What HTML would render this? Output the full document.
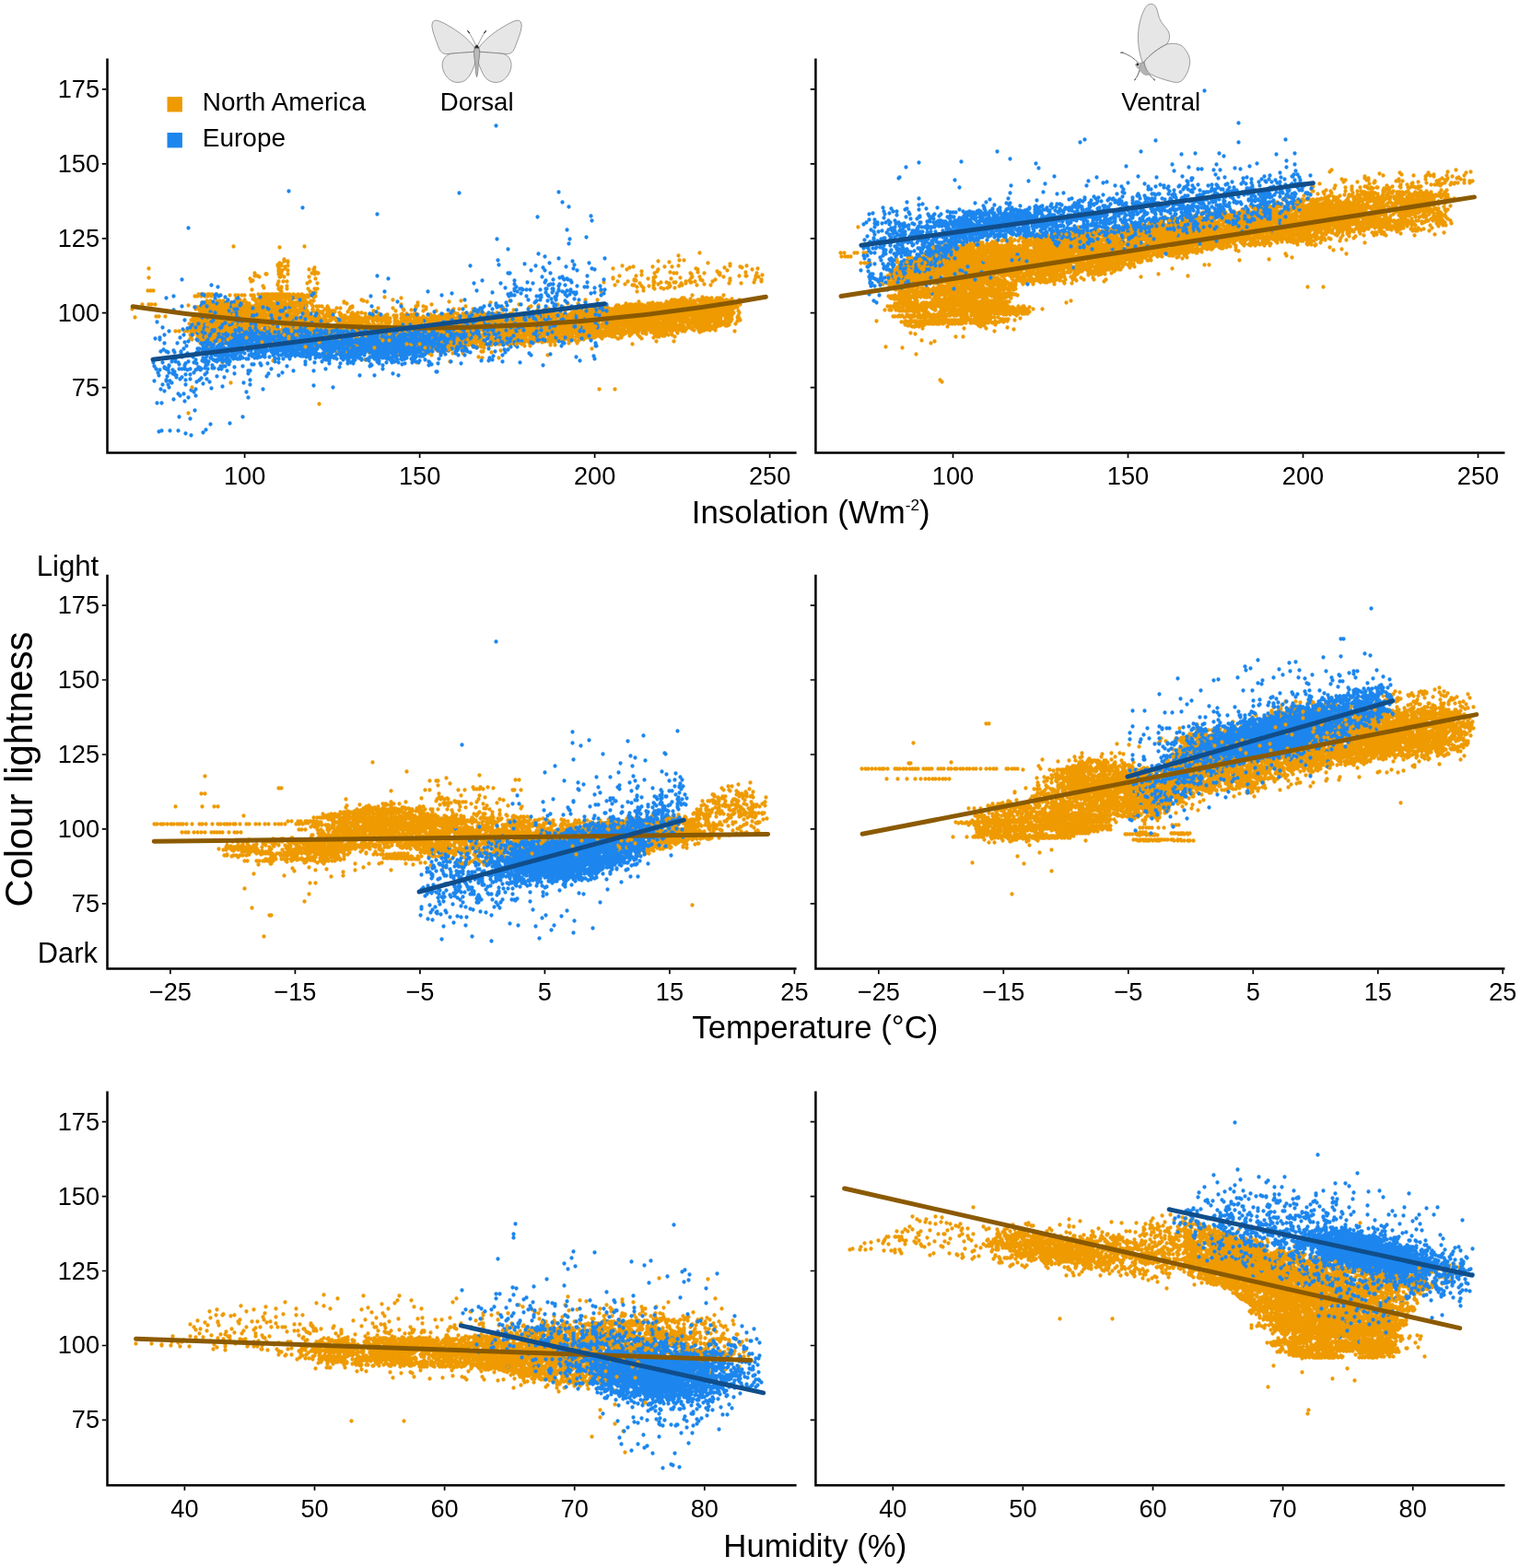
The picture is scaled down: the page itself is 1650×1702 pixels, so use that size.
<!DOCTYPE html>
<html lang="en"><head><meta charset="utf-8"><title>Colour lightness figure</title>
<style>html,body{margin:0;padding:0;background:#fff}svg{display:block}text{font-family:"Liberation Sans",Arial,Helvetica,sans-serif;fill:#000}</style></head>
<body>
<svg width="1650" height="1702" viewBox="0 0 1650 1702">
<rect width="1650" height="1702" fill="#fff"/>
<g fill="none" stroke-width="4.3" stroke-linecap="round" transform="translate(0.5 0.5)"><path d="M143 335h0m3 9h0m8-14h0m6-15h0m1-24h0m0 10h0m0 29h0m2-15h0m1 15h0m2-15h0m2 15h0m1 13h0m3 0h0m7 0h0m11 16h0m4 0h0m6 0h0m3 0h0m1-28h0m0 117h0m1-97h0m1 5h0m0 7h0m0 4h0m1-20h0m0 11h0m0 3h0m0 5h0m0 1h0m1-14h0m0 2h0m0 2h0m0 11h0m1-26h0m0 3h0m0 15h0m0 3h0m1-14h0m0 11h0m0 1h0m1-40h0m0 12h0m0 8h0m0 4h0m0 4h0m0 6h0m0 2h0m0 1h0m0 2h0m1-25h0m0 11h0m0 5h0m0 2h0m0 1h0m0 1h0m1-22h0m0 17h0m0 3h0m0 2h0m0 1h0m1-35h0m0 12h0m0 8h0m0 5h0m0 6h0m0 3h0m0 1h0m0 3h0m0 3h0m0 2h0m1-45h0m0 15h0m0 9h0m0 7h0m0 2h0m1-19h0m0 3h0m0 16h0m0 6h0m0 9h0m0 2h0m1-36h0m0 3h0m0 2h0m0 8h0m0 1h0m0 1h0m0 6h0m0 2h0m0 1h0m0 6h0m0 9h0m1-53h0m0 2h0m0 12h0m0 4h0m0 12h0m0 4h0m0 2h0m0 4h0m0 24h0m1-55h0m0 7h0m0 6h0m0 3h0m0 7h0m0 2h0m0 1h0m0 3h0m0 4h0m0 2h0m0 4h0m0 1h0m0 5h0m1-44h0m0 7h0m0 4h0m0 7h0m0 6h0m0 5h0m0 10h0m1-49h0m0 15h0m0 10h0m0 2h0m0 2h0m0 5h0m0 1h0m0 5h0m0 4h0m0 2h0m1-44h0m0 7h0m0 5h0m0 1h0m0 1h0m0 1h0m0 2h0m0 4h0m0 1h0m0 5h0m0 7h0m0 4h0m0 5h0m0 2h0m0 5h0m1-41h0m0 2h0m0 1h0m0 3h0m0 7h0m0 9h0m0 1h0m0 3h0m0 4h0m0 7h0m0 10h0m1-51h0m0 6h0m0 5h0m0 4h0m0 7h0m0 5h0m0 2h0m0 1h0m0 2h0m0 6h0m0 5h0m1-50h0m0 2h0m0 7h0m0 8h0m0 2h0m0 6h0m0 1h0m0 5h0m0 2h0m0 7h0m0 1h0m0 3h0m0 1h0m0 2h0m0 2h0m1-38h0m0 1h0m0 1h0m0 1h0m0 1h0m0 1h0m0 3h0m0 1h0m0 2h0m0 1h0m0 1h0m0 7h0m0 4h0m0 3h0m0 1h0m0 4h0m0 6h0m0 9h0m1-58h0m0 11h0m0 3h0m0 1h0m0 1h0m0 2h0m0 2h0m0 2h0m0 10h0m0 1h0m0 11h0m0 1h0m0 5h0m1-43h0m0 2h0m0 6h0m0 7h0m0 1h0m0 1h0m0 3h0m0 2h0m0 2h0m0 7h0m0 5h0m0 8h0m1-49h0m0 8h0m0 1h0m0 1h0m0 3h0m0 1h0m0 4h0m0 3h0m0 3h0m0 2h0m0 9h0m0 2h0m0 1h0m0 2h0m0 3h0m0 1h0m0 1h0m0 1h0m1-48h0m0 11h0m0 2h0m0 1h0m0 3h0m0 1h0m0 1h0m0 1h0m0 1h0m0 3h0m0 1h0m0 1h0m0 1h0m0 2h0m0 11h0m0 1h0m0 1h0m1-32h0m0 1h0m0 8h0m0 1h0m0 1h0m0 6h0m0 6h0m0 2h0m0 3h0m0 1h0m0 1h0m0 1h0m0 3h0m0 1h0m0 1h0m0 4h0m1-38h0m0 1h0m0 1h0m0 3h0m0 2h0m0 7h0m0 3h0m0 2h0m0 3h0m0 1h0m0 2h0m0 2h0m0 5h0m0 2h0m0 3h0m0 2h0m0 3h0m1-43h0m0 4h0m0 3h0m0 1h0m0 1h0m0 9h0m0 1h0m0 2h0m0 4h0m0 3h0m0 4h0m0 1h0m1-33h0m0 9h0m0 7h0m0 3h0m0 1h0m0 5h0m0 5h0m0 1h0m0 5h0m0 1h0m0 3h0m1-51h0m0 7h0m0 4h0m0 1h0m0 2h0m0 2h0m0 2h0m0 4h0m0 1h0m0 2h0m0 1h0m0 2h0m0 1h0m0 4h0m0 4h0m0 1h0m0 2h0m0 2h0m0 1h0m0 2h0m0 1h0m0 2h0m0 1h0m1-38h0m0 1h0m0 1h0m0 4h0m0 1h0m0 7h0m0 5h0m0 2h0m0 3h0m0 1h0m0 1h0m0 1h0m0 2h0m0 1h0m0 2h0m0 4h0m0 1h0m0 1h0m1-38h0m0 2h0m0 7h0m0 1h0m0 2h0m0 3h0m0 6h0m0 2h0m0 9h0m0 3h0m0 2h0m1-41h0m0 2h0m0 2h0m0 2h0m0 3h0m0 10h0m0 5h0m0 1h0m0 2h0m0 6h0m0 5h0m0 6h0m1-40h0m0 3h0m0 3h0m0 8h0m0 3h0m0 3h0m0 1h0m0 6h0m0 6h0m0 7h0m0 2h0m1-42h0m0 6h0m0 3h0m0 1h0m0 4h0m0 5h0m0 5h0m0 2h0m0 1h0m0 2h0m0 2h0m0 4h0m0 1h0m0 5h0m1-42h0m0 1h0m0 1h0m0 1h0m0 1h0m0 1h0m0 4h0m0 2h0m0 2h0m0 3h0m0 8h0m0 2h0m0 7h0m0 2h0m0 1h0m0 1h0m0 4h0m0 23h0m1-67h0m0 4h0m0 2h0m0 1h0m0 3h0m0 2h0m0 2h0m0 4h0m0 4h0m0 3h0m0 3h0m0 2h0m0 4h0m0 5h0m0 3h0m0 4h0m0 1h0m1-45h0m0 2h0m0 3h0m0 1h0m0 1h0m0 1h0m0 9h0m0 1h0m0 1h0m0 1h0m0 1h0m0 7h0m0 3h0m0 1h0m0 3h0m0 1h0m0 2h0m1-37h0m0 1h0m0 2h0m0 2h0m0 1h0m0 2h0m0 3h0m0 9h0m0 1h0m0 1h0m0 6h0m0 7h0m0 2h0m0 4h0m0 1h0m1-41h0m0 1h0m0 1h0m0 2h0m0 5h0m0 5h0m0 2h0m0 1h0m0 3h0m0 17h0m0 1h0m0 3h0m1-42h0m0 1h0m0 1h0m0 2h0m0 1h0m0 2h0m0 3h0m0 3h0m0 2h0m0 4h0m0 5h0m0 1h0m0 2h0m0 1h0m0 1h0m0 4h0m0 2h0m0 6h0m1-41h0m0 1h0m0 1h0m0 1h0m0 1h0m0 1h0m0 3h0m0 2h0m0 3h0m0 2h0m0 3h0m0 1h0m0 1h0m0 4h0m0 1h0m0 1h0m0 8h0m0 4h0m0 1h0m0 3h0m1-41h0m0 2h0m0 1h0m0 1h0m0 1h0m0 4h0m0 3h0m0 12h0m0 4h0m0 2h0m0 8h0m0 1h0m1-49h0m0 9h0m0 1h0m0 1h0m0 1h0m0 1h0m0 2h0m0 1h0m0 5h0m0 4h0m0 3h0m0 7h0m0 8h0m1-35h0m0 3h0m0 3h0m0 1h0m0 2h0m0 1h0m0 2h0m0 4h0m0 2h0m0 1h0m0 1h0m0 1h0m0 2h0m0 7h0m0 9h0m0 2h0m0 1h0m0 45h0m1-87h0m0 1h0m0 2h0m0 1h0m0 2h0m0 6h0m0 17h0m0 2h0m0 4h0m0 1h0m0 2h0m0 3h0m0 4h0m0 2h0m1-45h0m0 1h0m0 1h0m0 1h0m0 2h0m0 7h0m0 5h0m0 2h0m0 10h0m0 2h0m0 1h0m0 3h0m0 9h0m1-107h0m0 64h0m0 2h0m0 1h0m0 14h0m0 1h0m0 4h0m0 1h0m0 5h0m0 5h0m0 1h0m0 2h0m0 2h0m0 9h0m1-49h0m0 1h0m0 1h0m0 3h0m0 1h0m0 1h0m0 2h0m0 1h0m0 4h0m0 7h0m0 6h0m0 1h0m0 3h0m0 1h0m0 2h0m0 2h0m0 7h0m1-52h0m0 12h0m0 1h0m0 3h0m0 9h0m0 3h0m0 8h0m0 2h0m0 5h0m0 1h0m0 5h0m0 1h0m0 2h0m0 1h0m1-50h0m0 5h0m0 3h0m0 3h0m0 1h0m0 1h0m0 2h0m0 2h0m0 3h0m0 1h0m0 5h0m0 1h0m0 6h0m0 4h0m0 3h0m0 4h0m0 1h0m0 1h0m0 3h0m0 5h0m1-50h0m0 1h0m0 1h0m0 4h0m0 2h0m0 4h0m0 1h0m0 3h0m0 2h0m0 10h0m0 11h0m0 3h0m1-49h0m0 9h0m0 4h0m0 2h0m0 7h0m0 4h0m0 4h0m0 1h0m0 2h0m0 1h0m0 1h0m0 3h0m0 7h0m0 1h0m0 9h0m1-44h0m0 3h0m0 2h0m0 1h0m0 4h0m0 4h0m0 2h0m0 1h0m0 1h0m0 2h0m0 3h0m0 3h0m0 9h0m0 1h0m1-42h0m0 3h0m0 2h0m0 3h0m0 2h0m0 10h0m0 2h0m0 1h0m0 2h0m0 1h0m0 3h0m0 1h0m0 1h0m0 2h0m0 1h0m0 3h0m0 1h0m0 1h0m0 9h0m1-43h0m0 4h0m0 1h0m0 1h0m0 5h0m0 1h0m0 1h0m0 2h0m0 1h0m0 4h0m0 1h0m0 2h0m0 5h0m0 4h0m0 3h0m1-45h0m0 10h0m0 4h0m0 1h0m0 1h0m0 2h0m0 6h0m0 3h0m0 4h0m0 6h0m0 10h0m0 2h0m0 3h0m0 1h0m1-45h0m0 3h0m0 2h0m0 1h0m0 1h0m0 3h0m0 1h0m0 1h0m0 3h0m0 2h0m0 1h0m0 10h0m0 1h0m0 1h0m0 5h0m0 1h0m1-37h0m0 8h0m0 1h0m0 16h0m0 2h0m0 3h0m0 1h0m0 6h0m0 1h0m1-45h0m0 5h0m0 8h0m0 1h0m0 1h0m0 1h0m0 6h0m0 3h0m0 5h0m0 2h0m0 1h0m0 3h0m0 2h0m0 2h0m0 1h0m0 6h0m1-35h0m0 1h0m0 8h0m0 4h0m0 1h0m0 7h0m0 1h0m0 2h0m0 1h0m0 1h0m0 1h0m0 1h0m0 1h0m0 9h0m0 1h0m0 2h0m1-45h0m0 2h0m0 4h0m0 4h0m0 11h0m0 2h0m0 1h0m0 1h0m0 2h0m0 3h0m0 2h0m0 11h0m0 2h0m1-43h0m0 2h0m0 5h0m0 4h0m0 1h0m0 5h0m0 6h0m0 6h0m0 3h0m0 1h0m0 2h0m0 6h0m1-38h0m0 2h0m0 1h0m0 2h0m0 2h0m0 3h0m0 3h0m0 3h0m0 1h0m0 4h0m0 1h0m0 1h0m0 5h0m0 2h0m0 2h0m0 5h0m0 1h0m0 8h0m1-50h0m0 2h0m0 2h0m0 2h0m0 4h0m0 1h0m0 12h0m0 1h0m0 1h0m0 2h0m0 2h0m0 1h0m0 12h0m0 3h0m1-72h0m0 30h0m0 3h0m0 2h0m0 3h0m0 1h0m0 6h0m0 1h0m0 1h0m0 1h0m0 2h0m0 1h0m0 6h0m0 11h0m1-65h0m0 15h0m0 12h0m0 1h0m0 1h0m0 3h0m0 3h0m0 1h0m0 3h0m0 3h0m0 2h0m0 6h0m0 2h0m0 3h0m0 3h0m0 1h0m0 5h0m0 1h0m0 6h0m1-62h0m0 19h0m0 5h0m0 2h0m0 11h0m0 1h0m0 2h0m0 2h0m0 2h0m0 1h0m0 1h0m0 1h0m1-57h0m0 20h0m0 10h0m0 1h0m0 11h0m0 2h0m0 2h0m0 2h0m0 2h0m0 3h0m0 1h0m0 1h0m0 1h0m0 4h0m1-43h0m0 1h0m0 10h0m0 1h0m0 2h0m0 1h0m0 1h0m0 2h0m0 6h0m0 7h0m0 7h0m0 3h0m0 6h0m1-72h0m0 3h0m0 25h0m0 11h0m0 1h0m0 2h0m0 3h0m0 1h0m0 9h0m0 2h0m0 1h0m0 2h0m0 1h0m0 9h0m0 1h0m1-41h0m0 5h0m0 2h0m0 6h0m0 7h0m0 4h0m0 5h0m0 2h0m0 3h0m0 2h0m1-33h0m0 4h0m0 2h0m0 7h0m0 1h0m0 4h0m0 6h0m0 5h0m0 4h0m0 2h0m0 5h0m0 4h0m0 1h0m1-75h0m0 26h0m0 12h0m0 1h0m0 3h0m0 3h0m0 3h0m0 1h0m0 4h0m0 2h0m0 1h0m0 1h0m0 1h0m0 2h0m0 1h0m0 5h0m0 6h0m0 1h0m0 2h0m0 8h0m1-63h0m0 5h0m0 6h0m0 1h0m0 4h0m0 1h0m0 2h0m0 2h0m0 1h0m0 1h0m0 4h0m0 4h0m0 3h0m0 4h0m0 1h0m0 5h0m0 5h0m0 4h0m0 3h0m1-75h0m0 29h0m0 2h0m0 2h0m0 4h0m0 1h0m0 12h0m0 7h0m0 10h0m0 1h0m0 4h0m0 3h0m1-50h0m0 4h0m0 2h0m0 7h0m0 5h0m0 1h0m0 2h0m0 2h0m0 1h0m0 5h0m0 5h0m0 2h0m0 9h0m0 2h0m1-46h0m0 5h0m0 8h0m0 6h0m0 1h0m0 2h0m0 3h0m0 2h0m0 7h0m0 1h0m0 1h0m0 3h0m0 9h0m1-55h0m0 5h0m0 3h0m0 8h0m0 1h0m0 4h0m0 8h0m0 3h0m0 8h0m0 1h0m0 3h0m0 8h0m0 1h0m0 1h0m1-63h0m0 13h0m0 3h0m0 1h0m0 6h0m0 4h0m0 4h0m0 1h0m0 4h0m0 2h0m0 1h0m0 3h0m0 6h0m0 8h0m0 6h0m0 3h0m1-63h0m0 8h0m0 1h0m0 3h0m0 2h0m0 4h0m0 1h0m0 3h0m0 1h0m0 1h0m0 1h0m0 1h0m0 13h0m0 1h0m0 1h0m0 8h0m0 13h0m1-55h0m0 12h0m0 1h0m0 2h0m0 4h0m0 1h0m0 2h0m0 2h0m0 3h0m0 1h0m0 2h0m0 1h0m0 2h0m0 4h0m0 4h0m0 7h0m1-70h0m0 22h0m0 4h0m0 1h0m0 2h0m0 4h0m0 4h0m0 8h0m0 3h0m0 1h0m0 4h0m0 1h0m0 2h0m0 13h0m0 3h0m0 2h0m0 1h0m0 1h0m0 1h0m1-52h0m0 4h0m0 3h0m0 7h0m0 5h0m0 1h0m0 5h0m0 6h0m0 5h0m0 3h0m0 6h0m0 1h0m0 5h0m0 2h0m1-56h0m0 2h0m0 8h0m0 2h0m0 1h0m0 1h0m0 1h0m0 18h0m0 1h0m0 16h0m0 3h0m0 1h0m0 1h0m1-55h0m0 5h0m0 2h0m0 4h0m0 2h0m0 9h0m0 1h0m0 5h0m0 4h0m0 1h0m0 4h0m0 3h0m0 3h0m0 8h0m0 4h0m0 1h0m1-52h0m0 3h0m0 4h0m0 4h0m0 1h0m0 3h0m0 23h0m0 4h0m1-38h0m0 4h0m0 2h0m0 2h0m0 2h0m0 4h0m0 2h0m0 1h0m0 1h0m0 16h0m0 2h0m0 8h0m1-52h0m0 5h0m0 2h0m0 2h0m0 2h0m0 2h0m0 2h0m0 11h0m0 5h0m0 6h0m0 3h0m0 1h0m0 4h0m0 8h0m0 1h0m1-54h0m0 3h0m0 1h0m0 1h0m0 9h0m0 2h0m0 7h0m0 3h0m0 1h0m0 1h0m0 1h0m0 3h0m0 1h0m0 2h0m0 11h0m0 6h0m0 1h0m0 1h0m0 2h0m1-44h0m0 8h0m0 2h0m0 4h0m0 1h0m0 2h0m0 1h0m0 3h0m0 3h0m0 1h0m0 7h0m0 1h0m0 2h0m0 7h0m0 18h0m1-72h0m0 10h0m0 2h0m0 12h0m0 8h0m0 5h0m0 5h0m0 2h0m0 1h0m0 12h0m1-57h0m0 5h0m0 10h0m0 1h0m0 3h0m0 6h0m0 1h0m0 8h0m0 1h0m0 1h0m0 5h0m0 2h0m0 11h0m0 1h0m1-52h0m0 1h0m0 1h0m0 7h0m0 2h0m0 7h0m0 3h0m0 4h0m0 6h0m0 1h0m0 2h0m1-37h0m0 7h0m0 10h0m0 3h0m0 2h0m0 3h0m0 1h0m0 2h0m0 2h0m0 13h0m0 4h0m0 3h0m0 4h0m1-86h0m0 1h0m0 20h0m0 1h0m0 14h0m0 1h0m0 1h0m0 8h0m0 1h0m0 2h0m0 2h0m0 10h0m0 2h0m0 8h0m0 2h0m0 1h0m0 10h0m0 1h0m0 1h0m0 1h0m1-83h0m0 2h0m0 1h0m0 3h0m0 16h0m0 6h0m0 10h0m0 1h0m0 1h0m0 1h0m0 1h0m0 6h0m0 3h0m0 2h0m0 1h0m0 6h0m0 6h0m0 1h0m0 21h0m1-111h0m0 17h0m0 3h0m0 5h0m0 7h0m0 14h0m0 5h0m0 3h0m0 4h0m0 1h0m0 2h0m0 1h0m0 5h0m0 6h0m0 2h0m0 1h0m0 4h0m0 10h0m0 1h0m0 6h0m0 1h0m0 7h0m0 1h0m1-51h0m0 6h0m0 4h0m0 1h0m0 28h0m0 2h0m0 11h0m1-89h0m0 2h0m0 5h0m0 3h0m0 2h0m0 13h0m0 1h0m0 4h0m0 3h0m0 7h0m0 1h0m0 4h0m0 4h0m0 5h0m0 5h0m0 1h0m0 1h0m0 14h0m0 7h0m0 8h0m1-83h0m0 29h0m0 5h0m0 2h0m0 1h0m0 4h0m0 1h0m0 4h0m0 3h0m0 6h0m0 2h0m0 1h0m0 2h0m0 4h0m0 1h0m0 15h0m1-68h0m0 23h0m0 8h0m0 4h0m0 9h0m0 2h0m0 8h0m0 2h0m0 1h0m0 1h0m0 8h0m0 7h0m1-97h0m0 1h0m0 1h0m0 17h0m0 19h0m0 3h0m0 7h0m0 4h0m0 1h0m0 2h0m0 3h0m0 3h0m0 2h0m0 1h0m0 1h0m0 2h0m0 4h0m0 1h0m0 15h0m0 3h0m0 7h0m0 2h0m1-91h0m0 2h0m0 32h0m0 1h0m0 3h0m0 3h0m0 3h0m0 8h0m0 2h0m0 5h0m0 3h0m0 1h0m0 1h0m0 10h0m0 3h0m0 7h0m0 1h0m1-52h0m0 10h0m0 8h0m0 2h0m0 1h0m0 9h0m0 1h0m0 1h0m0 7h0m0 1h0m0 6h0m0 1h0m0 1h0m0 8h0m1-73h0m0 5h0m0 3h0m0 6h0m0 11h0m0 2h0m0 2h0m0 10h0m0 1h0m0 1h0m0 1h0m0 4h0m0 1h0m0 1h0m0 2h0m0 2h0m0 1h0m0 1h0m0 2h0m0 16h0m1-94h0m0 1h0m0 4h0m0 5h0m0 4h0m0 26h0m0 10h0m0 1h0m0 1h0m0 4h0m0 7h0m0 2h0m0 4h0m0 1h0m0 3h0m0 2h0m0 2h0m0 5h0m0 5h0m0 2h0m0 6h0m1-58h0m0 1h0m0 1h0m0 3h0m0 5h0m0 1h0m0 1h0m0 2h0m0 1h0m0 4h0m0 2h0m0 1h0m0 6h0m0 7h0m0 1h0m0 1h0m0 14h0m0 3h0m0 1h0m0 1h0m1-57h0m0 7h0m0 2h0m0 1h0m0 2h0m0 2h0m0 6h0m0 2h0m0 1h0m0 2h0m0 1h0m0 2h0m0 1h0m0 2h0m0 2h0m0 2h0m0 1h0m0 2h0m0 4h0m0 1h0m1-42h0m0 2h0m0 6h0m0 2h0m0 1h0m0 2h0m0 3h0m0 2h0m0 6h0m0 2h0m0 1h0m0 5h0m0 5h0m0 11h0m0 7h0m1-48h0m0 2h0m0 3h0m0 2h0m0 1h0m0 9h0m0 4h0m0 2h0m0 2h0m0 2h0m0 1h0m0 1h0m0 1h0m0 3h0m0 7h0m0 7h0m1-54h0m0 2h0m0 7h0m0 6h0m0 1h0m0 1h0m0 5h0m0 9h0m0 2h0m0 2h0m0 1h0m0 2h0m0 2h0m0 2h0m0 1h0m0 2h0m0 2h0m0 1h0m1-49h0m0 3h0m0 1h0m0 6h0m0 1h0m0 2h0m0 1h0m0 1h0m0 1h0m0 8h0m0 2h0m0 1h0m0 1h0m0 5h0m0 2h0m0 1h0m0 2h0m0 4h0m0 3h0m0 4h0m0 1h0m0 4h0m1-45h0m0 1h0m0 4h0m0 1h0m0 3h0m0 1h0m0 2h0m0 2h0m0 3h0m0 5h0m0 1h0m0 3h0m0 1h0m0 7h0m0 10h0m0 1h0m0 2h0m1-55h0m0 9h0m0 3h0m0 1h0m0 1h0m0 1h0m0 4h0m0 6h0m0 4h0m0 3h0m0 2h0m0 5h0m0 1h0m0 6h0m0 11h0m1-54h0m0 6h0m0 11h0m0 1h0m0 5h0m0 4h0m0 8h0m0 12h0m0 8h0m0 6h0m1-64h0m0 2h0m0 6h0m0 1h0m0 7h0m0 1h0m0 2h0m0 5h0m0 1h0m0 1h0m0 3h0m0 2h0m0 4h0m0 5h0m0 2h0m0 2h0m0 8h0m0 2h0m1-55h0m0 1h0m0 9h0m0 2h0m0 9h0m0 6h0m0 2h0m1-26h0m0 6h0m0 8h0m0 2h0m0 12h0m0 4h0m0 8h0m0 10h0m0 5h0m0 1h0m1-56h0m0 4h0m0 2h0m0 1h0m0 2h0m0 1h0m0 5h0m0 8h0m0 2h0m0 3h0m0 1h0m0 2h0m0 4h0m0 4h0m0 1h0m0 1h0m0 5h0m0 1h0m0 6h0m0 3h0m1-58h0m0 8h0m0 2h0m0 2h0m0 5h0m0 9h0m0 5h0m0 4h0m0 5h0m0 2h0m0 1h0m0 3h0m0 2h0m0 4h0m0 5h0m1-58h0m0 3h0m0 8h0m0 4h0m0 2h0m0 2h0m0 10h0m0 6h0m0 2h0m0 1h0m0 3h0m0 8h0m1-46h0m0 4h0m0 5h0m0 5h0m0 8h0m0 2h0m0 2h0m0 6h0m0 6h0m0 1h0m0 5h0m0 5h0m0 1h0m1-52h0m0 2h0m0 6h0m0 4h0m0 12h0m0 2h0m0 5h0m0 7h0m0 2h0m0 9h0m0 2h0m0 4h0m0 9h0m1-117h0m0 61h0m0 1h0m0 1h0m0 4h0m0 4h0m0 1h0m0 3h0m0 4h0m0 1h0m0 4h0m0 1h0m0 4h0m0 1h0m0 1h0m0 4h0m0 5h0m0 1h0m0 2h0m0 1h0m0 3h0m0 6h0m1-58h0m0 4h0m0 2h0m0 11h0m0 6h0m0 6h0m0 2h0m0 2h0m0 5h0m0 3h0m0 3h0m0 9h0m0 1h0m1-46h0m0 12h0m0 2h0m0 7h0m0 1h0m0 2h0m0 6h0m0 5h0m0 1h0m0 4h0m0 7h0m0 1h0m1-71h0m0 13h0m0 8h0m0 9h0m0 6h0m0 6h0m0 6h0m0 6h0m0 2h0m0 1h0m0 4h0m0 3h0m0 1h0m0 14h0m1-73h0m0 9h0m0 20h0m0 8h0m0 6h0m0 1h0m0 3h0m0 1h0m0 2h0m0 1h0m0 2h0m0 1h0m0 4h0m0 1h0m0 2h0m0 1h0m1-83h0m0 8h0m0 44h0m0 1h0m0 5h0m0 1h0m0 3h0m0 2h0m0 3h0m0 5h0m0 7h0m0 2h0m1-68h0m0 11h0m0 4h0m0 8h0m0 23h0m0 1h0m0 1h0m0 2h0m0 1h0m0 5h0m0 4h0m0 6h0m0 2h0m0 6h0m1-59h0m0 6h0m0 18h0m0 4h0m0 1h0m0 7h0m0 1h0m0 7h0m0 5h0m0 3h0m1-76h0m0 21h0m0 13h0m0 13h0m0 1h0m0 10h0m0 3h0m0 8h0m0 1h0m0 1h0m0 9h0m1-44h0m0 4h0m0 1h0m0 9h0m0 2h0m0 3h0m0 2h0m0 1h0m0 4h0m0 4h0m0 1h0m0 3h0m0 1h0m0 6h0m0 1h0m0 3h0m1-85h0m0 30h0m0 4h0m0 19h0m0 3h0m0 1h0m0 1h0m0 9h0m0 2h0m0 4h0m1-75h0m0 4h0m0 3h0m0 16h0m0 30h0m0 5h0m0 1h0m0 7h0m0 6h0m0 8h0m0 1h0m0 3h0m0 3h0m1-82h0m0 7h0m0 15h0m0 4h0m0 18h0m0 6h0m0 1h0m0 3h0m0 1h0m0 1h0m0 6h0m0 1h0m0 4h0m0 3h0m0 8h0m0 6h0m1-47h0m0 12h0m0 5h0m0 1h0m0 3h0m0 6h0m0 1h0m0 1h0m0 3h0m0 4h0m0 9h0m0 2h0m1-83h0m0 11h0m0 6h0m0 23h0m0 2h0m0 2h0m0 6h0m0 7h0m0 8h0m0 1h0m0 3h0m0 3h0m0 2h0m0 6h0m1-80h0m0 41h0m0 4h0m0 8h0m0 4h0m0 4h0m0 1h0m0 1h0m0 2h0m0 2h0m0 10h0m0 3h0m1-44h0m0 7h0m0 4h0m0 6h0m0 6h0m0 8h0m0 1h0m0 2h0m0 2h0m0 6h0m0 64h0m1-93h0m0 4h0m0 1h0m0 3h0m0 1h0m0 6h0m0 4h0m0 2h0m0 1h0m0 1h0m0 2h0m0 2h0m0 1h0m1-35h0m0 8h0m0 3h0m0 7h0m0 6h0m0 1h0m0 3h0m1-34h0m0 7h0m0 7h0m0 4h0m0 3h0m0 8h0m0 3h0m0 1h0m0 5h0m0 6h0m1-38h0m0 15h0m0 2h0m0 7h0m0 1h0m0 2h0m0 5h0m0 1h0m1-29h0m0 6h0m0 1h0m0 2h0m0 4h0m0 5h0m0 4h0m0 9h0m0 1h0m0 2h0m1-41h0m0 8h0m0 3h0m0 4h0m0 1h0m0 3h0m0 3h0m0 7h0m0 2h0m1-21h0m0 5h0m0 11h0m0 3h0m0 8h0m0 2h0m1-33h0m0 7h0m0 1h0m0 2h0m0 1h0m0 2h0m0 1h0m0 7h0m0 1h0m0 1h0m0 1h0m0 6h0m0 1h0m0 2h0m0 8h0m1-50h0m0 3h0m0 3h0m0 4h0m0 6h0m0 1h0m0 1h0m0 1h0m0 4h0m0 1h0m0 15h0m0 4h0m1-41h0m0 23h0m0 6h0m0 2h0m0 1h0m0 6h0m0 4h0m1-36h0m0 3h0m0 5h0m0 10h0m0 3h0m0 1h0m0 14h0m0 4h0m1-43h0m0 5h0m0 4h0m0 12h0m0 3h0m0 1h0m0 3h0m0 2h0m0 1h0m0 4h0m0 1h0m0 3h0m1-34h0m0 3h0m0 1h0m0 1h0m0 6h0m0 1h0m0 2h0m0 3h0m0 9h0m1-31h0m0 2h0m0 19h0m0 4h0m0 7h0m0 3h0m0 6h0m1-34h0m0 1h0m0 9h0m0 6h0m0 2h0m0 1h0m0 1h0m0 14h0m1-41h0m0 1h0m0 6h0m0 10h0m0 2h0m0 1h0m0 1h0m0 3h0m0 2h0m0 1h0m1-26h0m0 19h0m0 2h0m0 5h0m0 1h0m0 1h0m0 7h0m0 1h0m0 2h0m1-31h0m0 16h0m0 1h0m0 2h0m0 5h0m0 5h0m1-40h0m0 14h0m0 6h0m0 3h0m0 1h0m0 2h0m0 16h0m1-24h0m0 4h0m0 2h0m0 3h0m0 5h0m0 2h0m0 7h0m0 7h0m1-31h0m0 7h0m0 7h0m0 5h0m0 2h0m0 4h0m1-37h0m0 14h0m0 20h0m1-39h0m0 6h0m0 1h0m0 6h0m0 5h0m0 2h0m0 23h0m1-36h0m0 3h0m0 2h0m0 9h0m0 2h0m0 2h0m0 2h0m0 1h0m0 3h0m0 2h0m0 2h0m0 4h0m1-25h0m0 2h0m0 4h0m0 10h0m1-19h0m0 7h0m0 10h0m0 4h0m0 4h0m0 2h0m0 4h0m1-49h0m0 1h0m0 21h0m0 13h0m0 1h0m0 3h0m0 6h0m0 1h0m1-31h0m0 6h0m0 3h0m0 8h0m1-15h0m0 1h0m0 7h0m0 7h0m0 2h0m0 4h0m0 1h0m0 3h0m0 2h0m0 1h0m0 4h0m0 2h0m0 4h0m1-53h0m0 15h0m0 6h0m0 1h0m0 6h0m0 2h0m0 1h0m0 12h0m0 5h0m1-39h0m0 13h0m0 1h0m0 1h0m0 16h0m0 3h0m0 1h0m1-28h0m0 1h0m0 4h0m0 2h0m0 19h0m1-36h0m0 9h0m0 1h0m0 2h0m0 1h0m0 1h0m0 2h0m0 1h0m0 8h0m0 12h0m0 1h0m0 3h0m1-43h0m0 13h0m0 7h0m0 3h0m0 1h0m0 3h0m0 11h0m0 2h0m0 2h0m0 1h0m0 1h0m1-37h0m0 1h0m0 3h0m0 5h0m0 1h0m0 7h0m0 4h0m0 3h0m0 7h0m0 1h0m0 6h0m0 1h0m0 4h0m1-51h0m0 1h0m0 6h0m0 5h0m0 2h0m0 8h0m0 8h0m0 4h0m0 1h0m0 6h0m0 4h0m1-36h0m0 7h0m0 1h0m0 8h0m0 13h0m0 1h0m0 1h0m0 2h0m0 2h0m1-30h0m0 6h0m0 3h0m0 6h0m0 11h0m1-31h0m0 2h0m0 1h0m0 3h0m0 3h0m0 4h0m0 1h0m0 2h0m1-13h0m0 2h0m0 6h0m0 10h0m0 1h0m0 5h0m0 2h0m0 3h0m0 5h0m1-38h0m0 4h0m0 2h0m0 5h0m0 7h0m0 2h0m0 6h0m0 6h0m0 2h0m0 5h0m1-40h0m0 5h0m0 1h0m0 1h0m0 21h0m0 9h0m0 4h0m1-37h0m0 5h0m0 3h0m0 2h0m0 1h0m0 6h0m1-15h0m0 5h0m0 3h0m0 2h0m0 1h0m0 2h0m0 1h0m0 10h0m1-19h0m0 11h0m0 10h0m1-46h0m0 14h0m0 6h0m0 2h0m0 4h0m0 3h0m0 10h0m0 5h0m0 21h0m1-43h0m0 11h0m0 7h0m0 11h0m1-50h0m0 23h0m0 7h0m0 2h0m0 3h0m0 1h0m0 3h0m0 1h0m0 3h0m0 2h0m0 3h0m1-29h0m0 1h0m0 1h0m0 10h0m0 7h0m0 3h0m0 4h0m0 2h0m0 1h0m0 1h0m0 3h0m1-38h0m0 4h0m0 1h0m0 1h0m0 1h0m0 6h0m0 13h0m0 4h0m0 3h0m0 5h0m0 12h0m1-44h0m0 3h0m0 6h0m0 1h0m0 3h0m0 10h0m0 3h0m0 5h0m1-50h0m0 17h0m0 4h0m0 1h0m0 1h0m0 10h0m0 1h0m0 8h0m0 11h0m1-34h0m0 2h0m0 8h0m0 9h0m0 2h0m1-22h0m0 6h0m0 4h0m0 1h0m0 2h0m0 9h0m0 9h0m0 6h0m1-41h0m0 3h0m0 8h0m0 1h0m0 1h0m0 1h0m0 5h0m0 10h0m0 1h0m1-16h0m0 1h0m0 1h0m0 5h0m0 3h0m0 7h0m0 2h0m0 5h0m1-34h0m0 9h0m0 13h0m0 8h0m1-35h0m0 1h0m0 7h0m0 9h0m0 2h0m0 1h0m0 3h0m0 5h0m1-31h0m0 5h0m0 5h0m0 6h0m0 1h0m0 1h0m0 2h0m0 4h0m0 6h0m1-24h0m0 11h0m0 2h0m0 4h0m0 1h0m0 1h0m0 5h0m0 1h0m0 1h0m0 3h0m0 4h0m0 3h0m1-26h0m0 1h0m0 4h0m0 1h0m0 1h0m0 1h0m0 8h0m0 4h0m0 4h0m1-30h0m0 8h0m0 2h0m0 11h0m0 1h0m0 5h0m0 2h0m0 2h0m1-35h0m0 1h0m0 4h0m0 5h0m0 5h0m0 4h0m0 1h0m0 1h0m0 2h0m0 5h0m0 3h0m0 1h0m0 5h0m1-46h0m0 12h0m0 8h0m0 4h0m0 1h0m0 4h0m0 9h0m1-32h0m0 1h0m0 5h0m0 1h0m0 5h0m0 3h0m0 3h0m0 11h0m0 1h0m0 6h0m0 4h0m0 9h0m1-45h0m0 2h0m0 7h0m0 2h0m0 1h0m0 4h0m0 8h0m0 2h0m0 2h0m1-18h0m0 1h0m0 1h0m0 3h0m0 4h0m0 2h0m0 1h0m0 1h0m0 2h0m0 2h0m0 5h0m1-31h0m0 2h0m0 6h0m0 8h0m0 7h0m0 1h0m0 11h0m1-34h0m0 17h0m0 3h0m0 4h0m0 1h0m0 6h0m1-33h0m0 9h0m0 6h0m0 3h0m0 4h0m0 1h0m0 1h0m0 3h0m0 4h0m0 1h0m0 3h0m1-57h0m0 21h0m0 3h0m0 1h0m0 7h0m0 11h0m0 5h0m0 1h0m0 1h0m0 4h0m1-29h0m0 2h0m0 5h0m0 1h0m0 1h0m0 6h0m0 7h0m0 4h0m0 7h0m1-33h0m0 1h0m0 2h0m0 5h0m0 3h0m0 3h0m0 12h0m1-32h0m0 3h0m0 2h0m0 2h0m0 2h0m0 3h0m0 4h0m0 2h0m0 8h0m0 3h0m1-20h0m0 4h0m0 5h0m0 1h0m0 4h0m0 1h0m0 1h0m0 2h0m0 1h0m0 1h0m0 3h0m1-27h0m0 4h0m0 5h0m0 7h0m0 3h0m0 2h0m0 1h0m0 3h0m1-26h0m0 4h0m0 5h0m0 2h0m0 1h0m0 3h0m0 5h0m0 4h0m0 1h0m0 4h0m0 3h0m1-22h0m0 1h0m0 5h0m0 2h0m0 1h0m0 2h0m0 3h0m0 1h0m0 2h0m0 8h0m1-25h0m0 2h0m0 2h0m0 1h0m0 2h0m0 2h0m0 3h0m0 1h0m0 2h0m0 5h0m1-50h0m0 9h0m0 25h0m0 4h0m0 6h0m0 4h0m0 2h0m0 5h0m0 5h0m1-43h0m0 12h0m0 2h0m0 2h0m0 1h0m0 4h0m0 5h0m0 3h0m0 2h0m0 1h0m0 1h0m0 17h0m1-47h0m0 3h0m0 3h0m0 4h0m0 6h0m0 1h0m0 1h0m0 7h0m0 5h0m0 1h0m1-39h0m0 13h0m0 1h0m0 3h0m0 1h0m0 8h0m0 2h0m0 3h0m0 6h0m0 6h0m0 2h0m1-40h0m0 2h0m0 4h0m0 4h0m0 3h0m0 8h0m0 1h0m0 11h0m0 1h0m1-28h0m0 4h0m0 5h0m0 3h0m0 10h0m0 4h0m0 2h0m0 9h0m1-35h0m0 11h0m0 2h0m0 7h0m0 1h0m0 3h0m0 1h0m1-10h0m0 2h0m0 2h0m0 7h0m0 3h0m0 1h0m0 1h0m1-31h0m0 5h0m0 4h0m0 2h0m0 2h0m0 3h0m0 11h0m0 3h0m1-57h0m0 7h0m0 11h0m0 4h0m0 4h0m0 4h0m0 8h0m0 2h0m0 6h0m0 11h0m0 1h0m1-41h0m0 17h0m0 2h0m0 2h0m0 1h0m1-27h0m0 12h0m0 2h0m0 1h0m0 9h0m0 1h0m0 4h0m0 2h0m0 8h0m0 1h0m0 1h0m0 1h0m0 1h0m0 1h0m0 2h0m0 7h0m1-52h0m0 7h0m0 3h0m0 8h0m0 14h0m0 4h0m0 3h0m0 1h0m0 3h0m0 2h0m1-39h0m0 1h0m0 1h0m0 4h0m0 5h0m0 3h0m0 3h0m0 5h0m0 1h0m0 1h0m0 1h0m0 3h0m0 2h0m0 3h0m0 2h0m0 3h0m0 3h0m1-36h0m0 6h0m0 5h0m0 3h0m0 15h0m0 2h0m0 1h0m1-39h0m0 7h0m0 7h0m0 4h0m0 3h0m0 2h0m0 2h0m0 1h0m0 1h0m0 3h0m0 6h0m0 1h0m0 2h0m0 4h0m1-37h0m0 4h0m0 4h0m0 6h0m0 2h0m0 6h0m0 4h0m0 3h0m0 3h0m1-36h0m0 1h0m0 2h0m0 1h0m0 7h0m0 12h0m0 4h0m0 5h0m0 5h0m0 2h0m1-39h0m0 2h0m0 1h0m0 5h0m0 1h0m0 8h0m0 2h0m0 5h0m0 2h0m0 6h0m0 2h0m0 4h0m1-36h0m0 6h0m0 7h0m0 2h0m0 4h0m0 2h0m0 1h0m0 6h0m0 4h0m0 1h0m0 3h0m1-44h0m0 5h0m0 8h0m0 2h0m0 4h0m0 21h0m0 1h0m0 1h0m1-29h0m0 6h0m0 6h0m0 1h0m0 4h0m0 6h0m0 1h0m0 3h0m0 3h0m1-37h0m0 9h0m0 1h0m0 1h0m0 2h0m0 2h0m0 2h0m0 6h0m0 16h0m0 4h0m1-43h0m0 2h0m0 3h0m0 10h0m0 5h0m0 13h0m0 3h0m0 1h0m0 1h0m0 3h0m1-44h0m0 2h0m0 1h0m0 3h0m0 2h0m0 3h0m0 7h0m0 2h0m0 12h0m0 2h0m0 3h0m1-44h0m0 2h0m0 15h0m0 9h0m0 13h0m0 8h0m0 1h0m1-37h0m0 1h0m0 3h0m0 2h0m0 9h0m0 7h0m0 4h0m0 11h0m0 13h0m1-65h0m0 3h0m0 10h0m0 3h0m0 1h0m0 3h0m0 1h0m0 13h0m0 17h0m0 2h0m1-30h0m0 6h0m0 4h0m0 4h0m0 11h0m0 2h0m0 1h0m1-33h0m0 3h0m0 4h0m0 9h0m0 11h0m0 5h0m1-33h0m0 6h0m0 5h0m0 3h0m0 2h0m0 4h0m0 7h0m0 2h0m0 3h0m0 1h0m0 1h0m1-32h0m0 2h0m0 3h0m0 3h0m0 3h0m0 10h0m0 2h0m0 5h0m1-29h0m0 16h0m0 1h0m0 5h0m0 2h0m0 4h0m0 1h0m0 2h0m0 1h0m1-46h0m0 5h0m0 6h0m0 2h0m0 1h0m0 10h0m0 4h0m0 6h0m0 4h0m0 4h0m0 5h0m1-26h0m0 6h0m0 12h0m0 9h0m1-34h0m0 6h0m0 3h0m0 2h0m0 11h0m0 2h0m0 1h0m0 1h0m0 3h0m0 1h0m0 3h0m0 3h0m1-49h0m0 2h0m0 10h0m0 9h0m0 4h0m0 7h0m0 2h0m0 1h0m0 1h0m0 1h0m0 1h0m0 1h0m0 8h0m1-32h0m0 9h0m0 4h0m0 4h0m0 1h0m0 10h0m0 1h0m1-24h0m0 3h0m0 4h0m0 11h0m0 1h0m0 5h0m1-36h0m0 5h0m0 5h0m0 3h0m0 5h0m0 2h0m0 5h0m0 5h0m0 5h0m0 2h0m0 1h0m0 4h0m1-31h0m0 6h0m0 5h0m0 2h0m0 1h0m0 2h0m0 1h0m0 1h0m0 5h0m0 3h0m0 2h0m1-39h0m0 1h0m0 2h0m0 4h0m0 7h0m0 1h0m0 2h0m0 1h0m0 1h0m0 5h0m0 1h0m0 3h0m0 6h0m0 5h0m1-50h0m0 15h0m0 3h0m0 1h0m0 7h0m0 4h0m0 3h0m0 1h0m0 1h0m0 1h0m0 1h0m0 10h0m0 8h0m1-42h0m0 1h0m0 6h0m0 3h0m0 6h0m0 4h0m0 4h0m0 1h0m0 3h0m0 6h0m1-30h0m0 12h0m0 1h0m0 1h0m0 4h0m0 1h0m0 9h0m1-33h0m0 4h0m0 1h0m0 2h0m0 10h0m0 1h0m0 3h0m0 1h0m0 1h0m0 4h0m0 4h0m1-30h0m0 6h0m0 4h0m0 2h0m0 3h0m0 5h0m0 5h0m0 6h0m0 3h0m0 1h0m1-41h0m0 13h0m0 7h0m0 1h0m0 7h0m0 3h0m0 2h0m0 1h0m0 4h0m1-31h0m0 4h0m0 2h0m0 14h0m0 1h0m0 6h0m0 9h0m1-34h0m0 7h0m0 9h0m0 4h0m0 4h0m0 1h0m0 3h0m0 1h0m1-32h0m0 2h0m0 2h0m0 4h0m0 7h0m0 9h0m0 4h0m0 2h0m0 4h0m1-35h0m0 7h0m0 1h0m0 2h0m0 3h0m0 12h0m0 3h0m0 1h0m0 5h0m0 5h0m1-38h0m0 4h0m0 2h0m0 6h0m0 6h0m0 2h0m0 7h0m0 2h0m0 5h0m1-33h0m0 3h0m0 11h0m0 5h0m0 2h0m0 2h0m0 3h0m0 1h0m0 1h0m0 2h0m0 3h0m1-33h0m0 5h0m0 8h0m0 1h0m0 1h0m0 1h0m0 1h0m0 5h0m0 3h0m0 1h0m0 1h0m0 1h0m0 6h0m0 4h0m1-41h0m0 8h0m0 9h0m0 7h0m0 2h0m0 2h0m0 1h0m0 1h0m0 1h0m0 1h0m0 3h0m1-32h0m0 13h0m0 2h0m0 6h0m0 4h0m0 2h0m0 2h0m0 4h0m1-33h0m0 1h0m0 5h0m0 1h0m0 1h0m0 5h0m0 1h0m0 1h0m0 21h0m1-35h0m0 1h0m0 4h0m0 3h0m0 2h0m0 6h0m0 2h0m0 1h0m0 3h0m0 1h0m0 4h0m0 4h0m1-35h0m0 1h0m0 5h0m0 9h0m0 1h0m0 1h0m0 1h0m0 1h0m0 1h0m0 3h0m0 1h0m0 7h0m0 1h0m1-30h0m0 1h0m0 3h0m0 6h0m0 1h0m0 3h0m0 1h0m0 5h0m0 5h0m0 1h0m0 1h0m0 2h0m0 1h0m1-46h0m0 14h0m0 1h0m0 2h0m0 1h0m0 1h0m0 1h0m0 1h0m0 2h0m0 3h0m0 4h0m0 2h0m0 8h0m0 3h0m0 3h0m0 3h0m0 4h0m1-37h0m0 1h0m0 2h0m0 2h0m0 1h0m0 1h0m0 2h0m0 8h0m0 2h0m0 5h0m0 1h0m0 1h0m0 3h0m0 20h0m1-51h0m0 9h0m0 6h0m0 2h0m0 3h0m0 9h0m0 2h0m0 1h0m0 3h0m1-39h0m0 7h0m0 5h0m0 1h0m0 16h0m0 1h0m0 1h0m0 5h0m0 3h0m0 2h0m1-35h0m0 2h0m0 2h0m0 6h0m0 4h0m0 1h0m0 1h0m0 9h0m0 3h0m0 7h0m0 5h0m1-48h0m0 5h0m0 4h0m0 2h0m0 5h0m0 1h0m0 4h0m0 1h0m0 5h0m0 6h0m0 1h0m0 1h0m0 1h0m0 2h0m0 2h0m1-36h0m0 15h0m0 1h0m0 5h0m0 6h0m0 1h0m0 7h0m1-28h0m0 1h0m0 2h0m0 1h0m0 4h0m0 4h0m0 2h0m0 7h0m0 7h0m1-29h0m0 1h0m0 3h0m0 5h0m0 4h0m0 1h0m0 4h0m0 1h0m0 4h0m0 2h0m0 1h0m0 2h0m0 3h0m0 2h0m1-38h0m0 7h0m0 4h0m0 3h0m0 4h0m0 6h0m0 1h0m0 3h0m0 1h0m0 1h0m0 1h0m0 2h0m0 1h0m0 2h0m0 2h0m1-37h0m0 1h0m0 6h0m0 1h0m0 1h0m0 5h0m0 3h0m0 4h0m0 2h0m0 3h0m0 1h0m0 2h0m0 1h0m1-36h0m0 11h0m0 1h0m0 1h0m0 7h0m0 3h0m0 3h0m0 6h0m0 1h0m0 1h0m0 1h0m0 2h0m1-29h0m0 1h0m0 5h0m0 4h0m0 1h0m0 2h0m0 2h0m0 3h0m0 1h0m0 6h0m0 1h0m0 4h0m0 2h0m0 1h0m1-50h0m0 23h0m0 6h0m0 2h0m0 1h0m0 1h0m0 3h0m0 5h0m0 1h0m0 2h0m0 1h0m1-25h0m0 1h0m0 1h0m0 2h0m0 1h0m0 3h0m0 3h0m0 1h0m0 1h0m0 1h0m0 3h0m0 1h0m0 2h0m0 2h0m0 1h0m0 1h0m0 3h0m1-33h0m0 1h0m0 6h0m0 6h0m0 1h0m0 3h0m0 6h0m0 5h0m0 2h0m0 1h0m0 1h0m0 3h0m0 2h0m0 1h0m0 5h0m1-41h0m0 5h0m0 3h0m0 2h0m0 4h0m0 5h0m0 1h0m0 1h0m0 14h0m0 1h0m1-38h0m0 1h0m0 8h0m0 1h0m0 2h0m0 1h0m0 8h0m0 1h0m0 2h0m0 1h0m0 1h0m1-34h0m0 10h0m0 4h0m0 4h0m0 1h0m0 3h0m0 9h0m0 6h0m0 4h0m0 4h0m0 2h0m1-35h0m0 3h0m0 1h0m0 6h0m0 1h0m0 3h0m0 3h0m0 3h0m0 1h0m0 1h0m0 1h0m0 2h0m0 2h0m0 1h0m1-28h0m0 2h0m0 1h0m0 2h0m0 1h0m0 2h0m0 4h0m0 6h0m0 2h0m0 1h0m0 1h0m0 4h0m0 2h0m1-28h0m0 3h0m0 2h0m0 5h0m0 9h0m0 1h0m0 3h0m0 2h0m0 2h0m0 1h0m0 2h0m1-33h0m0 2h0m0 1h0m0 13h0m0 3h0m0 4h0m0 4h0m0 2h0m0 2h0m1-31h0m0 2h0m0 4h0m0 4h0m0 2h0m0 3h0m0 1h0m0 4h0m0 1h0m0 1h0m0 3h0m0 1h0m0 3h0m0 2h0m0 1h0m1-34h0m0 7h0m0 7h0m0 2h0m0 3h0m0 1h0m0 3h0m0 1h0m0 3h0m0 1h0m0 1h0m0 1h0m0 1h0m0 2h0m0 1h0m1-27h0m0 1h0m0 4h0m0 4h0m0 1h0m0 2h0m0 8h0m0 1h0m0 7h0m1-39h0m0 10h0m0 1h0m0 1h0m0 7h0m0 1h0m0 1h0m0 1h0m0 1h0m0 3h0m0 6h0m0 1h0m0 8h0m1-33h0m0 1h0m0 7h0m0 4h0m0 3h0m0 1h0m0 4h0m1-27h0m0 7h0m0 4h0m0 6h0m0 3h0m0 1h0m0 2h0m0 2h0m0 8h0m0 2h0m1-30h0m0 4h0m0 2h0m0 1h0m0 7h0m0 1h0m0 1h0m0 2h0m0 3h0m0 2h0m0 2h0m0 6h0m0 3h0m1-36h0m0 1h0m0 5h0m0 1h0m0 8h0m0 1h0m0 1h0m0 3h0m0 1h0m0 6h0m0 3h0m0 6h0m0 2h0m1-37h0m0 3h0m0 1h0m0 8h0m0 1h0m0 3h0m0 5h0m0 6h0m0 2h0m0 7h0m1-38h0m0 3h0m0 6h0m0 1h0m0 1h0m0 7h0m0 1h0m0 4h0m0 9h0m0 17h0m1-45h0m0 1h0m0 1h0m0 1h0m0 2h0m0 5h0m0 10h0m0 9h0m1-31h0m0 2h0m0 2h0m0 1h0m0 2h0m0 1h0m0 6h0m0 1h0m0 1h0m0 8h0m0 7h0m0 1h0m0 3h0m1-37h0m0 4h0m0 1h0m0 14h0m0 8h0m0 2h0m0 3h0m0 3h0m0 1h0m0 2h0m0 5h0m1-41h0m0 6h0m0 5h0m0 5h0m0 8h0m0 5h0m0 2h0m0 17h0m1-48h0m0 2h0m0 1h0m0 2h0m0 9h0m0 5h0m0 22h0m1-41h0m0 7h0m0 3h0m0 1h0m0 1h0m0 5h0m0 4h0m0 3h0m0 10h0m0 3h0m1-36h0m0 6h0m0 5h0m0 4h0m0 6h0m0 1h0m0 7h0m1-24h0m0 3h0m0 5h0m0 2h0m0 1h0m0 4h0m1-20h0m0 2h0m0 5h0m0 1h0m0 7h0m0 1h0m0 9h0m1-24h0m0 5h0m0 6h0m0 1h0m0 12h0m0 1h0m1-25h0m0 6h0m0 4h0m0 6h0m0 2h0m0 2h0m0 11h0m0 2h0m1-35h0m0 5h0m0 2h0m0 3h0m0 2h0m0 7h0m0 1h0m1-32h0m0 12h0m0 9h0m0 1h0m0 12h0m0 4h0m0 5h0m0 2h0m1-25h0m0 2h0m0 4h0m0 5h0m0 4h0m0 2h0m0 1h0m0 3h0m0 5h0m0 8h0m1-39h0m0 4h0m0 9h0m0 5h0m0 3h0m0 5h0m0 2h0m1-31h0m0 6h0m0 2h0m0 2h0m0 9h0m0 2h0m0 6h0m0 1h0m0 2h0m1-26h0m0 8h0m0 1h0m0 2h0m0 3h0m1-15h0m0 3h0m0 4h0m0 1h0m0 1h0m0 5h0m0 12h0m0 4h0m1-30h0m0 2h0m0 7h0m0 2h0m0 3h0m0 16h0m1-34h0m0 2h0m0 1h0m0 2h0m0 4h0m0 1h0m0 2h0m0 8h0m0 1h0m1-16h0m0 2h0m0 1h0m0 1h0m0 5h0m0 2h0m0 12h0m0 5h0m1-31h0m0 5h0m0 8h0m0 2h0m0 1h0m0 1h0m0 6h0m0 1h0m0 4h0m0 4h0m0 15h0m1-48h0m0 8h0m0 2h0m0 3h0m0 1h0m0 1h0m0 4h0m0 6h0m0 1h0m0 1h0m0 3h0m0 1h0m0 2h0m1-33h0m0 6h0m0 1h0m0 1h0m0 1h0m0 3h0m0 2h0m0 1h0m0 3h0m0 1h0m0 2h0m0 3h0m0 1h0m0 6h0m0 9h0m1-45h0m0 11h0m0 1h0m0 7h0m0 1h0m0 1h0m0 2h0m0 7h0m0 1h0m1-24h0m0 4h0m0 2h0m0 8h0m0 1h0m0 2h0m0 4h0m0 3h0m0 1h0m0 6h0m1-39h0m0 7h0m0 9h0m0 1h0m0 2h0m0 2h0m0 1h0m0 3h0m0 4h0m0 2h0m0 3h0m0 2h0m0 1h0m1-29h0m0 6h0m0 1h0m0 2h0m0 3h0m0 2h0m0 6h0m0 9h0m1-22h0m0 6h0m0 4h0m0 2h0m0 2h0m0 2h0m0 1h0m0 1h0m0 3h0m0 2h0m1-30h0m0 2h0m0 4h0m0 6h0m0 2h0m0 7h0m0 1h0m0 3h0m0 4h0m1-25h0m0 5h0m0 1h0m0 1h0m0 1h0m0 1h0m0 3h0m0 2h0m0 2h0m0 2h0m0 8h0m1-26h0m0 1h0m0 3h0m0 1h0m0 1h0m0 2h0m0 1h0m0 1h0m0 1h0m0 2h0m0 1h0m1-17h0m0 3h0m0 1h0m0 4h0m0 2h0m0 1h0m0 1h0m0 1h0m0 3h0m0 4h0m0 1h0m0 6h0m0 2h0m0 2h0m1-48h0m0 14h0m0 2h0m0 6h0m0 6h0m0 1h0m0 1h0m0 10h0m0 1h0m0 1h0m0 4h0m1-32h0m0 5h0m0 2h0m0 6h0m0 1h0m0 2h0m0 1h0m0 1h0m0 3h0m0 8h0m0 4h0m1-33h0m0 1h0m0 9h0m0 1h0m0 1h0m0 1h0m0 2h0m0 6h0m0 3h0m0 2h0m0 3h0m0 1h0m1-28h0m0 11h0m0 1h0m0 7h0m0 9h0m0 1h0m0 1h0m1-36h0m0 9h0m0 2h0m0 5h0m0 1h0m0 5h0m0 4h0m0 1h0m0 3h0m0 1h0m0 3h0m0 2h0m1-27h0m0 4h0m0 5h0m0 1h0m0 3h0m0 2h0m0 1h0m0 3h0m0 1h0m0 1h0m0 5h0m1-24h0m0 1h0m0 2h0m0 3h0m0 1h0m0 6h0m0 1h0m0 1h0m0 3h0m0 5h0m0 4h0m1-31h0m0 3h0m0 3h0m0 1h0m0 4h0m0 2h0m0 2h0m0 1h0m0 2h0m0 3h0m0 3h0m0 4h0m1-28h0m0 4h0m0 1h0m0 1h0m0 3h0m0 7h0m0 4h0m0 1h0m0 1h0m1-14h0m0 2h0m0 1h0m0 2h0m0 9h0m0 4h0m0 2h0m1-41h0m0 14h0m0 1h0m0 1h0m0 4h0m0 5h0m0 2h0m0 1h0m0 1h0m0 4h0m0 1h0m0 1h0m1-19h0m0 3h0m0 1h0m0 3h0m0 1h0m0 3h0m0 1h0m0 8h0m0 3h0m0 3h0m1-21h0m0 5h0m0 1h0m0 7h0m0 1h0m0 1h0m0 1h0m1-24h0m0 6h0m0 3h0m0 1h0m0 2h0m0 2h0m0 8h0m0 2h0m1-23h0m0 4h0m0 9h0m0 1h0m0 1h0m0 1h0m0 4h0m0 1h0m0 1h0m0 3h0m1-26h0m0 8h0m0 1h0m0 2h0m0 4h0m0 1h0m0 4h0m0 1h0m0 5h0m0 1h0m1-30h0m0 7h0m0 8h0m0 1h0m0 4h0m0 3h0m0 1h0m0 2h0m0 1h0m0 4h0m0 4h0m1-31h0m0 2h0m0 4h0m0 2h0m0 4h0m0 3h0m0 1h0m0 3h0m0 2h0m0 5h0m1-24h0m0 4h0m0 7h0m0 2h0m0 4h0m0 5h0m1-23h0m0 7h0m0 5h0m0 2h0m0 3h0m0 1h0m1-20h0m0 3h0m0 2h0m0 1h0m0 1h0m0 3h0m0 1h0m0 3h0m0 13h0m1-37h0m0 10h0m0 1h0m0 1h0m0 2h0m0 8h0m0 6h0m0 8h0m0 2h0m0 1h0m1-30h0m0 10h0m0 1h0m0 1h0m0 3h0m0 3h0m0 1h0m0 2h0m0 2h0m0 1h0m0 9h0m1-43h0m0 9h0m0 1h0m0 2h0m0 2h0m0 1h0m0 1h0m0 2h0m0 4h0m0 1h0m0 4h0m0 4h0m0 2h0m0 1h0m0 2h0m0 1h0m0 2h0m1-29h0m0 5h0m0 1h0m0 2h0m0 2h0m0 6h0m0 3h0m0 2h0m0 4h0m0 2h0m0 1h0m0 1h0m1-30h0m0 2h0m0 4h0m0 4h0m0 2h0m0 1h0m0 1h0m0 1h0m0 1h0m0 1h0m0 2h0m0 1h0m0 9h0m1-28h0m0 7h0m0 1h0m0 1h0m0 2h0m0 3h0m0 1h0m0 2h0m0 6h0m0 2h0m0 1h0m0 2h0m1-17h0m0 1h0m0 1h0m0 4h0m0 4h0m0 2h0m0 1h0m0 3h0m1-29h0m0 1h0m0 1h0m0 1h0m0 8h0m0 1h0m0 1h0m0 1h0m0 1h0m0 1h0m0 2h0m0 1h0m0 2h0m0 3h0m0 5h0m0 1h0m1-28h0m0 5h0m0 2h0m0 6h0m0 1h0m0 2h0m0 2h0m0 9h0m1-33h0m0 9h0m0 2h0m0 7h0m0 1h0m0 3h0m0 1h0m0 2h0m0 1h0m0 2h0m0 2h0m0 2h0m1-37h0m0 8h0m0 3h0m0 1h0m0 2h0m0 1h0m0 8h0m0 1h0m0 6h0m0 5h0m0 4h0m1-27h0m0 4h0m0 3h0m0 3h0m0 1h0m0 1h0m0 1h0m0 1h0m0 1h0m0 1h0m0 5h0m0 2h0m0 3h0m1-29h0m0 5h0m0 11h0m0 11h0m1-25h0m0 1h0m0 1h0m0 1h0m0 4h0m0 4h0m0 1h0m0 2h0m0 1h0m0 1h0m0 1h0m0 2h0m0 3h0m0 1h0m0 1h0m0 1h0m0 1h0m1-27h0m0 1h0m0 2h0m0 3h0m0 2h0m0 2h0m0 5h0m0 1h0m0 1h0m0 4h0m0 4h0m0 5h0m1-32h0m0 4h0m0 2h0m0 1h0m0 3h0m0 1h0m0 4h0m0 1h0m0 1h0m0 9h0m1-29h0m0 2h0m0 9h0m0 1h0m0 1h0m0 6h0m0 2h0m0 3h0m0 6h0m0 3h0m0 1h0m1-29h0m0 1h0m0 2h0m0 3h0m0 3h0m0 1h0m0 2h0m0 2h0m0 1h0m0 2h0m0 2h0m0 3h0m0 4h0m0 3h0m1-28h0m0 3h0m0 2h0m0 1h0m0 2h0m0 1h0m0 3h0m0 1h0m0 1h0m0 2h0m0 4h0m0 6h0m1-35h0m0 12h0m0 6h0m0 1h0m0 4h0m0 1h0m0 1h0m1-23h0m0 5h0m0 5h0m0 6h0m0 1h0m0 5h0m0 1h0m0 5h0m0 7h0m0 15h0m1-50h0m0 8h0m0 7h0m0 1h0m0 1h0m0 5h0m0 5h0m0 2h0m0 4h0m1-28h0m0 2h0m0 3h0m0 1h0m0 1h0m0 7h0m0 3h0m0 11h0m0 2h0m1-30h0m0 1h0m0 1h0m0 8h0m0 1h0m0 1h0m0 1h0m0 8h0m0 13h0m1-34h0m0 2h0m0 7h0m0 1h0m0 2h0m0 11h0m0 3h0m0 1h0m0 1h0m0 1h0m0 1h0m1-27h0m0 5h0m0 4h0m0 3h0m0 2h0m0 2h0m0 9h0m0 2h0m1-30h0m0 1h0m0 1h0m0 3h0m0 2h0m0 5h0m0 4h0m0 1h0m0 1h0m0 4h0m0 5h0m0 3h0m1-30h0m0 2h0m0 1h0m0 7h0m0 2h0m0 1h0m0 4h0m0 5h0m0 4h0m0 2h0m1-27h0m0 3h0m0 9h0m0 4h0m0 2h0m0 10h0m0 1h0m0 4h0m1-50h0m0 17h0m0 2h0m0 1h0m0 2h0m0 2h0m0 4h0m0 1h0m0 1h0m0 2h0m0 1h0m0 5h0m0 2h0m0 3h0m0 1h0m1-27h0m0 1h0m0 6h0m0 4h0m0 9h0m0 3h0m1-34h0m0 11h0m0 12h0m0 1h0m0 4h0m0 1h0m0 4h0m0 1h0m0 3h0m1-27h0m0 2h0m0 8h0m0 5h0m0 2h0m0 1h0m0 2h0m0 2h0m1-22h0m0 2h0m0 2h0m0 4h0m0 1h0m0 4h0m0 1h0m0 2h0m0 2h0m0 1h0m0 10h0m1-29h0m0 3h0m0 1h0m0 2h0m0 2h0m0 3h0m0 1h0m0 2h0m0 2h0m0 2h0m0 1h0m0 5h0m0 2h0m1-25h0m0 7h0m0 6h0m0 3h0m0 1h0m1-17h0m0 2h0m0 3h0m0 4h0m0 1h0m0 1h0m0 2h0m0 6h0m0 3h0m0 1h0m1-31h0m0 8h0m0 1h0m0 1h0m0 2h0m0 4h0m0 7h0m0 1h0m0 1h0m0 5h0m0 6h0m1-28h0m0 2h0m0 8h0m0 6h0m0 11h0m1-31h0m0 3h0m0 1h0m0 9h0m0 4h0m0 1h0m0 1h0m0 1h0m0 6h0m0 1h0m1-23h0m0 1h0m0 2h0m0 1h0m0 5h0m0 6h0m0 1h0m0 1h0m0 1h0m0 1h0m0 1h0m0 1h0m0 2h0m0 1h0m1-22h0m0 2h0m0 11h0m0 1h0m0 2h0m0 7h0m1-37h0m0 15h0m0 3h0m0 2h0m0 4h0m0 4h0m0 2h0m0 5h0m0 4h0m1-27h0m0 3h0m0 1h0m0 3h0m0 12h0m0 1h0m0 5h0m0 1h0m0 5h0m1-25h0m0 3h0m0 4h0m0 5h0m0 8h0m1-25h0m0 4h0m0 2h0m0 6h0m0 1h0m0 2h0m0 2h0m0 1h0m0 1h0m0 8h0m1-30h0m0 2h0m0 1h0m0 1h0m0 3h0m0 7h0m0 6h0m0 1h0m0 4h0m1-24h0m0 3h0m0 2h0m0 3h0m0 4h0m0 4h0m0 1h0m0 1h0m0 1h0m0 3h0m0 3h0m0 2h0m1-28h0m0 1h0m0 1h0m0 2h0m0 1h0m0 1h0m0 1h0m0 1h0m0 10h0m0 1h0m0 1h0m1-22h0m0 1h0m0 5h0m0 1h0m0 3h0m0 1h0m0 9h0m0 1h0m0 1h0m1-18h0m0 2h0m0 1h0m0 3h0m0 3h0m0 6h0m0 1h0m0 4h0m0 8h0m1-30h0m0 2h0m0 2h0m0 2h0m0 6h0m0 7h0m0 2h0m0 1h0m0 4h0m1-26h0m0 1h0m0 1h0m0 2h0m0 2h0m0 11h0m0 1h0m0 2h0m0 1h0m0 2h0m0 1h0m0 9h0m1-43h0m0 7h0m0 5h0m0 1h0m0 4h0m0 1h0m0 2h0m0 3h0m0 1h0m0 4h0m0 1h0m0 1h0m0 1h0m0 5h0m1-27h0m0 1h0m0 2h0m0 1h0m0 2h0m0 6h0m0 1h0m0 5h0m0 2h0m0 1h0m0 1h0m0 9h0m1-30h0m0 3h0m0 1h0m0 1h0m0 13h0m0 1h0m0 2h0m0 2h0m1-29h0m0 5h0m0 2h0m0 1h0m0 4h0m0 1h0m0 1h0m0 4h0m0 1h0m0 5h0m0 5h0m0 4h0m1-34h0m0 2h0m0 4h0m0 3h0m0 3h0m0 4h0m0 10h0m0 1h0m0 1h0m0 3h0m0 1h0m1-25h0m0 3h0m0 1h0m0 1h0m0 10h0m0 4h0m0 2h0m1-22h0m0 5h0m0 1h0m0 1h0m0 1h0m0 5h0m0 1h0m0 1h0m0 1h0m0 2h0m0 5h0m0 7h0m1-30h0m0 1h0m0 4h0m0 3h0m0 6h0m0 5h0m0 2h0m0 2h0m0 1h0m0 4h0m1-41h0m0 2h0m0 10h0m0 1h0m0 2h0m0 2h0m0 3h0m0 5h0m0 3h0m0 3h0m0 2h0m0 2h0m0 1h0m1-26h0m0 1h0m0 2h0m0 1h0m0 4h0m0 1h0m0 1h0m0 2h0m0 4h0m0 2h0m0 4h0m0 1h0m0 2h0m0 1h0m0 1h0m0 4h0m1-29h0m0 5h0m0 1h0m0 2h0m0 1h0m0 1h0m0 1h0m0 2h0m0 1h0m0 1h0m0 6h0m0 1h0m0 4h0m0 1h0m1-28h0m0 2h0m0 1h0m0 7h0m0 5h0m0 2h0m0 2h0m0 1h0m0 1h0m0 1h0m0 2h0m0 2h0m0 2h0m1-28h0m0 2h0m0 6h0m0 4h0m0 9h0m0 2h0m0 2h0m0 5h0m1-29h0m0 4h0m0 2h0m0 3h0m0 1h0m0 1h0m0 2h0m0 4h0m0 1h0m0 4h0m0 1h0m0 2h0m1-26h0m0 1h0m0 4h0m0 5h0m0 2h0m0 3h0m0 4h0m0 1h0m0 1h0m0 1h0m0 2h0m0 2h0m0 3h0m0 2h0m1-29h0m0 2h0m0 5h0m0 3h0m0 7h0m0 2h0m0 21h0m1-43h0m0 4h0m0 1h0m0 3h0m0 5h0m0 2h0m0 2h0m0 1h0m0 1h0m0 2h0m0 1h0m0 3h0m0 4h0m0 2h0m1-26h0m0 3h0m0 1h0m0 2h0m0 1h0m0 1h0m0 2h0m0 4h0m0 8h0m0 2h0m1-29h0m0 7h0m0 2h0m0 3h0m0 4h0m0 6h0m0 5h0m0 2h0m0 2h0m1-31h0m0 2h0m0 4h0m0 5h0m0 4h0m0 1h0m0 4h0m0 2h0m0 3h0m0 3h0m0 2h0m1-30h0m0 1h0m0 6h0m0 2h0m0 1h0m0 1h0m0 2h0m0 4h0m0 1h0m0 3h0m0 2h0m0 3h0m0 2h0m1-38h0m0 9h0m0 5h0m0 3h0m0 4h0m0 5h0m0 1h0m0 6h0m0 3h0m0 2h0m0 1h0m1-32h0m0 5h0m0 6h0m0 1h0m0 1h0m0 3h0m0 1h0m0 7h0m0 1h0m0 2h0m1-18h0m0 1h0m0 2h0m0 2h0m0 6h0m0 4h0m0 5h0m0 1h0m0 1h0m0 59h0m1-89h0m0 9h0m0 14h0m0 1h0m0 1h0m0 6h0m0 1h0m1-49h0m0 21h0m0 5h0m0 1h0m0 12h0m0 8h0m1-29h0m0 1h0m0 9h0m0 1h0m0 7h0m0 8h0m0 6h0m1-29h0m0 1h0m0 3h0m0 5h0m0 2h0m0 2h0m0 1h0m0 1h0m0 2h0m0 6h0m0 1h0m0 3h0m1-58h0m0 30h0m0 3h0m0 7h0m0 2h0m0 11h0m0 5h0m1-31h0m0 2h0m0 2h0m0 2h0m0 1h0m0 4h0m0 1h0m0 2h0m0 4h0m0 1h0m0 3h0m0 6h0m1-27h0m0 2h0m0 2h0m0 1h0m0 2h0m0 3h0m0 1h0m0 3h0m0 1h0m0 3h0m0 1h0m0 2h0m0 2h0m0 2h0m0 1h0m0 4h0m1-30h0m0 7h0m0 5h0m0 4h0m0 1h0m0 1h0m0 1h0m1-20h0m0 6h0m0 14h0m0 2h0m0 1h0m1-22h0m0 3h0m0 2h0m0 1h0m0 1h0m0 2h0m0 3h0m0 1h0m0 3h0m0 2h0m0 7h0m0 1h0m0 3h0m1-28h0m0 4h0m0 1h0m0 1h0m0 5h0m0 2h0m0 7h0m0 1h0m0 2h0m0 5h0m0 1h0m1-29h0m0 1h0m0 1h0m0 2h0m0 1h0m0 7h0m0 3h0m0 2h0m0 6h0m0 1h0m0 1h0m0 3h0m1-28h0m0 3h0m0 1h0m0 9h0m0 4h0m0 2h0m0 2h0m1-19h0m0 2h0m0 1h0m0 7h0m0 1h0m0 1h0m0 5h0m0 5h0m0 1h0m0 5h0m1-74h0m0 10h0m0 1h0m0 33h0m0 2h0m0 4h0m0 1h0m0 5h0m0 1h0m0 1h0m0 3h0m0 6h0m1-22h0m0 2h0m0 1h0m0 2h0m0 1h0m0 3h0m0 6h0m0 1h0m0 3h0m0 8h0m1-54h0m0 29h0m0 5h0m0 5h0m0 1h0m0 2h0m0 4h0m0 2h0m0 1h0m0 2h0m0 2h0m0 3h0m0 57h0m1-90h0m0 1h0m0 2h0m0 1h0m0 4h0m0 6h0m0 1h0m0 3h0m0 1h0m0 9h0m1-29h0m0 1h0m0 2h0m0 2h0m0 3h0m0 2h0m0 2h0m0 2h0m0 2h0m0 2h0m0 3h0m0 1h0m0 2h0m0 2h0m0 1h0m1-53h0m0 33h0m0 1h0m0 1h0m0 6h0m0 2h0m0 1h0m0 1h0m0 2h0m0 1h0m0 4h0m0 4h0m0 6h0m1-36h0m0 4h0m0 1h0m0 4h0m0 3h0m0 4h0m0 3h0m0 2h0m0 4h0m0 2h0m0 9h0m1-68h0m0 37h0m0 1h0m0 1h0m0 1h0m0 1h0m0 1h0m0 1h0m0 1h0m0 2h0m0 1h0m0 1h0m0 1h0m0 2h0m0 1h0m0 6h0m0 4h0m1-27h0m0 1h0m0 2h0m0 2h0m0 12h0m0 1h0m0 10h0m0 1h0m1-30h0m0 1h0m0 1h0m0 1h0m0 1h0m0 1h0m0 1h0m0 4h0m0 1h0m0 2h0m0 7h0m0 4h0m0 1h0m0 1h0m0 1h0m0 6h0m1-78h0m0 45h0m0 5h0m0 1h0m0 1h0m0 1h0m0 3h0m0 4h0m0 1h0m0 1h0m0 1h0m0 1h0m0 2h0m0 2h0m0 1h0m0 1h0m0 2h0m0 2h0m1-30h0m0 1h0m0 2h0m0 2h0m0 2h0m0 3h0m0 1h0m0 4h0m0 1h0m0 1h0m0 1h0m0 1h0m0 3h0m0 1h0m0 8h0m1-30h0m0 1h0m0 1h0m0 1h0m0 2h0m0 1h0m0 2h0m0 8h0m0 1h0m0 1h0m0 6h0m0 4h0m1-53h0m0 24h0m0 5h0m0 1h0m0 2h0m0 4h0m0 1h0m0 3h0m0 1h0m0 1h0m0 9h0m1-30h0m0 4h0m0 3h0m0 1h0m0 1h0m0 1h0m0 1h0m0 1h0m0 2h0m0 3h0m0 1h0m0 3h0m0 3h0m0 1h0m0 7h0m1-69h0m0 41h0m0 1h0m0 1h0m0 1h0m0 8h0m0 1h0m0 2h0m0 5h0m0 8h0m1-55h0m0 28h0m0 4h0m0 1h0m0 1h0m0 1h0m0 1h0m0 1h0m0 4h0m0 1h0m0 3h0m0 3h0m0 1h0m0 1h0m0 4h0m1-28h0m0 3h0m0 1h0m0 2h0m0 1h0m0 1h0m0 7h0m0 3h0m0 1h0m0 2h0m0 1h0m0 3h0m0 4h0m1-70h0m0 40h0m0 3h0m0 1h0m0 4h0m0 1h0m0 2h0m0 1h0m0 3h0m0 2h0m0 1h0m0 2h0m0 1h0m0 5h0m0 3h0m0 2h0m0 3h0m1-30h0m0 1h0m0 1h0m0 13h0m0 1h0m0 3h0m0 1h0m0 1h0m0 6h0m1-31h0m0 3h0m0 3h0m0 1h0m0 6h0m0 6h0m0 1h0m0 1h0m0 5h0m0 6h0m1-53h0m0 22h0m0 1h0m0 5h0m0 1h0m0 2h0m0 2h0m0 5h0m0 1h0m0 1h0m0 1h0m0 1h0m0 7h0m0 2h0m0 13h0m1-84h0m0 42h0m0 2h0m0 4h0m0 1h0m0 2h0m0 4h0m0 3h0m0 3h0m0 4h0m1-51h0m0 1h0m0 5h0m0 24h0m0 1h0m0 1h0m0 4h0m0 5h0m0 3h0m0 1h0m0 2h0m0 10h0m1-30h0m0 9h0m0 1h0m0 1h0m0 3h0m0 2h0m0 1h0m0 5h0m0 3h0m0 1h0m0 1h0m1-58h0m0 5h0m0 26h0m0 3h0m0 4h0m0 2h0m0 2h0m0 4h0m0 1h0m0 1h0m0 2h0m0 2h0m0 1h0m0 3h0m0 2h0m1-46h0m0 5h0m0 15h0m0 1h0m0 1h0m0 1h0m0 1h0m0 6h0m0 1h0m0 6h0m0 5h0m0 3h0m0 5h0m1-29h0m0 6h0m0 3h0m0 3h0m0 5h0m0 3h0m0 9h0m0 2h0m1-36h0m0 3h0m0 1h0m0 5h0m0 1h0m0 2h0m0 1h0m0 3h0m0 3h0m0 7h0m0 1h0m0 1h0m0 4h0m1-52h0m0 27h0m0 1h0m0 3h0m0 2h0m0 1h0m0 7h0m0 4h0m0 1h0m0 3h0m0 9h0m1-33h0m0 5h0m0 2h0m0 1h0m0 2h0m0 1h0m0 3h0m0 3h0m1-55h0m0 4h0m0 12h0m0 20h0m0 2h0m0 2h0m0 4h0m0 1h0m0 1h0m0 2h0m0 8h0m0 2h0m0 1h0m0 4h0m0 10h0m1-30h0m0 3h0m0 2h0m0 3h0m0 1h0m0 6h0m0 5h0m0 4h0m1-49h0m0 3h0m0 17h0m0 2h0m0 3h0m0 5h0m0 1h0m0 5h0m0 2h0m0 3h0m0 6h0m0 1h0m1-29h0m0 2h0m0 1h0m0 5h0m0 2h0m0 2h0m0 2h0m0 2h0m0 1h0m0 5h0m0 7h0m0 1h0m1-28h0m0 4h0m0 1h0m0 3h0m0 7h0m0 4h0m0 1h0m0 2h0m0 2h0m1-23h0m0 2h0m0 3h0m0 1h0m0 1h0m0 1h0m0 5h0m0 3h0m0 1h0m0 2h0m0 1h0m0 7h0m0 1h0m1-30h0m0 1h0m0 4h0m0 1h0m0 1h0m0 2h0m0 4h0m0 6h0m0 2h0m0 2h0m0 1h0m0 1h0m1-55h0m0 27h0m0 2h0m0 5h0m0 5h0m0 2h0m0 1h0m0 1h0m0 3h0m0 6h0m0 1h0m0 2h0m1-47h0m0 24h0m0 1h0m0 4h0m0 2h0m0 2h0m0 3h0m0 6h0m0 3h0m0 1h0m1-27h0m0 6h0m0 5h0m0 4h0m0 2h0m0 3h0m0 5h0m0 2h0m0 2h0m1-27h0m0 2h0m0 5h0m0 5h0m0 1h0m0 1h0m0 1h0m0 2h0m0 3h0m0 1h0m0 1h0m0 5h0m0 2h0m1-20h0m0 1h0m0 2h0m0 1h0m0 2h0m0 2h0m0 1h0m0 5h0m0 2h0m0 1h0m0 2h0m1-70h0m0 39h0m0 7h0m0 5h0m0 5h0m0 5h0m0 2h0m0 1h0m0 1h0m0 3h0m1-56h0m0 3h0m0 2h0m0 3h0m0 3h0m0 18h0m0 3h0m0 3h0m0 2h0m0 4h0m0 1h0m0 2h0m0 1h0m0 4h0m0 2h0m0 1h0m0 1h0m0 1h0m0 1h0m0 1h0m0 4h0m0 5h0m1-70h0m0 10h0m0 7h0m0 17h0m0 4h0m0 5h0m0 3h0m0 1h0m0 1h0m0 1h0m0 7h0m0 2h0m0 3h0m0 2h0m0 1h0m0 1h0m0 1h0m1-62h0m0 33h0m0 6h0m0 3h0m0 1h0m0 2h0m0 1h0m0 1h0m0 3h0m0 2h0m0 1h0m0 1h0m0 9h0m1-29h0m0 2h0m0 1h0m0 2h0m0 6h0m0 1h0m0 5h0m0 1h0m0 1h0m0 1h0m0 3h0m0 1h0m0 1h0m0 3h0m0 8h0m1-76h0m0 35h0m0 1h0m0 1h0m0 1h0m0 1h0m0 4h0m0 6h0m0 5h0m0 3h0m0 2h0m0 1h0m0 5h0m0 2h0m0 4h0m1-82h0m0 9h0m0 16h0m0 21h0m0 2h0m0 4h0m0 1h0m0 8h0m0 1h0m0 3h0m0 2h0m0 3h0m0 1h0m0 3h0m0 2h0m1-16h0m0 3h0m0 4h0m0 1h0m0 2h0m0 1h0m0 2h0m0 6h0m0 3h0m1-32h0m0 2h0m0 2h0m0 2h0m0 2h0m0 1h0m0 1h0m0 1h0m0 6h0m0 3h0m0 1h0m0 3h0m1-51h0m0 6h0m0 17h0m0 2h0m0 2h0m0 2h0m0 2h0m0 2h0m0 2h0m0 1h0m0 2h0m0 7h0m0 2h0m0 6h0m0 2h0m1-29h0m0 7h0m0 6h0m0 6h0m0 1h0m0 1h0m0 1h0m1-23h0m0 5h0m0 2h0m0 1h0m0 1h0m0 1h0m0 4h0m0 3h0m0 6h0m0 1h0m0 7h0m0 2h0m1-51h0m0 18h0m0 7h0m0 6h0m0 9h0m0 4h0m1-68h0m0 41h0m0 3h0m0 2h0m0 1h0m0 1h0m0 1h0m0 4h0m0 5h0m0 1h0m0 2h0m0 1h0m0 5h0m0 1h0m0 2h0m0 2h0m0 3h0m1-34h0m0 2h0m0 5h0m0 1h0m0 1h0m0 2h0m0 1h0m0 4h0m0 1h0m0 2h0m0 2h0m0 1h0m0 3h0m0 1h0m0 6h0m1-56h0m0 21h0m0 6h0m0 3h0m0 5h0m0 1h0m0 3h0m0 2h0m0 4h0m0 3h0m0 4h0m0 3h0m1-49h0m0 21h0m0 3h0m0 2h0m0 1h0m0 6h0m0 2h0m0 3h0m0 1h0m0 3h0m0 4h0m1-25h0m0 3h0m0 2h0m0 2h0m0 2h0m0 1h0m0 1h0m0 2h0m0 3h0m0 2h0m0 2h0m0 2h0m0 1h0m0 1h0m0 6h0m1-79h0m0 23h0m0 1h0m0 3h0m0 17h0m0 1h0m0 1h0m0 4h0m0 2h0m0 1h0m0 3h0m0 10h0m0 8h0m1-63h0m0 15h0m0 23h0m0 1h0m0 1h0m0 3h0m0 3h0m0 3h0m0 5h0m0 3h0m0 1h0m1-51h0m0 24h0m0 4h0m0 2h0m0 1h0m0 3h0m0 1h0m0 4h0m0 1h0m0 3h0m0 5h0m0 3h0m0 7h0m1-71h0m0 36h0m0 5h0m0 1h0m0 3h0m0 2h0m0 1h0m0 1h0m0 3h0m0 1h0m0 4h0m0 1h0m0 8h0m0 2h0m0 2h0m0 4h0m1-36h0m0 4h0m0 4h0m0 1h0m0 2h0m0 1h0m0 1h0m0 1h0m0 2h0m0 1h0m0 1h0m0 2h0m0 2h0m0 3h0m0 1h0m0 2h0m0 3h0m1-62h0m0 10h0m0 21h0m0 1h0m0 3h0m0 2h0m0 2h0m0 5h0m0 7h0m0 3h0m0 1h0m0 5h0m0 14h0m1-58h0m0 13h0m0 7h0m0 4h0m0 1h0m0 1h0m0 1h0m0 1h0m0 3h0m0 3h0m0 1h0m0 4h0m0 2h0m0 12h0m1-59h0m0 26h0m0 2h0m0 2h0m0 1h0m0 3h0m0 2h0m0 4h0m0 2h0m0 2h0m0 1h0m0 1h0m0 2h0m1-58h0m0 32h0m0 1h0m0 3h0m0 3h0m0 2h0m0 8h0m0 1h0m0 1h0m0 11h0m0 1h0m1-33h0m0 7h0m0 4h0m0 1h0m0 1h0m0 1h0m0 2h0m0 1h0m0 3h0m0 7h0m0 1h0m0 7h0m1-84h0m0 11h0m0 38h0m0 3h0m0 1h0m0 2h0m0 2h0m0 2h0m0 1h0m0 4h0m0 2h0m0 3h0m0 1h0m0 6h0m0 5h0m1-76h0m0 28h0m0 17h0m0 2h0m0 1h0m0 2h0m0 3h0m0 1h0m0 4h0m0 4h0m0 10h0m1-53h0m0 25h0m0 3h0m0 3h0m0 1h0m0 6h0m0 2h0m0 7h0m0 1h0m0 2h0m0 2h0m0 3h0m1-49h0m0 17h0m0 4h0m0 2h0m0 2h0m0 4h0m0 1h0m0 2h0m0 8h0m0 5h0m0 2h0m0 1h0m0 1h0m1-47h0m0 14h0m0 4h0m0 3h0m0 1h0m0 1h0m0 5h0m0 2h0m0 1h0m0 1h0m0 2h0m0 1h0m0 4h0m0 11h0m1-33h0m0 2h0m0 2h0m0 1h0m0 1h0m0 3h0m0 5h0m0 1h0m0 2h0m0 1h0m0 3h0m0 6h0m0 2h0m1-73h0m0 41h0m0 5h0m0 1h0m0 1h0m0 1h0m0 6h0m0 1h0m0 2h0m0 1h0m0 6h0m0 2h0m0 5h0m0 1h0m0 2h0m1-31h0m0 1h0m0 1h0m0 9h0m0 1h0m0 1h0m0 2h0m0 8h0m0 10h0m1-54h0m0 2h0m0 18h0m0 1h0m0 1h0m0 1h0m0 1h0m0 6h0m0 1h0m0 7h0m0 3h0m0 1h0m0 10h0m1-31h0m0 3h0m0 1h0m0 1h0m0 6h0m0 2h0m0 5h0m0 3h0m0 9h0m1-29h0m0 1h0m0 1h0m0 9h0m0 1h0m0 3h0m0 4h0m0 1h0m0 1h0m0 1h0m0 2h0m0 1h0m1-21h0m0 5h0m0 3h0m0 3h0m0 6h0m0 2h0m0 1h0m0 1h0m1-48h0m0 24h0m0 1h0m0 2h0m0 1h0m0 4h0m0 2h0m0 1h0m0 8h0m0 1h0m0 6h0m0 1h0m1-59h0m0 10h0m0 18h0m0 2h0m0 1h0m0 1h0m0 2h0m0 2h0m0 1h0m0 4h0m0 1h0m0 1h0m0 1h0m0 2h0m0 7h0m0 4h0m0 2h0m1-58h0m0 4h0m0 5h0m0 27h0m0 1h0m0 4h0m0 9h0m0 1h0m1-48h0m0 20h0m0 8h0m0 2h0m0 1h0m0 4h0m0 3h0m0 2h0m0 6h0m0 3h0m0 1h0m0 5h0m0 1h0m0 1h0m1-29h0m0 3h0m0 1h0m0 4h0m0 4h0m0 3h0m0 5h0m1-22h0m0 4h0m0 1h0m0 4h0m0 1h0m0 1h0m0 1h0m0 1h0m0 3h0m0 4h0m0 1h0m0 2h0m0 2h0m0 7h0m1-53h0m0 23h0m0 6h0m0 5h0m0 2h0m0 2h0m0 8h0m0 1h0m1-61h0m0 39h0m0 1h0m0 5h0m0 1h0m0 1h0m0 2h0m0 1h0m0 4h0m0 5h0m0 4h0m1-45h0m0 28h0m0 4h0m0 3h0m0 1h0m0 1h0m0 1h0m0 2h0m0 6h0m1-63h0m0 3h0m0 30h0m0 6h0m0 1h0m0 1h0m0 3h0m0 8h0m0 6h0m0 5h0m1-29h0m0 7h0m0 2h0m0 3h0m0 2h0m0 1h0m0 2h0m0 1h0m0 3h0m0 1h0m0 3h0m0 1h0m0 3h0m0 3h0m1-84h0m0 26h0m0 25h0m0 7h0m0 3h0m0 1h0m0 1h0m0 1h0m0 1h0m0 1h0m0 5h0m0 1h0m0 1h0m0 4h0m0 2h0m0 2h0m0 5h0m1-57h0m0 25h0m0 4h0m0 5h0m0 2h0m0 3h0m0 1h0m0 2h0m0 1h0m0 9h0m1-30h0m0 2h0m0 5h0m0 6h0m0 3h0m0 2h0m0 1h0m0 3h0m0 1h0m0 3h0m0 8h0m1-55h0m0 18h0m0 3h0m0 2h0m0 7h0m0 1h0m0 3h0m0 1h0m0 4h0m0 1h0m0 8h0m0 4h0m1-30h0m0 3h0m0 1h0m0 1h0m0 2h0m0 3h0m0 1h0m0 1h0m0 5h0m0 3h0m0 8h0m0 2h0m1-60h0m0 12h0m0 17h0m0 8h0m0 1h0m0 6h0m0 1h0m0 1h0m0 1h0m0 2h0m0 1h0m0 5h0m0 1h0m0 1h0m0 5h0m1-34h0m0 6h0m0 2h0m0 5h0m0 1h0m0 1h0m0 3h0m0 6h0m0 1h0m0 6h0m0 2h0m1-34h0m0 3h0m0 2h0m0 1h0m0 1h0m0 5h0m0 3h0m0 2h0m0 1h0m0 1h0m0 2h0m0 1h0m0 1h0m0 5h0m0 1h0m0 2h0m0 1h0m0 2h0m1-34h0m0 1h0m0 4h0m0 1h0m0 1h0m0 5h0m0 1h0m0 3h0m0 11h0m0 7h0m1-72h0m0 39h0m0 8h0m0 1h0m0 3h0m0 2h0m0 1h0m0 1h0m0 1h0m0 3h0m0 12h0m1-32h0m0 4h0m0 6h0m0 5h0m0 1h0m0 1h0m0 1h0m0 5h0m0 2h0m0 2h0m0 3h0m0 2h0m1-31h0m0 9h0m0 6h0m0 5h0m0 1h0m0 3h0m0 2h0m0 1h0m0 3h0m0 3h0m1-49h0m0 15h0m0 8h0m0 4h0m0 2h0m0 2h0m0 3h0m0 6h0m0 5h0m1-31h0m0 6h0m0 2h0m0 2h0m0 5h0m0 4h0m0 4h0m0 8h0m1-49h0m0 21h0m0 8h0m0 5h0m0 4h0m0 1h0m0 2h0m0 8h0m0 2h0m1-26h0m0 1h0m0 2h0m0 6h0m0 2h0m0 2h0m0 3h0m0 2h0m1-19h0m0 3h0m0 1h0m0 1h0m0 1h0m0 2h0m0 2h0m0 1h0m0 1h0m0 7h0m0 1h0m0 2h0m0 2h0m1-50h0m0 23h0m0 3h0m0 4h0m0 5h0m0 1h0m0 5h0m0 2h0m0 8h0m0 1h0m0 3h0m1-34h0m0 4h0m0 6h0m0 2h0m0 5h0m0 1h0m0 1h0m0 7h0m1-56h0m0 29h0m0 7h0m0 1h0m0 1h0m0 9h0m0 8h0m0 1h0m0 4h0m1-59h0m0 30h0m0 3h0m0 2h0m0 1h0m0 2h0m0 1h0m0 5h0m0 1h0m0 5h0m1-48h0m0 33h0m0 2h0m0 1h0m0 1h0m0 1h0m0 1h0m0 1h0m0 11h0m0 2h0m0 1h0m0 1h0m1-56h0m0 2h0m0 25h0m0 7h0m0 1h0m0 1h0m0 3h0m0 5h0m0 1h0m0 1h0m0 1h0m0 1h0m0 2h0m0 4h0m0 3h0m1-28h0m0 1h0m0 4h0m0 1h0m0 2h0m0 2h0m0 1h0m0 2h0m0 3h0m0 3h0m0 3h0m0 1h0m1-24h0m0 1h0m0 4h0m0 2h0m0 1h0m0 3h0m0 1h0m0 1h0m0 1h0m0 3h0m0 11h0m1-20h0m0 1h0m0 3h0m0 4h0m0 9h0m1-49h0m0 20h0m0 10h0m0 1h0m0 1h0m0 1h0m0 1h0m0 1h0m0 2h0m0 3h0m0 1h0m1-51h0m0 36h0m0 1h0m0 2h0m0 2h0m0 1h0m0 1h0m0 5h0m0 1h0m0 2h0m0 1h0m1-16h0m0 3h0m0 1h0m0 6h0m0 1h0m0 8h0m0 3h0m0 3h0m0 2h0m1-28h0m0 1h0m0 2h0m0 4h0m0 5h0m0 1h0m0 2h0m0 4h0m0 2h0m0 5h0m0 1h0m1-59h0m0 36h0m0 2h0m0 1h0m0 5h0m0 3h0m0 2h0m0 9h0m0 2h0m1-27h0m0 8h0m0 4h0m0 1h0m0 3h0m0 8h0m1-23h0m0 2h0m0 2h0m0 2h0m0 1h0m0 2h0m0 10h0m0 4h0m0 2h0m1-66h0m0 2h0m0 14h0m0 2h0m0 22h0m0 3h0m0 19h0m1-19h0m0 7h0m0 1h0m0 1h0m0 1h0m0 1h0m0 4h0m0 1h0m0 3h0m1-24h0m0 1h0m0 6h0m0 1h0m0 1h0m0 9h0m0 4h0m1-12h0m0 1h0m0 5h0m1-13h0m0 3h0m0 1h0m0 8h0m1 20h0m1-29h0m0 3h0m0 18h0m1-21h0m0 2h0m1-3h0m0 4h0m0 11h0m0 4h0m1-21h0m0 10h0m0 5h0m0 4h0m1-47h0m0 26h0m0 14h0m0 6h0m1-56h0m0 39h0m0 2h0m0 17h0m1-40h0m1-17h0m4 5h0m0 4h0m1-11h0m0 11h0m6-7h0m2 14h0m1-3h0m1-4h0m0 1h0m1-4h0m1-5h0m1 9h0m3 5h0m1-7h0" stroke="#ee9a00"/>
<path d="M166 393h0m1 4h0m0 16h0m1-46h0m1 33h0m1-51h0m0 88h0m1-33h0m1 3h0m0 61h0m1-102h0m0 2h0m0 33h0m1-20h0m0 41h0m1 15h0m0 30h0m1-112h0m0 38h0m0 24h0m1-38h0m1-16h0m0 9h0m0 26h0m0 1h0m0 25h0m1-25h0m1-76h0m0 58h0m0 19h0m0 12h0m0 1h0m1-5h0m1-26h0m0 18h0m0 1h0m0 16h0m1-58h0m0 37h0m0 1h0m0 7h0m0 16h0m1-7h0m0 54h0m2-75h0m0 23h0m1-26h0m0 12h0m0 4h0m1-84h0m0 15h0m0 44h0m0 53h0m1-51h0m0 21h0m0 3h0m1-17h0m0 3h0m1 15h0m0 2h0m1-37h0m1 21h0m0 34h0m0 40h0m1-72h0m0 5h0m0 52h0m1-86h0m0 45h0m0 18h0m1-48h0m0 1h0m1-79h0m0 29h0m0 55h0m0 13h0m0 9h0m1-52h0m1 6h0m0 15h0m0 49h0m1-80h0m0 24h0m0 25h0m0 3h0m0 1h0m0 35h0m1-50h0m0 9h0m0 12h0m0 6h0m0 5h0m0 53h0m1-95h0m1-19h0m0 27h0m0 18h0m1-154h0m0 123h0m0 22h0m0 39h0m1-46h0m1-30h0m0 45h0m0 6h0m0 5h0m0 43h0m1-31h0m0 49h0m1-120h0m0 11h0m1 23h0m0 1h0m1 6h0m0 11h0m0 21h0m1-92h0m0 112h0m1-90h0m0 35h0m0 11h0m0 21h0m0 7h0m1-61h0m0 14h0m0 12h0m0 20h0m1-53h0m0 8h0m0 9h0m0 22h0m1-49h0m0 27h0m0 4h0m0 16h0m1-20h0m0 34h0m1-13h0m0 2h0m1-70h0m0 41h0m0 28h0m0 10h0m1-91h0m0 9h0m0 16h0m0 16h0m0 19h0m0 4h0m0 8h0m1-16h0m0 3h0m0 10h0m0 28h0m0 53h0m1-149h0m0 8h0m0 28h0m0 9h0m0 7h0m0 5h0m0 3h0m0 3h0m0 7h0m0 2h0m1-40h0m0 9h0m0 1h0m0 37h0m0 7h0m1-35h0m0 6h0m0 11h0m0 2h0m0 6h0m0 70h0m1-134h0m0 23h0m0 20h0m0 6h0m0 4h0m0 1h0m0 7h0m0 11h0m0 7h0m1-68h0m0 1h0m0 24h0m0 3h0m0 8h0m0 16h0m0 5h0m1-21h0m0 2h0m0 11h0m1-28h0m0 9h0m0 7h0m0 34h0m1-76h0m0 24h0m0 10h0m0 16h0m0 72h0m1-151h0m0 40h0m0 26h0m0 3h0m0 7h0m0 3h0m0 33h0m1-63h0m0 38h0m0 3h0m1-72h0m0 20h0m0 12h0m0 15h0m0 4h0m0 12h0m1-32h0m0 21h0m0 20h0m1-79h0m0 3h0m0 16h0m0 19h0m0 12h0m0 8h0m0 1h0m0 5h0m0 1h0m0 6h0m1-72h0m1 10h0m0 40h0m0 7h0m0 9h0m0 5h0m0 2h0m0 16h0m1-97h0m0 56h0m0 11h0m0 3h0m0 9h0m1-69h0m0 41h0m0 3h0m0 1h0m0 8h0m0 12h0m0 14h0m1-44h0m0 21h0m0 1h0m0 2h0m0 2h0m0 8h0m1-70h0m0 35h0m0 21h0m0 21h0m1-42h0m0 11h0m0 4h0m0 2h0m0 2h0m0 5h0m0 5h0m0 5h0m0 11h0m1-48h0m0 21h0m0 14h0m0 2h0m0 3h0m0 27h0m1-57h0m0 5h0m0 14h0m0 4h0m0 12h0m1-20h0m0 32h0m1-87h0m0 28h0m0 11h0m0 17h0m0 3h0m0 4h0m0 6h0m0 6h0m1-69h0m0 34h0m0 1h0m0 5h0m0 2h0m0 2h0m0 8h0m0 2h0m0 7h0m1-24h0m0 2h0m0 11h0m0 2h0m0 6h0m0 1h0m0 6h0m0 9h0m1-77h0m0 38h0m0 20h0m0 6h0m0 2h0m1-54h0m0 32h0m0 4h0m0 1h0m0 18h0m0 3h0m1-43h0m0 24h0m0 9h0m0 6h0m0 1h0m0 67h0m1-127h0m0 46h0m1-50h0m0 23h0m0 20h0m0 4h0m0 6h0m0 6h0m1-47h0m0 23h0m0 7h0m0 4h0m0 5h0m0 3h0m0 2h0m0 2h0m1-17h0m0 1h0m0 10h0m0 6h0m0 2h0m0 1h0m1-62h0m0 8h0m0 29h0m0 4h0m0 3h0m0 4h0m0 2h0m0 3h0m0 1h0m0 2h0m0 15h0m0 7h0m1-55h0m0 8h0m0 4h0m0 2h0m0 3h0m0 1h0m0 1h0m0 17h0m0 2h0m1-49h0m0 3h0m0 9h0m0 14h0m0 1h0m0 11h0m0 1h0m0 6h0m1-60h0m0 11h0m0 30h0m0 1h0m0 6h0m0 2h0m0 6h0m0 9h0m1-66h0m0 25h0m0 24h0m0 3h0m0 7h0m0 7h0m1-44h0m0 11h0m0 3h0m0 5h0m0 1h0m0 4h0m0 7h0m0 2h0m0 2h0m1-49h0m0 26h0m0 17h0m0 12h0m0 3h0m1-60h0m0 1h0m0 33h0m0 3h0m0 1h0m0 4h0m0 11h0m0 4h0m1-38h0m0 9h0m0 20h0m0 1h0m0 2h0m1-23h0m0 8h0m0 1h0m0 2h0m0 4h0m0 3h0m0 1h0m0 5h0m0 7h0m0 9h0m0 55h0m1-88h0m0 8h0m0 43h0m1-54h0m0 1h0m0 21h0m1-21h0m0 7h0m1-9h0m0 6h0m0 6h0m0 1h0m0 16h0m0 36h0m1-64h0m0 3h0m0 4h0m0 4h0m0 1h0m0 3h0m1-9h0m0 6h0m0 7h0m0 9h0m0 13h0m0 3h0m0 26h0m1-68h0m0 22h0m1-29h0m0 1h0m0 4h0m0 3h0m0 4h0m0 4h0m0 1h0m0 2h0m0 1h0m0 26h0m0 10h0m0 5h0m1-66h0m0 17h0m0 8h0m0 4h0m0 4h0m1-42h0m0 17h0m0 2h0m0 1h0m0 4h0m0 2h0m0 4h0m0 3h0m0 1h0m0 1h0m0 1h0m0 8h0m0 9h0m1-61h0m0 34h0m0 1h0m0 4h0m0 11h0m1-42h0m0 32h0m0 1h0m0 20h0m1-45h0m0 13h0m0 3h0m0 1h0m0 7h0m0 14h0m1-36h0m0 4h0m0 5h0m0 7h0m0 9h0m0 3h0m0 3h0m0 1h0m1-43h0m0 30h0m0 6h0m0 8h0m1-26h0m0 6h0m0 5h0m0 7h0m0 2h0m0 9h0m1-17h0m0 1h0m0 1h0m0 5h0m0 6h0m1-17h0m0 5h0m0 5h0m1-55h0m0 39h0m0 5h0m0 4h0m0 6h0m0 1h0m0 1h0m0 3h0m0 6h0m0 7h0m1-23h0m0 3h0m0 4h0m0 18h0m1-35h0m0 4h0m0 1h0m0 3h0m0 2h0m0 2h0m0 5h0m0 1h0m0 3h0m1-49h0m0 30h0m0 3h0m0 1h0m0 1h0m0 4h0m0 14h0m0 36h0m1-55h0m0 3h0m0 4h0m0 5h0m0 1h0m0 1h0m0 2h0m1-27h0m0 6h0m0 3h0m0 2h0m0 6h0m0 2h0m0 2h0m0 4h0m0 2h0m0 1h0m0 3h0m1-38h0m0 17h0m0 4h0m0 2h0m0 5h0m0 4h0m1-12h0m0 6h0m0 33h0m1-74h0m0 25h0m0 6h0m0 2h0m0 3h0m0 1h0m0 1h0m0 8h0m0 14h0m1-59h0m0 21h0m0 2h0m0 8h0m0 2h0m0 4h0m0 33h0m1-43h0m0 3h0m0 2h0m0 7h0m0 1h0m0 12h0m1-24h0m0 1h0m0 1h0m0 3h0m0 1h0m0 3h0m0 7h0m1-37h0m0 36h0m0 1h0m0 2h0m0 19h0m1-54h0m0 20h0m0 9h0m0 6h0m0 1h0m1-31h0m0 15h0m0 8h0m0 4h0m0 6h0m0 1h0m1-20h0m0 2h0m0 1h0m0 1h0m0 8h0m0 1h0m0 1h0m0 5h0m1-24h0m0 9h0m0 4h0m0 3h0m0 5h0m0 7h0m0 1h0m0 3h0m1-20h0m0 3h0m1-5h0m0 1h0m0 2h0m0 2h0m0 2h0m0 3h0m0 3h0m1-54h0m0 25h0m0 10h0m0 1h0m0 10h0m0 6h0m0 3h0m1-24h0m0 8h0m0 2h0m0 3h0m0 4h0m0 2h0m0 1h0m0 5h0m0 4h0m0 4h0m0 14h0m1-62h0m0 21h0m0 3h0m0 5h0m0 1h0m1-38h0m0 27h0m0 1h0m0 12h0m0 1h0m0 2h0m1-30h0m0 16h0m0 1h0m0 7h0m0 11h0m1-48h0m0 30h0m0 5h0m0 1h0m0 5h0m0 26h0m1-42h0m0 3h0m0 1h0m0 11h0m0 4h0m0 3h0m0 5h0m1-31h0m0 13h0m0 3h0m0 2h0m1-42h0m0 24h0m0 11h0m0 2h0m0 3h0m0 1h0m0 1h0m0 1h0m0 2h0m1-22h0m0 12h0m0 3h0m0 7h0m0 2h0m0 2h0m0 3h0m1-44h0m0 16h0m0 3h0m0 3h0m0 2h0m0 1h0m0 1h0m0 11h0m0 2h0m0 16h0m1-32h0m0 4h0m0 3h0m0 2h0m0 1h0m0 3h0m0 8h0m1-179h0m0 157h0m0 3h0m0 7h0m0 2h0m0 4h0m0 5h0m1-52h0m0 23h0m0 2h0m0 1h0m0 3h0m0 4h0m0 13h0m0 10h0m1-21h0m0 4h0m0 1h0m0 3h0m0 3h0m0 3h0m0 4h0m1-20h0m0 9h0m0 5h0m0 3h0m0 2h0m1-62h0m0 25h0m0 6h0m0 13h0m0 1h0m0 3h0m0 1h0m0 4h0m0 1h0m0 1h0m1-15h0m0 2h0m0 8h0m0 2h0m0 1h0m0 2h0m0 24h0m1-43h0m0 2h0m0 9h0m0 2h0m0 9h0m0 3h0m1-21h0m0 3h0m0 7h0m0 1h0m0 12h0m1-41h0m0 20h0m0 5h0m0 9h0m1-19h0m0 2h0m0 9h0m0 11h0m0 2h0m1-25h0m0 10h0m0 5h0m0 1h0m0 1h0m0 3h0m1-2h0m0 6h0m0 2h0m1-60h0m0 33h0m0 9h0m0 10h0m0 1h0m1-34h0m0 11h0m0 2h0m0 7h0m0 9h0m0 11h0m0 2h0m1-26h0m0 11h0m0 2h0m0 7h0m0 4h0m0 1h0m1-160h0m0 115h0m0 24h0m0 4h0m0 7h0m0 1h0m0 2h0m0 4h0m0 1h0m0 3h0m1-21h0m0 2h0m0 6h0m0 9h0m0 4h0m1-35h0m0 6h0m0 8h0m0 10h0m0 2h0m1-43h0m0 12h0m0 8h0m0 5h0m0 1h0m0 14h0m0 2h0m0 1h0m0 3h0m0 2h0m0 10h0m0 3h0m1-63h0m0 32h0m0 5h0m0 1h0m0 2h0m0 2h0m0 1h0m0 12h0m1-35h0m0 7h0m0 4h0m0 3h0m0 4h0m0 2h0m0 1h0m0 5h0m0 2h0m0 1h0m0 3h0m0 1h0m0 1h0m1-13h0m0 4h0m0 9h0m1-25h0m0 15h0m0 4h0m0 1h0m0 3h0m1-23h0m0 4h0m0 2h0m0 4h0m0 12h0m0 2h0m0 2h0m0 2h0m1-49h0m0 29h0m0 1h0m0 5h0m0 6h0m1-61h0m0 30h0m0 18h0m0 4h0m0 3h0m0 4h0m0 3h0m0 1h0m0 1h0m1-18h0m0 1h0m0 1h0m0 1h0m0 1h0m0 1h0m1-53h0m0 46h0m0 7h0m0 8h0m0 2h0m0 21h0m0 16h0m1-59h0m0 4h0m0 1h0m0 5h0m0 1h0m0 2h0m0 6h0m0 1h0m0 2h0m0 3h0m0 9h0m1-51h0m0 24h0m0 2h0m0 5h0m0 7h0m0 4h0m0 2h0m0 2h0m1-48h0m0 25h0m0 4h0m0 2h0m0 6h0m0 6h0m1-28h0m0 3h0m0 10h0m0 4h0m0 3h0m0 3h0m0 7h0m0 1h0m1-23h0m0 1h0m0 6h0m1-6h0m0 3h0m0 4h0m0 3h0m0 10h0m0 3h0m1-26h0m0 2h0m0 24h0m1-39h0m0 10h0m0 15h0m0 1h0m0 2h0m0 10h0m1-26h0m0 5h0m0 2h0m0 9h0m0 16h0m1-25h0m0 4h0m0 1h0m0 1h0m0 5h0m0 5h0m1-22h0m0 7h0m0 7h0m0 8h0m0 1h0m0 1h0m0 4h0m1-22h0m0 1h0m0 3h0m0 2h0m0 2h0m0 1h0m0 5h0m0 8h0m1-31h0m0 2h0m0 2h0m0 6h0m0 3h0m0 1h0m0 7h0m0 9h0m0 2h0m0 10h0m1-41h0m0 2h0m0 12h0m0 1h0m0 6h0m0 6h0m1-34h0m0 21h0m0 3h0m0 3h0m0 11h0m1-25h0m0 5h0m0 7h0m0 7h0m0 3h0m1-22h0m0 4h0m0 1h0m0 3h0m0 2h0m0 5h0m0 11h0m0 3h0m1-30h0m0 16h0m0 4h0m0 4h0m1-25h0m0 4h0m0 6h0m0 4h0m0 3h0m0 3h0m1-24h0m0 6h0m0 6h0m0 1h0m0 1h0m0 2h0m0 1h0m0 1h0m0 2h0m0 7h0m1-45h0m0 18h0m0 16h0m0 6h0m0 39h0m1-61h0m0 13h0m0 1h0m0 5h0m0 10h0m1-35h0m0 11h0m0 4h0m0 3h0m0 4h0m0 4h0m0 1h0m0 6h0m1-16h0m0 1h0m1-14h0m0 6h0m0 13h0m0 1h0m0 7h0m0 5h0m1-43h0m0 13h0m0 3h0m0 3h0m0 5h0m0 2h0m0 2h0m1-3h0m0 1h0m0 1h0m0 1h0m0 1h0m0 3h0m1-31h0m0 16h0m0 14h0m0 1h0m0 1h0m0 1h0m0 18h0m1-39h0m0 1h0m0 4h0m0 7h0m0 5h0m0 6h0m0 1h0m0 2h0m0 9h0m1-28h0m0 5h0m0 6h0m0 8h0m0 3h0m1-18h0m0 1h0m0 2h0m0 2h0m0 10h0m1-25h0m0 8h0m0 7h0m0 2h0m0 1h0m0 3h0m0 1h0m0 4h0m0 4h0m1-31h0m0 14h0m0 6h0m0 2h0m1-12h0m0 1h0m0 3h0m0 5h0m0 10h0m1-21h0m0 18h0m1-26h0m0 11h0m0 15h0m0 3h0m1-28h0m0 16h0m0 1h0m0 2h0m0 9h0m0 3h0m0 3h0m1-27h0m0 1h0m0 2h0m0 3h0m0 7h0m0 3h0m0 2h0m0 5h0m1-20h0m0 4h0m0 13h0m1-22h0m0 7h0m0 9h0m0 12h0m1-32h0m0 3h0m0 3h0m0 6h0m0 7h0m0 2h0m0 2h0m0 2h0m0 1h0m1-29h0m0 12h0m0 1h0m0 1h0m0 3h0m0 2h0m0 1h0m0 1h0m0 7h0m1-16h0m0 1h0m0 7h0m0 2h0m0 7h0m0 4h0m0 3h0m1-34h0m0 1h0m0 15h0m0 1h0m0 2h0m0 1h0m0 5h0m0 6h0m1-27h0m0 7h0m0 6h0m0 6h0m0 4h0m0 3h0m1-22h0m0 15h0m0 4h0m1-17h0m0 11h0m0 2h0m1-20h0m0 7h0m0 2h0m0 6h0m0 1h0m0 2h0m1-25h0m0 14h0m0 15h0m0 3h0m1-27h0m0 7h0m0 9h0m0 10h0m0 1h0m0 19h0m1-47h0m0 2h0m0 7h0m0 1h0m0 4h0m0 1h0m0 4h0m0 2h0m0 1h0m0 2h0m1-17h0m0 9h0m0 1h0m0 2h0m0 10h0m0 1h0m1-27h0m0 3h0m0 3h0m0 1h0m0 2h0m0 8h0m0 3h0m1-21h0m0 5h0m0 5h0m0 5h0m0 2h0m0 1h0m1-21h0m0 14h0m0 3h0m0 1h0m0 1h0m0 3h0m0 4h0m1-15h0m0 4h0m0 8h0m1-26h0m0 12h0m0 6h0m0 4h0m0 2h0m0 10h0m1-30h0m0 1h0m0 15h0m0 1h0m0 1h0m0 1h0m1-10h0m0 1h0m0 4h0m0 3h0m0 2h0m0 10h0m1-25h0m0 1h0m0 4h0m0 1h0m0 4h0m0 4h0m0 2h0m0 11h0m1-51h0m0 30h0m0 3h0m0 1h0m0 2h0m0 2h0m0 3h0m0 1h0m0 5h0m0 10h0m1-76h0m0 36h0m0 9h0m0 4h0m0 7h0m0 5h0m0 5h0m0 8h0m1-63h0m0 28h0m0 4h0m0 2h0m0 9h0m0 3h0m0 1h0m0 2h0m0 15h0m1-55h0m0 24h0m0 1h0m0 2h0m0 4h0m0 1h0m0 4h0m0 1h0m0 2h0m0 2h0m0 4h0m0 1h0m1-16h0m0 2h0m0 1h0m0 2h0m0 1h0m0 3h0m0 3h0m0 1h0m1-26h0m0 7h0m0 2h0m0 10h0m0 1h0m0 1h0m0 4h0m0 1h0m0 1h0m0 4h0m0 18h0m1-45h0m0 7h0m0 1h0m0 2h0m0 6h0m0 2h0m0 3h0m0 4h0m0 2h0m1-51h0m0 23h0m0 5h0m0 1h0m0 5h0m0 2h0m0 3h0m0 1h0m1-146h0m0 67h0m0 64h0m0 2h0m0 2h0m0 1h0m0 1h0m0 2h0m0 1h0m0 2h0m0 3h0m0 1h0m0 1h0m0 2h0m0 3h0m0 1h0m0 5h0m0 1h0m0 1h0m1-34h0m0 2h0m0 2h0m0 7h0m0 1h0m0 1h0m0 1h0m0 1h0m0 4h0m0 1h0m0 3h0m0 1h0m0 1h0m0 5h0m0 3h0m0 2h0m1-21h0m0 3h0m0 3h0m0 1h0m0 4h0m0 8h0m0 3h0m1-23h0m0 2h0m0 5h0m0 4h0m1-41h0m0 17h0m0 12h0m0 2h0m0 1h0m0 1h0m0 3h0m0 2h0m0 1h0m0 5h0m0 2h0m1-22h0m0 5h0m0 1h0m0 9h0m0 2h0m1-20h0m0 3h0m0 4h0m0 2h0m0 3h0m0 4h0m0 5h0m0 3h0m0 2h0m0 8h0m0 4h0m1-38h0m0 7h0m0 3h0m0 4h0m0 8h0m1-68h0m0 43h0m0 7h0m0 6h0m0 1h0m0 2h0m0 3h0m0 2h0m0 4h0m1-18h0m0 3h0m0 1h0m0 8h0m0 1h0m0 2h0m0 1h0m0 6h0m1-27h0m0 6h0m0 1h0m0 7h0m0 1h0m0 12h0m0 5h0m1-26h0m0 1h0m0 1h0m0 1h0m0 4h0m0 1h0m0 1h0m0 1h0m0 1h0m0 4h0m0 3h0m0 4h0m1-87h0m0 59h0m0 2h0m0 8h0m0 6h0m0 2h0m0 5h0m0 1h0m1-28h0m0 3h0m0 4h0m0 2h0m0 8h0m0 1h0m0 1h0m0 13h0m1-25h0m0 3h0m0 3h0m0 3h0m0 2h0m0 1h0m0 5h0m0 7h0m1-20h0m0 1h0m0 1h0m0 3h0m0 1h0m0 17h0m1-14h0m0 6h0m0 5h0m0 3h0m0 1h0m0 1h0m1-35h0m0 15h0m0 3h0m0 3h0m0 6h0m0 20h0m1-43h0m0 3h0m0 4h0m0 2h0m0 1h0m0 1h0m0 5h0m0 5h0m0 3h0m0 5h0m1-24h0m0 3h0m0 1h0m0 1h0m0 6h0m0 3h0m0 2h0m0 3h0m0 6h0m1-24h0m0 7h0m0 3h0m0 1h0m0 6h0m0 2h0m1-29h0m0 1h0m0 1h0m0 9h0m0 2h0m0 9h0m0 2h0m0 4h0m0 2h0m1-61h0m0 42h0m0 3h0m0 4h0m0 2h0m0 2h0m0 10h0m1-25h0m0 9h0m0 1h0m0 1h0m0 1h0m0 3h0m0 13h0m0 14h0m1-38h0m0 2h0m0 3h0m0 2h0m0 1h0m0 1h0m0 2h0m0 1h0m1-18h0m0 8h0m0 2h0m0 3h0m0 3h0m0 6h0m1-53h0m0 34h0m0 8h0m0 1h0m0 3h0m0 3h0m0 2h0m0 1h0m0 1h0m0 2h0m0 2h0m1-31h0m0 5h0m0 3h0m0 3h0m0 3h0m0 8h0m0 10h0m0 5h0m1-43h0m0 4h0m0 14h0m0 9h0m0 4h0m1-27h0m0 6h0m0 3h0m0 7h0m0 2h0m0 3h0m0 2h0m0 5h0m0 3h0m0 2h0m1-33h0m0 11h0m0 1h0m0 1h0m0 1h0m0 3h0m0 4h0m0 3h0m0 1h0m0 4h0m0 2h0m0 2h0m0 5h0m1-31h0m0 7h0m0 3h0m0 4h0m0 5h0m1-15h0m0 5h0m0 4h0m0 3h0m0 5h0m0 4h0m1-46h0m0 16h0m0 12h0m0 5h0m0 4h0m1-16h0m0 5h0m0 1h0m0 1h0m0 8h0m0 4h0m0 2h0m1-26h0m0 12h0m0 7h0m0 7h0m1-32h0m0 9h0m0 1h0m0 1h0m0 1h0m0 17h0m1-18h0m0 1h0m0 4h0m0 1h0m0 20h0m1-27h0m0 6h0m0 1h0m0 1h0m0 8h0m0 2h0m0 2h0m0 8h0m0 3h0m1-37h0m0 10h0m0 2h0m0 3h0m0 6h0m0 3h0m0 6h0m0 3h0m1-25h0m0 1h0m0 3h0m0 1h0m0 13h0m0 3h0m0 6h0m1-55h0m0 23h0m0 3h0m0 8h0m0 3h0m0 1h0m0 9h0m0 5h0m1-17h0m0 7h0m0 7h0m0 2h0m0 5h0m1-51h0m0 22h0m0 4h0m0 5h0m0 6h0m0 2h0m1-20h0m0 10h0m0 1h0m0 1h0m0 10h0m1-20h0m0 10h0m0 4h0m0 2h0m0 15h0m1-35h0m0 9h0m0 1h0m0 12h0m0 6h0m0 5h0m1-27h0m0 12h0m0 4h0m0 2h0m1-29h0m0 10h0m0 6h0m0 1h0m0 6h0m0 3h0m0 5h0m0 2h0m1-23h0m0 5h0m0 2h0m0 3h0m0 3h0m0 8h0m1-26h0m0 5h0m0 1h0m0 9h0m0 13h0m1-38h0m0 12h0m0 12h0m0 1h0m0 6h0m0 5h0m1-28h0m0 9h0m0 4h0m0 4h0m0 3h0m0 8h0m0 6h0m1-31h0m0 9h0m0 6h0m0 6h0m1-16h0m0 1h0m0 5h0m0 12h0m1-66h0m0 25h0m0 19h0m0 6h0m0 11h0m1-22h0m0 2h0m0 7h0m0 4h0m0 13h0m0 11h0m0 4h0m1-39h0m0 5h0m0 2h0m0 1h0m0 2h0m0 3h0m0 2h0m0 1h0m0 20h0m1-21h0m1-18h0m0 3h0m0 4h0m0 10h0m0 9h0m0 15h0m1-40h0m0 8h0m0 12h0m0 1h0m0 5h0m1-28h0m0 5h0m0 2h0m0 2h0m0 7h0m0 3h0m1-34h0m0 29h0m0 1h0m0 6h0m1-20h0m0 10h0m0 2h0m0 6h0m1-10h0m0 1h0m0 2h0m0 3h0m0 10h0m0 25h0m1-47h0m0 2h0m0 2h0m0 2h0m0 11h0m0 30h0m1-29h0m0 6h0m0 14h0m1-43h0m0 1h0m0 15h0m0 2h0m0 4h0m0 3h0m0 13h0m1-36h0m0 15h0m1-13h0m0 9h0m0 12h0m0 7h0m0 2h0m1-65h0m0 20h0m0 21h0m0 6h0m0 7h0m0 6h0m1-19h0m0 16h0m1-28h0m0 10h0m0 5h0m0 17h0m1-28h0m0 8h0m0 4h0m0 5h0m0 5h0m1-16h0m0 7h0m0 1h0m0 12h0m0 5h0m1-34h0m0 5h0m0 7h0m0 10h0m1-15h0m0 2h0m0 3h0m0 6h0m1-32h0m0 26h0m0 18h0m1-29h0m0 17h0m0 3h0m1-16h0m0 2h0m0 3h0m0 3h0m0 6h0m1-30h0m0 17h0m0 9h0m0 27h0m1-74h0m0 29h0m0 4h0m0 13h0m0 14h0m1-41h0m0 11h0m0 14h0m1-13h0m0 8h0m0 7h0m0 4h0m0 3h0m0 1h0m1-5h0m1 0h0m0 14h0m0 2h0m1-33h0m0 12h0m0 16h0m1-2h0m0 4h0m1-17h0m0 14h0m0 1h0m0 7h0m1-176h0m1 134h0m0 4h0m0 17h0m0 8h0m1-9h0m0 3h0m0 9h0m0 19h0m1-37h0m0 9h0m0 1h0m0 13h0m1-45h0m0 19h0m0 9h0m0 1h0m1-8h0m0 2h0m0 22h0m1-55h0m0 24h0m0 13h0m0 14h0m0 9h0m1-31h0m0 12h0m0 5h0m0 9h0m1-41h0m0 40h0m1-27h0m0 11h0m0 5h0m0 13h0m2-38h0m1-55h0m0 56h0m0 1h0m0 22h0m0 15h0m1-25h0m0 4h0m0 5h0m1-25h0m0 16h0m1-7h0m0 11h0m0 1h0m0 13h0m1-68h0m0 30h0m0 22h0m0 17h0m1-41h0m0 22h0m1-9h0m0 8h0m0 3h0m1-44h0m0 46h0m0 16h0m1-39h0m0 19h0m0 9h0m1-30h0m0 23h0m0 3h0m0 4h0m1-1h0m1-31h0m0 10h0m1 47h0m1-87h0m0 30h0m0 4h0m2-6h0m0 15h0m0 10h0m0 12h0m1-18h0m0 11h0m0 7h0m2 4h0m1-32h0m0 17h0m0 9h0m1-28h0m0 5h0m0 8h0m0 11h0m0 15h0m0 13h0m1-60h0m0 25h0m0 17h0m0 15h0m1-17h0m1-19h0m1-35h0m0 18h0m0 5h0m0 10h0m0 8h0m0 32h0m1-32h0m0 28h0m1-31h0m0 7h0m1-20h0m0 10h0m0 21h0m0 8h0m1-245h0m0 193h0m0 2h0m0 32h0m0 4h0m1-108h0m0 74h0m0 10h0m0 24h0m0 5h0m1-90h0m0 50h0m1-45h0m0 45h0m0 8h0m0 21h0m1-19h0m0 24h0m1-59h0m0 49h0m0 14h0m1-38h0m0 20h0m0 1h0m1 18h0m0 14h0m0 7h0m1-56h0m0 38h0m1 5h0m1-67h0m0 70h0m1-54h0m0 8h0m0 5h0m0 6h0m0 11h0m1-27h0m0 13h0m0 3h0m0 5h0m0 15h0m0 5h0m1-102h0m0 26h0m0 23h0m0 60h0m1-58h0m1-25h0m0 57h0m0 17h0m1-52h0m0 8h0m0 29h0m0 12h0m0 9h0m1-56h0m1 26h0m1 6h0m0 12h0m1-60h0m0 4h0m0 5h0m0 2h0m0 5h0m0 51h0m1-20h0m0 5h0m0 18h0m1-63h0m0 25h0m0 23h0m1-43h0m0 38h0m0 22h0m1-7h0m1-14h0m1-42h0m0 39h0m0 41h0m1-75h0m0 12h0m1-17h0m0 39h0m0 18h0m1-56h0m0 39h0m0 1h0m1-2h0m0 6h0m1-72h0m0 57h0m0 2h0m0 1h0m1 1h0m1-33h0m0 7h0m1-15h0m1 19h0m0 10h0m1 8h0m0 40h0m1-69h0m1-21h0m0 46h0m0 32h0m0 14h0m2-78h0m0 31h0m0 2h0m0 2h0m0 30h0m1-27h0m0 17h0m1-34h0m1-40h0m0 39h0m0 19h0m0 15h0m0 4h0m1-44h0m0 5h0m0 27h0m0 6h0m1-124h0m0 134h0m1-94h0m0 58h0m0 15h0m1-27h0m0 21h0m0 3h0m0 19h0m0 4h0m1-54h0m0 11h0m0 18h0m1-23h0m0 2h0m0 28h0m0 3h0m0 5h0m1-58h0m1-10h0m0 78h0m0 28h0m2-118h0m0 15h0m0 13h0m0 30h0m0 3h0m0 7h0m0 23h0m1-65h0m0 9h0m0 4h0m0 15h0m0 11h0m1-30h0m0 34h0m1-27h0m0 6h0m0 36h0m1-53h0m0 12h0m0 23h0m1-59h0m0 57h0m0 13h0m1-59h0m0 12h0m0 28h0m0 9h0m0 39h0m1-60h0m0 26h0m1-37h0m0 4h0m0 11h0m0 32h0m1-57h0m0 5h0m0 5h0m0 2h0m0 38h0m1-21h0m1-10h0m0 8h0m0 23h0m1-31h0m0 3h0m0 6h0m0 35h0m1-48h0m0 2h0m1 22h0m0 7h0m1-141h0m0 72h0m0 30h0m0 4h0m0 1h0m0 55h0m1-69h0m0 7h0m1 29h0m1-5h0m0 15h0m0 28h0m1-156h0m0 81h0m0 16h0m0 55h0m1-69h0m0 44h0m1-43h0m0 69h0m1-63h0m0 8h0m0 2h0m0 7h0m0 14h0m0 2h0m0 24h0m1-77h0m1-40h0m0 53h0m0 13h0m0 6h0m0 7h0m0 21h0m1-46h0m1-79h0m0 40h0m1-5h0m0 60h0m0 15h0m1-30h0m0 10h0m0 2h0m0 18h0m1-28h0m0 26h0m0 37h0m1-86h0m1 8h0m0 26h0m1-30h0m0 37h0m0 25h0m0 5h0m1-35h0m0 35h0m1-37h0m0 1h0m0 16h0m0 6h0m0 4h0m0 4h0m0 39h0m1-94h0m0 17h0m2 15h0m0 6h0m1 28h0m0 32h0m1-36h0m1-21h0m0 33h0m2-8h0m1-48h0m0 35h0m1-18h0m1-71h0m0 80h0m1-38h0m0 7h0m0 5h0m2-26h0m0 79h0m2-130h0m0 84h0m0 51h0m1-130h0m0 52h0m2 95h0m1-94h0m0 20h0m0 5h0m0 15h0m0 57h0m1-48h0m0 9h0m0 22h0m0 3h0m1-39h0m0 11h0m0 28h0m1-46h0m0 24h0m0 2h0m2-16h0m0 3h0m1-32h0m0 24h0m1-20h0m0 6h0m1 12h0m1 4h0m1-33h0m0 15h0m1-38h0m0 34h0m2 16h0m0 7h0m0 13h0" stroke="#1c86ee"/>
<path d="M208 420h0m7-61h0m5-26h0m3 32h0m1-13h0m0 5h0m3-13h0m1-3h0m0 11h0m8 6h0m2-27h0m0 38h0m4-24h0m0 14h0m1-27h0m2-2h0m0 9h0m2-8h0m0 37h0m2-19h0m4-18h0m0 10h0m2 10h0m2-24h0m8 29h0m2 10h0m3-25h0m5-21h0m1 5h0m0 13h0m8 33h0m1-27h0m1-6h0m2 12h0m1-53h0m1 59h0m2-25h0m5 43h0m4-41h0m1-28h0m2-5h0m1 32h0m3 31h0m4-10h0m1 12h0m0 2h0m2-44h0m0 7h0m0 7h0m0 9h0m0 9h0m1-24h0m0 28h0m2-9h0m0 1h0m3 12h0m1-35h0m1 12h0m8 36h0m1-44h0m0 4h0m2 3h0m5-4h0m6 19h0m1 17h0m3-32h0m5 27h0m4-27h0m0 14h0m6-6h0m5-5h0m13 1h0m4 21h0m14-3h0m5-10h0m1 26h0m8-28h0m1 10h0m0 10h0m1-9h0m2-18h0m0 16h0m4 4h0m0 7h0m7-15h0m8-11h0m4 30h0m1-29h0m3 3h0m5 5h0m5 21h0m1-24h0m1-1h0m4 29h0m4-18h0m9-1h0m1-6h0m2-4h0m1 11h0m2-3h0m1 4h0m4 3h0m2 16h0m2-29h0m0 21h0m7-3h0m5-19h0m6 19h0m2-20h0m0 15h0m4-5h0m4 8h0m4-10h0m7-8h0m1-1h0m5 3h0m6 19h0m3-12h0m7-15h0m2 8h0m6 4h0m1 0h0m1 19h0m4-10h0m2 10h0m13-7h0m5-22h0m1 3h0m1 18h0m6-24h0m0 2h0m1 12h0m2 13h0m1-28h0m2 3h0m6 18h0m1 2h0m8-20h0m0 16h0m4-15h0m5-5h0m4 0h0m2 15h0m1-18h0m4 11h0m4-4h0m5 6h0m4 5h0m4-16h0m2 21h0m1 8h0m5-22h0m7 15h0m1-6h0m4-15h0m0 13h0m1-11h0m0 3h0m0 1h0m2 4h0m1-10h0m2 12h0m2 10h0m3-10h0m3-7h0m1 1h0m2 2h0m2 2h0m12-7h0m1 11h0m2-8h0m6 10h0m13-6h0m0 4h0m3-6h0m4-9h0m3-1h0m3-11h0m0 2h0m4 30h0m9-16h0m2-1h0m0 5h0m3 7h0m2-14h0m3 20h0m1-5h0m7-25h0m1 22h0m1-13h0m1-11h0m2 29h0m8-30h0m6 14h0m3-12h0m1 4h0m1-25h0m0 38h0m4-12h0m6 14h0m25-44h0" stroke="#ee9a00"/>
<path d="M912 274h0m1 4h0m3-4h0m1 4h0m3 0h0m3 0h0m4-4h0m3 0h0m1-28h0m3 39h0m3-11h0m1-9h0m0 20h0m2-11h0m1 11h0m3 0h0m7 63h0m3-42h0m4 2h0m2 28h0m1 40h0m2-77h0m0 8h0m0 25h0m1-29h0m0 5h0m0 13h0m1-19h0m0 4h0m0 1h0m0 2h0m0 27h0m1-42h0m0 2h0m0 4h0m0 6h0m0 1h0m0 16h0m0 9h0m1-34h0m0 1h0m0 1h0m0 8h0m0 13h0m0 1h0m0 14h0m1-43h0m0 4h0m0 3h0m0 21h0m0 2h0m1-24h0m0 1h0m0 3h0m0 2h0m0 27h0m0 11h0m1-45h0m0 1h0m0 2h0m0 1h0m0 5h0m0 2h0m0 4h0m0 11h0m0 9h0m1-40h0m0 4h0m0 23h0m0 1h0m0 3h0m0 5h0m0 14h0m1-44h0m0 4h0m0 4h0m0 1h0m0 4h0m0 2h0m0 7h0m0 1h0m0 11h0m0 3h0m1-55h0m0 3h0m0 6h0m0 6h0m0 7h0m0 1h0m0 18h0m0 2h0m0 5h0m1-45h0m0 6h0m0 4h0m0 2h0m0 1h0m0 25h0m0 2h0m0 5h0m0 14h0m1-54h0m0 2h0m0 3h0m0 1h0m0 4h0m0 2h0m0 2h0m0 9h0m0 9h0m0 2h0m0 1h0m0 8h0m0 4h0m1-48h0m0 6h0m0 1h0m0 2h0m0 1h0m0 2h0m0 2h0m0 2h0m0 3h0m0 8h0m0 3h0m0 4h0m0 1h0m0 1h0m0 4h0m0 5h0m0 4h0m0 5h0m1-53h0m0 4h0m0 1h0m0 2h0m0 1h0m0 4h0m0 2h0m0 1h0m0 2h0m0 8h0m0 2h0m0 7h0m0 1h0m0 3h0m0 16h0m1-51h0m0 2h0m0 3h0m0 1h0m0 2h0m0 7h0m0 3h0m0 2h0m0 9h0m0 1h0m0 1h0m0 1h0m0 1h0m0 3h0m0 1h0m0 20h0m1-65h0m0 2h0m0 5h0m0 1h0m0 1h0m0 2h0m0 1h0m0 1h0m0 1h0m0 3h0m0 4h0m0 1h0m0 8h0m0 7h0m0 1h0m0 2h0m0 9h0m0 3h0m0 1h0m0 5h0m0 35h0m1-86h0m0 1h0m0 3h0m0 2h0m0 2h0m0 1h0m0 2h0m0 2h0m0 1h0m0 1h0m0 12h0m0 8h0m0 2h0m0 4h0m1-46h0m0 2h0m0 2h0m0 1h0m0 4h0m0 1h0m0 7h0m0 1h0m0 8h0m0 4h0m0 1h0m0 7h0m0 4h0m0 1h0m0 7h0m0 8h0m0 5h0m1-60h0m0 3h0m0 1h0m0 2h0m0 3h0m0 5h0m0 1h0m0 1h0m0 1h0m0 4h0m0 7h0m0 2h0m0 18h0m0 15h0m1-69h0m0 5h0m0 1h0m0 3h0m0 6h0m0 3h0m0 1h0m0 4h0m0 16h0m0 1h0m0 1h0m0 1h0m0 3h0m0 20h0m0 1h0m1-66h0m0 1h0m0 1h0m0 3h0m0 1h0m0 1h0m0 4h0m0 4h0m0 1h0m0 1h0m0 2h0m0 1h0m0 1h0m0 3h0m0 5h0m0 4h0m0 6h0m0 1h0m0 4h0m0 2h0m0 3h0m0 1h0m0 8h0m0 2h0m1-64h0m0 6h0m0 1h0m0 2h0m0 1h0m0 1h0m0 2h0m0 8h0m0 6h0m0 6h0m0 4h0m0 5h0m0 1h0m0 3h0m0 5h0m0 6h0m0 1h0m0 12h0m1-66h0m0 1h0m0 3h0m0 1h0m0 2h0m0 4h0m0 4h0m0 2h0m0 5h0m0 1h0m0 13h0m0 5h0m0 9h0m0 9h0m0 7h0m1-66h0m0 5h0m0 6h0m0 1h0m0 5h0m0 3h0m0 1h0m0 4h0m0 1h0m0 3h0m0 11h0m0 2h0m0 2h0m0 2h0m0 1h0m0 7h0m0 6h0m0 1h0m1-64h0m0 2h0m0 6h0m0 1h0m0 3h0m0 3h0m0 2h0m0 2h0m0 1h0m0 3h0m0 1h0m0 3h0m0 3h0m0 6h0m0 6h0m0 1h0m0 6h0m0 19h0m0 1h0m0 4h0m0 8h0m1-82h0m0 1h0m0 1h0m0 2h0m0 1h0m0 1h0m0 3h0m0 2h0m0 1h0m0 2h0m0 1h0m0 5h0m0 3h0m0 1h0m0 2h0m0 2h0m0 9h0m0 5h0m0 7h0m0 2h0m0 3h0m0 9h0m0 2h0m0 5h0m1-63h0m0 1h0m0 5h0m0 2h0m0 2h0m0 2h0m0 5h0m0 3h0m0 2h0m0 4h0m0 2h0m0 15h0m0 3h0m0 11h0m1-61h0m0 3h0m0 1h0m0 1h0m0 1h0m0 1h0m0 1h0m0 1h0m0 1h0m0 8h0m0 1h0m0 4h0m0 2h0m0 9h0m0 4h0m0 1h0m0 10h0m0 1h0m0 16h0m1-67h0m0 1h0m0 1h0m0 1h0m0 1h0m0 1h0m0 1h0m0 2h0m0 1h0m0 4h0m0 3h0m0 1h0m0 1h0m0 2h0m0 1h0m0 3h0m0 1h0m0 4h0m0 6h0m0 1h0m0 4h0m0 2h0m0 5h0m0 2h0m0 6h0m0 2h0m0 1h0m0 3h0m0 1h0m0 5h0m0 1h0m0 5h0m1-71h0m0 3h0m0 2h0m0 2h0m0 2h0m0 1h0m0 2h0m0 1h0m0 1h0m0 2h0m0 2h0m0 4h0m0 17h0m0 3h0m0 6h0m0 1h0m0 1h0m0 4h0m0 17h0m0 8h0m1-82h0m0 3h0m0 3h0m0 1h0m0 4h0m0 13h0m0 1h0m0 1h0m0 1h0m0 7h0m0 6h0m0 1h0m0 1h0m0 7h0m0 5h0m0 1h0m0 1h0m0 12h0m0 1h0m0 2h0m0 2h0m0 31h0m1-102h0m0 3h0m0 2h0m0 1h0m0 3h0m0 2h0m0 2h0m0 1h0m0 2h0m0 5h0m0 2h0m0 1h0m0 1h0m0 1h0m0 2h0m0 6h0m0 1h0m0 5h0m0 4h0m0 2h0m0 5h0m0 16h0m0 3h0m1-73h0m0 5h0m0 2h0m0 1h0m0 1h0m0 1h0m0 3h0m0 1h0m0 1h0m0 5h0m0 2h0m0 2h0m0 1h0m0 3h0m0 5h0m0 22h0m0 3h0m0 2h0m0 3h0m0 2h0m0 7h0m0 2h0m1-75h0m0 3h0m0 1h0m0 1h0m0 6h0m0 3h0m0 1h0m0 2h0m0 9h0m0 1h0m0 1h0m0 1h0m0 13h0m0 1h0m0 10h0m0 1h0m0 1h0m0 2h0m0 2h0m0 2h0m0 3h0m0 1h0m0 8h0m0 3h0m1-76h0m0 1h0m0 2h0m0 5h0m0 3h0m0 1h0m0 1h0m0 1h0m0 1h0m0 1h0m0 1h0m0 1h0m0 1h0m0 2h0m0 4h0m0 3h0m0 10h0m0 15h0m0 3h0m0 14h0m0 4h0m1-72h0m0 1h0m0 3h0m0 2h0m0 4h0m0 6h0m0 1h0m0 1h0m0 2h0m0 6h0m0 10h0m0 1h0m0 5h0m0 11h0m0 11h0m0 4h0m0 3h0m1-70h0m0 3h0m0 2h0m0 1h0m0 2h0m0 1h0m0 1h0m0 2h0m0 1h0m0 2h0m0 1h0m0 2h0m0 1h0m0 3h0m0 1h0m0 2h0m0 1h0m0 5h0m0 17h0m0 2h0m0 1h0m0 4h0m0 16h0m0 17h0m1-89h0m0 4h0m0 1h0m0 1h0m0 1h0m0 1h0m0 1h0m0 1h0m0 2h0m0 1h0m0 4h0m0 1h0m0 1h0m0 1h0m0 2h0m0 2h0m0 12h0m0 1h0m0 3h0m0 22h0m0 8h0m0 1h0m0 3h0m0 2h0m1-78h0m0 5h0m0 1h0m0 1h0m0 1h0m0 1h0m0 3h0m0 1h0m0 3h0m0 1h0m0 1h0m0 3h0m0 2h0m0 2h0m0 1h0m0 3h0m0 1h0m0 5h0m0 3h0m0 1h0m0 11h0m0 5h0m0 4h0m0 4h0m0 3h0m0 4h0m0 1h0m0 2h0m0 2h0m1-78h0m0 5h0m0 4h0m0 3h0m0 1h0m0 1h0m0 1h0m0 2h0m0 3h0m0 1h0m0 3h0m0 1h0m0 1h0m0 4h0m0 8h0m0 3h0m0 2h0m0 4h0m0 7h0m0 2h0m0 2h0m0 1h0m0 7h0m0 2h0m1-67h0m0 1h0m0 3h0m0 5h0m0 1h0m0 4h0m0 1h0m0 2h0m0 1h0m0 2h0m0 3h0m0 1h0m0 1h0m0 1h0m0 4h0m0 1h0m0 9h0m0 2h0m0 13h0m0 1h0m0 2h0m0 7h0m0 1h0m0 5h0m0 2h0m1-72h0m0 8h0m0 1h0m0 1h0m0 1h0m0 2h0m0 4h0m0 1h0m0 2h0m0 2h0m0 4h0m0 2h0m0 10h0m0 7h0m0 6h0m0 4h0m0 3h0m0 4h0m0 4h0m0 1h0m0 4h0m0 1h0m0 2h0m1-77h0m0 2h0m0 5h0m0 1h0m0 1h0m0 2h0m0 6h0m0 3h0m0 4h0m0 1h0m0 1h0m0 2h0m0 1h0m0 1h0m0 1h0m0 1h0m0 6h0m0 4h0m0 3h0m0 3h0m0 7h0m0 2h0m0 1h0m0 9h0m0 1h0m0 1h0m0 6h0m1-75h0m0 3h0m0 5h0m0 3h0m0 1h0m0 3h0m0 1h0m0 1h0m0 1h0m0 2h0m0 1h0m0 3h0m0 1h0m0 1h0m0 1h0m0 12h0m0 3h0m0 1h0m0 1h0m0 14h0m0 7h0m0 3h0m0 6h0m0 1h0m1-75h0m0 1h0m0 2h0m0 2h0m0 3h0m0 4h0m0 2h0m0 1h0m0 2h0m0 1h0m0 5h0m0 2h0m0 3h0m0 2h0m0 1h0m0 10h0m0 1h0m0 4h0m0 9h0m0 14h0m0 5h0m0 1h0m0 1h0m0 1h0m1-76h0m0 1h0m0 1h0m0 2h0m0 1h0m0 3h0m0 1h0m0 2h0m0 1h0m0 9h0m0 1h0m0 4h0m0 1h0m0 5h0m0 10h0m0 5h0m0 9h0m0 10h0m0 1h0m0 2h0m0 3h0m0 1h0m1-74h0m0 2h0m0 1h0m0 1h0m0 5h0m0 6h0m0 5h0m0 2h0m0 1h0m0 1h0m0 1h0m0 5h0m0 1h0m0 1h0m0 10h0m0 2h0m0 10h0m0 3h0m0 1h0m0 1h0m0 13h0m0 3h0m0 23h0m1-102h0m0 3h0m0 3h0m0 4h0m0 1h0m0 4h0m0 1h0m0 2h0m0 3h0m0 1h0m0 3h0m0 3h0m0 1h0m0 2h0m0 13h0m0 3h0m0 17h0m0 9h0m0 1h0m0 3h0m0 3h0m0 1h0m1-79h0m0 1h0m0 5h0m0 1h0m0 1h0m0 4h0m0 1h0m0 3h0m0 6h0m0 1h0m0 2h0m0 5h0m0 2h0m0 2h0m0 13h0m0 6h0m0 3h0m0 14h0m0 2h0m0 2h0m0 3h0m1-82h0m0 4h0m0 1h0m0 4h0m0 1h0m0 4h0m0 1h0m0 1h0m0 1h0m0 1h0m0 1h0m0 3h0m0 14h0m0 4h0m0 5h0m0 1h0m0 2h0m0 1h0m0 9h0m0 2h0m0 5h0m0 2h0m0 1h0m0 6h0m0 1h0m0 2h0m0 3h0m0 4h0m1-83h0m0 7h0m0 1h0m0 3h0m0 7h0m0 1h0m0 1h0m0 3h0m0 2h0m0 4h0m0 5h0m0 4h0m0 8h0m0 2h0m0 2h0m0 2h0m0 2h0m0 9h0m0 2h0m0 3h0m0 6h0m0 3h0m0 4h0m0 21h0m1-102h0m0 5h0m0 3h0m0 5h0m0 3h0m0 2h0m0 1h0m0 1h0m0 5h0m0 1h0m0 2h0m0 2h0m0 2h0m0 1h0m0 2h0m0 2h0m0 2h0m0 14h0m0 4h0m0 6h0m0 5h0m0 6h0m0 1h0m0 4h0m0 2h0m0 1h0m1-82h0m0 2h0m0 3h0m0 2h0m0 2h0m0 1h0m0 1h0m0 9h0m0 1h0m0 1h0m0 3h0m0 1h0m0 5h0m0 6h0m0 11h0m0 1h0m0 7h0m0 3h0m0 1h0m0 2h0m0 2h0m0 12h0m0 5h0m0 1h0m0 1h0m1-78h0m0 3h0m0 2h0m0 1h0m0 6h0m0 1h0m0 2h0m0 1h0m0 2h0m0 2h0m0 1h0m0 1h0m0 1h0m0 2h0m0 1h0m0 8h0m0 5h0m0 1h0m0 3h0m0 2h0m0 1h0m0 4h0m0 2h0m0 1h0m0 1h0m0 14h0m1-74h0m0 2h0m0 3h0m0 1h0m0 1h0m0 1h0m0 2h0m0 2h0m0 1h0m0 1h0m0 1h0m0 6h0m0 8h0m0 10h0m0 1h0m0 8h0m0 3h0m0 3h0m0 4h0m0 1h0m0 5h0m0 17h0m0 1h0m0 1h0m0 1h0m1-80h0m0 5h0m0 1h0m0 2h0m0 1h0m0 2h0m0 2h0m0 1h0m0 2h0m0 3h0m0 3h0m0 5h0m0 4h0m0 9h0m0 6h0m0 3h0m0 4h0m0 3h0m0 1h0m0 1h0m0 2h0m0 1h0m0 7h0m0 2h0m0 3h0m0 3h0m0 1h0m0 2h0m0 1h0m1-82h0m0 8h0m0 3h0m0 1h0m0 6h0m0 2h0m0 1h0m0 2h0m0 2h0m0 4h0m0 1h0m0 1h0m0 4h0m0 2h0m0 3h0m0 3h0m0 4h0m0 9h0m0 7h0m0 17h0m0 63h0m1-145h0m0 6h0m0 2h0m0 1h0m0 5h0m0 2h0m0 3h0m0 1h0m0 5h0m0 1h0m0 1h0m0 2h0m0 7h0m0 2h0m0 7h0m0 4h0m0 2h0m0 1h0m0 11h0m0 1h0m0 5h0m0 3h0m0 3h0m0 8h0m1-81h0m0 1h0m0 2h0m0 5h0m0 8h0m0 7h0m0 2h0m0 2h0m0 6h0m0 2h0m0 1h0m0 1h0m0 5h0m0 5h0m0 2h0m0 1h0m0 6h0m0 3h0m0 1h0m0 2h0m0 2h0m0 1h0m0 4h0m0 9h0m0 2h0m0 1h0m0 64h0m1-143h0m0 7h0m0 1h0m0 3h0m0 2h0m0 2h0m0 5h0m0 2h0m0 1h0m0 23h0m0 1h0m0 7h0m0 7h0m0 3h0m0 1h0m0 8h0m0 7h0m1-81h0m0 8h0m0 2h0m0 1h0m0 2h0m0 1h0m0 2h0m0 1h0m0 1h0m0 4h0m0 2h0m0 1h0m0 7h0m0 1h0m0 7h0m0 3h0m0 12h0m0 2h0m0 1h0m0 1h0m0 2h0m0 9h0m0 1h0m0 5h0m0 3h0m1-84h0m0 6h0m0 2h0m0 4h0m0 2h0m0 2h0m0 1h0m0 3h0m0 2h0m0 4h0m0 3h0m0 1h0m0 3h0m0 1h0m0 1h0m0 1h0m0 4h0m0 7h0m0 4h0m0 3h0m0 3h0m0 1h0m0 5h0m0 1h0m0 1h0m0 8h0m0 3h0m0 1h0m0 2h0m0 4h0m0 2h0m1-85h0m0 8h0m0 1h0m0 2h0m0 1h0m0 1h0m0 4h0m0 2h0m0 1h0m0 6h0m0 3h0m0 2h0m0 2h0m0 1h0m0 12h0m0 1h0m0 1h0m0 3h0m0 3h0m0 5h0m0 1h0m0 2h0m0 2h0m0 2h0m0 4h0m0 9h0m0 2h0m0 1h0m0 2h0m1-81h0m0 1h0m0 3h0m0 1h0m0 1h0m0 8h0m0 4h0m0 2h0m0 4h0m0 1h0m0 5h0m0 2h0m0 6h0m0 5h0m0 14h0m0 4h0m0 3h0m0 2h0m0 2h0m0 6h0m1-74h0m0 5h0m0 2h0m0 2h0m0 2h0m0 5h0m0 4h0m0 1h0m0 3h0m0 2h0m0 3h0m0 4h0m0 3h0m0 6h0m0 3h0m0 3h0m0 2h0m0 5h0m0 2h0m0 5h0m0 1h0m0 4h0m0 6h0m0 1h0m0 12h0m1-85h0m0 5h0m0 6h0m0 6h0m0 2h0m0 1h0m0 3h0m0 1h0m0 2h0m0 2h0m0 1h0m0 1h0m0 3h0m0 5h0m0 5h0m0 5h0m0 2h0m0 5h0m0 3h0m0 1h0m0 1h0m0 1h0m0 1h0m0 5h0m0 11h0m0 2h0m0 1h0m1-82h0m0 7h0m0 7h0m0 4h0m0 2h0m0 3h0m0 6h0m0 6h0m0 1h0m0 7h0m0 2h0m0 2h0m0 1h0m0 2h0m0 3h0m0 5h0m0 1h0m0 7h0m0 4h0m0 4h0m0 9h0m1-86h0m0 5h0m0 9h0m0 4h0m0 1h0m0 6h0m0 1h0m0 3h0m0 1h0m0 3h0m0 4h0m0 7h0m0 4h0m0 2h0m0 8h0m0 2h0m0 2h0m0 1h0m0 2h0m0 2h0m0 4h0m0 5h0m0 1h0m1-77h0m0 8h0m0 1h0m0 2h0m0 1h0m0 4h0m0 2h0m0 2h0m0 5h0m0 1h0m0 1h0m0 1h0m0 1h0m0 1h0m0 1h0m0 5h0m0 5h0m0 3h0m0 4h0m0 7h0m0 5h0m0 3h0m0 1h0m0 1h0m0 1h0m0 3h0m0 7h0m0 6h0m0 2h0m0 1h0m1-84h0m0 1h0m0 7h0m0 2h0m0 7h0m0 1h0m0 2h0m0 1h0m0 1h0m0 8h0m0 5h0m0 10h0m0 1h0m0 1h0m0 6h0m0 8h0m0 4h0m0 1h0m0 4h0m0 14h0m0 1h0m1-76h0m0 2h0m0 4h0m0 7h0m0 2h0m0 1h0m0 5h0m0 13h0m0 3h0m0 1h0m0 1h0m0 3h0m0 4h0m0 1h0m0 1h0m0 1h0m0 1h0m0 4h0m0 2h0m0 9h0m0 7h0m1-79h0m0 1h0m0 1h0m0 1h0m0 3h0m0 3h0m0 4h0m0 5h0m0 1h0m0 2h0m0 2h0m0 1h0m0 1h0m0 1h0m0 3h0m0 9h0m0 2h0m0 1h0m0 1h0m0 6h0m0 9h0m0 2h0m0 1h0m0 2h0m0 4h0m0 4h0m0 4h0m0 6h0m0 1h0m0 1h0m1-83h0m0 2h0m0 1h0m0 2h0m0 2h0m0 4h0m0 1h0m0 1h0m0 3h0m0 1h0m0 4h0m0 6h0m0 1h0m0 8h0m0 1h0m0 2h0m0 5h0m0 1h0m0 1h0m0 1h0m0 2h0m0 3h0m0 9h0m0 2h0m0 1h0m0 3h0m0 1h0m0 6h0m0 1h0m0 5h0m0 3h0m0 1h0m1-86h0m0 6h0m0 5h0m0 3h0m0 4h0m0 3h0m0 3h0m0 7h0m0 1h0m0 2h0m0 2h0m0 1h0m0 5h0m0 4h0m0 6h0m0 2h0m0 3h0m0 1h0m0 1h0m0 5h0m0 1h0m0 6h0m0 11h0m0 18h0m1-98h0m0 3h0m0 2h0m0 3h0m0 3h0m0 1h0m0 5h0m0 5h0m0 5h0m0 2h0m0 9h0m0 3h0m0 5h0m0 3h0m0 1h0m0 1h0m0 8h0m0 5h0m0 7h0m0 4h0m0 8h0m1-80h0m0 2h0m0 4h0m0 1h0m0 5h0m0 7h0m0 3h0m0 1h0m0 8h0m0 6h0m0 9h0m0 3h0m0 6h0m0 2h0m0 3h0m0 1h0m0 5h0m0 3h0m0 2h0m1-74h0m0 4h0m0 3h0m0 1h0m0 1h0m0 1h0m0 1h0m0 1h0m0 3h0m0 3h0m0 2h0m0 1h0m0 2h0m0 1h0m0 1h0m0 1h0m0 1h0m0 5h0m0 3h0m0 1h0m0 2h0m0 1h0m0 6h0m0 1h0m0 2h0m0 1h0m0 7h0m0 13h0m0 5h0m0 6h0m0 3h0m0 1h0m1-82h0m0 19h0m0 1h0m0 4h0m0 7h0m0 5h0m0 1h0m0 5h0m0 1h0m0 1h0m0 1h0m0 4h0m0 6h0m0 1h0m0 1h0m0 3h0m0 1h0m0 1h0m0 4h0m0 1h0m1-75h0m0 10h0m0 3h0m0 3h0m0 2h0m0 1h0m0 1h0m0 4h0m0 3h0m0 1h0m0 3h0m0 6h0m0 5h0m0 10h0m0 3h0m0 2h0m0 9h0m0 1h0m0 6h0m0 7h0m0 8h0m0 1h0m1-83h0m0 4h0m0 7h0m0 1h0m0 5h0m0 2h0m0 3h0m0 7h0m0 2h0m0 11h0m0 3h0m0 4h0m0 1h0m0 1h0m0 1h0m0 1h0m0 3h0m0 13h0m0 3h0m0 5h0m0 3h0m0 4h0m1-86h0m0 1h0m0 1h0m0 3h0m0 5h0m0 3h0m0 1h0m0 1h0m0 3h0m0 9h0m0 1h0m0 14h0m0 3h0m0 6h0m0 1h0m0 2h0m0 1h0m0 4h0m0 2h0m0 5h0m0 8h0m0 4h0m0 4h0m1-83h0m0 2h0m0 1h0m0 1h0m0 2h0m0 4h0m0 4h0m0 2h0m0 3h0m0 3h0m0 8h0m0 1h0m0 2h0m0 7h0m0 1h0m0 6h0m0 2h0m0 1h0m0 1h0m0 2h0m0 8h0m0 5h0m0 3h0m0 1h0m0 2h0m0 2h0m0 12h0m0 15h0m1-95h0m0 4h0m0 3h0m0 3h0m0 8h0m0 2h0m0 1h0m0 4h0m0 4h0m0 1h0m0 5h0m0 7h0m0 5h0m0 2h0m0 4h0m0 4h0m0 2h0m0 5h0m0 7h0m0 3h0m0 12h0m1-96h0m0 7h0m0 2h0m0 6h0m0 2h0m0 2h0m0 5h0m0 2h0m0 5h0m0 10h0m0 1h0m0 7h0m0 3h0m0 1h0m0 3h0m0 1h0m0 2h0m0 5h0m0 6h0m0 9h0m0 1h0m0 1h0m0 1h0m0 5h0m1-79h0m0 3h0m0 4h0m0 11h0m0 4h0m0 1h0m0 2h0m0 5h0m0 1h0m0 7h0m0 6h0m0 4h0m0 2h0m0 8h0m0 1h0m0 3h0m0 1h0m0 3h0m0 2h0m0 2h0m0 1h0m0 11h0m1-85h0m0 12h0m0 1h0m0 2h0m0 2h0m0 2h0m0 2h0m0 2h0m0 7h0m0 7h0m0 3h0m0 1h0m0 5h0m0 2h0m0 8h0m0 2h0m0 1h0m0 6h0m0 4h0m0 4h0m0 1h0m0 2h0m0 5h0m0 1h0m1-76h0m0 4h0m0 1h0m0 9h0m0 1h0m0 2h0m0 1h0m0 2h0m0 3h0m0 4h0m0 9h0m0 3h0m0 2h0m0 7h0m0 4h0m0 6h0m0 6h0m0 9h0m1-77h0m0 1h0m0 1h0m0 6h0m0 3h0m0 8h0m0 4h0m0 1h0m0 1h0m0 1h0m0 3h0m0 1h0m0 4h0m0 4h0m0 1h0m0 1h0m0 4h0m0 1h0m0 8h0m0 1h0m0 5h0m0 4h0m0 2h0m0 2h0m1-68h0m0 3h0m0 1h0m0 2h0m0 4h0m0 1h0m0 2h0m0 1h0m0 1h0m0 1h0m0 4h0m0 3h0m0 9h0m0 1h0m0 2h0m0 5h0m0 4h0m0 2h0m0 1h0m0 6h0m0 2h0m0 2h0m0 8h0m0 3h0m0 2h0m0 10h0m0 1h0m1-86h0m0 3h0m0 2h0m0 3h0m0 2h0m0 8h0m0 4h0m0 6h0m0 5h0m0 4h0m0 1h0m0 1h0m0 1h0m0 2h0m0 4h0m0 5h0m0 1h0m0 1h0m0 1h0m0 1h0m0 1h0m0 6h0m0 6h0m0 1h0m0 1h0m0 3h0m0 1h0m0 2h0m0 9h0m0 2h0m0 2h0m1-85h0m0 1h0m0 1h0m0 5h0m0 5h0m0 1h0m0 3h0m0 8h0m0 1h0m0 1h0m0 3h0m0 5h0m0 1h0m0 1h0m0 2h0m0 1h0m0 1h0m0 4h0m0 2h0m0 1h0m0 4h0m0 1h0m0 2h0m0 2h0m0 5h0m0 2h0m0 11h0m0 2h0m0 1h0m0 6h0m0 2h0m1-83h0m0 2h0m0 3h0m0 1h0m0 1h0m0 1h0m0 4h0m0 8h0m0 5h0m0 2h0m0 4h0m0 2h0m0 1h0m0 1h0m0 4h0m0 1h0m0 4h0m0 2h0m0 6h0m0 1h0m0 3h0m0 11h0m0 2h0m0 1h0m1-78h0m0 8h0m0 2h0m0 6h0m0 2h0m0 3h0m0 1h0m0 1h0m0 2h0m0 7h0m0 3h0m0 2h0m0 5h0m0 1h0m0 8h0m0 3h0m0 1h0m0 3h0m0 1h0m0 2h0m0 1h0m0 2h0m0 7h0m0 1h0m0 3h0m0 2h0m0 5h0m0 6h0m0 2h0m1-85h0m0 2h0m0 6h0m0 2h0m0 3h0m0 2h0m0 2h0m0 1h0m0 2h0m0 6h0m0 2h0m0 3h0m0 4h0m0 1h0m0 1h0m0 8h0m0 3h0m0 9h0m0 1h0m0 4h0m0 2h0m0 7h0m0 3h0m0 3h0m0 5h0m0 2h0m0 2h0m1-77h0m0 2h0m0 2h0m0 4h0m0 3h0m0 1h0m0 2h0m0 6h0m0 1h0m0 1h0m0 4h0m0 2h0m0 4h0m0 1h0m0 1h0m0 13h0m0 1h0m0 4h0m0 2h0m0 4h0m0 1h0m0 12h0m0 1h0m0 2h0m1-75h0m0 1h0m0 1h0m0 1h0m0 1h0m0 1h0m0 4h0m0 11h0m0 1h0m0 1h0m0 3h0m0 2h0m0 1h0m0 1h0m0 2h0m0 6h0m0 3h0m0 1h0m0 3h0m0 1h0m0 1h0m0 4h0m0 1h0m0 5h0m0 1h0m0 1h0m0 4h0m0 2h0m0 2h0m0 1h0m1-67h0m0 3h0m0 1h0m0 3h0m0 1h0m0 2h0m0 2h0m0 1h0m0 6h0m0 2h0m0 3h0m0 1h0m0 2h0m0 5h0m0 2h0m0 5h0m0 2h0m0 7h0m0 1h0m0 7h0m0 3h0m0 4h0m0 1h0m0 1h0m0 3h0m0 4h0m0 7h0m1-89h0m0 5h0m0 2h0m0 1h0m0 1h0m0 3h0m0 1h0m0 6h0m0 2h0m0 4h0m0 4h0m0 2h0m0 2h0m0 1h0m0 9h0m0 4h0m0 2h0m0 11h0m0 5h0m0 1h0m0 6h0m0 9h0m0 3h0m0 1h0m1-85h0m0 6h0m0 4h0m0 3h0m0 1h0m0 1h0m0 2h0m0 1h0m0 1h0m0 1h0m0 3h0m0 2h0m0 1h0m0 2h0m0 1h0m0 2h0m0 2h0m0 1h0m0 4h0m0 1h0m0 1h0m0 2h0m0 3h0m0 1h0m0 5h0m0 3h0m0 4h0m0 1h0m0 1h0m0 6h0m0 1h0m0 2h0m0 5h0m0 1h0m0 3h0m0 2h0m0 5h0m0 6h0m1-88h0m0 3h0m0 1h0m0 5h0m0 3h0m0 3h0m0 6h0m0 5h0m0 7h0m0 2h0m0 1h0m0 1h0m0 1h0m0 12h0m0 2h0m0 1h0m0 2h0m0 11h0m0 3h0m0 5h0m0 7h0m0 4h0m0 1h0m1-77h0m0 1h0m0 2h0m0 3h0m0 2h0m0 2h0m0 4h0m0 1h0m0 1h0m0 5h0m0 12h0m0 3h0m0 6h0m0 1h0m0 1h0m0 1h0m0 2h0m0 6h0m0 4h0m0 1h0m0 2h0m0 3h0m0 1h0m0 3h0m0 3h0m0 10h0m1-91h0m0 2h0m0 2h0m0 1h0m0 3h0m0 3h0m0 1h0m0 3h0m0 1h0m0 1h0m0 7h0m0 7h0m0 3h0m0 1h0m0 4h0m0 5h0m0 2h0m0 10h0m0 2h0m0 6h0m0 4h0m0 2h0m0 3h0m0 4h0m0 3h0m0 2h0m0 2h0m0 4h0m0 1h0m1-89h0m0 7h0m0 1h0m0 1h0m0 8h0m0 8h0m0 5h0m0 2h0m0 6h0m0 1h0m0 4h0m0 2h0m0 6h0m0 3h0m0 4h0m0 1h0m0 3h0m0 2h0m0 2h0m0 2h0m0 6h0m0 2h0m0 3h0m1-76h0m0 3h0m0 2h0m0 3h0m0 8h0m0 3h0m0 6h0m0 1h0m0 5h0m0 1h0m0 3h0m0 1h0m0 3h0m0 2h0m0 4h0m0 3h0m0 1h0m0 1h0m0 3h0m0 1h0m0 14h0m0 9h0m0 1h0m0 2h0m0 1h0m0 2h0m1-82h0m0 4h0m0 3h0m0 2h0m0 4h0m0 5h0m0 2h0m0 3h0m0 1h0m0 4h0m0 2h0m0 2h0m0 3h0m0 12h0m0 1h0m0 2h0m0 4h0m0 2h0m0 4h0m0 1h0m0 3h0m0 4h0m0 2h0m0 2h0m0 1h0m0 2h0m0 9h0m0 2h0m1-81h0m0 2h0m0 1h0m0 4h0m0 5h0m0 4h0m0 7h0m0 3h0m0 7h0m0 8h0m0 7h0m0 7h0m0 3h0m0 1h0m0 5h0m0 1h0m0 2h0m0 2h0m0 8h0m0 1h0m1-79h0m0 1h0m0 2h0m0 5h0m0 3h0m0 2h0m0 1h0m0 2h0m0 1h0m0 1h0m0 1h0m0 11h0m0 3h0m0 11h0m0 1h0m0 3h0m0 1h0m0 1h0m0 1h0m0 5h0m0 4h0m0 1h0m0 5h0m0 7h0m0 12h0m1-92h0m0 6h0m0 4h0m0 4h0m0 10h0m0 13h0m0 1h0m0 1h0m0 1h0m0 2h0m0 1h0m0 1h0m0 5h0m0 1h0m0 1h0m0 4h0m0 1h0m0 4h0m0 3h0m0 2h0m0 5h0m0 1h0m0 1h0m0 10h0m1-89h0m0 10h0m0 1h0m0 1h0m0 13h0m0 7h0m0 3h0m0 1h0m0 1h0m0 5h0m0 6h0m0 9h0m0 13h0m0 4h0m0 7h0m0 2h0m0 2h0m0 8h0m1-80h0m0 1h0m0 2h0m0 7h0m0 5h0m0 2h0m0 1h0m0 2h0m0 1h0m0 6h0m0 2h0m0 2h0m0 1h0m0 5h0m0 6h0m0 2h0m0 1h0m0 12h0m0 3h0m0 1h0m0 4h0m0 1h0m0 2h0m0 5h0m1-78h0m0 1h0m0 1h0m0 1h0m0 2h0m0 1h0m0 6h0m0 2h0m0 6h0m0 2h0m0 4h0m0 1h0m0 1h0m0 1h0m0 4h0m0 1h0m0 2h0m0 1h0m0 1h0m0 2h0m0 2h0m0 2h0m0 4h0m0 6h0m0 11h0m0 1h0m0 2h0m0 2h0m0 11h0m1-83h0m0 7h0m0 2h0m0 1h0m0 2h0m0 4h0m0 3h0m0 2h0m0 5h0m0 1h0m0 13h0m0 2h0m0 12h0m0 1h0m0 7h0m0 1h0m0 13h0m0 2h0m0 7h0m1-86h0m0 2h0m0 4h0m0 2h0m0 1h0m0 4h0m0 4h0m0 3h0m0 3h0m0 2h0m0 2h0m0 1h0m0 1h0m0 4h0m0 6h0m0 2h0m0 1h0m0 1h0m0 7h0m0 1h0m0 1h0m0 6h0m0 6h0m0 1h0m0 2h0m0 1h0m0 4h0m0 1h0m0 1h0m0 7h0m1-82h0m0 7h0m0 1h0m0 1h0m0 1h0m0 4h0m0 1h0m0 3h0m0 1h0m0 2h0m0 6h0m0 2h0m0 1h0m0 2h0m0 3h0m0 4h0m0 2h0m0 2h0m0 2h0m0 1h0m0 2h0m0 4h0m0 1h0m0 4h0m0 1h0m0 14h0m0 3h0m0 13h0m1-87h0m0 6h0m0 3h0m0 3h0m0 5h0m0 2h0m0 1h0m0 4h0m0 5h0m0 1h0m0 4h0m0 6h0m0 1h0m0 1h0m0 1h0m0 3h0m0 7h0m0 10h0m0 4h0m0 1h0m0 3h0m0 2h0m0 2h0m1-74h0m0 2h0m0 3h0m0 2h0m0 1h0m0 11h0m0 2h0m0 2h0m0 3h0m0 7h0m0 11h0m0 5h0m0 5h0m0 3h0m0 1h0m0 2h0m0 1h0m0 2h0m0 2h0m0 3h0m0 5h0m0 2h0m0 1h0m0 4h0m0 5h0m0 10h0m1-91h0m0 3h0m0 1h0m0 3h0m0 1h0m0 2h0m0 1h0m0 8h0m0 1h0m0 4h0m0 4h0m0 5h0m0 2h0m0 5h0m0 6h0m0 4h0m0 2h0m0 6h0m0 4h0m0 3h0m0 4h0m0 11h0m0 4h0m1-91h0m0 3h0m0 3h0m0 2h0m0 1h0m0 1h0m0 6h0m0 3h0m0 6h0m0 1h0m0 1h0m0 4h0m0 2h0m0 9h0m0 3h0m0 9h0m0 2h0m0 2h0m0 1h0m0 3h0m0 6h0m0 2h0m0 3h0m0 1h0m0 1h0m0 3h0m0 11h0m1-89h0m0 4h0m0 5h0m0 1h0m0 4h0m0 1h0m0 1h0m0 1h0m0 3h0m0 1h0m0 2h0m0 3h0m0 1h0m0 2h0m0 5h0m0 1h0m0 5h0m0 2h0m0 4h0m0 1h0m0 1h0m0 4h0m0 8h0m0 2h0m0 4h0m0 1h0m0 2h0m0 2h0m0 2h0m0 3h0m0 3h0m1-74h0m0 4h0m0 1h0m0 1h0m0 2h0m0 1h0m0 1h0m0 3h0m0 1h0m0 13h0m0 3h0m0 6h0m0 2h0m0 4h0m0 1h0m0 2h0m0 1h0m0 2h0m0 4h0m0 1h0m0 1h0m0 9h0m0 3h0m0 3h0m0 3h0m0 6h0m1-75h0m0 1h0m0 2h0m0 3h0m0 5h0m0 6h0m0 4h0m0 3h0m0 4h0m0 7h0m0 7h0m0 2h0m0 8h0m0 2h0m0 7h0m0 1h0m0 5h0m0 1h0m0 1h0m0 11h0m1-82h0m0 2h0m0 2h0m0 1h0m0 1h0m0 2h0m0 1h0m0 2h0m0 3h0m0 1h0m0 3h0m0 2h0m0 10h0m0 6h0m0 5h0m0 7h0m0 3h0m0 2h0m0 1h0m0 4h0m0 4h0m0 1h0m0 1h0m0 3h0m0 2h0m0 1h0m0 3h0m1-71h0m0 2h0m0 1h0m0 1h0m0 2h0m0 2h0m0 3h0m0 1h0m0 4h0m0 1h0m0 6h0m0 2h0m0 1h0m0 3h0m0 6h0m0 2h0m0 7h0m0 9h0m0 2h0m0 3h0m0 1h0m0 2h0m0 6h0m0 2h0m0 1h0m0 7h0m1-85h0m0 5h0m0 5h0m0 1h0m0 2h0m0 1h0m0 1h0m0 4h0m0 2h0m0 3h0m0 2h0m0 3h0m0 5h0m0 4h0m0 10h0m0 4h0m0 1h0m0 6h0m0 3h0m0 5h0m0 5h0m0 3h0m0 1h0m0 11h0m1-78h0m0 2h0m0 6h0m0 1h0m0 1h0m0 1h0m0 12h0m0 3h0m0 11h0m0 1h0m0 1h0m0 11h0m0 12h0m0 4h0m0 2h0m0 8h0m1-91h0m0 1h0m0 4h0m0 10h0m0 6h0m0 3h0m0 7h0m0 10h0m0 4h0m0 4h0m0 9h0m0 1h0m0 4h0m0 1h0m0 8h0m0 1h0m0 2h0m0 4h0m0 2h0m0 1h0m0 1h0m0 2h0m0 1h0m0 8h0m1-81h0m0 4h0m0 1h0m0 7h0m0 1h0m0 3h0m0 2h0m0 2h0m0 1h0m0 3h0m0 4h0m0 7h0m0 6h0m0 9h0m0 1h0m0 1h0m0 3h0m0 8h0m0 2h0m0 2h0m0 1h0m0 1h0m0 1h0m0 1h0m1-73h0m0 1h0m0 1h0m0 4h0m0 1h0m0 5h0m0 4h0m0 2h0m0 2h0m0 7h0m0 3h0m0 1h0m0 8h0m0 3h0m0 3h0m0 9h0m0 2h0m0 11h0m0 1h0m0 2h0m0 1h0m0 2h0m0 7h0m1-86h0m0 1h0m0 7h0m0 1h0m0 2h0m0 5h0m0 1h0m0 2h0m0 1h0m0 2h0m0 2h0m0 3h0m0 3h0m0 8h0m0 15h0m0 5h0m0 1h0m0 3h0m0 5h0m0 3h0m0 1h0m0 1h0m0 4h0m0 1h0m0 4h0m1-69h0m0 2h0m0 6h0m0 4h0m0 4h0m0 6h0m0 12h0m0 1h0m0 13h0m0 1h0m0 6h0m0 7h0m0 1h0m0 1h0m0 1h0m0 1h0m0 1h0m0 1h0m0 8h0m0 7h0m1-94h0m0 3h0m0 3h0m0 3h0m0 3h0m0 4h0m0 3h0m0 1h0m0 7h0m0 3h0m0 3h0m0 1h0m0 2h0m0 17h0m0 18h0m0 2h0m0 1h0m0 1h0m0 1h0m0 9h0m1-78h0m0 6h0m0 1h0m0 1h0m0 1h0m0 1h0m0 2h0m0 1h0m0 6h0m0 1h0m0 1h0m0 7h0m0 2h0m0 10h0m0 1h0m0 3h0m0 3h0m0 3h0m0 9h0m0 6h0m0 2h0m0 1h0m0 3h0m1-76h0m0 1h0m0 1h0m0 8h0m0 3h0m0 5h0m0 5h0m0 7h0m0 15h0m0 1h0m0 2h0m0 3h0m0 8h0m0 13h0m0 1h0m0 4h0m0 1h0m1-83h0m0 10h0m0 2h0m0 1h0m0 2h0m0 1h0m0 1h0m0 1h0m0 3h0m0 1h0m0 1h0m0 1h0m0 3h0m0 2h0m0 1h0m0 4h0m0 4h0m0 11h0m0 6h0m0 6h0m0 4h0m0 11h0m0 1h0m0 3h0m0 1h0m1-77h0m0 4h0m0 4h0m0 2h0m0 4h0m0 1h0m0 5h0m0 4h0m0 1h0m0 8h0m0 3h0m0 3h0m0 1h0m0 6h0m0 1h0m0 9h0m0 15h0m0 2h0m0 1h0m1-64h0m0 1h0m0 1h0m0 1h0m0 1h0m0 2h0m0 7h0m0 1h0m0 5h0m0 28h0m0 14h0m0 4h0m1-66h0m0 4h0m0 2h0m0 2h0m0 1h0m0 2h0m0 1h0m0 4h0m0 2h0m0 7h0m0 3h0m0 5h0m0 6h0m0 4h0m0 20h0m0 1h0m0 1h0m0 1h0m0 1h0m0 1h0m0 1h0m0 17h0m1-97h0m0 7h0m0 3h0m0 4h0m0 1h0m0 3h0m0 5h0m0 2h0m0 3h0m0 6h0m0 4h0m0 1h0m0 6h0m0 5h0m0 3h0m0 6h0m0 16h0m0 1h0m0 4h0m0 7h0m1-79h0m0 1h0m0 1h0m0 1h0m0 3h0m0 2h0m0 3h0m0 7h0m0 5h0m0 1h0m0 2h0m0 3h0m0 10h0m0 2h0m0 4h0m0 6h0m0 16h0m0 1h0m0 1h0m0 1h0m1-70h0m0 3h0m0 3h0m0 1h0m0 2h0m0 8h0m0 3h0m0 6h0m0 1h0m0 5h0m0 4h0m0 31h0m0 5h0m0 2h0m1-69h0m0 2h0m0 2h0m0 3h0m0 1h0m0 5h0m0 7h0m0 4h0m0 1h0m0 2h0m0 1h0m0 1h0m0 18h0m0 17h0m0 3h0m1-79h0m0 9h0m0 2h0m0 4h0m0 1h0m0 1h0m0 6h0m0 1h0m0 3h0m0 1h0m0 3h0m0 8h0m0 1h0m0 31h0m0 3h0m0 1h0m1-70h0m0 2h0m0 4h0m0 4h0m0 11h0m0 2h0m0 2h0m0 1h0m0 4h0m0 4h0m0 2h0m0 1h0m0 1h0m0 30h0m0 2h0m0 2h0m1-81h0m0 1h0m0 12h0m0 4h0m0 5h0m0 2h0m0 4h0m0 2h0m0 4h0m0 2h0m0 1h0m0 6h0m0 2h0m0 32h0m0 11h0m1-72h0m0 4h0m0 3h0m0 5h0m0 2h0m0 2h0m0 6h0m0 9h0m0 31h0m0 3h0m1-68h0m0 2h0m0 2h0m0 2h0m0 2h0m0 6h0m0 1h0m0 3h0m0 2h0m0 2h0m0 8h0m0 6h0m0 28h0m0 1h0m0 5h0m1-78h0m0 4h0m0 3h0m0 1h0m0 2h0m0 5h0m0 7h0m0 3h0m0 3h0m0 1h0m0 6h0m0 2h0m0 3h0m0 6h0m0 24h0m0 3h0m0 5h0m1-82h0m0 1h0m0 2h0m0 2h0m0 1h0m0 3h0m0 2h0m0 1h0m0 3h0m0 9h0m0 1h0m0 1h0m0 3h0m0 11h0m0 2h0m0 5h0m0 27h0m0 3h0m1-79h0m0 3h0m0 1h0m0 3h0m0 4h0m0 5h0m0 1h0m0 3h0m0 4h0m0 9h0m0 2h0m0 9h0m0 2h0m0 1h0m0 33h0m0 2h0m0 2h0m1-83h0m0 7h0m0 1h0m0 4h0m0 5h0m0 1h0m0 1h0m0 4h0m0 1h0m0 2h0m0 6h0m0 7h0m0 8h0m0 2h0m0 29h0m1-75h0m0 2h0m0 4h0m0 5h0m0 17h0m0 1h0m0 1h0m0 2h0m0 3h0m0 1h0m0 1h0m1-36h0m0 1h0m0 8h0m0 2h0m0 10h0m0 4h0m0 3h0m0 3h0m0 6h0m0 5h0m0 1h0m0 32h0m0 4h0m1-74h0m0 6h0m0 3h0m0 4h0m0 4h0m0 1h0m0 1h0m0 5h0m0 3h0m0 5h0m0 1h0m0 4h0m1-29h0m0 2h0m0 2h0m0 7h0m0 2h0m0 1h0m0 5h0m0 2h0m0 3h0m0 35h0m0 5h0m1-78h0m0 5h0m0 7h0m0 4h0m0 1h0m0 2h0m0 9h0m0 2h0m0 4h0m0 3h0m0 2h0m0 6h0m1-49h0m0 7h0m0 2h0m0 7h0m0 1h0m0 10h0m0 2h0m0 4h0m0 14h0m1-41h0m0 2h0m0 15h0m0 1h0m0 9h0m0 2h0m0 6h0m0 5h0m1-45h0m0 5h0m0 2h0m0 8h0m0 3h0m0 2h0m0 6h0m0 2h0m0 2h0m0 1h0m0 1h0m0 3h0m0 1h0m0 1h0m0 10h0m0 4h0m0 27h0m1-77h0m0 4h0m0 3h0m0 3h0m0 5h0m0 4h0m0 6h0m0 5h0m0 3h0m0 1h0m0 4h0m0 9h0m1-47h0m0 6h0m0 5h0m0 3h0m0 1h0m0 3h0m0 3h0m0 9h0m0 1h0m0 2h0m0 6h0m0 6h0m1-43h0m0 1h0m0 6h0m0 4h0m0 9h0m0 3h0m0 1h0m0 5h0m0 1h0m0 6h0m0 7h0m1-41h0m0 1h0m0 2h0m0 10h0m0 1h0m0 4h0m0 1h0m0 4h0m0 3h0m0 1h0m0 7h0m0 4h0m0 1h0m0 1h0m1-42h0m0 2h0m0 1h0m0 2h0m0 1h0m0 1h0m0 2h0m0 1h0m0 1h0m0 5h0m0 5h0m0 6h0m0 6h0m0 1h0m0 3h0m0 1h0m0 2h0m0 4h0m1-50h0m0 2h0m0 1h0m0 1h0m0 4h0m0 2h0m0 3h0m0 1h0m0 6h0m0 4h0m0 1h0m0 2h0m0 8h0m0 7h0m0 7h0m0 1h0m1-44h0m0 7h0m0 1h0m0 4h0m0 1h0m0 1h0m0 2h0m0 7h0m0 6h0m0 4h0m0 3h0m0 7h0m0 1h0m0 1h0m1-41h0m0 6h0m0 2h0m0 15h0m0 4h0m0 6h0m0 1h0m0 2h0m0 4h0m0 1h0m0 1h0m1-42h0m0 4h0m0 9h0m0 3h0m0 6h0m0 3h0m0 3h0m0 12h0m0 1h0m1-50h0m0 4h0m0 3h0m0 3h0m0 2h0m0 6h0m0 13h0m0 2h0m0 4h0m0 3h0m0 3h0m0 5h0m0 1h0m0 31h0m1-71h0m0 7h0m0 7h0m0 2h0m0 5h0m0 3h0m0 5h0m0 1h0m0 1h0m0 2h0m0 5h0m0 2h0m0 1h0m1-49h0m0 1h0m0 3h0m0 3h0m0 1h0m0 5h0m0 1h0m0 5h0m0 3h0m0 5h0m0 2h0m0 3h0m0 6h0m0 1h0m0 1h0m0 2h0m0 1h0m0 1h0m0 4h0m1-40h0m0 1h0m0 3h0m0 1h0m0 1h0m0 6h0m0 4h0m0 7h0m0 1h0m0 8h0m0 1h0m0 2h0m0 5h0m0 1h0m0 1h0m1-47h0m0 2h0m0 8h0m0 1h0m0 12h0m0 5h0m0 6h0m0 2h0m0 8h0m0 1h0m1-47h0m0 4h0m0 4h0m0 5h0m0 3h0m0 3h0m0 2h0m0 3h0m0 7h0m0 2h0m0 5h0m0 11h0m1-51h0m0 3h0m0 1h0m0 7h0m0 1h0m0 3h0m0 1h0m0 4h0m0 1h0m0 2h0m0 3h0m0 1h0m0 5h0m0 2h0m0 3h0m1-34h0m0 2h0m0 1h0m0 1h0m0 3h0m0 4h0m0 4h0m0 2h0m0 7h0m0 3h0m0 2h0m0 4h0m0 4h0m0 3h0m1-35h0m0 1h0m0 2h0m0 4h0m0 3h0m0 5h0m0 4h0m0 4h0m0 2h0m0 3h0m0 2h0m0 1h0m0 1h0m0 7h0m0 3h0m1-49h0m0 3h0m0 3h0m0 2h0m0 10h0m0 2h0m0 3h0m0 4h0m0 6h0m0 2h0m0 6h0m0 1h0m0 3h0m0 3h0m1-48h0m0 2h0m0 3h0m0 4h0m0 1h0m0 2h0m0 4h0m0 7h0m0 1h0m0 4h0m0 1h0m0 10h0m0 1h0m0 1h0m1-43h0m0 1h0m0 2h0m0 7h0m0 2h0m0 2h0m0 1h0m0 7h0m0 1h0m0 7h0m0 5h0m0 1h0m0 4h0m0 1h0m0 1h0m0 2h0m1-43h0m0 1h0m0 1h0m0 9h0m0 1h0m0 1h0m0 1h0m0 2h0m0 1h0m0 1h0m0 2h0m0 2h0m0 5h0m0 3h0m0 2h0m0 1h0m0 4h0m0 2h0m0 1h0m0 2h0m0 1h0m0 1h0m0 2h0m0 2h0m0 2h0m1-52h0m0 7h0m0 1h0m0 3h0m0 2h0m0 2h0m0 2h0m0 1h0m0 1h0m0 4h0m0 4h0m0 2h0m0 5h0m0 1h0m0 2h0m0 5h0m0 1h0m0 2h0m0 4h0m0 1h0m0 2h0m0 3h0m1-51h0m0 1h0m0 3h0m0 2h0m0 1h0m0 4h0m0 2h0m0 1h0m0 2h0m0 2h0m0 3h0m0 5h0m0 3h0m0 3h0m0 2h0m0 2h0m0 3h0m1-41h0m0 1h0m0 3h0m0 4h0m0 3h0m0 2h0m0 3h0m0 2h0m0 5h0m0 1h0m0 7h0m0 1h0m0 10h0m0 1h0m0 2h0m1-45h0m0 2h0m0 2h0m0 2h0m0 1h0m0 6h0m0 1h0m0 2h0m0 5h0m0 2h0m0 3h0m0 1h0m0 1h0m0 7h0m0 3h0m0 1h0m0 3h0m0 1h0m0 5h0m1-47h0m0 2h0m0 1h0m0 1h0m0 9h0m0 1h0m0 4h0m0 3h0m0 2h0m0 4h0m0 4h0m0 1h0m0 1h0m0 3h0m1-32h0m0 13h0m0 1h0m0 5h0m0 2h0m0 4h0m0 6h0m0 2h0m0 6h0m1-44h0m0 9h0m0 3h0m0 5h0m0 6h0m0 1h0m0 1h0m0 4h0m0 2h0m0 2h0m0 1h0m0 14h0m0 1h0m1-49h0m0 1h0m0 5h0m0 3h0m0 2h0m0 1h0m0 2h0m0 4h0m0 2h0m0 1h0m0 4h0m0 3h0m0 5h0m0 3h0m0 6h0m0 4h0m1-48h0m0 2h0m0 6h0m0 5h0m0 1h0m0 5h0m0 1h0m0 2h0m0 6h0m0 8h0m0 1h0m0 1h0m0 2h0m0 4h0m0 3h0m1-46h0m0 1h0m0 7h0m0 5h0m0 2h0m0 2h0m0 2h0m0 1h0m0 2h0m0 4h0m0 2h0m0 2h0m0 2h0m0 4h0m0 1h0m0 2h0m1-38h0m0 6h0m0 2h0m0 3h0m0 4h0m0 2h0m0 3h0m0 7h0m0 2h0m0 1h0m0 3h0m0 2h0m0 1h0m0 1h0m0 1h0m0 12h0m1-50h0m0 1h0m0 1h0m0 3h0m0 6h0m0 11h0m0 5h0m0 3h0m0 1h0m0 3h0m0 7h0m0 4h0m0 7h0m1-52h0m0 5h0m0 9h0m0 2h0m0 2h0m0 2h0m0 2h0m0 1h0m0 3h0m0 2h0m0 5h0m0 1h0m0 14h0m1-33h0m0 2h0m0 2h0m0 8h0m0 7h0m0 39h0m1-75h0m0 1h0m0 9h0m0 2h0m0 11h0m0 4h0m0 1h0m0 6h0m0 2h0m0 1h0m0 5h0m1-30h0m0 8h0m0 3h0m0 1h0m0 3h0m0 5h0m0 1h0m0 3h0m0 2h0m1-37h0m0 2h0m0 4h0m0 2h0m0 4h0m0 2h0m0 2h0m0 6h0m0 10h0m0 2h0m0 1h0m0 1h0m0 1h0m0 4h0m1-46h0m0 5h0m0 16h0m0 2h0m0 2h0m0 6h0m0 10h0m0 5h0m1-29h0m0 4h0m0 2h0m0 3h0m0 4h0m0 4h0m0 5h0m0 2h0m0 3h0m0 1h0m0 6h0m0 26h0m1-73h0m0 10h0m0 1h0m0 17h0m0 3h0m0 7h0m0 1h0m0 8h0m0 7h0m1-55h0m0 5h0m0 4h0m0 2h0m0 4h0m0 7h0m0 2h0m0 2h0m0 25h0m1-49h0m0 15h0m0 3h0m0 6h0m0 6h0m0 14h0m0 1h0m1-51h0m0 11h0m0 1h0m0 4h0m0 7h0m0 1h0m0 1h0m0 9h0m0 1h0m0 7h0m0 2h0m0 6h0m0 3h0m1-47h0m0 2h0m0 6h0m0 1h0m0 8h0m0 7h0m0 3h0m0 8h0m0 9h0m1-46h0m0 1h0m0 5h0m0 14h0m0 9h0m0 1h0m0 3h0m0 6h0m0 13h0m1-56h0m0 11h0m0 4h0m0 2h0m0 4h0m0 3h0m0 5h0m0 1h0m0 1h0m0 2h0m0 3h0m0 5h0m0 5h0m0 3h0m1-51h0m0 9h0m0 1h0m0 1h0m0 3h0m0 2h0m0 2h0m0 4h0m0 1h0m0 2h0m0 7h0m0 1h0m0 2h0m0 3h0m0 6h0m1-35h0m0 1h0m0 3h0m0 3h0m0 6h0m0 2h0m0 3h0m0 1h0m0 1h0m0 3h0m0 7h0m0 1h0m0 6h0m0 3h0m1-45h0m0 1h0m0 1h0m0 1h0m0 1h0m0 1h0m0 4h0m0 5h0m0 6h0m0 2h0m0 5h0m0 1h0m0 5h0m0 6h0m0 1h0m0 1h0m1-40h0m0 3h0m0 2h0m0 3h0m0 2h0m0 7h0m0 1h0m0 3h0m0 4h0m0 3h0m0 2h0m0 5h0m0 2h0m0 2h0m0 1h0m0 10h0m1-47h0m0 3h0m0 10h0m0 2h0m0 2h0m0 2h0m0 5h0m0 1h0m0 2h0m0 8h0m0 5h0m1-41h0m0 1h0m0 1h0m0 2h0m0 2h0m0 4h0m0 1h0m0 3h0m0 1h0m0 3h0m0 4h0m0 4h0m0 8h0m0 2h0m0 1h0m1-35h0m0 6h0m0 3h0m0 1h0m0 5h0m0 1h0m0 5h0m0 3h0m0 2h0m0 4h0m0 7h0m0 11h0m1-51h0m0 2h0m0 1h0m0 2h0m0 4h0m0 1h0m0 1h0m0 2h0m0 1h0m0 2h0m0 6h0m0 1h0m0 3h0m0 1h0m0 10h0m0 1h0m1-37h0m0 1h0m0 1h0m0 5h0m0 3h0m0 3h0m0 1h0m0 5h0m0 2h0m0 16h0m1-34h0m0 5h0m0 2h0m0 6h0m0 1h0m0 4h0m0 1h0m0 2h0m0 4h0m0 5h0m0 1h0m0 1h0m0 1h0m0 3h0m1-37h0m0 4h0m0 4h0m0 3h0m0 5h0m0 6h0m0 5h0m0 3h0m0 1h0m0 7h0m1-40h0m0 9h0m0 2h0m0 2h0m0 1h0m0 9h0m0 2h0m0 2h0m0 3h0m0 5h0m0 1h0m0 5h0m0 1h0m0 2h0m0 1h0m1-41h0m0 3h0m0 1h0m0 1h0m0 2h0m0 1h0m0 1h0m0 4h0m0 1h0m0 2h0m0 3h0m0 3h0m1-26h0m0 1h0m0 3h0m0 8h0m0 4h0m0 1h0m0 1h0m0 3h0m0 4h0m0 2h0m0 1h0m0 3h0m0 7h0m0 3h0m1-41h0m0 14h0m0 3h0m0 2h0m0 2h0m0 3h0m0 2h0m0 7h0m1-34h0m0 9h0m0 2h0m0 2h0m0 2h0m0 2h0m0 3h0m0 4h0m0 2h0m0 3h0m0 3h0m0 2h0m0 3h0m0 5h0m0 3h0m1-46h0m0 6h0m0 6h0m0 2h0m0 2h0m0 3h0m0 2h0m0 2h0m0 9h0m0 18h0m1-49h0m0 1h0m0 1h0m0 1h0m0 1h0m0 2h0m0 3h0m0 1h0m0 7h0m0 2h0m0 1h0m0 10h0m0 1h0m0 20h0m1-54h0m0 3h0m0 1h0m0 1h0m0 1h0m0 1h0m0 5h0m0 1h0m0 4h0m0 1h0m0 1h0m0 2h0m0 1h0m0 3h0m0 5h0m0 5h0m0 5h0m0 1h0m0 3h0m0 1h0m1-36h0m0 3h0m0 1h0m0 8h0m0 20h0m0 1h0m1-40h0m0 2h0m0 14h0m0 1h0m0 3h0m0 1h0m0 1h0m0 4h0m0 1h0m0 3h0m0 1h0m0 4h0m0 1h0m0 3h0m0 2h0m0 4h0m1-47h0m0 9h0m0 1h0m0 3h0m0 2h0m0 1h0m0 1h0m0 2h0m0 1h0m0 9h0m0 2h0m0 2h0m0 5h0m0 5h0m0 2h0m1-44h0m0 4h0m0 12h0m0 1h0m0 9h0m0 7h0m0 5h0m0 2h0m0 2h0m0 2h0m0 2h0m0 2h0m1-45h0m0 1h0m0 5h0m0 4h0m0 3h0m0 2h0m0 1h0m0 3h0m0 2h0m0 6h0m0 1h0m0 2h0m0 1h0m0 1h0m0 3h0m0 2h0m0 1h0m0 2h0m1-40h0m0 1h0m0 7h0m0 9h0m0 1h0m0 1h0m0 7h0m0 7h0m0 3h0m0 4h0m0 4h0m1-46h0m0 9h0m0 2h0m0 6h0m0 3h0m0 3h0m0 5h0m0 1h0m0 1h0m0 1h0m0 1h0m0 7h0m0 7h0m1-42h0m0 10h0m0 10h0m0 5h0m0 2h0m0 10h0m0 3h0m0 1h0m1-44h0m0 1h0m0 1h0m0 1h0m0 5h0m0 7h0m0 10h0m0 2h0m0 1h0m0 2h0m0 4h0m0 3h0m0 2h0m1-34h0m0 9h0m0 1h0m0 2h0m0 1h0m0 2h0m0 1h0m0 3h0m0 2h0m0 4h0m0 3h0m0 8h0m1-44h0m0 3h0m0 24h0m0 3h0m0 8h0m0 7h0m0 3h0m1-47h0m0 6h0m0 4h0m0 2h0m0 5h0m0 4h0m0 2h0m0 8h0m0 1h0m0 1h0m0 2h0m0 4h0m0 3h0m0 11h0m1-53h0m0 9h0m0 5h0m0 1h0m0 1h0m0 1h0m0 2h0m0 3h0m0 6h0m0 1h0m0 2h0m0 8h0m0 1h0m1-42h0m0 1h0m0 5h0m0 1h0m0 1h0m0 2h0m0 1h0m0 3h0m0 2h0m0 2h0m0 2h0m0 8h0m0 1h0m0 5h0m0 4h0m0 6h0m1-42h0m0 2h0m0 1h0m0 1h0m0 3h0m0 14h0m0 3h0m0 1h0m0 2h0m0 2h0m0 6h0m0 3h0m0 2h0m1-37h0m0 1h0m0 5h0m0 2h0m0 1h0m0 1h0m0 1h0m0 3h0m0 2h0m0 4h0m0 4h0m0 1h0m0 2h0m0 12h0m1-35h0m0 1h0m0 4h0m0 4h0m0 8h0m0 1h0m0 1h0m0 8h0m0 2h0m0 2h0m0 1h0m0 1h0m1-42h0m0 2h0m0 6h0m0 3h0m0 2h0m0 3h0m0 4h0m0 6h0m0 1h0m0 1h0m0 7h0m0 1h0m0 12h0m1-39h0m0 10h0m0 6h0m0 8h0m0 2h0m0 6h0m0 2h0m1-39h0m0 9h0m0 2h0m0 6h0m0 2h0m0 7h0m0 6h0m0 3h0m0 5h0m1-36h0m0 1h0m0 1h0m0 3h0m0 6h0m0 4h0m0 2h0m0 1h0m0 4h0m0 1h0m0 8h0m0 6h0m0 1h0m1-45h0m0 8h0m0 3h0m0 6h0m0 10h0m0 3h0m0 7h0m0 1h0m0 3h0m0 2h0m0 1h0m1-45h0m0 10h0m0 7h0m0 2h0m0 1h0m0 2h0m0 5h0m0 1h0m0 3h0m0 1h0m0 1h0m0 4h0m0 6h0m1-46h0m0 3h0m0 5h0m0 2h0m0 2h0m0 1h0m0 5h0m0 1h0m0 9h0m0 9h0m0 1h0m0 1h0m0 1h0m0 1h0m0 2h0m0 1h0m1-39h0m0 8h0m0 3h0m0 1h0m0 4h0m0 3h0m0 1h0m0 4h0m0 4h0m0 1h0m0 1h0m1-20h0m0 3h0m0 3h0m0 6h0m0 1h0m0 17h0m0 2h0m1-44h0m0 15h0m0 1h0m0 4h0m0 2h0m0 3h0m0 7h0m0 4h0m0 1h0m0 1h0m1-35h0m0 1h0m0 1h0m0 9h0m0 1h0m0 1h0m0 1h0m0 13h0m0 5h0m0 9h0m1-39h0m0 1h0m0 3h0m0 1h0m0 4h0m0 1h0m0 7h0m0 1h0m0 3h0m0 1h0m0 4h0m0 6h0m1-31h0m0 9h0m0 2h0m0 1h0m0 3h0m0 4h0m0 1h0m0 1h0m0 3h0m0 2h0m0 5h0m0 4h0m1-44h0m0 2h0m0 2h0m0 4h0m0 5h0m0 4h0m0 1h0m0 2h0m0 10h0m0 1h0m0 1h0m0 1h0m1-15h0m0 1h0m0 11h0m0 9h0m0 2h0m1-40h0m0 1h0m0 1h0m0 6h0m0 3h0m0 13h0m0 1h0m0 1h0m0 4h0m0 1h0m0 4h0m0 1h0m0 4h0m1-39h0m0 2h0m0 2h0m0 14h0m0 10h0m0 1h0m0 1h0m0 1h0m0 3h0m1-32h0m0 18h0m0 1h0m0 1h0m0 1h0m0 2h0m0 1h0m0 1h0m0 1h0m0 3h0m0 1h0m0 1h0m0 1h0m1-35h0m0 7h0m0 2h0m0 1h0m0 1h0m0 4h0m0 5h0m0 3h0m0 2h0m0 3h0m0 5h0m0 8h0m1-35h0m0 7h0m0 2h0m0 2h0m0 2h0m0 1h0m0 1h0m0 4h0m0 2h0m0 1h0m0 2h0m0 12h0m1-43h0m0 6h0m0 1h0m0 2h0m0 5h0m0 4h0m0 1h0m0 2h0m0 2h0m0 1h0m0 8h0m0 2h0m0 2h0m0 1h0m0 2h0m0 6h0m1-42h0m0 7h0m0 3h0m0 2h0m0 1h0m0 4h0m0 3h0m0 3h0m0 4h0m0 3h0m0 1h0m0 4h0m0 3h0m1-42h0m0 1h0m0 6h0m0 2h0m0 1h0m0 2h0m0 1h0m0 2h0m0 2h0m0 3h0m0 4h0m0 1h0m0 3h0m0 1h0m0 2h0m0 4h0m0 7h0m0 1h0m1-42h0m0 4h0m0 2h0m0 3h0m0 1h0m0 2h0m0 5h0m0 1h0m0 2h0m0 1h0m0 7h0m0 1h0m0 4h0m0 1h0m0 1h0m1-34h0m0 1h0m0 6h0m0 1h0m0 8h0m0 1h0m0 6h0m0 4h0m0 5h0m0 2h0m0 6h0m1-43h0m0 3h0m0 4h0m0 5h0m0 2h0m0 1h0m0 5h0m0 1h0m0 2h0m0 3h0m0 1h0m0 2h0m0 3h0m0 3h0m0 2h0m0 1h0m0 1h0m0 7h0m1-41h0m0 2h0m0 2h0m0 3h0m0 2h0m0 10h0m0 1h0m0 1h0m0 1h0m0 2h0m0 9h0m1-27h0m0 1h0m0 7h0m0 2h0m0 6h0m0 3h0m0 4h0m0 2h0m0 1h0m0 1h0m1-31h0m0 1h0m0 6h0m0 1h0m0 1h0m0 5h0m0 1h0m0 3h0m0 1h0m0 5h0m0 2h0m0 2h0m0 2h0m0 2h0m1-36h0m0 1h0m0 6h0m0 2h0m0 1h0m0 6h0m0 3h0m0 2h0m0 2h0m0 6h0m0 2h0m0 4h0m0 3h0m1-39h0m0 7h0m0 2h0m0 1h0m0 1h0m0 4h0m0 2h0m0 1h0m0 6h0m0 1h0m0 5h0m0 1h0m0 3h0m1-29h0m0 2h0m0 3h0m0 1h0m0 5h0m0 3h0m0 1h0m0 1h0m0 2h0m0 1h0m0 1h0m0 8h0m0 6h0m1-43h0m0 5h0m0 2h0m0 7h0m0 2h0m0 7h0m0 1h0m0 2h0m0 2h0m0 5h0m0 6h0m0 4h0m0 16h0m1-56h0m0 1h0m0 5h0m0 3h0m0 1h0m0 4h0m0 2h0m0 7h0m0 3h0m0 8h0m0 1h0m0 4h0m1-30h0m0 3h0m0 3h0m0 7h0m0 3h0m0 4h0m0 1h0m0 4h0m0 1h0m1-35h0m0 6h0m0 1h0m0 4h0m0 2h0m0 8h0m0 2h0m0 1h0m0 4h0m0 7h0m1-34h0m0 3h0m0 4h0m0 1h0m0 1h0m0 11h0m0 2h0m0 1h0m0 1h0m0 2h0m0 1h0m0 4h0m0 3h0m1-32h0m0 10h0m0 1h0m0 1h0m0 1h0m0 6h0m0 1h0m0 2h0m0 1h0m0 9h0m1-21h0m0 5h0m0 5h0m0 9h0m0 1h0m1-33h0m0 6h0m0 16h0m0 5h0m0 2h0m0 8h0m1-37h0m0 6h0m0 1h0m0 2h0m0 3h0m0 1h0m0 8h0m0 2h0m0 2h0m0 1h0m0 1h0m0 1h0m0 9h0m1-40h0m0 5h0m0 6h0m0 6h0m0 1h0m0 13h0m1-31h0m0 2h0m0 4h0m0 3h0m0 1h0m0 8h0m0 1h0m0 1h0m0 1h0m0 4h0m0 2h0m0 2h0m0 6h0m0 1h0m0 3h0m1-32h0m0 1h0m0 1h0m0 1h0m0 5h0m0 3h0m0 1h0m0 4h0m0 13h0m0 4h0m1-41h0m0 2h0m0 5h0m0 1h0m0 2h0m0 4h0m0 6h0m0 1h0m0 1h0m1-24h0m0 4h0m0 5h0m0 4h0m0 1h0m0 2h0m0 2h0m0 1h0m0 2h0m0 1h0m0 2h0m0 1h0m0 4h0m0 6h0m0 2h0m1-36h0m0 1h0m0 3h0m0 2h0m0 1h0m0 1h0m0 2h0m0 2h0m0 2h0m0 1h0m0 4h0m0 2h0m0 2h0m0 1h0m0 1h0m0 1h0m0 5h0m0 3h0m0 1h0m1-35h0m0 1h0m0 1h0m0 2h0m0 1h0m0 2h0m0 1h0m0 1h0m0 5h0m0 5h0m0 4h0m1-27h0m0 15h0m0 9h0m0 3h0m0 1h0m0 5h0m0 7h0m1-28h0m0 2h0m0 1h0m0 1h0m0 5h0m0 1h0m0 1h0m0 4h0m0 3h0m0 1h0m0 1h0m0 2h0m1-30h0m0 2h0m0 4h0m0 5h0m0 2h0m0 2h0m0 3h0m0 1h0m0 8h0m0 6h0m0 5h0m1-35h0m0 2h0m0 1h0m0 2h0m0 14h0m0 3h0m0 5h0m0 3h0m0 1h0m0 23h0m1-58h0m0 13h0m0 3h0m0 1h0m0 2h0m0 1h0m0 7h0m0 4h0m1-32h0m0 1h0m0 3h0m0 3h0m0 4h0m0 2h0m0 2h0m0 2h0m0 6h0m0 4h0m0 1h0m0 4h0m0 1h0m0 1h0m0 2h0m0 3h0m1-37h0m0 1h0m0 3h0m0 8h0m0 1h0m0 5h0m0 6h0m0 4h0m1-28h0m0 1h0m0 7h0m0 4h0m0 3h0m0 4h0m0 5h0m0 6h0m0 1h0m0 3h0m0 4h0m1-42h0m0 1h0m0 1h0m0 10h0m0 1h0m0 1h0m0 2h0m0 6h0m0 1h0m0 4h0m0 3h0m0 2h0m1-25h0m0 5h0m0 5h0m0 4h0m0 1h0m0 4h0m0 3h0m0 5h0m0 1h0m0 1h0m0 1h0m1-38h0m0 2h0m0 9h0m0 4h0m0 8h0m0 6h0m0 3h0m0 4h0m0 3h0m1-28h0m0 8h0m0 1h0m0 3h0m0 8h0m0 7h0m1-29h0m0 4h0m0 2h0m0 1h0m0 2h0m0 1h0m0 4h0m0 2h0m0 4h0m0 2h0m0 1h0m0 3h0m0 3h0m1-28h0m0 3h0m0 2h0m0 3h0m0 2h0m0 2h0m0 7h0m0 11h0m0 1h0m1-36h0m0 4h0m0 4h0m0 1h0m0 4h0m0 2h0m0 1h0m0 1h0m0 2h0m0 1h0m0 1h0m0 1h0m1-22h0m0 2h0m0 12h0m0 5h0m0 2h0m0 9h0m0 6h0m0 1h0m1-38h0m0 1h0m0 2h0m0 9h0m0 1h0m0 1h0m0 7h0m0 4h0m0 8h0m1-35h0m0 4h0m0 3h0m0 1h0m0 1h0m0 1h0m0 5h0m0 1h0m0 5h0m0 4h0m0 4h0m0 2h0m0 5h0m1-30h0m0 1h0m0 3h0m0 7h0m0 1h0m0 2h0m0 4h0m0 3h0m0 3h0m0 5h0m0 1h0m0 3h0m0 1h0m0 14h0m1-56h0m0 6h0m0 1h0m0 2h0m0 2h0m0 2h0m0 3h0m0 1h0m0 3h0m0 1h0m0 1h0m0 1h0m0 1h0m0 2h0m0 6h0m0 4h0m0 1h0m0 5h0m1-31h0m0 2h0m0 2h0m0 1h0m0 7h0m0 5h0m0 3h0m0 1h0m0 2h0m1-33h0m0 2h0m0 12h0m0 5h0m0 2h0m0 2h0m0 2h0m0 3h0m0 4h0m0 1h0m0 4h0m0 2h0m1-38h0m0 4h0m0 6h0m0 1h0m0 1h0m0 2h0m0 1h0m0 5h0m0 2h0m0 4h0m0 1h0m0 2h0m0 1h0m0 1h0m0 1h0m0 4h0m1-36h0m0 3h0m0 2h0m0 1h0m0 1h0m0 4h0m0 3h0m0 5h0m0 1h0m0 1h0m0 2h0m0 4h0m0 3h0m0 12h0m1-42h0m0 1h0m0 7h0m0 7h0m0 5h0m0 1h0m0 10h0m0 2h0m0 2h0m0 3h0m1-30h0m0 7h0m0 2h0m0 8h0m0 5h0m0 3h0m0 1h0m0 1h0m0 4h0m0 2h0m1-28h0m0 2h0m0 4h0m0 2h0m0 3h0m0 1h0m0 2h0m0 1h0m0 1h0m0 1h0m0 2h0m0 2h0m0 2h0m0 2h0m1-32h0m0 1h0m0 2h0m0 3h0m0 1h0m0 3h0m0 2h0m0 2h0m0 1h0m0 3h0m0 1h0m0 1h0m0 1h0m0 2h0m0 5h0m0 3h0m1-33h0m0 12h0m0 1h0m0 1h0m0 1h0m0 2h0m0 2h0m1-21h0m0 1h0m0 6h0m0 3h0m0 5h0m0 2h0m0 1h0m0 2h0m0 1h0m0 1h0m0 4h0m0 1h0m0 1h0m0 2h0m0 3h0m0 1h0m0 7h0m1-43h0m0 10h0m0 1h0m0 1h0m0 3h0m0 1h0m0 2h0m0 7h0m0 1h0m0 3h0m0 1h0m0 2h0m0 4h0m0 1h0m1-39h0m0 6h0m0 4h0m0 3h0m0 2h0m0 1h0m0 2h0m0 1h0m0 7h0m0 1h0m0 2h0m0 3h0m0 6h0m0 3h0m1-39h0m0 5h0m0 1h0m0 1h0m0 2h0m0 1h0m0 1h0m0 1h0m0 2h0m0 1h0m0 2h0m0 3h0m0 1h0m0 3h0m0 2h0m0 1h0m0 7h0m0 1h0m0 2h0m0 1h0m0 2h0m1-42h0m0 1h0m0 4h0m0 4h0m0 2h0m0 5h0m0 1h0m0 2h0m0 8h0m0 3h0m0 2h0m0 3h0m0 1h0m0 2h0m0 1h0m0 1h0m0 2h0m1-42h0m0 10h0m0 2h0m0 3h0m0 3h0m0 4h0m0 3h0m0 1h0m0 1h0m0 2h0m0 1h0m0 2h0m0 12h0m1-43h0m0 7h0m0 1h0m0 7h0m0 3h0m0 3h0m0 2h0m0 4h0m0 5h0m0 5h0m0 1h0m0 25h0m1-64h0m0 4h0m0 4h0m0 3h0m0 1h0m0 1h0m0 3h0m0 3h0m0 2h0m0 3h0m0 4h0m0 6h0m0 2h0m0 2h0m1-36h0m0 1h0m0 2h0m0 4h0m0 1h0m0 5h0m0 4h0m0 3h0m0 1h0m0 2h0m0 2h0m0 2h0m0 2h0m0 3h0m0 1h0m1-35h0m0 3h0m0 1h0m0 2h0m0 2h0m0 7h0m0 3h0m0 1h0m0 1h0m0 7h0m0 2h0m0 1h0m0 7h0m1-35h0m0 7h0m0 3h0m0 12h0m0 4h0m0 6h0m1-28h0m0 3h0m0 7h0m0 2h0m0 1h0m0 3h0m0 2h0m0 1h0m0 2h0m0 5h0m0 2h0m0 1h0m0 1h0m0 2h0m1-38h0m0 1h0m0 6h0m0 1h0m0 1h0m0 1h0m0 5h0m0 2h0m0 7h0m0 2h0m0 1h0m0 4h0m1-32h0m0 4h0m0 5h0m0 2h0m0 2h0m0 2h0m0 3h0m0 1h0m0 5h0m0 2h0m0 4h0m0 7h0m1-30h0m0 3h0m0 2h0m0 10h0m0 1h0m0 2h0m0 1h0m0 2h0m0 8h0m0 3h0m1-40h0m0 10h0m0 1h0m0 3h0m0 2h0m0 2h0m0 1h0m0 1h0m0 6h0m0 1h0m0 1h0m0 1h0m0 2h0m0 1h0m0 8h0m0 1h0m1-39h0m0 6h0m0 4h0m0 6h0m0 2h0m0 1h0m0 3h0m0 1h0m0 10h0m0 1h0m0 5h0m1-37h0m0 4h0m0 3h0m0 6h0m0 2h0m0 2h0m0 2h0m0 2h0m0 1h0m0 5h0m0 1h0m0 6h0m0 1h0m1-28h0m0 1h0m0 5h0m0 1h0m0 1h0m0 8h0m0 2h0m0 1h0m0 1h0m0 1h0m1-28h0m0 1h0m0 1h0m0 3h0m0 1h0m0 6h0m0 3h0m0 4h0m0 2h0m0 3h0m0 2h0m0 1h0m0 7h0m1-36h0m0 2h0m0 2h0m0 1h0m0 4h0m0 3h0m0 1h0m0 3h0m0 8h0m0 1h0m0 1h0m0 1h0m0 2h0m0 1h0m0 5h0m1-39h0m0 3h0m0 6h0m0 3h0m0 2h0m0 3h0m0 1h0m0 2h0m0 5h0m0 6h0m0 11h0m1-35h0m0 2h0m0 2h0m0 1h0m0 1h0m0 5h0m0 1h0m0 1h0m0 1h0m0 1h0m0 2h0m0 2h0m0 2h0m0 4h0m0 1h0m0 1h0m0 3h0m0 1h0m1-39h0m0 11h0m0 1h0m0 1h0m0 2h0m0 4h0m0 1h0m0 2h0m0 1h0m0 3h0m0 2h0m0 1h0m0 1h0m0 2h0m0 1h0m0 5h0m1-31h0m0 2h0m0 5h0m0 2h0m0 2h0m0 1h0m0 3h0m0 1h0m0 5h0m0 2h0m0 1h0m0 3h0m0 1h0m0 1h0m0 21h0m1-50h0m0 4h0m0 2h0m0 3h0m0 2h0m0 5h0m0 1h0m0 4h0m0 2h0m0 1h0m0 1h0m0 7h0m1-37h0m0 5h0m0 1h0m0 5h0m0 5h0m0 4h0m0 4h0m0 4h0m0 1h0m0 3h0m0 1h0m0 2h0m1-32h0m0 1h0m0 2h0m0 10h0m0 2h0m0 3h0m0 5h0m0 2h0m0 2h0m0 1h0m0 1h0m0 2h0m0 4h0m1-36h0m0 1h0m0 4h0m0 3h0m0 3h0m0 5h0m0 8h0m0 1h0m0 2h0m0 2h0m0 3h0m1-33h0m0 2h0m0 2h0m0 1h0m0 2h0m0 3h0m0 3h0m0 5h0m0 1h0m0 1h0m0 1h0m0 2h0m0 5h0m0 1h0m0 2h0m0 2h0m0 1h0m0 20h0m1-50h0m0 7h0m0 1h0m0 3h0m0 1h0m0 5h0m0 3h0m0 2h0m0 1h0m0 2h0m0 1h0m0 2h0m0 2h0m0 2h0m1-38h0m0 4h0m0 1h0m0 13h0m0 2h0m0 2h0m0 11h0m0 3h0m0 1h0m0 2h0m1-36h0m0 9h0m0 3h0m0 2h0m0 2h0m0 1h0m0 7h0m0 2h0m0 2h0m0 1h0m0 6h0m0 1h0m1-37h0m0 1h0m0 3h0m0 4h0m0 2h0m0 2h0m0 2h0m0 3h0m0 3h0m0 2h0m0 1h0m0 2h0m0 1h0m0 4h0m0 1h0m0 2h0m0 2h0m0 1h0m1-35h0m0 4h0m0 2h0m0 4h0m0 4h0m0 3h0m0 2h0m0 2h0m0 6h0m0 2h0m0 1h0m0 1h0m1-34h0m0 2h0m0 2h0m0 6h0m0 3h0m0 1h0m0 1h0m0 3h0m0 2h0m0 3h0m0 7h0m0 1h0m0 1h0m0 1h0m0 3h0m1-35h0m0 10h0m0 1h0m0 1h0m0 2h0m0 2h0m0 2h0m0 1h0m0 2h0m0 4h0m0 3h0m0 3h0m0 2h0m1-24h0m0 4h0m0 1h0m0 2h0m0 2h0m0 1h0m0 2h0m0 2h0m0 1h0m0 4h0m0 1h0m0 5h0m1-34h0m0 15h0m0 3h0m0 7h0m0 3h0m0 2h0m0 1h0m1-33h0m0 12h0m0 2h0m0 2h0m0 4h0m0 1h0m1-12h0m0 7h0m0 11h0m0 4h0m0 2h0m0 5h0m1-34h0m0 1h0m0 2h0m0 18h0m0 1h0m0 2h0m0 1h0m0 4h0m0 1h0m0 2h0m0 2h0m1-36h0m0 1h0m0 5h0m0 10h0m0 1h0m0 1h0m0 1h0m0 1h0m0 1h0m0 3h0m0 5h0m0 1h0m0 4h0m0 2h0m0 1h0m1-37h0m0 1h0m0 4h0m0 1h0m0 5h0m0 10h0m0 2h0m0 2h0m0 3h0m0 1h0m0 2h0m0 4h0m1-38h0m0 1h0m0 8h0m0 1h0m0 4h0m0 1h0m0 6h0m0 1h0m0 4h0m0 14h0m1-37h0m0 1h0m0 3h0m0 5h0m0 4h0m0 5h0m0 1h0m0 1h0m0 9h0m0 1h0m0 3h0m1-34h0m0 3h0m0 1h0m0 1h0m0 1h0m0 1h0m0 2h0m0 9h0m0 2h0m0 2h0m0 3h0m0 5h0m0 3h0m0 1h0m1-35h0m0 4h0m0 1h0m0 5h0m0 7h0m0 12h0m0 4h0m1-30h0m0 1h0m0 3h0m0 19h0m0 4h0m0 4h0m0 2h0m0 2h0m1-34h0m0 3h0m0 7h0m0 4h0m0 2h0m0 1h0m0 13h0m1-31h0m0 2h0m0 1h0m0 1h0m0 11h0m0 1h0m0 3h0m0 4h0m0 1h0m0 4h0m0 5h0m1-33h0m0 4h0m0 5h0m0 3h0m0 1h0m0 6h0m0 3h0m0 4h0m0 3h0m1-28h0m0 1h0m0 2h0m0 1h0m0 6h0m0 1h0m0 10h0m0 7h0m0 5h0m1-30h0m0 7h0m0 5h0m0 2h0m0 3h0m0 1h0m0 1h0m0 1h0m1-25h0m0 5h0m0 1h0m0 6h0m0 7h0m0 4h0m0 2h0m0 1h0m0 1h0m0 2h0m1-25h0m0 1h0m0 4h0m0 4h0m0 5h0m0 5h0m0 2h0m0 2h0m0 1h0m0 3h0m1-34h0m0 6h0m0 1h0m0 1h0m0 2h0m0 7h0m0 1h0m0 1h0m0 2h0m0 1h0m0 1h0m0 1h0m0 3h0m0 2h0m0 4h0m0 1h0m0 1h0m1-29h0m0 3h0m0 1h0m0 2h0m0 2h0m0 2h0m0 2h0m0 5h0m0 3h0m0 1h0m0 2h0m0 3h0m1-29h0m0 2h0m0 3h0m0 6h0m0 2h0m0 2h0m0 4h0m0 1h0m0 2h0m0 3h0m0 2h0m0 7h0m0 2h0m0 3h0m1-40h0m0 4h0m0 1h0m0 1h0m0 1h0m0 1h0m0 3h0m0 5h0m0 2h0m0 1h0m0 2h0m0 2h0m0 1h0m0 2h0m0 1h0m0 2h0m1-29h0m0 7h0m0 2h0m0 11h0m0 1h0m0 4h0m0 3h0m1-24h0m0 1h0m0 2h0m0 2h0m0 2h0m0 3h0m0 5h0m0 1h0m0 1h0m0 1h0m0 1h0m0 1h0m0 1h0m0 1h0m0 15h0m1-42h0m0 1h0m0 3h0m0 4h0m0 6h0m0 2h0m0 1h0m0 2h0m0 3h0m0 1h0m0 3h0m0 2h0m0 24h0m1-48h0m0 1h0m0 1h0m0 5h0m0 1h0m0 8h0m0 3h0m0 1h0m0 1h0m0 2h0m0 1h0m0 2h0m0 2h0m1-22h0m0 7h0m0 1h0m0 1h0m0 5h0m0 2h0m0 2h0m0 2h0m0 1h0m1-34h0m0 4h0m0 4h0m0 1h0m0 2h0m0 3h0m0 2h0m0 5h0m0 5h0m0 4h0m0 5h0m0 2h0m1-35h0m0 9h0m0 1h0m0 4h0m0 3h0m0 11h0m0 1h0m0 1h0m0 1h0m1-30h0m0 2h0m0 6h0m0 9h0m0 1h0m0 2h0m0 6h0m0 1h0m0 1h0m0 2h0m0 6h0m1-27h0m0 2h0m0 1h0m0 1h0m0 3h0m0 12h0m0 6h0m1-35h0m0 1h0m0 1h0m0 7h0m0 1h0m0 7h0m0 5h0m0 2h0m0 2h0m0 1h0m0 2h0m0 2h0m1-34h0m0 1h0m0 3h0m0 1h0m0 4h0m0 1h0m0 1h0m0 3h0m0 1h0m0 1h0m0 1h0m0 1h0m0 3h0m0 5h0m0 1h0m1-24h0m0 1h0m0 2h0m0 1h0m0 2h0m0 1h0m0 2h0m0 3h0m0 1h0m0 1h0m0 6h0m0 1h0m0 1h0m0 3h0m0 2h0m0 3h0m1-31h0m0 4h0m0 1h0m0 1h0m0 4h0m0 6h0m0 7h0m0 1h0m0 5h0m0 8h0m1-32h0m0 2h0m0 1h0m0 1h0m0 9h0m0 2h0m0 8h0m0 1h0m0 7h0m1-41h0m0 7h0m0 6h0m0 2h0m0 5h0m0 2h0m0 1h0m0 2h0m0 1h0m0 2h0m0 2h0m0 5h0m0 2h0m0 6h0m1-33h0m0 1h0m0 1h0m0 1h0m0 1h0m0 4h0m0 1h0m0 5h0m0 1h0m0 10h0m0 4h0m0 2h0m0 1h0m1-40h0m0 16h0m0 3h0m0 1h0m0 3h0m0 1h0m0 2h0m0 1h0m0 1h0m0 6h0m0 3h0m1-24h0m0 2h0m0 2h0m0 10h0m0 11h0m1-39h0m0 1h0m0 6h0m0 1h0m0 1h0m0 2h0m0 7h0m0 1h0m0 3h0m0 4h0m0 6h0m0 2h0m0 3h0m1-32h0m0 5h0m0 1h0m0 2h0m0 2h0m0 8h0m0 1h0m0 2h0m0 3h0m0 11h0m0 2h0m1-37h0m0 2h0m0 1h0m0 3h0m0 3h0m0 1h0m0 12h0m0 1h0m0 4h0m0 1h0m0 1h0m0 5h0m0 2h0m1-37h0m0 3h0m0 3h0m0 5h0m0 6h0m0 5h0m0 2h0m0 4h0m0 1h0m1-30h0m0 5h0m0 7h0m0 1h0m0 1h0m0 1h0m0 1h0m0 1h0m0 2h0m0 5h0m0 2h0m0 2h0m0 7h0m1-38h0m0 1h0m0 1h0m0 12h0m0 1h0m0 2h0m0 2h0m0 7h0m0 6h0m0 2h0m1-35h0m0 14h0m0 3h0m0 1h0m0 7h0m0 4h0m0 1h0m0 2h0m0 10h0m1-37h0m0 5h0m0 1h0m0 3h0m0 1h0m0 1h0m0 4h0m0 14h0m1-33h0m0 1h0m0 6h0m0 9h0m0 5h0m0 2h0m0 2h0m0 9h0m0 6h0m1-42h0m0 8h0m0 1h0m0 6h0m0 1h0m0 6h0m0 6h0m0 4h0m0 3h0m0 4h0m1-37h0m0 2h0m0 1h0m0 2h0m0 5h0m0 3h0m0 5h0m0 6h0m0 3h0m0 8h0m0 1h0m0 3h0m1-40h0m0 2h0m0 1h0m0 6h0m0 5h0m0 1h0m0 1h0m0 1h0m0 3h0m0 3h0m0 2h0m0 1h0m0 2h0m0 5h0m0 1h0m0 3h0m0 6h0m1-45h0m0 3h0m0 1h0m0 2h0m0 4h0m0 3h0m0 1h0m0 5h0m0 3h0m0 1h0m0 7h0m0 9h0m0 4h0m1-41h0m0 1h0m0 2h0m0 2h0m0 3h0m0 1h0m0 6h0m0 1h0m0 4h0m0 3h0m0 5h0m0 1h0m0 9h0m0 2h0m1-40h0m0 1h0m0 1h0m0 10h0m0 3h0m0 6h0m0 5h0m0 1h0m0 3h0m0 3h0m0 7h0m1-30h0m0 1h0m0 1h0m0 2h0m0 2h0m0 1h0m0 2h0m0 4h0m0 4h0m0 2h0m0 6h0m0 1h0m0 2h0m1-38h0m0 2h0m0 3h0m0 3h0m0 1h0m0 4h0m0 1h0m0 1h0m0 1h0m0 2h0m0 3h0m0 3h0m0 2h0m0 1h0m0 8h0m0 2h0m0 21h0m1-57h0m0 5h0m0 2h0m0 3h0m0 3h0m0 3h0m0 1h0m0 2h0m0 1h0m0 2h0m0 2h0m0 3h0m0 13h0m0 2h0m1-39h0m0 7h0m0 2h0m0 3h0m0 6h0m0 1h0m0 1h0m0 1h0m0 2h0m0 5h0m0 1h0m0 8h0m1-40h0m0 4h0m0 4h0m0 1h0m0 1h0m0 1h0m0 2h0m0 2h0m0 1h0m0 3h0m0 3h0m0 10h0m1-26h0m0 2h0m0 1h0m0 1h0m0 5h0m0 13h0m0 2h0m0 4h0m0 1h0m1-41h0m0 6h0m0 5h0m0 4h0m0 3h0m0 1h0m0 1h0m0 2h0m0 6h0m0 3h0m0 4h0m0 3h0m1-34h0m0 2h0m0 4h0m0 7h0m0 2h0m0 1h0m0 2h0m0 6h0m0 4h0m0 2h0m0 3h0m0 3h0m1-35h0m0 4h0m0 9h0m0 3h0m0 1h0m0 2h0m0 4h0m0 5h0m0 1h0m0 2h0m0 2h0m0 2h0m0 2h0m1-34h0m0 6h0m0 1h0m0 2h0m0 1h0m0 1h0m0 7h0m0 2h0m0 1h0m0 9h0m1-37h0m0 11h0m0 1h0m0 1h0m0 4h0m0 4h0m0 7h0m0 6h0m0 4h0m0 2h0m0 1h0m0 3h0m1-40h0m0 1h0m0 9h0m0 1h0m0 1h0m0 1h0m0 1h0m0 1h0m0 3h0m0 3h0m0 5h0m0 4h0m0 3h0m0 1h0m0 1h0m1-35h0m0 6h0m0 2h0m0 2h0m0 4h0m0 1h0m0 4h0m0 3h0m0 6h0m0 1h0m0 1h0m0 3h0m0 3h0m1-30h0m0 7h0m0 7h0m0 7h0m0 1h0m0 1h0m0 2h0m0 2h0m0 3h0m1-35h0m0 12h0m0 2h0m0 2h0m0 4h0m0 1h0m0 2h0m0 6h0m1-32h0m0 10h0m0 1h0m0 3h0m0 4h0m0 2h0m0 2h0m0 9h0m0 4h0m0 1h0m0 2h0m0 1h0m0 2h0m1-46h0m0 14h0m0 1h0m0 5h0m0 12h0m0 5h0m0 3h0m0 1h0m0 1h0m0 1h0m1-30h0m0 1h0m0 7h0m0 3h0m0 1h0m0 8h0m0 7h0m0 1h0m1-29h0m0 2h0m0 1h0m0 4h0m0 18h0m0 4h0m0 1h0m1-24h0m0 1h0m0 5h0m0 2h0m0 1h0m0 6h0m0 1h0m0 2h0m0 5h0m0 1h0m0 1h0m0 16h0m1-49h0m0 6h0m0 1h0m0 3h0m0 5h0m0 1h0m0 2h0m0 3h0m0 3h0m0 27h0m1-63h0m0 8h0m0 3h0m0 1h0m0 5h0m0 8h0m0 9h0m0 14h0m1-35h0m0 2h0m0 8h0m0 1h0m0 1h0m0 1h0m0 8h0m0 5h0m0 1h0m0 1h0m0 2h0m0 2h0m0 1h0m0 1h0m1-33h0m0 4h0m0 4h0m0 3h0m0 2h0m0 3h0m0 1h0m0 3h0m0 7h0m0 4h0m1-33h0m0 7h0m0 3h0m0 5h0m0 1h0m0 1h0m0 3h0m0 2h0m0 2h0m0 6h0m0 1h0m0 2h0m1-34h0m0 2h0m0 1h0m0 6h0m0 2h0m0 2h0m0 2h0m0 5h0m0 2h0m0 3h0m0 1h0m0 4h0m0 1h0m0 6h0m1-27h0m0 2h0m0 1h0m0 2h0m0 4h0m0 2h0m0 1h0m0 5h0m0 3h0m0 24h0m1-56h0m0 2h0m0 1h0m0 6h0m0 2h0m0 7h0m0 3h0m0 6h0m0 2h0m0 1h0m0 3h0m0 1h0m0 3h0m0 1h0m1-35h0m0 8h0m0 1h0m0 15h0m0 1h0m0 2h0m0 1h0m0 1h0m0 2h0m0 4h0m0 2h0m1-42h0m0 2h0m0 9h0m0 1h0m0 5h0m0 2h0m0 2h0m0 5h0m0 3h0m0 1h0m1-22h0m0 5h0m0 4h0m0 5h0m0 2h0m0 3h0m0 1h0m0 2h0m0 9h0m0 2h0m1-44h0m0 4h0m0 10h0m0 1h0m0 1h0m0 5h0m0 4h0m0 11h0m0 1h0m1-38h0m0 9h0m0 2h0m0 14h0m0 11h0m0 9h0m0 3h0m1-43h0m0 1h0m0 1h0m0 1h0m0 2h0m0 2h0m0 13h0m0 2h0m0 3h0m0 1h0m0 1h0m0 7h0m0 2h0m0 3h0m1-41h0m0 1h0m0 2h0m0 1h0m0 2h0m0 9h0m0 5h0m0 2h0m0 3h0m0 7h0m0 2h0m0 5h0m1-34h0m0 2h0m0 16h0m0 4h0m0 4h0m0 5h0m0 1h0m0 3h0m1-34h0m0 1h0m0 3h0m0 2h0m0 1h0m0 4h0m0 4h0m0 1h0m0 1h0m0 7h0m0 5h0m0 4h0m0 2h0m1-45h0m0 1h0m0 3h0m0 4h0m0 4h0m0 8h0m0 1h0m0 7h0m0 2h0m0 3h0m0 2h0m0 2h0m0 2h0m0 3h0m0 2h0m1-42h0m0 1h0m0 4h0m0 3h0m0 8h0m0 6h0m0 7h0m0 1h0m0 9h0m0 1h0m0 3h0m1-49h0m0 5h0m0 6h0m0 2h0m0 2h0m0 3h0m0 1h0m0 3h0m0 4h0m0 1h0m0 1h0m0 4h0m0 2h0m0 2h0m0 6h0m0 2h0m0 3h0m1-32h0m0 1h0m0 3h0m0 6h0m0 2h0m0 4h0m0 2h0m0 2h0m0 6h0m1-30h0m0 8h0m0 1h0m0 7h0m0 4h0m0 3h0m0 3h0m0 3h0m0 1h0m0 2h0m0 3h0m1-42h0m0 11h0m0 1h0m0 3h0m0 9h0m0 4h0m0 4h0m0 4h0m0 4h0m0 4h0m0 4h0m1-48h0m0 9h0m0 1h0m0 5h0m0 3h0m0 1h0m0 1h0m0 1h0m0 4h0m0 13h0m0 1h0m0 5h0m0 1h0m0 4h0m0 46h0m1-96h0m0 7h0m0 6h0m0 2h0m0 1h0m0 4h0m0 4h0m0 6h0m0 4h0m0 1h0m0 6h0m0 5h0m1-45h0m0 9h0m0 1h0m0 2h0m0 1h0m0 2h0m0 1h0m0 8h0m0 2h0m0 3h0m0 2h0m0 5h0m0 2h0m0 3h0m0 2h0m0 3h0m1-52h0m0 7h0m0 4h0m0 5h0m0 2h0m0 2h0m0 1h0m0 2h0m0 2h0m0 3h0m0 6h0m0 1h0m0 1h0m0 2h0m0 10h0m1-53h0m0 16h0m0 1h0m0 7h0m0 7h0m0 2h0m0 6h0m0 5h0m0 8h0m0 8h0m1-63h0m0 21h0m0 1h0m0 1h0m0 5h0m0 2h0m0 2h0m0 5h0m0 4h0m0 1h0m0 2h0m0 1h0m0 14h0m1-59h0m0 5h0m0 9h0m0 3h0m0 7h0m0 6h0m0 2h0m0 4h0m0 1h0m0 1h0m0 2h0m0 3h0m0 10h0m1-37h0m0 8h0m0 3h0m0 5h0m0 2h0m0 3h0m0 6h0m0 2h0m0 7h0m0 7h0m1-40h0m0 1h0m0 4h0m0 1h0m0 1h0m0 2h0m0 3h0m0 2h0m0 4h0m0 1h0m0 9h0m0 2h0m0 3h0m0 3h0m0 9h0m1-42h0m0 1h0m0 2h0m0 2h0m0 2h0m0 5h0m0 1h0m0 3h0m0 2h0m0 3h0m0 3h0m0 1h0m0 1h0m0 2h0m0 1h0m0 5h0m0 7h0m1-49h0m0 1h0m0 1h0m0 2h0m0 2h0m0 2h0m0 5h0m0 6h0m0 5h0m0 1h0m0 2h0m0 4h0m0 8h0m0 4h0m1-49h0m0 7h0m0 6h0m0 1h0m0 1h0m0 1h0m0 1h0m0 15h0m0 7h0m1-33h0m0 6h0m0 1h0m0 4h0m0 5h0m0 7h0m0 2h0m0 2h0m0 1h0m0 1h0m0 5h0m0 1h0m1-52h0m0 17h0m0 5h0m0 1h0m0 1h0m0 3h0m0 1h0m0 4h0m0 2h0m0 3h0m0 5h0m0 1h0m0 4h0m0 1h0m0 11h0m1-37h0m0 1h0m0 1h0m0 2h0m0 1h0m0 1h0m0 3h0m0 1h0m0 7h0m0 1h0m0 1h0m0 2h0m0 1h0m0 1h0m0 3h0m0 1h0m0 1h0m0 2h0m0 1h0m0 11h0m1-48h0m0 1h0m0 6h0m0 4h0m0 12h0m0 2h0m0 2h0m0 1h0m0 1h0m0 4h0m0 4h0m0 5h0m0 1h0m0 2h0m1-37h0m0 1h0m0 1h0m0 2h0m0 2h0m0 4h0m0 2h0m0 1h0m0 1h0m0 3h0m0 1h0m0 2h0m0 4h0m1-39h0m0 13h0m0 1h0m0 4h0m0 2h0m0 9h0m0 2h0m0 1h0m0 1h0m0 1h0m0 2h0m0 67h0m1-101h0m0 10h0m0 1h0m0 2h0m0 1h0m0 3h0m0 2h0m0 1h0m0 2h0m0 2h0m0 3h0m0 1h0m0 2h0m0 3h0m0 3h0m0 2h0m0 5h0m0 5h0m1-44h0m0 2h0m0 3h0m0 4h0m0 4h0m0 2h0m0 5h0m0 3h0m0 2h0m0 3h0m0 1h0m0 4h0m0 1h0m0 1h0m0 4h0m0 7h0m1-54h0m0 11h0m0 1h0m0 6h0m0 5h0m0 2h0m0 2h0m0 14h0m0 4h0m0 3h0m1-30h0m0 1h0m0 7h0m0 6h0m0 3h0m0 1h0m0 1h0m0 3h0m0 1h0m0 3h0m0 1h0m1-38h0m0 1h0m0 7h0m0 4h0m0 2h0m0 1h0m0 1h0m0 2h0m0 3h0m0 3h0m0 10h0m0 1h0m0 1h0m0 2h0m1-34h0m0 3h0m0 5h0m0 1h0m0 2h0m0 1h0m0 4h0m0 3h0m0 4h0m0 1h0m0 2h0m0 8h0m0 7h0m1-72h0m0 26h0m0 9h0m0 2h0m0 1h0m0 3h0m0 3h0m0 11h0m0 5h0m0 2h0m0 20h0m1-61h0m0 13h0m0 2h0m0 1h0m0 1h0m0 3h0m0 6h0m0 3h0m0 7h0m0 1h0m0 6h0m0 9h0m1-75h0m0 25h0m0 10h0m0 3h0m0 1h0m0 3h0m0 4h0m0 2h0m0 12h0m0 8h0m1-21h0m0 2h0m0 1h0m0 2h0m0 2h0m0 3h0m0 1h0m0 7h0m0 3h0m1-39h0m0 4h0m0 5h0m0 11h0m0 3h0m0 5h0m0 1h0m0 1h0m0 28h0m1-67h0m0 22h0m0 1h0m0 2h0m0 1h0m0 5h0m0 2h0m0 2h0m0 3h0m0 4h0m1-45h0m0 15h0m0 1h0m0 7h0m0 12h0m0 1h0m0 7h0m0 1h0m0 1h0m0 8h0m1-40h0m0 7h0m0 1h0m0 6h0m0 5h0m0 3h0m0 1h0m0 1h0m0 4h0m0 3h0m1-28h0m0 3h0m0 1h0m0 2h0m0 2h0m0 6h0m0 6h0m0 3h0m0 3h0m0 2h0m0 2h0m0 1h0m0 6h0m0 1h0m1-41h0m0 8h0m0 1h0m0 1h0m0 1h0m0 1h0m0 2h0m0 6h0m0 1h0m0 3h0m0 2h0m0 9h0m0 1h0m0 3h0m1-29h0m0 1h0m0 1h0m0 5h0m0 9h0m0 3h0m0 7h0m0 2h0m1-40h0m0 6h0m0 2h0m0 4h0m0 2h0m0 2h0m0 3h0m0 2h0m0 2h0m0 12h0m0 14h0m1-42h0m0 6h0m0 3h0m0 1h0m0 11h0m0 2h0m0 2h0m0 4h0m0 10h0m1-64h0m0 27h0m0 2h0m0 2h0m0 1h0m0 2h0m0 4h0m0 3h0m0 2h0m0 6h0m0 5h0m0 22h0m1-46h0m0 4h0m0 3h0m0 20h0m0 4h0m1-58h0m0 24h0m0 1h0m0 1h0m0 3h0m0 1h0m0 5h0m0 5h0m0 3h0m0 4h0m0 2h0m1-35h0m0 8h0m0 3h0m0 3h0m0 1h0m0 3h0m0 4h0m0 3h0m0 6h0m0 6h0m1-53h0m0 8h0m0 4h0m0 13h0m0 3h0m0 8h0m0 2h0m0 3h0m0 2h0m0 6h0m0 1h0m1-28h0m0 5h0m0 7h0m0 1h0m0 6h0m0 2h0m0 5h0m0 3h0m0 1h0m0 13h0m0 15h0m1-53h0m0 3h0m0 3h0m0 2h0m0 4h0m0 2h0m0 2h0m0 2h0m0 10h0m0 3h0m1-39h0m0 3h0m0 5h0m0 1h0m0 2h0m0 1h0m0 9h0m0 2h0m0 2h0m0 1h0m0 2h0m0 4h0m0 4h0m1-39h0m0 8h0m0 1h0m0 1h0m0 6h0m0 1h0m0 1h0m0 2h0m0 2h0m0 9h0m0 9h0m0 2h0m0 3h0m1-35h0m0 2h0m0 1h0m0 1h0m0 3h0m0 7h0m0 1h0m0 8h0m0 4h0m0 1h0m0 2h0m1-39h0m0 18h0m0 3h0m0 1h0m0 3h0m0 2h0m0 2h0m1-39h0m0 2h0m0 2h0m0 14h0m0 2h0m0 2h0m0 3h0m0 1h0m0 1h0m0 8h0m0 2h0m0 10h0m1-40h0m0 13h0m0 1h0m0 2h0m0 2h0m0 1h0m0 1h0m0 6h0m0 1h0m0 2h0m0 1h0m0 2h0m0 1h0m0 1h0m1-30h0m0 1h0m0 2h0m0 7h0m0 6h0m0 1h0m0 3h0m0 3h0m0 3h0m0 12h0m0 7h0m1-42h0m0 2h0m0 1h0m0 4h0m0 1h0m0 2h0m0 2h0m0 1h0m0 10h0m0 2h0m0 1h0m1-18h0m0 3h0m0 1h0m0 5h0m0 5h0m0 10h0m0 8h0m1-28h0m0 5h0m0 1h0m0 5h0m0 1h0m0 2h0m0 2h0m1-47h0m0 10h0m0 4h0m0 11h0m0 1h0m0 6h0m0 7h0m0 4h0m0 1h0m0 3h0m0 1h0m1-34h0m0 1h0m0 5h0m0 2h0m0 3h0m0 6h0m0 2h0m0 3h0m0 1h0m0 1h0m0 1h0m0 3h0m0 1h0m0 1h0m0 3h0m0 4h0m1-37h0m0 4h0m0 1h0m0 6h0m0 3h0m0 1h0m0 1h0m0 7h0m0 1h0m0 7h0m0 1h0m0 2h0m0 2h0m0 1h0m0 3h0m1-48h0m0 9h0m0 1h0m0 5h0m0 23h0m0 1h0m0 2h0m0 2h0m0 1h0m0 1h0m0 5h0m1-46h0m0 10h0m0 7h0m0 4h0m0 4h0m0 1h0m0 2h0m0 6h0m0 1h0m0 2h0m0 2h0m0 2h0m1-40h0m0 8h0m0 7h0m0 11h0m0 13h0m0 1h0m0 1h0m1-41h0m0 2h0m0 7h0m0 4h0m0 1h0m0 1h0m0 13h0m0 1h0m0 2h0m0 4h0m0 3h0m0 2h0m1-39h0m0 7h0m0 10h0m0 3h0m0 4h0m0 1h0m0 1h0m0 3h0m0 1h0m0 1h0m0 1h0m0 1h0m0 5h0m0 2h0m0 1h0m0 5h0m1-64h0m0 2h0m0 9h0m0 6h0m0 5h0m0 1h0m0 11h0m0 2h0m0 2h0m0 2h0m0 6h0m0 11h0m0 15h0m1-52h0m0 1h0m0 1h0m0 3h0m0 12h0m0 13h0m0 7h0m1-53h0m0 7h0m0 7h0m0 2h0m0 10h0m0 2h0m0 22h0m1-42h0m0 10h0m0 6h0m0 2h0m0 4h0m0 11h0m0 4h0m0 2h0m0 4h0m1-53h0m0 2h0m0 9h0m0 5h0m0 1h0m0 4h0m0 3h0m0 14h0m0 8h0m0 3h0m0 1h0m0 2h0m0 3h0m1-49h0m0 14h0m0 11h0m0 9h0m0 1h0m0 4h0m0 2h0m0 6h0m1-42h0m0 7h0m0 7h0m0 7h0m0 6h0m0 4h0m0 6h0m1-38h0m0 5h0m0 2h0m0 4h0m0 10h0m0 2h0m0 8h0m0 3h0m0 1h0m0 1h0m0 6h0m1-37h0m0 3h0m0 1h0m0 1h0m0 2h0m0 2h0m0 7h0m0 4h0m0 3h0m0 1h0m0 2h0m0 3h0m0 1h0m0 1h0m0 2h0m0 1h0m0 1h0m0 9h0m1-48h0m0 7h0m0 3h0m0 13h0m0 11h0m0 1h0m0 2h0m0 4h0m1-47h0m0 12h0m0 4h0m0 2h0m0 2h0m0 4h0m0 13h0m0 7h0m0 2h0m0 11h0m1-59h0m0 1h0m0 12h0m0 6h0m0 1h0m0 5h0m0 15h0m0 7h0m0 2h0m0 2h0m0 5h0m1-37h0m0 2h0m0 4h0m0 3h0m0 4h0m0 6h0m0 2h0m0 4h0m0 2h0m0 3h0m0 1h0m1-43h0m0 23h0m0 3h0m0 7h0m0 5h0m0 2h0m0 9h0m0 2h0m1-51h0m0 7h0m0 1h0m0 2h0m0 7h0m0 1h0m0 7h0m0 2h0m1-16h0m0 1h0m0 1h0m0 22h0m0 4h0m0 1h0m0 3h0m1-58h0m0 26h0m0 1h0m0 1h0m0 5h0m0 4h0m0 2h0m0 3h0m0 3h0m0 4h0m0 6h0m0 1h0m0 1h0m0 4h0m1-33h0m0 3h0m0 14h0m0 7h0m0 2h0m0 1h0m0 7h0m0 1h0m1-36h0m0 1h0m0 2h0m0 4h0m0 2h0m0 4h0m0 16h0m0 3h0m0 6h0m1-41h0m0 3h0m0 3h0m0 3h0m0 3h0m0 8h0m0 6h0m0 4h0m0 9h0m1-61h0m0 18h0m0 2h0m0 1h0m0 4h0m0 1h0m0 2h0m0 1h0m0 5h0m0 17h0m0 1h0m0 3h0m0 1h0m0 7h0m1-49h0m0 13h0m0 8h0m0 8h0m0 4h0m0 3h0m0 2h0m0 1h0m0 9h0m0 2h0m1-47h0m0 8h0m0 1h0m0 21h0m0 1h0m0 6h0m1-29h0m0 7h0m0 10h0m0 3h0m0 4h0m0 3h0m0 3h0m0 1h0m1-34h0m0 10h0m0 14h0m0 3h0m0 3h0m0 2h0m0 3h0m0 1h0m1-45h0m0 2h0m0 5h0m0 2h0m0 8h0m0 19h0m0 1h0m0 5h0m0 2h0m1-38h0m0 6h0m0 9h0m0 1h0m0 20h0m0 1h0m0 2h0m1-44h0m0 10h0m0 2h0m0 2h0m0 10h0m0 1h0m0 7h0m0 6h0m0 2h0m0 2h0m0 1h0m1-39h0m0 5h0m0 6h0m0 9h0m0 6h0m0 4h0m0 1h0m0 9h0m1-28h0m0 6h0m0 21h0m0 2h0m1-47h0m0 7h0m0 12h0m0 3h0m0 2h0m0 1h0m0 18h0m1-38h0m0 15h0m0 4h0m0 1h0m0 5h0m0 8h0m1-27h0m0 2h0m0 7h0m0 17h0m0 1h0m1-20h0m0 4h0m0 6h0m0 10h0m0 2h0m0 4h0m0 1h0m1-51h0m0 18h0m0 1h0m0 1h0m0 1h0m0 4h0m0 2h0m0 2h0m0 16h0m0 1h0m0 3h0m0 3h0m1-40h0m0 2h0m0 8h0m0 2h0m0 6h0m0 2h0m0 1h0m0 16h0m0 4h0m0 2h0m1-32h0m0 1h0m0 19h0m0 1h0m0 1h0m0 4h0m0 5h0m1-56h0m0 2h0m0 12h0m0 3h0m0 3h0m0 2h0m0 13h0m0 4h0m0 6h0m0 8h0m1-60h0m0 15h0m0 6h0m0 4h0m0 14h0m0 17h0m0 1h0m0 1h0m1-45h0m0 3h0m0 9h0m0 3h0m0 6h0m0 3h0m0 11h0m0 6h0m0 7h0m0 5h0m1-64h0m0 24h0m0 1h0m0 2h0m0 1h0m0 1h0m0 5h0m0 4h0m0 1h0m0 1h0m0 2h0m0 6h0m0 3h0m0 5h0m1-49h0m0 12h0m0 9h0m0 5h0m0 2h0m0 10h0m0 2h0m0 2h0m0 2h0m0 2h0m1-22h0m0 3h0m0 1h0m0 5h0m0 10h0m0 2h0m0 1h0m0 5h0m1-37h0m0 6h0m0 2h0m0 5h0m0 2h0m0 1h0m0 3h0m0 14h0m1-25h0m0 3h0m0 4h0m0 2h0m0 2h0m0 1h0m0 6h0m0 1h0m1-29h0m0 10h0m0 3h0m0 3h0m0 5h0m1-29h0m0 13h0m0 2h0m0 3h0m0 3h0m0 6h0m0 1h0m0 5h0m0 7h0m0 4h0m0 1h0m1-42h0m0 4h0m0 9h0m0 1h0m0 1h0m0 2h0m0 3h0m0 3h0m0 5h0m0 2h0m0 6h0m0 3h0m1-32h0m0 5h0m0 2h0m0 2h0m0 2h0m0 1h0m0 1h0m0 1h0m0 8h0m0 2h0m0 6h0m1-37h0m0 7h0m0 3h0m0 5h0m0 1h0m0 10h0m0 2h0m0 11h0m1-31h0m0 2h0m0 4h0m0 2h0m0 1h0m0 2h0m0 3h0m0 1h0m0 4h0m0 18h0m1-49h0m0 3h0m0 10h0m0 1h0m0 9h0m0 1h0m0 2h0m0 4h0m0 3h0m0 5h0m0 7h0m0 4h0m1-50h0m0 13h0m0 2h0m0 2h0m0 3h0m0 22h0m0 8h0m0 2h0m1-60h0m0 12h0m0 9h0m0 8h0m0 4h0m0 5h0m1-19h0m0 3h0m0 7h0m0 1h0m0 6h0m0 3h0m0 4h0m0 10h0m0 5h0m0 7h0m1-52h0m0 5h0m0 1h0m0 1h0m0 7h0m0 3h0m0 1h0m0 8h0m0 6h0m0 9h0m0 6h0m1-34h0m0 2h0m0 2h0m0 11h0m0 8h0m1-29h0m0 2h0m0 1h0m0 14h0m0 1h0m0 21h0m1-52h0m0 5h0m0 2h0m0 9h0m0 6h0m0 1h0m0 3h0m0 3h0m0 2h0m0 1h0m0 1h0m0 9h0m0 8h0m1-38h0m0 2h0m0 3h0m0 4h0m0 4h0m0 8h0m0 5h0m1-33h0m0 6h0m0 3h0m0 6h0m0 1h0m0 2h0m0 7h0m0 8h0m1-33h0m0 5h0m0 1h0m0 13h0m0 2h0m0 5h0m0 21h0m1-40h0m0 1h0m0 1h0m0 8h0m0 3h0m0 4h0m0 14h0m0 2h0m1-29h0m0 3h0m0 6h0m0 2h0m0 4h0m0 5h0m1-21h0m0 17h0m0 1h0m0 5h0m0 6h0m0 7h0m1-39h0m0 2h0m0 5h0m0 3h0m0 4h0m0 2h0m0 7h0m0 1h0m1-42h0m0 3h0m0 20h0m0 15h0m0 11h0m1-50h0m0 8h0m0 9h0m0 2h0m0 1h0m0 2h0m0 1h0m0 2h0m0 3h0m0 7h0m0 2h0m0 7h0m0 4h0m1-29h0m0 13h0m0 7h0m0 10h0m1-52h0m0 26h0m0 3h0m0 2h0m1-7h0m0 11h0m0 1h0m0 9h0m0 18h0m1-60h0m0 19h0m0 1h0m0 6h0m0 2h0m0 4h0m0 4h0m0 4h0m0 14h0m1-44h0m0 8h0m0 8h0m0 11h0m0 10h0m1-26h0m0 2h0m0 3h0m0 12h0m0 19h0m1-29h0m0 1h0m0 17h0m0 3h0m1-50h0m0 2h0m0 21h0m0 3h0m0 1h0m0 2h0m0 5h0m0 8h0m0 2h0m0 1h0m1-34h0m0 21h0m0 16h0m0 17h0m1-43h0m0 1h0m0 8h0m0 6h0m0 9h0m1-39h0m0 16h0m0 14h0m0 1h0m0 12h0m0 2h0m0 1h0m1-42h0m0 31h0m0 3h0m0 1h0m0 2h0m0 6h0m1-46h0m0 15h0m0 6h0m0 2h0m0 1h0m0 5h0m0 10h0m0 2h0m0 2h0m0 1h0m0 4h0m1-50h0m0 14h0m0 25h0m0 5h0m0 1h0m1-41h0m0 2h0m0 8h0m0 21h0m0 1h0m0 1h0m0 2h0m0 5h0m0 3h0m1-36h0m0 8h0m0 17h0m0 5h0m0 3h0m1-46h0m0 6h0m0 12h0m0 1h0m0 21h0m0 5h0m0 1h0m0 1h0m0 1h0m0 1h0m1-9h0m0 6h0m0 3h0m0 2h0m1-20h0m0 17h0m0 11h0m1-57h0m0 3h0m0 10h0m0 8h0m0 4h0m0 7h0m0 6h0m0 8h0m1-28h0m0 5h0m0 11h0m0 6h0m0 9h0m1-54h0m0 5h0m0 11h0m0 7h0m1-27h0m0 7h0m0 18h0m0 2h0m0 1h0m0 13h0m0 10h0m1-21h0m2-16h0m0 16h0m0 7h0m0 16h0m1-41h0m0 44h0m1-51h0m2 8h0m0 16h0m1-17h0m1-14h0m1 9h0m1 5h0m1-6h0m2 2h0m4-4h0m0 5h0m0 3h0m2-11h0m4 11h0m1-12h0m2 10h0" stroke="#ee9a00"/>
<path d="M934 293h0m3-50h0m0 26h0m0 8h0m1-17h0m0 20h0m2-39h0m1 15h0m0 12h0m0 9h0m0 12h0m1-25h0m0 1h0m0 2h0m0 2h0m0 20h0m0 5h0m1-62h0m0 6h0m0 34h0m0 10h0m0 18h0m0 19h0m1-57h0m0 25h0m0 11h0m0 5h0m0 3h0m0 1h0m1-58h0m0 25h0m0 23h0m0 3h0m0 10h0m1-10h0m0 7h0m1-76h0m0 38h0m0 28h0m0 4h0m1-50h0m0 7h0m0 1h0m0 3h0m0 64h0m1-88h0m0 4h0m0 4h0m0 8h0m0 20h0m0 12h0m0 16h0m0 8h0m1-47h0m0 6h0m1-1h0m0 35h0m0 25h0m1-87h0m0 2h0m0 18h0m1-10h0m0 11h0m0 43h0m0 10h0m1-52h0m0 57h0m1-58h0m0 3h0m0 3h0m0 11h0m0 23h0m0 7h0m1-50h0m0 23h0m0 15h0m0 2h0m0 2h0m1-59h0m0 8h0m0 11h0m0 42h0m0 1h0m1-79h0m0 44h0m0 8h0m0 9h0m1-57h0m0 7h0m0 22h0m0 8h0m0 5h0m0 2h0m0 1h0m0 16h0m0 1h0m1-59h0m0 26h0m0 31h0m0 12h0m0 13h0m1-73h0m0 22h0m0 8h0m0 4h0m0 31h0m1-54h0m0 40h0m1-4h0m0 26h0m1-75h0m0 10h0m0 37h0m0 6h0m0 9h0m1-70h0m0 12h0m0 11h0m0 1h0m0 8h0m0 18h0m1-40h0m0 18h0m0 1h0m0 4h0m0 2h0m0 7h0m0 8h0m0 1h0m0 11h0m1-67h0m0 21h0m0 10h0m0 4h0m0 10h0m0 9h0m1-31h0m0 1h0m0 11h0m0 1h0m0 22h0m0 3h0m0 6h0m0 2h0m1-66h0m0 24h0m0 36h0m0 8h0m0 2h0m1-52h0m0 2h0m0 1h0m0 25h0m0 7h0m0 5h0m0 8h0m0 6h0m1-62h0m0 7h0m0 4h0m0 7h0m0 10h0m1-25h0m0 33h0m0 3h0m1-49h0m0 4h0m0 9h0m0 11h0m0 15h0m0 2h0m0 6h0m0 20h0m1-41h0m0 6h0m0 3h0m0 8h0m0 34h0m1-113h0m0 48h0m0 20h0m0 41h0m1-110h0m0 53h0m0 5h0m0 5h0m0 10h0m0 5h0m0 4h0m1-25h0m0 10h0m0 15h0m0 13h0m0 4h0m1-48h0m0 11h0m0 20h0m0 4h0m0 6h0m0 3h0m0 25h0m1-68h0m0 7h0m0 6h0m0 5h0m0 1h0m0 3h0m0 1h0m0 4h0m0 30h0m1-54h0m0 9h0m0 13h0m0 25h0m1-52h0m0 10h0m0 10h0m0 10h0m0 2h0m0 8h0m0 9h0m0 6h0m1-70h0m0 24h0m0 3h0m0 4h0m0 18h0m0 20h0m0 11h0m1-126h0m0 54h0m0 10h0m0 30h0m0 11h0m0 5h0m1-72h0m0 7h0m0 44h0m0 6h0m0 7h0m1-20h0m0 9h0m0 12h0m0 20h0m1-74h0m0 14h0m0 4h0m0 13h0m0 46h0m0 2h0m1-77h0m0 24h0m0 3h0m0 17h0m0 8h0m0 8h0m1-55h0m0 36h0m0 13h0m0 6h0m1-39h0m0 10h0m0 20h0m1-41h0m0 8h0m0 6h0m0 3h0m0 7h0m1-16h0m0 2h0m0 13h0m0 43h0m1-65h0m0 15h0m0 14h0m1-21h0m0 1h0m0 4h0m0 24h0m0 14h0m1-14h0m0 7h0m0 3h0m0 1h0m1-54h0m0 11h0m0 4h0m0 1h0m0 2h0m0 8h0m0 13h0m1-30h0m0 1h0m0 14h0m0 8h0m0 24h0m1-117h0m0 39h0m0 7h0m0 5h0m0 8h0m0 10h0m0 31h0m0 1h0m1-43h0m0 1h0m0 6h0m0 10h0m0 2h0m0 16h0m0 10h0m0 8h0m0 8h0m1-54h0m0 13h0m0 1h0m0 1h0m0 3h0m0 12h0m0 1h0m1-26h0m0 7h0m0 8h0m0 8h0m0 5h0m1-53h0m0 30h0m0 5h0m0 9h0m0 4h0m0 1h0m0 15h0m1-29h0m0 2h0m0 9h0m0 1h0m0 12h0m1-34h0m0 10h0m0 5h0m0 3h0m0 1h0m0 29h0m1-13h0m1-55h0m0 29h0m0 7h0m0 11h0m0 2h0m0 17h0m0 17h0m1-69h0m0 4h0m0 4h0m0 4h0m0 7h0m0 9h0m0 15h0m0 3h0m1-54h0m0 20h0m0 1h0m0 5h0m0 1h0m0 8h0m0 3h0m0 6h0m1-42h0m0 19h0m0 11h0m0 10h0m0 18h0m1-54h0m0 2h0m0 6h0m0 9h0m0 1h0m0 10h0m0 4h0m0 8h0m0 29h0m1-61h0m0 1h0m0 4h0m0 3h0m0 10h0m0 8h0m0 2h0m0 9h0m0 4h0m0 14h0m1-66h0m0 11h0m0 15h0m0 2h0m0 1h0m0 10h0m0 1h0m0 43h0m1-57h0m0 3h0m0 9h0m0 20h0m1-60h0m0 4h0m0 4h0m0 14h0m0 3h0m1-26h0m0 9h0m0 4h0m0 1h0m0 31h0m0 3h0m0 6h0m1-35h0m0 9h0m0 12h0m0 11h0m0 5h0m1-46h0m0 17h0m0 3h0m0 5h0m0 1h0m0 7h0m0 6h0m1-56h0m0 15h0m0 4h0m0 11h0m0 2h0m0 18h0m0 6h0m0 25h0m1-43h0m0 11h0m0 1h0m0 4h0m1-45h0m0 5h0m0 6h0m0 22h0m0 4h0m1-28h0m0 13h0m0 7h0m0 7h0m0 1h0m0 17h0m1-56h0m0 7h0m0 62h0m1-58h0m0 2h0m0 18h0m0 8h0m0 6h0m0 4h0m1-31h0m0 7h0m0 12h0m0 17h0m1-46h0m0 2h0m0 27h0m0 4h0m0 6h0m0 2h0m1-29h0m0 3h0m0 6h0m0 6h0m0 5h0m0 1h0m0 5h0m0 5h0m1-43h0m0 1h0m0 4h0m0 13h0m0 2h0m0 6h0m0 1h0m0 5h0m0 5h0m1-35h0m0 3h0m0 3h0m0 4h0m0 7h0m0 7h0m0 4h0m0 4h0m0 7h0m1-52h0m0 6h0m0 7h0m0 2h0m0 6h0m0 4h0m0 1h0m0 12h0m0 6h0m1-30h0m0 2h0m0 17h0m0 7h0m0 1h0m0 11h0m1-45h0m0 12h0m0 3h0m0 1h0m0 3h0m0 6h0m0 1h0m0 7h0m1-39h0m0 4h0m0 5h0m0 11h0m0 1h0m0 2h0m0 11h0m0 1h0m1-25h0m0 1h0m0 1h0m0 7h0m0 1h0m0 1h0m0 3h0m0 5h0m0 6h0m0 3h0m0 5h0m0 3h0m1-41h0m0 6h0m0 2h0m0 7h0m0 4h0m0 3h0m0 1h0m0 5h0m1-33h0m0 11h0m0 4h0m0 7h0m0 1h0m0 4h0m0 1h0m1-23h0m0 9h0m0 2h0m0 9h0m0 2h0m0 5h0m0 1h0m0 2h0m0 48h0m1-118h0m0 44h0m0 14h0m0 1h0m0 2h0m0 10h0m0 14h0m0 17h0m1-67h0m0 9h0m0 4h0m0 6h0m0 2h0m0 1h0m0 4h0m0 3h0m0 4h0m0 3h0m0 3h0m1-27h0m0 7h0m0 2h0m0 1h0m0 18h0m1-31h0m0 2h0m0 4h0m0 4h0m0 4h0m0 2h0m0 1h0m0 6h0m0 7h0m1-31h0m0 7h0m0 6h0m0 6h0m1-54h0m0 24h0m0 9h0m0 2h0m0 2h0m0 8h0m0 4h0m0 9h0m1-18h0m0 2h0m0 7h0m0 5h0m0 5h0m0 31h0m1-118h0m0 62h0m0 10h0m0 1h0m0 3h0m0 3h0m1-18h0m0 3h0m0 2h0m0 3h0m0 1h0m0 1h0m0 3h0m0 1h0m0 1h0m0 3h0m0 40h0m1-65h0m0 14h0m0 1h0m0 1h0m0 6h0m0 6h0m0 1h0m0 5h0m0 2h0m1-31h0m0 4h0m0 3h0m0 4h0m0 7h0m0 7h0m1-28h0m0 1h0m0 1h0m0 9h0m0 1h0m0 2h0m0 2h0m0 2h0m0 1h0m0 4h0m0 4h0m0 1h0m1-21h0m0 4h0m0 2h0m0 4h0m0 9h0m0 39h0m1-66h0m0 4h0m0 2h0m0 3h0m0 21h0m0 2h0m1-24h0m0 3h0m0 2h0m0 3h0m0 4h0m0 3h0m0 36h0m1-58h0m0 2h0m0 6h0m0 1h0m0 8h0m0 3h0m1-22h0m0 10h0m0 6h0m0 1h0m0 4h0m0 3h0m0 4h0m1-19h0m0 2h0m0 1h0m0 3h0m0 1h0m0 6h0m0 1h0m0 2h0m0 6h0m1-30h0m0 3h0m0 2h0m0 6h0m0 1h0m0 1h0m0 1h0m0 2h0m0 5h0m0 5h0m0 3h0m1-25h0m0 11h0m0 4h0m0 5h0m0 1h0m0 1h0m1-26h0m0 4h0m0 9h0m0 1h0m0 7h0m1-20h0m0 2h0m0 3h0m0 1h0m0 7h0m0 4h0m0 3h0m0 8h0m0 2h0m1-41h0m0 13h0m0 3h0m0 1h0m0 1h0m0 6h0m0 6h0m0 1h0m0 1h0m0 1h0m0 1h0m0 5h0m0 44h0m1-71h0m0 4h0m0 8h0m0 7h0m0 3h0m1-25h0m0 11h0m0 6h0m0 6h0m0 1h0m0 5h0m0 2h0m0 5h0m1-35h0m0 13h0m0 5h0m0 12h0m0 5h0m1-37h0m0 2h0m0 10h0m0 3h0m0 2h0m0 2h0m0 5h0m0 6h0m1-26h0m0 3h0m0 4h0m0 1h0m0 5h0m0 1h0m0 9h0m1-26h0m0 7h0m0 1h0m0 2h0m0 5h0m0 6h0m0 1h0m0 2h0m0 1h0m0 3h0m1-23h0m0 1h0m0 3h0m0 7h0m0 2h0m0 1h0m0 2h0m0 4h0m0 41h0m1-64h0m0 4h0m0 1h0m0 11h0m0 1h0m0 9h0m1-34h0m0 15h0m0 1h0m0 1h0m0 10h0m0 3h0m0 31h0m1-59h0m0 1h0m0 6h0m0 6h0m0 6h0m0 3h0m0 7h0m0 1h0m1-27h0m0 4h0m0 1h0m0 5h0m0 2h0m0 3h0m0 1h0m0 8h0m0 3h0m1-36h0m0 12h0m0 11h0m0 2h0m0 1h0m0 6h0m0 2h0m0 1h0m1-17h0m0 3h0m0 3h0m0 4h0m0 1h0m0 5h0m0 7h0m1-29h0m0 9h0m0 3h0m0 1h0m0 2h0m0 3h0m0 7h0m1-22h0m0 8h0m0 1h0m0 1h0m0 12h0m1-40h0m0 13h0m0 1h0m0 10h0m0 3h0m0 1h0m0 1h0m0 1h0m0 1h0m0 1h0m0 1h0m1-12h0m0 3h0m0 7h0m0 6h0m0 2h0m0 46h0m1-73h0m0 10h0m0 4h0m0 6h0m0 5h0m1-27h0m0 1h0m0 4h0m0 11h0m0 4h0m0 2h0m0 2h0m0 1h0m1-18h0m0 3h0m0 3h0m0 5h0m0 2h0m0 7h0m1-31h0m0 9h0m0 2h0m0 5h0m0 2h0m0 1h0m0 5h0m0 11h0m1-22h0m0 6h0m0 2h0m1-9h0m0 1h0m0 10h0m0 2h0m0 3h0m0 5h0m1-91h0m0 70h0m0 3h0m0 2h0m0 2h0m0 4h0m0 1h0m0 3h0m0 6h0m1-28h0m0 1h0m0 10h0m0 4h0m0 3h0m0 2h0m0 2h0m0 5h0m0 2h0m0 4h0m1-29h0m0 5h0m0 3h0m0 2h0m0 6h0m0 7h0m1-29h0m0 3h0m0 8h0m0 7h0m0 4h0m0 2h0m0 3h0m0 1h0m0 3h0m1-25h0m0 11h0m0 2h0m1-10h0m0 12h0m1-11h0m0 1h0m0 2h0m0 3h0m0 9h0m0 5h0m1-21h0m0 7h0m0 2h0m0 13h0m1-25h0m0 6h0m0 13h0m1-21h0m0 1h0m0 3h0m0 7h0m0 3h0m0 1h0m0 3h0m0 1h0m0 6h0m0 1h0m0 1h0m0 1h0m1-37h0m0 7h0m0 5h0m0 1h0m0 2h0m0 3h0m0 4h0m0 1h0m0 3h0m1-9h0m0 1h0m0 6h0m0 1h0m0 5h0m0 11h0m1-46h0m0 11h0m0 6h0m0 3h0m0 1h0m0 1h0m0 1h0m0 2h0m0 2h0m0 3h0m0 2h0m0 3h0m0 1h0m1-29h0m0 11h0m0 3h0m0 3h0m0 3h0m1-70h0m0 37h0m0 11h0m0 13h0m0 2h0m0 4h0m0 3h0m0 1h0m0 2h0m0 3h0m0 1h0m0 2h0m0 1h0m1-51h0m0 28h0m0 1h0m0 2h0m0 1h0m0 2h0m0 4h0m0 8h0m0 6h0m1-28h0m0 1h0m0 5h0m0 9h0m0 5h0m0 5h0m0 1h0m0 2h0m0 29h0m1-48h0m0 5h0m0 2h0m0 2h0m0 1h0m0 2h0m0 1h0m0 4h0m0 3h0m1-26h0m0 4h0m0 3h0m0 6h0m0 12h0m1-20h0m0 7h0m0 2h0m0 3h0m0 1h0m0 1h0m1-20h0m0 1h0m0 6h0m0 3h0m0 2h0m1-11h0m0 5h0m0 3h0m0 1h0m0 2h0m0 1h0m0 1h0m0 8h0m0 6h0m1-27h0m0 3h0m0 1h0m0 5h0m0 4h0m0 1h0m0 1h0m0 33h0m1-48h0m0 2h0m0 5h0m0 13h0m0 2h0m0 2h0m0 2h0m1-26h0m0 6h0m0 3h0m0 4h0m0 6h0m0 34h0m1-58h0m0 5h0m0 10h0m0 1h0m0 1h0m0 8h0m0 3h0m0 2h0m1-22h0m1-2h0m0 7h0m0 1h0m0 5h0m0 1h0m0 7h0m1-19h0m0 2h0m0 2h0m0 4h0m0 3h0m0 2h0m0 3h0m0 1h0m1-15h0m0 8h0m0 3h0m0 2h0m0 4h0m0 5h0m1-27h0m0 1h0m0 1h0m0 10h0m0 3h0m0 2h0m0 7h0m1-24h0m0 5h0m0 3h0m0 4h0m0 1h0m0 4h0m0 2h0m0 1h0m0 2h0m1-18h0m0 2h0m0 3h0m0 15h0m0 1h0m0 4h0m0 26h0m1-56h0m0 3h0m0 7h0m0 7h0m0 2h0m0 62h0m1-112h0m0 35h0m0 5h0m0 4h0m0 1h0m0 6h0m0 1h0m0 1h0m0 1h0m0 1h0m0 3h0m1-29h0m0 1h0m0 5h0m0 4h0m0 2h0m0 3h0m0 15h0m1-22h0m0 3h0m0 1h0m0 18h0m1-15h0m0 1h0m0 12h0m0 1h0m1-20h0m0 5h0m0 2h0m0 4h0m0 9h0m1-19h0m0 2h0m0 2h0m0 9h0m0 4h0m1-17h0m0 12h0m0 3h0m1-26h0m0 3h0m0 3h0m0 3h0m0 7h0m0 1h0m0 3h0m0 12h0m1-79h0m0 46h0m0 2h0m0 4h0m0 3h0m0 6h0m0 1h0m0 5h0m0 1h0m0 10h0m1-38h0m0 7h0m0 10h0m0 3h0m0 1h0m0 1h0m0 6h0m0 1h0m0 8h0m0 1h0m1-30h0m0 1h0m0 3h0m0 12h0m1-59h0m0 49h0m1-3h0m0 10h0m0 7h0m0 11h0m1-32h0m0 7h0m0 10h0m0 2h0m0 1h0m0 6h0m1-20h0m0 1h0m0 5h0m0 1h0m0 2h0m0 1h0m0 4h0m0 1h0m0 4h0m0 2h0m0 5h0m0 1h0m1-34h0m0 10h0m0 1h0m0 5h0m0 9h0m1-40h0m0 19h0m0 8h0m0 7h0m0 2h0m0 3h0m0 6h0m1-18h0m0 4h0m0 6h0m1-46h0m0 28h0m0 8h0m0 5h0m0 8h0m0 7h0m1-18h0m0 1h0m0 4h0m0 1h0m0 3h0m0 5h0m0 5h0m1-31h0m0 17h0m0 10h0m1-24h0m0 6h0m0 5h0m0 5h0m1-11h0m0 1h0m0 4h0m0 1h0m1-11h0m0 2h0m0 3h0m0 1h0m0 3h0m0 11h0m0 1h0m1-26h0m0 17h0m0 3h0m0 6h0m1-28h0m0 20h0m0 7h0m0 1h0m0 1h0m0 3h0m0 4h0m1-32h0m0 8h0m0 1h0m0 1h0m0 6h0m1-7h0m0 9h0m0 2h0m0 5h0m0 7h0m0 3h0m1-69h0m0 42h0m0 7h0m0 3h0m0 1h0m1-16h0m0 11h0m0 1h0m0 2h0m0 3h0m0 19h0m1-40h0m0 12h0m0 1h0m0 6h0m0 4h0m0 9h0m0 6h0m1-52h0m0 11h0m0 18h0m0 8h0m0 1h0m0 1h0m0 2h0m0 6h0m0 9h0m1-36h0m0 5h0m0 1h0m0 2h0m0 7h0m0 5h0m0 2h0m1-23h0m0 10h0m0 6h0m0 6h0m0 3h0m0 9h0m1-42h0m0 5h0m0 11h0m0 1h0m0 1h0m1-11h0m0 5h0m0 1h0m0 10h0m0 1h0m1-23h0m0 14h0m0 2h0m0 6h0m0 6h0m0 8h0m1-18h0m0 10h0m0 7h0m1-48h0m0 21h0m0 4h0m0 11h0m0 5h0m0 6h0m1-29h0m0 8h0m0 1h0m0 1h0m0 12h0m0 5h0m1-29h0m0 30h0m1-20h0m0 2h0m0 15h0m1-26h0m0 8h0m0 5h0m0 2h0m0 6h0m0 10h0m1-24h0m0 10h0m0 9h0m1-36h0m0 9h0m0 3h0m0 7h0m0 7h0m0 6h0m0 5h0m1-18h0m0 13h0m1-23h0m0 8h0m0 5h0m0 3h0m0 15h0m0 3h0m0 8h0m1-52h0m0 10h0m0 3h0m0 6h0m0 2h0m0 12h0m1-25h0m0 11h0m0 1h0m0 14h0m0 9h0m1-20h0m0 52h0m1-70h0m0 4h0m0 6h0m0 15h0m0 12h0m1-23h0m0 13h0m0 1h0m0 3h0m1-30h0m0 18h0m0 15h0m1-33h0m0 5h0m0 2h0m0 8h0m0 1h0m0 14h0m1-33h0m0 1h0m0 4h0m0 8h0m0 1h0m0 4h0m0 14h0m0 5h0m1-36h0m0 5h0m0 8h0m0 4h0m1-82h0m0 63h0m0 6h0m0 11h0m0 18h0m0 10h0m0 6h0m1-37h0m0 6h0m0 9h0m0 5h0m1-27h0m0 3h0m0 8h0m0 2h0m1-19h0m0 9h0m0 2h0m0 3h0m0 5h0m0 15h0m1-19h0m0 7h0m0 3h0m0 2h0m0 4h0m0 17h0m0 2h0m1-117h0m0 63h0m0 2h0m0 18h0m0 12h0m1-16h0m0 3h0m0 2h0m0 3h0m0 8h0m1-45h0m0 26h0m0 2h0m1-1h0m0 2h0m0 4h0m0 6h0m0 3h0m0 4h0m0 3h0m0 5h0m0 1h0m0 7h0m1-67h0m0 37h0m0 2h0m0 29h0m1-44h0m0 3h0m0 2h0m0 3h0m0 2h0m0 1h0m0 28h0m1-35h0m0 7h0m0 2h0m0 11h0m0 17h0m1-44h0m0 4h0m0 10h0m0 1h0m0 1h0m0 2h0m0 8h0m0 1h0m0 6h0m1-21h0m0 2h0m0 13h0m0 16h0m0 10h0m1-35h0m0 4h0m0 1h0m0 14h0m0 7h0m1-48h0m0 8h0m0 1h0m0 20h0m0 2h0m0 5h0m1-16h0m0 10h0m0 7h0m1-35h0m0 16h0m0 1h0m0 2h0m0 1h0m0 2h0m0 10h0m1-55h0m0 28h0m0 18h0m0 4h0m0 4h0m1-28h0m0 8h0m0 10h0m0 23h0m1-45h0m0 16h0m0 2h0m0 1h0m0 3h0m1-11h0m0 1h0m0 10h0m0 9h0m0 8h0m1-18h0m0 4h0m0 2h0m1-23h0m0 14h0m0 1h0m1-3h0m0 16h0m0 5h0m1-53h0m0 13h0m0 12h0m0 5h0m0 3h0m0 11h0m1-15h0m0 2h0m0 1h0m0 1h0m0 3h0m0 5h0m0 1h0m0 6h0m1-23h0m0 3h0m0 10h0m0 16h0m0 3h0m1-28h0m0 8h0m0 3h0m0 3h0m0 2h0m0 4h0m0 5h0m1-55h0m0 36h0m0 6h0m0 10h0m1-32h0m0 9h0m0 21h0m0 6h0m0 2h0m0 5h0m1-44h0m0 8h0m0 2h0m0 12h0m0 4h0m0 20h0m1-47h0m0 27h0m0 20h0m1-41h0m0 16h0m1-9h0m0 13h0m0 10h0m1-35h0m0 20h0m0 34h0m1-55h0m0 31h0m1-18h0m0 2h0m0 1h0m0 3h0m0 6h0m0 7h0m0 5h0m1-51h0m0 16h0m0 2h0m0 14h0m0 1h0m0 2h0m0 1h0m0 3h0m0 4h0m0 2h0m0 6h0m1-24h0m1-18h0m0 9h0m0 11h0m1 17h0m1-30h0m0 4h0m0 10h0m0 3h0m0 11h0m0 3h0m0 3h0m1-35h0m0 2h0m0 2h0m1 6h0m0 12h0m0 9h0m1-45h0m0 16h0m0 11h0m0 2h0m0 24h0m0 8h0m1-55h0m0 5h0m0 9h0m0 19h0m0 6h0m0 2h0m0 8h0m0 5h0m1-57h0m0 23h0m0 19h0m0 2h0m1-40h0m0 12h0m0 5h0m0 4h0m0 6h0m0 3h0m0 31h0m1-37h0m0 9h0m0 4h0m1-66h0m0 40h0m0 3h0m0 10h0m0 6h0m0 4h0m1-19h0m0 19h0m0 4h0m1-49h0m0 30h0m0 18h0m0 5h0m0 14h0m1-40h0m0 32h0m0 2h0m1-28h0m0 2h0m0 5h0m0 19h0m1-31h0m0 8h0m1-1h0m0 8h0m0 16h0m1-43h0m0 3h0m0 3h0m0 4h0m0 5h0m0 5h0m0 2h0m0 6h0m0 14h0m1-23h0m0 12h0m1-16h0m0 19h0m1-26h0m0 3h0m0 2h0m0 14h0m0 4h0m0 1h0m0 3h0m0 4h0m0 1h0m0 13h0m1-48h0m0 1h0m0 8h0m0 16h0m1-32h0m0 20h0m0 11h0m1-52h0m0 19h0m0 9h0m0 4h0m0 2h0m0 6h0m0 14h0m0 1h0m1-34h0m0 8h0m0 21h0m0 14h0m1-40h0m0 22h0m0 5h0m1-78h0m0 57h0m0 3h0m0 2h0m0 2h0m0 1h0m0 8h0m0 9h0m0 4h0m0 13h0m1-40h0m0 24h0m1-21h0m0 9h0m0 2h0m0 2h0m1-5h0m1-35h0m0 13h0m0 8h0m0 2h0m0 7h0m0 2h0m0 13h0m1-30h0m0 1h0m0 4h0m0 1h0m0 20h0m0 8h0m1-16h0m0 20h0m1-33h0m0 12h0m0 7h0m0 29h0m1-65h0m0 3h0m0 10h0m0 5h0m0 26h0m1-9h0m0 10h0m0 4h0m1 5h0m1-51h0m0 12h0m0 4h0m0 1h0m0 4h0m0 14h0m1-30h0m0 5h0m0 3h0m0 4h0m0 4h0m0 3h0m0 16h0m1-23h0m0 16h0m1-28h0m0 8h0m0 3h0m0 6h0m0 9h0m0 23h0m1-44h0m0 13h0m0 2h0m0 1h0m0 6h0m0 4h0m1-89h0m0 50h0m0 9h0m0 21h0m0 4h0m1-44h0m0 28h0m0 7h0m0 18h0m1-24h0m0 2h0m0 2h0m0 14h0m1-29h0m0 10h0m0 7h0m1-17h0m1-10h0m0 23h0m0 6h0m0 8h0m1-15h0m0 1h0m0 1h0m0 8h0m1-17h0m0 11h0m0 2h0m1-1h0m0 9h0m0 4h0m0 4h0m1-43h0m0 2h0m0 22h0m1-9h0m0 12h0m0 8h0m1-15h0m0 54h0m1-54h0m0 2h0m1-19h0m0 16h0m0 9h0m0 8h0m0 11h0m1-46h0m0 8h0m0 9h0m0 2h0m0 1h0m1-15h0m0 11h0m0 11h0m0 12h0m1-26h0m0 12h0m0 4h0m0 17h0m1-32h0m0 11h0m0 10h0m0 9h0m1-68h0m0 33h0m0 24h0m0 2h0m0 5h0m0 3h0m1-23h0m0 2h0m0 3h0m1-42h0m0 21h0m0 4h0m0 3h0m0 35h0m0 1h0m1-38h0m0 10h0m0 7h0m0 4h0m0 1h0m1-19h0m0 13h0m0 5h0m1-15h0m0 3h0m0 1h0m0 6h0m0 13h0m1-20h0m0 17h0m0 4h0m0 14h0m1-53h0m0 18h0m0 1h0m0 25h0m1-45h0m0 22h0m0 2h0m0 1h0m1-18h0m0 12h0m0 2h0m0 1h0m0 12h0m1-68h0m0 48h0m0 4h0m0 11h0m0 5h0m1-44h0m0 23h0m0 12h0m0 7h0m0 5h0m0 8h0m1-41h0m0 14h0m0 4h0m0 27h0m1-47h0m1 9h0m0 2h0m0 13h0m0 3h0m0 14h0m1-42h0m0 23h0m0 7h0m0 2h0m0 14h0m1-52h0m0 39h0m0 17h0m1-55h0m0 3h0m0 5h0m0 7h0m0 11h0m0 6h0m0 14h0m1-62h0m0 46h0m0 4h0m0 4h0m1-17h0m0 6h0m0 5h0m0 1h0m0 6h0m1-29h0m0 9h0m0 17h0m0 6h0m1-46h0m0 2h0m0 11h0m0 31h0m1-44h0m0 8h0m0 7h0m0 10h0m0 4h0m0 3h0m0 1h0m1-3h0m0 5h0m0 15h0m0 4h0m0 3h0m1-46h0m0 14h0m0 1h0m0 16h0m0 5h0m1-74h0m0 74h0m1-16h0m0 9h0m0 1h0m0 8h0m0 2h0m0 1h0m1-33h0m0 2h0m0 3h0m0 1h0m0 12h0m0 1h0m1-48h0m0 17h0m0 14h0m0 4h0m0 6h0m0 1h0m0 1h0m0 3h0m0 1h0m0 13h0m0 5h0m1-33h0m0 4h0m0 31h0m1-44h0m0 5h0m0 6h0m0 3h0m0 44h0m1-49h0m0 6h0m1-38h0m0 29h0m0 13h0m0 7h0m1-21h0m0 2h0m0 5h0m0 20h0m1-30h0m0 8h0m0 5h0m0 4h0m0 6h0m0 6h0m0 1h0m0 8h0m1-148h0m0 111h0m0 14h0m1-7h0m1-8h0m0 19h0m0 2h0m0 7h0m0 2h0m1-22h0m0 8h0m0 10h0m1-33h0m0 7h0m0 27h0m1-15h0m0 7h0m0 3h0m0 6h0m1-3h0m0 2h0m0 10h0m1-38h0m0 8h0m0 22h0m1-37h0m0 4h0m0 13h0m0 7h0m0 15h0m1-27h0m0 7h0m0 13h0m1-48h0m0 22h0m1 4h0m0 8h0m0 8h0m0 22h0m1-59h0m0 16h0m0 4h0m0 1h0m0 2h0m0 4h0m0 2h0m0 11h0m0 4h0m0 3h0m1-58h0m0 22h0m0 22h0m0 10h0m0 14h0m0 15h0m1-60h0m0 9h0m0 1h0m0 24h0m1-42h0m0 10h0m0 20h0m0 3h0m0 4h0m1-64h0m0 50h0m0 17h0m1-49h0m0 38h0m0 1h0m0 10h0m1-28h0m0 21h0m0 3h0m1 7h0m1-31h0m0 8h0m0 11h0m1-55h0m0 48h0m0 1h0m0 2h0m0 7h0m1-35h0m0 17h0m0 1h0m0 8h0m0 4h0m0 9h0m1-31h0m0 13h0m0 9h0m1-12h0m0 13h0m0 17h0m1-41h0m0 7h0m0 1h0m0 3h0m0 1h0m0 12h0m1-16h0m0 33h0m1-37h0m0 7h0m0 10h0m0 4h0m0 17h0m1-33h0m0 5h0m0 14h0m1 2h0m1-32h0m0 10h0m0 5h0m0 2h0m0 15h0m1-14h0m0 24h0m0 4h0m1-40h0m0 4h0m0 12h0m0 11h0m0 12h0m1-60h0m0 25h0m0 11h0m0 16h0m1-27h0m0 2h0m0 33h0m1-36h0m0 14h0m0 19h0m1-31h0m0 3h0m0 8h0m0 16h0m1-102h0m0 21h0m0 59h0m0 24h0m0 8h0m1-14h0m1-48h0m0 36h0m1-20h0m0 22h0m1-13h0m0 43h0m1-58h0m0 4h0m0 11h0m0 19h0m1-16h0m1 23h0m0 3h0m1-38h0m0 8h0m0 17h0m1-32h0m0 12h0m0 42h0m1-42h0m0 6h0m0 17h0m0 3h0m0 8h0m0 2h0m1-24h0m0 1h0m0 18h0m1-55h0m1 24h0m0 36h0m1-46h0m0 4h0m0 13h0m0 2h0m0 4h0m0 4h0m0 11h0m1-31h0m0 2h0m0 6h0m0 1h0m0 22h0m0 5h0m1-27h0m0 7h0m0 6h0m0 7h0m1-23h0m0 18h0m0 13h0m0 13h0m1-45h0m0 7h0m0 4h0m0 1h0m1 6h0m0 7h0m1-54h0m0 55h0m1-25h0m0 9h0m0 7h0m0 1h0m1-27h0m0 13h0m0 7h0m0 7h0m0 4h0m0 6h0m1-33h0m1 12h0m0 8h0m0 4h0m1-31h0m0 17h0m0 7h0m0 2h0m0 8h0m0 8h0m1-27h0m0 6h0m1 3h0m0 9h0m1-36h0m0 21h0m0 7h0m0 3h0m0 8h0m1-34h0m0 12h0m0 2h0m0 5h0m0 3h0m0 7h0m0 3h0m0 3h0m0 3h0m1-37h0m0 27h0m0 6h0m0 1h0m1-24h0m0 1h0m0 13h0m0 1h0m0 5h0m0 4h0m1-24h0m0 6h0m0 24h0m1-43h0m0 10h0m0 3h0m0 2h0m0 2h0m0 8h0m1-29h0m0 20h0m0 4h0m0 5h0m0 9h0m0 2h0m0 1h0m0 3h0m0 2h0m0 1h0m1-34h0m0 2h0m0 46h0m1-54h0m0 16h0m1-8h0m0 13h0m1-16h0m0 15h0m0 6h0m1-12h0m0 10h0m1-26h0m1-28h0m0 37h0m0 4h0m1-10h0m1 22h0m2-33h0m0 10h0m0 4h0m0 4h0m0 4h0m0 4h0m0 18h0m0 8h0m0 3h0m1-50h0m0 29h0m1-14h0m0 22h0m1-20h0m1 7h0m1-22h0m0 21h0m0 9h0m0 2h0m1-75h0m0 49h0m0 35h0m1-61h0m0 7h0m0 30h0m0 1h0m0 6h0m1-12h0m0 4h0m0 10h0m0 5h0m1-18h0m0 15h0m0 5h0m1-21h0m0 7h0m0 7h0m2-20h0m0 14h0m0 5h0m1-28h0m0 8h0m0 11h0m1-19h0m0 24h0m0 6h0m1-32h0m0 21h0m0 7h0m0 8h0m1-59h0m0 12h0m0 17h0m0 14h0m0 4h0m1-28h0m0 14h0m0 11h0m2-21h0m0 14h0m0 16h0m0 2h0m1-22h0m0 17h0m1-24h0m0 14h0m0 21h0m1-32h0m0 3h0m0 20h0m1-19h0m1 5h0m0 2h0m2-7h0m0 2h0m2 8h0m2 0h0m0 1h0m0 5h0m3-25h0m0 21h0m1-7h0" stroke="#1c86ee"/>
<path d="M967 323h0m3-26h0m0 11h0m1-15h0m0 8h0m1-1h0m4-5h0m0 23h0m2-18h0m1 6h0m5-22h0m1 17h0m0 52h0m1-61h0m1 34h0m1 10h0m1-42h0m1 43h0m0 17h0m7-67h0m0 15h0m1-21h0m0 61h0m1-60h0m1 8h0m0 17h0m0 43h0m1-53h0m1-5h0m2-7h0m0 21h0m3 34h0m1-20h0m1-39h0m1 35h0m1-20h0m1-3h0m1 56h0m3-72h0m4 43h0m4-38h0m0 53h0m1-50h0m2 40h0m1-42h0m0 18h0m4 23h0m0 10h0m1 4h0m3 12h0m3-38h0m0 9h0m3-45h0m0 62h0m1-41h0m1 30h0m2 20h0m5-74h0m2 28h0m4-7h0m3-7h0m0 42h0m0 20h0m5-76h0m1 40h0m1 15h0m1-46h0m0 56h0m1-9h0m1 5h0m1-67h0m0 57h0m3 22h0m1-77h0m0 6h0m3-10h0m0 39h0m3 10h0m1-23h0m0 36h0m5-31h0m2 52h0m3-68h0m4-21h0m0 3h0m0 37h0m1-11h0m1 25h0m0 22h0m2-62h0m4 6h0m1 13h0m0 48h0m2-54h0m2-4h0m0 10h0m4-13h0m2-19h0m5 30h0m4-2h0m4-11h0m3-14h0m1 19h0m1-11h0m2 20h0m5 9h0m3-26h0m4 0h0m2 10h0m3-4h0m2 1h0m0 9h0m3-36h0m1 7h0m0 4h0m1 11h0m5-20h0m2 39h0m1-27h0m1-13h0m0 35h0m2-12h0m4 0h0m5 0h0m8-26h0m1 45h0m4-47h0m0 28h0m1 8h0m0 5h0m5 14h0m3-35h0m3-14h0m2 11h0m6-3h0m1 18h0m1-5h0m3-14h0m7-9h0m5 27h0m6-18h0m1-9h0m5 5h0m7 0h0m8 2h0m3 1h0m1-22h0m0 17h0m9-18h0m2 5h0m4 11h0m1-1h0m4 17h0m2-27h0m10 7h0m1 8h0m3 13h0m1-14h0m0 4h0m1-10h0m3 4h0m2-20h0m0 8h0m1 15h0m1 1h0m5 3h0m1 3h0m3-30h0m0 31h0m8-1h0m6-7h0m1-2h0m1 5h0m4 4h0m2-12h0m2-5h0m9 10h0m1-30h0m7 6h0m3 13h0m3 8h0m1-30h0m3 24h0m3-22h0m5 23h0m5-4h0m0 5h0m3 3h0m2-16h0m1 22h0m1-9h0m5-6h0m0 1h0m2-6h0m0 1h0m14-1h0m1-3h0m1-19h0m2 5h0m1 21h0m8-4h0m3-17h0m1 20h0m3-19h0m4 7h0m0 8h0m4 5h0m1 10h0m1-35h0m9 20h0m6 2h0m0 10h0m1-26h0m0 12h0m4-17h0m3 9h0m4-3h0m0 12h0m7-5h0m2-20h0m1 26h0m8-30h0m0 27h0m5-20h0m3 24h0m9 1h0m3-36h0m2 37h0m1-5h0m0 17h0m1-54h0m0 10h0m4 3h0m5 34h0m2-3h0m3-28h0m3-6h0m0 10h0m0 5h0m2-7h0m0 16h0m1-3h0m5-9h0m0 10h0m8 17h0m8-25h0m3 4h0m1 10h0m6-12h0m5 2h0m4-17h0m2-2h0m1 0h0m1 0h0m26-14h0" stroke="#ee9a00"/>
<path d="M167 894h0m3 0h0m4 0h0m3 0h0m4 0h0m4 0h0m3 0h0m2-19h0m2 19h0m3 0h0m2 9h0m1-9h0m3 9h0m1-9h0m2 9h0m4-9h0m2 9h0m6-9h0m2-33h0m0 42h0m1-28h0m0 19h0m3-52h0m0 19h0m0 42h0m1-9h0m6 9h0m1-9h0m2-19h0m0 28h0m3 0h0m1-28h0m0 19h0m1 27h0m1-18h0m1-9h0m2 9h0m1 19h0m1-28h0m0 34h0m2-9h0m0 3h0m1-28h0m0 19h0m0 4h0m0 10h0m0 1h0m2-25h0m0 16h0m0 1h0m1-26h0m1 24h0m1 4h0m0 7h0m1-17h0m0 1h0m1-19h0m0 25h0m0 1h0m0 3h0m0 5h0m1-25h0m0 18h0m0 1h0m1-28h0m0 25h0m0 1h0m1-8h0m0 7h0m0 9h0m1-25h0m0 15h0m0 1h0m0 1h0m1-6h0m0 8h0m0 8h0m1-11h0m1-25h0m0 24h0m0 10h0m1-25h0m0 9h0m0 7h0m0 1h0m1 2h0m0 2h0m1-8h0m0 3h0m0 9h0m1-43h0m0 28h0m0 9h0m1-3h0m0 1h0m0 4h0m0 10h0m0 30h0m1-45h0m1-25h0m0 29h0m0 5h0m1-13h0m0 6h0m0 1h0m0 12h0m1-15h0m0 2h0m0 2h0m0 1h0m0 3h0m1-33h0m0 17h0m0 1h0m0 6h0m0 5h0m0 4h0m1-8h0m0 3h0m1 2h0m1-5h0m0 66h0m1-73h0m1 5h0m0 2h0m0 3h0m0 26h0m1-24h0m1-30h0m0 25h0m0 1h0m1-8h0m0 4h0m0 4h0m0 6h0m0 8h0m1-12h0m1 1h0m0 1h0m0 14h0m1-44h0m0 30h0m0 10h0m1-8h0m1 1h0m1-15h0m0 7h0m0 4h0m0 1h0m1-11h0m0 2h0m0 11h0m0 8h0m1-19h0m0 101h0m1-122h0m0 40h0m1-21h0m0 4h0m0 7h0m0 2h0m0 6h0m2 2h0m1-40h0m0 19h0m0 11h0m0 2h0m1-13h0m0 6h0m0 3h0m0 10h0m0 61h0m1-68h0m0 7h0m0 2h0m0 3h0m1-16h0m0 7h0m0 1h0m0 8h0m0 56h0m1-78h0m0 12h0m0 1h0m0 3h0m0 1h0m1-22h0m0 3h0m0 4h0m0 12h0m0 3h0m0 2h0m1-16h0m0 10h0m1-34h0m0 35h0m1-18h0m0 2h0m0 2h0m0 17h0m1-6h0m2-71h0m0 39h0m0 17h0m0 6h0m1-4h0m0 13h0m1 2h0m1-73h0m0 39h0m0 16h0m0 22h0m1-19h0m0 9h0m1-12h0m0 1h0m0 17h0m1-3h0m0 7h0m0 18h0m1-33h0m0 15h0m1-12h0m0 8h0m0 6h0m1-15h0m0 1h0m0 5h0m0 1h0m0 6h0m0 3h0m1-44h0m0 22h0m0 5h0m0 5h0m0 5h0m1-14h0m1 3h0m0 4h0m0 2h0m0 2h0m1-11h0m0 1h0m0 3h0m0 7h0m0 7h0m1-41h0m0 18h0m0 4h0m0 15h0m0 6h0m1-25h0m0 5h0m0 8h0m0 2h0m0 1h0m0 8h0m0 9h0m1-13h0m0 1h0m1-17h0m0 2h0m0 10h0m0 20h0m1-31h0m0 7h0m0 2h0m0 1h0m0 3h0m0 1h0m0 3h0m1-37h0m0 23h0m0 5h0m1-7h0m0 4h0m0 3h0m0 2h0m0 1h0m0 4h0m0 4h0m1-42h0m0 22h0m0 1h0m0 4h0m0 1h0m0 2h0m0 5h0m1-32h0m0 6h0m0 18h0m0 6h0m0 1h0m1-32h0m0 28h0m0 2h0m0 9h0m1-41h0m0 21h0m0 1h0m0 1h0m0 7h0m0 3h0m0 1h0m1-32h0m0 7h0m0 25h0m0 1h0m0 5h0m1-37h0m0 19h0m0 7h0m0 12h0m0 1h0m1-17h0m1-2h0m0 7h0m0 3h0m0 1h0m0 8h0m0 3h0m0 42h0m1-87h0m0 2h0m0 7h0m0 13h0m0 1h0m0 1h0m0 8h0m0 10h0m1-18h0m0 3h0m0 1h0m0 4h0m0 2h0m0 1h0m0 6h0m0 1h0m0 2h0m1-44h0m0 30h0m0 2h0m0 10h0m1-40h0m0 20h0m0 1h0m0 1h0m0 8h0m0 6h0m1-14h0m0 4h0m0 1h0m0 1h0m0 1h0m0 10h0m0 9h0m0 29h0m1-79h0m0 29h0m0 4h0m0 2h0m0 7h0m0 25h0m1-67h0m0 6h0m0 12h0m0 5h0m0 1h0m0 1h0m0 2h0m1-12h0m0 7h0m0 2h0m0 4h0m0 2h0m0 3h0m0 6h0m1-35h0m0 11h0m0 8h0m0 4h0m0 3h0m0 12h0m1-46h0m0 4h0m0 2h0m0 22h0m0 3h0m0 1h0m0 1h0m1-23h0m0 22h0m0 2h0m0 3h0m0 3h0m0 3h0m0 4h0m1-23h0m0 1h0m0 1h0m0 1h0m0 4h0m0 3h0m0 9h0m0 14h0m0 14h0m1-67h0m0 1h0m0 3h0m0 17h0m0 8h0m0 1h0m0 3h0m0 3h0m1-40h0m0 6h0m0 4h0m0 3h0m0 15h0m0 3h0m0 9h0m0 9h0m1-35h0m0 3h0m0 5h0m0 4h0m0 5h0m0 1h0m0 2h0m0 4h0m1-33h0m0 1h0m0 2h0m0 13h0m0 1h0m0 5h0m0 1h0m0 5h0m0 1h0m0 3h0m0 2h0m1-39h0m0 25h0m0 5h0m0 10h0m0 4h0m0 3h0m1-42h0m0 8h0m0 5h0m0 8h0m0 1h0m0 4h0m0 3h0m0 3h0m1-37h0m0 8h0m0 7h0m0 6h0m0 3h0m0 2h0m0 2h0m0 2h0m0 5h0m0 1h0m0 3h0m0 6h0m1-49h0m0 4h0m0 15h0m0 4h0m0 8h0m0 1h0m0 4h0m0 1h0m0 7h0m0 2h0m0 5h0m0 2h0m1-49h0m0 17h0m0 8h0m0 1h0m0 5h0m0 3h0m0 9h0m0 3h0m0 1h0m0 3h0m1-52h0m0 28h0m0 1h0m0 3h0m0 2h0m0 1h0m0 10h0m0 3h0m0 2h0m1-50h0m0 10h0m0 12h0m0 13h0m0 7h0m0 1h0m0 6h0m1-47h0m0 19h0m0 7h0m0 8h0m0 4h0m0 3h0m0 2h0m0 13h0m1-57h0m0 9h0m0 2h0m0 1h0m0 2h0m0 9h0m0 4h0m0 8h0m0 1h0m0 2h0m0 4h0m1-44h0m0 3h0m0 2h0m0 6h0m0 4h0m0 3h0m0 6h0m0 1h0m0 3h0m0 1h0m0 4h0m0 2h0m0 1h0m0 4h0m0 1h0m0 2h0m0 5h0m0 2h0m1-49h0m0 15h0m0 6h0m0 5h0m0 7h0m0 1h0m0 1h0m0 1h0m0 1h0m1-23h0m0 14h0m0 8h0m0 1h0m0 1h0m0 1h0m0 3h0m1-44h0m0 5h0m0 1h0m0 18h0m0 10h0m0 2h0m0 2h0m0 1h0m0 2h0m0 1h0m0 2h0m0 2h0m0 1h0m0 21h0m1-63h0m0 2h0m0 6h0m0 10h0m0 3h0m0 1h0m0 1h0m0 3h0m0 1h0m0 1h0m0 1h0m0 3h0m0 2h0m0 5h0m0 7h0m1-50h0m0 2h0m0 2h0m0 5h0m0 10h0m0 2h0m0 1h0m0 2h0m0 1h0m0 10h0m0 2h0m0 1h0m0 6h0m0 1h0m1-39h0m0 2h0m0 2h0m0 1h0m0 3h0m0 1h0m0 5h0m0 1h0m0 2h0m0 4h0m0 8h0m0 3h0m0 4h0m1-43h0m0 18h0m0 1h0m0 10h0m0 1h0m0 4h0m0 2h0m0 1h0m0 3h0m0 4h0m0 4h0m0 1h0m0 2h0m1-49h0m0 1h0m0 15h0m0 8h0m0 4h0m0 1h0m0 5h0m0 2h0m0 1h0m0 5h0m1-43h0m0 2h0m0 6h0m0 13h0m0 2h0m0 2h0m0 3h0m0 1h0m0 6h0m0 3h0m0 4h0m0 2h0m0 4h0m1-47h0m0 15h0m0 3h0m0 4h0m0 1h0m0 2h0m0 6h0m0 1h0m0 3h0m0 2h0m0 2h0m0 3h0m0 5h0m1-48h0m0 1h0m0 8h0m0 6h0m0 6h0m0 3h0m0 7h0m0 6h0m0 1h0m0 1h0m0 6h0m1-44h0m0 2h0m0 1h0m0 1h0m0 3h0m0 7h0m0 2h0m0 11h0m0 4h0m0 2h0m0 2h0m0 2h0m0 1h0m1-42h0m0 2h0m0 4h0m0 2h0m0 7h0m0 6h0m0 6h0m0 2h0m0 5h0m0 1h0m0 1h0m0 2h0m0 1h0m0 1h0m0 3h0m0 8h0m0 1h0m1-45h0m0 2h0m0 3h0m0 5h0m0 3h0m0 6h0m0 1h0m0 3h0m0 4h0m0 8h0m1-30h0m0 1h0m0 9h0m0 6h0m0 3h0m0 5h0m0 4h0m0 1h0m0 2h0m1-37h0m0 8h0m0 7h0m0 4h0m0 2h0m0 1h0m0 11h0m0 5h0m0 25h0m1-69h0m0 1h0m0 1h0m0 1h0m0 6h0m0 3h0m0 7h0m0 3h0m0 2h0m0 2h0m0 2h0m0 1h0m0 12h0m0 1h0m0 1h0m0 3h0m0 2h0m0 3h0m1-51h0m0 2h0m0 2h0m0 1h0m0 2h0m0 3h0m0 1h0m0 5h0m1-30h0m0 9h0m0 10h0m0 1h0m0 1h0m0 5h0m0 4h0m0 5h0m0 4h0m0 1h0m0 3h0m0 6h0m0 3h0m0 2h0m1-47h0m0 10h0m0 2h0m0 3h0m0 1h0m0 5h0m0 1h0m0 2h0m0 5h0m0 2h0m0 2h0m0 1h0m0 2h0m0 1h0m1-31h0m0 5h0m0 7h0m0 1h0m0 4h0m0 11h0m0 3h0m0 11h0m0 5h0m1-42h0m0 5h0m0 7h0m0 2h0m0 1h0m0 1h0m0 1h0m0 2h0m0 2h0m0 2h0m0 1h0m0 6h0m0 1h0m0 3h0m0 1h0m0 1h0m1-38h0m0 5h0m0 17h0m0 1h0m0 2h0m0 4h0m0 1h0m0 1h0m0 11h0m1-44h0m0 19h0m0 3h0m0 1h0m0 2h0m0 1h0m0 5h0m0 1h0m0 6h0m0 1h0m1-33h0m0 9h0m0 7h0m0 1h0m0 3h0m0 1h0m0 4h0m0 1h0m0 2h0m0 6h0m1-29h0m0 11h0m0 1h0m0 1h0m0 4h0m0 2h0m0 1h0m0 7h0m1-37h0m0 2h0m0 4h0m0 1h0m0 1h0m0 4h0m0 2h0m0 7h0m0 3h0m0 2h0m1-28h0m0 2h0m0 4h0m0 5h0m0 1h0m0 3h0m0 3h0m0 3h0m0 7h0m0 7h0m0 3h0m1-36h0m0 1h0m0 2h0m0 4h0m0 7h0m0 1h0m0 10h0m0 2h0m0 1h0m0 6h0m0 5h0m0 16h0m0 7h0m1-60h0m0 5h0m0 5h0m0 5h0m0 7h0m0 2h0m0 4h0m0 7h0m0 1h0m1-42h0m0 8h0m0 3h0m0 8h0m0 5h0m0 1h0m0 3h0m0 3h0m1-23h0m0 2h0m0 3h0m0 1h0m0 1h0m0 2h0m0 6h0m0 3h0m0 1h0m0 2h0m0 10h0m1-36h0m0 2h0m0 3h0m0 1h0m0 4h0m0 6h0m0 3h0m0 1h0m0 1h0m0 2h0m0 2h0m1-33h0m0 7h0m0 4h0m0 4h0m0 1h0m0 11h0m0 8h0m0 11h0m1-40h0m0 2h0m0 3h0m0 3h0m0 2h0m0 1h0m0 1h0m0 17h0m0 9h0m0 1h0m0 6h0m1-43h0m0 3h0m0 3h0m0 2h0m0 8h0m0 4h0m0 2h0m0 7h0m0 5h0m1-32h0m0 4h0m0 1h0m0 10h0m0 2h0m0 2h0m0 2h0m0 1h0m0 2h0m0 1h0m0 3h0m0 1h0m0 4h0m0 2h0m0 4h0m1-45h0m0 10h0m0 2h0m0 5h0m0 15h0m0 3h0m0 29h0m1-60h0m0 1h0m0 4h0m0 3h0m0 2h0m0 1h0m0 3h0m0 5h0m0 10h0m0 3h0m0 2h0m0 4h0m1-41h0m0 3h0m0 5h0m0 1h0m0 5h0m0 3h0m0 2h0m0 2h0m0 1h0m0 2h0m0 2h0m0 2h0m0 5h0m0 3h0m1-39h0m0 5h0m0 7h0m0 3h0m0 3h0m0 7h0m0 7h0m0 12h0m0 6h0m0 1h0m1-51h0m0 5h0m0 3h0m0 6h0m0 1h0m0 3h0m0 3h0m0 2h0m0 1h0m0 2h0m0 16h0m1-39h0m0 16h0m0 2h0m0 3h0m0 1h0m0 7h0m1-33h0m0 3h0m0 1h0m0 3h0m0 2h0m0 9h0m0 3h0m0 13h0m0 8h0m0 2h0m0 2h0m0 17h0m1-57h0m0 6h0m0 2h0m0 5h0m0 3h0m0 4h0m0 4h0m0 6h0m0 2h0m0 7h0m0 2h0m1-45h0m0 1h0m0 2h0m0 7h0m0 1h0m0 3h0m0 1h0m0 9h0m0 4h0m0 1h0m0 9h0m1-37h0m0 1h0m0 2h0m0 6h0m0 6h0m0 1h0m0 1h0m0 5h0m0 6h0m0 7h0m0 3h0m1-88h0m0 52h0m0 3h0m0 5h0m0 4h0m0 4h0m0 2h0m0 2h0m0 1h0m0 9h0m1-17h0m0 1h0m0 1h0m0 4h0m0 5h0m0 4h0m0 4h0m0 7h0m0 9h0m1-51h0m0 2h0m0 5h0m0 4h0m0 4h0m0 2h0m0 3h0m0 2h0m0 3h0m0 2h0m0 3h0m0 4h0m1-23h0m0 3h0m0 1h0m0 2h0m0 1h0m0 3h0m0 1h0m0 2h0m0 10h0m0 6h0m0 3h0m0 5h0m1-47h0m0 2h0m0 31h0m1-31h0m0 2h0m0 1h0m0 1h0m0 6h0m0 4h0m0 1h0m0 1h0m0 1h0m0 1h0m0 1h0m0 2h0m0 3h0m0 2h0m0 7h0m0 15h0m1-52h0m0 1h0m0 3h0m0 2h0m0 4h0m0 4h0m0 1h0m0 9h0m0 1h0m0 3h0m0 5h0m0 9h0m1-38h0m0 2h0m0 1h0m0 1h0m0 8h0m0 1h0m0 2h0m0 2h0m0 1h0m0 1h0m0 2h0m0 4h0m0 3h0m0 5h0m0 9h0m0 16h0m1-58h0m0 8h0m0 1h0m0 1h0m0 1h0m0 2h0m0 3h0m0 7h0m0 3h0m0 2h0m0 2h0m0 8h0m0 2h0m0 3h0m1-43h0m0 4h0m0 2h0m0 1h0m0 4h0m0 2h0m0 1h0m0 1h0m0 4h0m0 2h0m0 1h0m0 2h0m0 1h0m0 2h0m0 6h0m0 15h0m1-47h0m0 1h0m0 1h0m0 1h0m0 6h0m0 5h0m0 3h0m0 3h0m0 2h0m0 4h0m0 1h0m0 2h0m0 1h0m0 12h0m0 14h0m1-64h0m0 5h0m0 2h0m0 11h0m0 2h0m0 1h0m0 4h0m0 1h0m0 1h0m0 1h0m0 1h0m0 5h0m0 2h0m0 1h0m0 3h0m0 2h0m0 9h0m0 4h0m1-49h0m0 2h0m0 2h0m0 1h0m0 1h0m0 3h0m0 5h0m0 4h0m0 1h0m0 2h0m0 2h0m0 2h0m0 1h0m0 27h0m1-57h0m0 5h0m0 1h0m0 1h0m0 1h0m0 3h0m0 2h0m0 1h0m0 1h0m0 4h0m0 1h0m0 4h0m0 2h0m0 4h0m0 2h0m0 4h0m0 4h0m0 1h0m0 2h0m0 2h0m1-47h0m0 7h0m0 2h0m0 1h0m0 1h0m0 5h0m0 2h0m0 2h0m0 1h0m0 7h0m0 7h0m0 3h0m0 3h0m1-35h0m0 1h0m0 6h0m0 3h0m0 2h0m0 4h0m0 1h0m0 1h0m0 4h0m0 1h0m0 3h0m0 1h0m0 2h0m0 1h0m0 1h0m0 7h0m0 1h0m0 10h0m0 1h0m0 3h0m1-58h0m0 6h0m0 1h0m0 1h0m0 1h0m0 1h0m0 6h0m0 2h0m0 2h0m0 7h0m0 1h0m0 2h0m0 6h0m0 7h0m0 3h0m1-38h0m0 2h0m0 6h0m0 1h0m0 1h0m0 9h0m0 1h0m0 2h0m0 2h0m0 2h0m0 2h0m0 22h0m1-53h0m0 1h0m0 4h0m0 5h0m0 2h0m0 3h0m0 1h0m0 1h0m0 5h0m0 1h0m0 1h0m0 11h0m0 6h0m0 8h0m0 1h0m1-46h0m0 9h0m0 1h0m0 1h0m0 1h0m0 3h0m0 1h0m0 2h0m0 1h0m0 2h0m0 3h0m0 22h0m1-70h0m0 12h0m0 3h0m0 1h0m0 1h0m0 1h0m0 3h0m0 2h0m0 2h0m0 4h0m0 6h0m0 3h0m0 2h0m0 5h0m0 1h0m0 2h0m0 5h0m0 3h0m0 14h0m0 3h0m0 13h0m1-65h0m0 1h0m0 1h0m0 1h0m0 6h0m0 1h0m0 4h0m0 1h0m0 5h0m0 5h0m0 3h0m0 1h0m0 2h0m0 7h0m0 10h0m1-50h0m0 1h0m0 1h0m0 1h0m0 3h0m0 6h0m0 1h0m0 2h0m0 1h0m0 1h0m0 8h0m0 1h0m0 2h0m0 2h0m0 21h0m0 3h0m1-59h0m0 5h0m0 3h0m0 14h0m0 1h0m0 2h0m0 4h0m0 4h0m0 7h0m0 1h0m1-35h0m0 2h0m0 6h0m0 2h0m0 2h0m0 3h0m0 14h0m0 3h0m0 16h0m0 5h0m1-54h0m0 4h0m0 5h0m0 2h0m0 1h0m0 1h0m0 4h0m0 3h0m0 4h0m0 2h0m0 5h0m0 1h0m0 18h0m0 4h0m1-52h0m0 1h0m0 2h0m0 14h0m0 4h0m0 9h0m0 4h0m0 15h0m0 3h0m1-52h0m0 10h0m0 1h0m0 2h0m0 3h0m0 1h0m0 1h0m0 5h0m0 8h0m0 4h0m0 3h0m0 14h0m1-53h0m0 1h0m0 3h0m0 9h0m0 13h0m0 2h0m0 3h0m0 17h0m0 1h0m0 4h0m1-59h0m0 8h0m0 1h0m0 5h0m0 1h0m0 2h0m0 1h0m0 3h0m0 4h0m0 1h0m0 8h0m0 5h0m0 5h0m0 12h0m1-43h0m0 8h0m0 2h0m0 3h0m0 7h0m0 1h0m0 8h0m0 5h0m0 11h0m0 1h0m1-52h0m0 11h0m0 5h0m0 5h0m0 8h0m0 4h0m0 1h0m0 5h0m0 8h0m0 3h0m0 2h0m1-55h0m0 1h0m0 11h0m0 8h0m0 15h0m0 9h0m0 11h0m1-50h0m0 1h0m0 6h0m0 2h0m0 2h0m0 1h0m0 2h0m0 2h0m0 3h0m0 2h0m0 2h0m0 7h0m0 8h0m1-43h0m0 6h0m0 3h0m0 2h0m0 1h0m0 3h0m0 3h0m0 1h0m0 1h0m0 8h0m0 4h0m0 1h0m0 7h0m0 3h0m0 7h0m0 4h0m0 1h0m1-49h0m0 3h0m0 13h0m0 2h0m0 9h0m0 2h0m0 18h0m0 3h0m1-62h0m0 7h0m0 1h0m0 6h0m0 3h0m0 2h0m0 6h0m0 2h0m0 10h0m0 1h0m0 6h0m0 1h0m0 1h0m0 15h0m0 6h0m1-100h0m0 51h0m0 5h0m0 6h0m0 8h0m0 13h0m0 10h0m1-45h0m0 10h0m0 4h0m0 2h0m0 3h0m0 5h0m0 1h0m0 1h0m0 15h0m0 3h0m1-52h0m0 5h0m0 1h0m0 1h0m0 9h0m0 7h0m0 9h0m0 7h0m0 1h0m0 15h0m1-51h0m0 6h0m0 1h0m0 12h0m0 1h0m0 9h0m0 2h0m0 3h0m0 1h0m0 3h0m0 11h0m1-52h0m0 5h0m0 6h0m0 6h0m0 2h0m0 2h0m0 4h0m0 2h0m0 2h0m0 8h0m0 2h0m0 4h0m1-40h0m0 2h0m0 10h0m0 2h0m0 2h0m0 10h0m0 6h0m0 1h0m0 2h0m0 16h0m1-54h0m0 1h0m0 1h0m0 4h0m0 2h0m0 1h0m0 1h0m0 1h0m0 4h0m0 2h0m0 9h0m0 1h0m0 4h0m0 21h0m1-42h0m0 3h0m0 1h0m0 4h0m0 4h0m0 2h0m0 1h0m0 6h0m0 1h0m0 3h0m0 1h0m0 1h0m0 1h0m0 1h0m0 21h0m1-49h0m0 6h0m0 1h0m0 6h0m0 7h0m0 3h0m0 3h0m0 1h0m1-31h0m0 3h0m0 1h0m0 1h0m0 7h0m0 5h0m0 2h0m0 12h0m0 3h0m0 13h0m1-52h0m0 11h0m0 5h0m0 1h0m0 1h0m0 2h0m0 1h0m0 3h0m0 5h0m0 6h0m0 2h0m1-40h0m0 10h0m0 1h0m0 12h0m0 4h0m0 2h0m0 4h0m0 10h0m0 1h0m0 11h0m1-54h0m0 10h0m0 5h0m0 4h0m0 1h0m0 1h0m0 2h0m0 1h0m0 1h0m0 1h0m0 6h0m0 2h0m0 9h0m0 8h0m0 3h0m1-54h0m0 2h0m0 8h0m0 2h0m0 1h0m0 1h0m0 7h0m0 1h0m0 5h0m0 6h0m0 1h0m0 3h0m1-40h0m0 3h0m0 4h0m0 4h0m0 4h0m0 1h0m0 4h0m0 6h0m0 1h0m0 2h0m0 1h0m0 7h0m0 4h0m0 1h0m0 4h0m1-43h0m0 5h0m0 2h0m0 3h0m0 8h0m0 1h0m0 3h0m0 3h0m0 4h0m0 1h0m0 3h0m0 5h0m0 7h0m0 2h0m0 11h0m1-70h0m0 13h0m0 1h0m0 4h0m0 1h0m0 2h0m0 6h0m0 4h0m0 1h0m0 1h0m0 1h0m0 1h0m0 1h0m0 7h0m0 1h0m0 2h0m0 4h0m0 13h0m1-48h0m0 10h0m0 2h0m0 5h0m0 4h0m0 10h0m1-37h0m0 5h0m0 1h0m0 1h0m0 3h0m0 13h0m0 2h0m0 7h0m0 2h0m0 4h0m0 6h0m0 2h0m1-36h0m0 3h0m0 6h0m0 1h0m0 1h0m0 6h0m0 10h0m0 3h0m0 2h0m0 7h0m0 1h0m1-47h0m0 10h0m0 1h0m0 4h0m0 5h0m0 1h0m0 1h0m0 2h0m0 9h0m0 1h0m0 1h0m0 1h0m0 7h0m0 1h0m0 3h0m0 11h0m1-48h0m0 6h0m0 9h0m0 1h0m0 4h0m0 4h0m0 5h0m0 1h0m0 1h0m1-36h0m0 8h0m0 1h0m0 2h0m0 2h0m0 2h0m0 11h0m0 5h0m0 6h0m0 2h0m1-39h0m0 2h0m0 3h0m0 2h0m0 1h0m0 22h0m0 12h0m1-38h0m0 1h0m0 1h0m0 1h0m0 2h0m0 6h0m0 8h0m0 1h0m0 9h0m0 5h0m0 4h0m0 4h0m1-82h0m0 10h0m0 31h0m0 9h0m0 23h0m0 3h0m1-45h0m0 9h0m0 4h0m0 10h0m0 8h0m0 2h0m0 1h0m0 12h0m0 1h0m0 14h0m1-55h0m0 4h0m0 2h0m0 1h0m0 1h0m0 2h0m0 2h0m0 4h0m0 3h0m0 3h0m0 7h0m0 2h0m0 1h0m0 1h0m0 2h0m0 1h0m0 1h0m0 2h0m1-45h0m0 3h0m0 7h0m0 1h0m0 4h0m0 4h0m0 2h0m0 7h0m0 12h0m0 5h0m0 3h0m0 3h0m1-43h0m0 9h0m0 1h0m0 1h0m0 2h0m0 18h0m0 4h0m0 1h0m0 2h0m1-38h0m0 4h0m0 13h0m0 13h0m0 5h0m0 1h0m0 1h0m1-39h0m0 4h0m0 1h0m0 1h0m0 1h0m0 1h0m0 1h0m0 1h0m0 4h0m0 3h0m0 16h0m0 4h0m0 2h0m0 6h0m1-82h0m0 22h0m0 24h0m0 2h0m0 8h0m0 3h0m0 2h0m0 4h0m0 4h0m0 4h0m0 2h0m0 1h0m1-56h0m0 21h0m0 1h0m0 1h0m0 1h0m0 3h0m0 1h0m0 6h0m0 6h0m0 6h0m0 1h0m0 2h0m1-69h0m0 5h0m0 26h0m0 8h0m0 6h0m0 2h0m0 7h0m0 3h0m0 7h0m0 3h0m0 3h0m0 5h0m0 2h0m1-63h0m0 4h0m0 24h0m0 2h0m0 3h0m0 1h0m0 11h0m0 5h0m0 2h0m0 8h0m0 1h0m0 1h0m0 6h0m1-56h0m0 16h0m0 1h0m0 1h0m0 2h0m0 3h0m0 6h0m0 1h0m0 2h0m0 1h0m0 11h0m0 4h0m0 3h0m0 1h0m1-58h0m0 23h0m0 2h0m0 3h0m0 8h0m0 3h0m0 2h0m0 9h0m0 2h0m0 3h0m0 1h0m1-35h0m0 1h0m0 1h0m0 12h0m0 8h0m0 4h0m0 5h0m0 3h0m0 2h0m0 3h0m0 2h0m1-36h0m0 1h0m0 4h0m0 1h0m0 4h0m0 12h0m0 3h0m0 5h0m1-52h0m0 18h0m0 2h0m0 6h0m0 1h0m0 1h0m0 3h0m0 2h0m0 10h0m0 10h0m0 17h0m1-74h0m0 6h0m0 12h0m0 6h0m0 9h0m0 7h0m0 9h0m0 3h0m0 1h0m0 1h0m0 1h0m0 7h0m1-58h0m0 19h0m0 9h0m0 8h0m0 3h0m0 2h0m0 1h0m0 2h0m0 10h0m0 1h0m0 3h0m1-85h0m0 42h0m0 1h0m0 1h0m0 5h0m0 1h0m0 2h0m0 3h0m0 3h0m0 3h0m0 6h0m0 2h0m0 9h0m0 2h0m0 1h0m1-59h0m0 12h0m0 9h0m0 4h0m0 3h0m0 3h0m0 2h0m0 20h0m0 1h0m0 5h0m0 1h0m0 4h0m1-63h0m0 4h0m0 3h0m0 15h0m0 2h0m0 2h0m0 5h0m0 4h0m0 1h0m0 5h0m0 5h0m0 2h0m0 1h0m0 2h0m0 5h0m1-35h0m0 5h0m0 11h0m0 1h0m0 5h0m0 8h0m0 3h0m0 1h0m0 2h0m0 2h0m1-76h0m0 39h0m0 11h0m0 16h0m0 5h0m0 12h0m1-62h0m0 25h0m0 13h0m0 2h0m1-32h0m0 7h0m0 5h0m0 1h0m0 2h0m0 29h0m0 1h0m0 1h0m1-43h0m0 3h0m0 6h0m0 6h0m0 3h0m0 17h0m0 6h0m0 2h0m1-38h0m0 2h0m0 1h0m0 2h0m0 1h0m0 7h0m0 9h0m0 8h0m0 9h0m0 3h0m1-60h0m0 26h0m0 5h0m0 3h0m0 4h0m0 3h0m0 2h0m0 1h0m0 1h0m0 1h0m0 4h0m0 5h0m0 1h0m0 2h0m1-57h0m0 15h0m0 1h0m0 1h0m0 3h0m0 1h0m0 1h0m0 16h0m0 2h0m0 3h0m0 11h0m0 3h0m0 9h0m1-66h0m0 14h0m0 7h0m0 13h0m0 17h0m1-32h0m0 2h0m0 1h0m0 1h0m0 1h0m0 4h0m0 12h0m0 1h0m0 1h0m0 1h0m0 8h0m0 2h0m1-66h0m0 13h0m0 19h0m0 3h0m0 7h0m0 1h0m0 2h0m0 1h0m0 33h0m1-66h0m0 2h0m0 7h0m0 12h0m0 2h0m0 7h0m0 2h0m0 1h0m0 4h0m0 6h0m0 2h0m0 7h0m1-47h0m0 16h0m0 2h0m0 5h0m0 3h0m0 3h0m0 2h0m0 1h0m0 9h0m0 2h0m0 1h0m0 5h0m1-61h0m0 22h0m0 1h0m0 2h0m0 1h0m0 2h0m0 9h0m0 3h0m0 7h0m0 2h0m0 4h0m0 11h0m0 9h0m0 4h0m1-51h0m0 1h0m0 1h0m0 1h0m0 2h0m0 10h0m0 2h0m0 3h0m0 2h0m0 3h0m0 2h0m0 5h0m0 1h0m0 2h0m0 14h0m0 1h0m1-69h0m0 19h0m0 2h0m0 11h0m0 3h0m0 9h0m0 8h0m0 2h0m1-38h0m0 2h0m0 1h0m0 3h0m0 6h0m0 4h0m0 6h0m0 14h0m0 8h0m1-39h0m0 2h0m0 7h0m0 1h0m0 9h0m0 5h0m0 2h0m0 4h0m0 4h0m0 5h0m0 6h0m1-66h0m0 6h0m0 20h0m0 1h0m0 1h0m0 5h0m0 1h0m0 3h0m0 2h0m0 2h0m0 3h0m0 5h0m0 6h0m1-34h0m0 5h0m0 5h0m0 1h0m0 1h0m0 5h0m0 9h0m0 3h0m0 5h0m0 11h0m1-46h0m0 11h0m0 6h0m0 1h0m0 17h0m1-34h0m0 12h0m0 21h0m0 2h0m0 11h0m1-39h0m0 1h0m0 3h0m0 1h0m0 1h0m0 3h0m0 1h0m0 1h0m0 11h0m0 4h0m0 1h0m0 6h0m1-40h0m0 8h0m0 2h0m0 4h0m0 2h0m0 1h0m0 2h0m0 1h0m0 1h0m0 1h0m0 6h0m0 16h0m1-63h0m0 17h0m0 10h0m0 1h0m0 5h0m0 6h0m0 1h0m0 1h0m0 1h0m0 1h0m0 2h0m0 2h0m0 2h0m1-34h0m0 6h0m0 5h0m0 1h0m0 17h0m1-62h0m0 34h0m0 3h0m0 10h0m0 1h0m0 3h0m0 5h0m0 1h0m0 3h0m0 2h0m0 2h0m0 16h0m1-78h0m0 27h0m0 18h0m0 4h0m0 1h0m0 5h0m0 8h0m0 8h0m0 8h0m1-44h0m0 10h0m0 4h0m0 2h0m0 3h0m0 1h0m0 13h0m0 3h0m1-51h0m0 14h0m0 1h0m0 12h0m0 6h0m0 1h0m0 2h0m0 4h0m0 7h0m0 8h0m1-75h0m0 14h0m0 15h0m0 26h0m0 5h0m0 3h0m0 10h0m1-46h0m0 13h0m0 2h0m0 2h0m0 3h0m0 1h0m0 3h0m0 2h0m0 1h0m0 4h0m0 3h0m1-50h0m0 15h0m0 11h0m0 9h0m0 7h0m0 7h0m0 3h0m0 5h0m0 9h0m1-92h0m0 15h0m0 7h0m0 18h0m0 18h0m0 1h0m0 4h0m0 1h0m0 20h0m0 2h0m0 1h0m1-74h0m0 34h0m0 13h0m0 1h0m0 4h0m0 2h0m0 9h0m0 6h0m0 12h0m1-48h0m0 22h0m0 2h0m1-19h0m0 3h0m0 19h0m1-58h0m0 16h0m0 11h0m0 8h0m0 7h0m0 1h0m0 7h0m0 2h0m0 7h0m0 11h0m0 9h0m1-48h0m0 13h0m0 6h0m0 9h0m0 5h0m0 5h0m0 13h0m1-73h0m0 18h0m0 22h0m0 5h0m0 1h0m0 3h0m0 1h0m0 20h0m1-58h0m0 11h0m0 7h0m0 3h0m0 6h0m0 6h0m0 4h0m0 2h0m0 10h0m0 5h0m0 5h0m1-44h0m0 8h0m0 2h0m0 8h0m0 1h0m0 4h0m0 7h0m0 1h0m0 5h0m0 4h0m1-78h0m0 34h0m0 5h0m0 2h0m0 12h0m0 4h0m1-13h0m0 18h0m0 14h0m1-52h0m0 14h0m0 6h0m0 1h0m0 7h0m0 5h0m0 3h0m0 12h0m0 9h0m1-48h0m0 2h0m0 3h0m0 10h0m0 1h0m0 5h0m0 3h0m0 2h0m0 6h0m1-30h0m0 11h0m0 3h0m0 1h0m0 1h0m0 2h0m0 1h0m0 5h0m0 7h0m0 7h0m0 1h0m0 1h0m1-48h0m0 3h0m0 7h0m0 4h0m0 2h0m0 3h0m0 5h0m0 6h0m0 2h0m0 13h0m0 9h0m0 1h0m1-81h0m0 32h0m0 16h0m0 4h0m0 1h0m0 7h0m1-24h0m0 12h0m0 2h0m0 3h0m0 1h0m0 3h0m0 3h0m0 7h0m0 2h0m1-31h0m0 14h0m0 1h0m0 1h0m0 9h0m0 9h0m1-26h0m0 3h0m0 2h0m0 6h0m0 1h0m0 1h0m0 9h0m0 1h0m1-53h0m0 21h0m0 4h0m0 6h0m0 2h0m0 3h0m0 8h0m0 1h0m0 1h0m0 3h0m0 8h0m1-40h0m0 11h0m0 2h0m0 3h0m0 4h0m0 1h0m0 6h0m0 5h0m0 4h0m0 5h0m0 2h0m1-41h0m0 11h0m0 1h0m0 3h0m0 1h0m0 1h0m0 1h0m0 2h0m0 2h0m0 8h0m0 11h0m0 3h0m1-67h0m0 12h0m0 4h0m0 1h0m0 17h0m0 3h0m0 3h0m0 11h0m0 8h0m0 3h0m1-40h0m0 13h0m0 6h0m0 3h0m0 2h0m0 2h0m0 8h0m0 1h0m0 1h0m0 6h0m1-43h0m0 12h0m0 5h0m0 3h0m0 7h0m0 13h0m1-33h0m0 8h0m0 2h0m0 2h0m0 3h0m0 3h0m0 3h0m0 10h0m0 5h0m1-63h0m0 29h0m0 4h0m0 1h0m0 10h0m0 5h0m0 4h0m0 8h0m1-34h0m0 6h0m0 2h0m0 1h0m0 14h0m0 3h0m0 10h0m1-34h0m0 8h0m0 1h0m0 16h0m0 2h0m0 6h0m1-46h0m0 12h0m0 1h0m0 2h0m0 1h0m0 3h0m0 3h0m0 2h0m0 12h0m0 2h0m0 10h0m1-47h0m0 9h0m0 7h0m0 4h0m0 20h0m0 7h0m1-58h0m0 16h0m0 4h0m0 9h0m0 8h0m0 7h0m0 2h0m1-25h0m0 9h0m0 2h0m1-15h0m0 13h0m0 3h0m0 8h0m0 2h0m0 3h0m0 1h0m1-31h0m0 1h0m0 2h0m0 4h0m0 5h0m0 1h0m0 1h0m0 4h0m0 6h0m0 12h0m0 3h0m1-39h0m0 5h0m0 23h0m0 7h0m1-68h0m0 29h0m0 15h0m0 1h0m0 5h0m0 11h0m0 13h0m1-46h0m0 4h0m0 4h0m0 7h0m0 3h0m0 1h0m0 4h0m0 5h0m0 1h0m0 3h0m0 6h0m0 8h0m1-74h0m0 29h0m0 5h0m0 1h0m0 6h0m0 1h0m0 2h0m0 3h0m0 1h0m0 1h0m0 2h0m0 1h0m0 3h0m0 10h0m0 2h0m1-78h0m0 40h0m0 8h0m0 8h0m0 4h0m0 2h0m0 9h0m0 5h0m0 8h0m1-38h0m0 6h0m0 3h0m0 3h0m0 2h0m0 3h0m0 1h0m0 10h0m0 5h0m1-38h0m0 9h0m0 4h0m0 4h0m0 2h0m0 3h0m0 4h0m0 2h0m0 1h0m0 2h0m1-17h0m0 3h0m0 1h0m0 1h0m0 1h0m0 4h0m0 1h0m0 1h0m0 6h0m0 3h0m0 3h0m1-79h0m0 44h0m0 5h0m0 1h0m0 8h0m0 2h0m0 1h0m0 1h0m0 4h0m0 9h0m1-34h0m0 16h0m0 1h0m0 1h0m0 7h0m0 2h0m0 4h0m0 3h0m0 2h0m1-66h0m0 20h0m0 9h0m0 6h0m0 4h0m0 8h0m0 10h0m0 16h0m1-55h0m0 20h0m0 4h0m0 5h0m0 3h0m0 4h0m0 2h0m0 10h0m0 2h0m1-34h0m0 5h0m0 6h0m0 3h0m0 1h0m0 1h0m0 3h0m0 3h0m0 1h0m0 13h0m1-41h0m0 1h0m0 6h0m0 2h0m0 3h0m0 6h0m0 1h0m0 8h0m0 7h0m0 4h0m0 5h0m0 1h0m0 1h0m1-41h0m0 14h0m0 1h0m0 6h0m0 5h0m0 1h0m0 9h0m0 1h0m0 5h0m1-41h0m0 12h0m0 4h0m0 1h0m0 10h0m0 3h0m0 8h0m0 2h0m1-40h0m0 6h0m0 4h0m0 1h0m0 1h0m0 1h0m0 3h0m0 2h0m0 2h0m0 3h0m0 3h0m0 7h0m0 2h0m0 5h0m0 1h0m1-46h0m0 17h0m0 1h0m0 2h0m0 3h0m0 1h0m0 4h0m0 9h0m1-32h0m0 2h0m0 6h0m0 11h0m0 1h0m0 3h0m0 8h0m0 8h0m0 7h0m1-41h0m0 3h0m0 2h0m0 6h0m0 6h0m0 11h0m1-35h0m0 5h0m0 8h0m0 3h0m0 1h0m0 1h0m0 1h0m0 3h0m0 5h0m0 1h0m0 2h0m1-14h0m0 4h0m0 2h0m0 4h0m0 3h0m0 9h0m1-31h0m0 15h0m0 6h0m0 2h0m0 5h0m1-31h0m0 3h0m0 14h0m0 1h0m0 1h0m0 3h0m0 1h0m0 1h0m0 3h0m1-16h0m0 3h0m0 1h0m0 1h0m0 1h0m0 1h0m0 1h0m0 4h0m0 12h0m1-38h0m0 5h0m0 11h0m0 2h0m0 3h0m0 2h0m0 10h0m0 4h0m0 9h0m1-43h0m0 11h0m0 3h0m0 1h0m0 5h0m0 6h0m0 2h0m0 9h0m1-29h0m0 1h0m0 1h0m0 4h0m0 1h0m0 2h0m0 8h0m0 7h0m1-35h0m0 6h0m0 1h0m0 8h0m0 2h0m0 3h0m0 19h0m1-26h0m0 2h0m0 2h0m0 1h0m0 4h0m0 2h0m0 2h0m0 11h0m0 1h0m0 1h0m1-40h0m0 6h0m0 7h0m0 1h0m0 4h0m0 4h0m0 1h0m0 5h0m0 2h0m0 2h0m0 9h0m1-30h0m0 1h0m0 1h0m0 3h0m0 4h0m0 1h0m0 1h0m0 1h0m0 2h0m0 2h0m0 5h0m0 6h0m1-29h0m0 1h0m0 6h0m0 2h0m0 3h0m0 1h0m0 2h0m0 1h0m0 3h0m0 4h0m0 9h0m1-33h0m0 4h0m0 1h0m0 1h0m0 10h0m0 6h0m0 11h0m1-42h0m0 7h0m0 5h0m0 12h0m0 1h0m0 7h0m0 5h0m0 1h0m0 1h0m1-34h0m0 3h0m0 4h0m0 2h0m0 3h0m0 1h0m0 1h0m0 1h0m0 18h0m0 1h0m0 5h0m1-39h0m0 9h0m0 6h0m0 3h0m0 16h0m1-27h0m0 2h0m0 2h0m0 1h0m0 3h0m0 1h0m0 2h0m0 13h0m0 4h0m1-35h0m0 10h0m0 3h0m0 3h0m0 6h0m0 2h0m0 20h0m1-47h0m0 9h0m0 11h0m0 2h0m0 15h0m1-36h0m0 8h0m0 1h0m0 2h0m0 6h0m0 27h0m1-30h0m0 9h0m0 6h0m1-20h0m0 2h0m0 2h0m0 4h0m0 2h0m0 3h0m0 6h0m0 9h0m0 1h0m1-37h0m0 2h0m0 3h0m0 1h0m0 3h0m0 9h0m0 1h0m0 4h0m0 3h0m0 2h0m0 1h0m0 6h0m1-19h0m0 2h0m0 1h0m0 8h0m0 11h0m1-40h0m0 3h0m0 13h0m0 4h0m0 7h0m0 17h0m1-39h0m0 7h0m0 3h0m0 12h0m0 7h0m1-29h0m0 11h0m0 3h0m0 3h0m0 8h0m0 3h0m0 1h0m0 5h0m1-28h0m0 7h0m0 1h0m0 5h0m0 2h0m0 1h0m0 3h0m0 2h0m0 1h0m1-22h0m0 5h0m0 1h0m0 4h0m0 5h0m0 7h0m0 3h0m0 10h0m1-34h0m0 1h0m0 10h0m0 2h0m0 13h0m1-27h0m0 3h0m0 6h0m0 3h0m0 6h0m0 3h0m1-22h0m0 7h0m0 5h0m0 4h0m0 1h0m1-21h0m0 5h0m0 2h0m0 5h0m0 1h0m0 7h0m0 7h0m0 2h0m0 2h0m0 2h0m0 5h0m1-45h0m0 5h0m0 10h0m0 9h0m0 4h0m1-21h0m0 1h0m0 9h0m0 8h0m0 1h0m1-24h0m0 9h0m0 3h0m0 2h0m0 2h0m0 10h0m1-27h0m0 10h0m0 6h0m0 2h0m0 6h0m0 4h0m0 8h0m1-32h0m0 11h0m0 3h0m0 1h0m0 1h0m0 17h0m1-27h0m0 3h0m0 14h0m0 10h0m0 1h0m1-32h0m0 6h0m0 1h0m0 2h0m0 9h0m0 4h0m0 9h0m1-36h0m0 18h0m0 2h0m0 1h0m0 2h0m0 3h0m0 6h0m1-28h0m0 2h0m0 13h0m0 1h0m0 6h0m1-22h0m0 8h0m0 1h0m0 5h0m0 3h0m0 2h0m0 14h0m1-32h0m0 9h0m0 1h0m0 4h0m0 2h0m0 1h0m0 4h0m0 1h0m0 15h0m1-38h0m0 9h0m0 1h0m0 7h0m0 9h0m0 6h0m0 1h0m1-33h0m0 1h0m0 5h0m0 7h0m0 1h0m0 7h0m0 3h0m0 15h0m1-34h0m0 5h0m0 5h0m0 3h0m0 4h0m1-24h0m0 5h0m0 2h0m0 5h0m0 4h0m0 2h0m0 11h0m0 6h0m0 4h0m1-42h0m0 7h0m0 11h0m0 4h0m0 5h0m0 9h0m1-28h0m0 5h0m0 6h0m0 5h0m0 7h0m1-28h0m0 5h0m0 1h0m0 8h0m0 3h0m0 1h0m0 10h0m1-30h0m0 7h0m0 11h0m0 2h0m0 3h0m0 7h0m0 9h0m1-40h0m0 1h0m0 1h0m0 9h0m0 7h0m0 1h0m0 5h0m0 5h0m0 7h0m0 2h0m1-35h0m0 9h0m0 2h0m0 1h0m0 5h0m0 2h0m0 1h0m0 9h0m0 2h0m0 2h0m1-29h0m0 19h0m0 1h0m0 1h0m0 8h0m1-22h0m0 1h0m0 1h0m0 3h0m0 2h0m0 3h0m0 2h0m0 3h0m1-20h0m0 4h0m0 5h0m0 10h0m0 8h0m1-34h0m0 8h0m0 7h0m0 5h0m0 2h0m0 10h0m1-30h0m0 17h0m0 1h0m0 3h0m0 1h0m0 5h0m1-22h0m0 1h0m0 1h0m0 8h0m0 11h0m0 7h0m1-28h0m0 7h0m0 6h0m0 7h0m0 4h0m0 3h0m1-36h0m0 15h0m0 1h0m0 2h0m0 4h0m0 2h0m0 3h0m0 2h0m0 1h0m1-25h0m0 1h0m0 6h0m0 4h0m0 6h0m0 7h0m0 3h0m1-26h0m0 5h0m0 2h0m0 3h0m0 1h0m0 1h0m1-11h0m0 3h0m0 5h0m0 7h0m0 9h0m1-29h0m0 8h0m0 5h0m0 7h0m0 2h0m0 3h0m0 3h0m0 1h0m0 2h0m0 3h0m1-29h0m0 1h0m0 2h0m0 2h0m0 1h0m0 1h0m0 2h0m0 1h0m0 3h0m0 7h0m0 2h0m0 2h0m1-28h0m0 13h0m0 4h0m0 4h0m0 6h0m0 11h0m1-37h0m0 8h0m0 4h0m0 2h0m0 4h0m0 1h0m0 2h0m0 3h0m0 5h0m1-25h0m0 2h0m0 3h0m0 1h0m0 1h0m0 2h0m0 1h0m0 3h0m0 5h0m0 2h0m0 2h0m0 5h0m1-31h0m0 1h0m0 5h0m0 4h0m0 6h0m0 5h0m0 1h0m0 2h0m0 2h0m1-19h0m0 6h0m0 3h0m0 2h0m0 6h0m0 6h0m0 2h0m1-25h0m0 1h0m0 10h0m0 1h0m0 5h0m0 3h0m0 2h0m1-28h0m0 1h0m0 1h0m0 2h0m0 4h0m0 1h0m0 1h0m0 1h0m0 3h0m0 1h0m0 6h0m0 2h0m0 1h0m0 1h0m0 14h0m1-34h0m0 1h0m0 3h0m0 1h0m0 1h0m0 4h0m0 1h0m0 2h0m0 5h0m1-28h0m0 3h0m0 3h0m0 6h0m0 4h0m0 13h0m0 6h0m1-31h0m0 10h0m0 1h0m0 2h0m0 2h0m0 1h0m0 1h0m0 1h0m0 2h0m0 4h0m0 5h0m1-30h0m0 2h0m0 10h0m0 3h0m0 3h0m0 8h0m0 2h0m1-20h0m0 3h0m0 2h0m0 3h0m0 1h0m0 6h0m0 4h0m1-27h0m0 11h0m0 1h0m0 5h0m0 1h0m0 8h0m0 1h0m0 1h0m0 2h0m1-30h0m0 1h0m0 3h0m0 1h0m0 4h0m0 2h0m0 1h0m0 5h0m0 6h0m0 4h0m0 12h0m1-38h0m0 6h0m0 3h0m0 2h0m0 5h0m0 7h0m0 8h0m1-32h0m0 6h0m0 1h0m0 3h0m0 1h0m0 15h0m0 2h0m1-25h0m0 3h0m0 1h0m0 2h0m0 2h0m0 1h0m0 5h0m0 4h0m0 4h0m0 1h0m1-30h0m0 3h0m0 2h0m0 1h0m0 5h0m0 2h0m0 2h0m0 6h0m0 13h0m1-34h0m0 1h0m0 2h0m0 13h0m0 7h0m0 4h0m0 4h0m1-27h0m0 1h0m0 2h0m0 5h0m0 8h0m0 10h0m0 1h0m0 3h0m1-31h0m0 3h0m0 5h0m0 4h0m0 1h0m0 6h0m0 9h0m0 1h0m1-29h0m0 1h0m0 1h0m0 1h0m0 3h0m0 1h0m0 4h0m0 1h0m0 7h0m0 7h0m0 2h0m0 2h0m0 3h0m1-31h0m0 1h0m0 6h0m0 1h0m0 3h0m0 1h0m0 10h0m0 4h0m0 2h0m0 5h0m1-34h0m0 14h0m0 5h0m0 4h0m0 4h0m0 4h0m1-34h0m0 5h0m0 2h0m0 3h0m0 16h0m0 6h0m1-29h0m0 1h0m0 2h0m0 4h0m0 1h0m0 11h0m0 5h0m0 3h0m1-25h0m0 3h0m0 12h0m0 3h0m0 7h0m0 7h0m1-34h0m0 1h0m0 1h0m0 4h0m0 6h0m0 5h0m0 2h0m0 1h0m0 3h0m0 2h0m0 4h0m1-27h0m0 1h0m0 11h0m0 5h0m0 4h0m0 3h0m0 3h0m1-30h0m0 2h0m0 3h0m0 2h0m0 1h0m0 1h0m0 24h0m1-32h0m0 9h0m0 2h0m0 1h0m0 4h0m0 1h0m0 1h0m0 1h0m0 3h0m1-22h0m0 5h0m0 3h0m0 2h0m0 1h0m0 11h0m0 5h0m0 4h0m1-26h0m0 3h0m0 3h0m0 2h0m0 3h0m0 2h0m0 2h0m0 7h0m0 2h0m1-31h0m0 3h0m0 1h0m0 4h0m0 6h0m0 4h0m0 5h0m0 4h0m0 2h0m0 1h0m1-28h0m0 1h0m0 2h0m0 1h0m0 5h0m0 2h0m0 9h0m0 5h0m0 1h0m0 4h0m0 1h0m1-23h0m0 2h0m0 1h0m0 4h0m0 1h0m0 1h0m0 2h0m0 1h0m0 10h0m0 5h0m1-37h0m0 3h0m0 8h0m0 3h0m0 4h0m0 11h0m1-32h0m0 9h0m0 11h0m0 1h0m0 1h0m0 2h0m0 4h0m0 8h0m1-23h0m0 7h0m0 1h0m0 1h0m0 3h0m0 3h0m0 3h0m0 1h0m1-26h0m0 3h0m0 1h0m0 4h0m0 5h0m0 3h0m0 2h0m0 1h0m0 1h0m0 6h0m1-21h0m0 1h0m0 3h0m0 9h0m0 1h0m0 1h0m0 1h0m0 4h0m0 1h0m1-28h0m0 3h0m0 5h0m0 1h0m0 6h0m0 4h0m0 1h0m0 1h0m0 1h0m0 1h0m1-27h0m0 3h0m0 2h0m0 6h0m0 2h0m0 1h0m0 4h0m0 3h0m0 2h0m0 1h0m0 2h0m0 3h0m0 2h0m1-17h0m0 3h0m0 8h0m1-20h0m0 3h0m0 9h0m0 2h0m0 2h0m0 1h0m0 3h0m0 2h0m0 2h0m0 2h0m0 1h0m0 1h0m1-27h0m0 2h0m0 3h0m0 6h0m0 2h0m0 1h0m0 3h0m0 11h0m1-28h0m0 2h0m0 5h0m0 1h0m0 6h0m0 1h0m0 2h0m0 7h0m0 2h0m0 3h0m1-36h0m0 5h0m0 8h0m0 1h0m0 1h0m0 2h0m0 10h0m1-16h0m0 5h0m0 2h0m0 11h0m1-28h0m0 7h0m0 10h0m0 9h0m0 5h0m1-21h0m0 10h0m0 4h0m0 6h0m0 2h0m1-23h0m0 1h0m0 1h0m0 7h0m0 5h0m0 2h0m0 15h0m1-33h0m0 14h0m0 9h0m0 5h0m1-26h0m0 5h0m0 3h0m0 2h0m0 1h0m0 13h0m1-31h0m0 1h0m0 2h0m0 5h0m0 21h0m1-28h0m0 6h0m0 4h0m0 1h0m0 1h0m0 5h0m0 1h0m0 5h0m1-22h0m0 4h0m0 2h0m0 6h0m0 2h0m0 1h0m0 1h0m1-12h0m0 3h0m0 7h0m0 1h0m0 7h0m0 9h0m0 3h0m1-37h0m0 8h0m0 5h0m0 4h0m0 16h0m0 3h0m1-34h0m0 6h0m0 1h0m0 4h0m0 2h0m0 1h0m0 9h0m0 11h0m1-33h0m0 2h0m0 1h0m0 1h0m0 1h0m0 8h0m0 8h0m0 12h0m1-36h0m0 5h0m0 2h0m0 8h0m0 1h0m0 2h0m0 9h0m0 4h0m0 1h0m0 1h0m0 4h0m1-33h0m0 3h0m0 4h0m0 6h0m0 4h0m0 1h0m0 11h0m1-34h0m0 3h0m0 7h0m0 2h0m0 2h0m0 1h0m0 7h0m0 7h0m1-31h0m0 6h0m0 3h0m0 1h0m0 8h0m0 1h0m0 2h0m0 2h0m0 3h0m0 1h0m0 9h0m1-38h0m0 4h0m0 2h0m0 2h0m0 5h0m0 1h0m0 6h0m0 1h0m0 1h0m0 2h0m0 7h0m0 6h0m0 1h0m1-25h0m0 9h0m0 4h0m0 1h0m0 4h0m0 4h0m0 4h0m1-35h0m0 2h0m0 1h0m0 9h0m0 1h0m0 3h0m0 2h0m0 10h0m1-28h0m0 5h0m0 2h0m0 5h0m0 4h0m0 2h0m0 1h0m0 11h0m1-30h0m0 2h0m0 3h0m0 2h0m0 9h0m0 2h0m0 2h0m0 2h0m0 4h0m0 4h0m1-28h0m0 11h0m0 3h0m0 4h0m0 1h0m0 1h0m0 1h0m0 9h0m1-29h0m0 1h0m0 9h0m0 1h0m0 1h0m0 3h0m0 5h0m0 6h0m1-26h0m0 8h0m0 6h0m0 1h0m0 2h0m0 2h0m0 4h0m1-22h0m0 2h0m0 9h0m0 3h0m0 4h0m0 3h0m0 3h0m0 1h0m0 4h0m1-27h0m0 6h0m0 5h0m0 1h0m0 1h0m0 1h0m0 1h0m0 2h0m1-20h0m0 1h0m0 1h0m0 4h0m0 3h0m0 1h0m0 3h0m0 4h0m0 2h0m0 3h0m0 1h0m0 1h0m1-24h0m0 13h0m0 2h0m0 5h0m0 3h0m0 7h0m1-32h0m0 2h0m0 3h0m0 2h0m0 1h0m0 6h0m0 1h0m0 1h0m0 2h0m0 12h0m0 1h0m1-26h0m0 2h0m0 8h0m0 1h0m0 1h0m0 3h0m0 4h0m0 1h0m1-22h0m0 10h0m0 2h0m0 8h0m0 2h0m1-24h0m0 3h0m0 10h0m0 2h0m0 8h0m0 1h0m0 5h0m1-32h0m0 16h0m0 1h0m0 6h0m0 1h0m0 7h0m1-29h0m0 2h0m0 4h0m0 2h0m0 2h0m0 6h0m0 10h0m0 3h0m1-25h0m0 10h0m0 1h0m0 2h0m0 1h0m0 2h0m0 1h0m0 1h0m0 3h0m0 3h0m0 2h0m1-31h0m0 14h0m0 1h0m0 2h0m0 1h0m0 3h0m0 1h0m0 3h0m0 7h0m1-27h0m0 2h0m0 2h0m0 1h0m0 4h0m0 1h0m0 2h0m0 1h0m0 1h0m0 12h0m1-28h0m0 1h0m0 2h0m0 8h0m0 8h0m0 3h0m0 1h0m1-29h0m0 6h0m0 5h0m0 1h0m0 4h0m0 3h0m0 2h0m0 5h0m0 1h0m0 1h0m1-26h0m0 4h0m0 11h0m0 2h0m0 2h0m1-14h0m0 9h0m0 3h0m0 1h0m0 2h0m0 1h0m0 4h0m0 3h0m1-21h0m0 2h0m0 2h0m0 4h0m0 6h0m0 1h0m0 1h0m0 1h0m0 3h0m1-26h0m0 8h0m0 4h0m0 2h0m0 1h0m0 5h0m0 7h0m1-16h0m0 4h0m0 2h0m0 1h0m0 3h0m0 4h0m0 1h0m1-30h0m0 6h0m0 1h0m0 1h0m0 2h0m0 6h0m0 7h0m0 3h0m0 4h0m1-27h0m0 4h0m0 1h0m0 8h0m0 1h0m0 2h0m0 7h0m1-21h0m0 2h0m0 11h0m0 10h0m1-21h0m0 9h0m0 4h0m0 6h0m1-20h0m0 1h0m0 1h0m0 8h0m0 3h0m0 8h0m0 1h0m0 1h0m1-24h0m0 2h0m0 2h0m0 9h0m0 1h0m0 4h0m0 1h0m0 5h0m0 5h0m0 1h0m1-29h0m0 1h0m0 2h0m0 8h0m0 4h0m0 3h0m0 3h0m1-25h0m0 8h0m0 5h0m0 3h0m0 2h0m0 11h0m1-28h0m0 10h0m0 2h0m0 2h0m0 1h0m0 9h0m0 2h0m1-23h0m0 1h0m0 6h0m0 6h0m0 8h0m0 1h0m0 4h0m0 4h0m1-29h0m0 1h0m0 8h0m0 2h0m0 1h0m0 1h0m0 7h0m1-20h0m0 1h0m0 2h0m0 2h0m0 7h0m0 1h0m0 5h0m0 1h0m1-20h0m0 1h0m0 4h0m0 1h0m0 4h0m0 2h0m1-12h0m0 1h0m0 3h0m0 8h0m0 1h0m1-14h0m0 8h0m0 6h0m0 4h0m1-14h0m0 2h0m0 8h0m0 5h0m0 3h0m0 71h0m1-99h0m0 6h0m0 3h0m0 7h0m0 1h0m0 2h0m0 6h0m0 2h0m1-28h0m0 8h0m0 6h0m0 2h0m0 3h0m0 5h0m1-12h0m0 5h0m0 3h0m0 1h0m0 13h0m1-20h0m0 5h0m0 1h0m0 6h0m1-30h0m0 4h0m0 1h0m0 2h0m0 2h0m0 23h0m1-31h0m0 17h0m0 1h0m0 6h0m0 1h0m0 11h0m1-29h0m0 7h0m0 11h0m0 11h0m1-35h0m0 8h0m0 13h0m1-23h0m0 2h0m0 3h0m0 12h0m0 8h0m0 2h0m0 3h0m0 2h0m1-36h0m0 22h0m1-27h0m0 14h0m0 20h0m0 2h0m1-22h0m0 1h0m0 25h0m1-36h0m0 13h0m0 2h0m0 14h0m0 6h0m1-23h0m0 3h0m0 7h0m0 12h0m0 1h0m1-31h0m0 1h0m0 1h0m0 5h0m0 1h0m0 7h0m1-17h0m0 8h0m0 1h0m0 2h0m0 24h0m1-41h0m0 15h0m0 2h0m0 4h0m0 6h0m1-17h0m0 7h0m0 7h0m0 6h0m0 11h0m1-41h0m0 16h0m0 15h0m0 8h0m0 2h0m1-30h0m0 1h0m0 1h0m0 14h0m0 8h0m1-23h0m0 23h0m0 5h0m1-47h0m0 6h0m1 3h0m0 22h0m0 6h0m0 3h0m1-39h0m0 1h0m0 5h0m0 28h0m1-26h0m0 5h0m1-5h0m0 1h0m0 10h0m0 4h0m0 9h0m0 4h0m1-29h0m1-5h0m0 1h0m0 11h0m0 2h0m0 2h0m0 14h0m1-26h0m0 4h0m0 3h0m0 1h0m1 6h0m0 9h0m0 8h0m2-45h0m0 11h0m0 14h0m0 15h0m0 6h0m1-37h0m0 10h0m1-17h0m0 9h0m0 17h0m1-11h0m0 1h0m0 18h0m1-27h0m0 5h0m0 6h0m1 16h0m1-2h0m1-36h0m0 21h0m0 10h0m0 12h0m1-39h0m0 18h0m0 1h0m0 2h0m0 9h0m0 19h0m1-48h0m0 21h0m1 8h0m1-34h0m0 17h0m0 3h0m0 11h0m1-16h0m0 11h0m0 13h0m0 2h0m0 7h0m1-34h0m0 14h0m0 2h0m1-16h0m0 6h0m0 5h0m0 4h0m1-9h0m0 19h0m1-34h0m0 4h0m0 6h0m0 1h0m0 7h0m0 28h0m1-32h0m0 1h0m0 26h0m1-48h0m0 9h0m0 9h0m0 11h0m0 19h0m1-35h0m0 11h0m0 8h0m0 3h0m1-24h0m0 13h0m0 4h0m0 3h0m0 15h0m1-21h0m0 1h0m0 8h0m0 12h0m0 5h0m1-41h0m0 22h0m1-19h0m0 2h0m0 12h0m1-15h0m0 9h0m0 7h0m0 16h0m1-27h0m0 13h0m0 1h0m0 2h0m0 20h0m1-45h0m0 23h0m1-18h0m0 9h0m0 9h0m0 11h0m0 1h0m0 9h0m1-16h0m1-10h0m0 9h0m1-30h0m0 21h0m1-28h0m0 15h0m0 13h0m0 3h0m0 2h0m0 1h0m1-13h0m0 9h0m0 17h0m1-33h0m0 10h0m0 1h0m0 5h0m0 3h0m0 1h0m0 3h0m0 5h0m1-32h0m0 6h0m0 10h0m0 1h0m1-3h0m0 25h0m1-16h0m0 5h0m1-13h0m0 11h0m0 8h0m0 9h0m2-10h0m0 1h0m0 8h0m1-19h0m0 21h0m1-28h0m3-3h0m0 10h0m0 1h0m1 6h0m1-7h0m1-12h0m1-5h0m1 23h0" stroke="#ee9a00"/>
<path d="M456 993h0m1-44h0m0 16h0m0 19h0m0 2h0m2-23h0m2 9h0m2-30h0m0 4h0m0 24h0m1-28h0m0 19h0m0 7h0m0 29h0m1-66h0m1 15h0m0 20h0m0 16h0m1 8h0m1-55h0m0 13h0m0 1h0m0 4h0m0 16h0m1-47h0m0 20h0m0 7h0m0 2h0m0 16h0m0 20h0m0 11h0m1-72h0m0 13h0m0 21h0m1-19h0m0 21h0m1 22h0m1-51h0m0 12h0m0 23h0m0 22h0m1-1h0m0 2h0m1-37h0m0 20h0m1-49h0m0 12h0m0 28h0m0 5h0m0 8h0m1-41h0m0 1h0m0 15h0m0 13h0m0 15h0m1-56h0m0 67h0m1-61h0m0 13h0m0 29h0m0 46h0m1-80h0m0 6h0m0 28h0m0 1h0m1-39h0m0 5h0m0 8h0m0 21h0m0 9h0m0 27h0m1-55h0m0 23h0m1-46h0m0 4h0m0 28h0m0 29h0m1-54h0m0 5h0m0 2h0m0 9h0m0 16h0m0 24h0m1-55h0m0 24h0m1-30h0m1-9h0m1 15h0m0 8h0m0 28h0m0 24h0m1-49h0m0 3h0m0 2h0m0 22h0m2-42h0m0 50h0m1-30h0m0 2h0m0 7h0m0 9h0m0 32h0m1-61h0m0 20h0m0 2h0m0 10h0m1-73h0m0 37h0m0 29h0m0 4h0m1-31h0m0 7h0m0 4h0m1-16h0m0 5h0m0 29h0m0 7h0m0 20h0m1-54h0m0 8h0m0 14h0m1-38h0m0 16h0m0 6h0m0 5h0m0 1h0m0 8h0m0 5h0m1-31h0m0 22h0m0 6h0m0 14h0m1-50h0m0 5h0m0 15h0m0 6h0m0 16h0m0 15h0m0 12h0m1-187h0m0 133h0m1 4h0m0 3h0m0 25h0m0 6h0m1-38h0m0 13h0m1 3h0m0 11h0m1-32h0m0 2h0m0 20h0m0 26h0m0 20h0m1-84h0m0 7h0m0 6h0m0 27h0m0 35h0m1-69h0m0 25h0m0 11h0m1-32h0m0 16h0m0 2h0m0 2h0m0 15h0m1-53h0m0 19h0m1 23h0m0 2h0m0 7h0m0 7h0m0 16h0m1-74h0m1 34h0m0 3h0m0 14h0m0 3h0m0 2h0m0 2h0m0 46h0m1-96h0m0 67h0m1-20h0m0 3h0m1-34h0m0 10h0m0 8h0m1-39h0m0 9h0m0 12h0m0 3h0m0 12h0m1-40h0m0 26h0m0 14h0m0 24h0m0 4h0m1-36h0m0 10h0m0 20h0m0 3h0m0 2h0m1-57h0m0 8h0m0 9h0m0 19h0m0 1h0m0 13h0m0 8h0m1-82h0m0 46h0m0 30h0m1-48h0m0 3h0m0 24h0m0 3h0m0 34h0m1-35h0m0 22h0m1-47h0m0 17h0m0 7h0m0 3h0m0 1h0m0 3h0m1 0h0m1-51h0m0 11h0m0 15h0m0 10h0m0 1h0m0 14h0m1-35h0m0 23h0m1-17h0m0 34h0m0 25h0m1-64h0m0 4h0m0 8h0m0 1h0m1-20h0m0 30h0m0 13h0m0 7h0m1-55h0m0 24h0m0 32h0m1-35h0m0 15h0m1-23h0m0 4h0m0 5h0m0 18h0m0 7h0m1-45h0m0 5h0m0 7h0m0 3h0m0 1h0m0 2h0m0 16h0m0 20h0m0 23h0m0 28h0m1-81h0m0 5h0m0 12h0m0 19h0m1-41h0m0 22h0m1-22h0m0 1h0m0 2h0m0 2h0m0 44h0m1-74h0m0 18h0m0 10h0m0 11h0m1-253h0m0 222h0m0 21h0m0 3h0m0 5h0m0 5h0m0 1h0m0 3h0m0 23h0m1-83h0m0 18h0m0 12h0m0 9h0m0 5h0m0 2h0m0 4h0m0 4h0m0 21h0m1-40h0m0 1h0m0 7h0m0 6h0m0 4h0m0 19h0m0 14h0m1-48h0m0 3h0m0 3h0m0 1h0m0 2h0m0 3h0m0 8h0m0 9h0m0 4h0m0 2h0m1-57h0m0 20h0m0 7h0m0 4h0m0 3h0m0 5h0m0 2h0m0 32h0m1-65h0m0 28h0m0 7h0m0 24h0m1-62h0m0 12h0m0 4h0m0 8h0m0 2h0m1-36h0m0 23h0m0 3h0m0 1h0m0 17h0m0 8h0m0 17h0m1-43h0m0 12h0m0 1h0m0 4h0m0 14h0m1-39h0m0 9h0m0 11h0m0 1h0m1-29h0m0 1h0m0 4h0m0 15h0m0 3h0m0 1h0m0 27h0m1-50h0m0 15h0m0 12h0m0 6h0m1-41h0m0 3h0m0 17h0m0 4h0m0 1h0m0 10h0m0 13h0m1-33h0m0 6h0m0 5h0m0 4h0m0 7h0m0 3h0m0 14h0m1-49h0m0 16h0m0 2h0m0 10h0m0 16h0m1-67h0m0 40h0m0 1h0m0 6h0m0 10h0m0 3h0m0 1h0m0 49h0m1-88h0m0 7h0m0 6h0m0 6h0m0 2h0m0 1h0m0 1h0m0 2h0m0 4h0m0 14h0m1-25h0m0 2h0m0 1h0m0 4h0m0 7h0m0 3h0m0 9h0m0 18h0m1-104h0m0 44h0m0 8h0m0 15h0m0 18h0m0 7h0m0 6h0m1-71h0m0 22h0m0 6h0m0 1h0m0 5h0m0 2h0m0 2h0m0 2h0m0 3h0m0 7h0m0 1h0m1-59h0m0 29h0m0 5h0m0 3h0m0 3h0m0 1h0m0 2h0m0 6h0m0 9h0m0 1h0m0 3h0m0 4h0m0 19h0m1-60h0m0 5h0m0 4h0m0 5h0m0 1h0m0 10h0m0 2h0m0 1h0m0 1h0m0 6h0m0 2h0m0 3h0m0 4h0m0 17h0m1-59h0m0 11h0m0 3h0m0 1h0m0 4h0m0 2h0m0 13h0m0 9h0m1-98h0m0 54h0m0 7h0m0 8h0m0 2h0m0 3h0m0 4h0m0 4h0m0 2h0m0 9h0m0 1h0m0 18h0m1-51h0m0 1h0m0 1h0m0 1h0m0 2h0m0 2h0m0 1h0m0 1h0m0 8h0m0 6h0m0 1h0m0 1h0m0 4h0m0 51h0m1-132h0m0 46h0m0 7h0m0 1h0m0 3h0m0 6h0m0 3h0m0 3h0m0 2h0m0 1h0m0 4h0m0 3h0m1-30h0m0 5h0m0 1h0m0 9h0m0 2h0m0 7h0m0 1h0m0 9h0m0 7h0m1-54h0m0 7h0m0 9h0m0 1h0m0 2h0m0 2h0m0 4h0m0 2h0m0 4h0m0 4h0m0 10h0m0 2h0m1-42h0m0 3h0m0 7h0m0 1h0m0 2h0m0 4h0m0 6h0m0 2h0m0 3h0m0 3h0m0 1h0m0 2h0m0 5h0m0 3h0m0 1h0m0 2h0m1-45h0m0 10h0m0 4h0m0 2h0m0 1h0m0 4h0m0 1h0m0 8h0m0 4h0m0 8h0m0 3h0m1-45h0m0 10h0m0 4h0m0 1h0m0 3h0m0 1h0m0 5h0m0 2h0m0 1h0m0 2h0m0 6h0m0 6h0m0 2h0m1-41h0m0 3h0m0 6h0m0 2h0m0 6h0m0 3h0m0 1h0m0 2h0m0 1h0m0 2h0m0 2h0m0 1h0m0 1h0m0 4h0m0 8h0m1-34h0m0 15h0m0 2h0m0 1h0m0 4h0m0 12h0m0 2h0m1-49h0m0 7h0m0 5h0m0 15h0m0 2h0m0 4h0m0 1h0m0 2h0m0 1h0m0 3h0m1-36h0m0 7h0m0 2h0m0 6h0m0 3h0m0 9h0m0 2h0m0 1h0m0 2h0m0 15h0m1-40h0m0 3h0m0 2h0m0 3h0m0 4h0m0 1h0m0 2h0m0 1h0m0 1h0m0 2h0m0 2h0m0 2h0m0 11h0m1-38h0m0 10h0m0 6h0m0 2h0m0 1h0m0 1h0m0 4h0m0 2h0m0 1h0m0 12h0m1-39h0m0 4h0m0 3h0m0 2h0m0 1h0m0 1h0m0 3h0m0 2h0m0 1h0m0 1h0m0 1h0m0 1h0m0 3h0m0 1h0m0 3h0m0 3h0m0 1h0m0 2h0m0 1h0m0 4h0m0 5h0m0 8h0m0 10h0m1-92h0m0 28h0m0 3h0m0 2h0m0 1h0m0 1h0m0 8h0m0 3h0m0 2h0m0 8h0m0 2h0m0 3h0m0 3h0m0 2h0m1-39h0m0 2h0m0 3h0m0 7h0m0 1h0m0 3h0m0 3h0m0 1h0m0 1h0m0 1h0m0 3h0m0 1h0m0 6h0m0 5h0m1-30h0m0 8h0m0 6h0m0 2h0m0 1h0m0 1h0m0 4h0m0 2h0m0 2h0m0 4h0m0 2h0m0 2h0m0 1h0m0 32h0m1-79h0m0 5h0m0 4h0m0 3h0m0 1h0m0 1h0m0 2h0m0 8h0m0 1h0m0 1h0m0 3h0m0 2h0m0 2h0m0 1h0m0 4h0m0 1h0m0 6h0m1-29h0m0 2h0m0 6h0m0 4h0m0 3h0m0 7h0m1-53h0m0 2h0m0 26h0m0 1h0m0 3h0m0 1h0m0 3h0m0 2h0m0 1h0m0 2h0m0 2h0m0 1h0m0 2h0m0 2h0m0 1h0m0 2h0m0 5h0m0 1h0m0 55h0m1-85h0m0 3h0m0 1h0m0 1h0m0 3h0m0 3h0m0 1h0m0 1h0m0 1h0m0 3h0m0 1h0m0 3h0m0 10h0m0 4h0m0 6h0m1-48h0m0 6h0m0 1h0m0 4h0m0 3h0m0 1h0m0 1h0m0 2h0m0 1h0m0 2h0m0 5h0m0 1h0m0 2h0m0 1h0m0 1h0m0 2h0m0 1h0m0 1h0m0 4h0m0 6h0m1-50h0m0 6h0m0 4h0m0 4h0m0 3h0m0 6h0m0 4h0m0 1h0m0 1h0m0 1h0m0 5h0m0 2h0m0 3h0m0 2h0m0 1h0m0 1h0m0 4h0m1-43h0m0 4h0m0 2h0m0 4h0m0 4h0m0 5h0m0 6h0m0 2h0m0 5h0m0 2h0m0 2h0m0 3h0m0 1h0m0 65h0m1-108h0m0 16h0m0 1h0m0 1h0m0 1h0m0 3h0m0 1h0m0 1h0m0 1h0m0 5h0m0 1h0m0 2h0m0 2h0m0 8h0m1-48h0m0 10h0m0 2h0m0 1h0m0 6h0m0 1h0m0 1h0m0 3h0m0 2h0m0 1h0m0 1h0m0 1h0m0 1h0m0 1h0m0 5h0m0 3h0m0 2h0m0 2h0m0 2h0m0 7h0m1-56h0m0 5h0m0 1h0m0 11h0m0 1h0m0 4h0m0 1h0m0 2h0m0 1h0m0 1h0m0 2h0m0 2h0m0 5h0m0 1h0m0 1h0m0 1h0m0 3h0m0 3h0m0 15h0m0 35h0m1-126h0m0 43h0m0 3h0m0 3h0m0 2h0m0 4h0m0 6h0m0 1h0m0 2h0m0 2h0m0 2h0m0 3h0m0 1h0m0 1h0m0 2h0m0 2h0m0 2h0m0 19h0m0 4h0m1-93h0m0 42h0m0 2h0m0 3h0m0 1h0m0 1h0m0 1h0m0 5h0m0 1h0m0 2h0m0 3h0m0 1h0m0 1h0m0 2h0m0 4h0m1-110h0m0 79h0m0 2h0m0 1h0m0 2h0m0 1h0m0 2h0m0 1h0m0 1h0m0 1h0m0 1h0m0 1h0m0 1h0m0 2h0m0 1h0m0 3h0m0 1h0m0 1h0m0 2h0m0 2h0m0 1h0m0 5h0m0 3h0m0 11h0m1-74h0m0 14h0m0 13h0m0 1h0m0 2h0m0 3h0m0 1h0m0 1h0m0 2h0m0 1h0m0 1h0m0 1h0m0 1h0m0 1h0m0 2h0m0 7h0m0 1h0m0 5h0m0 1h0m0 1h0m0 45h0m1-77h0m0 8h0m0 1h0m0 2h0m0 1h0m0 3h0m0 9h0m0 3h0m0 2h0m0 17h0m0 8h0m1-85h0m0 21h0m0 3h0m0 5h0m0 1h0m0 6h0m0 2h0m0 2h0m0 1h0m0 1h0m0 3h0m0 1h0m0 1h0m0 2h0m0 1h0m0 2h0m0 2h0m0 2h0m0 1h0m0 4h0m0 2h0m0 1h0m0 3h0m1-45h0m0 2h0m0 11h0m0 4h0m0 3h0m0 1h0m0 1h0m0 1h0m0 1h0m0 1h0m0 3h0m0 1h0m0 1h0m0 2h0m0 1h0m0 6h0m0 2h0m0 1h0m0 7h0m1-63h0m0 11h0m0 12h0m0 2h0m0 1h0m0 2h0m0 1h0m0 1h0m0 6h0m0 1h0m0 1h0m0 2h0m0 1h0m0 3h0m0 2h0m0 2h0m0 1h0m0 14h0m1-73h0m0 35h0m0 6h0m0 5h0m0 1h0m0 2h0m0 1h0m0 3h0m0 4h0m0 1h0m0 1h0m0 2h0m0 4h0m0 3h0m0 4h0m1-42h0m0 7h0m0 1h0m0 1h0m0 1h0m0 1h0m0 1h0m0 1h0m0 2h0m0 1h0m0 2h0m0 1h0m0 1h0m0 2h0m0 1h0m0 1h0m0 1h0m0 1h0m0 2h0m0 2h0m0 2h0m0 2h0m0 4h0m0 58h0m1-100h0m0 11h0m0 1h0m0 2h0m0 3h0m0 2h0m0 1h0m0 1h0m0 3h0m0 4h0m0 3h0m0 2h0m0 2h0m0 4h0m0 3h0m0 7h0m1-91h0m0 44h0m0 2h0m0 2h0m0 5h0m0 3h0m0 4h0m0 7h0m0 1h0m0 1h0m0 1h0m0 2h0m0 1h0m0 4h0m0 2h0m0 1h0m0 3h0m0 1h0m0 3h0m1-44h0m0 6h0m0 3h0m0 4h0m0 5h0m0 2h0m0 2h0m0 3h0m0 1h0m0 2h0m0 1h0m0 1h0m0 4h0m0 4h0m0 7h0m0 49h0m1-173h0m0 73h0m0 8h0m0 5h0m0 1h0m0 1h0m0 2h0m0 2h0m0 1h0m0 2h0m0 1h0m0 3h0m0 1h0m0 1h0m0 1h0m0 1h0m0 1h0m0 1h0m0 3h0m0 1h0m0 2h0m0 1h0m0 3h0m0 4h0m0 5h0m0 1h0m1-49h0m0 8h0m0 1h0m0 3h0m0 4h0m0 3h0m0 1h0m0 2h0m0 4h0m0 2h0m0 1h0m0 3h0m0 1h0m0 1h0m0 1h0m0 1h0m0 2h0m0 1h0m0 3h0m1-36h0m0 4h0m0 5h0m0 1h0m0 1h0m0 1h0m0 4h0m0 1h0m0 1h0m0 1h0m0 2h0m0 2h0m0 3h0m0 2h0m0 1h0m0 1h0m0 3h0m0 7h0m0 1h0m0 2h0m1-56h0m0 14h0m0 4h0m0 3h0m0 1h0m0 1h0m0 1h0m0 3h0m0 2h0m0 1h0m0 1h0m0 2h0m0 1h0m0 1h0m0 3h0m0 1h0m0 2h0m0 2h0m0 4h0m0 1h0m0 1h0m0 2h0m0 2h0m1-45h0m0 11h0m0 2h0m0 4h0m0 1h0m0 2h0m0 1h0m0 3h0m0 1h0m0 3h0m0 1h0m0 1h0m0 2h0m0 2h0m0 1h0m0 4h0m0 3h0m1-43h0m0 8h0m0 1h0m0 2h0m0 6h0m0 3h0m0 1h0m0 1h0m0 1h0m0 2h0m0 1h0m0 1h0m0 2h0m0 1h0m0 1h0m0 6h0m0 5h0m0 4h0m0 13h0m1-55h0m0 4h0m0 3h0m0 1h0m0 1h0m0 2h0m0 1h0m0 1h0m0 1h0m0 3h0m0 2h0m0 1h0m0 1h0m0 2h0m0 1h0m0 2h0m0 2h0m0 1h0m0 2h0m0 4h0m0 2h0m0 3h0m0 1h0m1-47h0m0 4h0m0 1h0m0 6h0m0 2h0m0 8h0m0 2h0m0 2h0m0 1h0m0 1h0m0 1h0m0 1h0m0 1h0m0 3h0m0 2h0m0 1h0m0 1h0m0 2h0m0 1h0m0 6h0m0 43h0m1-84h0m0 3h0m0 3h0m0 1h0m0 2h0m0 1h0m0 2h0m0 1h0m0 2h0m0 1h0m0 1h0m0 1h0m0 1h0m0 2h0m0 1h0m0 1h0m0 1h0m0 1h0m0 1h0m0 2h0m0 2h0m0 3h0m0 5h0m1-64h0m0 22h0m0 3h0m0 2h0m0 5h0m0 1h0m0 3h0m0 1h0m0 1h0m0 4h0m0 2h0m0 2h0m0 1h0m0 4h0m0 3h0m0 1h0m0 1h0m0 1h0m0 2h0m0 2h0m0 2h0m0 1h0m0 6h0m0 6h0m1-113h0m0 57h0m0 13h0m0 4h0m0 6h0m0 2h0m0 2h0m0 2h0m0 1h0m0 1h0m0 2h0m0 1h0m0 1h0m0 1h0m0 1h0m0 4h0m0 2h0m0 6h0m0 5h0m1-45h0m0 2h0m0 3h0m0 6h0m0 2h0m0 1h0m0 1h0m0 1h0m0 3h0m0 1h0m0 1h0m0 1h0m0 3h0m0 1h0m0 1h0m0 2h0m0 1h0m0 7h0m0 1h0m0 3h0m0 5h0m0 3h0m1-58h0m0 11h0m0 3h0m0 1h0m0 2h0m0 3h0m0 3h0m0 2h0m0 1h0m0 1h0m0 3h0m0 1h0m0 1h0m0 1h0m0 1h0m0 1h0m0 1h0m0 1h0m0 1h0m0 2h0m0 2h0m0 2h0m0 5h0m0 3h0m1-55h0m0 15h0m0 2h0m0 1h0m0 6h0m0 1h0m0 1h0m0 1h0m0 2h0m0 1h0m0 1h0m0 4h0m0 1h0m0 1h0m0 2h0m0 1h0m0 1h0m0 1h0m0 2h0m0 5h0m0 1h0m0 37h0m1-112h0m0 27h0m0 5h0m0 8h0m0 1h0m0 1h0m0 1h0m0 1h0m0 3h0m0 1h0m0 1h0m0 1h0m0 1h0m0 1h0m0 2h0m0 1h0m0 1h0m0 1h0m0 1h0m0 1h0m0 4h0m0 2h0m0 1h0m0 1h0m0 3h0m0 2h0m0 6h0m1-76h0m0 22h0m0 1h0m0 1h0m0 7h0m0 5h0m0 5h0m0 1h0m0 4h0m0 1h0m0 1h0m0 1h0m0 1h0m0 1h0m0 1h0m0 2h0m0 1h0m0 2h0m0 1h0m0 1h0m0 3h0m0 3h0m1-64h0m0 33h0m0 4h0m0 3h0m0 6h0m0 2h0m0 2h0m0 1h0m0 2h0m0 1h0m0 1h0m0 1h0m0 1h0m0 1h0m0 1h0m0 1h0m0 1h0m0 4h0m0 1h0m0 3h0m0 4h0m1-69h0m0 16h0m0 5h0m0 8h0m0 6h0m0 1h0m0 1h0m0 2h0m0 5h0m0 4h0m0 1h0m0 2h0m0 1h0m0 1h0m0 1h0m0 2h0m0 6h0m0 1h0m0 1h0m1-44h0m0 4h0m0 1h0m0 5h0m0 1h0m0 2h0m0 1h0m0 1h0m0 2h0m0 2h0m0 3h0m0 1h0m0 1h0m0 1h0m0 2h0m0 2h0m0 1h0m0 1h0m0 2h0m0 4h0m0 4h0m0 1h0m0 2h0m0 3h0m0 1h0m0 9h0m1-166h0m0 12h0m0 96h0m0 1h0m0 9h0m0 6h0m0 5h0m0 1h0m0 1h0m0 1h0m0 1h0m0 1h0m0 1h0m0 2h0m0 2h0m0 4h0m0 1h0m0 1h0m0 1h0m0 1h0m0 3h0m0 2h0m0 3h0m0 3h0m1-128h0m0 45h0m0 1h0m0 35h0m0 1h0m0 2h0m0 2h0m0 3h0m0 2h0m0 1h0m0 1h0m0 1h0m0 5h0m0 1h0m0 1h0m0 2h0m0 1h0m0 1h0m0 1h0m0 2h0m0 3h0m0 1h0m0 1h0m0 1h0m0 2h0m0 2h0m0 5h0m0 2h0m0 2h0m0 3h0m0 58h0m1-103h0m0 6h0m0 1h0m0 1h0m0 1h0m0 4h0m0 4h0m0 3h0m0 1h0m0 1h0m0 3h0m0 1h0m0 1h0m0 1h0m0 1h0m0 1h0m0 1h0m0 1h0m0 1h0m0 57h0m1-96h0m0 9h0m0 6h0m0 4h0m0 1h0m0 3h0m0 1h0m0 2h0m0 1h0m0 5h0m0 2h0m0 3h0m0 1h0m0 1h0m0 3h0m0 7h0m0 4h0m1-58h0m0 8h0m0 9h0m0 1h0m0 5h0m0 1h0m0 1h0m0 2h0m0 1h0m0 1h0m0 3h0m0 2h0m0 1h0m0 2h0m0 2h0m0 3h0m0 1h0m0 3h0m0 8h0m1-42h0m0 7h0m0 2h0m0 3h0m0 4h0m0 1h0m0 1h0m0 1h0m0 1h0m0 1h0m0 2h0m0 1h0m0 2h0m0 2h0m0 2h0m0 3h0m0 2h0m0 4h0m0 1h0m1-101h0m0 7h0m0 43h0m0 3h0m0 7h0m0 1h0m0 5h0m0 2h0m0 2h0m0 1h0m0 3h0m0 1h0m0 2h0m0 1h0m0 2h0m0 1h0m0 2h0m0 1h0m0 2h0m0 1h0m0 2h0m0 1h0m0 1h0m0 2h0m0 1h0m0 2h0m0 2h0m0 2h0m0 2h0m1-94h0m0 56h0m0 1h0m0 2h0m0 3h0m0 1h0m0 5h0m0 5h0m0 2h0m0 1h0m0 1h0m0 8h0m0 1h0m0 1h0m0 1h0m0 1h0m0 2h0m0 6h0m0 15h0m1-72h0m0 5h0m0 6h0m0 1h0m0 1h0m0 6h0m0 1h0m0 4h0m0 1h0m0 1h0m0 2h0m0 2h0m0 4h0m0 1h0m0 1h0m0 3h0m0 6h0m0 7h0m1-140h0m0 102h0m0 2h0m0 2h0m0 3h0m0 3h0m0 1h0m0 2h0m0 1h0m0 1h0m0 1h0m0 2h0m0 1h0m0 2h0m0 1h0m0 1h0m0 2h0m0 1h0m0 1h0m0 3h0m0 2h0m0 2h0m0 1h0m0 3h0m0 3h0m0 2h0m1-48h0m0 3h0m0 2h0m0 5h0m0 1h0m0 7h0m0 1h0m0 2h0m0 1h0m0 1h0m0 2h0m0 1h0m0 4h0m0 5h0m0 1h0m0 1h0m0 12h0m1-54h0m0 3h0m0 4h0m0 3h0m0 7h0m0 1h0m0 2h0m0 6h0m0 1h0m0 2h0m0 2h0m0 1h0m0 2h0m0 2h0m0 3h0m0 2h0m0 11h0m1-102h0m0 52h0m0 8h0m0 1h0m0 1h0m0 1h0m0 3h0m0 1h0m0 3h0m0 1h0m0 5h0m0 2h0m0 1h0m0 2h0m0 2h0m0 1h0m0 2h0m0 1h0m0 4h0m0 3h0m0 8h0m0 17h0m1-84h0m0 4h0m0 6h0m0 10h0m0 6h0m0 2h0m0 6h0m0 4h0m0 1h0m0 2h0m0 2h0m0 2h0m0 3h0m0 3h0m0 1h0m0 2h0m0 2h0m0 1h0m0 1h0m0 1h0m0 3h0m1-44h0m0 2h0m0 4h0m0 2h0m0 1h0m0 1h0m0 3h0m0 1h0m0 2h0m0 1h0m0 2h0m0 3h0m0 2h0m0 2h0m0 1h0m0 2h0m0 1h0m0 2h0m0 1h0m0 1h0m0 1h0m0 6h0m0 1h0m0 7h0m1-58h0m0 19h0m0 6h0m0 3h0m0 1h0m0 3h0m0 2h0m0 1h0m0 2h0m0 2h0m0 1h0m0 1h0m0 2h0m0 9h0m1-25h0m0 3h0m0 1h0m0 2h0m0 4h0m0 1h0m0 3h0m1-39h0m0 3h0m0 8h0m0 1h0m0 4h0m0 3h0m0 3h0m0 1h0m0 2h0m0 1h0m0 1h0m0 1h0m0 3h0m0 1h0m0 1h0m0 1h0m0 3h0m0 3h0m0 6h0m0 4h0m0 8h0m1-152h0m0 94h0m0 3h0m0 11h0m0 2h0m0 1h0m0 1h0m0 2h0m0 1h0m0 1h0m0 2h0m0 2h0m0 3h0m0 1h0m0 1h0m0 2h0m0 1h0m0 1h0m0 1h0m0 1h0m0 4h0m0 5h0m0 3h0m0 3h0m1-74h0m0 19h0m0 12h0m0 2h0m0 3h0m0 6h0m0 5h0m0 4h0m0 3h0m0 4h0m0 1h0m0 1h0m0 1h0m0 5h0m1-46h0m0 10h0m0 1h0m0 3h0m0 1h0m0 2h0m0 1h0m0 3h0m0 2h0m0 1h0m0 3h0m0 1h0m0 2h0m0 1h0m0 2h0m0 1h0m0 3h0m0 1h0m0 3h0m0 1h0m0 2h0m0 7h0m0 5h0m0 3h0m1-49h0m0 2h0m0 1h0m0 3h0m0 6h0m0 1h0m0 1h0m0 9h0m0 1h0m0 4h0m0 4h0m0 3h0m0 1h0m0 1h0m0 1h0m0 1h0m0 4h0m0 2h0m0 1h0m1-58h0m0 9h0m0 7h0m0 1h0m0 1h0m0 2h0m0 1h0m0 3h0m0 2h0m0 1h0m0 1h0m0 5h0m0 1h0m0 1h0m0 4h0m0 3h0m0 1h0m0 2h0m0 69h0m1-119h0m0 11h0m0 8h0m0 8h0m0 3h0m0 1h0m0 2h0m0 1h0m0 1h0m0 2h0m0 1h0m0 1h0m0 3h0m0 4h0m0 1h0m0 3h0m0 2h0m0 2h0m0 2h0m0 1h0m1-83h0m0 23h0m0 10h0m0 5h0m0 4h0m0 1h0m0 3h0m0 16h0m0 2h0m0 2h0m0 4h0m0 1h0m0 1h0m0 1h0m0 3h0m0 1h0m0 3h0m0 11h0m1-80h0m0 23h0m0 5h0m0 3h0m0 7h0m0 3h0m0 1h0m0 1h0m0 2h0m0 2h0m0 1h0m0 1h0m0 3h0m0 2h0m0 2h0m0 1h0m0 1h0m0 2h0m0 3h0m0 6h0m0 2h0m0 4h0m1-105h0m0 59h0m0 8h0m0 4h0m0 2h0m0 1h0m0 3h0m0 1h0m0 1h0m0 1h0m0 3h0m0 5h0m0 7h0m0 1h0m0 1h0m0 2h0m0 1h0m0 1h0m0 1h0m0 3h0m0 4h0m1-56h0m0 8h0m0 9h0m0 6h0m0 2h0m0 1h0m0 4h0m0 1h0m0 2h0m0 1h0m0 4h0m0 3h0m0 1h0m1-84h0m0 19h0m0 15h0m0 5h0m0 4h0m0 7h0m0 2h0m0 4h0m0 6h0m0 4h0m0 1h0m0 1h0m0 1h0m0 1h0m0 1h0m0 2h0m0 2h0m0 1h0m0 4h0m0 7h0m0 5h0m1-50h0m0 3h0m0 1h0m0 4h0m0 1h0m0 1h0m0 8h0m0 1h0m0 3h0m0 1h0m0 2h0m0 6h0m0 8h0m0 1h0m0 1h0m1-77h0m0 41h0m0 4h0m0 1h0m0 2h0m0 1h0m0 2h0m0 6h0m0 5h0m0 9h0m0 4h0m0 1h0m0 3h0m0 2h0m0 3h0m0 35h0m1-82h0m0 7h0m0 1h0m0 2h0m0 2h0m0 8h0m0 2h0m0 3h0m0 8h0m0 5h0m0 5h0m1-34h0m0 6h0m0 1h0m0 2h0m0 6h0m0 3h0m0 7h0m0 1h0m0 1h0m0 1h0m0 4h0m0 4h0m0 1h0m1-125h0m0 76h0m0 1h0m0 7h0m0 2h0m0 10h0m0 5h0m0 1h0m0 12h0m0 6h0m0 2h0m0 2h0m0 6h0m1-49h0m0 2h0m0 6h0m0 6h0m0 2h0m0 3h0m0 1h0m0 1h0m0 1h0m0 1h0m0 1h0m0 2h0m0 3h0m0 1h0m0 6h0m0 2h0m1-55h0m0 15h0m0 11h0m0 2h0m0 6h0m0 3h0m0 1h0m0 1h0m0 4h0m0 1h0m0 1h0m0 3h0m1-48h0m0 14h0m0 15h0m0 2h0m0 10h0m0 4h0m0 1h0m0 2h0m0 2h0m0 4h0m0 1h0m1-68h0m0 24h0m0 11h0m0 1h0m0 1h0m0 3h0m0 9h0m0 2h0m0 10h0m0 2h0m0 9h0m0 13h0m1-52h0m0 1h0m0 1h0m0 7h0m0 2h0m0 2h0m0 1h0m0 2h0m0 1h0m0 1h0m0 5h0m0 3h0m0 1h0m0 2h0m0 1h0m0 3h0m0 3h0m0 3h0m0 24h0m1-64h0m0 7h0m0 1h0m0 4h0m0 4h0m0 10h0m0 4h0m0 1h0m0 5h0m0 1h0m1-39h0m0 6h0m0 1h0m0 1h0m0 1h0m0 3h0m0 7h0m0 1h0m0 1h0m0 3h0m0 1h0m0 10h0m0 5h0m1-96h0m0 23h0m0 2h0m0 11h0m0 8h0m0 9h0m0 15h0m0 2h0m0 6h0m0 1h0m0 1h0m0 1h0m0 2h0m0 1h0m0 5h0m0 4h0m0 1h0m0 3h0m0 2h0m0 1h0m0 5h0m0 1h0m0 1h0m1-57h0m0 10h0m0 3h0m0 7h0m0 9h0m0 3h0m0 1h0m0 1h0m0 1h0m0 5h0m0 1h0m0 4h0m1-64h0m0 24h0m0 1h0m0 6h0m0 2h0m0 5h0m0 2h0m0 3h0m0 4h0m0 4h0m0 1h0m0 1h0m0 3h0m0 2h0m0 1h0m0 2h0m0 4h0m0 1h0m0 2h0m0 3h0m1-77h0m0 20h0m0 3h0m0 16h0m0 2h0m0 4h0m0 3h0m0 1h0m0 3h0m0 2h0m0 2h0m0 5h0m0 5h0m0 2h0m1-46h0m0 6h0m0 8h0m0 3h0m0 6h0m0 1h0m0 6h0m0 1h0m0 8h0m0 5h0m0 3h0m0 2h0m1-68h0m0 26h0m0 2h0m0 2h0m0 4h0m0 1h0m0 2h0m0 5h0m0 1h0m0 2h0m0 1h0m0 3h0m0 1h0m0 3h0m0 1h0m0 3h0m0 3h0m0 2h0m0 1h0m0 6h0m1-69h0m0 32h0m0 4h0m0 1h0m0 5h0m0 1h0m0 1h0m0 1h0m0 7h0m0 1h0m0 1h0m0 2h0m0 11h0m1-27h0m0 1h0m0 12h0m0 6h0m0 3h0m0 11h0m0 1h0m1-89h0m0 35h0m0 6h0m0 1h0m0 6h0m0 5h0m0 1h0m0 19h0m0 4h0m0 3h0m1-96h0m0 51h0m0 10h0m0 4h0m0 4h0m0 5h0m0 1h0m0 13h0m0 3h0m1-77h0m0 4h0m0 35h0m0 10h0m0 6h0m0 3h0m0 1h0m0 2h0m0 19h0m0 2h0m0 2h0m0 2h0m1-110h0m0 77h0m0 2h0m0 7h0m0 1h0m0 11h0m0 5h0m0 1h0m0 1h0m0 3h0m0 2h0m1-56h0m0 11h0m0 1h0m0 14h0m0 3h0m0 3h0m0 10h0m0 1h0m0 8h0m0 6h0m0 18h0m1-82h0m0 6h0m0 10h0m0 6h0m0 3h0m0 3h0m0 5h0m0 4h0m0 2h0m0 1h0m0 2h0m0 12h0m0 1h0m1-34h0m0 9h0m0 14h0m0 1h0m1-19h0m0 2h0m0 7h0m0 4h0m0 1h0m0 10h0m0 5h0m0 3h0m0 2h0m0 1h0m1-32h0m0 5h0m0 1h0m0 5h0m0 1h0m0 7h0m0 2h0m1-26h0m0 1h0m0 1h0m0 1h0m0 3h0m0 4h0m0 17h0m0 4h0m0 14h0m1-46h0m0 1h0m0 1h0m0 1h0m0 9h0m0 14h0m0 2h0m0 3h0m0 1h0m0 6h0m1-132h0m0 66h0m0 22h0m0 3h0m0 12h0m0 1h0m0 3h0m0 4h0m0 13h0m0 8h0m0 7h0m1-58h0m0 2h0m0 14h0m0 7h0m0 3h0m0 2h0m0 6h0m0 9h0m1-79h0m0 33h0m0 6h0m0 11h0m0 3h0m0 17h0m0 3h0m0 2h0m0 8h0m0 1h0m1-113h0m0 66h0m0 5h0m0 1h0m0 16h0m0 4h0m0 4h0m0 2h0m0 7h0m0 1h0m0 3h0m0 22h0m1-93h0m0 13h0m0 17h0m0 8h0m0 24h0m0 1h0m0 1h0m0 1h0m0 16h0m1-108h0m0 57h0m0 4h0m0 9h0m0 8h0m0 3h0m0 1h0m0 2h0m0 4h0m0 11h0m1-88h0m0 48h0m0 20h0m0 8h0m0 2h0m0 11h0m1-41h0m0 1h0m0 3h0m0 7h0m0 10h0m0 7h0m0 4h0m0 11h0m0 5h0m1-116h0m0 25h0m0 21h0m0 12h0m0 17h0m0 4h0m0 3h0m0 2h0m0 8h0m0 3h0m0 7h0m1-33h0m0 4h0m0 3h0m0 14h0m0 7h0m0 1h0m0 8h0m0 4h0m0 6h0m1-83h0m0 8h0m0 1h0m0 4h0m0 15h0m0 3h0m0 11h0m0 9h0m0 1h0m0 18h0m0 4h0m0 8h0m1-84h0m0 23h0m0 2h0m0 2h0m0 8h0m0 6h0m0 10h0m0 5h0m0 2h0m0 3h0m0 3h0m0 5h0m0 29h0m1-70h0m0 6h0m0 5h0m0 21h0m0 7h0m0 5h0m1-47h0m0 11h0m0 1h0m0 2h0m0 4h0m0 2h0m0 3h0m0 5h0m0 6h0m0 2h0m0 3h0m0 5h0m0 12h0m1-51h0m0 6h0m0 4h0m0 4h0m0 2h0m0 30h0m1-64h0m0 10h0m0 17h0m0 16h0m0 3h0m0 1h0m0 5h0m1-21h0m0 6h0m0 10h0m0 2h0m0 2h0m0 2h0m0 3h0m1-123h0m0 97h0m0 5h0m0 1h0m0 1h0m0 10h0m0 7h0m0 4h0m1-77h0m0 44h0m0 29h0m0 4h0m0 2h0m0 2h0m1-102h0m0 77h0m0 6h0m0 6h0m1-34h0m0 10h0m0 7h0m0 10h0m0 10h0m1-34h0m0 3h0m0 11h0m0 1h0m1-25h0m0 2h0m0 6h0m0 8h0m0 1h0m0 14h0m0 3h0m0 2h0m0 9h0m0 19h0m1-47h0m0 6h0m0 16h0m1-21h0m0 9h0m0 2h0m0 1h0m0 3h0m0 3h0m0 8h0m1-30h0m0 2h0m0 19h0m1-10h0m0 18h0m1-61h0m0 21h0m0 22h0m1-27h0m0 11h0m0 7h0m0 3h0m0 11h0m0 6h0m1-45h0m0 8h0m0 8h0m0 4h0m0 15h0m1-19h0m0 5h0m0 11h0m1-31h0m0 9h0m1-7h0m0 15h0m0 6h0m0 1h0m0 10h0m0 6h0m0 1h0m0 5h0m1-32h0m0 4h0m1-4h0m0 38h0m1-54h0m0 9h0m0 9h0m1-24h0m0 9h0m0 4h0m0 22h0m1-55h0m0 22h0m0 3h0m0 4h0m0 5h0m0 9h0m0 5h0m0 3h0m0 6h0m0 1h0m0 3h0m0 11h0m1-35h0m0 3h0m0 4h0m0 1h0m0 5h0m0 1h0m0 22h0m1-31h0m0 13h0m0 12h0m1-87h0m0 58h0m0 2h0m0 9h0m0 21h0m0 1h0m1-90h0m0 46h0m0 38h0m0 16h0m1-78h0m0 24h0m0 15h0m0 5h0m0 11h0m0 10h0m1-21h0m0 21h0m1-31h0m0 6h0m0 18h0m1-51h0m0 11h0m0 29h0m0 3h0m0 9h0m1-26h0m0 22h0m1 9h0m0 24h0m1-70h0m0 12h0m0 20h0m0 2h0m0 2h0m0 9h0m1-23h0m1 4h0m0 1h0m0 5h0m0 14h0m1-58h0m0 7h0m1-14h0m0 23h0m1 37h0m1-106h0m0 74h0m0 5h0m0 3h0m0 1h0m0 13h0m1-24h0m0 3h0m0 1h0m0 9h0m0 16h0m1-41h0m0 1h0m0 6h0m0 27h0m1-44h0m0 7h0m0 21h0m1-15h0m0 17h0m1-27h0m0 21h0m0 33h0m1-47h0m0 55h0m1-36h0m1-10h0m1 11h0m1-7h0" stroke="#1c86ee"/>
<path d="M214 903h0m46 16h0m9-7h0m26 14h0m9 0h0m5-32h0m7 38h0m3 0h0m6-13h0m12 14h0m3-13h0m12 4h0m7-1h0m3-17h0m0 7h0m4-16h0m5 12h0m0 7h0m1-4h0m0 34h0m1-27h0m0 3h0m3-21h0m0 20h0m1-17h0m3-11h0m20 22h0m0 4h0m2-41h0m4 25h0m2-25h0m3 35h0m1-7h0m2-7h0m1-22h0m2-3h0m3 40h0m2-26h0m1-6h0m1 14h0m0 10h0m4 3h0m5-9h0m6 11h0m5 3h0m2-19h0m0 34h0m1 3h0m2-46h0m3 35h0m1-7h0m1 18h0m7-75h0m3 35h0m0 3h0m2 8h0m1 9h0m2-17h0m0 22h0m2 8h0m1-29h0m6 27h0m1-58h0m0 41h0m2 0h0m7 12h0m1-16h0m2 0h0m1-9h0m2 4h0m2-7h0m3 22h0m0 10h0m2-21h0m3-44h0m1 58h0m12 5h0m5 2h0m3-45h0m3-3h0m6 35h0m5-2h0m6 3h0m4-6h0m4-2h0m2 4h0m0 1h0m3-4h0m5-10h0m0 4h0m5-9h0m3 14h0m6 24h0m10-11h0m1-5h0m1 3h0m1-9h0m12 5h0m8 0h0m11 9h0m4 9h0m6-15h0m17-2h0m11-17h0m1 7h0m8 7h0m2-9h0m4-5h0m0 19h0m7 0h0m2-3h0m2 2h0m4-5h0m0 9h0m13 8h0m21-18h0m2 1h0m1-18h0m7 28h0m21-26h0m3 0h0m16-12h0m1-16h0m0 33h0m6 14h0m7-36h0m20 16h0m3-28h0m10 14h0m1-2h0m3 19h0m6-18h0" stroke="#ee9a00"/>
<path d="M935 834h0m4 0h0m3 0h0m4 0h0m4 0h0m4 0h0m3 0h0m2 0h0m3 11h0m1-11h0m8 0h0m2 0h0m1 11h0m2-11h0m4 0h0m3 0h0m1 11h0m2-17h0m1 6h0m1-6h0m2 6h0m1-28h0m2 28h0m0 11h0m3-11h0m3 11h0m3-11h0m2 11h0m1-11h0m3 0h0m0 11h0m3-11h0m1 11h0m3 0h0m3-11h0m1 11h0m2-11h0m2 11h0m1-11h0m2 11h0m3-11h0m1 11h0m2-18h0m0 7h0m2 74h0m2-74h0m1 58h0m1-58h0m2 59h0m2-59h0m1 58h0m1 1h0m1-59h0m2 59h0m2-59h0m0 58h0m0 16h0m1-15h0m1-16h0m0 18h0m1-61h0m1 58h0m0 1h0m2-3h0m0 46h0m1-102h0m0 74h0m1-31h0m0 16h0m0 2h0m1-10h0m0 7h0m0 15h0m0 1h0m1-74h0m0 59h0m0 3h0m0 3h0m1-18h0m0 11h0m0 10h0m0 1h0m1-18h0m0 2h0m0 3h0m0 3h0m0 15h0m1-14h0m0 2h0m0 4h0m0 5h0m0 1h0m0 2h0m1-9h0m1-65h0m0 43h0m0 8h0m0 7h0m0 6h0m0 4h0m0 5h0m1-25h0m0 5h0m0 18h0m0 3h0m1-21h0m0 3h0m0 8h0m1-5h0m0 8h0m0 1h0m0 1h0m0 5h0m1-23h0m0 6h0m0 4h0m0 10h0m0 6h0m1-24h0m0 9h0m0 2h0m1-113h0m0 49h0m0 56h0m0 3h0m0 7h0m1-8h0m0 4h0m0 2h0m0 4h0m0 3h0m0 1h0m1-32h0m0 13h0m0 5h0m0 6h0m0 2h0m1-115h0m0 97h0m0 32h0m1-80h0m0 41h0m0 15h0m0 2h0m0 4h0m0 6h0m1-12h0m0 15h0m0 3h0m1-16h0m0 1h0m0 17h0m1-38h0m0 11h0m0 2h0m0 8h0m0 5h0m0 1h0m0 3h0m0 6h0m1-74h0m0 41h0m0 2h0m0 10h0m0 5h0m0 8h0m0 5h0m1-27h0m0 8h0m0 4h0m0 2h0m0 1h0m0 3h0m0 3h0m0 10h0m0 5h0m1-37h0m0 8h0m0 7h0m0 4h0m0 6h0m0 5h0m0 1h0m1-74h0m0 41h0m0 6h0m0 7h0m0 2h0m0 5h0m0 5h0m0 5h0m0 3h0m1-29h0m0 4h0m0 4h0m0 3h0m0 2h0m0 9h0m0 3h0m0 1h0m0 3h0m1-36h0m0 12h0m0 5h0m0 1h0m0 2h0m0 2h0m0 7h0m0 1h0m0 5h0m0 2h0m1-21h0m0 3h0m0 6h0m0 1h0m0 4h0m0 3h0m0 1h0m1-16h0m0 2h0m0 16h0m1-36h0m0 7h0m0 13h0m0 8h0m0 2h0m0 6h0m1-33h0m0 10h0m0 5h0m0 5h0m0 1h0m0 11h0m0 1h0m0 2h0m1-39h0m0 9h0m0 10h0m0 1h0m0 1h0m0 20h0m1-22h0m0 3h0m0 2h0m0 1h0m0 9h0m1-31h0m0 4h0m0 4h0m0 1h0m0 11h0m0 1h0m0 1h0m0 3h0m0 3h0m0 5h0m1-22h0m0 1h0m0 5h0m0 1h0m0 5h0m0 8h0m0 3h0m1-74h0m0 41h0m0 2h0m0 7h0m0 4h0m0 2h0m0 2h0m0 9h0m1-29h0m0 11h0m0 5h0m0 8h0m0 3h0m0 2h0m0 1h0m0 2h0m0 4h0m1-74h0m0 35h0m0 3h0m0 18h0m0 1h0m0 6h0m0 1h0m0 5h0m0 5h0m0 2h0m1-23h0m0 3h0m0 3h0m0 1h0m0 3h0m0 3h0m0 1h0m0 5h0m0 1h0m1-37h0m0 5h0m0 4h0m0 3h0m0 3h0m0 5h0m0 6h0m0 1h0m0 6h0m0 2h0m0 2h0m0 1h0m0 5h0m1-41h0m0 1h0m0 3h0m0 22h0m1-64h0m0 48h0m0 2h0m0 7h0m0 1h0m0 20h0m0 58h0m1-95h0m0 14h0m0 8h0m0 2h0m0 2h0m0 8h0m1-33h0m0 4h0m0 6h0m0 2h0m0 2h0m0 2h0m0 7h0m0 8h0m0 1h0m1-74h0m0 25h0m0 1h0m0 30h0m0 6h0m0 4h0m0 3h0m0 2h0m0 4h0m0 2h0m1-35h0m0 4h0m0 11h0m0 5h0m0 1h0m0 1h0m0 1h0m1-31h0m0 7h0m0 15h0m0 2h0m0 9h0m0 4h0m0 6h0m1-77h0m0 41h0m0 7h0m0 2h0m0 7h0m0 7h0m0 2h0m0 8h0m0 21h0m1-54h0m0 15h0m0 19h0m1-35h0m0 1h0m0 1h0m0 4h0m0 1h0m0 1h0m0 6h0m0 2h0m0 2h0m0 4h0m0 1h0m0 2h0m0 2h0m0 4h0m0 3h0m1-32h0m0 1h0m0 11h0m0 2h0m0 4h0m0 5h0m0 1h0m0 4h0m0 4h0m0 1h0m1-34h0m0 11h0m0 9h0m0 3h0m1-23h0m0 2h0m0 5h0m0 1h0m0 4h0m0 5h0m0 2h0m0 2h0m0 5h0m1-66h0m0 39h0m0 3h0m0 1h0m0 12h0m0 4h0m0 6h0m0 5h0m0 5h0m1-35h0m0 2h0m0 3h0m0 8h0m0 9h0m0 1h0m0 4h0m0 4h0m0 31h0m1-65h0m0 3h0m0 1h0m0 2h0m0 11h0m0 3h0m0 13h0m0 1h0m1-51h0m0 20h0m0 10h0m0 14h0m0 2h0m0 6h0m0 3h0m1-35h0m0 2h0m0 4h0m0 1h0m0 1h0m0 5h0m0 9h0m0 1h0m0 15h0m1-38h0m0 2h0m0 1h0m0 4h0m0 4h0m0 2h0m0 1h0m0 3h0m0 9h0m0 7h0m1-37h0m0 4h0m0 7h0m0 13h0m0 2h0m0 2h0m0 9h0m0 4h0m1-37h0m0 1h0m0 6h0m0 5h0m0 8h0m0 4h0m0 7h0m0 1h0m0 10h0m1-50h0m0 8h0m0 1h0m0 1h0m0 9h0m0 2h0m0 10h0m1-17h0m0 2h0m0 9h0m0 1h0m0 2h0m0 1h0m0 5h0m0 7h0m1-44h0m0 22h0m0 10h0m0 2h0m0 2h0m0 9h0m1-29h0m0 15h0m0 3h0m0 1h0m0 8h0m1-51h0m0 8h0m0 6h0m0 7h0m0 9h0m0 2h0m0 14h0m0 5h0m1-37h0m0 2h0m0 14h0m0 4h0m0 6h0m0 3h0m0 8h0m0 1h0m0 1h0m0 1h0m1-47h0m0 4h0m0 8h0m0 6h0m0 7h0m0 1h0m0 6h0m0 7h0m0 3h0m1-61h0m0 12h0m0 8h0m0 4h0m0 6h0m0 9h0m0 3h0m0 2h0m0 2h0m0 1h0m0 7h0m0 9h0m1-58h0m0 3h0m0 8h0m0 11h0m0 5h0m0 10h0m0 5h0m0 6h0m0 8h0m0 7h0m1-81h0m0 21h0m0 19h0m0 5h0m0 23h0m0 8h0m0 1h0m0 1h0m1-53h0m0 10h0m0 8h0m0 7h0m0 1h0m0 1h0m0 5h0m0 7h0m0 2h0m0 7h0m0 1h0m0 4h0m0 16h0m1-91h0m0 28h0m0 21h0m0 8h0m0 1h0m0 3h0m0 1h0m0 1h0m0 1h0m0 5h0m1-43h0m0 1h0m0 22h0m0 13h0m0 1h0m0 2h0m0 8h0m0 2h0m1-85h0m0 35h0m0 8h0m0 3h0m0 8h0m0 3h0m0 2h0m0 1h0m0 2h0m0 2h0m0 2h0m0 5h0m0 1h0m0 1h0m0 1h0m0 3h0m0 2h0m0 2h0m0 4h0m1-48h0m0 1h0m0 16h0m0 9h0m0 4h0m0 6h0m0 1h0m0 10h0m0 1h0m1-66h0m0 5h0m0 12h0m0 9h0m0 12h0m0 11h0m0 1h0m0 4h0m0 2h0m0 8h0m0 2h0m1-52h0m0 7h0m0 13h0m0 4h0m0 2h0m0 1h0m0 1h0m0 3h0m0 7h0m0 2h0m0 1h0m0 9h0m0 1h0m0 1h0m1-57h0m0 11h0m0 12h0m0 8h0m0 3h0m0 2h0m0 2h0m0 1h0m0 4h0m0 4h0m0 6h0m1-60h0m0 2h0m0 7h0m0 10h0m0 4h0m0 3h0m0 2h0m0 12h0m0 1h0m0 5h0m0 1h0m0 1h0m0 2h0m0 1h0m0 2h0m0 9h0m1-63h0m0 10h0m0 7h0m0 10h0m0 13h0m0 4h0m0 2h0m0 2h0m0 2h0m0 4h0m0 1h0m0 8h0m0 1h0m0 1h0m1-48h0m0 22h0m0 3h0m0 2h0m0 2h0m0 1h0m0 2h0m0 1h0m0 1h0m0 14h0m1-74h0m0 29h0m0 12h0m0 13h0m0 4h0m0 2h0m0 2h0m0 1h0m0 11h0m1-53h0m0 8h0m0 12h0m0 5h0m0 2h0m0 2h0m0 3h0m0 4h0m0 4h0m0 2h0m0 1h0m0 8h0m0 1h0m1-67h0m0 4h0m0 4h0m0 14h0m0 4h0m0 4h0m0 3h0m0 12h0m0 2h0m0 7h0m0 6h0m0 6h0m0 2h0m0 13h0m0 23h0m1-102h0m0 13h0m0 3h0m0 14h0m0 2h0m0 3h0m0 1h0m0 2h0m0 17h0m0 1h0m0 8h0m1-71h0m0 34h0m0 7h0m0 4h0m0 2h0m0 2h0m0 3h0m0 2h0m0 5h0m0 1h0m0 1h0m0 11h0m1-51h0m0 18h0m0 4h0m0 4h0m0 5h0m0 4h0m0 3h0m0 5h0m0 7h0m0 2h0m1-69h0m0 22h0m0 2h0m0 9h0m0 1h0m0 2h0m0 7h0m0 2h0m0 1h0m0 2h0m0 6h0m0 2h0m0 1h0m0 1h0m0 11h0m1-65h0m0 3h0m0 12h0m0 8h0m0 4h0m0 4h0m0 2h0m0 4h0m0 1h0m0 3h0m0 7h0m0 5h0m0 3h0m0 8h0m1-69h0m0 4h0m0 5h0m0 31h0m0 4h0m0 10h0m0 2h0m0 3h0m0 9h0m0 2h0m1-83h0m0 16h0m0 10h0m0 2h0m0 3h0m0 3h0m0 14h0m0 7h0m0 5h0m0 2h0m0 3h0m0 6h0m0 8h0m1-70h0m0 7h0m0 3h0m0 8h0m0 2h0m0 11h0m0 7h0m0 9h0m0 3h0m0 1h0m0 2h0m0 6h0m0 1h0m0 2h0m0 11h0m1-65h0m0 10h0m0 1h0m0 10h0m0 11h0m0 2h0m0 4h0m0 5h0m0 1h0m0 1h0m0 4h0m0 3h0m0 2h0m0 3h0m0 3h0m0 1h0m0 3h0m1-64h0m0 1h0m0 6h0m0 3h0m0 15h0m0 3h0m0 1h0m0 2h0m0 1h0m0 1h0m0 7h0m0 2h0m0 1h0m0 2h0m0 1h0m0 4h0m0 1h0m0 3h0m0 1h0m1-63h0m0 1h0m0 3h0m0 12h0m0 18h0m0 6h0m0 1h0m0 5h0m0 2h0m0 2h0m0 1h0m0 1h0m0 3h0m0 4h0m0 2h0m0 5h0m0 1h0m0 1h0m0 1h0m0 4h0m0 1h0m1-74h0m0 7h0m0 1h0m0 14h0m0 2h0m0 2h0m0 5h0m0 8h0m0 1h0m0 4h0m0 6h0m0 1h0m0 2h0m0 3h0m0 3h0m0 1h0m0 1h0m0 4h0m1-65h0m0 4h0m0 6h0m0 1h0m0 3h0m0 2h0m0 3h0m0 1h0m0 17h0m0 9h0m0 8h0m0 3h0m0 4h0m0 2h0m0 9h0m1-60h0m0 9h0m0 13h0m0 2h0m0 12h0m0 3h0m0 1h0m0 2h0m0 1h0m0 4h0m0 3h0m0 5h0m0 1h0m0 6h0m1-74h0m0 10h0m0 1h0m0 9h0m0 2h0m0 19h0m0 1h0m0 1h0m0 4h0m0 4h0m0 2h0m0 3h0m0 1h0m0 2h0m0 1h0m0 5h0m0 4h0m1-68h0m0 7h0m0 4h0m0 7h0m0 6h0m0 11h0m0 10h0m0 3h0m0 1h0m0 1h0m0 2h0m0 10h0m1-66h0m0 6h0m0 1h0m0 7h0m0 8h0m0 8h0m0 3h0m0 5h0m0 1h0m0 1h0m0 8h0m0 4h0m0 11h0m0 2h0m0 5h0m0 2h0m0 3h0m1-64h0m0 1h0m0 6h0m0 2h0m0 3h0m0 17h0m0 5h0m0 3h0m0 3h0m0 1h0m0 1h0m0 1h0m0 1h0m0 1h0m0 5h0m0 1h0m0 10h0m0 5h0m1-84h0m0 8h0m0 1h0m0 1h0m0 1h0m0 1h0m0 6h0m0 1h0m0 4h0m0 16h0m0 6h0m0 5h0m0 1h0m0 1h0m0 8h0m0 1h0m0 1h0m0 6h0m0 4h0m0 1h0m0 2h0m1-67h0m0 1h0m0 1h0m0 1h0m0 1h0m0 5h0m0 1h0m0 5h0m0 4h0m0 1h0m0 3h0m0 1h0m0 1h0m0 5h0m0 1h0m0 1h0m0 2h0m0 7h0m0 3h0m0 9h0m0 16h0m0 7h0m1-75h0m0 6h0m0 3h0m0 3h0m0 9h0m0 23h0m0 6h0m0 1h0m0 1h0m0 2h0m0 1h0m0 5h0m0 6h0m0 4h0m0 3h0m1-72h0m0 1h0m0 3h0m0 11h0m0 4h0m0 5h0m0 3h0m0 9h0m0 1h0m0 1h0m0 10h0m0 3h0m0 2h0m0 1h0m0 4h0m0 1h0m0 3h0m0 1h0m0 2h0m0 5h0m1-74h0m0 4h0m0 4h0m0 3h0m0 4h0m0 8h0m0 1h0m0 1h0m0 14h0m0 5h0m0 7h0m0 2h0m0 1h0m0 4h0m0 5h0m0 8h0m1-67h0m0 2h0m0 9h0m0 2h0m0 2h0m0 3h0m0 3h0m0 4h0m0 6h0m0 8h0m0 10h0m0 1h0m0 1h0m0 1h0m0 10h0m0 1h0m0 4h0m0 5h0m1-86h0m0 10h0m0 5h0m0 3h0m0 4h0m0 13h0m0 4h0m0 3h0m0 20h0m0 2h0m0 1h0m0 2h0m0 2h0m0 3h0m0 1h0m0 1h0m0 2h0m0 1h0m0 2h0m0 2h0m0 2h0m1-79h0m0 10h0m0 1h0m0 8h0m0 3h0m0 8h0m0 1h0m0 5h0m0 2h0m0 4h0m0 1h0m0 6h0m0 2h0m0 6h0m0 3h0m0 1h0m0 8h0m0 1h0m0 7h0m1-69h0m0 6h0m0 2h0m0 2h0m0 1h0m0 1h0m0 6h0m0 4h0m0 2h0m0 2h0m0 1h0m0 4h0m0 3h0m0 1h0m0 2h0m0 15h0m0 17h0m0 2h0m1-72h0m0 3h0m0 9h0m0 4h0m0 1h0m0 1h0m0 1h0m0 2h0m0 3h0m0 10h0m0 5h0m0 12h0m0 3h0m0 2h0m0 1h0m0 4h0m0 1h0m0 3h0m0 1h0m0 6h0m1-74h0m0 9h0m0 1h0m0 1h0m0 2h0m0 1h0m0 3h0m0 5h0m0 3h0m0 1h0m0 4h0m0 6h0m0 7h0m0 9h0m0 2h0m0 1h0m0 1h0m0 5h0m0 2h0m0 9h0m1-75h0m0 9h0m0 5h0m0 9h0m0 5h0m0 4h0m0 3h0m0 14h0m0 2h0m0 4h0m0 2h0m0 1h0m0 1h0m0 3h0m0 3h0m0 1h0m1-71h0m0 8h0m0 3h0m0 1h0m0 2h0m0 5h0m0 1h0m0 5h0m0 6h0m0 7h0m0 1h0m0 3h0m0 10h0m0 9h0m0 1h0m0 1h0m0 1h0m0 1h0m0 2h0m0 3h0m0 1h0m0 4h0m0 3h0m0 4h0m1-69h0m0 2h0m0 10h0m0 5h0m0 1h0m0 5h0m0 3h0m0 6h0m0 5h0m0 2h0m0 5h0m0 7h0m0 2h0m0 3h0m0 2h0m0 1h0m0 1h0m0 7h0m1-85h0m0 4h0m0 5h0m0 4h0m0 7h0m0 7h0m0 4h0m0 5h0m0 8h0m0 15h0m0 3h0m0 4h0m0 1h0m0 3h0m0 2h0m0 13h0m1-68h0m0 6h0m0 6h0m0 7h0m0 1h0m0 2h0m0 6h0m0 2h0m0 12h0m0 4h0m0 3h0m0 1h0m0 2h0m0 4h0m0 3h0m0 1h0m0 10h0m1-72h0m0 3h0m0 5h0m0 1h0m0 1h0m0 1h0m0 2h0m0 3h0m0 2h0m0 2h0m0 2h0m0 10h0m0 1h0m0 7h0m0 8h0m0 4h0m0 2h0m0 1h0m0 1h0m0 4h0m0 5h0m0 1h0m0 2h0m0 2h0m1-74h0m0 2h0m0 5h0m0 2h0m0 5h0m0 1h0m0 6h0m0 4h0m0 7h0m0 4h0m0 2h0m0 1h0m0 1h0m0 2h0m0 8h0m0 1h0m0 2h0m0 2h0m0 1h0m0 1h0m0 1h0m0 6h0m0 2h0m0 6h0m0 2h0m1-73h0m0 1h0m0 3h0m0 1h0m0 15h0m0 4h0m0 2h0m0 4h0m0 3h0m0 2h0m0 14h0m0 7h0m0 1h0m0 7h0m0 4h0m0 1h0m0 6h0m0 8h0m1-81h0m0 12h0m0 1h0m0 1h0m0 2h0m0 6h0m0 2h0m0 11h0m0 7h0m0 10h0m0 1h0m0 2h0m0 4h0m0 3h0m0 1h0m0 1h0m0 1h0m0 1h0m1-71h0m0 2h0m0 5h0m0 16h0m0 1h0m0 2h0m0 1h0m0 1h0m0 3h0m0 3h0m0 13h0m0 3h0m0 8h0m0 1h0m0 7h0m0 1h0m0 1h0m0 2h0m0 6h0m1-78h0m0 11h0m0 2h0m0 7h0m0 1h0m0 8h0m0 1h0m0 1h0m0 11h0m0 3h0m0 7h0m0 1h0m0 2h0m0 3h0m0 1h0m0 1h0m0 1h0m0 1h0m0 3h0m0 4h0m0 7h0m0 4h0m1-81h0m0 16h0m0 1h0m0 5h0m0 1h0m0 12h0m0 4h0m0 7h0m0 12h0m0 2h0m0 9h0m0 6h0m0 4h0m1-71h0m0 2h0m0 18h0m0 2h0m0 1h0m0 1h0m0 4h0m0 7h0m0 1h0m0 2h0m0 2h0m0 3h0m0 5h0m0 5h0m0 1h0m0 1h0m0 2h0m0 4h0m0 10h0m1-77h0m0 2h0m0 6h0m0 4h0m0 1h0m0 2h0m0 5h0m0 12h0m0 13h0m0 5h0m0 4h0m0 1h0m0 8h0m0 1h0m0 4h0m0 3h0m0 3h0m0 1h0m1-73h0m0 7h0m0 10h0m0 4h0m0 4h0m0 3h0m0 1h0m0 3h0m0 6h0m0 11h0m0 3h0m0 5h0m0 1h0m0 4h0m0 7h0m0 2h0m1-63h0m0 7h0m0 2h0m0 2h0m0 1h0m0 2h0m0 3h0m0 1h0m0 3h0m0 1h0m0 3h0m0 10h0m0 1h0m0 1h0m0 2h0m0 5h0m0 17h0m0 4h0m1-75h0m0 11h0m0 5h0m0 1h0m0 4h0m0 1h0m0 2h0m0 1h0m0 6h0m0 6h0m0 1h0m0 1h0m0 1h0m0 6h0m0 1h0m0 7h0m0 5h0m0 5h0m0 1h0m0 2h0m0 7h0m0 3h0m1-77h0m0 17h0m0 5h0m0 2h0m0 2h0m0 8h0m0 3h0m0 1h0m0 5h0m0 2h0m0 3h0m0 2h0m0 10h0m1-52h0m0 3h0m0 1h0m0 14h0m0 3h0m0 2h0m0 4h0m0 3h0m0 4h0m0 5h0m0 12h0m0 1h0m0 4h0m0 7h0m0 4h0m1-74h0m0 1h0m0 9h0m0 11h0m0 6h0m0 6h0m0 4h0m0 4h0m0 12h0m0 7h0m0 6h0m0 4h0m1-71h0m0 6h0m0 2h0m0 10h0m0 2h0m0 1h0m0 1h0m0 1h0m0 5h0m0 5h0m0 3h0m0 2h0m0 1h0m0 1h0m0 2h0m0 2h0m0 6h0m0 2h0m0 1h0m0 1h0m0 10h0m0 9h0m0 1h0m0 3h0m1-74h0m0 4h0m0 9h0m0 3h0m0 5h0m0 2h0m0 1h0m0 12h0m0 1h0m0 2h0m0 8h0m0 5h0m1-54h0m0 17h0m0 3h0m0 1h0m0 1h0m0 1h0m0 1h0m0 1h0m0 4h0m0 2h0m0 1h0m0 1h0m0 1h0m0 6h0m0 11h0m0 7h0m0 1h0m0 3h0m0 4h0m0 4h0m1-68h0m0 3h0m0 3h0m0 6h0m0 1h0m0 11h0m0 1h0m0 12h0m0 1h0m0 12h0m0 11h0m0 4h0m0 6h0m1-78h0m0 8h0m0 7h0m0 11h0m0 2h0m0 2h0m0 1h0m0 3h0m0 1h0m0 6h0m0 4h0m0 1h0m0 1h0m0 4h0m0 1h0m0 2h0m0 2h0m0 1h0m0 4h0m1-64h0m0 10h0m0 1h0m0 4h0m0 2h0m0 1h0m0 3h0m0 7h0m0 1h0m0 4h0m0 2h0m0 1h0m0 5h0m0 2h0m0 1h0m0 2h0m0 2h0m0 7h0m0 1h0m0 4h0m0 6h0m0 1h0m0 7h0m0 4h0m0 4h0m1-69h0m0 1h0m0 2h0m0 2h0m0 1h0m0 3h0m0 3h0m0 2h0m0 1h0m0 3h0m0 7h0m0 4h0m0 6h0m0 5h0m0 3h0m0 3h0m0 7h0m0 5h0m0 7h0m0 3h0m1-74h0m0 12h0m0 9h0m0 1h0m0 5h0m0 5h0m0 1h0m0 2h0m0 3h0m0 6h0m0 8h0m0 21h0m1-69h0m0 1h0m0 3h0m0 1h0m0 5h0m0 1h0m0 4h0m0 1h0m0 4h0m0 2h0m0 7h0m0 2h0m0 20h0m0 1h0m0 3h0m0 4h0m0 8h0m1-71h0m0 4h0m0 3h0m0 4h0m0 5h0m0 6h0m0 5h0m0 1h0m0 4h0m0 2h0m0 1h0m0 2h0m0 1h0m0 8h0m0 2h0m0 2h0m0 8h0m0 9h0m0 4h0m1-62h0m0 7h0m0 13h0m0 2h0m0 13h0m0 2h0m0 1h0m0 2h0m0 1h0m0 1h0m0 1h0m0 2h0m0 1h0m0 1h0m0 7h0m0 11h0m1-72h0m0 8h0m0 9h0m0 6h0m0 1h0m0 3h0m0 1h0m0 2h0m0 4h0m0 2h0m0 1h0m0 2h0m0 3h0m0 1h0m0 14h0m0 5h0m0 9h0m0 2h0m1-64h0m0 10h0m0 3h0m0 7h0m0 3h0m0 14h0m0 5h0m0 14h0m0 4h0m0 3h0m1-68h0m0 4h0m0 1h0m0 2h0m0 1h0m0 8h0m0 8h0m0 3h0m0 4h0m0 1h0m0 2h0m0 3h0m0 2h0m0 2h0m0 8h0m0 5h0m0 11h0m0 2h0m1-65h0m0 17h0m0 1h0m0 3h0m0 4h0m0 4h0m0 13h0m0 9h0m0 5h0m0 7h0m0 4h0m1-83h0m0 7h0m0 11h0m0 1h0m0 8h0m0 2h0m0 1h0m0 1h0m0 6h0m0 11h0m0 4h0m0 3h0m0 1h0m0 1h0m1-41h0m0 3h0m0 12h0m0 2h0m0 1h0m0 9h0m0 4h0m0 5h0m0 8h0m1-47h0m0 11h0m0 6h0m0 3h0m0 2h0m0 1h0m0 6h0m0 3h0m0 4h0m0 3h0m0 3h0m0 1h0m0 1h0m1-46h0m0 12h0m0 7h0m0 2h0m0 4h0m0 1h0m0 1h0m0 8h0m0 7h0m0 8h0m0 5h0m0 6h0m1-68h0m0 6h0m0 1h0m0 4h0m0 6h0m0 1h0m0 5h0m0 4h0m0 4h0m0 2h0m0 5h0m0 2h0m0 11h0m1-38h0m0 2h0m0 8h0m0 2h0m0 9h0m0 4h0m0 7h0m0 9h0m0 2h0m0 6h0m0 1h0m0 8h0m1-85h0m0 25h0m0 2h0m0 13h0m0 2h0m0 4h0m0 5h0m0 1h0m0 1h0m0 4h0m0 1h0m0 3h0m0 1h0m0 1h0m0 4h0m0 3h0m0 3h0m1-45h0m0 2h0m0 3h0m0 1h0m0 2h0m0 6h0m0 3h0m0 3h0m0 5h0m0 5h0m0 7h0m0 2h0m0 3h0m0 6h0m0 1h0m0 1h0m1-46h0m0 2h0m0 5h0m0 3h0m0 3h0m0 8h0m0 10h0m0 2h0m1-55h0m0 27h0m0 3h0m0 1h0m0 7h0m0 1h0m0 9h0m0 9h0m1-31h0m0 2h0m0 3h0m0 2h0m0 2h0m0 3h0m0 1h0m0 3h0m0 15h0m0 5h0m0 6h0m1-60h0m0 13h0m0 4h0m0 1h0m0 2h0m0 7h0m0 3h0m0 11h0m0 1h0m0 11h0m0 1h0m0 1h0m1-52h0m0 5h0m0 4h0m0 3h0m0 1h0m0 2h0m0 6h0m0 1h0m0 4h0m0 2h0m0 1h0m0 9h0m0 6h0m0 3h0m0 2h0m0 8h0m0 1h0m1-68h0m0 14h0m0 4h0m0 3h0m0 12h0m0 2h0m0 6h0m0 9h0m0 3h0m0 5h0m0 8h0m1-56h0m0 2h0m0 2h0m0 2h0m0 5h0m0 1h0m0 3h0m0 1h0m0 3h0m0 3h0m0 1h0m0 3h0m0 16h0m0 11h0m0 1h0m0 3h0m1-55h0m0 1h0m0 6h0m0 1h0m0 7h0m0 1h0m0 5h0m0 4h0m0 3h0m0 2h0m0 1h0m0 3h0m0 2h0m0 1h0m0 3h0m0 1h0m0 3h0m0 31h0m1-68h0m0 3h0m0 4h0m0 4h0m0 1h0m0 2h0m0 4h0m0 1h0m0 1h0m0 2h0m0 2h0m0 3h0m0 6h0m0 1h0m0 8h0m0 1h0m0 1h0m1-38h0m0 2h0m0 6h0m0 2h0m0 5h0m0 3h0m0 6h0m0 7h0m0 1h0m0 3h0m0 8h0m0 19h0m1-75h0m0 10h0m0 3h0m0 4h0m0 1h0m0 3h0m0 3h0m0 3h0m0 4h0m0 2h0m0 7h0m0 1h0m0 6h0m0 5h0m1-74h0m0 22h0m0 1h0m0 3h0m0 17h0m0 3h0m0 1h0m0 2h0m0 2h0m0 3h0m0 6h0m0 4h0m0 2h0m0 10h0m0 1h0m1-44h0m0 8h0m0 3h0m0 1h0m0 1h0m0 2h0m0 5h0m0 6h0m0 1h0m0 2h0m0 1h0m0 4h0m0 2h0m0 2h0m0 3h0m0 23h0m1-69h0m0 3h0m0 4h0m0 1h0m0 1h0m0 1h0m0 3h0m0 2h0m0 2h0m0 1h0m0 6h0m0 1h0m0 1h0m0 2h0m0 3h0m0 5h0m0 7h0m0 4h0m0 1h0m0 1h0m1-54h0m0 3h0m0 2h0m0 4h0m0 1h0m0 3h0m0 1h0m0 6h0m0 3h0m0 6h0m0 8h0m0 8h0m0 7h0m0 2h0m1-53h0m0 6h0m0 1h0m0 2h0m0 9h0m0 1h0m0 3h0m0 1h0m0 2h0m0 19h0m0 1h0m0 9h0m0 19h0m1-78h0m0 15h0m0 8h0m0 2h0m0 1h0m0 2h0m0 9h0m0 2h0m0 3h0m0 2h0m0 3h0m0 4h0m0 5h0m0 2h0m0 1h0m0 25h0m1-72h0m0 8h0m0 4h0m0 5h0m0 2h0m0 9h0m0 12h0m0 3h0m0 2h0m0 4h0m1-52h0m0 9h0m0 1h0m0 5h0m0 4h0m0 2h0m0 2h0m0 1h0m0 2h0m0 2h0m0 3h0m0 5h0m0 3h0m0 4h0m0 5h0m1-39h0m0 2h0m0 6h0m0 2h0m0 2h0m0 8h0m0 2h0m0 9h0m0 3h0m0 24h0m0 2h0m0 6h0m1-76h0m0 3h0m0 2h0m0 11h0m0 11h0m0 7h0m0 1h0m0 6h0m0 4h0m0 1h0m0 5h0m1-48h0m0 2h0m0 3h0m0 15h0m0 4h0m0 6h0m0 1h0m0 1h0m0 1h0m0 1h0m0 5h0m0 2h0m0 7h0m0 20h0m0 6h0m1-102h0m0 28h0m0 8h0m0 7h0m0 1h0m0 2h0m0 1h0m0 2h0m0 3h0m0 20h0m0 1h0m0 22h0m1-75h0m0 6h0m0 6h0m0 1h0m0 11h0m0 10h0m0 7h0m0 5h0m0 8h0m0 14h0m0 5h0m0 3h0m0 5h0m0 1h0m1-77h0m0 4h0m0 1h0m0 1h0m0 5h0m0 1h0m0 3h0m0 2h0m0 4h0m0 7h0m0 1h0m0 2h0m0 1h0m0 9h0m0 8h0m1-40h0m0 8h0m0 4h0m0 1h0m0 1h0m0 6h0m0 4h0m0 2h0m0 7h0m1-43h0m0 5h0m0 3h0m0 5h0m0 1h0m0 7h0m0 9h0m0 26h0m0 8h0m0 5h0m0 2h0m0 6h0m1-78h0m0 3h0m0 1h0m0 3h0m0 6h0m0 5h0m0 4h0m0 1h0m0 1h0m0 2h0m0 1h0m0 2h0m0 7h0m0 1h0m0 1h0m0 4h0m0 6h0m0 31h0m1-68h0m0 2h0m0 1h0m0 5h0m0 2h0m0 2h0m0 1h0m0 1h0m0 3h0m0 1h0m0 3h0m0 1h0m0 3h0m0 5h0m0 1h0m0 4h0m0 12h0m0 3h0m1-58h0m0 7h0m0 2h0m0 7h0m0 2h0m0 3h0m0 3h0m0 2h0m0 3h0m0 2h0m0 3h0m0 4h0m0 2h0m0 11h0m0 2h0m0 14h0m0 2h0m0 6h0m1-73h0m0 2h0m0 6h0m0 1h0m0 2h0m0 5h0m0 1h0m0 3h0m0 6h0m0 3h0m0 4h0m0 1h0m0 2h0m0 24h0m0 8h0m0 6h0m1-79h0m0 1h0m0 7h0m0 1h0m0 1h0m0 1h0m0 7h0m0 7h0m0 1h0m0 6h0m0 2h0m0 4h0m0 6h0m0 8h0m1-47h0m0 1h0m0 4h0m0 5h0m0 1h0m0 5h0m0 9h0m0 6h0m0 5h0m0 3h0m0 1h0m0 3h0m0 24h0m0 6h0m1-71h0m0 1h0m0 2h0m0 10h0m0 4h0m0 1h0m0 11h0m0 29h0m0 14h0m1-77h0m0 3h0m0 3h0m0 3h0m0 10h0m0 1h0m0 1h0m0 8h0m0 3h0m0 1h0m0 4h0m0 3h0m0 1h0m0 3h0m0 7h0m0 20h0m1-63h0m0 2h0m0 1h0m0 1h0m0 3h0m0 2h0m0 4h0m0 1h0m0 3h0m0 3h0m0 1h0m0 5h0m0 2h0m0 5h0m0 6h0m0 4h0m0 25h0m1-71h0m0 5h0m0 8h0m0 1h0m0 2h0m0 3h0m0 2h0m0 1h0m0 5h0m0 1h0m0 12h0m0 6h0m0 12h0m0 7h0m1-70h0m0 9h0m0 3h0m0 1h0m0 11h0m0 2h0m0 4h0m0 2h0m0 5h0m0 4h0m0 2h0m0 7h0m0 21h0m0 6h0m1-64h0m0 2h0m0 3h0m0 3h0m0 3h0m0 5h0m0 6h0m0 5h0m0 3h0m0 4h0m1-47h0m0 1h0m0 7h0m0 1h0m0 1h0m0 3h0m0 2h0m0 14h0m0 5h0m0 5h0m0 4h0m0 1h0m0 6h0m0 20h0m0 1h0m0 5h0m1-65h0m0 7h0m0 1h0m0 1h0m0 3h0m0 2h0m0 3h0m0 3h0m0 5h0m0 10h0m0 6h0m1-48h0m0 1h0m0 2h0m0 4h0m0 14h0m0 5h0m0 3h0m0 4h0m0 1h0m0 5h0m0 1h0m0 2h0m0 3h0m0 28h0m1-70h0m0 2h0m0 2h0m0 1h0m0 2h0m0 6h0m0 1h0m0 4h0m0 1h0m0 1h0m0 25h0m0 3h0m0 16h0m0 5h0m1-105h0m0 29h0m0 11h0m0 4h0m0 8h0m0 2h0m0 1h0m0 6h0m0 2h0m0 17h0m0 12h0m1-62h0m0 7h0m0 1h0m0 1h0m0 3h0m0 2h0m0 8h0m0 8h0m0 1h0m0 1h0m0 3h0m0 2h0m0 2h0m0 2h0m0 4h0m0 5h0m0 1h0m0 24h0m0 1h0m1-108h0m0 39h0m0 1h0m0 1h0m0 5h0m0 4h0m0 2h0m0 1h0m0 9h0m0 2h0m0 1h0m0 1h0m0 2h0m0 1h0m0 1h0m0 2h0m0 1h0m0 1h0m0 4h0m0 29h0m1-110h0m0 41h0m0 2h0m0 2h0m0 4h0m0 2h0m0 1h0m0 6h0m0 1h0m0 5h0m0 3h0m0 4h0m0 1h0m1-34h0m0 5h0m0 3h0m0 1h0m0 20h0m0 5h0m0 38h0m1-75h0m0 5h0m0 2h0m0 2h0m0 11h0m0 2h0m0 6h0m0 1h0m0 3h0m0 2h0m0 1h0m0 3h0m0 1h0m0 1h0m1-38h0m0 5h0m0 3h0m0 5h0m0 3h0m0 3h0m0 1h0m0 8h0m0 1h0m0 7h0m0 2h0m0 22h0m1-60h0m0 4h0m0 1h0m0 1h0m0 1h0m0 18h0m0 4h0m0 5h0m0 2h0m0 1h0m0 4h0m0 3h0m0 29h0m1-107h0m0 33h0m0 6h0m0 5h0m0 5h0m0 2h0m0 3h0m0 1h0m0 2h0m0 2h0m0 6h0m0 4h0m1-45h0m0 1h0m0 9h0m0 2h0m0 4h0m0 1h0m0 2h0m0 8h0m0 3h0m0 4h0m0 4h0m0 12h0m0 3h0m1-53h0m0 7h0m0 6h0m0 3h0m0 2h0m0 4h0m0 9h0m0 12h0m0 9h0m0 31h0m1-86h0m0 4h0m0 3h0m0 3h0m0 4h0m0 1h0m0 4h0m0 2h0m0 2h0m0 5h0m0 2h0m0 6h0m0 4h0m0 2h0m0 3h0m0 2h0m0 3h0m0 3h0m0 1h0m1-42h0m0 1h0m0 3h0m0 3h0m0 6h0m0 5h0m0 10h0m0 8h0m1-53h0m0 11h0m0 1h0m0 8h0m0 2h0m0 2h0m0 18h0m0 11h0m1-44h0m0 1h0m0 4h0m0 1h0m0 3h0m0 2h0m0 1h0m0 1h0m0 5h0m0 1h0m0 4h0m0 6h0m0 12h0m0 1h0m0 1h0m0 32h0m0 7h0m1-83h0m0 7h0m0 4h0m0 1h0m0 4h0m0 11h0m0 6h0m0 3h0m0 31h0m0 9h0m1-91h0m0 5h0m0 7h0m0 4h0m0 2h0m0 1h0m0 2h0m0 2h0m0 3h0m0 1h0m0 5h0m0 3h0m0 4h0m0 1h0m0 8h0m0 50h0m1-91h0m0 7h0m0 3h0m0 7h0m0 2h0m0 5h0m0 1h0m0 8h0m0 2h0m0 1h0m0 8h0m0 40h0m0 8h0m1-92h0m0 1h0m0 2h0m0 7h0m0 1h0m0 9h0m0 3h0m0 6h0m0 7h0m0 3h0m0 3h0m0 2h0m0 1h0m0 39h0m1-103h0m0 18h0m0 3h0m0 1h0m0 4h0m0 1h0m0 2h0m0 1h0m0 1h0m0 1h0m0 5h0m0 1h0m0 6h0m0 1h0m0 9h0m0 8h0m0 4h0m0 15h0m0 13h0m1-80h0m0 12h0m0 2h0m0 2h0m0 1h0m0 1h0m0 1h0m0 1h0m0 4h0m0 2h0m0 7h0m0 1h0m0 15h0m0 1h0m1-62h0m0 12h0m0 8h0m0 7h0m0 1h0m0 1h0m0 1h0m0 1h0m0 1h0m0 3h0m0 15h0m0 4h0m0 4h0m0 2h0m0 3h0m0 6h0m0 32h0m0 7h0m0 1h0m1-99h0m0 1h0m0 5h0m0 8h0m0 1h0m0 2h0m0 1h0m0 2h0m0 4h0m0 4h0m0 7h0m0 2h0m0 12h0m0 8h0m0 1h0m0 24h0m0 10h0m1-115h0m0 27h0m0 5h0m0 4h0m0 4h0m0 1h0m0 5h0m0 6h0m0 7h0m0 2h0m0 1h0m0 17h0m0 1h0m1-69h0m0 2h0m0 14h0m0 12h0m0 2h0m0 1h0m0 3h0m0 14h0m0 3h0m0 1h0m0 1h0m0 2h0m0 8h0m0 2h0m0 4h0m0 34h0m0 7h0m1-106h0m0 9h0m0 1h0m0 3h0m0 3h0m0 5h0m0 1h0m0 2h0m0 1h0m0 1h0m0 4h0m0 4h0m0 11h0m0 1h0m0 2h0m0 3h0m0 48h0m0 1h0m0 7h0m1-112h0m0 2h0m0 11h0m0 6h0m0 14h0m0 2h0m0 4h0m0 3h0m0 4h0m0 2h0m0 2h0m0 2h0m0 1h0m0 1h0m0 7h0m0 5h0m0 9h0m1-74h0m0 4h0m0 1h0m0 5h0m0 5h0m0 2h0m0 1h0m0 5h0m0 4h0m0 1h0m0 1h0m0 5h0m0 1h0m0 2h0m0 5h0m0 1h0m0 1h0m0 3h0m0 5h0m0 4h0m0 6h0m0 7h0m0 34h0m1-99h0m0 9h0m0 1h0m0 2h0m0 2h0m0 2h0m0 8h0m0 10h0m0 11h0m0 1h0m0 1h0m0 1h0m0 10h0m0 42h0m0 7h0m1-112h0m0 8h0m0 4h0m0 6h0m0 1h0m0 1h0m0 1h0m0 3h0m0 8h0m0 3h0m0 1h0m0 1h0m0 5h0m0 8h0m0 2h0m0 1h0m0 7h0m0 1h0m1-57h0m0 2h0m0 11h0m0 13h0m0 3h0m0 1h0m0 3h0m0 1h0m0 10h0m0 3h0m0 3h0m0 6h0m0 12h0m1-64h0m0 9h0m0 2h0m0 1h0m0 2h0m0 3h0m0 1h0m0 2h0m0 1h0m0 1h0m0 4h0m0 11h0m0 10h0m0 49h0m1-104h0m0 11h0m0 3h0m0 4h0m0 1h0m0 1h0m0 3h0m0 2h0m0 1h0m0 2h0m0 1h0m0 3h0m0 3h0m0 1h0m0 15h0m0 3h0m0 1h0m0 50h0m0 7h0m1-114h0m0 1h0m0 2h0m0 10h0m0 2h0m0 2h0m0 3h0m0 2h0m0 8h0m0 2h0m0 2h0m0 4h0m0 9h0m0 2h0m0 1h0m0 1h0m0 1h0m0 1h0m0 1h0m0 7h0m0 7h0m1-70h0m0 4h0m0 8h0m0 9h0m0 6h0m0 10h0m0 2h0m0 2h0m0 4h0m0 3h0m0 2h0m0 5h0m0 1h0m0 1h0m0 51h0m0 8h0m1-114h0m0 3h0m0 3h0m0 3h0m0 8h0m0 2h0m0 4h0m0 5h0m0 1h0m0 3h0m0 1h0m0 2h0m0 1h0m0 1h0m0 2h0m0 1h0m0 1h0m0 2h0m0 6h0m0 1h0m0 4h0m0 1h0m0 1h0m0 5h0m1-57h0m0 6h0m0 7h0m0 1h0m0 1h0m0 2h0m0 9h0m0 4h0m0 4h0m0 1h0m0 8h0m0 1h0m0 6h0m0 2h0m0 23h0m1-80h0m0 5h0m0 7h0m0 4h0m0 1h0m0 12h0m0 1h0m0 1h0m0 9h0m0 1h0m0 2h0m0 3h0m0 4h0m0 1h0m0 3h0m0 4h0m0 5h0m0 3h0m0 1h0m0 9h0m1-59h0m0 18h0m0 4h0m0 2h0m0 1h0m0 7h0m0 4h0m0 2h0m0 2h0m0 7h0m0 3h0m0 48h0m1-114h0m0 8h0m0 3h0m0 3h0m0 2h0m0 4h0m0 7h0m0 5h0m0 4h0m0 2h0m0 3h0m0 4h0m0 6h0m1-52h0m0 14h0m0 1h0m0 1h0m0 3h0m0 6h0m0 6h0m0 2h0m0 1h0m0 5h0m0 1h0m0 1h0m0 2h0m0 3h0m0 3h0m0 3h0m1-58h0m0 9h0m0 6h0m0 7h0m0 2h0m0 2h0m0 2h0m0 2h0m0 5h0m0 1h0m0 8h0m0 3h0m0 1h0m0 2h0m0 16h0m1-71h0m0 9h0m0 4h0m0 1h0m0 3h0m0 3h0m0 3h0m0 6h0m0 2h0m0 6h0m0 2h0m0 4h0m0 2h0m0 1h0m0 3h0m0 7h0m0 11h0m0 2h0m0 4h0m1-47h0m0 4h0m0 5h0m0 4h0m0 6h0m0 3h0m0 2h0m0 6h0m0 3h0m0 5h0m0 2h0m0 1h0m0 3h0m0 23h0m1-84h0m0 2h0m0 1h0m0 3h0m0 8h0m0 5h0m0 1h0m0 1h0m0 1h0m0 1h0m0 3h0m0 1h0m0 3h0m0 2h0m0 3h0m0 2h0m0 5h0m0 3h0m0 10h0m0 3h0m0 2h0m1-44h0m0 1h0m0 1h0m0 2h0m0 4h0m0 2h0m0 1h0m0 1h0m0 1h0m0 1h0m0 3h0m0 3h0m0 3h0m0 4h0m0 1h0m0 3h0m0 5h0m0 4h0m1-56h0m0 3h0m0 1h0m0 1h0m0 4h0m0 3h0m0 2h0m0 1h0m0 4h0m0 3h0m0 2h0m0 3h0m0 1h0m0 1h0m0 1h0m0 2h0m0 2h0m0 2h0m0 5h0m0 5h0m0 1h0m0 7h0m0 1h0m0 1h0m0 4h0m0 1h0m1-50h0m0 3h0m0 6h0m0 3h0m0 2h0m0 1h0m0 5h0m0 1h0m0 5h0m0 10h0m0 12h0m0 1h0m0 7h0m1-62h0m0 4h0m0 2h0m0 2h0m0 12h0m0 6h0m0 1h0m0 6h0m0 4h0m0 1h0m0 2h0m0 1h0m0 5h0m0 2h0m0 4h0m0 3h0m0 2h0m1-60h0m0 9h0m0 1h0m0 8h0m0 11h0m0 1h0m0 1h0m0 1h0m0 6h0m0 3h0m0 3h0m0 1h0m0 7h0m0 1h0m0 1h0m0 5h0m0 12h0m1-66h0m0 3h0m0 5h0m0 11h0m0 1h0m0 2h0m0 9h0m0 7h0m0 2h0m0 7h0m0 4h0m0 3h0m1-52h0m0 2h0m0 1h0m0 5h0m0 1h0m0 2h0m0 1h0m0 1h0m0 1h0m0 2h0m0 1h0m0 2h0m0 3h0m0 7h0m0 4h0m0 4h0m0 8h0m0 1h0m0 5h0m0 3h0m1-61h0m0 6h0m0 13h0m0 2h0m0 4h0m0 1h0m0 2h0m0 6h0m0 19h0m0 5h0m0 1h0m0 1h0m0 1h0m1-59h0m0 2h0m0 5h0m0 23h0m0 2h0m0 10h0m0 6h0m0 2h0m0 1h0m0 1h0m0 5h0m0 1h0m1-65h0m0 8h0m0 1h0m0 3h0m0 19h0m0 2h0m0 1h0m0 3h0m0 1h0m0 2h0m0 17h0m0 3h0m1-34h0m0 3h0m0 1h0m0 6h0m0 2h0m0 1h0m0 4h0m0 2h0m0 7h0m0 6h0m0 3h0m0 1h0m0 1h0m0 1h0m0 1h0m0 3h0m1-62h0m0 1h0m0 4h0m0 2h0m0 2h0m0 1h0m0 5h0m0 3h0m0 2h0m0 1h0m0 1h0m0 2h0m0 1h0m0 7h0m0 1h0m0 7h0m0 8h0m0 7h0m0 2h0m1-56h0m0 1h0m0 12h0m0 5h0m0 7h0m0 2h0m0 5h0m0 5h0m0 7h0m0 5h0m0 2h0m0 3h0m0 3h0m0 2h0m0 1h0m0 1h0m1-68h0m0 7h0m0 1h0m0 8h0m0 3h0m0 2h0m0 1h0m0 3h0m0 8h0m0 6h0m0 1h0m0 2h0m0 2h0m0 1h0m0 3h0m0 2h0m0 4h0m0 1h0m0 1h0m0 7h0m0 1h0m1-59h0m0 5h0m0 2h0m0 1h0m0 1h0m0 2h0m0 4h0m0 13h0m0 6h0m0 8h0m0 3h0m0 9h0m0 6h0m1-63h0m0 3h0m0 7h0m0 1h0m0 1h0m0 5h0m0 1h0m0 5h0m0 2h0m0 2h0m0 2h0m0 7h0m0 8h0m0 5h0m0 1h0m0 7h0m0 1h0m1-58h0m0 8h0m0 2h0m0 3h0m0 6h0m0 2h0m0 2h0m0 1h0m0 2h0m0 1h0m0 1h0m0 5h0m0 3h0m0 2h0m0 7h0m0 5h0m0 9h0m1-55h0m0 4h0m0 1h0m0 1h0m0 2h0m0 4h0m0 7h0m0 5h0m0 3h0m0 5h0m0 2h0m0 2h0m0 1h0m0 1h0m0 1h0m0 1h0m0 6h0m1-37h0m0 10h0m0 5h0m0 1h0m0 2h0m0 5h0m0 1h0m0 1h0m0 1h0m0 1h0m0 1h0m0 3h0m0 6h0m0 4h0m0 9h0m0 1h0m1-52h0m0 1h0m0 1h0m0 1h0m0 11h0m0 3h0m0 3h0m0 16h0m0 5h0m0 2h0m0 2h0m1-58h0m0 1h0m0 4h0m0 1h0m0 5h0m0 4h0m0 6h0m0 7h0m0 3h0m0 5h0m0 4h0m0 3h0m0 4h0m0 2h0m0 2h0m0 6h0m1-37h0m0 2h0m0 2h0m0 4h0m0 1h0m0 7h0m0 1h0m0 6h0m0 3h0m0 1h0m0 1h0m0 5h0m0 1h0m0 3h0m0 3h0m1-62h0m0 12h0m0 1h0m0 3h0m0 1h0m0 2h0m0 22h0m0 9h0m0 3h0m0 1h0m0 1h0m0 7h0m1-58h0m0 1h0m0 6h0m0 6h0m0 1h0m0 1h0m0 4h0m0 1h0m0 4h0m0 7h0m0 7h0m0 1h0m0 1h0m0 3h0m0 1h0m0 7h0m1-46h0m0 2h0m0 2h0m0 5h0m0 3h0m0 1h0m0 8h0m0 4h0m0 4h0m0 1h0m0 9h0m0 18h0m1-56h0m0 2h0m0 3h0m0 1h0m0 1h0m0 2h0m0 1h0m0 2h0m0 2h0m0 5h0m0 8h0m0 5h0m0 6h0m0 1h0m0 1h0m1-38h0m0 6h0m0 1h0m0 1h0m0 6h0m0 5h0m0 8h0m0 1h0m0 3h0m0 2h0m0 3h0m0 1h0m0 2h0m0 3h0m0 1h0m1-40h0m0 2h0m0 2h0m0 1h0m0 3h0m0 5h0m0 6h0m0 6h0m0 1h0m0 1h0m0 1h0m0 4h0m0 9h0m0 10h0m1-67h0m0 3h0m0 9h0m0 6h0m0 1h0m0 14h0m0 6h0m0 3h0m0 10h0m0 3h0m0 5h0m1-58h0m0 10h0m0 8h0m0 3h0m0 1h0m0 1h0m0 2h0m0 19h0m0 6h0m1-34h0m0 4h0m0 1h0m0 3h0m0 3h0m0 1h0m0 2h0m0 2h0m0 3h0m0 1h0m0 1h0m0 3h0m0 7h0m0 17h0m0 1h0m1-57h0m0 4h0m0 1h0m0 2h0m0 1h0m0 4h0m0 12h0m0 4h0m0 5h0m0 2h0m0 2h0m0 3h0m0 1h0m0 1h0m0 3h0m0 3h0m0 2h0m0 2h0m1-53h0m0 7h0m0 1h0m0 1h0m0 10h0m0 4h0m0 4h0m0 2h0m0 1h0m0 4h0m0 10h0m0 3h0m0 7h0m1-62h0m0 4h0m0 7h0m0 2h0m0 1h0m0 1h0m0 3h0m0 4h0m0 3h0m0 1h0m0 6h0m0 1h0m0 5h0m0 1h0m0 7h0m0 10h0m1-55h0m0 2h0m0 4h0m0 1h0m0 2h0m0 5h0m0 2h0m0 2h0m0 6h0m0 11h0m0 4h0m0 2h0m0 2h0m0 10h0m0 3h0m0 1h0m0 3h0m0 3h0m1-55h0m0 4h0m0 7h0m0 7h0m0 9h0m0 3h0m0 3h0m0 2h0m0 2h0m0 6h0m0 1h0m0 11h0m1-72h0m0 17h0m0 2h0m0 2h0m0 4h0m0 1h0m0 4h0m0 1h0m0 4h0m0 3h0m0 7h0m0 8h0m0 1h0m0 2h0m0 2h0m0 5h0m0 10h0m1-58h0m0 3h0m0 2h0m0 8h0m0 13h0m0 5h0m0 7h0m0 1h0m0 1h0m0 2h0m0 2h0m0 4h0m0 1h0m0 17h0m1-76h0m0 22h0m0 1h0m0 13h0m0 5h0m0 5h0m0 6h0m0 1h0m0 1h0m0 3h0m1-54h0m0 6h0m0 1h0m0 1h0m0 1h0m0 1h0m0 2h0m0 1h0m0 4h0m0 2h0m0 1h0m0 4h0m0 9h0m0 5h0m0 5h0m0 10h0m0 4h0m0 8h0m1-65h0m0 3h0m0 2h0m0 1h0m0 3h0m0 1h0m0 2h0m0 6h0m0 1h0m0 1h0m0 1h0m0 1h0m0 3h0m0 8h0m0 1h0m0 4h0m0 4h0m0 2h0m0 7h0m0 1h0m0 10h0m1-60h0m0 13h0m0 1h0m0 5h0m0 1h0m0 8h0m0 2h0m0 11h0m0 3h0m0 2h0m0 11h0m1-51h0m0 1h0m0 6h0m0 3h0m0 3h0m0 1h0m0 3h0m0 3h0m0 5h0m0 1h0m0 3h0m0 1h0m0 8h0m0 3h0m0 2h0m0 1h0m0 1h0m1-47h0m0 7h0m0 3h0m0 1h0m0 2h0m0 2h0m0 4h0m0 3h0m0 3h0m0 7h0m0 5h0m0 2h0m0 5h0m0 2h0m0 3h0m0 3h0m0 4h0m0 2h0m0 6h0m1-67h0m0 3h0m0 3h0m0 2h0m0 2h0m0 2h0m0 2h0m0 1h0m0 1h0m0 1h0m0 5h0m0 2h0m0 1h0m0 5h0m0 1h0m0 4h0m0 8h0m0 8h0m0 2h0m1-59h0m0 5h0m0 1h0m0 6h0m0 5h0m0 3h0m0 2h0m0 1h0m0 8h0m0 4h0m0 2h0m0 3h0m0 5h0m0 2h0m0 1h0m0 1h0m0 5h0m0 1h0m0 7h0m0 2h0m1-64h0m0 1h0m0 1h0m0 7h0m0 8h0m0 3h0m0 1h0m0 1h0m0 1h0m0 1h0m0 2h0m0 1h0m0 15h0m0 4h0m0 3h0m0 1h0m0 1h0m0 1h0m0 1h0m0 1h0m0 1h0m0 3h0m0 2h0m0 2h0m1-56h0m0 1h0m0 8h0m0 6h0m0 1h0m0 2h0m0 1h0m0 3h0m0 2h0m0 2h0m0 3h0m0 2h0m0 1h0m0 1h0m0 26h0m1-60h0m0 13h0m0 5h0m0 1h0m0 3h0m0 3h0m0 9h0m0 3h0m0 14h0m0 1h0m1-56h0m0 8h0m0 3h0m0 3h0m0 6h0m0 1h0m0 1h0m0 3h0m0 2h0m0 2h0m0 4h0m0 1h0m0 1h0m0 12h0m0 5h0m0 1h0m0 1h0m0 3h0m0 6h0m1-57h0m0 8h0m0 4h0m0 2h0m0 1h0m0 2h0m0 1h0m0 2h0m0 4h0m0 3h0m0 3h0m0 11h0m0 11h0m0 3h0m1-65h0m0 20h0m0 2h0m0 2h0m0 1h0m0 1h0m0 1h0m0 7h0m0 2h0m0 2h0m0 2h0m0 7h0m0 2h0m0 2h0m0 1h0m0 4h0m0 7h0m0 11h0m0 1h0m1-71h0m0 12h0m0 2h0m0 7h0m0 20h0m0 5h0m0 1h0m0 5h0m0 1h0m0 2h0m0 9h0m0 1h0m1-56h0m0 12h0m0 2h0m0 4h0m0 1h0m0 5h0m0 12h0m0 2h0m0 1h0m0 6h0m0 4h0m0 3h0m0 3h0m1-52h0m0 5h0m0 2h0m0 1h0m0 3h0m0 2h0m0 11h0m0 1h0m0 8h0m0 3h0m0 3h0m0 1h0m0 3h0m0 2h0m0 2h0m0 2h0m1-44h0m0 2h0m0 2h0m0 1h0m0 10h0m0 2h0m0 6h0m0 2h0m0 1h0m0 3h0m0 1h0m0 5h0m0 2h0m0 17h0m1-66h0m0 9h0m0 1h0m0 4h0m0 2h0m0 4h0m0 6h0m0 10h0m0 1h0m0 9h0m0 1h0m0 7h0m0 8h0m1-78h0m0 10h0m0 2h0m0 3h0m0 16h0m0 11h0m0 1h0m0 2h0m0 5h0m0 13h0m0 1h0m0 1h0m0 8h0m0 1h0m0 2h0m0 5h0m1-72h0m0 11h0m0 5h0m0 3h0m0 1h0m0 2h0m0 1h0m0 1h0m0 3h0m0 7h0m0 2h0m0 5h0m0 25h0m1-64h0m0 6h0m0 2h0m0 6h0m0 6h0m0 3h0m0 2h0m0 1h0m0 3h0m0 5h0m0 5h0m0 5h0m0 1h0m0 4h0m0 1h0m0 10h0m0 2h0m0 13h0m1-78h0m0 4h0m0 2h0m0 14h0m0 4h0m0 3h0m0 1h0m0 7h0m0 11h0m0 2h0m0 2h0m0 8h0m0 7h0m0 3h0m0 1h0m1-79h0m0 9h0m0 4h0m0 8h0m0 1h0m0 4h0m0 13h0m0 1h0m0 3h0m0 4h0m0 3h0m0 1h0m0 3h0m0 4h0m0 1h0m0 5h0m0 1h0m0 3h0m1-56h0m0 1h0m0 6h0m0 8h0m0 1h0m0 6h0m0 6h0m0 2h0m0 2h0m0 1h0m0 7h0m0 10h0m0 2h0m0 2h0m0 2h0m0 1h0m0 4h0m0 1h0m1-56h0m0 10h0m0 1h0m0 1h0m0 4h0m0 23h0m0 1h0m0 10h0m0 14h0m1-62h0m0 1h0m0 2h0m0 7h0m0 5h0m0 3h0m0 5h0m0 4h0m0 14h0m0 3h0m0 15h0m1-70h0m0 6h0m0 3h0m0 1h0m0 7h0m0 2h0m0 1h0m0 1h0m0 4h0m0 2h0m0 8h0m0 2h0m0 3h0m0 6h0m0 4h0m0 1h0m0 2h0m0 4h0m0 2h0m0 1h0m0 1h0m1-64h0m0 9h0m0 11h0m0 10h0m0 2h0m0 29h0m1-60h0m0 15h0m0 2h0m0 4h0m0 4h0m0 8h0m0 9h0m0 1h0m0 4h0m0 1h0m0 2h0m0 2h0m0 1h0m0 8h0m0 4h0m1-63h0m0 4h0m0 1h0m0 4h0m0 13h0m0 2h0m0 2h0m0 3h0m0 2h0m0 1h0m0 20h0m0 2h0m0 6h0m0 1h0m0 3h0m0 5h0m1-67h0m0 1h0m0 5h0m0 4h0m0 3h0m0 4h0m0 2h0m0 1h0m0 8h0m0 2h0m0 9h0m0 23h0m1-70h0m0 20h0m0 6h0m0 5h0m0 7h0m0 7h0m0 2h0m0 6h0m0 5h0m0 1h0m0 7h0m0 7h0m1-74h0m0 1h0m0 8h0m0 4h0m0 6h0m0 12h0m0 4h0m0 1h0m0 5h0m0 5h0m0 1h0m0 3h0m0 14h0m0 13h0m1-74h0m0 11h0m0 3h0m0 5h0m0 2h0m0 11h0m0 4h0m0 6h0m0 2h0m0 8h0m0 2h0m0 4h0m1-45h0m0 3h0m0 4h0m0 9h0m0 1h0m0 3h0m0 4h0m0 1h0m0 9h0m0 5h0m0 1h0m0 3h0m1-58h0m0 5h0m0 9h0m0 1h0m0 7h0m0 1h0m0 1h0m0 10h0m0 3h0m0 1h0m0 6h0m0 3h0m0 2h0m0 1h0m0 8h0m0 8h0m1-69h0m0 6h0m0 2h0m0 14h0m0 1h0m0 10h0m0 5h0m0 10h0m0 3h0m0 3h0m0 2h0m0 3h0m0 1h0m0 8h0m1-54h0m0 3h0m0 2h0m0 6h0m0 3h0m0 1h0m0 11h0m0 2h0m0 2h0m0 3h0m0 3h0m0 5h0m0 4h0m0 4h0m0 5h0m1-55h0m0 2h0m0 4h0m0 3h0m0 12h0m0 8h0m0 13h0m1-60h0m0 1h0m0 9h0m0 12h0m0 11h0m0 4h0m0 3h0m0 2h0m0 2h0m0 2h0m0 2h0m0 8h0m0 6h0m0 9h0m0 2h0m1-69h0m0 7h0m0 10h0m0 2h0m0 7h0m0 24h0m0 1h0m1-59h0m0 13h0m0 3h0m0 2h0m0 1h0m0 1h0m0 10h0m0 2h0m0 14h0m0 3h0m0 4h0m0 3h0m0 2h0m0 19h0m1-60h0m0 2h0m0 1h0m0 2h0m0 3h0m0 3h0m0 9h0m0 3h0m0 8h0m0 7h0m0 4h0m0 6h0m0 1h0m0 13h0m0 2h0m1-68h0m0 1h0m0 2h0m0 18h0m0 2h0m0 4h0m0 6h0m0 4h0m0 4h0m0 8h0m0 10h0m1-61h0m0 6h0m0 5h0m0 3h0m0 2h0m0 3h0m0 4h0m0 2h0m0 3h0m0 3h0m0 1h0m0 3h0m0 2h0m0 1h0m0 1h0m0 1h0m0 7h0m0 11h0m0 3h0m1-62h0m0 5h0m0 2h0m0 7h0m0 3h0m0 1h0m0 3h0m0 1h0m0 7h0m0 9h0m0 2h0m0 4h0m0 3h0m0 1h0m0 2h0m0 4h0m0 5h0m0 2h0m0 7h0m1-74h0m0 8h0m0 3h0m0 15h0m0 4h0m0 3h0m0 5h0m0 2h0m0 5h0m0 3h0m0 3h0m0 7h0m0 7h0m1-66h0m0 1h0m0 2h0m0 4h0m0 6h0m0 2h0m0 3h0m0 1h0m0 5h0m0 1h0m0 4h0m0 2h0m0 3h0m0 1h0m0 3h0m0 1h0m0 6h0m0 8h0m0 5h0m0 3h0m0 2h0m0 7h0m0 1h0m1-68h0m0 12h0m0 9h0m0 5h0m0 5h0m0 11h0m0 2h0m0 6h0m0 5h0m0 11h0m0 18h0m1-88h0m0 12h0m0 7h0m0 2h0m0 3h0m0 4h0m0 2h0m0 1h0m0 8h0m0 2h0m0 1h0m0 2h0m0 4h0m0 2h0m0 3h0m0 14h0m0 6h0m1-77h0m0 8h0m0 3h0m0 4h0m0 3h0m0 3h0m0 4h0m0 2h0m0 2h0m0 2h0m0 4h0m0 3h0m0 4h0m0 4h0m0 4h0m0 3h0m0 13h0m0 1h0m0 3h0m1-50h0m0 9h0m0 1h0m0 3h0m0 5h0m0 2h0m0 8h0m0 3h0m0 12h0m0 5h0m0 2h0m0 6h0m1-62h0m0 3h0m0 1h0m0 2h0m0 2h0m0 1h0m0 8h0m0 1h0m0 3h0m0 6h0m0 1h0m0 2h0m0 2h0m0 1h0m0 1h0m0 2h0m0 2h0m0 1h0m0 4h0m0 11h0m0 3h0m1-62h0m0 10h0m0 1h0m0 1h0m0 1h0m0 2h0m0 1h0m0 5h0m0 3h0m0 3h0m0 3h0m0 5h0m0 2h0m0 1h0m0 14h0m0 1h0m0 12h0m1-78h0m0 16h0m0 3h0m0 4h0m0 1h0m0 1h0m0 2h0m0 2h0m0 4h0m0 2h0m0 6h0m0 5h0m0 4h0m0 2h0m0 12h0m0 3h0m0 16h0m1-72h0m0 4h0m0 4h0m0 1h0m0 6h0m0 2h0m0 7h0m0 5h0m0 2h0m0 3h0m0 2h0m0 2h0m0 3h0m0 1h0m0 2h0m0 7h0m0 3h0m0 15h0m1-72h0m0 14h0m0 2h0m0 4h0m0 4h0m0 1h0m0 1h0m0 2h0m0 10h0m0 2h0m0 4h0m0 1h0m0 12h0m0 4h0m0 4h0m0 7h0m1-72h0m0 14h0m0 8h0m0 2h0m0 2h0m0 1h0m0 1h0m0 7h0m0 3h0m0 5h0m0 1h0m0 4h0m0 10h0m0 3h0m0 3h0m0 2h0m0 12h0m0 7h0m1-81h0m0 13h0m0 1h0m0 2h0m0 3h0m0 3h0m0 7h0m0 3h0m0 3h0m0 1h0m0 1h0m0 1h0m0 3h0m0 1h0m0 7h0m0 9h0m0 1h0m1-61h0m0 5h0m0 5h0m0 1h0m0 1h0m0 3h0m0 6h0m0 2h0m0 7h0m0 5h0m0 2h0m0 2h0m0 2h0m0 1h0m0 1h0m0 5h0m0 1h0m0 2h0m0 1h0m0 2h0m0 3h0m0 3h0m0 1h0m0 4h0m1-68h0m0 5h0m0 8h0m0 2h0m0 2h0m0 1h0m0 3h0m0 2h0m0 8h0m0 8h0m0 2h0m0 1h0m0 2h0m0 1h0m0 5h0m0 5h0m0 1h0m0 1h0m0 4h0m0 1h0m0 21h0m1-81h0m0 2h0m0 2h0m0 6h0m0 2h0m0 5h0m0 2h0m0 3h0m0 4h0m0 4h0m0 1h0m0 6h0m0 6h0m0 5h0m0 3h0m0 8h0m0 5h0m0 4h0m1-67h0m0 1h0m0 1h0m0 3h0m0 3h0m0 3h0m0 4h0m0 2h0m0 17h0m0 2h0m0 5h0m0 4h0m0 8h0m0 4h0m0 5h0m0 7h0m1-70h0m0 15h0m0 4h0m0 1h0m0 1h0m0 1h0m0 1h0m0 1h0m0 13h0m0 12h0m0 7h0m0 1h0m0 4h0m0 4h0m1-66h0m0 6h0m0 17h0m0 2h0m0 5h0m0 2h0m0 5h0m1-45h0m0 8h0m0 1h0m0 13h0m0 2h0m0 4h0m0 2h0m0 1h0m0 1h0m0 10h0m0 1h0m0 4h0m0 5h0m0 4h0m0 8h0m0 1h0m0 1h0m0 4h0m1-63h0m0 5h0m0 3h0m0 7h0m0 7h0m0 2h0m0 8h0m0 5h0m0 3h0m0 1h0m0 4h0m0 7h0m0 6h0m0 4h0m0 3h0m0 17h0m1-84h0m0 4h0m0 2h0m0 12h0m0 5h0m0 3h0m0 4h0m0 1h0m0 5h0m0 3h0m0 2h0m0 8h0m0 4h0m0 2h0m0 1h0m0 7h0m0 5h0m0 11h0m1-65h0m0 4h0m0 1h0m0 3h0m0 5h0m0 2h0m0 4h0m0 7h0m0 1h0m0 6h0m0 1h0m0 8h0m0 6h0m0 1h0m0 3h0m1-60h0m0 18h0m0 5h0m0 1h0m0 10h0m0 1h0m0 2h0m0 2h0m0 1h0m0 11h0m0 4h0m0 2h0m0 20h0m1-87h0m0 11h0m0 14h0m0 2h0m0 1h0m0 6h0m0 8h0m0 5h0m0 4h0m0 5h0m0 1h0m0 11h0m0 7h0m0 12h0m1-80h0m0 1h0m0 8h0m0 8h0m0 3h0m0 1h0m0 13h0m0 2h0m0 3h0m0 1h0m0 9h0m0 1h0m0 12h0m1-59h0m0 8h0m0 3h0m0 8h0m0 2h0m0 1h0m0 4h0m0 4h0m0 3h0m0 1h0m0 3h0m0 3h0m0 1h0m0 2h0m0 6h0m0 2h0m0 2h0m0 5h0m1-60h0m0 3h0m0 4h0m0 1h0m0 1h0m0 3h0m0 4h0m0 2h0m0 10h0m0 4h0m0 1h0m0 1h0m0 1h0m0 3h0m0 2h0m0 2h0m0 3h0m0 5h0m0 6h0m0 7h0m1-64h0m0 10h0m0 2h0m0 2h0m0 4h0m0 1h0m0 8h0m0 6h0m0 1h0m0 1h0m0 6h0m0 5h0m0 1h0m0 5h0m0 6h0m0 4h0m0 1h0m0 4h0m1-60h0m0 7h0m0 9h0m0 1h0m0 1h0m0 6h0m0 1h0m0 2h0m0 4h0m0 5h0m0 2h0m0 3h0m0 4h0m0 7h0m0 2h0m0 2h0m0 2h0m1-61h0m0 4h0m0 2h0m0 7h0m0 1h0m0 6h0m0 6h0m0 1h0m0 5h0m0 3h0m0 3h0m0 1h0m0 2h0m0 1h0m0 7h0m0 1h0m0 18h0m1-71h0m0 4h0m0 9h0m0 9h0m0 4h0m0 3h0m0 2h0m0 3h0m0 7h0m0 2h0m0 1h0m0 1h0m0 4h0m0 1h0m0 2h0m0 3h0m1-62h0m0 1h0m0 12h0m0 1h0m0 9h0m0 1h0m0 1h0m0 1h0m0 2h0m0 5h0m0 2h0m0 2h0m0 2h0m0 2h0m0 8h0m0 1h0m0 2h0m0 6h0m0 3h0m0 2h0m0 1h0m1-46h0m0 3h0m0 3h0m0 4h0m0 4h0m0 5h0m0 3h0m0 12h0m0 6h0m0 9h0m0 4h0m0 2h0m1-56h0m0 3h0m0 4h0m0 1h0m0 4h0m0 4h0m0 6h0m0 1h0m0 3h0m0 6h0m0 3h0m0 3h0m0 5h0m0 6h0m0 3h0m1-60h0m0 13h0m0 4h0m0 1h0m0 1h0m0 1h0m0 1h0m0 3h0m0 2h0m0 3h0m0 3h0m0 2h0m0 3h0m0 1h0m0 1h0m0 1h0m0 1h0m0 1h0m0 1h0m0 2h0m0 1h0m0 6h0m0 2h0m0 1h0m0 4h0m0 1h0m0 8h0m0 13h0m1-92h0m0 2h0m0 11h0m0 8h0m0 1h0m0 1h0m0 1h0m0 9h0m0 1h0m0 8h0m0 3h0m0 1h0m0 3h0m0 1h0m0 1h0m0 1h0m0 4h0m0 6h0m0 3h0m0 2h0m0 1h0m0 6h0m0 1h0m1-55h0m0 3h0m0 1h0m0 1h0m0 11h0m0 1h0m0 1h0m0 1h0m0 2h0m0 9h0m0 2h0m0 8h0m0 4h0m0 2h0m0 2h0m0 2h0m0 6h0m1-75h0m0 21h0m0 7h0m0 1h0m0 3h0m0 6h0m0 1h0m0 3h0m0 5h0m0 3h0m0 1h0m0 1h0m0 7h0m0 7h0m0 9h0m0 12h0m1-77h0m0 4h0m0 5h0m0 1h0m0 3h0m0 1h0m0 8h0m0 5h0m0 3h0m0 2h0m0 1h0m0 4h0m0 2h0m0 2h0m0 1h0m0 3h0m0 3h0m0 5h0m0 1h0m0 3h0m1-58h0m0 14h0m0 1h0m0 7h0m0 2h0m0 1h0m0 2h0m0 5h0m0 1h0m0 1h0m0 3h0m0 1h0m0 2h0m0 3h0m0 6h0m0 5h0m1-49h0m0 3h0m0 4h0m0 2h0m0 1h0m0 6h0m0 2h0m0 2h0m0 3h0m0 1h0m0 12h0m0 4h0m0 3h0m0 2h0m0 2h0m0 3h0m0 4h0m0 3h0m1-62h0m0 1h0m0 1h0m0 5h0m0 2h0m0 5h0m0 7h0m0 8h0m0 3h0m0 1h0m0 10h0m0 4h0m0 6h0m0 1h0m0 1h0m0 2h0m0 5h0m1-51h0m0 1h0m0 2h0m0 7h0m0 5h0m0 2h0m0 6h0m0 2h0m0 13h0m0 2h0m0 1h0m0 8h0m0 2h0m0 1h0m0 2h0m1-67h0m0 13h0m0 6h0m0 6h0m0 8h0m0 5h0m0 7h0m0 6h0m0 1h0m1-49h0m0 1h0m0 1h0m0 6h0m0 1h0m0 2h0m0 3h0m0 2h0m0 1h0m0 3h0m0 14h0m0 2h0m0 2h0m0 3h0m0 1h0m0 3h0m0 1h0m0 1h0m0 1h0m0 1h0m0 2h0m0 1h0m0 7h0m0 2h0m1-59h0m0 1h0m0 7h0m0 6h0m0 2h0m0 6h0m0 1h0m0 2h0m0 3h0m0 6h0m0 8h0m0 8h0m0 4h0m0 6h0m1-56h0m0 3h0m0 1h0m0 10h0m0 2h0m0 6h0m0 11h0m0 12h0m0 1h0m0 1h0m0 5h0m1-51h0m0 3h0m0 5h0m0 1h0m0 6h0m0 2h0m0 2h0m0 1h0m0 1h0m0 4h0m0 1h0m0 10h0m0 6h0m0 4h0m0 2h0m0 1h0m0 2h0m1-59h0m0 1h0m0 1h0m0 4h0m0 4h0m0 1h0m0 1h0m0 7h0m0 11h0m0 4h0m0 1h0m0 4h0m0 3h0m0 2h0m0 4h0m0 1h0m0 3h0m0 4h0m0 1h0m1-58h0m0 5h0m0 7h0m0 1h0m0 3h0m0 1h0m0 9h0m0 1h0m0 3h0m0 6h0m0 2h0m0 1h0m0 4h0m0 7h0m0 1h0m1-57h0m0 8h0m0 3h0m0 8h0m0 1h0m0 8h0m0 1h0m0 6h0m0 4h0m0 2h0m0 8h0m0 2h0m0 8h0m0 1h0m0 2h0m1-61h0m0 4h0m0 12h0m0 2h0m0 1h0m0 2h0m0 4h0m0 34h0m0 7h0m0 7h0m0 9h0m1-76h0m0 1h0m0 13h0m0 1h0m0 1h0m0 11h0m0 2h0m0 3h0m0 3h0m0 18h0m0 2h0m0 1h0m0 18h0m1-70h0m0 9h0m0 3h0m0 4h0m0 4h0m0 2h0m0 6h0m0 12h0m0 2h0m0 3h0m0 2h0m0 1h0m0 5h0m1-54h0m0 3h0m0 8h0m0 1h0m0 4h0m0 2h0m0 7h0m0 5h0m0 7h0m0 1h0m0 1h0m0 3h0m0 3h0m0 3h0m0 1h0m0 1h0m0 6h0m1-58h0m0 2h0m0 8h0m0 3h0m0 5h0m0 3h0m0 2h0m0 2h0m0 8h0m0 8h0m0 5h0m0 10h0m0 3h0m0 2h0m1-70h0m0 5h0m0 6h0m0 3h0m0 3h0m0 2h0m0 2h0m0 2h0m0 1h0m0 5h0m0 1h0m0 6h0m0 3h0m0 13h0m0 1h0m0 3h0m0 1h0m0 1h0m0 2h0m0 6h0m1-72h0m0 8h0m0 20h0m0 4h0m0 1h0m0 4h0m0 3h0m0 4h0m0 1h0m0 2h0m0 3h0m0 4h0m0 7h0m0 9h0m1-43h0m0 1h0m0 2h0m0 3h0m0 1h0m0 1h0m0 1h0m0 7h0m0 5h0m0 2h0m0 2h0m0 3h0m0 4h0m0 1h0m0 2h0m0 10h0m1-56h0m0 9h0m0 1h0m0 5h0m0 1h0m0 2h0m0 1h0m0 6h0m0 8h0m0 2h0m0 2h0m0 1h0m0 1h0m0 3h0m0 2h0m0 1h0m0 1h0m0 1h0m0 1h0m1-60h0m0 8h0m0 18h0m0 4h0m0 1h0m0 6h0m0 1h0m0 7h0m0 4h0m0 3h0m0 4h0m0 2h0m0 1h0m0 2h0m1-56h0m0 11h0m0 2h0m0 5h0m0 3h0m0 3h0m0 2h0m0 5h0m0 3h0m0 2h0m0 9h0m0 1h0m0 7h0m0 1h0m0 2h0m1-45h0m0 2h0m0 2h0m0 4h0m0 1h0m0 1h0m0 4h0m0 2h0m0 5h0m0 2h0m0 3h0m0 1h0m0 1h0m0 2h0m0 2h0m0 1h0m0 2h0m0 4h0m0 1h0m0 5h0m1-57h0m0 14h0m0 1h0m0 3h0m0 1h0m0 3h0m0 3h0m0 1h0m0 1h0m0 1h0m0 5h0m0 11h0m0 2h0m0 2h0m0 6h0m0 1h0m0 1h0m0 1h0m0 2h0m0 6h0m1-55h0m0 2h0m0 5h0m0 15h0m0 15h0m0 1h0m0 1h0m0 2h0m0 1h0m0 4h0m1-48h0m0 10h0m0 2h0m0 8h0m0 1h0m0 11h0m0 1h0m0 4h0m0 1h0m0 1h0m0 3h0m0 2h0m0 4h0m0 1h0m0 1h0m0 3h0m0 20h0m1-73h0m0 8h0m0 3h0m0 2h0m0 4h0m0 5h0m0 1h0m0 2h0m0 1h0m0 3h0m0 5h0m0 4h0m0 1h0m0 6h0m0 5h0m0 3h0m0 17h0m1-67h0m0 1h0m0 7h0m0 4h0m0 5h0m0 4h0m0 1h0m0 7h0m0 1h0m0 4h0m0 1h0m0 2h0m0 7h0m0 1h0m0 2h0m0 1h0m0 3h0m0 2h0m1-50h0m0 3h0m0 3h0m0 4h0m0 1h0m0 2h0m0 8h0m0 3h0m0 3h0m0 1h0m0 1h0m0 3h0m0 4h0m0 4h0m0 2h0m1-48h0m0 2h0m0 4h0m0 6h0m0 2h0m0 3h0m0 1h0m0 1h0m0 1h0m0 3h0m0 14h0m0 4h0m0 1h0m0 3h0m0 4h0m1-49h0m0 8h0m0 4h0m0 4h0m0 1h0m0 1h0m0 1h0m0 2h0m0 5h0m0 1h0m0 1h0m0 9h0m1-52h0m0 12h0m0 16h0m0 2h0m0 1h0m0 1h0m0 1h0m0 11h0m0 1h0m0 8h0m0 2h0m0 4h0m0 4h0m0 5h0m1-50h0m0 5h0m0 5h0m0 1h0m0 1h0m0 1h0m0 12h0m0 1h0m0 8h0m0 6h0m0 4h0m0 9h0m1-56h0m0 1h0m0 8h0m0 4h0m0 4h0m0 6h0m0 2h0m0 1h0m0 2h0m0 2h0m0 8h0m0 2h0m0 5h0m0 7h0m0 1h0m1-48h0m0 9h0m0 2h0m0 6h0m0 1h0m0 2h0m0 13h0m0 3h0m0 2h0m0 2h0m0 3h0m0 7h0m1-52h0m0 6h0m0 2h0m0 10h0m0 7h0m0 6h0m0 8h0m0 1h0m0 1h0m0 2h0m0 1h0m0 2h0m0 5h0m0 1h0m1-47h0m0 5h0m0 8h0m0 1h0m0 3h0m0 1h0m0 6h0m0 7h0m0 4h0m0 2h0m0 9h0m0 1h0m1-60h0m0 3h0m0 5h0m0 3h0m0 1h0m0 2h0m0 1h0m0 3h0m0 2h0m0 6h0m0 4h0m0 1h0m0 2h0m0 7h0m0 6h0m0 2h0m0 3h0m0 3h0m0 4h0m1-69h0m0 10h0m0 7h0m0 6h0m0 1h0m0 1h0m0 1h0m0 6h0m0 2h0m0 2h0m0 3h0m0 11h0m0 1h0m0 5h0m0 3h0m0 9h0m0 2h0m0 1h0m1-64h0m0 18h0m0 5h0m0 10h0m0 4h0m0 3h0m0 1h0m0 1h0m0 2h0m0 2h0m0 2h0m0 2h0m0 2h0m0 3h0m0 7h0m1-52h0m0 14h0m0 7h0m0 1h0m0 3h0m0 8h0m0 1h0m0 3h0m0 7h0m0 8h0m1-45h0m0 10h0m0 1h0m0 1h0m0 2h0m0 5h0m0 3h0m0 7h0m0 2h0m0 6h0m0 5h0m0 2h0m0 5h0m1-53h0m0 2h0m0 11h0m0 3h0m0 7h0m0 24h0m0 3h0m1-53h0m0 10h0m0 2h0m0 14h0m0 8h0m0 6h0m0 1h0m1-45h0m0 21h0m0 6h0m0 2h0m0 1h0m0 2h0m0 1h0m0 2h0m0 13h0m0 3h0m1-44h0m0 2h0m0 1h0m0 3h0m0 3h0m0 8h0m0 3h0m0 1h0m0 1h0m0 5h0m0 1h0m0 5h0m0 2h0m0 2h0m0 7h0m0 3h0m0 1h0m0 8h0m1-77h0m0 23h0m0 1h0m0 4h0m0 9h0m0 3h0m0 5h0m0 11h0m0 1h0m0 6h0m0 6h0m1-47h0m0 1h0m0 5h0m0 2h0m0 3h0m0 4h0m0 1h0m0 3h0m0 3h0m0 5h0m0 8h0m0 3h0m0 1h0m0 1h0m0 7h0m0 18h0m1-79h0m0 12h0m0 2h0m0 1h0m0 3h0m0 1h0m0 9h0m0 2h0m0 5h0m0 5h0m0 18h0m0 2h0m1-43h0m0 1h0m0 3h0m0 1h0m0 1h0m0 11h0m0 4h0m0 3h0m0 5h0m0 3h0m0 5h0m0 6h0m0 1h0m0 1h0m0 1h0m1-63h0m0 10h0m0 2h0m0 14h0m0 4h0m0 2h0m0 1h0m0 6h0m0 1h0m0 3h0m0 1h0m0 5h0m0 1h0m0 10h0m0 2h0m1-59h0m0 7h0m0 2h0m0 15h0m0 1h0m0 10h0m0 4h0m0 1h0m0 9h0m0 6h0m0 3h0m1-36h0m0 2h0m0 1h0m0 3h0m0 4h0m0 17h0m0 2h0m0 2h0m0 5h0m0 4h0m1-62h0m0 10h0m0 4h0m0 6h0m0 2h0m0 2h0m0 6h0m0 5h0m0 3h0m0 1h0m0 7h0m0 3h0m0 1h0m0 9h0m0 1h0m1-54h0m0 1h0m0 3h0m0 3h0m0 1h0m0 1h0m0 2h0m0 1h0m0 1h0m0 3h0m0 2h0m0 2h0m0 1h0m0 3h0m0 6h0m0 7h0m0 2h0m0 3h0m0 1h0m0 1h0m0 5h0m0 3h0m1-58h0m0 8h0m0 14h0m0 4h0m0 7h0m0 8h0m0 4h0m0 6h0m0 9h0m1-63h0m0 8h0m0 11h0m0 1h0m0 1h0m0 6h0m0 2h0m0 4h0m0 2h0m0 6h0m0 2h0m0 3h0m0 8h0m0 1h0m0 1h0m1-46h0m0 10h0m0 1h0m0 2h0m0 1h0m0 2h0m0 1h0m0 2h0m0 2h0m0 5h0m0 1h0m0 1h0m0 3h0m0 2h0m0 6h0m0 1h0m0 1h0m0 4h0m0 6h0m1-38h0m0 4h0m0 1h0m0 1h0m0 6h0m0 7h0m0 1h0m0 4h0m0 4h0m0 3h0m1-40h0m0 2h0m0 3h0m0 8h0m0 2h0m0 5h0m0 1h0m0 1h0m0 8h0m0 2h0m0 4h0m0 1h0m0 2h0m0 9h0m1-58h0m0 5h0m0 3h0m0 1h0m0 6h0m0 5h0m0 1h0m0 2h0m0 2h0m0 3h0m0 5h0m0 1h0m0 2h0m0 6h0m0 1h0m0 3h0m0 5h0m0 4h0m1-50h0m0 13h0m0 1h0m0 2h0m0 1h0m0 12h0m0 1h0m0 3h0m0 1h0m0 6h0m0 4h0m0 1h0m1-50h0m0 3h0m0 3h0m0 2h0m0 7h0m0 2h0m0 4h0m0 1h0m0 3h0m0 3h0m0 1h0m0 1h0m0 2h0m0 8h0m0 2h0m0 1h0m0 4h0m1-39h0m0 4h0m0 6h0m0 3h0m0 1h0m0 5h0m0 3h0m0 1h0m0 1h0m0 4h0m0 3h0m0 3h0m0 3h0m0 2h0m0 2h0m0 4h0m0 1h0m1-65h0m0 23h0m0 1h0m0 6h0m0 3h0m0 1h0m0 3h0m0 6h0m0 1h0m0 6h0m0 12h0m0 1h0m1-58h0m0 16h0m0 2h0m0 3h0m0 3h0m0 3h0m0 1h0m0 1h0m0 1h0m0 6h0m0 1h0m0 1h0m0 4h0m0 1h0m0 3h0m0 2h0m0 4h0m0 2h0m0 4h0m1-62h0m0 8h0m0 15h0m0 1h0m0 6h0m0 1h0m0 1h0m0 4h0m0 5h0m0 2h0m0 1h0m0 1h0m0 4h0m0 5h0m0 5h0m0 2h0m1-62h0m0 25h0m0 2h0m0 1h0m0 4h0m0 2h0m0 1h0m0 1h0m0 5h0m0 8h0m0 3h0m0 7h0m0 1h0m0 21h0m1-65h0m0 3h0m0 3h0m0 6h0m0 5h0m0 3h0m0 7h0m0 1h0m0 1h0m0 2h0m0 3h0m0 1h0m0 4h0m0 11h0m1-50h0m0 3h0m0 5h0m0 2h0m0 5h0m0 6h0m0 2h0m0 1h0m0 2h0m0 4h0m0 7h0m0 3h0m0 24h0m1-69h0m0 11h0m0 1h0m0 1h0m0 1h0m0 1h0m0 5h0m0 1h0m0 1h0m0 2h0m0 1h0m0 1h0m0 2h0m0 2h0m0 2h0m0 3h0m0 2h0m0 1h0m0 2h0m0 7h0m0 2h0m0 4h0m1-55h0m0 10h0m0 6h0m0 6h0m0 1h0m0 2h0m0 1h0m0 1h0m0 2h0m0 1h0m0 3h0m0 2h0m0 5h0m0 2h0m0 3h0m0 4h0m0 1h0m0 3h0m0 4h0m1-56h0m0 4h0m0 1h0m0 3h0m0 4h0m0 2h0m0 13h0m0 1h0m0 3h0m0 5h0m0 2h0m0 4h0m0 1h0m0 6h0m0 2h0m1-63h0m0 9h0m0 4h0m0 4h0m0 8h0m0 2h0m0 4h0m0 1h0m0 1h0m0 1h0m0 5h0m0 4h0m0 1h0m0 1h0m0 2h0m0 7h0m0 9h0m0 3h0m0 3h0m1-50h0m0 1h0m0 13h0m0 3h0m0 2h0m0 1h0m0 2h0m0 4h0m0 2h0m0 3h0m0 1h0m0 1h0m0 1h0m0 3h0m0 3h0m1-54h0m0 11h0m0 3h0m0 2h0m0 5h0m0 2h0m0 2h0m0 3h0m0 1h0m0 6h0m0 4h0m0 1h0m0 2h0m0 2h0m0 3h0m0 1h0m0 2h0m0 10h0m1-59h0m0 15h0m0 4h0m0 6h0m0 2h0m0 2h0m0 4h0m0 2h0m0 3h0m0 1h0m0 3h0m0 1h0m0 2h0m0 5h0m0 3h0m0 3h0m0 3h0m1-61h0m0 15h0m0 4h0m0 1h0m0 4h0m0 1h0m0 4h0m0 1h0m0 1h0m0 2h0m0 1h0m0 1h0m0 2h0m0 1h0m0 2h0m0 2h0m0 2h0m0 4h0m0 8h0m0 2h0m0 2h0m0 19h0m1-77h0m0 12h0m0 3h0m0 10h0m0 1h0m0 2h0m0 3h0m0 1h0m0 1h0m0 1h0m0 3h0m0 2h0m0 1h0m0 2h0m0 1h0m0 2h0m0 6h0m0 4h0m1-56h0m0 10h0m0 9h0m0 1h0m0 2h0m0 3h0m0 1h0m0 7h0m0 6h0m0 3h0m0 3h0m0 4h0m0 10h0m1-41h0m0 11h0m0 3h0m0 1h0m0 1h0m0 2h0m0 2h0m0 1h0m0 5h0m0 1h0m0 1h0m0 5h0m0 5h0m0 4h0m1-58h0m0 10h0m0 13h0m0 3h0m0 6h0m0 1h0m0 4h0m0 1h0m0 2h0m0 1h0m0 1h0m0 3h0m0 2h0m0 3h0m1-58h0m0 8h0m0 9h0m0 2h0m0 3h0m0 10h0m0 1h0m0 2h0m0 3h0m0 7h0m0 8h0m0 6h0m0 4h0m0 18h0m1-64h0m0 3h0m0 4h0m0 5h0m0 3h0m0 4h0m0 2h0m0 3h0m0 1h0m0 4h0m0 2h0m0 3h0m0 2h0m0 6h0m0 3h0m1-63h0m0 19h0m0 1h0m0 13h0m0 5h0m0 3h0m0 8h0m0 2h0m0 1h0m0 6h0m0 2h0m0 1h0m0 3h0m0 9h0m1-50h0m0 6h0m0 2h0m0 3h0m0 2h0m0 3h0m0 6h0m0 3h0m0 1h0m0 5h0m1-57h0m0 25h0m0 13h0m0 3h0m0 2h0m0 6h0m0 4h0m0 3h0m0 4h0m0 1h0m0 3h0m0 5h0m0 3h0m1-61h0m0 15h0m0 6h0m0 3h0m0 8h0m0 1h0m0 3h0m0 4h0m0 2h0m0 6h0m0 1h0m0 2h0m1-54h0m0 9h0m0 4h0m0 3h0m0 1h0m0 4h0m0 2h0m0 7h0m0 4h0m0 3h0m0 3h0m0 4h0m0 9h0m0 1h0m1-55h0m0 3h0m0 12h0m0 5h0m0 1h0m0 1h0m0 4h0m0 3h0m0 15h0m0 2h0m0 4h0m0 1h0m0 3h0m0 8h0m0 19h0m1-56h0m0 3h0m0 2h0m0 3h0m0 3h0m0 11h0m0 4h0m0 3h0m0 3h0m1-63h0m0 33h0m0 2h0m0 3h0m0 1h0m0 1h0m0 6h0m0 1h0m0 3h0m0 5h0m0 2h0m0 2h0m0 1h0m0 5h0m1-58h0m0 16h0m0 7h0m0 4h0m0 10h0m0 15h0m0 2h0m0 59h0m1-97h0m0 2h0m0 1h0m0 1h0m0 3h0m0 1h0m0 1h0m0 4h0m0 10h0m0 8h0m0 9h0m0 6h0m1-46h0m0 2h0m0 4h0m0 3h0m0 3h0m0 1h0m0 7h0m0 3h0m0 4h0m0 12h0m0 4h0m1-43h0m0 6h0m0 3h0m0 2h0m0 4h0m0 8h0m0 7h0m0 20h0m0 12h0m1-68h0m0 4h0m0 3h0m0 5h0m0 2h0m0 5h0m0 1h0m0 1h0m0 6h0m0 2h0m0 5h0m0 2h0m0 1h0m0 1h0m0 5h0m0 1h0m0 8h0m1-48h0m0 1h0m0 5h0m0 1h0m0 1h0m0 7h0m0 2h0m0 4h0m0 3h0m0 3h0m0 6h0m0 1h0m0 5h0m0 2h0m1-32h0m0 1h0m0 1h0m0 1h0m0 1h0m0 1h0m0 1h0m0 15h0m0 3h0m0 2h0m0 2h0m0 10h0m0 1h0m1-46h0m0 2h0m0 3h0m0 2h0m0 2h0m0 7h0m0 5h0m0 8h0m0 3h0m0 6h0m0 2h0m0 8h0m1-68h0m0 11h0m0 11h0m0 7h0m0 7h0m0 3h0m0 3h0m0 1h0m0 9h0m0 2h0m0 6h0m0 1h0m0 3h0m1-63h0m0 27h0m0 3h0m0 1h0m0 1h0m0 1h0m0 1h0m0 1h0m0 3h0m0 8h0m0 3h0m0 1h0m0 10h0m0 6h0m1-67h0m0 16h0m0 20h0m0 1h0m0 3h0m0 1h0m0 1h0m0 1h0m0 6h0m0 1h0m0 1h0m0 1h0m0 1h0m0 4h0m0 1h0m0 2h0m0 1h0m1-51h0m0 5h0m0 3h0m0 11h0m0 2h0m0 5h0m0 12h0m0 5h0m0 2h0m1-57h0m0 19h0m0 5h0m0 3h0m0 1h0m0 2h0m0 1h0m0 4h0m0 7h0m0 4h0m0 1h0m0 7h0m0 3h0m0 1h0m0 1h0m0 8h0m1-51h0m0 3h0m0 2h0m0 1h0m0 4h0m0 10h0m0 6h0m0 13h0m0 4h0m0 20h0m1-76h0m0 6h0m0 6h0m0 1h0m0 15h0m0 3h0m0 1h0m0 1h0m0 14h0m0 1h0m0 6h0m0 6h0m0 3h0m1-43h0m0 6h0m0 5h0m0 2h0m0 2h0m0 8h0m0 3h0m0 9h0m0 20h0m0 2h0m1-69h0m0 15h0m0 5h0m0 3h0m0 1h0m0 2h0m0 11h0m0 4h0m0 2h0m0 1h0m0 3h0m1-49h0m0 11h0m0 5h0m0 9h0m0 1h0m0 1h0m0 10h0m0 6h0m0 5h0m0 6h0m0 3h0m0 1h0m0 3h0m1-63h0m0 13h0m0 8h0m0 5h0m0 1h0m0 1h0m0 4h0m0 1h0m0 1h0m0 3h0m0 2h0m0 7h0m0 5h0m0 10h0m1-65h0m0 15h0m0 3h0m0 8h0m0 1h0m0 4h0m0 1h0m0 1h0m0 1h0m0 1h0m0 1h0m0 2h0m0 7h0m0 1h0m0 6h0m0 3h0m0 1h0m0 4h0m1-64h0m0 13h0m0 10h0m0 8h0m0 1h0m0 1h0m0 3h0m0 1h0m0 2h0m0 2h0m0 5h0m0 1h0m0 4h0m0 1h0m0 7h0m0 16h0m1-62h0m0 18h0m0 1h0m0 3h0m0 1h0m0 4h0m0 1h0m0 3h0m0 1h0m0 2h0m0 15h0m1-63h0m0 20h0m0 6h0m0 3h0m0 1h0m0 4h0m0 1h0m0 2h0m0 9h0m0 9h0m0 4h0m0 3h0m1-43h0m0 3h0m0 2h0m0 2h0m0 4h0m0 7h0m0 9h0m0 5h0m0 1h0m0 2h0m0 5h0m0 1h0m0 2h0m0 3h0m0 4h0m0 2h0m1-70h0m0 2h0m0 34h0m0 1h0m0 3h0m0 2h0m0 2h0m0 2h0m0 3h0m0 1h0m0 1h0m0 1h0m0 17h0m1-67h0m0 16h0m0 1h0m0 4h0m0 2h0m0 1h0m0 5h0m0 4h0m0 1h0m0 2h0m0 3h0m0 5h0m0 4h0m0 3h0m0 16h0m1-70h0m0 7h0m0 10h0m0 4h0m0 8h0m0 9h0m0 2h0m0 2h0m0 3h0m0 4h0m0 2h0m0 6h0m0 2h0m0 4h0m0 1h0m0 9h0m1-56h0m0 6h0m0 2h0m0 4h0m0 4h0m0 1h0m0 4h0m0 3h0m0 4h0m0 2h0m0 1h0m0 3h0m0 13h0m1-63h0m0 1h0m0 20h0m0 3h0m0 5h0m0 24h0m0 11h0m0 2h0m0 2h0m1-52h0m0 5h0m0 8h0m0 5h0m0 3h0m0 14h0m0 2h0m0 7h0m0 9h0m1-57h0m0 13h0m0 4h0m0 6h0m0 2h0m0 6h0m0 4h0m0 2h0m0 4h0m0 4h0m0 2h0m0 1h0m0 5h0m0 1h0m0 7h0m1-61h0m0 9h0m0 1h0m0 3h0m0 3h0m0 15h0m0 5h0m0 1h0m0 2h0m0 2h0m0 8h0m0 4h0m0 7h0m1-50h0m0 4h0m0 9h0m0 1h0m0 1h0m0 9h0m0 1h0m0 3h0m0 12h0m1-45h0m0 6h0m0 3h0m0 9h0m0 7h0m0 4h0m0 12h0m0 7h0m1-40h0m0 4h0m0 4h0m0 3h0m0 11h0m0 3h0m0 5h0m0 2h0m0 2h0m0 2h0m1-56h0m0 9h0m0 4h0m0 2h0m0 1h0m0 3h0m0 3h0m0 7h0m0 3h0m0 4h0m0 2h0m0 2h0m0 2h0m0 7h0m0 3h0m1-40h0m0 12h0m0 5h0m0 1h0m0 3h0m0 2h0m0 8h0m0 1h0m0 2h0m0 1h0m0 2h0m0 1h0m0 1h0m0 2h0m0 2h0m1-63h0m0 18h0m0 3h0m0 2h0m0 1h0m0 6h0m0 1h0m0 2h0m0 4h0m0 2h0m0 3h0m0 5h0m0 1h0m0 1h0m0 1h0m0 1h0m0 6h0m0 5h0m1-42h0m0 1h0m0 6h0m0 2h0m0 7h0m0 13h0m0 4h0m0 6h0m0 5h0m0 2h0m1-39h0m0 7h0m0 2h0m0 6h0m0 5h0m0 10h0m0 6h0m0 5h0m1-36h0m0 5h0m0 4h0m0 3h0m0 3h0m0 2h0m0 4h0m0 1h0m0 8h0m0 5h0m0 5h0m1-46h0m0 6h0m0 1h0m0 4h0m0 5h0m0 1h0m0 1h0m0 3h0m0 3h0m0 1h0m0 1h0m0 11h0m0 1h0m0 7h0m1-73h0m0 5h0m0 17h0m0 7h0m0 4h0m0 1h0m0 2h0m0 7h0m0 8h0m0 1h0m0 1h0m0 2h0m0 4h0m0 3h0m0 21h0m1-70h0m0 13h0m0 7h0m0 2h0m0 1h0m0 8h0m0 4h0m0 7h0m0 2h0m0 13h0m0 1h0m1-63h0m0 9h0m0 1h0m0 4h0m0 2h0m0 2h0m0 5h0m0 3h0m0 2h0m0 4h0m0 8h0m0 4h0m0 2h0m0 5h0m0 2h0m0 2h0m0 2h0m0 1h0m0 6h0m1-47h0m0 3h0m0 6h0m0 1h0m0 2h0m0 1h0m0 1h0m0 3h0m0 3h0m0 9h0m0 3h0m0 4h0m0 7h0m1-48h0m0 1h0m0 6h0m0 6h0m0 14h0m0 4h0m0 2h0m0 1h0m0 4h0m0 2h0m0 5h0m0 2h0m0 2h0m1-65h0m0 5h0m0 8h0m0 8h0m0 7h0m0 2h0m0 2h0m0 1h0m0 5h0m0 3h0m0 3h0m0 3h0m0 1h0m0 2h0m0 1h0m0 5h0m0 14h0m1-49h0m0 1h0m0 4h0m0 4h0m0 5h0m0 1h0m0 1h0m0 2h0m0 9h0m0 5h0m0 2h0m0 1h0m0 1h0m1-52h0m0 15h0m0 4h0m0 1h0m0 10h0m0 3h0m0 3h0m0 2h0m0 2h0m0 2h0m0 2h0m0 3h0m0 2h0m0 9h0m0 6h0m1-47h0m0 6h0m0 9h0m0 2h0m0 6h0m0 1h0m0 9h0m1-53h0m0 24h0m0 1h0m0 10h0m0 30h0m1-55h0m0 2h0m0 6h0m0 2h0m0 2h0m0 1h0m0 2h0m0 11h0m0 6h0m0 9h0m0 4h0m0 1h0m0 10h0m1-58h0m0 23h0m0 2h0m0 4h0m1-13h0m0 11h0m0 5h0m0 12h0m0 8h0m1-55h0m0 16h0m0 19h0m0 7h0m0 3h0m0 11h0m1-54h0m0 17h0m0 3h0m0 5h0m0 6h0m0 8h0m0 10h0m1-35h0m0 1h0m0 1h0m0 10h0m0 4h0m0 6h0m0 4h0m0 2h0m0 11h0m1-54h0m0 19h0m0 4h0m0 8h0m0 2h0m0 2h0m0 5h0m0 3h0m0 8h0m0 4h0m1-50h0m0 7h0m0 1h0m0 6h0m0 13h0m0 3h0m0 3h0m0 4h0m1-30h0m0 3h0m0 2h0m0 11h0m0 6h0m0 3h0m0 9h0m0 8h0m1-56h0m0 16h0m0 13h0m0 1h0m0 16h0m0 1h0m1-28h0m0 2h0m0 7h0m0 6h0m0 3h0m0 8h0m0 9h0m0 4h0m0 1h0m1-39h0m0 1h0m0 2h0m0 1h0m0 10h0m0 7h0m0 4h0m0 2h0m1-41h0m0 12h0m0 1h0m0 22h0m0 2h0m0 1h0m0 2h0m0 8h0m1-44h0m0 5h0m0 13h0m0 4h0m0 4h0m0 1h0m0 1h0m0 5h0m0 16h0m0 9h0m1-48h0m0 1h0m0 8h0m0 10h0m0 2h0m0 11h0m1-41h0m0 11h0m0 23h0m0 1h0m0 7h0m1-48h0m0 22h0m0 5h0m0 13h0m0 2h0m0 8h0m1-36h0m0 11h0m0 8h0m0 13h0m0 13h0m1-51h0m0 7h0m0 1h0m0 2h0m0 8h0m0 2h0m0 6h0m0 2h0m1-33h0m0 22h0m0 18h0m0 4h0m1-23h0m0 3h0m0 8h0m0 12h0m1-55h0m0 15h0m0 14h0m0 3h0m0 19h0m0 2h0m1-17h0m0 1h0m1-33h0m0 21h0m0 1h0m0 6h0m0 3h0m0 5h0m2-9h0m0 2h0m0 4h0m1-7h0m1 7h0" stroke="#ee9a00"/>
<path d="M1225 849h0m1-54h0m0 7h0m0 34h0m0 53h0m2 1h0m1-119h0m0 17h0m0 31h0m0 5h0m1 27h0m1 8h0m0 25h0m1-49h0m0 66h0m1-54h0m0 3h0m1-13h0m0 25h0m1-18h0m0 41h0m1-55h0m1-25h0m0 50h0m1-53h0m0 55h0m0 16h0m1-36h0m0 12h0m1-1h0m0 11h0m1-62h0m0 24h0m0 3h0m0 29h0m1-82h0m0 53h0m0 13h0m1-2h0m0 19h0m0 10h0m0 16h0m1-33h0m0 34h0m1-91h0m0 75h0m1-22h0m1-42h0m0 46h0m1-6h0m0 1h0m0 5h0m0 7h0m1-19h0m0 69h0m1-73h0m0 31h0m0 26h0m1-36h0m0 20h0m1-19h0m0 17h0m1-63h0m0 35h0m0 19h0m1-14h0m0 2h0m0 9h0m0 7h0m0 3h0m0 11h0m1-48h0m0 8h0m1 19h0m0 7h0m0 17h0m0 2h0m1-89h0m0 20h0m0 15h0m0 5h0m0 12h0m0 26h0m1-120h0m0 35h0m0 13h0m0 6h0m0 23h0m0 13h0m1-10h0m0 2h0m0 28h0m1-41h0m0 26h0m0 11h0m0 1h0m0 9h0m1-79h0m0 1h0m0 35h0m0 43h0m1-59h0m0 36h0m1-26h0m0 20h0m0 8h0m0 28h0m1-103h0m0 39h0m0 13h0m0 3h0m0 9h0m0 12h0m0 13h0m1-28h0m0 5h0m0 7h0m0 14h0m0 2h0m0 6h0m1-78h0m0 30h0m0 2h0m0 22h0m0 22h0m0 14h0m1-74h0m0 1h0m0 25h0m1-18h0m0 54h0m0 8h0m1-86h0m0 45h0m0 10h0m1-25h0m0 1h0m0 20h0m0 3h0m0 24h0m0 18h0m1-79h0m0 5h0m0 8h0m0 8h0m0 1h0m0 36h0m1-92h0m0 33h0m0 13h0m0 14h0m0 2h0m0 9h0m1-15h0m0 27h0m0 16h0m0 25h0m1-91h0m0 2h0m0 17h0m0 15h0m0 19h0m1-55h0m0 1h0m0 36h0m0 2h0m0 11h0m1-48h0m0 8h0m0 8h0m0 5h0m0 2h0m0 6h0m0 5h0m0 2h0m0 18h0m0 9h0m1-74h0m0 6h0m0 17h0m0 31h0m1-113h0m0 123h0m0 2h0m1-36h0m0 9h0m0 11h0m0 5h0m1-56h0m0 44h0m0 3h0m0 4h0m1-87h0m0 52h0m0 18h0m0 13h0m1-69h0m0 50h0m0 2h0m0 38h0m1-38h0m0 10h0m0 14h0m1-59h0m0 7h0m0 18h0m0 5h0m0 23h0m0 1h0m0 16h0m0 2h0m1-36h0m0 16h0m0 3h0m0 1h0m0 2h0m0 2h0m0 30h0m1-66h0m0 8h0m0 6h0m0 16h0m0 13h0m0 3h0m0 5h0m1-33h0m0 8h0m0 9h0m0 16h0m1-100h0m0 35h0m0 4h0m0 14h0m0 1h0m0 13h0m0 9h0m0 2h0m0 46h0m1-84h0m0 8h0m0 31h0m1-55h0m0 18h0m0 18h0m0 8h0m0 3h0m0 3h0m0 1h0m0 10h0m1-43h0m0 7h0m0 17h0m0 3h0m0 1h0m0 5h0m0 3h0m0 1h0m0 14h0m1-51h0m0 14h0m0 8h0m0 33h0m1-101h0m0 32h0m0 9h0m0 3h0m0 1h0m0 5h0m0 11h0m0 3h0m0 1h0m0 4h0m0 14h0m0 5h0m1-57h0m0 12h0m0 8h0m0 16h0m0 15h0m0 3h0m1-60h0m0 5h0m0 33h0m0 4h0m0 16h0m0 1h0m0 1h0m1-48h0m0 9h0m0 9h0m0 2h0m0 20h0m0 13h0m1-53h0m0 1h0m0 8h0m0 8h0m0 4h0m0 16h0m1-48h0m0 9h0m0 11h0m0 7h0m0 9h0m0 4h0m0 4h0m0 3h0m0 8h0m1-53h0m0 33h0m0 5h0m0 1h0m1-36h0m0 14h0m0 13h0m0 4h0m0 29h0m1-58h0m0 19h0m0 5h0m0 1h0m0 3h0m0 5h0m0 10h0m0 8h0m0 6h0m0 11h0m1-83h0m0 12h0m0 13h0m0 9h0m0 1h0m0 15h0m0 4h0m1-83h0m0 41h0m0 19h0m0 4h0m0 2h0m0 1h0m0 3h0m0 8h0m0 4h0m0 4h0m0 7h0m0 1h0m0 3h0m0 4h0m1-57h0m0 4h0m0 8h0m0 13h0m0 2h0m0 8h0m0 1h0m0 2h0m0 2h0m0 11h0m1-58h0m0 9h0m0 5h0m0 5h0m0 2h0m0 2h0m0 13h0m0 7h0m0 3h0m1-40h0m0 20h0m0 9h0m0 6h0m0 6h0m1-48h0m0 7h0m0 20h0m0 11h0m0 5h0m0 1h0m0 1h0m0 1h0m1-53h0m0 13h0m0 2h0m0 8h0m0 10h0m0 8h0m1-26h0m0 14h0m0 1h0m0 2h0m0 2h0m0 4h0m0 5h0m0 6h0m0 7h0m0 18h0m1-49h0m0 6h0m0 2h0m0 4h0m0 1h0m0 5h0m0 17h0m1-31h0m0 2h0m0 2h0m0 3h0m0 3h0m0 8h0m0 9h0m0 6h0m1-74h0m0 33h0m0 12h0m0 2h0m0 63h0m1-72h0m0 1h0m0 2h0m0 4h0m0 14h0m0 10h0m1-32h0m0 6h0m0 1h0m0 1h0m0 1h0m0 13h0m0 4h0m0 10h0m0 1h0m0 1h0m1-43h0m0 3h0m0 1h0m0 8h0m0 8h0m0 11h0m0 2h0m1-30h0m0 3h0m0 7h0m0 1h0m0 25h0m1-99h0m0 34h0m0 11h0m0 10h0m0 8h0m0 9h0m0 1h0m0 5h0m0 2h0m0 2h0m0 1h0m0 16h0m0 12h0m1-59h0m0 10h0m0 4h0m0 3h0m0 1h0m0 5h0m1-22h0m0 6h0m0 6h0m0 1h0m0 5h0m0 7h0m0 10h0m0 3h0m0 2h0m1-30h0m0 3h0m0 5h0m0 3h0m0 1h0m0 4h0m0 2h0m0 4h0m0 2h0m0 15h0m0 9h0m1-81h0m0 5h0m0 15h0m0 4h0m0 2h0m0 7h0m0 1h0m0 3h0m0 4h0m0 1h0m0 1h0m0 1h0m0 3h0m0 2h0m0 5h0m0 11h0m0 29h0m1-125h0m0 44h0m0 10h0m0 14h0m0 1h0m0 6h0m0 6h0m0 12h0m0 4h0m1-58h0m0 11h0m0 11h0m0 1h0m0 3h0m0 1h0m0 2h0m0 7h0m0 6h0m0 5h0m0 12h0m1-51h0m0 11h0m0 14h0m0 4h0m0 1h0m0 1h0m0 3h0m0 11h0m1-33h0m0 3h0m0 11h0m0 1h0m0 3h0m0 31h0m1-44h0m0 4h0m0 3h0m0 4h0m0 3h0m0 1h0m0 17h0m0 4h0m1-49h0m0 11h0m0 4h0m0 1h0m0 1h0m0 2h0m0 3h0m0 4h0m0 1h0m0 3h0m0 9h0m0 1h0m1-33h0m0 14h0m0 1h0m0 6h0m0 2h0m0 2h0m0 26h0m1-58h0m0 10h0m0 1h0m0 1h0m0 2h0m0 6h0m0 2h0m0 3h0m0 2h0m0 1h0m0 9h0m0 4h0m1-39h0m0 4h0m0 2h0m0 2h0m0 3h0m0 2h0m0 1h0m0 1h0m0 2h0m0 1h0m0 1h0m0 2h0m0 1h0m0 6h0m0 6h0m0 2h0m0 39h0m1-68h0m0 10h0m0 2h0m0 9h0m0 7h0m0 1h0m0 1h0m0 4h0m1-55h0m0 14h0m0 5h0m0 13h0m0 1h0m0 1h0m0 3h0m0 3h0m0 7h0m1-38h0m0 11h0m0 2h0m0 1h0m0 2h0m0 4h0m0 1h0m0 1h0m0 2h0m0 2h0m0 1h0m0 4h0m0 3h0m0 40h0m1-66h0m0 7h0m0 1h0m0 1h0m0 1h0m0 4h0m0 2h0m0 4h0m0 1h0m0 1h0m0 1h0m0 2h0m0 1h0m0 7h0m1-29h0m0 1h0m0 2h0m0 2h0m0 2h0m0 3h0m0 7h0m0 3h0m0 3h0m0 1h0m0 2h0m0 5h0m1-41h0m0 3h0m0 1h0m0 1h0m0 2h0m0 6h0m0 4h0m0 3h0m0 2h0m0 4h0m0 5h0m0 3h0m0 9h0m1-46h0m0 1h0m0 5h0m0 2h0m0 1h0m0 4h0m0 1h0m0 4h0m0 1h0m0 1h0m0 2h0m0 4h0m0 3h0m0 10h0m0 4h0m0 21h0m1-59h0m0 1h0m0 6h0m0 1h0m0 1h0m0 2h0m0 4h0m0 2h0m0 4h0m0 7h0m0 9h0m0 4h0m0 1h0m0 9h0m1-52h0m0 1h0m0 4h0m0 6h0m0 6h0m0 2h0m0 3h0m0 2h0m0 4h0m0 2h0m0 12h0m0 15h0m1-78h0m0 23h0m0 13h0m0 1h0m0 1h0m0 4h0m0 2h0m0 5h0m1-25h0m0 6h0m0 3h0m0 1h0m0 1h0m0 1h0m0 2h0m0 2h0m0 3h0m0 1h0m0 2h0m0 3h0m0 1h0m0 2h0m0 1h0m0 7h0m1-30h0m0 1h0m0 2h0m0 4h0m0 1h0m0 1h0m0 2h0m0 3h0m0 1h0m0 1h0m0 2h0m0 6h0m0 4h0m0 1h0m1-91h0m0 50h0m0 21h0m0 1h0m0 2h0m0 1h0m0 11h0m0 2h0m0 21h0m1-72h0m0 21h0m0 3h0m0 3h0m0 2h0m0 1h0m0 3h0m0 1h0m0 2h0m0 1h0m0 3h0m0 6h0m0 1h0m1-43h0m0 15h0m0 4h0m0 3h0m0 1h0m0 2h0m0 2h0m0 1h0m0 3h0m0 4h0m0 6h0m0 12h0m1-53h0m0 2h0m0 5h0m0 1h0m0 6h0m0 3h0m0 2h0m0 4h0m0 1h0m0 5h0m0 1h0m0 2h0m0 1h0m0 3h0m0 3h0m0 1h0m0 2h0m0 3h0m0 3h0m1-34h0m0 6h0m0 1h0m0 2h0m0 4h0m0 1h0m0 1h0m0 3h0m0 4h0m1-18h0m0 2h0m0 3h0m0 8h0m0 3h0m0 1h0m0 1h0m0 1h0m0 1h0m0 2h0m0 4h0m1-71h0m0 33h0m0 6h0m0 3h0m0 2h0m0 1h0m0 4h0m0 1h0m0 3h0m0 1h0m0 1h0m0 1h0m0 1h0m0 1h0m0 1h0m0 2h0m0 3h0m0 4h0m0 1h0m0 10h0m1-45h0m0 2h0m0 5h0m0 3h0m0 6h0m0 2h0m0 1h0m0 4h0m0 2h0m0 13h0m0 6h0m1-104h0m0 53h0m0 3h0m0 8h0m0 4h0m0 6h0m0 1h0m0 3h0m0 1h0m0 1h0m0 1h0m0 1h0m0 1h0m0 1h0m0 1h0m0 1h0m0 1h0m0 1h0m0 3h0m1-87h0m0 56h0m0 10h0m0 7h0m0 1h0m0 1h0m0 1h0m0 1h0m0 2h0m0 1h0m0 1h0m0 2h0m0 1h0m0 1h0m0 26h0m1-52h0m0 2h0m0 4h0m0 4h0m0 1h0m0 1h0m0 3h0m0 3h0m0 2h0m0 3h0m0 1h0m0 3h0m0 1h0m0 2h0m0 7h0m1-39h0m0 2h0m0 4h0m0 4h0m0 1h0m0 4h0m0 1h0m0 2h0m0 1h0m0 1h0m0 1h0m0 2h0m0 2h0m0 10h0m0 2h0m0 30h0m0 7h0m0 2h0m1-75h0m0 3h0m0 2h0m0 3h0m0 2h0m0 1h0m0 1h0m0 3h0m0 3h0m0 1h0m0 1h0m0 4h0m0 1h0m0 5h0m0 1h0m1-41h0m0 6h0m0 3h0m0 2h0m0 6h0m0 3h0m0 3h0m0 3h0m0 2h0m0 1h0m0 3h0m0 1h0m0 5h0m0 1h0m0 1h0m0 1h0m0 5h0m1-96h0m0 67h0m0 2h0m0 2h0m0 1h0m0 4h0m0 5h0m0 2h0m0 2h0m0 1h0m0 1h0m0 2h0m0 3h0m0 2h0m1-47h0m0 11h0m0 1h0m0 7h0m0 2h0m0 3h0m0 1h0m0 2h0m0 6h0m0 1h0m0 1h0m0 1h0m0 1h0m0 1h0m0 1h0m0 1h0m0 1h0m1-64h0m0 30h0m0 1h0m0 12h0m0 1h0m0 1h0m0 1h0m0 1h0m0 2h0m0 2h0m0 3h0m0 1h0m0 1h0m0 3h0m0 3h0m0 1h0m0 2h0m0 2h0m0 1h0m0 1h0m0 1h0m0 5h0m0 2h0m1-66h0m0 6h0m0 7h0m0 8h0m0 6h0m0 1h0m0 2h0m0 1h0m0 4h0m0 3h0m0 1h0m0 1h0m0 2h0m0 1h0m0 2h0m0 1h0m0 1h0m0 3h0m0 1h0m0 1h0m0 7h0m0 1h0m1-30h0m0 2h0m0 3h0m0 1h0m0 1h0m0 1h0m0 1h0m0 2h0m0 1h0m0 2h0m0 1h0m0 1h0m0 1h0m0 1h0m0 2h0m0 2h0m0 1h0m0 1h0m0 5h0m1-45h0m0 7h0m0 3h0m0 1h0m0 4h0m0 4h0m0 1h0m0 1h0m0 1h0m0 1h0m0 1h0m0 1h0m0 1h0m0 1h0m0 2h0m0 1h0m0 1h0m0 1h0m0 2h0m0 6h0m0 1h0m0 1h0m0 8h0m0 9h0m1-47h0m0 2h0m0 2h0m0 4h0m0 2h0m0 1h0m0 1h0m0 1h0m0 1h0m0 1h0m0 1h0m0 1h0m0 1h0m0 2h0m0 4h0m0 10h0m1-29h0m0 4h0m0 3h0m0 1h0m0 1h0m0 1h0m0 2h0m0 4h0m0 4h0m0 4h0m0 4h0m0 5h0m1-108h0m0 25h0m0 39h0m0 7h0m0 1h0m0 1h0m0 2h0m0 5h0m0 1h0m0 2h0m0 3h0m0 1h0m0 3h0m0 1h0m0 1h0m0 1h0m0 1h0m0 3h0m0 2h0m0 11h0m0 13h0m1-74h0m0 15h0m0 8h0m0 1h0m0 2h0m0 3h0m0 3h0m0 1h0m0 1h0m0 1h0m0 2h0m0 1h0m0 10h0m0 1h0m0 5h0m0 4h0m1-64h0m0 5h0m0 16h0m0 3h0m0 3h0m0 3h0m0 3h0m0 7h0m0 1h0m0 3h0m0 2h0m0 2h0m0 2h0m0 1h0m0 10h0m1-37h0m0 2h0m0 2h0m0 1h0m0 4h0m0 3h0m0 1h0m0 1h0m0 1h0m0 1h0m0 1h0m0 1h0m0 1h0m0 4h0m0 1h0m0 1h0m0 1h0m0 2h0m0 1h0m0 6h0m1-76h0m0 39h0m0 1h0m0 3h0m0 2h0m0 2h0m0 3h0m0 3h0m0 1h0m0 2h0m0 1h0m0 3h0m0 1h0m0 3h0m0 1h0m0 1h0m0 3h0m0 1h0m0 1h0m0 3h0m0 1h0m0 1h0m0 1h0m0 4h0m1-85h0m0 46h0m0 2h0m0 1h0m0 2h0m0 1h0m0 3h0m0 2h0m0 3h0m0 1h0m0 1h0m0 1h0m0 1h0m0 1h0m0 3h0m0 1h0m0 2h0m0 1h0m0 2h0m0 2h0m0 1h0m0 4h0m0 5h0m0 1h0m0 24h0m1-67h0m0 9h0m0 2h0m0 2h0m0 1h0m0 3h0m0 1h0m0 3h0m0 4h0m0 4h0m0 5h0m0 1h0m0 2h0m1-43h0m0 1h0m0 1h0m0 7h0m0 3h0m0 5h0m0 1h0m0 2h0m0 2h0m0 2h0m0 1h0m0 2h0m0 1h0m0 2h0m0 1h0m0 1h0m0 1h0m0 2h0m0 4h0m0 1h0m0 1h0m0 2h0m1-37h0m0 5h0m0 1h0m0 1h0m0 1h0m0 2h0m0 1h0m0 2h0m0 6h0m0 1h0m0 1h0m0 1h0m0 3h0m0 5h0m0 3h0m0 2h0m0 3h0m1-34h0m0 1h0m0 1h0m0 3h0m0 1h0m0 1h0m0 1h0m0 2h0m0 1h0m0 1h0m0 1h0m0 1h0m0 5h0m0 2h0m0 1h0m0 3h0m0 1h0m0 1h0m0 20h0m1-53h0m0 4h0m0 4h0m0 1h0m0 2h0m0 1h0m0 2h0m0 1h0m0 4h0m0 1h0m0 1h0m0 1h0m0 1h0m0 1h0m0 2h0m0 3h0m0 1h0m0 1h0m0 1h0m0 3h0m0 6h0m1-56h0m0 9h0m0 8h0m0 5h0m0 1h0m0 2h0m0 2h0m0 1h0m0 1h0m0 1h0m0 1h0m0 1h0m0 2h0m0 2h0m0 1h0m0 2h0m0 3h0m0 1h0m0 2h0m0 1h0m0 3h0m0 3h0m0 3h0m1-58h0m0 20h0m0 7h0m0 1h0m0 2h0m0 3h0m0 1h0m0 1h0m0 3h0m0 1h0m0 1h0m0 1h0m0 2h0m0 2h0m0 1h0m0 2h0m1-31h0m0 4h0m0 1h0m0 1h0m0 3h0m0 1h0m0 2h0m0 3h0m0 1h0m0 2h0m0 2h0m0 1h0m0 5h0m0 1h0m0 2h0m0 1h0m0 6h0m0 6h0m1-64h0m0 20h0m0 6h0m0 1h0m0 1h0m0 2h0m0 1h0m0 3h0m0 3h0m0 1h0m0 3h0m0 1h0m0 1h0m0 1h0m0 1h0m0 1h0m0 1h0m0 1h0m0 3h0m0 2h0m0 5h0m0 5h0m1-34h0m0 2h0m0 2h0m0 1h0m0 2h0m0 1h0m0 2h0m0 1h0m0 1h0m0 1h0m0 4h0m0 1h0m0 2h0m0 1h0m0 1h0m0 1h0m0 5h0m0 4h0m0 1h0m0 11h0m1-74h0m0 22h0m0 2h0m0 2h0m0 2h0m0 3h0m0 1h0m0 8h0m0 1h0m0 2h0m0 2h0m0 1h0m0 1h0m0 1h0m0 4h0m0 2h0m0 5h0m0 1h0m0 1h0m1-82h0m0 28h0m0 1h0m0 2h0m0 14h0m0 1h0m0 4h0m0 3h0m0 1h0m0 2h0m0 1h0m0 1h0m0 3h0m0 1h0m0 2h0m0 2h0m0 2h0m0 1h0m0 2h0m0 1h0m0 2h0m0 4h0m0 4h0m0 4h0m0 2h0m1-56h0m0 11h0m0 4h0m0 1h0m0 1h0m0 2h0m0 2h0m0 2h0m0 1h0m0 1h0m0 1h0m0 2h0m0 1h0m0 3h0m0 1h0m0 2h0m0 2h0m0 2h0m0 1h0m0 1h0m0 1h0m0 2h0m0 2h0m0 21h0m1-61h0m0 6h0m0 1h0m0 6h0m0 1h0m0 1h0m0 2h0m0 1h0m0 1h0m0 1h0m0 2h0m0 3h0m0 1h0m0 1h0m0 1h0m0 3h0m0 2h0m0 3h0m0 2h0m0 1h0m0 2h0m0 1h0m1-57h0m0 17h0m0 2h0m0 3h0m0 1h0m0 3h0m0 7h0m0 1h0m0 1h0m0 2h0m0 1h0m0 1h0m0 3h0m0 1h0m0 4h0m0 3h0m0 4h0m0 5h0m1-33h0m0 2h0m0 1h0m0 2h0m0 1h0m0 1h0m0 1h0m0 1h0m0 2h0m0 1h0m0 2h0m0 1h0m0 2h0m0 3h0m0 1h0m0 2h0m0 8h0m0 5h0m1-58h0m0 5h0m0 6h0m0 2h0m0 1h0m0 3h0m0 2h0m0 3h0m0 3h0m0 2h0m0 1h0m0 2h0m0 2h0m0 1h0m0 3h0m0 3h0m0 1h0m0 1h0m0 1h0m0 2h0m0 3h0m0 1h0m0 1h0m0 4h0m0 5h0m1-94h0m0 46h0m0 9h0m0 3h0m0 2h0m0 3h0m0 4h0m0 2h0m0 1h0m0 4h0m0 1h0m0 1h0m0 4h0m0 8h0m0 3h0m0 5h0m0 21h0m1-91h0m0 34h0m0 4h0m0 1h0m0 1h0m0 1h0m0 1h0m0 2h0m0 3h0m0 1h0m0 1h0m0 1h0m0 2h0m0 1h0m0 2h0m0 1h0m0 1h0m0 1h0m0 3h0m0 5h0m0 18h0m1-53h0m0 1h0m0 4h0m0 1h0m0 1h0m0 1h0m0 1h0m0 1h0m0 1h0m0 2h0m0 1h0m0 1h0m0 1h0m0 3h0m0 2h0m0 3h0m0 2h0m0 1h0m0 1h0m0 4h0m1-34h0m0 1h0m0 1h0m0 1h0m0 1h0m0 3h0m0 1h0m0 1h0m0 1h0m0 3h0m0 1h0m0 1h0m0 3h0m0 1h0m0 3h0m0 3h0m0 1h0m0 3h0m0 3h0m0 3h0m1-84h0m0 32h0m0 10h0m0 5h0m0 1h0m0 2h0m0 2h0m0 1h0m0 2h0m0 1h0m0 1h0m0 2h0m0 1h0m0 2h0m0 2h0m0 5h0m0 1h0m0 2h0m0 1h0m0 1h0m0 2h0m0 4h0m0 4h0m0 1h0m1-28h0m0 6h0m0 2h0m0 1h0m0 2h0m0 4h0m0 4h0m0 1h0m0 2h0m0 4h0m1-37h0m0 7h0m0 1h0m0 2h0m0 1h0m0 1h0m0 1h0m0 1h0m0 3h0m0 1h0m0 4h0m0 1h0m0 2h0m0 1h0m0 2h0m0 1h0m0 2h0m0 5h0m1-39h0m0 7h0m0 5h0m0 1h0m0 2h0m0 1h0m0 2h0m0 1h0m0 1h0m0 2h0m0 4h0m0 1h0m0 2h0m0 3h0m0 4h0m1-50h0m0 7h0m0 9h0m0 6h0m0 4h0m0 9h0m0 2h0m0 1h0m0 1h0m0 3h0m0 1h0m0 1h0m0 14h0m0 2h0m1-50h0m0 7h0m0 6h0m0 4h0m0 1h0m0 2h0m0 2h0m0 2h0m0 3h0m0 3h0m0 1h0m0 1h0m0 1h0m0 1h0m0 4h0m0 1h0m0 4h0m0 3h0m1-47h0m0 1h0m0 6h0m0 11h0m0 2h0m0 1h0m0 1h0m0 2h0m0 1h0m0 1h0m0 2h0m0 1h0m0 1h0m0 2h0m0 17h0m1-100h0m0 58h0m0 1h0m0 1h0m0 1h0m0 4h0m0 4h0m0 1h0m0 1h0m0 1h0m0 1h0m0 1h0m0 2h0m0 1h0m0 2h0m0 1h0m0 1h0m0 2h0m0 6h0m0 5h0m0 2h0m0 4h0m1-91h0m0 47h0m0 5h0m0 2h0m0 4h0m0 1h0m0 1h0m0 1h0m0 2h0m0 1h0m0 2h0m0 2h0m0 1h0m0 1h0m0 1h0m0 3h0m0 7h0m0 3h0m0 4h0m0 8h0m1-52h0m0 6h0m0 1h0m0 2h0m0 1h0m0 1h0m0 2h0m0 1h0m0 1h0m0 2h0m0 1h0m0 1h0m0 1h0m0 1h0m0 1h0m0 1h0m0 2h0m0 1h0m0 1h0m0 3h0m0 2h0m0 1h0m0 2h0m0 5h0m0 3h0m0 8h0m1-72h0m0 15h0m0 3h0m0 13h0m0 1h0m0 2h0m0 1h0m0 2h0m0 1h0m0 1h0m0 1h0m0 2h0m0 1h0m0 1h0m0 2h0m0 4h0m0 3h0m0 3h0m0 2h0m0 3h0m1-59h0m0 10h0m0 22h0m0 1h0m0 2h0m0 1h0m0 4h0m0 4h0m0 2h0m1-21h0m0 4h0m0 3h0m0 2h0m0 1h0m0 3h0m0 1h0m0 1h0m0 2h0m0 1h0m0 2h0m0 2h0m0 1h0m0 1h0m0 1h0m0 5h0m0 4h0m0 8h0m1-54h0m0 7h0m0 3h0m0 1h0m0 4h0m0 1h0m0 3h0m0 2h0m0 1h0m0 1h0m0 6h0m0 1h0m0 1h0m0 5h0m0 2h0m0 1h0m1-87h0m0 38h0m0 20h0m0 2h0m0 7h0m0 3h0m0 1h0m0 1h0m0 1h0m0 2h0m0 1h0m0 1h0m0 1h0m0 3h0m0 5h0m0 4h0m0 1h0m1-38h0m0 5h0m0 3h0m0 2h0m0 2h0m0 3h0m0 3h0m0 1h0m0 2h0m0 2h0m0 2h0m0 2h0m0 1h0m0 1h0m0 4h0m0 4h0m0 6h0m0 7h0m1-68h0m0 17h0m0 6h0m0 7h0m0 2h0m0 1h0m0 2h0m0 1h0m0 1h0m0 1h0m0 1h0m0 5h0m0 1h0m0 1h0m0 1h0m0 1h0m0 2h0m0 1h0m0 6h0m0 2h0m0 4h0m1-81h0m0 32h0m0 10h0m0 7h0m0 1h0m0 1h0m0 1h0m0 4h0m0 3h0m0 1h0m0 1h0m0 3h0m0 1h0m0 9h0m0 4h0m0 1h0m1-87h0m0 47h0m0 1h0m0 2h0m0 4h0m0 2h0m0 2h0m0 7h0m0 1h0m0 3h0m0 3h0m0 2h0m0 1h0m0 1h0m0 4h0m1-41h0m0 3h0m0 2h0m0 1h0m0 4h0m0 4h0m0 3h0m0 4h0m0 2h0m0 1h0m0 4h0m0 1h0m0 1h0m0 2h0m0 1h0m0 4h0m0 3h0m0 2h0m0 1h0m0 4h0m0 4h0m0 1h0m1-48h0m0 6h0m0 2h0m0 2h0m0 4h0m0 1h0m0 1h0m0 2h0m0 1h0m0 2h0m0 1h0m0 2h0m0 2h0m0 1h0m0 6h0m0 1h0m0 2h0m0 5h0m0 2h0m0 3h0m0 10h0m1-47h0m0 4h0m0 2h0m0 1h0m0 1h0m0 1h0m0 3h0m0 1h0m0 1h0m0 3h0m0 2h0m0 1h0m0 1h0m0 4h0m0 1h0m0 8h0m0 4h0m0 1h0m1-51h0m0 2h0m0 11h0m0 2h0m0 4h0m0 3h0m0 1h0m0 1h0m0 2h0m0 2h0m0 5h0m0 1h0m0 2h0m0 3h0m0 4h0m0 7h0m1-47h0m0 2h0m0 10h0m0 1h0m0 2h0m0 3h0m0 2h0m0 3h0m0 2h0m0 2h0m0 1h0m0 9h0m0 9h0m1-80h0m0 14h0m0 24h0m0 3h0m0 11h0m0 1h0m0 1h0m0 2h0m0 2h0m0 2h0m0 3h0m0 2h0m0 2h0m1-50h0m0 15h0m0 15h0m0 4h0m0 1h0m0 1h0m0 1h0m0 2h0m0 6h0m0 3h0m0 4h0m0 25h0m1-89h0m0 32h0m0 5h0m0 2h0m0 3h0m0 2h0m0 3h0m0 3h0m0 1h0m0 1h0m0 2h0m0 6h0m0 4h0m0 2h0m1-43h0m0 2h0m0 3h0m0 6h0m0 1h0m0 1h0m0 2h0m0 2h0m0 5h0m0 1h0m0 1h0m0 1h0m0 1h0m0 1h0m0 1h0m0 1h0m0 3h0m0 15h0m1-69h0m0 17h0m0 9h0m0 5h0m0 2h0m0 4h0m0 5h0m0 1h0m0 1h0m0 1h0m0 1h0m0 1h0m0 5h0m0 1h0m0 2h0m0 1h0m0 1h0m0 14h0m1-64h0m0 6h0m0 1h0m0 6h0m0 15h0m0 1h0m0 7h0m0 1h0m0 1h0m0 3h0m0 3h0m0 2h0m0 5h0m0 1h0m0 1h0m0 1h0m0 7h0m1-51h0m0 12h0m0 7h0m0 4h0m0 3h0m0 3h0m0 1h0m0 1h0m0 1h0m0 1h0m0 5h0m0 1h0m0 1h0m0 2h0m0 12h0m0 9h0m0 20h0m1-86h0m0 15h0m0 9h0m0 1h0m0 1h0m0 2h0m0 2h0m0 3h0m0 4h0m0 1h0m0 3h0m0 1h0m0 1h0m0 13h0m1-80h0m0 38h0m0 1h0m0 3h0m0 1h0m0 1h0m0 4h0m0 4h0m0 3h0m0 1h0m0 1h0m0 1h0m0 1h0m0 1h0m0 1h0m0 2h0m0 5h0m0 9h0m1-43h0m0 1h0m0 7h0m0 2h0m0 3h0m0 3h0m0 9h0m0 15h0m1-33h0m0 2h0m0 1h0m0 3h0m0 4h0m0 5h0m0 2h0m0 3h0m0 3h0m1-30h0m0 12h0m0 3h0m0 5h0m0 3h0m0 1h0m0 2h0m0 11h0m0 6h0m1-44h0m0 4h0m0 5h0m0 5h0m0 2h0m0 8h0m0 3h0m0 6h0m0 3h0m0 4h0m0 7h0m1-45h0m0 9h0m0 1h0m0 1h0m0 1h0m0 1h0m0 1h0m0 3h0m0 4h0m0 1h0m0 1h0m0 7h0m1-24h0m0 9h0m0 5h0m0 1h0m0 1h0m0 1h0m0 2h0m0 3h0m1-34h0m0 2h0m0 15h0m0 6h0m0 3h0m0 1h0m0 1h0m0 1h0m0 2h0m0 1h0m0 1h0m0 1h0m0 3h0m0 14h0m1-63h0m0 14h0m0 1h0m0 1h0m0 11h0m0 4h0m0 3h0m0 1h0m0 3h0m0 1h0m0 3h0m0 1h0m0 2h0m0 1h0m0 2h0m0 1h0m1-34h0m0 8h0m0 2h0m0 1h0m0 2h0m0 3h0m0 1h0m0 2h0m0 9h0m0 4h0m0 1h0m0 6h0m0 6h0m1-50h0m0 5h0m0 2h0m0 8h0m0 3h0m0 2h0m0 1h0m0 2h0m0 1h0m0 3h0m0 1h0m0 9h0m0 9h0m1-48h0m0 12h0m0 1h0m0 5h0m0 1h0m0 3h0m0 2h0m0 3h0m0 3h0m0 5h0m0 5h0m0 3h0m1-87h0m0 53h0m0 6h0m0 3h0m0 10h0m0 1h0m0 5h0m0 7h0m0 4h0m1-50h0m0 7h0m0 19h0m0 7h0m0 4h0m0 1h0m0 9h0m1-26h0m0 1h0m0 1h0m0 1h0m0 1h0m0 1h0m0 5h0m0 6h0m0 5h0m0 2h0m0 3h0m0 1h0m1-72h0m0 34h0m0 6h0m0 2h0m0 1h0m0 7h0m0 2h0m0 8h0m0 5h0m0 6h0m0 4h0m1-30h0m0 5h0m0 13h0m0 5h0m0 9h0m0 1h0m0 9h0m1-61h0m0 7h0m0 1h0m0 4h0m0 6h0m0 4h0m0 4h0m0 1h0m0 5h0m0 1h0m0 2h0m0 9h0m0 28h0m0 6h0m1-75h0m0 4h0m0 1h0m0 4h0m0 7h0m0 3h0m0 2h0m0 4h0m0 11h0m0 6h0m0 8h0m1-49h0m0 17h0m0 11h0m0 8h0m0 11h0m1-63h0m0 32h0m0 1h0m0 3h0m0 4h0m0 2h0m0 7h0m1-56h0m0 22h0m0 1h0m0 2h0m0 6h0m0 2h0m0 4h0m0 10h0m0 5h0m0 2h0m0 2h0m0 1h0m0 7h0m0 14h0m1-75h0m0 30h0m0 12h0m0 4h0m0 4h0m0 1h0m1-29h0m0 2h0m0 6h0m0 2h0m0 6h0m0 2h0m0 1h0m0 9h0m0 10h0m0 6h0m0 4h0m1-46h0m0 4h0m0 9h0m0 1h0m0 2h0m0 2h0m0 26h0m1-35h0m0 6h0m0 3h0m0 1h0m0 1h0m0 11h0m0 3h0m0 1h0m1-42h0m0 4h0m0 2h0m0 8h0m0 7h0m0 1h0m0 3h0m0 4h0m0 3h0m0 1h0m0 10h0m1-39h0m0 10h0m0 11h0m0 4h0m0 2h0m0 1h0m0 13h0m0 2h0m1-57h0m0 24h0m0 4h0m0 3h0m0 2h0m0 12h0m0 3h0m1-61h0m0 25h0m0 2h0m0 7h0m0 5h0m0 2h0m0 1h0m0 3h0m0 6h0m0 18h0m0 1h0m1-69h0m0 6h0m0 16h0m0 6h0m0 6h0m0 1h0m0 1h0m0 10h0m0 3h0m0 1h0m0 6h0m1-96h0m0 19h0m0 46h0m0 4h0m0 15h0m0 16h0m1-23h0m0 10h0m0 7h0m0 5h0m0 1h0m0 1h0m0 1h0m0 5h0m1-61h0m0 24h0m0 11h0m0 1h0m0 2h0m0 17h0m0 2h0m0 2h0m1-105h0m0 62h0m0 5h0m0 6h0m0 1h0m0 1h0m0 13h0m0 6h0m0 8h0m1-40h0m0 2h0m0 7h0m0 5h0m0 1h0m0 2h0m0 8h0m0 1h0m0 4h0m0 4h0m0 3h0m0 1h0m1-23h0m0 4h0m0 2h0m0 4h0m0 1h0m0 10h0m0 19h0m1-55h0m0 3h0m0 2h0m0 6h0m0 1h0m0 2h0m0 7h0m0 6h0m0 3h0m0 11h0m0 1h0m1-34h0m0 6h0m0 1h0m0 1h0m0 1h0m0 2h0m0 3h0m0 9h0m0 2h0m0 1h0m0 2h0m0 11h0m1-56h0m0 6h0m0 9h0m0 2h0m0 3h0m0 39h0m1-75h0m0 18h0m0 11h0m0 19h0m0 4h0m0 16h0m1-43h0m0 20h0m0 4h0m0 2h0m0 2h0m0 2h0m1-14h0m1-15h0m0 7h0m0 11h0m0 1h0m0 7h0m0 4h0m1-30h0m0 6h0m1-34h0m0 3h0m0 18h0m0 1h0m0 3h0m0 1h0m0 18h0m0 15h0m0 3h0m1-39h0m0 9h0m0 3h0m0 4h0m0 4h0m0 11h0m0 6h0m1-53h0m0 13h0m0 11h0m0 26h0m0 2h0m1-39h0m0 2h0m0 2h0m0 5h0m0 7h0m0 3h0m0 3h0m0 1h0m1-43h0m0 21h0m0 4h0m0 9h0m0 3h0m0 1h0m0 2h0m0 1h0m0 1h0m0 3h0m0 1h0m0 25h0m1-50h0m0 6h0m0 5h0m0 5h0m0 4h0m0 4h0m0 2h0m0 10h0m0 1h0m0 3h0m1-24h0m0 2h0m1-17h0m0 11h0m0 2h0m0 1h0m0 1h0m0 4h0m0 15h0m1-22h0m0 6h0m1-17h0m0 5h0m0 12h0m0 1h0m0 5h0m0 7h0m1-20h0m0 7h0m0 4h0m0 2h0m0 11h0m1-38h0m0 8h0m0 2h0m0 6h0m0 2h0m0 2h0m0 8h0m0 3h0m1-69h0m0 43h0m0 11h0m0 9h0m0 14h0m0 1h0m1-37h0m0 4h0m0 4h0m0 12h0m0 3h0m0 1h0m0 7h0m1-24h0m0 2h0m0 1h0m0 3h0m0 1h0m0 17h0m0 6h0m1-46h0m0 14h0m0 7h0m1-15h0m0 8h0m0 7h0m0 1h0m0 13h0m0 2h0m0 2h0m1-22h0m0 5h0m0 2h0m0 8h0m0 3h0m0 7h0m1-72h0m0 39h0m0 3h0m0 12h0m0 1h0m0 7h0m0 1h0m0 1h0m0 14h0m1-129h0m0 94h0m0 8h0m0 3h0m0 2h0m0 1h0m0 4h0m0 1h0m0 4h0m1-30h0m0 5h0m0 3h0m0 3h0m0 2h0m0 16h0m1-40h0m0 41h0m1-19h0m0 7h0m0 3h0m0 1h0m0 4h0m1-19h0m0 2h0m0 1h0m0 7h0m1-18h0m0 22h0m0 2h0m1-43h0m0 32h0m0 2h0m0 6h0m0 7h0m0 1h0m0 16h0m1-42h0m0 1h0m0 1h0m0 2h0m0 3h0m0 6h0m0 1h0m0 4h0m0 1h0m0 1h0m0 1h0m0 1h0m0 1h0m0 1h0m0 7h0m1-34h0m0 8h0m0 13h0m0 1h0m0 1h0m0 5h0m0 4h0m0 5h0m1-39h0m0 16h0m0 2h0m0 12h0m1-23h0m0 18h0m0 3h0m0 1h0m1-30h0m0 4h0m0 5h0m0 10h0m0 5h0m0 11h0m1-30h0m0 19h0m1-33h0m0 12h0m0 4h0m0 17h0m0 4h0m1-10h0m0 8h0m1 2h0m1-20h0m0 19h0m1-15h0m0 7h0m0 8h0m1-24h0m0 7h0m0 1h0m0 18h0m2-35h0m0 17h0m0 1h0m0 2h0m0 4h0m0 1h0m0 2h0m0 7h0m1-28h0m0 12h0m0 7h0m1-5h0m0 4h0m1 13h0m1-14h0m0 15h0" stroke="#1c86ee"/>
<path d="M1076 890h0m7 6h0m1-21h0m7 15h0m4-10h0m0 12h0m8 15h0m1-9h0m2-23h0m2 33h0m7 2h0m1-35h0m0 36h0m1-18h0m1 4h0m4 0h0m7 4h0m3-21h0m2 10h0m1 6h0m7-5h0m2 4h0m0 1h0m1-24h0m1-25h0m1-12h0m0 68h0m1-61h0m0 44h0m3 2h0m5-15h0m1 16h0m3 0h0m7-22h0m4 15h0m1-21h0m2 39h0m1-48h0m2 3h0m2 9h0m0 38h0m2-63h0m1-14h0m0 38h0m2 5h0m0 6h0m4-15h0m2-11h0m0 24h0m3-14h0m3 12h0m0 18h0m1-28h0m2-14h0m1 8h0m4-14h0m2-9h0m2 51h0m2-28h0m1-14h0m1 0h0m2 11h0m1-20h0m2 42h0m2-4h0m7-15h0m1 31h0m1-44h0m3 42h0m1-21h0m1-4h0m0 11h0m1-14h0m1-18h0m3 38h0m1-22h0m1-15h0m0 18h0m2-4h0m2 17h0m5-25h0m2 30h0m6 1h0m9-48h0m1 34h0m3-30h0m3-10h0m1 10h0m4 32h0m2 4h0m1-14h0m8-1h0m3-12h0m1-14h0m5 4h0m0 8h0m2-33h0m2 24h0m0 41h0m9-30h0m3-39h0m0 30h0m3 25h0m1-47h0m3 33h0m3-7h0m1-3h0m1-27h0m3-12h0m3 17h0m5 28h0m1-13h0m2-16h0m2-3h0m3 19h0m1-12h0m0 28h0m2-38h0m4 14h0m2-13h0m1 37h0m1 13h0m3 4h0m2-32h0m6-17h0m3 17h0m0 10h0m2-3h0m6-26h0m1 7h0m1-42h0m3 75h0m1-58h0m10 52h0m1-55h0m1 9h0m1 17h0m1 11h0m4-26h0m10 17h0m2-42h0m0 7h0m6 49h0m3-15h0m2-19h0m0 19h0m1-23h0m2 45h0m1-36h0m2-29h0m3 16h0m2-3h0m1 17h0m0 6h0m3-11h0m0 22h0m1-17h0m1 28h0m1 5h0m2-53h0m7 15h0m0 19h0m1-25h0m0 25h0m7-33h0m0 49h0m1-44h0m1 29h0m5 9h0m1-36h0m1 24h0m6-4h0m0 14h0m1-24h0m3 25h0m13-53h0m4 19h0m0 6h0m2 8h0m1-12h0m3-5h0m0 29h0m2-18h0m0 26h0m1-11h0m1-19h0m0 21h0m3-5h0m2-18h0m1 11h0m0 17h0m3-43h0m3-6h0m1 35h0m3-3h0m1-19h0m4-12h0m3 15h0m3 10h0m1-9h0m2 11h0m1-36h0m2 41h0m1-23h0m3-29h0m2 55h0m1-1h0m1-32h0m3 37h0m2-31h0m11 4h0m10 18h0m5-15h0m18 12h0m3-31h0" stroke="#ee9a00"/>
<path d="M147 1458h0m17 0h0m11 1h0m0 1h0m10 0h0m1-4h0m7 1h0m2 4h0m2-5h0m2-2h0m4 1h0m2 6h0m1-24h0m0 13h0m4-10h0m2 3h0m0 8h0m2-18h0m2 14h0m1-5h0m3 9h0m2-16h0m2 9h0m1-6h0m2-15h0m1 7h0m0 25h0m1-6h0m2 15h0m1-5h0m2-32h0m1-6h0m0 41h0m1-28h0m0 1h0m0 17h0m1-14h0m2 10h0m2-21h0m1-1h0m0 27h0m0 2h0m2-7h0m0 11h0m0 2h0m0 4h0m1-20h0m4 5h0m0 3h0m1-25h0m1 14h0m3-15h0m0 19h0m1 12h0m3-24h0m1 2h0m1-4h0m0 21h0m1-36h0m1 30h0m0 7h0m1 0h0m1-10h0m2 9h0m1-30h0m0 17h0m1 21h0m2-3h0m3-24h0m2-13h0m0 22h0m0 13h0m0 5h0m1-1h0m1-19h0m0 6h0m0 3h0m2-16h0m0 27h0m1-6h0m2-15h0m1 24h0m1-15h0m0 11h0m0 4h0m1-35h0m0 22h0m1-19h0m1-7h0m0 27h0m1-34h0m1 17h0m0 21h0m1 9h0m2-15h0m1-16h0m1 6h0m3 19h0m2-39h0m0 9h0m0 7h0m1 28h0m1-24h0m1 17h0m0 9h0m0 4h0m3-3h0m1-27h0m1-14h0m2-13h0m0 27h0m0 31h0m1-1h0m1-25h0m1 11h0m0 8h0m3-8h0m1 7h0m0 7h0m3-33h0m0 7h0m2-24h0m0 7h0m1 48h0m1-31h0m1 5h0m1-12h0m0 22h0m0 7h0m0 7h0m1-5h0m0 1h0m1-6h0m0 1h0m0 2h0m1-39h0m0 25h0m0 19h0m1-29h0m0 9h0m1-9h0m0 18h0m0 3h0m1-8h0m0 10h0m0 9h0m1-29h0m0 25h0m1-16h0m0 7h0m1-15h0m0 22h0m1-9h0m0 15h0m1-27h0m1-11h0m0 24h0m0 6h0m1-6h0m0 1h0m1-22h0m0 1h0m0 24h0m0 2h0m0 6h0m0 2h0m0 1h0m1-31h0m1 15h0m0 1h0m0 11h0m1-29h0m0 17h0m0 1h0m0 1h0m0 3h0m0 4h0m0 17h0m1-71h0m0 30h0m0 12h0m0 8h0m1-5h0m1-3h0m0 8h0m0 3h0m0 12h0m1-17h0m0 9h0m0 4h0m1-12h0m0 5h0m1-26h0m0 12h0m0 3h0m0 15h0m0 2h0m0 1h0m0 3h0m1-22h0m0 9h0m0 11h0m1-16h0m0 5h0m0 7h0m1-67h0m0 47h0m0 22h0m1-16h0m0 3h0m0 9h0m0 4h0m1-7h0m0 8h0m1-14h0m0 3h0m0 8h0m0 2h0m0 2h0m0 8h0m1-31h0m0 5h0m0 5h0m0 13h0m0 3h0m0 1h0m1-28h0m0 10h0m0 3h0m0 2h0m0 7h0m0 3h0m1-23h0m0 5h0m0 1h0m0 6h0m0 2h0m0 2h0m0 14h0m1-64h0m0 36h0m0 7h0m0 2h0m0 2h0m0 2h0m0 3h0m0 4h0m0 8h0m1-18h0m0 7h0m0 2h0m0 1h0m1-22h0m0 7h0m0 1h0m0 4h0m0 9h0m0 3h0m1-37h0m0 31h0m0 5h0m0 3h0m1-41h0m0 17h0m0 7h0m0 3h0m0 2h0m0 4h0m0 5h0m1-16h0m0 2h0m0 3h0m0 8h0m0 2h0m1-29h0m0 8h0m0 6h0m0 1h0m0 4h0m0 9h0m0 3h0m1-20h0m0 6h0m0 2h0m0 6h0m1-63h0m0 46h0m0 3h0m0 2h0m0 1h0m0 5h0m0 2h0m0 6h0m0 1h0m0 3h0m1-28h0m0 6h0m0 2h0m0 6h0m0 2h0m0 3h0m0 4h0m0 1h0m0 3h0m1-23h0m0 12h0m0 9h0m1-19h0m0 5h0m0 4h0m0 1h0m0 1h0m0 5h0m0 2h0m1-31h0m0 2h0m0 2h0m0 17h0m0 2h0m0 9h0m0 3h0m1-25h0m0 3h0m0 1h0m0 9h0m0 8h0m1-21h0m0 11h0m0 10h0m0 1h0m0 3h0m1-24h0m0 1h0m0 6h0m0 2h0m0 4h0m0 1h0m0 3h0m0 3h0m0 1h0m0 6h0m1-29h0m0 3h0m0 1h0m0 12h0m0 2h0m0 6h0m0 2h0m0 6h0m1-29h0m0 1h0m0 4h0m0 4h0m0 3h0m1-1h0m0 2h0m0 2h0m0 2h0m0 6h0m0 1h0m1-28h0m0 3h0m0 13h0m0 3h0m1-12h0m0 1h0m0 2h0m0 2h0m0 2h0m0 2h0m0 4h0m1-4h0m1-3h0m1-3h0m0 5h0m0 4h0m0 72h0m1-88h0m0 4h0m0 5h0m0 2h0m0 3h0m0 3h0m0 4h0m0 5h0m1-47h0m0 24h0m0 5h0m0 5h0m0 2h0m0 1h0m1-15h0m0 5h0m0 4h0m1-16h0m0 30h0m1-18h0m0 15h0m0 2h0m0 1h0m0 3h0m1-21h0m0 1h0m0 3h0m0 4h0m0 2h0m0 7h0m0 1h0m0 10h0m1-29h0m0 1h0m0 3h0m0 9h0m1 0h0m0 3h0m0 4h0m0 2h0m1-20h0m0 6h0m0 10h0m0 1h0m0 2h0m0 1h0m1-19h0m0 13h0m0 7h0m1-61h0m0 18h0m0 24h0m0 10h0m0 1h0m0 3h0m0 4h0m0 5h0m1-22h0m0 1h0m0 3h0m0 5h0m0 1h0m0 2h0m1-70h0m0 59h0m0 2h0m0 4h0m0 1h0m1-16h0m0 4h0m0 11h0m0 1h0m0 1h0m0 3h0m1-44h0m0 18h0m0 24h0m0 1h0m1-20h0m0 2h0m0 14h0m0 3h0m0 7h0m0 7h0m1-35h0m0 22h0m0 2h0m1-58h0m0 28h0m0 16h0m0 10h0m0 8h0m1-29h0m0 1h0m0 4h0m0 1h0m0 2h0m0 14h0m0 1h0m1-13h0m0 1h0m0 4h0m0 1h0m1-5h0m0 3h0m0 4h0m0 2h0m0 5h0m1-53h0m0 29h0m0 13h0m0 3h0m0 4h0m0 2h0m1-39h0m0 23h0m0 3h0m0 3h0m0 1h0m0 1h0m0 8h0m0 7h0m1-27h0m0 10h0m0 5h0m0 5h0m0 7h0m1-42h0m0 12h0m0 4h0m0 5h0m0 2h0m0 3h0m0 1h0m0 7h0m1-21h0m0 6h0m0 3h0m0 3h0m0 1h0m0 4h0m0 1h0m0 7h0m1-48h0m0 10h0m0 14h0m0 6h0m0 6h0m0 3h0m0 5h0m0 2h0m0 1h0m0 1h0m0 1h0m1-30h0m0 6h0m0 2h0m0 6h0m0 1h0m0 6h0m0 6h0m0 3h0m0 1h0m1-36h0m0 17h0m0 1h0m0 4h0m0 5h0m0 2h0m0 1h0m0 3h0m0 2h0m1-26h0m0 2h0m0 3h0m0 4h0m0 2h0m0 1h0m0 4h0m0 2h0m0 3h0m0 2h0m0 6h0m1-30h0m0 4h0m0 1h0m0 7h0m0 2h0m0 2h0m0 2h0m0 6h0m0 1h0m1-40h0m0 18h0m0 2h0m0 7h0m0 6h0m0 2h0m0 4h0m0 2h0m1-63h0m0 50h0m0 4h0m0 1h0m0 1h0m0 1h0m0 2h0m0 2h0m1-24h0m0 2h0m0 1h0m0 1h0m0 15h0m0 1h0m0 1h0m0 1h0m1-22h0m0 6h0m0 8h0m0 7h0m0 2h0m0 6h0m1-53h0m0 9h0m0 1h0m0 7h0m0 13h0m0 1h0m0 2h0m0 3h0m0 2h0m0 1h0m0 1h0m0 7h0m1-34h0m0 5h0m0 6h0m0 1h0m0 5h0m0 4h0m0 8h0m0 2h0m0 1h0m0 1h0m0 2h0m0 1h0m0 2h0m1-22h0m0 9h0m1-20h0m0 7h0m0 5h0m0 3h0m0 7h0m0 2h0m0 2h0m0 1h0m0 2h0m0 5h0m1-60h0m0 39h0m0 3h0m0 2h0m0 11h0m1-41h0m0 13h0m0 8h0m0 2h0m0 9h0m0 8h0m0 1h0m0 6h0m0 1h0m1-29h0m0 10h0m0 4h0m0 4h0m0 3h0m0 8h0m0 7h0m1-45h0m0 13h0m0 4h0m0 1h0m0 5h0m0 5h0m0 2h0m0 1h0m0 2h0m0 5h0m1-21h0m0 1h0m0 9h0m0 1h0m0 2h0m0 1h0m0 1h0m0 1h0m0 2h0m1-24h0m0 3h0m0 5h0m0 2h0m0 3h0m0 1h0m0 4h0m0 3h0m0 1h0m0 3h0m0 15h0m1-43h0m0 7h0m0 7h0m0 3h0m0 5h0m0 1h0m0 1h0m1-62h0m0 37h0m0 6h0m0 1h0m0 1h0m0 3h0m0 4h0m0 4h0m0 7h0m0 4h0m1-26h0m0 3h0m0 6h0m0 1h0m0 6h0m0 1h0m0 1h0m0 2h0m0 1h0m0 2h0m1-17h0m0 5h0m0 5h0m0 1h0m0 2h0m0 2h0m1-65h0m0 47h0m0 1h0m0 3h0m0 5h0m0 5h0m0 1h0m0 5h0m1-47h0m0 22h0m0 5h0m0 9h0m0 5h0m0 2h0m0 2h0m0 1h0m0 2h0m1-73h0m0 37h0m0 15h0m0 2h0m0 5h0m0 1h0m0 2h0m0 1h0m0 1h0m0 2h0m0 2h0m0 2h0m0 3h0m1-25h0m0 3h0m0 1h0m0 2h0m0 4h0m0 3h0m0 3h0m0 2h0m0 1h0m0 1h0m0 3h0m0 6h0m1-25h0m0 1h0m0 4h0m0 6h0m0 3h0m0 1h0m0 1h0m0 6h0m0 10h0m1-39h0m0 11h0m0 7h0m0 1h0m0 3h0m0 2h0m0 3h0m0 1h0m1-25h0m0 2h0m0 2h0m0 1h0m0 6h0m0 4h0m0 1h0m0 3h0m0 2h0m1-23h0m0 1h0m0 5h0m0 6h0m0 7h0m0 1h0m0 5h0m0 1h0m0 2h0m0 2h0m0 60h0m1-95h0m0 9h0m0 3h0m0 3h0m0 4h0m0 1h0m0 4h0m0 5h0m0 2h0m0 2h0m0 1h0m1-15h0m0 1h0m0 5h0m0 3h0m0 4h0m1-19h0m0 1h0m0 6h0m0 8h0m0 1h0m0 1h0m0 2h0m0 1h0m1-22h0m1-6h0m0 2h0m0 4h0m0 1h0m0 6h0m0 4h0m0 1h0m0 1h0m0 2h0m0 3h0m0 3h0m0 1h0m1-33h0m0 17h0m0 9h0m0 1h0m0 1h0m0 3h0m0 1h0m0 3h0m1-42h0m0 19h0m0 6h0m0 1h0m0 3h0m0 10h0m0 10h0m1-78h0m0 40h0m0 5h0m0 4h0m0 7h0m0 2h0m0 8h0m0 1h0m0 4h0m1-39h0m0 3h0m0 7h0m0 4h0m0 5h0m0 5h0m0 1h0m0 1h0m0 5h0m0 5h0m0 1h0m0 10h0m1-45h0m0 12h0m0 1h0m0 8h0m1-48h0m0 25h0m0 15h0m0 1h0m0 5h0m0 1h0m0 3h0m0 13h0m0 13h0m1-41h0m0 1h0m0 11h0m0 1h0m0 7h0m0 2h0m1-19h0m0 2h0m0 4h0m0 1h0m0 3h0m0 8h0m0 1h0m0 3h0m0 1h0m1-23h0m0 1h0m0 2h0m0 2h0m0 1h0m0 1h0m0 16h0m1-48h0m0 21h0m0 3h0m0 2h0m0 3h0m0 4h0m0 1h0m0 14h0m1-23h0m0 2h0m0 4h0m0 17h0m1-28h0m0 11h0m0 1h0m0 17h0m0 1h0m0 1h0m0 1h0m1-31h0m0 1h0m0 4h0m0 5h0m0 2h0m0 6h0m0 8h0m0 2h0m0 7h0m1-67h0m0 26h0m0 23h0m0 3h0m0 6h0m1-48h0m0 6h0m0 8h0m0 9h0m0 5h0m0 1h0m0 5h0m0 1h0m0 1h0m0 4h0m0 1h0m0 7h0m0 4h0m0 1h0m1-31h0m0 3h0m0 1h0m0 6h0m0 2h0m0 1h0m0 1h0m0 6h0m0 5h0m0 4h0m1-37h0m0 1h0m0 13h0m0 6h0m0 1h0m0 2h0m0 3h0m0 2h0m0 4h0m0 7h0m1-23h0m0 5h0m0 1h0m0 3h0m1-17h0m0 3h0m0 1h0m0 5h0m0 2h0m0 2h0m0 3h0m0 12h0m1-26h0m0 10h0m0 2h0m0 12h0m0 2h0m0 3h0m1-24h0m0 6h0m0 4h0m1-10h0m0 3h0m0 4h0m0 1h0m0 3h0m0 4h0m1-23h0m0 4h0m0 1h0m0 8h0m0 2h0m0 30h0m1-50h0m0 13h0m0 3h0m0 2h0m0 1h0m0 13h0m0 3h0m1-24h0m0 20h0m1-23h0m0 2h0m0 3h0m0 5h0m0 1h0m0 6h0m0 11h0m1-18h0m0 5h0m0 4h0m0 8h0m1-26h0m0 6h0m0 1h0m0 3h0m0 1h0m0 3h0m0 10h0m0 4h0m1-51h0m0 23h0m0 2h0m0 2h0m0 15h0m1-14h0m0 1h0m0 1h0m0 2h0m0 2h0m0 3h0m0 1h0m0 6h0m1-36h0m0 12h0m0 2h0m0 1h0m0 12h0m0 1h0m0 7h0m1-21h0m0 5h0m0 2h0m0 3h0m0 3h0m0 13h0m0 1h0m1-19h0m0 1h0m0 2h0m0 3h0m0 4h0m0 3h0m0 1h0m0 1h0m0 5h0m1-23h0m0 9h0m0 1h0m0 2h0m0 6h0m0 5h0m0 1h0m1-26h0m0 9h0m0 1h0m0 5h0m1-40h0m0 32h0m0 5h0m0 1h0m0 8h0m0 3h0m1-26h0m0 2h0m0 5h0m0 3h0m0 2h0m0 2h0m0 3h0m0 8h0m0 3h0m0 12h0m1-41h0m0 3h0m0 9h0m0 1h0m0 2h0m0 1h0m0 1h0m0 1h0m0 3h0m0 3h0m0 2h0m1-26h0m0 3h0m0 6h0m0 10h0m0 1h0m1-22h0m0 8h0m0 9h0m0 7h0m0 1h0m0 6h0m1-34h0m0 15h0m0 1h0m0 8h0m1-24h0m0 6h0m0 2h0m0 2h0m0 19h0m0 4h0m1-39h0m0 1h0m0 8h0m0 6h0m0 7h0m0 1h0m0 2h0m0 2h0m0 1h0m0 5h0m1-24h0m0 1h0m0 12h0m0 2h0m0 4h0m0 1h0m0 2h0m1-44h0m0 10h0m0 17h0m0 4h0m0 2h0m0 1h0m0 1h0m0 6h0m0 3h0m0 4h0m0 1h0m0 4h0m1-43h0m0 14h0m0 2h0m0 1h0m0 2h0m0 7h0m0 1h0m0 8h0m0 6h0m1-24h0m0 7h0m0 1h0m0 1h0m0 3h0m0 1h0m0 1h0m0 2h0m0 9h0m0 5h0m1-74h0m0 40h0m0 3h0m0 1h0m0 1h0m0 5h0m0 1h0m0 1h0m0 1h0m0 10h0m0 2h0m0 15h0m1-33h0m0 2h0m0 5h0m0 3h0m0 7h0m0 7h0m1-46h0m0 3h0m0 13h0m0 8h0m0 3h0m0 2h0m0 1h0m0 2h0m0 1h0m1-18h0m0 6h0m0 17h0m0 1h0m0 4h0m1-72h0m0 33h0m0 18h0m0 2h0m0 2h0m0 3h0m0 1h0m0 5h0m0 4h0m0 2h0m0 2h0m0 2h0m1-24h0m0 2h0m0 2h0m0 1h0m0 3h0m0 13h0m0 1h0m0 2h0m1-14h0m0 1h0m0 9h0m0 1h0m0 2h0m1-27h0m0 2h0m0 6h0m0 3h0m0 12h0m0 1h0m1-25h0m0 1h0m0 8h0m0 5h0m0 1h0m0 5h0m0 1h0m0 3h0m1-42h0m0 20h0m0 1h0m0 4h0m0 5h0m0 4h0m0 4h0m0 9h0m1-31h0m0 15h0m0 1h0m0 5h0m0 10h0m0 11h0m1-55h0m0 13h0m0 8h0m0 4h0m0 1h0m0 2h0m0 1h0m0 1h0m1-14h0m0 5h0m0 3h0m0 9h0m0 10h0m1-28h0m0 15h0m0 4h0m0 3h0m0 2h0m0 3h0m0 1h0m0 13h0m1-45h0m0 8h0m0 5h0m0 4h0m0 4h0m0 6h0m0 1h0m1-16h0m0 2h0m0 4h0m0 1h0m0 1h0m0 1h0m0 6h0m0 3h0m0 17h0m1-40h0m0 10h0m0 3h0m1-19h0m0 2h0m0 4h0m0 2h0m0 4h0m0 4h0m0 1h0m0 1h0m0 3h0m0 2h0m0 1h0m0 13h0m1-27h0m0 1h0m0 1h0m0 3h0m0 2h0m0 1h0m0 1h0m0 4h0m0 2h0m0 3h0m1-56h0m0 28h0m0 7h0m0 3h0m0 5h0m0 6h0m0 5h0m1-54h0m0 17h0m0 19h0m0 7h0m0 1h0m0 1h0m0 1h0m0 1h0m0 1h0m0 9h0m0 2h0m0 3h0m1-28h0m0 1h0m0 8h0m1-15h0m0 9h0m0 10h0m0 1h0m0 2h0m0 3h0m0 6h0m1-29h0m0 4h0m0 1h0m0 1h0m0 2h0m0 2h0m0 2h0m0 1h0m0 2h0m0 1h0m0 1h0m0 1h0m0 9h0m1-31h0m0 12h0m0 3h0m0 3h0m0 1h0m0 1h0m1-36h0m0 17h0m0 1h0m0 8h0m0 1h0m0 16h0m1-21h0m0 4h0m0 1h0m0 1h0m0 7h0m0 5h0m0 3h0m0 6h0m1-32h0m0 1h0m0 3h0m0 1h0m0 3h0m0 2h0m0 2h0m0 2h0m0 1h0m0 2h0m0 2h0m0 5h0m0 3h0m0 1h0m0 1h0m1-28h0m0 6h0m0 1h0m0 2h0m0 8h0m0 5h0m0 4h0m0 7h0m1-47h0m0 20h0m0 3h0m0 12h0m0 3h0m0 7h0m0 3h0m1-32h0m0 2h0m0 13h0m0 2h0m0 2h0m0 1h0m0 7h0m0 1h0m1-45h0m0 12h0m0 3h0m0 4h0m0 3h0m0 11h0m0 1h0m0 7h0m0 6h0m0 5h0m1-57h0m0 19h0m0 4h0m0 6h0m0 7h0m0 1h0m0 8h0m0 6h0m0 1h0m0 11h0m1-69h0m0 2h0m0 9h0m0 4h0m0 3h0m0 7h0m0 8h0m0 2h0m0 1h0m0 2h0m0 5h0m0 6h0m0 6h0m0 2h0m0 2h0m1-34h0m0 9h0m0 1h0m0 5h0m0 1h0m0 3h0m0 1h0m0 1h0m0 26h0m1-35h0m0 6h0m0 4h0m0 3h0m0 5h0m0 6h0m1-33h0m0 3h0m0 3h0m0 8h0m0 4h0m0 3h0m0 1h0m0 8h0m0 3h0m1-36h0m0 1h0m0 3h0m0 9h0m0 1h0m0 3h0m0 3h0m0 1h0m0 1h0m0 2h0m0 3h0m0 1h0m0 1h0m1-28h0m0 4h0m0 10h0m0 9h0m0 7h0m0 3h0m0 2h0m1-34h0m0 1h0m0 10h0m0 2h0m0 3h0m0 2h0m0 2h0m0 2h0m0 2h0m0 3h0m0 4h0m0 3h0m1-32h0m0 3h0m0 1h0m0 1h0m0 1h0m0 3h0m0 4h0m0 5h0m0 12h0m0 1h0m1-28h0m0 5h0m0 1h0m0 4h0m0 4h0m0 2h0m0 1h0m0 5h0m0 3h0m0 1h0m0 2h0m1-58h0m0 22h0m0 3h0m0 8h0m0 5h0m0 2h0m0 7h0m0 3h0m0 1h0m0 1h0m0 2h0m0 4h0m1-34h0m0 2h0m0 2h0m0 15h0m0 1h0m0 1h0m0 11h0m1-31h0m0 4h0m0 3h0m0 1h0m0 2h0m0 13h0m1-19h0m0 5h0m0 1h0m0 2h0m0 1h0m0 4h0m0 1h0m0 2h0m0 1h0m0 4h0m0 3h0m0 4h0m0 5h0m1-40h0m0 7h0m0 3h0m0 3h0m0 2h0m0 1h0m0 3h0m0 2h0m0 2h0m0 3h0m0 1h0m0 3h0m0 1h0m0 4h0m0 1h0m1-33h0m0 4h0m0 1h0m0 1h0m0 2h0m0 2h0m0 2h0m0 18h0m1-24h0m0 2h0m0 5h0m0 2h0m0 1h0m0 7h0m0 3h0m0 3h0m0 3h0m1-59h0m0 7h0m0 13h0m0 4h0m0 3h0m0 10h0m0 10h0m0 6h0m0 1h0m0 1h0m0 1h0m0 3h0m0 14h0m1-60h0m0 13h0m0 7h0m0 17h0m0 1h0m0 4h0m0 2h0m0 4h0m1-31h0m0 13h0m0 5h0m0 4h0m0 1h0m0 4h0m0 2h0m0 2h0m1-19h0m0 1h0m0 1h0m0 6h0m0 2h0m0 3h0m0 6h0m1-29h0m0 2h0m0 2h0m0 4h0m0 3h0m0 4h0m0 7h0m0 3h0m1-23h0m0 3h0m0 7h0m0 10h0m0 1h0m0 5h0m0 2h0m1-44h0m0 5h0m0 1h0m0 1h0m0 8h0m0 2h0m0 3h0m0 2h0m0 4h0m0 3h0m0 1h0m0 2h0m0 2h0m0 1h0m0 19h0m1-48h0m0 10h0m0 5h0m0 5h0m0 3h0m0 1h0m0 2h0m0 1h0m0 1h0m0 4h0m0 1h0m0 1h0m0 5h0m1-40h0m0 1h0m0 1h0m0 9h0m0 1h0m0 3h0m0 2h0m0 1h0m0 2h0m0 6h0m0 6h0m0 1h0m0 4h0m1-39h0m0 1h0m0 8h0m0 2h0m0 4h0m0 11h0m0 4h0m0 1h0m1-38h0m0 4h0m0 4h0m0 10h0m0 8h0m0 1h0m0 1h0m0 4h0m0 2h0m0 3h0m0 13h0m1-64h0m0 24h0m0 9h0m0 3h0m0 10h0m0 3h0m0 4h0m0 1h0m0 2h0m0 3h0m0 1h0m0 1h0m0 2h0m1-39h0m0 4h0m0 5h0m0 8h0m0 2h0m0 7h0m0 3h0m0 4h0m0 1h0m0 1h0m0 3h0m1-27h0m0 1h0m0 2h0m0 2h0m0 2h0m0 4h0m0 1h0m0 1h0m0 2h0m0 6h0m1-35h0m0 5h0m0 10h0m0 11h0m0 1h0m0 3h0m0 2h0m0 3h0m0 5h0m0 1h0m0 5h0m1-56h0m0 4h0m0 7h0m0 5h0m0 7h0m0 5h0m0 5h0m0 2h0m0 1h0m0 1h0m0 1h0m0 1h0m0 1h0m0 1h0m0 3h0m0 1h0m0 2h0m1-34h0m0 1h0m0 2h0m0 8h0m0 4h0m0 1h0m0 7h0m0 3h0m0 2h0m0 7h0m0 5h0m1-37h0m0 3h0m0 1h0m0 7h0m0 9h0m0 4h0m0 4h0m0 11h0m0 15h0m1-56h0m0 8h0m0 4h0m0 10h0m0 2h0m0 3h0m0 3h0m0 6h0m0 10h0m1-31h0m0 4h0m0 1h0m0 3h0m0 1h0m0 3h0m0 2h0m0 2h0m0 2h0m0 2h0m1-39h0m0 5h0m0 8h0m0 3h0m0 1h0m0 3h0m0 2h0m0 4h0m0 4h0m0 2h0m0 2h0m0 2h0m0 1h0m0 2h0m0 4h0m1-42h0m0 1h0m0 1h0m0 27h0m0 1h0m0 2h0m0 2h0m0 1h0m1-30h0m0 7h0m0 1h0m0 1h0m0 3h0m0 1h0m0 3h0m0 3h0m0 1h0m0 7h0m0 2h0m0 7h0m0 1h0m0 1h0m1-74h0m0 34h0m0 1h0m0 7h0m0 4h0m0 13h0m0 4h0m0 2h0m0 6h0m0 2h0m0 2h0m0 1h0m1-58h0m0 10h0m0 6h0m0 8h0m0 2h0m0 1h0m0 10h0m0 7h0m0 4h0m0 12h0m1-42h0m0 1h0m0 6h0m0 3h0m0 8h0m0 4h0m0 3h0m0 1h0m0 1h0m0 2h0m0 1h0m0 1h0m0 1h0m0 2h0m0 5h0m0 1h0m0 11h0m1-54h0m0 1h0m0 2h0m0 5h0m0 3h0m0 6h0m0 1h0m0 2h0m0 3h0m0 1h0m0 6h0m0 1h0m0 8h0m0 6h0m1-76h0m0 21h0m0 11h0m0 1h0m0 3h0m0 11h0m0 3h0m0 4h0m0 4h0m0 3h0m0 3h0m0 2h0m0 3h0m0 3h0m0 2h0m0 3h0m1-57h0m0 12h0m0 14h0m0 1h0m0 5h0m0 1h0m0 2h0m0 1h0m0 1h0m0 16h0m0 4h0m0 3h0m1-52h0m0 2h0m0 2h0m0 8h0m0 7h0m0 3h0m0 10h0m0 1h0m0 1h0m0 4h0m0 5h0m0 3h0m0 1h0m0 7h0m1-60h0m0 9h0m0 7h0m0 8h0m0 1h0m0 3h0m0 1h0m0 4h0m0 1h0m0 13h0m1-43h0m0 9h0m0 8h0m0 4h0m0 2h0m0 10h0m0 8h0m0 1h0m0 5h0m1-44h0m0 1h0m0 1h0m0 1h0m0 2h0m0 4h0m0 2h0m0 2h0m0 1h0m0 1h0m0 1h0m0 3h0m0 2h0m0 2h0m0 5h0m0 11h0m0 1h0m0 2h0m0 1h0m0 3h0m0 6h0m1-59h0m0 2h0m0 7h0m0 8h0m0 5h0m0 1h0m0 2h0m0 3h0m0 2h0m0 10h0m0 9h0m1-45h0m0 3h0m0 9h0m0 1h0m0 4h0m0 1h0m0 10h0m0 15h0m0 3h0m0 1h0m0 1h0m0 1h0m1-48h0m0 3h0m0 1h0m0 6h0m0 4h0m0 2h0m0 2h0m0 4h0m0 1h0m0 3h0m0 8h0m0 5h0m0 1h0m0 5h0m1-36h0m0 1h0m0 4h0m0 3h0m0 4h0m0 2h0m0 1h0m0 2h0m0 1h0m0 1h0m0 3h0m0 1h0m0 4h0m0 5h0m0 1h0m0 2h0m0 1h0m0 1h0m1-70h0m0 22h0m0 5h0m0 3h0m0 1h0m0 9h0m0 2h0m0 1h0m0 1h0m0 5h0m0 2h0m0 1h0m0 1h0m0 3h0m0 7h0m0 3h0m0 1h0m0 3h0m0 5h0m1-44h0m0 6h0m0 2h0m0 1h0m0 1h0m0 5h0m0 7h0m0 1h0m0 7h0m0 2h0m1-39h0m0 1h0m0 3h0m0 1h0m0 1h0m0 3h0m0 2h0m0 5h0m0 7h0m0 10h0m0 6h0m0 4h0m0 3h0m0 2h0m0 2h0m0 5h0m1-76h0m0 20h0m0 7h0m0 2h0m0 2h0m0 1h0m0 1h0m0 4h0m0 1h0m0 5h0m0 2h0m0 1h0m0 7h0m0 5h0m0 5h0m0 9h0m1-55h0m0 4h0m0 4h0m0 5h0m0 2h0m0 3h0m0 3h0m0 1h0m0 2h0m0 2h0m0 5h0m0 13h0m0 9h0m1-48h0m0 1h0m0 4h0m0 5h0m0 2h0m0 3h0m0 6h0m0 2h0m0 3h0m0 2h0m0 2h0m0 2h0m0 13h0m0 2h0m1-30h0m0 8h0m0 2h0m0 7h0m0 5h0m0 3h0m0 4h0m0 1h0m1-68h0m0 30h0m0 7h0m0 1h0m0 1h0m0 1h0m0 2h0m0 1h0m0 3h0m0 1h0m0 1h0m0 2h0m0 1h0m0 6h0m0 1h0m0 1h0m0 3h0m0 3h0m0 1h0m0 2h0m1-62h0m0 15h0m0 6h0m0 1h0m0 2h0m0 2h0m0 3h0m0 9h0m0 1h0m0 4h0m0 1h0m0 13h0m0 8h0m1-75h0m0 24h0m0 2h0m0 3h0m0 6h0m0 7h0m0 5h0m0 2h0m0 1h0m0 1h0m0 1h0m0 5h0m0 2h0m0 7h0m0 1h0m0 6h0m1-53h0m0 1h0m0 2h0m0 9h0m0 18h0m0 5h0m0 3h0m0 3h0m0 6h0m0 3h0m0 6h0m1-58h0m0 5h0m0 8h0m0 7h0m0 1h0m0 2h0m0 1h0m0 1h0m0 2h0m0 1h0m0 4h0m0 1h0m0 1h0m0 1h0m0 1h0m0 1h0m0 2h0m0 8h0m0 3h0m0 7h0m1-55h0m0 6h0m0 1h0m0 3h0m0 7h0m0 3h0m0 2h0m0 3h0m0 2h0m0 7h0m0 1h0m0 7h0m0 2h0m0 1h0m1-43h0m0 6h0m0 5h0m0 7h0m0 6h0m0 2h0m0 3h0m0 2h0m0 2h0m0 10h0m0 3h0m0 7h0m0 1h0m1-62h0m0 3h0m0 21h0m0 2h0m0 11h0m0 2h0m0 2h0m0 10h0m0 1h0m0 5h0m1-58h0m0 29h0m0 4h0m0 2h0m0 4h0m0 3h0m0 6h0m0 2h0m0 8h0m0 2h0m0 1h0m0 10h0m1-62h0m0 6h0m0 5h0m0 7h0m0 2h0m0 6h0m0 4h0m0 7h0m0 11h0m1-53h0m0 1h0m0 4h0m0 1h0m0 11h0m0 4h0m0 4h0m0 28h0m0 2h0m0 10h0m1-59h0m0 1h0m0 2h0m0 1h0m0 1h0m0 1h0m0 3h0m0 5h0m0 4h0m0 5h0m0 6h0m0 1h0m0 3h0m0 13h0m0 6h0m1-54h0m0 3h0m0 9h0m0 3h0m0 4h0m0 14h0m0 1h0m0 2h0m0 6h0m0 2h0m0 2h0m0 10h0m1-52h0m0 16h0m0 1h0m0 4h0m0 1h0m0 1h0m0 2h0m0 2h0m0 3h0m0 3h0m0 3h0m0 5h0m0 2h0m0 3h0m0 2h0m1-53h0m0 2h0m0 6h0m0 3h0m0 6h0m0 2h0m0 26h0m0 8h0m1-51h0m0 1h0m0 11h0m0 3h0m0 1h0m0 1h0m0 15h0m0 1h0m0 2h0m0 4h0m0 1h0m0 9h0m1-54h0m0 10h0m0 2h0m0 3h0m0 5h0m0 5h0m0 1h0m0 3h0m0 2h0m0 4h0m0 2h0m0 4h0m0 1h0m0 2h0m0 13h0m0 2h0m0 2h0m1-71h0m0 5h0m0 12h0m0 1h0m0 2h0m0 2h0m0 2h0m0 2h0m0 3h0m0 2h0m0 1h0m0 4h0m0 3h0m0 6h0m0 2h0m0 1h0m0 1h0m0 12h0m0 1h0m0 3h0m0 6h0m1-64h0m0 7h0m0 1h0m0 2h0m0 16h0m0 3h0m0 6h0m0 8h0m0 7h0m0 1h0m0 10h0m0 1h0m1-51h0m0 3h0m0 2h0m0 13h0m0 10h0m0 2h0m0 6h0m0 1h0m0 5h0m0 2h0m0 1h0m1-43h0m0 7h0m0 3h0m0 3h0m0 2h0m0 1h0m0 6h0m0 2h0m0 2h0m0 4h0m0 2h0m0 8h0m0 1h0m0 2h0m0 7h0m0 4h0m0 4h0m1-70h0m0 20h0m0 1h0m0 4h0m0 4h0m0 2h0m0 9h0m0 1h0m0 12h0m0 13h0m1-61h0m0 2h0m0 1h0m0 3h0m0 4h0m0 1h0m0 5h0m0 1h0m0 1h0m0 1h0m0 2h0m0 8h0m0 6h0m0 11h0m0 13h0m0 10h0m1-63h0m0 1h0m0 2h0m0 5h0m0 3h0m0 4h0m0 1h0m0 6h0m0 1h0m0 3h0m0 1h0m0 5h0m1-31h0m0 4h0m0 4h0m0 6h0m0 1h0m0 1h0m0 7h0m0 3h0m0 9h0m0 1h0m0 5h0m0 11h0m1-60h0m0 4h0m0 1h0m0 7h0m0 4h0m0 2h0m0 4h0m0 9h0m0 4h0m0 5h0m0 9h0m0 8h0m1-68h0m0 20h0m0 23h0m0 4h0m0 7h0m0 1h0m0 2h0m0 7h0m0 4h0m1-63h0m0 17h0m0 2h0m0 1h0m0 9h0m0 7h0m0 1h0m0 11h0m0 17h0m1-62h0m0 18h0m0 1h0m0 18h0m0 2h0m0 2h0m0 3h0m0 6h0m0 7h0m0 5h0m0 7h0m1-90h0m0 21h0m0 2h0m0 1h0m0 12h0m0 6h0m0 3h0m0 29h0m0 1h0m0 1h0m0 1h0m1-51h0m0 3h0m0 6h0m0 1h0m0 2h0m0 1h0m0 6h0m0 1h0m0 2h0m0 3h0m0 6h0m0 3h0m0 2h0m0 2h0m0 3h0m0 2h0m1-57h0m0 15h0m0 15h0m0 4h0m0 1h0m0 3h0m0 8h0m0 13h0m0 3h0m0 7h0m1-90h0m0 38h0m0 8h0m0 15h0m0 3h0m0 3h0m0 1h0m0 5h0m0 19h0m0 1h0m1-78h0m0 21h0m0 1h0m0 3h0m0 22h0m0 1h0m0 6h0m0 6h0m0 1h0m0 8h0m0 5h0m0 5h0m1-63h0m0 10h0m0 13h0m0 4h0m0 14h0m0 2h0m1-39h0m0 1h0m0 4h0m0 2h0m0 2h0m0 2h0m0 5h0m0 6h0m0 14h0m0 4h0m0 15h0m0 3h0m1-50h0m0 20h0m0 2h0m0 3h0m0 2h0m0 1h0m0 6h0m0 8h0m0 6h0m1-57h0m0 9h0m0 2h0m0 2h0m0 1h0m0 5h0m0 6h0m0 1h0m0 13h0m0 6h0m0 14h0m1-54h0m0 1h0m0 3h0m0 14h0m0 19h0m0 11h0m0 4h0m1-64h0m0 10h0m0 14h0m0 4h0m0 5h0m0 6h0m0 8h0m0 1h0m0 10h0m0 1h0m0 3h0m0 2h0m0 2h0m0 4h0m1-52h0m0 4h0m0 2h0m0 9h0m0 1h0m0 2h0m0 2h0m0 1h0m0 1h0m0 1h0m0 1h0m0 5h0m0 3h0m0 8h0m0 4h0m0 3h0m0 1h0m1-52h0m0 9h0m0 2h0m0 19h0m0 1h0m0 11h0m0 2h0m0 1h0m0 3h0m1-75h0m0 20h0m0 9h0m0 15h0m0 7h0m0 1h0m0 2h0m0 3h0m0 2h0m0 2h0m0 12h0m0 5h0m1-46h0m0 5h0m0 1h0m0 4h0m0 1h0m0 1h0m0 11h0m0 1h0m0 4h0m0 4h0m0 1h0m0 14h0m1-58h0m0 5h0m0 6h0m0 3h0m0 4h0m0 10h0m0 2h0m0 1h0m0 5h0m0 3h0m0 4h0m0 7h0m1-81h0m0 25h0m0 8h0m0 10h0m0 2h0m0 2h0m0 9h0m0 1h0m0 12h0m0 4h0m0 6h0m0 14h0m1-48h0m0 6h0m0 1h0m0 4h0m0 1h0m0 2h0m0 2h0m0 9h0m0 1h0m0 3h0m0 4h0m0 2h0m0 2h0m0 3h0m1-48h0m0 7h0m0 6h0m0 3h0m0 13h0m0 4h0m0 9h0m0 3h0m0 9h0m1-64h0m0 7h0m0 17h0m0 8h0m0 8h0m0 14h0m0 5h0m0 3h0m1-56h0m0 6h0m0 5h0m0 3h0m0 1h0m0 5h0m0 4h0m0 3h0m0 3h0m0 26h0m1-60h0m0 3h0m0 1h0m0 10h0m0 7h0m0 3h0m0 3h0m0 3h0m0 3h0m0 1h0m0 1h0m0 9h0m0 11h0m1-66h0m0 8h0m0 1h0m0 6h0m0 10h0m0 5h0m0 1h0m0 4h0m0 9h0m0 10h0m0 11h0m1-82h0m0 33h0m0 3h0m0 4h0m0 2h0m0 3h0m0 6h0m0 1h0m0 4h0m0 9h0m0 3h0m0 5h0m0 2h0m0 12h0m1-51h0m0 7h0m0 7h0m0 8h0m0 4h0m0 3h0m0 5h0m0 9h0m0 12h0m1-58h0m0 2h0m0 5h0m0 1h0m0 12h0m0 1h0m0 8h0m0 2h0m0 1h0m0 2h0m0 3h0m0 17h0m0 8h0m1-70h0m0 1h0m0 13h0m0 8h0m0 6h0m0 4h0m0 1h0m0 7h0m0 1h0m0 1h0m0 3h0m0 5h0m0 3h0m0 1h0m1-54h0m0 6h0m0 1h0m0 1h0m0 4h0m0 10h0m0 3h0m0 1h0m0 1h0m0 4h0m0 5h0m0 7h0m0 9h0m0 7h0m0 1h0m1-52h0m0 2h0m0 16h0m0 2h0m0 6h0m0 1h0m0 9h0m0 12h0m0 2h0m0 1h0m1-65h0m0 7h0m0 5h0m0 10h0m0 3h0m0 17h0m0 1h0m0 1h0m0 1h0m0 1h0m0 6h0m0 2h0m0 2h0m0 7h0m0 4h0m0 61h0m1-124h0m0 11h0m0 3h0m0 6h0m0 9h0m0 1h0m0 1h0m0 2h0m0 1h0m0 10h0m0 2h0m0 2h0m0 4h0m0 10h0m1-66h0m0 17h0m0 1h0m0 5h0m0 5h0m0 1h0m0 3h0m0 6h0m0 1h0m0 4h0m0 1h0m0 4h0m0 1h0m0 11h0m0 3h0m1-52h0m0 4h0m0 3h0m0 7h0m0 4h0m0 8h0m0 2h0m0 11h0m0 12h0m1-47h0m0 1h0m0 2h0m0 1h0m0 1h0m0 3h0m0 6h0m0 2h0m0 3h0m0 5h0m0 3h0m0 7h0m0 5h0m0 1h0m1-47h0m0 7h0m0 3h0m0 4h0m0 1h0m0 1h0m0 10h0m0 3h0m0 9h0m0 1h0m0 14h0m0 7h0m1-55h0m0 1h0m0 16h0m0 2h0m0 4h0m0 4h0m0 1h0m0 2h0m0 1h0m0 2h0m0 4h0m0 8h0m1-53h0m0 1h0m0 3h0m0 4h0m0 2h0m0 9h0m0 1h0m0 1h0m0 3h0m0 3h0m0 3h0m0 1h0m0 7h0m0 1h0m0 1h0m0 1h0m0 1h0m0 1h0m0 15h0m0 1h0m0 4h0m1-74h0m0 18h0m0 2h0m0 8h0m0 1h0m0 3h0m0 1h0m0 2h0m0 1h0m0 1h0m0 10h0m0 4h0m0 5h0m0 4h0m0 1h0m1-66h0m0 20h0m0 4h0m0 4h0m0 10h0m0 6h0m0 4h0m0 2h0m0 3h0m0 5h0m0 23h0m0 29h0m0 8h0m1-97h0m0 4h0m0 1h0m0 13h0m0 7h0m0 5h0m0 5h0m0 6h0m0 16h0m1-63h0m0 5h0m0 5h0m0 7h0m0 1h0m0 1h0m0 1h0m0 5h0m0 11h0m0 2h0m0 5h0m0 1h0m0 1h0m0 1h0m0 4h0m0 8h0m0 4h0m1-59h0m0 9h0m0 4h0m0 1h0m0 2h0m0 3h0m0 6h0m0 16h0m0 1h0m0 7h0m0 3h0m0 5h0m1-67h0m0 5h0m0 7h0m0 7h0m0 3h0m0 1h0m0 1h0m0 1h0m0 2h0m0 3h0m0 2h0m0 3h0m0 7h0m0 8h0m0 1h0m0 3h0m0 5h0m0 3h0m0 7h0m1-65h0m0 4h0m0 1h0m0 2h0m0 12h0m0 3h0m0 1h0m0 15h0m0 6h0m0 1h0m0 4h0m0 19h0m1-48h0m0 2h0m0 3h0m0 29h0m0 8h0m1-78h0m0 10h0m0 15h0m0 6h0m0 6h0m0 2h0m0 2h0m0 1h0m0 8h0m0 6h0m0 1h0m0 2h0m0 3h0m0 7h0m0 11h0m1-62h0m0 11h0m0 1h0m0 7h0m0 1h0m0 1h0m0 1h0m0 1h0m0 2h0m0 7h0m0 2h0m0 2h0m0 1h0m0 10h0m0 4h0m0 1h0m0 2h0m0 10h0m1-50h0m0 8h0m0 2h0m0 21h0m0 5h0m0 2h0m0 1h0m0 3h0m1-55h0m0 1h0m0 5h0m0 8h0m0 8h0m0 3h0m0 1h0m0 2h0m0 4h0m0 7h0m0 6h0m0 2h0m0 3h0m0 1h0m0 7h0m0 1h0m0 1h0m0 3h0m1-79h0m0 18h0m0 5h0m0 1h0m0 3h0m0 11h0m0 1h0m0 9h0m0 6h0m0 3h0m0 4h0m0 2h0m0 2h0m0 9h0m1-70h0m0 11h0m0 9h0m0 2h0m0 13h0m0 2h0m0 5h0m0 1h0m0 8h0m0 1h0m0 3h0m0 7h0m0 1h0m0 9h0m1-74h0m0 7h0m0 10h0m0 8h0m0 5h0m0 14h0m0 2h0m0 1h0m0 8h0m0 1h0m0 3h0m0 15h0m0 3h0m1-63h0m0 1h0m0 6h0m0 1h0m0 5h0m0 7h0m0 4h0m0 6h0m0 3h0m0 4h0m0 4h0m0 5h0m0 1h0m0 1h0m0 1h0m0 1h0m0 6h0m1-57h0m0 1h0m0 2h0m0 13h0m0 1h0m0 1h0m0 3h0m0 1h0m0 2h0m0 9h0m0 1h0m0 1h0m0 3h0m0 1h0m0 7h0m0 8h0m0 4h0m1-57h0m0 8h0m0 9h0m0 3h0m0 1h0m0 5h0m0 4h0m0 6h0m0 1h0m0 5h0m0 2h0m0 9h0m0 2h0m0 19h0m0 15h0m0 21h0m1-86h0m0 13h0m0 1h0m0 5h0m0 1h0m1-33h0m0 16h0m0 5h0m0 6h0m0 2h0m0 16h0m0 2h0m0 2h0m1-58h0m0 9h0m0 26h0m0 2h0m0 5h0m0 2h0m0 4h0m0 12h0m1-64h0m0 3h0m0 2h0m0 9h0m0 4h0m0 19h0m0 1h0m0 1h0m0 11h0m0 1h0m0 10h0m1-62h0m0 9h0m0 1h0m0 3h0m0 5h0m0 6h0m0 5h0m0 3h0m0 3h0m0 1h0m0 2h0m0 11h0m0 2h0m0 1h0m0 1h0m0 14h0m1-64h0m0 1h0m0 2h0m0 1h0m0 12h0m0 7h0m0 16h0m0 1h0m0 3h0m0 2h0m0 5h0m0 13h0m0 6h0m1-76h0m0 8h0m0 7h0m0 8h0m0 5h0m0 4h0m0 2h0m0 3h0m0 8h0m0 3h0m0 4h0m0 1h0m0 1h0m0 8h0m1-80h0m0 3h0m0 12h0m0 14h0m0 9h0m0 3h0m0 11h0m0 4h0m0 11h0m0 4h0m0 2h0m0 4h0m0 3h0m0 2h0m0 6h0m1-62h0m0 1h0m0 1h0m0 2h0m0 1h0m0 4h0m0 2h0m0 1h0m0 6h0m0 7h0m0 6h0m0 5h0m0 9h0m0 1h0m0 6h0m0 14h0m0 51h0m1-125h0m0 12h0m0 3h0m0 12h0m0 7h0m0 2h0m0 2h0m0 3h0m0 8h0m0 2h0m0 2h0m0 1h0m0 4h0m0 1h0m0 4h0m0 2h0m0 5h0m1-72h0m0 1h0m0 8h0m0 14h0m0 10h0m0 3h0m0 1h0m0 2h0m0 4h0m0 10h0m0 2h0m0 1h0m0 20h0m0 74h0m1-140h0m0 8h0m0 15h0m0 2h0m0 1h0m0 7h0m0 1h0m0 2h0m0 4h0m0 6h0m0 6h0m0 7h0m1-60h0m0 3h0m0 1h0m0 5h0m0 11h0m0 1h0m0 5h0m0 1h0m0 1h0m0 2h0m0 1h0m0 2h0m0 3h0m0 1h0m0 10h0m0 5h0m0 1h0m0 1h0m0 1h0m0 4h0m0 5h0m1-64h0m0 4h0m0 8h0m0 3h0m0 2h0m0 2h0m0 4h0m0 4h0m0 1h0m0 6h0m0 5h0m0 3h0m0 7h0m0 5h0m0 9h0m1-64h0m0 9h0m0 3h0m0 1h0m0 8h0m0 6h0m0 2h0m0 1h0m0 2h0m0 1h0m0 1h0m0 7h0m0 11h0m0 4h0m0 2h0m0 2h0m0 10h0m1-64h0m0 8h0m0 2h0m0 9h0m0 5h0m0 2h0m0 6h0m0 5h0m0 3h0m0 7h0m0 11h0m1-64h0m0 2h0m0 12h0m0 12h0m0 1h0m0 2h0m0 9h0m0 1h0m0 3h0m0 2h0m0 1h0m0 2h0m0 1h0m0 1h0m0 2h0m0 8h0m1-60h0m0 15h0m0 11h0m0 3h0m0 1h0m0 2h0m0 1h0m0 3h0m0 3h0m0 4h0m0 3h0m0 2h0m0 4h0m0 5h0m0 4h0m1-57h0m0 1h0m0 20h0m0 1h0m0 1h0m0 1h0m0 1h0m0 7h0m0 7h0m0 5h0m0 1h0m0 4h0m0 2h0m0 1h0m0 3h0m1-79h0m0 22h0m0 1h0m0 1h0m0 1h0m0 9h0m0 1h0m0 4h0m0 9h0m0 1h0m0 1h0m0 3h0m0 7h0m0 4h0m0 1h0m0 3h0m1-54h0m0 7h0m0 1h0m0 16h0m0 3h0m0 1h0m0 2h0m0 2h0m0 1h0m0 3h0m0 11h0m0 1h0m0 4h0m0 2h0m0 1h0m0 4h0m1-50h0m0 1h0m0 13h0m0 9h0m0 1h0m0 1h0m0 2h0m0 1h0m0 1h0m0 7h0m0 3h0m0 13h0m1-58h0m0 6h0m0 2h0m0 19h0m0 2h0m0 2h0m0 2h0m0 1h0m0 2h0m0 6h0m0 4h0m0 6h0m0 8h0m1-57h0m0 3h0m0 8h0m0 7h0m0 1h0m0 2h0m0 5h0m0 8h0m0 1h0m0 7h0m0 4h0m0 9h0m1-52h0m0 14h0m0 9h0m0 1h0m0 2h0m0 1h0m0 2h0m0 2h0m0 6h0m0 5h0m0 1h0m0 20h0m1-66h0m0 3h0m0 5h0m0 2h0m0 6h0m0 1h0m0 6h0m0 4h0m0 3h0m0 1h0m0 1h0m0 16h0m0 1h0m0 3h0m0 5h0m0 2h0m0 3h0m1-69h0m0 9h0m0 7h0m0 15h0m0 3h0m0 1h0m0 1h0m0 1h0m0 2h0m0 1h0m0 2h0m0 1h0m0 1h0m0 8h0m0 4h0m0 4h0m0 2h0m0 3h0m1-54h0m0 1h0m0 3h0m0 16h0m0 1h0m0 1h0m0 1h0m0 1h0m0 1h0m0 1h0m0 1h0m0 4h0m0 8h0m0 3h0m0 8h0m0 2h0m0 2h0m1-73h0m0 18h0m0 3h0m0 2h0m0 2h0m0 9h0m0 4h0m0 5h0m0 5h0m0 12h0m0 4h0m0 3h0m0 9h0m1-73h0m0 2h0m0 12h0m0 2h0m0 5h0m0 14h0m0 2h0m0 1h0m0 2h0m0 1h0m0 4h0m0 3h0m0 2h0m0 17h0m0 2h0m0 4h0m0 1h0m1-44h0m0 1h0m0 1h0m0 1h0m0 6h0m0 1h0m0 1h0m0 7h0m0 4h0m0 14h0m1-54h0m0 26h0m0 1h0m0 5h0m0 1h0m0 1h0m0 10h0m0 4h0m0 3h0m0 1h0m0 1h0m1-66h0m0 6h0m0 8h0m0 13h0m0 6h0m0 1h0m0 5h0m0 1h0m0 6h0m0 1h0m0 5h0m0 2h0m0 2h0m0 12h0m1-42h0m0 2h0m0 12h0m0 2h0m0 1h0m0 1h0m0 2h0m0 4h0m0 1h0m0 3h0m0 8h0m0 4h0m0 2h0m0 6h0m0 1h0m1-62h0m0 6h0m0 2h0m0 3h0m0 3h0m0 6h0m0 2h0m0 6h0m0 3h0m0 7h0m0 13h0m0 4h0m0 2h0m1-43h0m0 6h0m0 6h0m0 1h0m0 2h0m0 4h0m0 13h0m0 1h0m0 10h0m1-54h0m0 5h0m0 13h0m0 1h0m0 3h0m0 5h0m0 2h0m0 1h0m0 5h0m0 15h0m0 5h0m1-47h0m0 4h0m0 9h0m0 1h0m0 4h0m0 12h0m0 4h0m0 9h0m0 1h0m0 2h0m1-62h0m0 19h0m0 6h0m0 1h0m0 1h0m0 1h0m0 1h0m0 2h0m0 4h0m0 2h0m0 9h0m0 1h0m0 20h0m1-56h0m0 2h0m0 8h0m0 2h0m0 7h0m0 8h0m0 9h0m0 2h0m1-38h0m0 9h0m0 1h0m0 4h0m0 9h0m0 14h0m1-45h0m0 15h0m0 1h0m0 6h0m0 1h0m0 6h0m0 2h0m0 4h0m0 7h0m0 5h0m0 10h0m0 5h0m1-55h0m0 3h0m0 3h0m0 7h0m0 4h0m0 6h0m0 6h0m0 1h0m0 20h0m1-63h0m0 4h0m0 5h0m0 2h0m0 1h0m0 4h0m0 1h0m0 1h0m0 21h0m0 4h0m0 8h0m0 8h0m1-66h0m0 13h0m0 2h0m0 8h0m0 8h0m0 2h0m0 7h0m0 6h0m0 7h0m0 13h0m0 11h0m1-60h0m0 6h0m0 4h0m0 1h0m0 3h0m0 12h0m0 12h0m0 5h0m0 13h0m1-47h0m0 7h0m0 1h0m0 11h0m0 2h0m0 10h0m0 7h0m1-95h0m0 47h0m0 9h0m0 5h0m0 12h0m0 2h0m0 3h0m0 9h0m0 7h0m0 7h0m0 3h0m0 1h0m0 6h0m1-73h0m0 6h0m0 12h0m0 3h0m0 3h0m0 3h0m0 40h0m1-61h0m0 2h0m0 16h0m0 1h0m0 6h0m0 5h0m0 5h0m1-34h0m0 14h0m0 3h0m0 3h0m0 16h0m0 2h0m0 3h0m0 2h0m0 6h0m1-55h0m0 4h0m0 11h0m0 2h0m0 1h0m0 4h0m0 1h0m0 1h0m0 2h0m0 7h0m0 18h0m1-58h0m0 10h0m0 34h0m0 5h0m0 12h0m0 9h0m0 2h0m0 5h0m1-50h0m0 2h0m0 4h0m0 1h0m0 8h0m0 1h0m0 3h0m0 22h0m1-55h0m0 2h0m0 18h0m0 6h0m0 2h0m0 6h0m0 1h0m0 1h0m0 7h0m0 11h0m1-53h0m0 3h0m0 9h0m0 4h0m0 1h0m0 2h0m0 6h0m0 37h0m1-55h0m0 12h0m0 11h0m0 10h0m0 10h0m0 11h0m1-81h0m0 19h0m0 1h0m0 17h0m0 3h0m0 1h0m0 6h0m0 17h0m0 3h0m0 2h0m0 2h0m1-45h0m0 9h0m0 4h0m0 3h0m0 5h0m0 6h0m0 2h0m0 14h0m1-40h0m0 10h0m0 14h0m0 1h0m0 1h0m1-22h0m0 2h0m0 5h0m0 30h0m1-50h0m0 1h0m0 10h0m0 1h0m0 1h0m0 8h0m0 5h0m0 1h0m0 9h0m0 8h0m0 2h0m0 5h0m0 2h0m0 3h0m1-37h0m0 4h0m0 15h0m1-39h0m0 13h0m0 4h0m0 3h0m0 2h0m0 29h0m0 3h0m1-51h0m0 10h0m0 3h0m0 1h0m0 2h0m0 3h0m0 16h0m0 2h0m0 1h0m0 8h0m0 2h0m0 4h0m1-39h0m0 1h0m0 2h0m0 2h0m0 6h0m0 10h0m0 9h0m0 1h0m0 2h0m0 2h0m0 3h0m1-33h0m0 3h0m0 1h0m0 16h0m0 4h0m0 3h0m1-46h0m0 6h0m0 10h0m0 2h0m0 1h0m0 4h0m0 5h0m0 8h0m0 2h0m0 16h0m0 9h0m1-61h0m0 9h0m0 25h0m0 1h0m0 6h0m0 4h0m0 10h0m1-49h0m0 6h0m0 2h0m0 1h0m0 5h0m0 2h0m0 9h0m0 3h0m0 3h0m1-41h0m0 16h0m0 4h0m0 1h0m0 5h0m0 8h0m0 1h0m0 9h0m0 1h0m0 2h0m1-36h0m0 3h0m0 6h0m0 1h0m0 7h0m0 1h0m0 8h0m0 2h0m0 24h0m1-52h0m0 6h0m0 4h0m0 1h0m0 20h0m0 3h0m0 12h0m0 2h0m1-63h0m0 23h0m0 12h0m0 12h0m1-43h0m0 5h0m0 4h0m0 1h0m0 1h0m0 2h0m0 2h0m0 5h0m0 19h0m0 5h0m0 7h0m0 1h0m1-54h0m0 23h0m0 7h0m0 2h0m0 5h0m0 10h0m0 15h0m1-62h0m0 20h0m0 7h0m0 2h0m0 4h0m1-12h0m0 7h0m0 3h0m0 2h0m0 3h0m0 1h0m1-34h0m0 20h0m0 7h0m0 6h0m0 4h0m0 2h0m1-43h0m0 41h0m0 18h0m1-35h0m0 10h0m1-23h0m0 10h0m0 2h0m0 12h0m0 20h0m1-37h0m0 23h0m0 2h0m1-35h0m0 1h0m0 49h0m0 3h0m1-66h0m0 21h0m0 6h0m0 6h0m0 4h0m0 10h0m1-18h0m0 15h0m0 3h0m0 5h0m0 3h0m0 9h0m1-46h0m0 6h0m0 17h0m0 2h0m0 13h0m0 11h0m0 1h0m1-54h0m0 19h0m0 2h0m0 9h0m0 8h0m1-42h0m0 12h0m0 8h0m0 1h0m0 13h0m0 2h0m0 5h0m0 7h0m1-50h0m0 35h0m0 5h0m1 0h0m1-26h0m0 20h0m0 1h0m0 3h0m0 4h0m0 1h0m1-25h0m0 2h0m0 5h0m0 1h0m0 9h0m0 13h0m0 4h0m0 3h0m1-56h0m0 5h0m0 39h0m0 4h0m1-15h0m0 12h0m1-39h0m1 21h0m0 7h0m0 1h0m0 4h0m1-36h0m0 2h0m0 5h0m0 11h0m0 7h0m0 11h0m0 8h0m1-33h0m0 18h0m0 4h0m1-37h0m0 17h0m0 21h0m1-80h0m0 70h0m0 5h0m0 8h0m0 2h0m0 2h0m0 3h0m0 3h0m0 2h0m0 1h0m1-42h0m0 43h0m0 1h0m1-54h0m0 23h0m0 16h0m1-24h0m0 23h0m0 20h0m1-36h0m0 4h0m0 14h0m1-18h0m0 11h0m0 3h0m0 2h0m1-34h0m0 2h0m0 5h0m0 10h0m0 14h0m0 4h0m0 13h0m1-57h0m0 34h0m0 7h0m0 2h0m0 2h0m0 21h0m1-84h0m0 31h0m0 31h0m0 3h0m0 12h0m1-41h0m0 26h0m0 1h0m1-19h0m1 17h0m0 2h0m1-38h0m0 19h0m0 1h0m0 17h0m1-18h0m0 1h0m0 2h0m0 10h0m0 9h0m0 5h0m1-42h0m0 16h0m0 19h0m1-53h0m0 30h0m0 1h0m0 19h0m0 7h0m1-29h0m0 23h0m0 2h0m1-33h0m0 7h0m0 5h0m1 9h0m0 6h0m0 3h0m1-31h0m0 14h0m0 19h0m0 14h0m1-15h0m0 4h0m1-32h0m1 21h0m0 5h0m0 5h0m1-20h0m0 1h0m0 1h0m2 3h0m0 12h0m0 2h0m2-40h0m1 4h0m0 23h0m0 9h0m1-8h0m0 5h0m0 19h0m2-37h0m0 5h0m1-5h0m2 9h0m0 13h0m0 13h0m1-24h0m2-3h0m1 17h0m1-6h0m0 5h0m2-7h0m1-11h0m2 17h0" stroke="#ee9a00"/>
<path d="M501 1400h0m1 25h0m3-4h0m5 10h0m2-9h0m5 37h0m2-41h0m0 32h0m0 17h0m2-36h0m1-11h0m4 3h0m7-2h0m0 36h0m0 6h0m2-1h0m1-44h0m1 36h0m1-50h0m0 5h0m2-43h0m0 79h0m2-41h0m0 33h0m1-10h0m1 2h0m0 19h0m1-10h0m1 16h0m1-12h0m1 4h0m1-27h0m0 14h0m0 14h0m1-15h0m0 18h0m0 3h0m0 11h0m1-33h0m0 18h0m0 34h0m2-72h0m0 30h0m0 19h0m2-32h0m1-31h0m0 40h0m1-98h0m0 4h0m0 62h0m0 20h0m0 36h0m1-18h0m0 8h0m1-123h0m0 112h0m1-42h0m1 18h0m1 20h0m0 4h0m1-4h0m1-3h0m0 34h0m2-19h0m0 25h0m2-63h0m0 14h0m2 19h0m1-35h0m1 32h0m1-19h0m0 28h0m0 11h0m0 9h0m1-23h0m1-29h0m1 3h0m1 13h0m0 8h0m0 5h0m1-33h0m0 63h0m1-80h0m0 31h0m0 2h0m0 24h0m1-31h0m0 20h0m0 41h0m1-23h0m0 15h0m0 13h0m1-44h0m1-4h0m0 19h0m1 23h0m1-39h0m1-1h0m0 1h0m1-5h0m0 16h0m1-15h0m1-6h0m0 5h0m0 4h0m0 8h0m0 6h0m1-21h0m0 14h0m0 8h0m1-31h0m0 16h0m0 1h0m0 18h0m1-7h0m0 21h0m0 22h0m1-109h0m0 70h0m1-45h0m0 41h0m1-2h0m0 4h0m0 31h0m1 2h0m1-47h0m0 43h0m0 5h0m1-43h0m0 4h0m0 36h0m1-73h0m0 21h0m0 18h0m0 22h0m1-13h0m0 38h0m1-74h0m0 15h0m0 3h0m0 17h0m1-46h0m0 2h0m0 78h0m3-59h0m0 26h0m0 5h0m1-22h0m0 2h0m0 17h0m1 11h0m0 5h0m1-40h0m0 5h0m0 13h0m0 17h0m0 7h0m0 8h0m1-57h0m0 6h0m0 29h0m1-6h0m0 3h0m0 5h0m2-99h0m0 24h0m0 58h0m0 6h0m1-32h0m0 15h0m0 7h0m0 3h0m0 15h0m0 5h0m0 18h0m1-73h0m0 53h0m0 8h0m0 5h0m0 22h0m1-93h0m0 23h0m0 19h0m0 6h0m0 6h0m0 19h0m0 2h0m0 6h0m1-116h0m0 52h0m0 25h0m0 19h0m0 9h0m1-41h0m0 25h0m0 14h0m0 6h0m1-15h0m0 18h0m0 10h0m1-19h0m0 7h0m1-122h0m1 56h0m0 38h0m0 1h0m0 5h0m0 8h0m0 2h0m0 7h0m1-124h0m0 89h0m0 3h0m0 3h0m0 5h0m0 7h0m1-9h0m1-82h0m0 83h0m0 13h0m0 3h0m1-39h0m0 6h0m0 39h0m0 3h0m0 1h0m0 19h0m1-62h0m0 31h0m0 17h0m0 8h0m1-36h0m0 47h0m1-52h0m0 10h0m0 20h0m1-65h0m0 12h0m0 49h0m0 1h0m0 6h0m0 13h0m1-73h0m0 4h0m0 27h0m0 2h0m0 6h0m0 2h0m0 18h0m0 7h0m1-66h0m0 17h0m0 7h0m0 9h0m0 16h0m0 9h0m1-47h0m0 5h0m0 4h0m0 10h0m0 12h0m0 31h0m1-50h0m0 17h0m0 9h0m0 10h0m1-29h0m0 14h0m0 1h0m1-13h0m0 28h0m1-40h0m0 9h0m0 4h0m0 7h0m0 6h0m1-30h0m0 17h0m0 15h0m0 8h0m1-22h0m0 6h0m0 3h0m1-10h0m1-50h0m0 48h0m0 18h0m0 13h0m0 11h0m1-45h0m0 2h0m0 2h0m0 4h0m0 9h0m0 2h0m0 5h0m0 5h0m0 4h0m0 10h0m1-25h0m0 8h0m0 4h0m0 14h0m1-83h0m0 18h0m0 5h0m0 4h0m0 3h0m0 27h0m0 22h0m0 6h0m1-77h0m0 15h0m0 19h0m0 11h0m0 4h0m0 10h0m0 7h0m0 10h0m1-142h0m0 82h0m0 4h0m0 28h0m0 7h0m0 4h0m0 14h0m1-80h0m0 18h0m0 9h0m0 3h0m0 14h0m0 15h0m0 17h0m0 6h0m1-60h0m0 7h0m0 2h0m0 2h0m0 8h0m0 4h0m0 12h0m0 1h0m0 2h0m0 3h0m0 4h0m0 2h0m0 5h0m0 15h0m1-52h0m0 1h0m0 6h0m0 17h0m0 1h0m0 1h0m0 6h0m0 14h0m0 10h0m1-74h0m0 35h0m0 34h0m1-38h0m0 4h0m0 1h0m0 8h0m0 10h0m0 15h0m1-69h0m0 14h0m0 7h0m0 8h0m0 3h0m0 7h0m0 8h0m0 5h0m1-42h0m0 11h0m0 10h0m0 3h0m0 14h0m0 7h0m0 6h0m0 8h0m0 1h0m0 5h0m1-77h0m0 22h0m0 1h0m0 15h0m0 8h0m0 5h0m0 2h0m0 9h0m0 2h0m0 4h0m0 1h0m1-61h0m0 6h0m0 23h0m0 1h0m0 2h0m0 2h0m0 5h0m0 3h0m0 9h0m0 5h0m0 35h0m1-114h0m0 58h0m0 3h0m0 1h0m0 6h0m0 2h0m0 17h0m1-48h0m0 10h0m0 4h0m0 5h0m0 3h0m0 21h0m0 8h0m0 7h0m1-69h0m0 21h0m0 8h0m0 7h0m0 3h0m0 16h0m1-101h0m0 22h0m0 34h0m0 8h0m0 10h0m0 15h0m0 1h0m0 2h0m0 14h0m0 1h0m0 8h0m1-83h0m0 19h0m0 7h0m0 15h0m0 3h0m0 13h0m0 3h0m0 8h0m0 6h0m0 7h0m1-51h0m0 2h0m0 1h0m0 1h0m0 16h0m0 2h0m0 3h0m0 2h0m0 8h0m0 4h0m0 4h0m1-78h0m0 24h0m0 27h0m0 5h0m0 2h0m0 4h0m0 1h0m0 4h0m0 8h0m1-56h0m0 15h0m0 20h0m0 6h0m0 3h0m0 7h0m0 4h0m1-58h0m0 22h0m0 1h0m0 2h0m0 16h0m0 2h0m0 9h0m0 7h0m0 6h0m0 3h0m1-59h0m0 5h0m0 2h0m0 3h0m0 11h0m0 5h0m0 2h0m0 6h0m0 3h0m0 1h0m0 1h0m0 1h0m0 6h0m0 7h0m0 1h0m1-64h0m0 7h0m0 3h0m0 3h0m0 1h0m0 9h0m0 9h0m0 3h0m0 8h0m0 3h0m0 5h0m0 2h0m0 2h0m0 1h0m0 10h0m1-99h0m0 13h0m0 43h0m0 16h0m0 4h0m0 7h0m0 1h0m0 2h0m0 4h0m1-88h0m0 39h0m0 3h0m0 11h0m0 6h0m0 1h0m0 3h0m0 7h0m0 2h0m0 1h0m0 1h0m0 6h0m0 4h0m0 2h0m0 12h0m1-89h0m0 14h0m0 34h0m0 7h0m0 2h0m0 6h0m0 1h0m0 3h0m0 2h0m0 1h0m0 5h0m0 5h0m0 9h0m0 8h0m1-97h0m0 27h0m0 8h0m0 1h0m0 13h0m0 12h0m0 5h0m0 2h0m0 2h0m0 1h0m0 1h0m0 5h0m0 10h0m1-43h0m0 3h0m0 2h0m0 1h0m0 5h0m0 2h0m0 5h0m0 2h0m0 5h0m0 2h0m0 11h0m0 38h0m1-110h0m0 23h0m0 1h0m0 1h0m0 11h0m0 4h0m0 6h0m0 5h0m0 4h0m0 2h0m0 3h0m0 2h0m0 3h0m0 1h0m0 2h0m0 3h0m0 7h0m0 3h0m0 12h0m1-86h0m0 9h0m0 19h0m0 3h0m0 2h0m0 3h0m0 1h0m0 4h0m0 4h0m0 9h0m0 3h0m0 3h0m0 13h0m0 3h0m0 45h0m1-109h0m0 22h0m0 9h0m0 6h0m0 16h0m0 6h0m1-50h0m0 7h0m0 1h0m0 1h0m0 10h0m0 6h0m0 1h0m0 7h0m0 2h0m0 9h0m0 3h0m0 3h0m0 3h0m0 54h0m1-133h0m0 20h0m0 11h0m0 2h0m0 16h0m0 2h0m0 1h0m0 2h0m0 4h0m0 1h0m0 5h0m0 2h0m1-84h0m0 17h0m0 8h0m0 10h0m0 4h0m0 8h0m0 4h0m0 3h0m0 1h0m0 1h0m0 1h0m0 4h0m0 4h0m0 3h0m0 1h0m0 2h0m0 1h0m0 4h0m0 12h0m0 4h0m0 2h0m0 3h0m0 2h0m0 3h0m1-68h0m0 21h0m0 2h0m0 9h0m0 4h0m0 9h0m0 7h0m0 4h0m0 47h0m1-78h0m0 3h0m0 5h0m0 1h0m0 2h0m0 1h0m0 11h0m0 6h0m0 2h0m0 10h0m1-70h0m0 3h0m0 19h0m0 6h0m0 3h0m0 2h0m0 12h0m0 2h0m0 2h0m0 1h0m0 4h0m0 1h0m0 3h0m0 13h0m1-60h0m0 3h0m0 7h0m0 9h0m0 4h0m0 4h0m0 1h0m0 1h0m0 3h0m0 4h0m0 2h0m0 1h0m0 1h0m0 1h0m0 2h0m0 1h0m0 1h0m0 2h0m0 2h0m0 3h0m0 2h0m0 2h0m1-58h0m0 14h0m0 2h0m0 8h0m0 2h0m0 1h0m0 2h0m0 1h0m0 3h0m0 2h0m0 8h0m0 2h0m0 2h0m0 1h0m0 1h0m0 2h0m0 1h0m0 15h0m0 27h0m1-83h0m0 1h0m0 2h0m0 1h0m0 8h0m0 3h0m0 4h0m0 4h0m0 1h0m0 1h0m0 1h0m0 1h0m0 1h0m0 7h0m0 1h0m0 2h0m0 7h0m1-45h0m0 4h0m0 2h0m0 2h0m0 6h0m0 3h0m0 1h0m0 1h0m0 2h0m0 3h0m0 4h0m0 6h0m0 16h0m0 1h0m1-64h0m0 11h0m0 1h0m0 2h0m0 6h0m0 3h0m0 1h0m0 9h0m0 1h0m0 1h0m0 2h0m0 7h0m0 7h0m1-135h0m0 59h0m0 31h0m0 14h0m0 1h0m0 6h0m0 1h0m0 5h0m0 1h0m0 3h0m0 1h0m0 1h0m0 2h0m0 1h0m0 3h0m0 1h0m0 2h0m0 3h0m0 10h0m0 6h0m0 54h0m1-129h0m0 17h0m0 1h0m0 10h0m0 1h0m0 2h0m0 1h0m0 1h0m0 1h0m0 3h0m0 7h0m0 2h0m0 1h0m0 4h0m0 2h0m0 7h0m0 6h0m0 16h0m1-121h0m0 57h0m0 8h0m0 15h0m0 2h0m0 8h0m0 4h0m0 3h0m0 8h0m0 27h0m1-119h0m0 4h0m0 23h0m0 8h0m0 1h0m0 12h0m0 5h0m0 1h0m0 4h0m0 3h0m0 1h0m0 5h0m0 2h0m0 2h0m0 3h0m0 4h0m0 7h0m0 2h0m0 1h0m0 3h0m0 5h0m0 1h0m0 6h0m0 21h0m1-87h0m0 13h0m0 2h0m0 3h0m0 1h0m0 1h0m0 1h0m0 4h0m0 1h0m0 1h0m0 1h0m0 2h0m0 2h0m0 1h0m0 3h0m0 1h0m0 1h0m0 1h0m0 4h0m0 1h0m0 1h0m0 1h0m0 1h0m0 3h0m0 9h0m1-38h0m0 13h0m0 4h0m0 1h0m0 2h0m0 1h0m0 1h0m0 4h0m0 4h0m0 1h0m0 3h0m0 3h0m1-80h0m0 18h0m0 1h0m0 26h0m0 4h0m0 6h0m0 1h0m0 2h0m0 4h0m0 4h0m0 6h0m0 5h0m0 3h0m1-50h0m0 2h0m0 7h0m0 5h0m0 2h0m0 11h0m0 1h0m0 6h0m0 1h0m0 1h0m0 12h0m0 11h0m0 21h0m0 23h0m1-114h0m0 2h0m0 9h0m0 8h0m0 4h0m0 2h0m0 1h0m0 2h0m0 2h0m0 5h0m0 2h0m0 2h0m0 3h0m0 1h0m0 2h0m0 1h0m1-52h0m0 21h0m0 3h0m0 6h0m0 1h0m0 5h0m0 5h0m0 1h0m0 1h0m0 3h0m0 1h0m0 2h0m0 3h0m0 3h0m0 5h0m0 1h0m0 1h0m0 2h0m0 3h0m1-50h0m0 6h0m0 3h0m0 2h0m0 1h0m0 2h0m0 5h0m0 1h0m0 3h0m0 4h0m0 1h0m0 1h0m0 2h0m0 1h0m0 1h0m0 2h0m0 2h0m0 1h0m0 4h0m0 4h0m0 9h0m1-60h0m0 14h0m0 5h0m0 2h0m0 1h0m0 2h0m0 1h0m0 1h0m0 6h0m0 3h0m0 2h0m0 2h0m0 1h0m0 1h0m0 2h0m0 1h0m0 2h0m0 1h0m0 33h0m1-111h0m0 25h0m0 5h0m0 2h0m0 2h0m0 6h0m0 4h0m0 1h0m0 3h0m0 6h0m0 4h0m0 2h0m0 1h0m0 1h0m0 1h0m0 1h0m0 1h0m0 3h0m0 1h0m0 1h0m0 1h0m0 1h0m0 1h0m0 3h0m0 4h0m0 17h0m1-90h0m0 32h0m0 5h0m0 6h0m0 1h0m0 1h0m0 2h0m0 1h0m0 1h0m0 8h0m0 1h0m0 3h0m0 4h0m0 1h0m0 1h0m0 1h0m0 2h0m0 7h0m0 10h0m0 35h0m1-184h0m0 92h0m0 2h0m0 8h0m0 2h0m0 1h0m0 3h0m0 2h0m0 2h0m0 1h0m0 1h0m0 2h0m0 3h0m0 1h0m0 7h0m0 1h0m0 2h0m0 1h0m0 1h0m0 4h0m0 2h0m0 8h0m0 52h0m1-96h0m0 2h0m0 3h0m0 16h0m0 1h0m0 2h0m0 2h0m0 1h0m0 1h0m0 1h0m0 5h0m0 3h0m0 2h0m0 1h0m1-56h0m0 9h0m0 3h0m0 10h0m0 2h0m0 3h0m0 2h0m0 5h0m0 1h0m0 1h0m0 1h0m0 1h0m0 4h0m0 1h0m0 2h0m0 2h0m0 2h0m0 1h0m0 1h0m0 2h0m1-55h0m0 11h0m0 3h0m0 1h0m0 8h0m0 4h0m0 1h0m0 1h0m0 3h0m0 4h0m0 1h0m0 1h0m0 2h0m0 2h0m0 2h0m0 1h0m0 3h0m0 8h0m0 3h0m0 2h0m0 23h0m0 28h0m1-134h0m0 24h0m0 11h0m0 3h0m0 1h0m0 3h0m0 8h0m0 1h0m0 1h0m0 2h0m0 1h0m0 1h0m0 2h0m0 1h0m0 1h0m0 5h0m0 4h0m0 4h0m0 1h0m0 7h0m0 8h0m0 7h0m1-139h0m0 75h0m0 12h0m0 4h0m0 1h0m0 3h0m0 4h0m0 7h0m0 1h0m0 2h0m0 1h0m0 2h0m0 1h0m0 1h0m0 5h0m0 13h0m1-48h0m0 2h0m0 1h0m0 7h0m0 3h0m0 1h0m0 1h0m0 1h0m0 2h0m0 1h0m0 1h0m0 2h0m0 1h0m0 2h0m0 4h0m0 1h0m0 5h0m0 3h0m0 9h0m1-155h0m0 92h0m0 17h0m0 4h0m0 2h0m0 2h0m0 1h0m0 1h0m0 2h0m0 5h0m0 2h0m0 1h0m0 1h0m0 1h0m0 2h0m0 1h0m0 1h0m0 1h0m0 8h0m0 1h0m0 11h0m0 5h0m1-86h0m0 20h0m0 6h0m0 1h0m0 9h0m0 3h0m0 1h0m0 2h0m0 1h0m0 1h0m0 3h0m0 1h0m0 1h0m0 1h0m0 1h0m0 1h0m0 2h0m0 1h0m0 1h0m0 3h0m0 1h0m0 3h0m0 3h0m0 1h0m0 3h0m0 2h0m0 1h0m1-80h0m0 9h0m0 3h0m0 22h0m0 4h0m0 5h0m0 7h0m0 1h0m0 4h0m0 1h0m0 1h0m0 3h0m0 2h0m0 1h0m0 2h0m0 2h0m0 3h0m0 12h0m0 4h0m0 6h0m0 49h0m1-119h0m0 6h0m0 6h0m0 1h0m0 4h0m0 2h0m0 4h0m0 4h0m0 1h0m0 2h0m0 2h0m0 2h0m0 1h0m0 1h0m0 1h0m0 4h0m0 2h0m0 7h0m0 1h0m0 2h0m1-84h0m0 26h0m0 13h0m0 9h0m0 2h0m0 2h0m0 7h0m0 1h0m0 1h0m0 2h0m0 1h0m0 1h0m0 3h0m0 2h0m0 1h0m0 2h0m0 4h0m0 1h0m0 1h0m0 9h0m1-96h0m0 36h0m0 20h0m0 5h0m0 5h0m0 1h0m0 2h0m0 2h0m0 4h0m0 1h0m0 1h0m0 1h0m0 2h0m0 7h0m0 3h0m0 2h0m0 2h0m0 8h0m0 5h0m0 5h0m1-97h0m0 31h0m0 4h0m0 7h0m0 3h0m0 3h0m0 5h0m0 1h0m0 1h0m0 1h0m0 1h0m0 1h0m0 2h0m0 1h0m0 2h0m0 3h0m0 5h0m0 4h0m0 1h0m0 1h0m0 9h0m0 20h0m1-80h0m0 2h0m0 2h0m0 8h0m0 7h0m0 5h0m0 4h0m0 1h0m0 5h0m0 1h0m0 1h0m0 2h0m0 1h0m0 2h0m0 2h0m0 1h0m0 11h0m0 1h0m1-58h0m0 13h0m0 1h0m0 7h0m0 1h0m0 1h0m0 5h0m0 1h0m0 1h0m0 1h0m0 2h0m0 2h0m0 2h0m0 3h0m0 1h0m0 5h0m0 9h0m0 4h0m1-75h0m0 17h0m0 3h0m0 15h0m0 3h0m0 1h0m0 6h0m0 2h0m0 1h0m0 2h0m0 2h0m0 1h0m0 4h0m0 5h0m0 1h0m0 2h0m0 2h0m0 2h0m0 5h0m0 4h0m0 1h0m0 13h0m0 9h0m0 2h0m0 14h0m1-88h0m0 8h0m0 2h0m0 3h0m0 1h0m0 1h0m0 2h0m0 2h0m0 2h0m0 2h0m0 1h0m0 1h0m0 1h0m0 2h0m0 4h0m0 6h0m0 5h0m0 2h0m0 6h0m0 7h0m0 10h0m0 7h0m1-90h0m0 10h0m0 3h0m0 8h0m0 3h0m0 2h0m0 1h0m0 1h0m0 2h0m0 1h0m0 2h0m0 1h0m0 2h0m0 1h0m0 6h0m0 5h0m0 2h0m0 6h0m0 18h0m1-72h0m0 15h0m0 3h0m0 2h0m0 2h0m0 9h0m0 2h0m0 2h0m0 1h0m0 1h0m0 4h0m0 1h0m0 3h0m0 3h0m0 3h0m0 2h0m0 1h0m0 5h0m0 2h0m1-62h0m0 5h0m0 5h0m0 3h0m0 5h0m0 4h0m0 1h0m0 1h0m0 3h0m0 4h0m0 3h0m0 2h0m0 1h0m0 2h0m0 1h0m0 2h0m0 1h0m0 1h0m0 1h0m0 1h0m0 1h0m0 1h0m0 1h0m0 3h0m0 2h0m0 10h0m0 26h0m0 46h0m1-133h0m0 2h0m0 7h0m0 3h0m0 2h0m0 3h0m0 2h0m0 6h0m0 4h0m0 2h0m0 2h0m0 1h0m0 1h0m0 1h0m0 1h0m0 1h0m0 1h0m0 2h0m0 1h0m0 1h0m0 2h0m0 2h0m0 3h0m0 5h0m0 8h0m1-62h0m0 4h0m0 6h0m0 4h0m0 10h0m0 5h0m0 5h0m0 1h0m0 1h0m0 2h0m0 2h0m0 1h0m0 13h0m0 26h0m1-86h0m0 23h0m0 3h0m0 1h0m0 3h0m0 1h0m0 3h0m0 6h0m0 1h0m0 2h0m0 1h0m0 2h0m0 4h0m0 5h0m0 1h0m1-63h0m0 9h0m0 6h0m0 3h0m0 10h0m0 2h0m0 1h0m0 2h0m0 3h0m0 1h0m0 2h0m0 1h0m0 2h0m0 2h0m0 1h0m0 1h0m0 5h0m0 1h0m0 1h0m0 1h0m0 3h0m0 1h0m0 3h0m0 1h0m0 2h0m0 5h0m1-132h0m0 67h0m0 9h0m0 3h0m0 10h0m0 11h0m0 1h0m0 1h0m0 1h0m0 1h0m0 1h0m0 1h0m0 2h0m0 1h0m0 1h0m0 1h0m0 2h0m0 1h0m0 1h0m0 2h0m0 1h0m0 2h0m0 1h0m0 5h0m0 1h0m0 2h0m0 5h0m1-46h0m0 5h0m0 3h0m0 1h0m0 3h0m0 3h0m0 5h0m0 3h0m0 2h0m0 1h0m0 1h0m0 7h0m0 16h0m1-57h0m0 12h0m0 1h0m0 10h0m0 3h0m0 1h0m0 1h0m0 11h0m0 3h0m0 10h0m0 1h0m1-44h0m0 4h0m0 9h0m0 1h0m0 2h0m0 2h0m0 2h0m0 3h0m0 3h0m0 2h0m0 12h0m1-55h0m0 8h0m0 4h0m0 2h0m0 8h0m0 2h0m0 2h0m0 2h0m0 3h0m0 1h0m0 1h0m0 7h0m0 2h0m0 1h0m0 1h0m0 1h0m0 1h0m0 2h0m0 1h0m0 1h0m0 2h0m0 17h0m0 17h0m0 43h0m1-137h0m0 7h0m0 11h0m0 1h0m0 5h0m0 1h0m0 2h0m0 4h0m0 1h0m0 1h0m0 6h0m0 5h0m0 1h0m0 1h0m0 2h0m0 2h0m0 1h0m0 3h0m0 1h0m0 5h0m0 2h0m1-53h0m0 13h0m0 3h0m0 3h0m0 1h0m0 6h0m0 1h0m0 1h0m0 1h0m0 1h0m0 5h0m0 1h0m0 5h0m0 2h0m0 2h0m0 2h0m0 2h0m0 2h0m0 5h0m0 2h0m0 1h0m0 9h0m0 61h0m1-261h0m0 147h0m0 4h0m0 4h0m0 1h0m0 3h0m0 1h0m0 1h0m0 1h0m0 1h0m0 4h0m0 2h0m0 1h0m0 1h0m0 1h0m0 1h0m0 6h0m0 3h0m0 1h0m0 1h0m0 4h0m0 1h0m0 4h0m0 5h0m1-67h0m0 6h0m0 5h0m0 1h0m0 3h0m0 2h0m0 1h0m0 4h0m0 1h0m0 5h0m0 5h0m0 3h0m0 1h0m0 1h0m0 1h0m0 3h0m0 3h0m0 10h0m0 62h0m1-114h0m0 8h0m0 1h0m0 3h0m0 2h0m0 4h0m0 2h0m0 6h0m0 1h0m0 2h0m0 1h0m0 1h0m0 4h0m0 3h0m0 3h0m0 5h0m0 4h0m0 10h0m0 24h0m1-89h0m0 9h0m0 2h0m0 3h0m0 9h0m0 3h0m0 3h0m0 3h0m0 1h0m0 1h0m0 1h0m0 1h0m0 1h0m0 1h0m0 3h0m0 1h0m0 1h0m0 1h0m0 1h0m0 1h0m0 4h0m0 1h0m0 37h0m1-93h0m0 18h0m0 2h0m0 1h0m0 9h0m0 1h0m0 8h0m0 1h0m0 2h0m0 1h0m0 1h0m0 2h0m0 1h0m0 1h0m0 2h0m0 3h0m0 2h0m0 6h0m0 7h0m0 25h0m1-76h0m0 1h0m0 2h0m0 4h0m0 2h0m0 5h0m0 3h0m0 6h0m0 1h0m0 1h0m0 1h0m0 1h0m0 1h0m0 1h0m0 2h0m0 1h0m0 3h0m0 1h0m0 8h0m0 2h0m0 2h0m1-44h0m0 2h0m0 2h0m0 6h0m0 2h0m0 2h0m0 1h0m0 1h0m0 6h0m0 1h0m0 2h0m0 3h0m0 1h0m0 2h0m0 1h0m0 1h0m0 4h0m0 1h0m0 1h0m0 2h0m0 2h0m0 12h0m0 63h0m1-184h0m0 62h0m0 1h0m0 4h0m0 2h0m0 3h0m0 1h0m0 6h0m0 2h0m0 1h0m0 3h0m0 5h0m0 1h0m0 1h0m0 3h0m0 2h0m0 1h0m0 2h0m0 2h0m0 19h0m1-71h0m0 22h0m0 3h0m0 3h0m0 2h0m0 3h0m0 5h0m0 1h0m0 2h0m0 4h0m0 4h0m0 6h0m0 8h0m0 2h0m0 32h0m1-175h0m0 70h0m0 11h0m0 1h0m0 4h0m0 7h0m0 10h0m0 8h0m0 1h0m0 3h0m0 1h0m0 1h0m0 3h0m0 4h0m0 3h0m0 2h0m1-50h0m0 4h0m0 11h0m0 6h0m0 2h0m0 1h0m0 1h0m0 2h0m0 3h0m0 1h0m0 5h0m0 1h0m0 1h0m0 1h0m0 1h0m0 5h0m0 4h0m0 5h0m0 1h0m0 11h0m1-134h0m0 72h0m0 5h0m0 1h0m0 2h0m0 5h0m0 3h0m0 5h0m0 4h0m0 5h0m0 2h0m0 1h0m0 1h0m0 4h0m0 7h0m0 5h0m0 3h0m0 12h0m0 12h0m1-162h0m0 91h0m0 2h0m0 9h0m0 1h0m0 4h0m0 2h0m0 1h0m0 7h0m0 7h0m0 9h0m0 1h0m0 25h0m1-78h0m0 13h0m0 9h0m0 6h0m0 5h0m0 1h0m0 1h0m0 9h0m0 1h0m0 3h0m0 2h0m0 3h0m1-53h0m0 9h0m0 1h0m0 7h0m0 7h0m0 3h0m0 2h0m0 3h0m0 1h0m0 1h0m0 2h0m0 1h0m0 1h0m0 4h0m0 3h0m0 5h0m0 1h0m0 4h0m0 3h0m0 25h0m0 7h0m1-123h0m0 51h0m0 5h0m0 1h0m0 3h0m0 5h0m0 2h0m0 1h0m0 4h0m0 3h0m0 2h0m0 7h0m0 1h0m0 2h0m0 8h0m1-132h0m0 83h0m0 3h0m0 1h0m0 4h0m0 8h0m0 5h0m0 3h0m0 1h0m0 12h0m0 3h0m0 3h0m0 5h0m0 1h0m0 45h0m1-183h0m0 86h0m0 1h0m0 7h0m0 3h0m0 1h0m0 4h0m0 5h0m0 1h0m0 7h0m0 6h0m0 3h0m0 2h0m0 1h0m0 1h0m0 4h0m0 3h0m1-72h0m0 34h0m0 1h0m0 5h0m0 3h0m0 4h0m0 1h0m0 12h0m0 1h0m0 1h0m1-70h0m0 24h0m0 5h0m0 9h0m0 8h0m0 3h0m0 6h0m0 3h0m0 2h0m0 7h0m0 1h0m0 7h0m0 12h0m0 9h0m1-69h0m0 10h0m0 7h0m0 1h0m0 2h0m0 4h0m0 2h0m0 2h0m0 1h0m0 4h0m0 1h0m0 3h0m0 3h0m0 5h0m0 8h0m0 3h0m0 34h0m1-89h0m0 4h0m0 8h0m0 6h0m0 2h0m0 2h0m0 3h0m0 3h0m0 3h0m0 1h0m0 3h0m0 1h0m0 2h0m0 1h0m0 13h0m0 14h0m0 2h0m0 13h0m1-71h0m0 2h0m0 1h0m0 1h0m0 13h0m0 1h0m0 2h0m0 3h0m0 2h0m0 5h0m1-46h0m0 14h0m0 6h0m0 6h0m0 7h0m0 2h0m0 1h0m0 6h0m0 3h0m0 1h0m0 8h0m1-45h0m0 11h0m0 1h0m0 1h0m0 1h0m0 2h0m0 8h0m0 12h0m0 3h0m0 1h0m0 2h0m0 2h0m1-29h0m0 7h0m0 3h0m0 2h0m0 1h0m0 1h0m0 1h0m0 6h0m0 3h0m0 1h0m0 10h0m0 10h0m0 11h0m0 5h0m1-111h0m0 31h0m0 5h0m0 2h0m0 5h0m0 3h0m0 9h0m0 10h0m0 3h0m0 17h0m0 5h0m1-41h0m0 7h0m0 1h0m0 8h0m0 2h0m0 3h0m0 11h0m0 2h0m0 2h0m0 23h0m1-63h0m0 1h0m0 6h0m0 1h0m0 1h0m0 6h0m0 1h0m0 4h0m0 1h0m0 1h0m0 2h0m0 1h0m0 6h0m0 16h0m1-93h0m0 30h0m0 15h0m0 11h0m0 1h0m0 4h0m0 2h0m0 4h0m0 7h0m0 1h0m0 2h0m0 2h0m0 1h0m1-38h0m0 6h0m0 6h0m0 4h0m0 2h0m0 3h0m0 1h0m0 2h0m0 2h0m0 2h0m0 9h0m0 3h0m0 1h0m0 23h0m1-56h0m0 4h0m0 1h0m0 2h0m0 13h0m0 2h0m0 3h0m0 5h0m0 3h0m1-47h0m0 12h0m0 3h0m0 7h0m0 1h0m0 2h0m0 3h0m0 4h0m0 3h0m0 5h0m0 1h0m0 12h0m1-53h0m0 4h0m0 3h0m0 4h0m0 9h0m0 2h0m0 3h0m0 4h0m0 3h0m0 2h0m0 2h0m0 4h0m0 1h0m0 6h0m1-46h0m0 3h0m0 3h0m0 4h0m0 2h0m0 4h0m0 1h0m0 1h0m0 4h0m0 7h0m0 4h0m1-105h0m0 16h0m0 53h0m0 12h0m0 10h0m0 1h0m0 4h0m0 11h0m0 3h0m0 12h0m0 8h0m1-56h0m0 9h0m0 5h0m0 6h0m0 5h0m0 1h0m0 1h0m0 6h0m0 7h0m0 2h0m0 22h0m1-90h0m0 33h0m0 2h0m0 1h0m0 3h0m0 3h0m0 4h0m0 1h0m0 28h0m0 2h0m0 7h0m1-71h0m0 1h0m0 12h0m0 9h0m0 14h0m0 1h0m0 5h0m0 2h0m0 9h0m0 14h0m1-59h0m0 16h0m0 11h0m0 6h0m0 5h0m0 7h0m0 7h0m1-81h0m0 21h0m0 40h0m0 9h0m0 1h0m0 1h0m0 10h0m1-52h0m0 12h0m0 13h0m0 2h0m0 11h0m0 5h0m1-40h0m0 5h0m0 4h0m0 2h0m0 4h0m0 2h0m0 2h0m0 14h0m0 12h0m0 5h0m0 9h0m1-75h0m0 10h0m0 21h0m0 12h0m0 2h0m0 6h0m0 5h0m0 7h0m1-75h0m0 14h0m0 45h0m0 9h0m1-43h0m0 5h0m0 5h0m0 5h0m0 2h0m0 2h0m0 6h0m0 2h0m0 1h0m0 7h0m1-44h0m0 8h0m0 2h0m0 16h0m0 2h0m0 10h0m1-115h0m0 102h0m0 10h0m0 6h0m0 5h0m0 2h0m0 4h0m1-48h0m0 6h0m0 14h0m0 10h0m0 8h0m0 4h0m0 3h0m0 10h0m1-39h0m0 1h0m0 4h0m0 18h0m0 8h0m0 41h0m1-81h0m0 15h0m0 6h0m0 10h0m0 4h0m0 8h0m1-42h0m0 11h0m0 3h0m0 10h0m0 1h0m0 4h0m0 27h0m1-51h0m0 10h0m0 1h0m0 6h0m0 2h0m0 3h0m0 8h0m1-38h0m0 11h0m0 2h0m0 2h0m0 15h0m0 4h0m0 3h0m0 30h0m1-51h0m0 5h0m0 5h0m0 1h0m0 3h0m0 10h0m1-29h0m0 15h0m0 2h0m0 15h0m1-17h0m1-2h0m0 1h0m0 2h0m0 1h0m0 4h0m0 3h0m0 6h0m0 6h0m1-42h0m0 11h0m0 30h0m0 21h0m1-76h0m0 14h0m0 2h0m0 5h0m0 3h0m1-3h0m0 12h0m0 1h0m0 4h0m0 8h0m0 19h0m1-56h0m0 27h0m1-35h0m0 5h0m0 4h0m0 18h0m0 8h0m0 1h0m0 6h0m1-36h0m0 14h0m0 10h0m0 38h0m1-68h0m0 33h0m1-41h0m0 32h0m0 6h0m0 1h0m0 10h0m0 15h0m1-88h0m0 32h0m0 38h0m0 8h0m1-53h0m0 9h0m0 25h0m0 3h0m0 3h0m1-1h0m1-17h0m0 7h0m0 11h0m1-8h0m0 3h0m0 9h0m1-41h0m0 21h0m0 16h0m0 6h0m1-27h0m0 20h0m0 4h0m0 16h0m1-37h0m0 14h0m0 12h0m1-62h0m0 39h0m0 8h0m0 18h0m2-43h0m0 3h0m0 26h0m1 4h0m1-16h0m1-32h0m0 17h0m0 39h0m0 1h0m1-8h0m1-5h0m0 16h0m1-37h0m0 10h0m0 1h0m0 5h0m1-30h0m1 0h0m0 31h0m0 18h0m1-35h0m0 34h0m1-20h0m0 3h0m0 7h0m1-51h0m0 58h0m1-22h0m0 14h0m1-18h0m0 23h0m0 8h0m1-52h0m1 28h0m0 22h0m1-29h0m0 15h0m0 8h0m1-40h0m0 14h0m0 27h0m2 2h0" stroke="#1c86ee"/>
<path d="M187 1450h0m60 0h0m77 16h0m4-5h0m9-23h0m14-21h0m1 49h0m6 1h0m10 2h0m2-13h0m4 6h0m10-4h0m2 17h0m1-7h0m25-15h0m2 14h0m0 5h0m1-47h0m1 42h0m1-2h0m8-15h0m3 24h0m7 4h0m2-5h0m3-19h0m3 13h0m10-9h0m7 6h0m8 7h0m4-1h0m2-15h0m4 6h0m8-1h0m4 0h0m0 5h0m3 11h0m2-23h0m2-4h0m4 14h0m0 16h0m6-17h0m4-3h0m7-7h0m4 14h0m7-7h0m0 23h0m2-26h0m0 15h0m7 13h0m6-14h0m1-26h0m1 16h0m5 23h0m4 2h0m12-27h0m3-6h0m1 8h0m1 3h0m1-16h0m1 35h0m1 4h0m2-42h0m1 8h0m1 2h0m2 30h0m7-49h0m2 35h0m4-1h0m2 12h0m4-26h0m4 17h0m3-10h0m0 40h0m3-64h0m0 17h0m0 39h0m3-10h0m1-12h0m18-6h0m0 27h0m4-38h0m2-19h0m6 27h0m2-27h0m4 34h0m3 0h0m1-24h0m2-11h0m0 7h0m1 46h0m2-39h0m1-14h0m2 24h0m2-4h0m0 8h0m5 31h0m1-34h0m6 15h0m5-25h0m0 8h0m2 5h0m1-1h0m0 4h0m1-23h0m1 40h0m1-20h0m1-27h0m1 37h0m0 22h0m3-17h0m2 3h0m1-22h0m5 6h0m0 57h0m7-57h0m5-6h0m16 0h0m1-6h0m17 6h0m5 6h0m6 1h0m2 9h0m2-5h0" stroke="#ee9a00"/>
<path d="M922 1356h0m3-1h0m8 1h0m1-3h0m4-4h0m1 7h0m6-8h0m0 7h0m8-9h0m5 3h0m1-2h0m0 10h0m1-12h0m2-3h0m2 0h0m0 8h0m3 7h0m4-15h0m0 14h0m0 3h0m1-17h0m1-6h0m2 6h0m1 4h0m0 10h0m1 2h0m1-16h0m0 18h0m1-23h0m0 8h0m3-11h0m0 13h0m0 3h0m1-4h0m2-10h0m2-5h0m3-11h0m0 14h0m2 13h0m1 1h0m1-5h0m0 6h0m1-26h0m1 15h0m1 2h0m0 6h0m1-21h0m1 11h0m0 14h0m1 2h0m4-26h0m1-3h0m1 20h0m2 7h0m1-23h0m0 8h0m0 27h0m4-2h0m1-13h0m1-27h0m0 8h0m3 11h0m3-13h0m0 26h0m1-31h0m1 32h0m1-14h0m1 0h0m0 8h0m2-20h0m2 22h0m1 11h0m1-32h0m0 16h0m2-11h0m4-3h0m1 31h0m1 1h0m1-31h0m1 10h0m1-13h0m1 7h0m1-2h0m0 6h0m0 22h0m0 4h0m1-1h0m1-17h0m1 8h0m3-22h0m0 8h0m1 3h0m3 2h0m1 12h0m0 8h0m1-56h0m0 29h0m1 18h0m0 7h0m2-12h0m3 11h0m2-9h0m3-23h0m0 19h0m3-16h0m0 18h0m1-6h0m1-1h0m1-12h0m0 17h0m0 2h0m2-4h0m1 1h0m0 3h0m0 6h0m1-2h0m1-11h0m0 4h0m0 17h0m2-21h0m0 4h0m0 13h0m0 1h0m1-20h0m0 10h0m0 3h0m1-22h0m0 5h0m0 8h0m0 4h0m0 1h0m1-15h0m0 16h0m0 2h0m0 1h0m1 14h0m1-30h0m0 7h0m0 2h0m0 17h0m0 4h0m1-26h0m0 25h0m1-24h0m0 5h0m0 1h0m0 19h0m1-33h0m0 11h0m0 6h0m1-3h0m0 1h0m1-18h0m0 2h0m0 5h0m0 24h0m1-26h0m0 11h0m0 4h0m1-10h0m0 21h0m1-19h0m0 3h0m0 3h0m0 1h0m0 1h0m0 11h0m1-24h0m0 3h0m0 7h0m0 3h0m1 0h0m1-18h0m0 6h0m0 3h0m0 5h0m0 7h0m0 8h0m0 9h0m1-32h0m0 6h0m0 7h0m0 2h0m0 7h0m0 9h0m1-33h0m0 2h0m0 1h0m0 3h0m0 7h0m0 9h0m0 1h0m0 1h0m1-35h0m0 19h0m0 9h0m0 15h0m1-32h0m0 1h0m0 1h0m0 6h0m0 3h0m0 6h0m1-23h0m0 10h0m0 6h0m0 3h0m0 4h0m1-19h0m0 2h0m0 2h0m0 5h0m0 6h0m0 8h0m0 5h0m1-24h0m0 7h0m0 9h0m0 2h0m0 2h0m1-24h0m0 1h0m0 5h0m0 14h0m0 4h0m0 8h0m1-28h0m0 9h0m0 1h0m0 11h0m1-30h0m0 3h0m0 5h0m0 14h0m0 2h0m0 3h0m1-12h0m0 3h0m0 3h0m0 8h0m1-27h0m0 3h0m0 4h0m0 9h0m0 1h0m0 3h0m0 9h0m0 1h0m1-29h0m0 8h0m0 7h0m0 9h0m0 1h0m0 3h0m0 9h0m1-32h0m0 2h0m1-6h0m0 5h0m0 2h0m0 3h0m0 9h0m0 2h0m0 3h0m0 2h0m1-24h0m0 2h0m0 7h0m0 1h0m0 2h0m0 1h0m0 7h0m0 3h0m0 1h0m0 12h0m1-47h0m0 11h0m0 7h0m0 3h0m0 4h0m0 3h0m0 2h0m0 3h0m1-10h0m0 1h0m0 21h0m1-44h0m0 10h0m0 1h0m0 1h0m0 5h0m0 14h0m0 2h0m1-35h0m0 21h0m0 6h0m0 8h0m0 5h0m1-26h0m0 7h0m0 4h0m0 6h0m0 3h0m0 2h0m1-15h0m0 4h0m0 2h0m0 10h0m1-34h0m0 15h0m0 1h0m0 10h0m0 3h0m0 9h0m1-26h0m0 6h0m0 1h0m0 11h0m0 2h0m1-32h0m0 7h0m0 4h0m0 1h0m0 7h0m0 10h0m0 3h0m0 2h0m1-26h0m0 8h0m0 5h0m0 1h0m0 8h0m0 7h0m1-25h0m0 13h0m0 1h0m0 4h0m1-23h0m0 1h0m0 7h0m0 7h0m0 2h0m0 4h0m0 3h0m0 5h0m1-18h0m0 3h0m0 3h0m0 4h0m1-16h0m0 1h0m0 4h0m0 1h0m0 7h0m1-15h0m0 5h0m0 2h0m0 1h0m0 4h0m0 7h0m1-18h0m0 14h0m0 4h0m0 5h0m1-19h0m0 1h0m0 2h0m0 3h0m0 4h0m0 3h0m1-9h0m0 3h0m0 6h0m0 3h0m0 6h0m1-24h0m0 3h0m0 3h0m0 4h0m0 12h0m0 1h0m0 2h0m1-28h0m0 8h0m0 1h0m0 2h0m0 2h0m0 3h0m0 12h0m1-26h0m0 8h0m0 4h0m0 4h0m0 1h0m0 1h0m0 4h0m0 6h0m1-29h0m0 7h0m0 7h0m0 7h0m0 6h0m0 3h0m1-31h0m0 1h0m0 5h0m0 3h0m0 5h0m0 6h0m0 2h0m0 6h0m0 6h0m1-38h0m0 12h0m0 6h0m0 4h0m0 1h0m0 2h0m0 2h0m0 3h0m0 4h0m1-25h0m0 5h0m0 2h0m0 1h0m0 5h0m0 13h0m0 5h0m1-23h0m0 1h0m0 4h0m0 4h0m0 1h0m0 1h0m0 1h0m1-32h0m0 10h0m0 2h0m0 8h0m0 4h0m0 1h0m0 3h0m0 5h0m0 2h0m1-21h0m0 2h0m0 6h0m0 4h0m0 9h0m1-33h0m0 7h0m0 7h0m0 9h0m0 2h0m0 1h0m0 8h0m0 3h0m1-30h0m0 4h0m0 9h0m0 1h0m0 6h0m1-21h0m0 4h0m0 10h0m0 1h0m0 3h0m0 1h0m0 1h0m1-21h0m0 2h0m0 4h0m0 4h0m0 1h0m0 5h0m0 1h0m0 3h0m0 1h0m0 1h0m0 2h0m1-22h0m0 9h0m0 1h0m0 2h0m0 3h0m0 5h0m0 9h0m1-27h0m0 1h0m0 1h0m0 5h0m0 1h0m0 1h0m0 1h0m0 3h0m0 2h0m0 4h0m0 1h0m0 1h0m0 1h0m1-20h0m0 12h0m0 3h0m0 1h0m0 2h0m0 3h0m1-21h0m0 3h0m0 2h0m0 4h0m0 4h0m0 9h0m1-14h0m0 2h0m0 2h0m0 5h0m0 3h0m0 1h0m0 2h0m0 3h0m1-43h0m0 21h0m0 1h0m0 3h0m0 1h0m0 2h0m0 1h0m0 1h0m0 2h0m0 70h0m1-90h0m0 5h0m0 8h0m0 1h0m0 3h0m0 1h0m0 2h0m0 4h0m0 2h0m0 3h0m1-18h0m0 1h0m0 3h0m0 8h0m0 3h0m0 1h0m1-21h0m0 4h0m0 1h0m0 2h0m0 2h0m0 1h0m0 2h0m0 2h0m0 4h0m1-13h0m0 4h0m0 1h0m0 2h0m0 1h0m0 5h0m0 4h0m1-16h0m0 1h0m0 8h0m0 1h0m0 1h0m0 1h0m0 2h0m0 8h0m1-25h0m0 1h0m0 1h0m0 5h0m0 3h0m0 3h0m1-26h0m0 9h0m0 8h0m0 1h0m0 1h0m0 2h0m0 4h0m0 5h0m0 1h0m0 1h0m0 15h0m1-41h0m0 3h0m0 1h0m0 2h0m0 1h0m0 4h0m0 2h0m0 10h0m1-16h0m0 3h0m0 3h0m0 10h0m0 9h0m0 2h0m1-54h0m0 7h0m0 1h0m0 24h0m0 3h0m0 3h0m0 2h0m0 5h0m0 1h0m1-31h0m0 11h0m0 1h0m0 2h0m0 3h0m0 1h0m0 4h0m0 3h0m0 3h0m0 1h0m0 11h0m1-34h0m0 8h0m0 1h0m0 2h0m0 3h0m0 6h0m0 1h0m0 2h0m1-19h0m0 3h0m0 2h0m0 3h0m0 2h0m0 2h0m0 1h0m0 3h0m0 5h0m0 1h0m1-23h0m0 7h0m0 3h0m0 1h0m0 1h0m0 6h0m0 2h0m0 14h0m1-50h0m0 10h0m0 3h0m0 18h0m0 22h0m1-43h0m0 6h0m0 5h0m0 8h0m0 4h0m0 7h0m1-26h0m0 6h0m0 2h0m0 6h0m0 2h0m0 5h0m0 7h0m0 2h0m0 1h0m1-30h0m0 2h0m0 1h0m0 4h0m0 4h0m0 1h0m0 7h0m0 2h0m0 5h0m0 2h0m1-21h0m0 8h0m0 1h0m1-16h0m0 4h0m0 9h0m0 4h0m0 1h0m0 2h0m0 3h0m1-17h0m0 2h0m0 7h0m0 2h0m0 3h0m0 4h0m0 13h0m1-58h0m0 17h0m0 13h0m0 1h0m0 3h0m0 6h0m0 3h0m0 1h0m1-26h0m0 3h0m0 6h0m0 1h0m0 5h0m0 4h0m0 4h0m0 1h0m0 1h0m1-19h0m0 3h0m0 2h0m0 4h0m0 2h0m0 7h0m0 2h0m0 11h0m1-35h0m0 6h0m0 6h0m0 2h0m0 8h0m0 3h0m0 2h0m1-32h0m0 7h0m0 6h0m0 3h0m0 2h0m0 4h0m0 4h0m0 11h0m1-30h0m0 6h0m0 2h0m0 3h0m0 4h0m0 4h0m0 1h0m0 3h0m0 4h0m0 2h0m1-29h0m0 2h0m0 5h0m0 2h0m0 2h0m0 1h0m0 10h0m0 4h0m1-19h0m0 4h0m0 1h0m0 4h0m0 7h0m1-26h0m0 2h0m0 3h0m0 4h0m0 1h0m0 9h0m0 2h0m0 1h0m0 1h0m0 1h0m0 3h0m1-26h0m0 4h0m0 9h0m0 1h0m0 2h0m0 2h0m0 7h0m0 1h0m0 1h0m0 4h0m1-30h0m0 6h0m0 4h0m0 8h0m0 3h0m0 3h0m0 1h0m0 3h0m1-26h0m0 3h0m0 1h0m0 6h0m0 1h0m0 11h0m0 3h0m0 2h0m1-34h0m0 3h0m0 1h0m0 5h0m0 3h0m0 7h0m0 4h0m0 3h0m0 1h0m0 5h0m0 3h0m0 1h0m1-41h0m0 11h0m0 7h0m0 1h0m0 1h0m0 4h0m0 3h0m0 2h0m0 2h0m0 1h0m1-31h0m0 3h0m0 1h0m0 6h0m0 8h0m0 9h0m0 4h0m1-18h0m0 7h0m0 5h0m0 2h0m0 4h0m1-26h0m0 9h0m0 8h0m0 11h0m1-23h0m0 4h0m0 7h0m0 17h0m1-12h0m0 8h0m0 4h0m1-28h0m0 4h0m0 5h0m0 2h0m0 4h0m0 1h0m0 7h0m1-37h0m0 20h0m0 2h0m0 13h0m0 2h0m0 2h0m1-12h0m0 6h0m1-22h0m0 2h0m0 7h0m0 1h0m0 7h0m0 4h0m0 7h0m0 2h0m0 1h0m0 9h0m1-43h0m0 3h0m0 18h0m0 8h0m1-33h0m0 5h0m0 10h0m0 6h0m0 7h0m0 13h0m1-24h0m0 2h0m0 10h0m0 3h0m0 3h0m1-28h0m0 26h0m0 9h0m1-34h0m0 2h0m0 6h0m0 3h0m0 8h0m0 4h0m0 4h0m1-25h0m0 5h0m0 9h0m0 3h0m0 12h0m1-29h0m0 5h0m0 11h0m0 1h0m0 7h0m1-32h0m0 10h0m0 8h0m0 21h0m1-29h0m0 2h0m0 13h0m0 5h0m0 5h0m0 2h0m1-26h0m0 7h0m0 10h0m0 3h0m0 2h0m0 10h0m1-39h0m0 8h0m0 5h0m0 5h0m1-35h0m0 25h0m0 5h0m0 1h0m0 8h0m0 3h0m1-25h0m0 2h0m0 5h0m0 5h0m0 1h0m0 1h0m0 22h0m0 52h0m1-90h0m0 19h0m0 10h0m1-25h0m0 1h0m0 3h0m0 2h0m0 1h0m0 2h0m0 1h0m0 2h0m0 3h0m0 4h0m0 4h0m1-23h0m0 1h0m0 1h0m0 2h0m0 7h0m0 1h0m0 9h0m0 10h0m1-33h0m0 2h0m0 1h0m0 5h0m0 4h0m1-8h0m0 3h0m0 5h0m0 2h0m0 3h0m0 3h0m0 3h0m0 8h0m1-29h0m0 5h0m0 7h0m0 2h0m0 1h0m0 6h0m0 1h0m1-27h0m0 2h0m0 14h0m0 4h0m0 20h0m1-38h0m0 3h0m0 5h0m0 7h0m1-3h0m0 1h0m0 2h0m0 11h0m0 1h0m0 1h0m0 14h0m1-57h0m0 18h0m0 28h0m0 4h0m1-34h0m0 13h0m0 4h0m0 2h0m0 8h0m1-15h0m0 1h0m0 7h0m0 4h0m1-3h0m0 11h0m1-27h0m0 8h0m0 4h0m0 17h0m1-41h0m0 22h0m0 2h0m0 4h0m0 18h0m1-36h0m0 8h0m0 7h0m0 22h0m1-36h0m0 7h0m0 3h0m1-9h0m0 6h0m0 2h0m0 20h0m1-40h0m0 18h0m0 6h0m0 5h0m1-17h0m0 26h0m0 6h0m1-25h0m0 5h0m0 3h0m0 2h0m1-6h0m0 11h0m0 11h0m0 1h0m1-33h0m0 6h0m1-10h0m0 3h0m0 6h0m0 19h0m0 5h0m0 2h0m0 4h0m0 1h0m1-48h0m0 14h0m0 13h0m0 4h0m0 3h0m0 6h0m1-50h0m0 22h0m0 6h0m0 9h0m0 1h0m0 11h0m1-24h0m1 4h0m0 8h0m0 1h0m1-13h0m0 13h0m0 1h0m0 12h0m1-37h0m0 22h0m0 2h0m0 4h0m0 10h0m0 3h0m1-33h0m0 7h0m0 9h0m1-19h0m0 1h0m0 4h0m0 5h0m0 4h0m0 4h0m0 3h0m0 3h0m1-31h0m0 21h0m0 6h0m0 4h0m0 7h0m0 10h0m1-55h0m0 3h0m0 4h0m0 23h0m0 3h0m0 5h0m0 13h0m1-49h0m0 7h0m0 9h0m0 10h0m0 4h0m0 3h0m0 3h0m0 10h0m1-52h0m0 19h0m0 8h0m0 17h0m0 9h0m0 2h0m1-44h0m0 15h0m0 2h0m0 7h0m0 2h0m0 5h0m1-13h0m0 1h0m0 1h0m0 3h0m0 1h0m0 2h0m0 3h0m0 2h0m0 9h0m1-24h0m0 9h0m0 2h0m0 5h0m0 18h0m1-38h0m0 3h0m0 10h0m0 1h0m0 4h0m1-40h0m0 4h0m0 12h0m0 15h0m1-35h0m0 15h0m0 21h0m0 9h0m1-40h0m0 7h0m0 11h0m0 8h0m0 6h0m0 25h0m1-65h0m0 31h0m0 10h0m0 8h0m1-38h0m0 4h0m0 24h0m0 2h0m0 1h0m0 6h0m1-27h0m0 5h0m0 4h0m0 33h0m1-44h0m0 18h0m0 4h0m0 2h0m0 1h0m1-14h0m0 23h0m0 11h0m1-58h0m0 4h0m0 2h0m0 7h0m0 29h0m0 5h0m0 16h0m1-41h0m0 7h0m0 1h0m0 2h0m1-29h0m0 17h0m0 11h0m0 10h0m1-33h0m0 3h0m0 10h0m0 25h0m1-31h0m0 13h0m0 20h0m1-57h0m0 28h0m0 8h0m0 7h0m0 14h0m0 4h0m1-50h0m0 27h0m0 2h0m0 5h0m0 4h0m0 5h0m0 8h0m1-28h0m0 6h0m0 6h0m1-39h0m0 10h0m0 5h0m0 3h0m0 9h0m0 7h0m0 4h0m0 1h0m1 6h0m0 1h0m0 6h0m1-42h0m0 13h0m0 17h0m0 3h0m0 13h0m0 16h0m1-65h0m0 3h0m0 19h0m0 1h0m0 10h0m0 4h0m0 5h0m1-39h0m0 24h0m0 1h0m0 25h0m1-48h0m0 4h0m0 3h0m0 16h0m0 5h0m0 10h0m0 6h0m1-64h0m0 14h0m0 10h0m0 3h0m0 4h0m0 8h0m1-8h0m0 7h0m1-13h0m0 3h0m0 2h0m0 2h0m0 6h0m0 18h0m1-26h0m0 1h0m0 2h0m0 10h0m0 12h0m1-49h0m0 20h0m0 2h0m0 7h0m0 1h0m0 12h0m0 3h0m0 5h0m1-30h0m0 6h0m0 18h0m1-29h0m0 3h0m0 28h0m1-27h0m0 1h0m0 7h0m0 8h0m0 7h0m1-31h0m0 19h0m0 4h0m0 2h0m0 2h0m1-25h0m0 1h0m0 8h0m0 15h0m0 6h0m0 7h0m0 2h0m1-42h0m0 18h0m0 1h0m0 3h0m1-20h0m0 5h0m0 31h0m0 5h0m1-26h0m0 16h0m1-46h0m0 5h0m0 26h0m1-26h0m0 8h0m0 1h0m0 25h0m0 6h0m0 10h0m1-50h0m0 2h0m0 14h0m0 7h0m0 10h0m0 13h0m0 8h0m1-53h0m0 2h0m0 2h0m0 6h0m0 1h0m0 2h0m0 3h0m0 4h0m0 6h0m0 4h0m0 8h0m0 1h0m0 3h0m0 1h0m0 4h0m1-52h0m0 6h0m0 2h0m0 11h0m0 5h0m0 3h0m0 3h0m0 4h0m0 3h0m0 9h0m0 1h0m0 1h0m0 1h0m1-34h0m0 4h0m0 4h0m0 2h0m0 11h0m0 13h0m1-36h0m0 10h0m0 4h0m0 3h0m0 3h0m0 7h0m0 2h0m0 5h0m0 4h0m1-45h0m0 1h0m0 9h0m0 5h0m0 3h0m0 1h0m0 2h0m0 3h0m0 1h0m0 17h0m0 5h0m0 6h0m0 2h0m1-55h0m0 10h0m0 10h0m0 2h0m0 11h0m0 5h0m0 1h0m0 2h0m0 6h0m0 2h0m0 6h0m1-59h0m0 3h0m0 3h0m0 6h0m0 1h0m0 1h0m0 1h0m0 1h0m0 6h0m0 4h0m0 1h0m0 5h0m0 12h0m0 3h0m0 4h0m0 2h0m0 2h0m1-47h0m0 11h0m0 1h0m0 6h0m0 6h0m0 2h0m0 6h0m0 1h0m0 6h0m0 3h0m0 6h0m0 1h0m0 3h0m1-61h0m0 1h0m0 5h0m0 17h0m0 2h0m0 4h0m0 3h0m0 4h0m0 6h0m0 2h0m0 2h0m0 4h0m0 1h0m0 5h0m0 1h0m1-35h0m0 2h0m0 1h0m0 5h0m0 1h0m0 5h0m0 2h0m0 7h0m0 3h0m0 1h0m0 2h0m0 1h0m0 11h0m1-46h0m0 4h0m0 8h0m0 5h0m0 8h0m0 6h0m0 23h0m1-66h0m0 7h0m0 3h0m0 5h0m0 8h0m0 4h0m0 2h0m0 4h0m0 5h0m0 5h0m0 7h0m1-42h0m0 14h0m0 2h0m0 13h0m1-36h0m0 19h0m0 9h0m0 9h0m0 1h0m0 4h0m0 6h0m1-36h0m0 12h0m0 2h0m0 2h0m0 1h0m0 5h0m0 4h0m0 3h0m0 1h0m0 1h0m0 1h0m0 13h0m1-51h0m0 6h0m0 6h0m0 1h0m0 7h0m0 13h0m0 1h0m0 1h0m0 2h0m0 7h0m0 4h0m1-55h0m0 11h0m0 4h0m0 5h0m0 3h0m0 1h0m0 11h0m0 5h0m0 4h0m0 1h0m0 2h0m0 3h0m0 4h0m0 5h0m1-51h0m0 11h0m0 13h0m0 6h0m0 1h0m0 2h0m0 1h0m0 3h0m0 3h0m0 1h0m0 6h0m0 3h0m1-54h0m0 1h0m0 6h0m0 2h0m0 2h0m0 9h0m0 1h0m0 1h0m0 1h0m0 1h0m0 6h0m0 1h0m0 2h0m0 3h0m0 4h0m0 1h0m0 19h0m1-61h0m0 13h0m0 21h0m0 2h0m0 5h0m1-37h0m0 3h0m0 30h0m0 2h0m0 1h0m0 2h0m0 8h0m1-46h0m0 6h0m0 7h0m0 7h0m0 7h0m0 2h0m0 1h0m0 2h0m0 2h0m0 1h0m0 1h0m0 2h0m0 6h0m0 4h0m0 5h0m1-49h0m0 16h0m0 7h0m0 2h0m0 7h0m0 6h0m0 1h0m0 2h0m1-48h0m0 10h0m0 1h0m0 3h0m0 11h0m0 1h0m0 5h0m0 5h0m0 1h0m0 1h0m0 2h0m0 6h0m0 2h0m0 1h0m0 2h0m0 2h0m0 3h0m1-54h0m0 11h0m0 4h0m0 9h0m0 1h0m0 3h0m0 1h0m0 2h0m0 3h0m0 3h0m0 1h0m0 8h0m0 10h0m0 2h0m1-47h0m0 1h0m0 2h0m0 1h0m0 1h0m0 7h0m0 3h0m0 8h0m0 3h0m0 3h0m0 1h0m0 4h0m1-41h0m0 2h0m0 7h0m0 1h0m0 3h0m0 7h0m0 1h0m0 1h0m0 11h0m0 1h0m0 4h0m0 1h0m0 1h0m0 1h0m0 1h0m0 4h0m0 4h0m1-54h0m0 10h0m0 2h0m0 1h0m0 9h0m0 15h0m0 2h0m0 3h0m0 2h0m0 5h0m0 5h0m0 1h0m0 1h0m1-49h0m0 1h0m0 1h0m0 2h0m0 4h0m0 5h0m0 4h0m0 3h0m0 4h0m0 5h0m0 4h0m0 1h0m0 2h0m0 1h0m0 4h0m0 6h0m0 2h0m0 3h0m1-57h0m0 1h0m0 6h0m0 2h0m0 2h0m0 2h0m0 2h0m0 2h0m0 4h0m0 6h0m0 3h0m0 8h0m0 7h0m0 1h0m0 5h0m0 2h0m0 1h0m1-52h0m0 4h0m0 4h0m0 1h0m0 1h0m0 2h0m0 7h0m0 4h0m0 6h0m0 4h0m0 1h0m0 4h0m0 2h0m0 11h0m0 1h0m0 1h0m0 1h0m1-55h0m0 5h0m0 2h0m0 2h0m0 2h0m0 5h0m0 8h0m0 6h0m0 2h0m0 2h0m0 2h0m0 4h0m0 2h0m0 1h0m0 2h0m0 2h0m0 6h0m0 4h0m1-61h0m0 2h0m0 6h0m0 3h0m0 15h0m0 1h0m0 10h0m0 1h0m0 7h0m0 5h0m0 6h0m0 1h0m1-53h0m0 4h0m0 4h0m0 2h0m0 7h0m0 7h0m0 1h0m0 2h0m0 2h0m0 1h0m0 2h0m0 2h0m0 1h0m0 1h0m0 1h0m0 3h0m0 2h0m0 8h0m0 2h0m0 1h0m1-44h0m0 2h0m0 1h0m0 4h0m0 7h0m0 7h0m0 1h0m0 4h0m0 2h0m0 4h0m0 3h0m0 1h0m0 5h0m0 2h0m0 1h0m0 4h0m1-53h0m0 8h0m0 4h0m0 2h0m0 3h0m0 3h0m0 6h0m0 2h0m0 1h0m0 1h0m0 4h0m0 13h0m1-52h0m0 7h0m0 4h0m0 5h0m0 2h0m0 1h0m0 1h0m0 2h0m0 4h0m0 1h0m0 1h0m0 1h0m0 2h0m0 2h0m0 1h0m0 9h0m0 12h0m0 1h0m0 1h0m1-55h0m0 3h0m0 5h0m0 1h0m0 1h0m0 2h0m0 8h0m0 8h0m0 6h0m0 3h0m0 5h0m0 2h0m0 5h0m0 1h0m0 1h0m0 2h0m1-53h0m0 4h0m0 1h0m0 1h0m0 5h0m0 5h0m0 2h0m0 1h0m0 1h0m0 1h0m0 4h0m0 2h0m0 5h0m0 1h0m0 4h0m0 3h0m0 9h0m0 2h0m0 1h0m0 1h0m1-50h0m0 1h0m0 7h0m0 6h0m0 4h0m0 3h0m0 4h0m0 3h0m0 1h0m0 3h0m0 4h0m0 1h0m0 5h0m0 2h0m0 7h0m1-54h0m0 6h0m0 3h0m0 3h0m0 4h0m0 8h0m0 10h0m0 1h0m0 1h0m0 1h0m0 6h0m0 14h0m1-54h0m0 11h0m0 2h0m0 2h0m0 1h0m0 9h0m0 1h0m0 9h0m0 1h0m0 1h0m0 3h0m0 1h0m0 1h0m0 1h0m0 4h0m1-55h0m0 6h0m0 1h0m0 9h0m0 1h0m0 1h0m0 1h0m0 9h0m0 3h0m0 2h0m0 5h0m0 7h0m0 2h0m0 2h0m0 1h0m0 2h0m0 7h0m0 5h0m1-56h0m0 1h0m0 2h0m0 5h0m0 2h0m0 1h0m0 2h0m0 1h0m0 6h0m0 2h0m0 3h0m0 1h0m0 4h0m0 2h0m0 6h0m0 1h0m0 3h0m0 2h0m0 3h0m0 1h0m0 1h0m0 5h0m0 3h0m1-56h0m0 6h0m0 1h0m0 1h0m0 2h0m0 4h0m0 3h0m0 3h0m0 1h0m0 3h0m0 8h0m0 2h0m0 2h0m0 3h0m0 3h0m0 1h0m0 1h0m0 2h0m0 1h0m0 2h0m0 6h0m1-54h0m0 2h0m0 5h0m0 1h0m0 3h0m0 3h0m0 4h0m0 2h0m0 12h0m0 2h0m0 6h0m0 5h0m0 1h0m0 2h0m0 1h0m0 4h0m1-50h0m0 1h0m0 1h0m0 2h0m0 2h0m0 2h0m0 2h0m0 8h0m0 2h0m0 2h0m0 3h0m0 5h0m0 4h0m0 3h0m0 1h0m0 3h0m0 1h0m0 3h0m0 3h0m0 1h0m1-51h0m0 3h0m0 19h0m0 1h0m0 2h0m0 1h0m0 5h0m0 1h0m0 1h0m0 1h0m0 9h0m0 4h0m0 2h0m0 1h0m0 2h0m1-57h0m0 3h0m0 2h0m0 3h0m0 2h0m0 1h0m0 1h0m0 1h0m0 3h0m0 2h0m0 3h0m0 13h0m0 1h0m0 5h0m0 1h0m0 5h0m0 1h0m0 7h0m0 5h0m1-55h0m0 1h0m0 1h0m0 4h0m0 2h0m0 3h0m0 6h0m0 5h0m0 1h0m0 2h0m0 2h0m0 4h0m0 2h0m0 6h0m0 7h0m1-47h0m0 2h0m0 5h0m0 1h0m0 2h0m0 5h0m0 1h0m0 4h0m0 4h0m0 3h0m0 2h0m0 1h0m0 3h0m0 1h0m0 7h0m0 3h0m0 2h0m0 1h0m0 1h0m0 5h0m0 2h0m0 2h0m1-55h0m0 6h0m0 1h0m0 1h0m0 6h0m0 7h0m0 1h0m0 1h0m0 3h0m0 5h0m0 1h0m0 1h0m0 7h0m0 2h0m0 2h0m0 3h0m0 4h0m0 1h0m1-48h0m0 1h0m0 2h0m0 5h0m0 1h0m0 3h0m0 1h0m0 1h0m0 1h0m0 4h0m0 6h0m0 1h0m0 3h0m0 1h0m0 2h0m0 2h0m0 2h0m0 3h0m0 2h0m0 7h0m0 7h0m1-58h0m0 2h0m0 2h0m0 2h0m0 2h0m0 1h0m0 5h0m0 5h0m0 1h0m0 4h0m0 1h0m0 1h0m0 5h0m0 6h0m0 1h0m0 4h0m0 5h0m0 1h0m0 3h0m0 1h0m0 1h0m1-58h0m0 3h0m0 5h0m0 2h0m0 2h0m0 3h0m0 2h0m0 1h0m0 1h0m0 3h0m0 1h0m0 1h0m0 1h0m0 9h0m0 3h0m0 5h0m0 3h0m0 1h0m0 12h0m1-56h0m0 5h0m0 1h0m0 1h0m0 2h0m0 1h0m0 2h0m0 3h0m0 7h0m0 1h0m0 1h0m0 3h0m0 3h0m0 4h0m0 1h0m0 1h0m0 1h0m0 3h0m0 1h0m0 4h0m0 2h0m0 1h0m0 4h0m0 1h0m0 5h0m0 4h0m1-57h0m0 1h0m0 2h0m0 2h0m0 3h0m0 1h0m0 1h0m0 2h0m0 2h0m0 3h0m0 2h0m0 2h0m0 1h0m0 1h0m0 2h0m0 5h0m0 1h0m0 1h0m0 1h0m0 3h0m0 1h0m0 4h0m0 7h0m0 3h0m0 5h0m1-58h0m0 1h0m0 4h0m0 2h0m0 1h0m0 1h0m0 1h0m0 4h0m0 1h0m0 1h0m0 4h0m0 3h0m0 4h0m0 2h0m0 2h0m0 9h0m0 1h0m0 2h0m0 1h0m0 1h0m0 2h0m0 4h0m0 3h0m0 7h0m1-71h0m0 11h0m0 4h0m0 3h0m0 2h0m0 1h0m0 3h0m0 1h0m0 1h0m0 2h0m0 1h0m0 1h0m0 1h0m0 4h0m0 5h0m0 3h0m0 1h0m0 3h0m0 2h0m0 4h0m0 2h0m0 1h0m0 16h0m1-60h0m0 1h0m0 2h0m0 3h0m0 6h0m0 1h0m0 3h0m0 2h0m0 5h0m0 2h0m0 4h0m0 2h0m0 3h0m0 2h0m0 2h0m0 1h0m0 11h0m0 8h0m1-57h0m0 1h0m0 5h0m0 2h0m0 1h0m0 2h0m0 2h0m0 1h0m0 1h0m0 13h0m0 6h0m0 1h0m0 5h0m0 5h0m0 2h0m0 14h0m1-63h0m0 3h0m0 2h0m0 3h0m0 2h0m0 2h0m0 5h0m0 5h0m0 1h0m0 4h0m0 1h0m0 3h0m0 4h0m0 2h0m0 3h0m0 1h0m0 1h0m0 6h0m0 3h0m0 7h0m1-58h0m0 1h0m0 2h0m0 9h0m0 5h0m0 2h0m0 1h0m0 1h0m0 1h0m0 2h0m0 4h0m0 2h0m0 2h0m0 3h0m0 2h0m0 3h0m0 7h0m0 3h0m0 12h0m0 2h0m1-67h0m0 5h0m0 1h0m0 7h0m0 1h0m0 2h0m0 5h0m0 1h0m0 1h0m0 1h0m0 1h0m0 2h0m0 5h0m0 2h0m0 4h0m0 4h0m0 6h0m0 3h0m0 5h0m0 1h0m1-56h0m0 4h0m0 6h0m0 3h0m0 5h0m0 3h0m0 1h0m0 6h0m0 1h0m0 3h0m0 2h0m0 3h0m0 1h0m0 7h0m0 1h0m0 6h0m0 5h0m0 5h0m1-54h0m0 3h0m0 3h0m0 5h0m0 1h0m0 3h0m0 1h0m0 1h0m0 5h0m0 2h0m0 3h0m0 3h0m0 12h0m0 2h0m0 12h0m0 3h0m1-67h0m0 9h0m0 3h0m0 1h0m0 1h0m0 1h0m0 1h0m0 1h0m0 1h0m0 2h0m0 1h0m0 1h0m0 2h0m0 1h0m0 3h0m0 1h0m0 9h0m0 2h0m0 3h0m0 6h0m0 5h0m0 2h0m0 1h0m0 2h0m0 3h0m0 6h0m1-65h0m0 1h0m0 4h0m0 1h0m0 5h0m0 4h0m0 7h0m0 1h0m0 5h0m0 1h0m0 1h0m0 1h0m0 1h0m0 5h0m0 5h0m0 1h0m0 15h0m0 4h0m1-61h0m0 2h0m0 1h0m0 1h0m0 1h0m0 2h0m0 3h0m0 1h0m0 1h0m0 4h0m0 2h0m0 3h0m0 4h0m0 1h0m0 3h0m0 5h0m0 14h0m0 1h0m0 8h0m0 4h0m0 4h0m1-64h0m0 1h0m0 5h0m0 2h0m0 2h0m0 1h0m0 9h0m0 1h0m0 1h0m0 1h0m0 1h0m0 7h0m0 1h0m0 2h0m0 3h0m0 2h0m0 1h0m0 1h0m0 1h0m0 5h0m0 1h0m0 2h0m0 1h0m0 1h0m0 8h0m0 2h0m1-56h0m0 1h0m0 3h0m0 2h0m0 1h0m0 1h0m0 3h0m0 1h0m0 1h0m0 1h0m0 1h0m0 3h0m0 3h0m0 1h0m0 3h0m0 1h0m0 1h0m0 1h0m0 3h0m0 3h0m0 1h0m0 24h0m0 9h0m1-72h0m0 3h0m0 2h0m0 9h0m0 1h0m0 1h0m0 2h0m0 5h0m0 1h0m0 1h0m0 6h0m0 1h0m0 1h0m0 10h0m0 8h0m0 5h0m0 2h0m0 1h0m0 6h0m0 6h0m1-79h0m0 7h0m0 3h0m0 5h0m0 1h0m0 1h0m0 9h0m0 2h0m0 2h0m0 2h0m0 1h0m0 4h0m0 1h0m0 3h0m0 1h0m0 2h0m0 1h0m0 4h0m0 4h0m0 9h0m0 2h0m0 2h0m0 3h0m0 4h0m0 9h0m0 13h0m0 3h0m1-87h0m0 7h0m0 2h0m0 3h0m0 2h0m0 4h0m0 1h0m0 4h0m0 2h0m0 2h0m0 3h0m0 1h0m0 7h0m0 2h0m0 4h0m0 1h0m0 2h0m0 5h0m0 10h0m0 1h0m1-63h0m0 1h0m0 4h0m0 3h0m0 1h0m0 4h0m0 1h0m0 1h0m0 1h0m0 5h0m0 4h0m0 3h0m0 1h0m0 3h0m0 1h0m0 6h0m0 2h0m0 10h0m0 10h0m0 3h0m0 2h0m0 3h0m1-77h0m0 5h0m0 5h0m0 1h0m0 2h0m0 1h0m0 1h0m0 1h0m0 1h0m0 1h0m0 1h0m0 3h0m0 2h0m0 4h0m0 3h0m0 1h0m0 6h0m0 8h0m0 18h0m0 2h0m0 5h0m0 1h0m0 1h0m1-61h0m0 3h0m0 5h0m0 2h0m0 2h0m0 1h0m0 1h0m0 3h0m0 3h0m0 1h0m0 4h0m0 1h0m0 6h0m0 4h0m0 3h0m0 2h0m0 1h0m0 5h0m0 9h0m0 4h0m0 1h0m0 2h0m1-76h0m0 1h0m0 8h0m0 1h0m0 1h0m0 2h0m0 1h0m0 2h0m0 1h0m0 2h0m0 3h0m0 1h0m0 1h0m0 3h0m0 4h0m0 1h0m0 4h0m0 5h0m0 10h0m0 1h0m0 1h0m0 1h0m0 15h0m0 6h0m0 6h0m1-79h0m0 3h0m0 3h0m0 4h0m0 3h0m0 2h0m0 1h0m0 1h0m0 6h0m0 3h0m0 1h0m0 2h0m0 1h0m0 1h0m0 2h0m0 1h0m0 1h0m0 2h0m0 1h0m0 1h0m0 5h0m0 2h0m0 4h0m0 1h0m0 8h0m0 1h0m0 6h0m0 26h0m1-87h0m0 4h0m0 6h0m0 1h0m0 1h0m0 1h0m0 4h0m0 4h0m0 3h0m0 1h0m0 1h0m0 3h0m0 4h0m0 1h0m0 1h0m0 1h0m0 1h0m0 10h0m0 3h0m0 12h0m0 2h0m0 6h0m1-72h0m0 5h0m0 1h0m0 5h0m0 11h0m0 2h0m0 6h0m0 1h0m0 4h0m0 3h0m0 3h0m0 6h0m0 4h0m0 10h0m0 3h0m0 8h0m0 3h0m0 11h0m1-82h0m0 1h0m0 1h0m0 4h0m0 2h0m0 1h0m0 5h0m0 1h0m0 3h0m0 4h0m0 2h0m0 1h0m0 5h0m0 3h0m0 2h0m0 3h0m0 2h0m0 2h0m0 1h0m0 1h0m0 1h0m0 1h0m0 2h0m0 10h0m0 2h0m0 2h0m0 1h0m0 1h0m0 1h0m0 2h0m0 7h0m0 2h0m1-81h0m0 2h0m0 4h0m0 2h0m0 2h0m0 2h0m0 6h0m0 4h0m0 2h0m0 5h0m0 1h0m0 1h0m0 1h0m0 2h0m0 3h0m0 7h0m0 2h0m0 1h0m0 1h0m0 11h0m0 5h0m0 1h0m0 3h0m0 1h0m0 2h0m0 1h0m0 1h0m1-74h0m0 5h0m0 5h0m0 7h0m0 1h0m0 3h0m0 1h0m0 2h0m0 3h0m0 3h0m0 3h0m0 1h0m0 8h0m0 1h0m0 1h0m0 4h0m0 2h0m0 2h0m0 12h0m0 6h0m0 2h0m0 1h0m0 18h0m1-81h0m0 1h0m0 1h0m0 1h0m0 3h0m0 1h0m0 6h0m0 2h0m0 2h0m0 1h0m0 2h0m0 1h0m0 1h0m0 2h0m0 5h0m0 1h0m0 1h0m0 1h0m0 1h0m0 1h0m0 2h0m0 4h0m0 10h0m0 5h0m0 5h0m0 1h0m1-66h0m0 2h0m0 1h0m0 2h0m0 1h0m0 1h0m0 6h0m0 4h0m0 2h0m0 3h0m0 2h0m0 2h0m0 1h0m0 1h0m0 2h0m0 1h0m0 3h0m0 2h0m0 2h0m0 6h0m0 1h0m0 2h0m0 7h0m0 2h0m0 1h0m0 3h0m0 5h0m0 3h0m0 1h0m0 2h0m0 7h0m0 1h0m1-80h0m0 3h0m0 2h0m0 1h0m0 1h0m0 3h0m0 4h0m0 1h0m0 3h0m0 1h0m0 3h0m0 1h0m0 1h0m0 2h0m0 1h0m0 1h0m0 1h0m0 3h0m0 3h0m0 4h0m0 5h0m0 6h0m0 4h0m0 6h0m0 1h0m0 7h0m0 8h0m0 11h0m0 1h0m0 1h0m1-89h0m0 10h0m0 4h0m0 2h0m0 4h0m0 1h0m0 2h0m0 1h0m0 2h0m0 1h0m0 1h0m0 1h0m0 7h0m0 3h0m0 3h0m0 1h0m0 2h0m0 2h0m0 5h0m0 2h0m0 11h0m0 1h0m0 2h0m0 2h0m0 1h0m0 5h0m0 10h0m1-79h0m0 8h0m0 7h0m0 2h0m0 1h0m0 1h0m0 2h0m0 2h0m0 1h0m0 1h0m0 1h0m0 2h0m0 2h0m0 1h0m0 7h0m0 1h0m0 1h0m0 1h0m0 1h0m0 5h0m0 4h0m0 6h0m0 1h0m0 3h0m0 4h0m1-79h0m0 12h0m0 5h0m0 2h0m0 1h0m0 5h0m0 2h0m0 1h0m0 2h0m0 1h0m0 2h0m0 3h0m0 3h0m0 4h0m0 2h0m0 3h0m0 1h0m0 1h0m0 2h0m0 10h0m0 5h0m0 2h0m0 2h0m0 5h0m0 3h0m0 6h0m0 2h0m0 25h0m1-109h0m0 14h0m0 1h0m0 5h0m0 5h0m0 1h0m0 1h0m0 1h0m0 2h0m0 3h0m0 1h0m0 2h0m0 3h0m0 11h0m0 1h0m0 1h0m0 3h0m0 9h0m0 6h0m0 1h0m0 9h0m0 77h0m1-141h0m0 1h0m0 1h0m0 7h0m0 4h0m0 1h0m0 1h0m0 1h0m0 2h0m0 1h0m0 2h0m0 2h0m0 1h0m0 1h0m0 1h0m0 8h0m0 12h0m0 3h0m0 2h0m0 2h0m0 21h0m1-75h0m0 1h0m0 3h0m0 1h0m0 2h0m0 2h0m0 2h0m0 2h0m0 1h0m0 2h0m0 1h0m0 2h0m0 2h0m0 3h0m0 1h0m0 1h0m0 1h0m0 1h0m0 5h0m0 3h0m0 5h0m0 10h0m0 3h0m0 2h0m0 9h0m0 1h0m0 1h0m0 2h0m1-72h0m0 1h0m0 2h0m0 1h0m0 2h0m0 1h0m0 4h0m0 2h0m0 1h0m0 1h0m0 1h0m0 1h0m0 3h0m0 2h0m0 3h0m0 2h0m0 3h0m0 1h0m0 3h0m0 4h0m0 1h0m0 3h0m0 6h0m0 1h0m0 2h0m0 2h0m0 2h0m0 1h0m0 9h0m0 1h0m0 3h0m0 3h0m0 2h0m0 9h0m0 14h0m1-97h0m0 3h0m0 1h0m0 1h0m0 4h0m0 3h0m0 2h0m0 1h0m0 2h0m0 2h0m0 1h0m0 1h0m0 3h0m0 2h0m0 6h0m0 1h0m0 6h0m0 1h0m0 1h0m0 3h0m0 12h0m0 3h0m0 1h0m0 1h0m0 3h0m0 5h0m0 1h0m0 1h0m0 6h0m0 22h0m1-96h0m0 1h0m0 11h0m0 2h0m0 2h0m0 1h0m0 1h0m0 1h0m0 1h0m0 1h0m0 3h0m0 5h0m0 1h0m0 6h0m0 1h0m0 5h0m0 8h0m0 3h0m0 15h0m0 16h0m0 13h0m1-100h0m0 3h0m0 1h0m0 1h0m0 7h0m0 2h0m0 2h0m0 4h0m0 2h0m0 1h0m0 2h0m0 8h0m0 10h0m0 1h0m0 2h0m0 9h0m0 2h0m0 3h0m0 9h0m0 2h0m0 1h0m0 8h0m0 16h0m0 3h0m0 23h0m1-123h0m0 4h0m0 5h0m0 1h0m0 3h0m0 5h0m0 1h0m0 1h0m0 2h0m0 1h0m0 3h0m0 1h0m0 3h0m0 2h0m0 1h0m0 1h0m0 7h0m0 1h0m0 2h0m0 9h0m0 1h0m0 3h0m0 3h0m0 6h0m0 4h0m0 1h0m0 2h0m0 10h0m0 3h0m0 11h0m1-97h0m0 1h0m0 1h0m0 7h0m0 1h0m0 5h0m0 3h0m0 4h0m0 3h0m0 2h0m0 2h0m0 1h0m0 7h0m0 2h0m0 3h0m0 10h0m0 1h0m0 4h0m0 2h0m0 3h0m0 7h0m0 4h0m0 6h0m0 2h0m0 1h0m0 15h0m0 2h0m0 2h0m1-100h0m0 11h0m0 4h0m0 2h0m0 1h0m0 3h0m0 2h0m0 6h0m0 2h0m0 1h0m0 1h0m0 2h0m0 3h0m0 1h0m0 1h0m0 3h0m0 1h0m0 5h0m0 2h0m0 1h0m0 1h0m0 1h0m0 11h0m0 3h0m0 2h0m0 2h0m0 10h0m0 1h0m0 13h0m1-99h0m0 7h0m0 1h0m0 1h0m0 3h0m0 1h0m0 2h0m0 2h0m0 3h0m0 1h0m0 1h0m0 1h0m0 2h0m0 3h0m0 2h0m0 2h0m0 2h0m0 3h0m0 3h0m0 1h0m0 2h0m0 3h0m0 1h0m0 1h0m0 2h0m0 2h0m0 3h0m0 1h0m0 4h0m0 2h0m0 2h0m0 6h0m0 4h0m0 1h0m0 1h0m0 5h0m0 4h0m0 25h0m1-111h0m0 1h0m0 8h0m0 3h0m0 4h0m0 3h0m0 3h0m0 4h0m0 1h0m0 6h0m0 4h0m0 3h0m0 3h0m0 4h0m0 1h0m0 3h0m0 10h0m0 3h0m0 2h0m0 7h0m0 1h0m0 1h0m0 1h0m0 1h0m0 4h0m0 1h0m0 1h0m0 1h0m0 1h0m0 1h0m0 10h0m0 2h0m0 3h0m0 2h0m1-102h0m0 4h0m0 3h0m0 4h0m0 1h0m0 5h0m0 1h0m0 3h0m0 2h0m0 1h0m0 1h0m0 5h0m0 6h0m0 1h0m0 1h0m0 5h0m0 1h0m0 1h0m0 1h0m0 6h0m0 4h0m0 9h0m0 8h0m0 2h0m0 1h0m0 3h0m0 5h0m0 13h0m0 1h0m1-99h0m0 10h0m0 2h0m0 1h0m0 3h0m0 1h0m0 4h0m0 2h0m0 2h0m0 2h0m0 1h0m0 1h0m0 1h0m0 1h0m0 5h0m0 1h0m0 7h0m0 1h0m0 5h0m0 1h0m0 1h0m0 1h0m0 1h0m0 2h0m0 1h0m0 3h0m0 10h0m0 3h0m0 3h0m0 4h0m0 2h0m0 3h0m0 3h0m0 12h0m0 1h0m0 1h0m0 1h0m0 6h0m0 1h0m0 1h0m1-111h0m0 2h0m0 5h0m0 6h0m0 4h0m0 2h0m0 1h0m0 1h0m0 1h0m0 1h0m0 1h0m0 1h0m0 1h0m0 2h0m0 2h0m0 2h0m0 2h0m0 7h0m0 1h0m0 1h0m0 3h0m0 1h0m0 1h0m0 4h0m0 1h0m0 1h0m0 3h0m0 3h0m0 2h0m0 2h0m0 7h0m0 2h0m0 3h0m0 1h0m0 1h0m0 3h0m0 1h0m0 5h0m0 1h0m0 13h0m0 9h0m1-105h0m0 4h0m0 2h0m0 2h0m0 3h0m0 2h0m0 2h0m0 1h0m0 1h0m0 1h0m0 1h0m0 1h0m0 5h0m0 1h0m0 1h0m0 2h0m0 3h0m0 4h0m0 2h0m0 1h0m0 2h0m0 1h0m0 1h0m0 4h0m0 4h0m0 1h0m0 1h0m0 3h0m0 4h0m0 1h0m0 10h0m0 7h0m0 1h0m0 1h0m0 2h0m0 4h0m0 9h0m0 5h0m0 1h0m1-97h0m0 2h0m0 3h0m0 2h0m0 3h0m0 1h0m0 2h0m0 1h0m0 2h0m0 1h0m0 2h0m0 3h0m0 1h0m0 1h0m0 3h0m0 1h0m0 1h0m0 1h0m0 6h0m0 3h0m0 3h0m0 2h0m0 1h0m0 2h0m0 3h0m0 2h0m0 1h0m0 12h0m0 3h0m0 3h0m0 3h0m0 1h0m0 1h0m0 1h0m0 2h0m0 10h0m0 10h0m1-106h0m0 6h0m0 1h0m0 1h0m0 9h0m0 1h0m0 11h0m0 1h0m0 2h0m0 13h0m0 4h0m0 1h0m0 2h0m0 2h0m0 1h0m0 2h0m0 4h0m0 8h0m0 2h0m0 2h0m0 1h0m0 3h0m0 4h0m0 1h0m0 1h0m0 2h0m0 1h0m1-82h0m0 3h0m0 1h0m0 5h0m0 1h0m0 3h0m0 1h0m0 1h0m0 2h0m0 1h0m0 1h0m0 1h0m0 4h0m0 3h0m0 5h0m0 1h0m0 1h0m0 12h0m0 4h0m0 1h0m0 6h0m0 3h0m0 3h0m0 7h0m0 6h0m0 1h0m0 4h0m0 6h0m0 3h0m0 1h0m0 5h0m1-97h0m0 1h0m0 3h0m0 1h0m0 9h0m0 1h0m0 1h0m0 1h0m0 1h0m0 2h0m0 1h0m0 1h0m0 1h0m0 3h0m0 16h0m0 3h0m0 1h0m0 3h0m0 1h0m0 1h0m0 2h0m0 3h0m0 2h0m0 1h0m0 4h0m0 5h0m0 1h0m0 1h0m0 1h0m0 14h0m0 8h0m0 2h0m0 11h0m1-101h0m0 8h0m0 4h0m0 2h0m0 1h0m0 1h0m0 2h0m0 4h0m0 2h0m0 1h0m0 4h0m0 2h0m0 1h0m0 1h0m0 2h0m0 1h0m0 2h0m0 5h0m0 1h0m0 2h0m0 5h0m0 7h0m0 1h0m0 4h0m0 6h0m0 2h0m0 1h0m0 1h0m0 6h0m0 3h0m0 8h0m0 1h0m1-90h0m0 7h0m0 3h0m0 12h0m0 1h0m0 1h0m0 1h0m0 2h0m0 3h0m0 24h0m0 5h0m0 5h0m0 2h0m0 4h0m0 2h0m0 5h0m0 2h0m0 1h0m0 11h0m1-98h0m0 4h0m0 10h0m0 1h0m0 1h0m0 1h0m0 1h0m0 1h0m0 2h0m0 1h0m0 1h0m0 3h0m0 2h0m0 1h0m0 1h0m0 2h0m0 2h0m0 2h0m0 1h0m0 5h0m0 16h0m0 7h0m0 1h0m0 1h0m0 4h0m0 1h0m0 1h0m0 3h0m0 5h0m0 1h0m0 4h0m0 10h0m0 4h0m0 7h0m1-105h0m0 9h0m0 4h0m0 1h0m0 2h0m0 1h0m0 1h0m0 1h0m0 1h0m0 2h0m0 4h0m0 4h0m0 1h0m0 5h0m0 3h0m0 2h0m0 3h0m0 1h0m0 5h0m0 1h0m0 1h0m0 1h0m0 1h0m0 2h0m0 8h0m0 5h0m0 11h0m0 18h0m0 3h0m0 7h0m1-111h0m0 7h0m0 7h0m0 1h0m0 1h0m0 1h0m0 1h0m0 3h0m0 7h0m0 3h0m0 3h0m0 4h0m0 2h0m0 10h0m0 1h0m0 2h0m0 1h0m0 3h0m0 1h0m0 2h0m0 9h0m0 4h0m0 5h0m0 1h0m0 1h0m0 2h0m0 11h0m0 12h0m1-95h0m0 4h0m0 4h0m0 1h0m0 1h0m0 1h0m0 5h0m0 4h0m0 1h0m0 1h0m0 1h0m0 2h0m0 12h0m0 2h0m0 1h0m0 3h0m0 3h0m0 2h0m0 1h0m0 2h0m0 2h0m0 1h0m0 5h0m0 7h0m0 1h0m0 3h0m0 4h0m0 14h0m0 4h0m0 4h0m0 4h0m1-107h0m0 8h0m0 1h0m0 4h0m0 6h0m0 4h0m0 9h0m0 1h0m0 2h0m0 7h0m0 4h0m0 1h0m0 9h0m0 5h0m0 1h0m0 3h0m0 3h0m0 2h0m0 9h0m0 10h0m0 3h0m0 2h0m0 3h0m0 10h0m1-111h0m0 1h0m0 6h0m0 10h0m0 2h0m0 2h0m0 1h0m0 3h0m0 4h0m0 1h0m0 10h0m0 3h0m0 3h0m0 5h0m0 2h0m0 1h0m0 1h0m0 6h0m0 1h0m0 9h0m0 3h0m0 11h0m0 4h0m0 13h0m0 2h0m0 3h0m0 1h0m0 5h0m1-113h0m0 9h0m0 8h0m0 2h0m0 1h0m0 1h0m0 2h0m0 1h0m0 1h0m0 2h0m0 1h0m0 2h0m0 1h0m0 23h0m0 4h0m0 8h0m0 2h0m0 11h0m0 2h0m0 7h0m0 1h0m0 6h0m0 5h0m1-106h0m0 11h0m0 3h0m0 4h0m0 9h0m0 1h0m0 1h0m0 4h0m0 5h0m0 13h0m0 6h0m0 5h0m0 1h0m0 8h0m0 5h0m0 7h0m0 1h0m0 6h0m0 7h0m0 6h0m0 2h0m0 4h0m0 3h0m0 1h0m0 1h0m0 1h0m0 3h0m0 1h0m1-105h0m0 10h0m0 1h0m0 3h0m0 5h0m0 1h0m0 4h0m0 1h0m0 1h0m0 4h0m0 2h0m0 5h0m0 4h0m0 3h0m0 1h0m0 2h0m0 1h0m0 4h0m0 3h0m0 1h0m0 3h0m0 5h0m0 4h0m0 17h0m0 2h0m0 1h0m0 2h0m0 2h0m0 3h0m0 5h0m1-100h0m0 3h0m0 8h0m0 3h0m0 1h0m0 1h0m0 1h0m0 2h0m0 2h0m0 4h0m0 1h0m0 1h0m0 1h0m0 1h0m0 1h0m0 1h0m0 2h0m0 2h0m0 5h0m0 3h0m0 6h0m0 1h0m0 5h0m0 2h0m0 2h0m0 6h0m0 11h0m0 1h0m0 1h0m0 2h0m0 16h0m0 2h0m0 1h0m0 4h0m0 1h0m0 1h0m1-115h0m0 7h0m0 5h0m0 9h0m0 2h0m0 2h0m0 4h0m0 3h0m0 7h0m0 5h0m0 8h0m0 4h0m0 6h0m0 3h0m0 2h0m0 3h0m0 4h0m0 5h0m0 1h0m0 1h0m0 2h0m0 1h0m0 4h0m0 14h0m0 6h0m0 1h0m0 5h0m0 1h0m1-99h0m0 6h0m0 5h0m0 3h0m0 3h0m0 9h0m0 18h0m0 3h0m0 2h0m0 3h0m0 13h0m0 7h0m0 1h0m0 6h0m0 3h0m0 3h0m0 6h0m0 2h0m1-98h0m0 16h0m0 1h0m0 4h0m0 2h0m0 1h0m0 1h0m0 10h0m0 2h0m0 3h0m0 2h0m0 2h0m0 7h0m0 12h0m0 4h0m0 3h0m0 2h0m0 15h0m0 4h0m0 6h0m0 6h0m0 1h0m1-111h0m0 13h0m0 11h0m0 5h0m0 1h0m0 10h0m0 1h0m0 2h0m0 1h0m0 1h0m0 4h0m0 14h0m0 4h0m0 3h0m0 1h0m0 2h0m0 1h0m0 1h0m0 1h0m0 3h0m0 3h0m0 1h0m0 6h0m0 13h0m0 3h0m0 1h0m0 3h0m0 2h0m1-111h0m0 7h0m0 2h0m0 4h0m0 5h0m0 1h0m0 1h0m0 3h0m0 1h0m0 2h0m0 2h0m0 4h0m0 1h0m0 14h0m0 4h0m0 1h0m0 1h0m0 10h0m0 12h0m0 1h0m0 6h0m0 2h0m0 1h0m0 9h0m0 3h0m0 8h0m0 5h0m1-108h0m0 2h0m0 10h0m0 4h0m0 3h0m0 2h0m0 2h0m0 1h0m0 2h0m0 3h0m0 7h0m0 4h0m0 2h0m0 1h0m0 1h0m0 2h0m0 5h0m0 3h0m0 3h0m0 15h0m0 2h0m0 8h0m0 7h0m0 3h0m0 8h0m0 3h0m0 1h0m0 1h0m0 1h0m0 6h0m0 15h0m1-129h0m0 1h0m0 5h0m0 5h0m0 6h0m0 1h0m0 8h0m0 2h0m0 3h0m0 5h0m0 2h0m0 4h0m0 1h0m0 10h0m0 9h0m0 9h0m0 2h0m0 1h0m0 3h0m0 6h0m0 6h0m0 5h0m0 7h0m0 4h0m0 2h0m0 1h0m0 3h0m0 2h0m1-111h0m0 9h0m0 3h0m0 3h0m0 1h0m0 1h0m0 1h0m0 1h0m0 3h0m0 2h0m0 1h0m0 2h0m0 6h0m0 4h0m0 2h0m0 3h0m0 7h0m0 4h0m0 1h0m0 2h0m0 1h0m0 5h0m0 5h0m0 2h0m0 3h0m0 5h0m0 2h0m0 1h0m0 4h0m0 7h0m0 4h0m0 9h0m0 3h0m0 1h0m1-109h0m0 17h0m0 4h0m0 1h0m0 1h0m0 1h0m0 2h0m0 3h0m0 1h0m0 3h0m0 10h0m0 4h0m0 1h0m0 3h0m0 4h0m0 1h0m0 3h0m0 4h0m0 5h0m0 5h0m0 2h0m0 1h0m0 1h0m0 2h0m0 4h0m0 1h0m0 1h0m0 5h0m0 15h0m1-91h0m0 1h0m0 2h0m0 1h0m0 1h0m0 1h0m0 2h0m0 1h0m0 1h0m0 1h0m0 3h0m0 13h0m0 20h0m0 4h0m0 1h0m0 5h0m0 2h0m0 5h0m0 1h0m0 2h0m0 1h0m0 2h0m0 1h0m0 2h0m0 1h0m0 5h0m0 15h0m0 1h0m0 3h0m1-104h0m0 8h0m0 1h0m0 1h0m0 1h0m0 2h0m0 5h0m0 4h0m0 4h0m0 1h0m0 3h0m0 11h0m0 5h0m0 3h0m0 4h0m0 4h0m0 9h0m0 2h0m0 1h0m0 1h0m0 3h0m0 5h0m0 2h0m0 5h0m0 2h0m0 3h0m0 3h0m0 3h0m0 5h0m0 1h0m1-99h0m0 8h0m0 1h0m0 2h0m0 5h0m0 4h0m0 5h0m0 8h0m0 3h0m0 7h0m0 11h0m0 4h0m0 5h0m0 4h0m0 4h0m0 1h0m0 2h0m0 1h0m0 4h0m0 14h0m0 69h0m1-166h0m0 2h0m0 1h0m0 1h0m0 7h0m0 1h0m0 1h0m0 2h0m0 1h0m0 1h0m0 12h0m0 3h0m0 1h0m0 3h0m0 1h0m0 2h0m0 2h0m0 3h0m0 1h0m0 4h0m0 2h0m0 2h0m0 2h0m0 6h0m0 2h0m0 3h0m0 1h0m0 7h0m0 1h0m0 3h0m0 2h0m0 5h0m0 9h0m0 6h0m0 1h0m0 1h0m0 1h0m1-103h0m0 3h0m0 9h0m0 2h0m0 1h0m0 2h0m0 1h0m0 1h0m0 2h0m0 2h0m0 4h0m0 1h0m0 5h0m0 7h0m0 1h0m0 1h0m0 10h0m0 4h0m0 8h0m0 1h0m0 5h0m0 2h0m0 1h0m0 5h0m0 3h0m0 2h0m0 13h0m0 1h0m0 5h0m0 1h0m0 2h0m1-111h0m0 6h0m0 4h0m0 6h0m0 1h0m0 2h0m0 1h0m0 3h0m0 1h0m0 1h0m0 12h0m0 2h0m0 1h0m0 2h0m0 3h0m0 3h0m0 6h0m0 5h0m0 2h0m0 8h0m0 3h0m0 1h0m0 3h0m0 2h0m0 5h0m0 2h0m0 2h0m0 5h0m0 2h0m0 7h0m0 6h0m1-102h0m0 6h0m0 1h0m0 3h0m0 1h0m0 1h0m0 3h0m0 2h0m0 2h0m0 6h0m0 3h0m0 1h0m0 2h0m0 1h0m0 1h0m0 3h0m0 1h0m0 3h0m0 5h0m0 2h0m0 12h0m0 3h0m0 2h0m0 1h0m0 1h0m0 1h0m0 4h0m0 4h0m0 1h0m0 1h0m0 2h0m0 13h0m0 6h0m0 3h0m0 1h0m1-92h0m0 1h0m0 1h0m0 1h0m0 1h0m0 1h0m0 1h0m0 1h0m0 1h0m0 2h0m0 2h0m0 2h0m0 8h0m0 1h0m0 2h0m0 4h0m0 4h0m0 3h0m0 11h0m0 5h0m0 1h0m0 3h0m0 1h0m0 1h0m0 5h0m0 6h0m0 3h0m0 3h0m0 10h0m0 1h0m0 3h0m0 3h0m0 1h0m0 1h0m1-106h0m0 7h0m0 6h0m0 3h0m0 1h0m0 6h0m0 3h0m0 1h0m0 1h0m0 3h0m0 3h0m0 5h0m0 1h0m0 3h0m0 9h0m0 9h0m0 3h0m0 1h0m0 3h0m0 1h0m0 4h0m0 1h0m0 1h0m0 4h0m0 2h0m0 5h0m0 9h0m0 5h0m0 6h0m0 1h0m0 1h0m1-109h0m0 3h0m0 10h0m0 1h0m0 3h0m0 6h0m0 10h0m0 2h0m0 3h0m0 2h0m0 7h0m0 8h0m0 1h0m0 6h0m0 1h0m0 2h0m0 4h0m0 1h0m0 3h0m0 2h0m0 5h0m0 1h0m0 1h0m0 1h0m0 24h0m0 2h0m1-98h0m0 4h0m0 6h0m0 2h0m0 6h0m0 6h0m0 4h0m0 1h0m0 1h0m0 4h0m0 4h0m0 5h0m0 8h0m0 4h0m0 2h0m0 4h0m0 6h0m0 1h0m0 3h0m0 6h0m0 10h0m0 10h0m1-101h0m0 9h0m0 1h0m0 1h0m0 2h0m0 5h0m0 2h0m0 3h0m0 9h0m0 2h0m0 2h0m0 1h0m0 4h0m0 5h0m0 3h0m0 6h0m0 3h0m0 12h0m0 5h0m0 1h0m0 5h0m0 6h0m0 1h0m0 3h0m0 1h0m0 2h0m0 5h0m0 3h0m1-108h0m0 11h0m0 4h0m0 1h0m0 5h0m0 1h0m0 2h0m0 3h0m0 2h0m0 1h0m0 3h0m0 5h0m0 3h0m0 3h0m0 1h0m0 5h0m0 8h0m0 3h0m0 7h0m0 7h0m0 1h0m0 4h0m0 2h0m0 4h0m0 13h0m0 3h0m0 3h0m0 3h0m1-105h0m0 7h0m0 4h0m0 3h0m0 1h0m0 3h0m0 4h0m0 9h0m0 1h0m0 4h0m0 6h0m0 1h0m0 4h0m0 5h0m0 3h0m0 3h0m0 3h0m0 1h0m0 10h0m0 4h0m0 2h0m0 9h0m0 1h0m0 5h0m0 8h0m0 1h0m1-104h0m0 6h0m0 6h0m0 5h0m0 4h0m0 2h0m0 8h0m0 2h0m0 1h0m0 1h0m0 2h0m0 2h0m0 10h0m0 4h0m0 3h0m0 9h0m0 7h0m0 1h0m0 5h0m0 3h0m0 2h0m0 2h0m0 2h0m0 6h0m0 4h0m0 2h0m0 3h0m0 2h0m0 1h0m0 1h0m0 1h0m1-106h0m0 11h0m0 4h0m0 6h0m0 1h0m0 3h0m0 7h0m0 1h0m0 5h0m0 5h0m0 2h0m0 2h0m0 3h0m0 2h0m0 5h0m0 3h0m0 1h0m0 1h0m0 1h0m0 1h0m0 2h0m0 3h0m0 3h0m0 2h0m0 1h0m0 2h0m0 1h0m0 2h0m0 1h0m0 6h0m0 1h0m0 3h0m0 3h0m0 1h0m0 7h0m0 1h0m0 1h0m1-99h0m0 2h0m0 4h0m0 1h0m0 4h0m0 1h0m0 1h0m0 3h0m0 4h0m0 1h0m0 4h0m0 1h0m0 1h0m0 1h0m0 9h0m0 4h0m0 6h0m0 3h0m0 3h0m0 3h0m0 2h0m0 3h0m0 1h0m0 3h0m0 3h0m0 1h0m0 6h0m0 3h0m0 2h0m0 1h0m0 1h0m0 2h0m0 1h0m0 5h0m0 11h0m1-104h0m0 11h0m0 1h0m0 9h0m0 4h0m0 2h0m0 3h0m0 1h0m0 1h0m0 1h0m0 2h0m0 12h0m0 1h0m0 7h0m0 1h0m0 4h0m0 2h0m0 4h0m0 4h0m0 1h0m0 1h0m0 3h0m0 4h0m0 1h0m0 3h0m0 1h0m0 4h0m0 1h0m0 1h0m0 3h0m0 1h0m0 7h0m0 1h0m1-88h0m0 6h0m0 5h0m0 3h0m0 4h0m0 4h0m0 4h0m0 3h0m0 14h0m0 2h0m0 4h0m0 1h0m0 1h0m0 1h0m0 6h0m0 4h0m0 2h0m0 4h0m0 1h0m0 3h0m0 1h0m0 8h0m0 1h0m0 4h0m0 3h0m0 1h0m1-100h0m0 1h0m0 3h0m0 6h0m0 4h0m0 2h0m0 2h0m0 3h0m0 2h0m0 1h0m0 3h0m0 1h0m0 6h0m0 13h0m0 2h0m0 1h0m0 8h0m0 1h0m0 1h0m0 2h0m0 1h0m0 4h0m0 7h0m0 13h0m0 6h0m0 3h0m1-98h0m0 13h0m0 14h0m0 9h0m0 1h0m0 7h0m0 1h0m0 8h0m0 14h0m0 1h0m0 5h0m0 1h0m0 5h0m0 2h0m0 2h0m0 2h0m0 3h0m0 4h0m0 8h0m1-104h0m0 4h0m0 3h0m0 8h0m0 10h0m0 3h0m0 2h0m0 7h0m0 1h0m0 2h0m0 5h0m0 7h0m0 4h0m0 1h0m0 1h0m0 2h0m0 1h0m0 1h0m0 1h0m0 1h0m0 1h0m0 11h0m0 1h0m0 3h0m0 4h0m0 1h0m0 4h0m0 2h0m0 1h0m0 6h0m0 5h0m0 2h0m0 1h0m1-107h0m0 6h0m0 3h0m0 3h0m0 2h0m0 6h0m0 1h0m0 1h0m0 10h0m0 3h0m0 3h0m0 2h0m0 4h0m0 2h0m0 7h0m0 6h0m0 1h0m0 2h0m0 1h0m0 1h0m0 5h0m0 2h0m0 4h0m0 8h0m0 2h0m0 7h0m0 1h0m0 1h0m0 4h0m0 2h0m0 3h0m0 2h0m1-103h0m0 3h0m0 15h0m0 5h0m0 3h0m0 3h0m0 2h0m0 1h0m0 6h0m0 3h0m0 4h0m0 4h0m0 1h0m0 7h0m0 6h0m0 4h0m0 1h0m0 3h0m0 4h0m0 5h0m0 2h0m0 5h0m0 1h0m0 4h0m0 1h0m1-91h0m0 12h0m0 4h0m0 1h0m0 8h0m0 2h0m0 3h0m0 8h0m0 1h0m0 16h0m0 2h0m0 2h0m0 1h0m0 4h0m0 7h0m0 3h0m0 2h0m0 6h0m0 4h0m0 4h0m0 1h0m0 7h0m0 2h0m0 1h0m0 1h0m0 1h0m1-103h0m0 3h0m0 10h0m0 4h0m0 1h0m0 17h0m0 1h0m0 5h0m0 11h0m0 3h0m0 2h0m0 1h0m0 5h0m0 1h0m0 6h0m0 4h0m0 1h0m0 17h0m0 4h0m0 3h0m0 4h0m1-103h0m0 4h0m0 9h0m0 7h0m0 3h0m0 2h0m0 2h0m0 10h0m0 1h0m0 1h0m0 3h0m0 10h0m0 2h0m0 1h0m0 1h0m0 2h0m0 5h0m0 3h0m0 9h0m0 5h0m0 1h0m0 2h0m0 11h0m0 4h0m0 3h0m1-104h0m0 7h0m0 2h0m0 7h0m0 3h0m0 4h0m0 1h0m0 2h0m0 3h0m0 2h0m0 2h0m0 1h0m0 5h0m0 1h0m0 2h0m0 2h0m0 5h0m0 9h0m0 1h0m0 4h0m0 3h0m0 1h0m0 3h0m0 2h0m0 2h0m0 5h0m0 2h0m0 1h0m0 1h0m0 9h0m0 14h0m1-106h0m0 18h0m0 3h0m0 4h0m0 6h0m0 8h0m0 2h0m0 1h0m0 1h0m0 2h0m0 2h0m0 4h0m0 3h0m0 2h0m0 2h0m0 1h0m0 1h0m0 3h0m0 3h0m0 1h0m0 3h0m0 1h0m0 2h0m0 4h0m0 3h0m0 10h0m0 1h0m0 2h0m0 2h0m0 3h0m0 1h0m0 4h0m0 2h0m0 1h0m1-94h0m0 7h0m0 1h0m0 2h0m0 2h0m0 1h0m0 2h0m0 6h0m0 2h0m0 1h0m0 3h0m0 3h0m0 1h0m0 6h0m0 7h0m0 3h0m0 1h0m0 6h0m0 2h0m0 3h0m0 1h0m0 2h0m0 4h0m0 2h0m0 3h0m0 6h0m0 8h0m0 5h0m0 2h0m0 2h0m0 23h0m1-123h0m0 14h0m0 1h0m0 12h0m0 3h0m0 5h0m0 3h0m0 1h0m0 2h0m0 4h0m0 7h0m0 1h0m0 3h0m0 1h0m0 3h0m0 1h0m0 12h0m0 2h0m0 17h0m0 5h0m1-97h0m0 3h0m0 6h0m0 2h0m0 2h0m0 1h0m0 4h0m0 1h0m0 6h0m0 5h0m0 1h0m0 5h0m0 2h0m0 2h0m0 1h0m0 2h0m0 1h0m0 3h0m0 2h0m0 1h0m0 3h0m0 1h0m0 5h0m0 3h0m0 5h0m0 4h0m0 3h0m0 2h0m0 1h0m0 13h0m0 6h0m0 3h0m0 1h0m1-102h0m0 4h0m0 11h0m0 1h0m0 1h0m0 3h0m0 7h0m0 2h0m0 1h0m0 3h0m0 3h0m0 1h0m0 4h0m0 13h0m0 1h0m0 2h0m0 5h0m0 2h0m0 3h0m0 1h0m0 1h0m0 1h0m0 4h0m0 1h0m0 3h0m0 2h0m0 4h0m0 2h0m0 5h0m0 7h0m0 1h0m1-94h0m0 2h0m0 8h0m0 1h0m0 4h0m0 5h0m0 4h0m0 2h0m0 3h0m0 3h0m0 1h0m0 4h0m0 5h0m0 2h0m0 3h0m0 1h0m0 1h0m0 1h0m0 1h0m0 7h0m0 1h0m0 4h0m0 1h0m0 1h0m0 7h0m0 2h0m0 1h0m0 5h0m0 2h0m0 3h0m0 2h0m0 1h0m0 6h0m1-96h0m0 5h0m0 1h0m0 6h0m0 1h0m0 3h0m0 1h0m0 1h0m0 5h0m0 1h0m0 2h0m0 8h0m0 1h0m0 4h0m0 4h0m0 7h0m0 2h0m0 3h0m0 2h0m0 3h0m0 4h0m0 5h0m0 1h0m0 4h0m0 1h0m0 7h0m0 2h0m0 8h0m0 6h0m1-98h0m0 7h0m0 2h0m0 4h0m0 7h0m0 2h0m0 5h0m0 5h0m0 3h0m0 1h0m0 1h0m0 2h0m0 2h0m0 3h0m0 3h0m0 4h0m0 4h0m0 4h0m0 1h0m0 2h0m0 4h0m0 1h0m0 1h0m0 1h0m0 3h0m0 4h0m0 7h0m0 2h0m0 3h0m0 11h0m1-87h0m0 1h0m0 12h0m0 6h0m0 1h0m0 1h0m0 5h0m0 6h0m0 9h0m0 2h0m0 2h0m0 3h0m0 1h0m0 1h0m0 1h0m0 1h0m0 2h0m0 1h0m0 5h0m0 1h0m0 1h0m0 3h0m0 4h0m0 1h0m0 7h0m1-85h0m0 2h0m0 6h0m0 6h0m0 4h0m0 7h0m0 7h0m0 2h0m0 13h0m0 1h0m0 5h0m0 3h0m0 2h0m0 3h0m0 2h0m0 8h0m0 12h0m0 2h0m0 1h0m0 2h0m0 6h0m1-98h0m0 1h0m0 2h0m0 1h0m0 13h0m0 2h0m0 2h0m0 1h0m0 2h0m0 1h0m0 2h0m0 3h0m0 1h0m0 3h0m0 6h0m0 8h0m0 2h0m0 2h0m0 3h0m0 2h0m0 3h0m0 1h0m0 3h0m0 1h0m0 1h0m0 1h0m0 3h0m0 2h0m0 2h0m0 1h0m0 1h0m0 6h0m0 4h0m0 11h0m1-93h0m0 3h0m0 6h0m0 3h0m0 3h0m0 3h0m0 2h0m0 4h0m0 1h0m0 2h0m0 2h0m0 2h0m0 18h0m0 3h0m0 4h0m0 1h0m0 3h0m0 2h0m0 1h0m0 6h0m0 1h0m0 7h0m0 4h0m0 3h0m0 1h0m0 10h0m1-104h0m0 2h0m0 5h0m0 4h0m0 1h0m0 4h0m0 6h0m0 8h0m0 5h0m0 9h0m0 6h0m0 2h0m0 3h0m0 1h0m0 9h0m0 2h0m0 1h0m0 1h0m0 3h0m0 3h0m0 4h0m0 8h0m0 2h0m0 3h0m0 3h0m0 8h0m1-97h0m0 1h0m0 3h0m0 1h0m0 6h0m0 4h0m0 1h0m0 1h0m0 6h0m0 4h0m0 1h0m0 1h0m0 2h0m0 2h0m0 6h0m0 1h0m0 7h0m0 13h0m0 1h0m0 2h0m0 1h0m0 1h0m0 1h0m0 5h0m0 2h0m0 1h0m0 1h0m0 7h0m0 1h0m0 4h0m0 4h0m1-90h0m0 4h0m0 2h0m0 3h0m0 2h0m0 9h0m0 4h0m0 2h0m0 3h0m0 1h0m0 1h0m0 3h0m0 1h0m0 2h0m0 2h0m0 2h0m0 2h0m0 9h0m0 1h0m0 1h0m0 1h0m0 5h0m0 3h0m0 5h0m0 2h0m0 2h0m0 2h0m0 9h0m0 4h0m0 1h0m1-85h0m0 1h0m0 7h0m0 14h0m0 12h0m0 1h0m0 3h0m0 5h0m0 2h0m0 3h0m0 1h0m0 6h0m0 4h0m0 2h0m0 1h0m0 1h0m0 3h0m0 3h0m0 1h0m0 6h0m0 1h0m0 3h0m0 3h0m1-86h0m0 3h0m0 21h0m0 3h0m0 3h0m0 2h0m0 10h0m0 2h0m0 3h0m0 4h0m0 2h0m0 5h0m0 1h0m0 4h0m0 5h0m0 4h0m0 2h0m0 8h0m0 1h0m0 2h0m0 5h0m1-87h0m0 10h0m0 6h0m0 2h0m0 3h0m0 8h0m0 3h0m0 1h0m0 1h0m0 9h0m0 5h0m0 1h0m0 6h0m0 1h0m0 5h0m0 1h0m0 1h0m0 2h0m0 1h0m0 1h0m0 4h0m0 12h0m0 1h0m0 3h0m0 19h0m1-115h0m0 23h0m0 5h0m0 1h0m0 5h0m0 5h0m0 5h0m0 10h0m0 1h0m0 6h0m0 4h0m0 5h0m0 2h0m0 2h0m0 4h0m0 1h0m0 2h0m0 6h0m0 3h0m1-90h0m0 9h0m0 1h0m0 15h0m0 3h0m0 3h0m0 3h0m0 2h0m0 2h0m0 1h0m0 4h0m0 5h0m0 1h0m0 4h0m0 13h0m0 1h0m0 1h0m0 1h0m0 22h0m0 3h0m1-85h0m0 8h0m0 7h0m0 2h0m0 1h0m0 4h0m0 2h0m0 4h0m0 1h0m0 4h0m0 3h0m0 13h0m0 10h0m0 1h0m0 1h0m0 4h0m0 2h0m0 1h0m0 2h0m0 1h0m0 3h0m0 5h0m0 1h0m0 1h0m0 2h0m0 4h0m1-92h0m0 6h0m0 6h0m0 3h0m0 2h0m0 2h0m0 5h0m0 1h0m0 4h0m0 4h0m0 2h0m0 4h0m0 1h0m0 6h0m0 1h0m0 1h0m0 1h0m0 10h0m0 6h0m0 1h0m0 4h0m0 4h0m0 1h0m0 10h0m0 2h0m0 3h0m1-93h0m0 8h0m0 1h0m0 10h0m0 2h0m0 6h0m0 1h0m0 2h0m0 3h0m0 2h0m0 3h0m0 4h0m0 5h0m0 9h0m0 4h0m0 6h0m0 9h0m0 1h0m0 4h0m0 7h0m0 1h0m0 1h0m1-89h0m0 7h0m0 10h0m0 9h0m0 1h0m0 8h0m0 1h0m0 1h0m0 2h0m0 1h0m0 1h0m0 1h0m0 5h0m0 5h0m0 3h0m0 2h0m0 10h0m0 2h0m0 2h0m0 2h0m0 1h0m0 3h0m0 4h0m0 3h0m0 1h0m0 4h0m0 6h0m1-90h0m0 4h0m0 14h0m0 1h0m0 3h0m0 1h0m0 1h0m0 8h0m0 3h0m0 2h0m0 5h0m0 1h0m0 8h0m0 1h0m0 6h0m0 6h0m0 9h0m0 1h0m0 2h0m0 6h0m0 1h0m0 2h0m0 1h0m0 1h0m1-82h0m0 15h0m0 3h0m0 2h0m0 9h0m0 1h0m0 1h0m0 2h0m0 2h0m0 6h0m0 3h0m0 1h0m0 15h0m0 3h0m0 3h0m0 7h0m0 2h0m0 1h0m0 2h0m0 1h0m0 38h0m1-122h0m0 10h0m0 11h0m0 3h0m0 6h0m0 7h0m0 4h0m0 10h0m0 5h0m0 6h0m0 2h0m0 16h0m0 3h0m0 1h0m0 3h0m0 7h0m1-73h0m0 1h0m0 8h0m0 1h0m0 2h0m0 6h0m0 8h0m0 5h0m0 6h0m0 6h0m0 10h0m0 6h0m0 2h0m0 2h0m0 1h0m0 1h0m1-89h0m0 11h0m0 9h0m0 4h0m0 3h0m0 2h0m0 2h0m0 2h0m0 1h0m0 1h0m0 2h0m0 1h0m0 1h0m0 11h0m0 1h0m0 4h0m0 10h0m0 4h0m0 4h0m0 2h0m0 2h0m0 4h0m0 2h0m0 1h0m0 1h0m0 2h0m0 1h0m0 4h0m1-88h0m0 2h0m0 15h0m0 10h0m0 10h0m0 1h0m0 4h0m0 4h0m0 7h0m0 11h0m0 6h0m0 9h0m0 1h0m0 1h0m0 1h0m0 2h0m1-96h0m0 12h0m0 12h0m0 6h0m0 3h0m0 4h0m0 5h0m0 2h0m0 5h0m0 2h0m0 1h0m0 1h0m0 8h0m0 13h0m0 1h0m0 5h0m0 1h0m0 2h0m0 2h0m0 2h0m0 4h0m0 3h0m0 1h0m0 1h0m0 2h0m0 5h0m0 5h0m1-146h0m0 47h0m0 3h0m0 7h0m0 8h0m0 8h0m0 3h0m0 1h0m0 2h0m0 8h0m0 19h0m0 1h0m0 4h0m0 2h0m0 4h0m0 1h0m0 1h0m0 2h0m0 12h0m0 1h0m0 2h0m0 2h0m0 1h0m0 3h0m1-86h0m0 12h0m0 1h0m0 8h0m0 7h0m0 1h0m0 1h0m0 6h0m0 2h0m0 8h0m0 10h0m0 4h0m0 3h0m0 1h0m0 1h0m0 8h0m0 2h0m0 1h0m0 1h0m0 1h0m0 1h0m0 1h0m0 2h0m0 2h0m1-88h0m0 11h0m0 11h0m0 1h0m0 2h0m0 3h0m0 5h0m0 2h0m0 1h0m0 5h0m0 9h0m0 10h0m0 2h0m0 3h0m0 1h0m0 12h0m0 3h0m0 4h0m0 2h0m0 1h0m0 6h0m1-91h0m0 3h0m0 6h0m0 3h0m0 7h0m0 3h0m0 10h0m0 4h0m0 1h0m0 4h0m0 1h0m0 6h0m0 2h0m0 3h0m0 4h0m0 7h0m0 2h0m0 2h0m0 3h0m0 3h0m0 1h0m0 1h0m0 1h0m0 2h0m0 4h0m0 1h0m0 2h0m0 4h0m1-91h0m0 5h0m0 4h0m0 4h0m0 5h0m0 11h0m0 11h0m0 1h0m0 10h0m0 4h0m0 6h0m0 1h0m0 3h0m0 1h0m0 11h0m0 3h0m0 1h0m0 1h0m0 1h0m1-89h0m0 10h0m0 2h0m0 1h0m0 10h0m0 3h0m0 1h0m0 4h0m0 1h0m0 18h0m0 2h0m0 15h0m0 5h0m0 1h0m0 9h0m0 2h0m0 1h0m0 3h0m0 1h0m0 9h0m1-78h0m0 4h0m0 7h0m0 8h0m0 2h0m0 1h0m0 23h0m0 1h0m0 1h0m0 4h0m0 2h0m0 2h0m0 3h0m0 3h0m0 1h0m0 2h0m0 1h0m0 6h0m0 6h0m1-97h0m0 3h0m0 5h0m0 6h0m0 8h0m0 1h0m0 1h0m0 5h0m0 2h0m0 6h0m0 7h0m0 4h0m0 4h0m0 4h0m0 5h0m0 1h0m0 1h0m0 1h0m0 3h0m0 2h0m0 2h0m0 7h0m0 3h0m0 3h0m0 1h0m0 1h0m0 1h0m0 1h0m0 1h0m0 1h0m0 4h0m1-94h0m0 22h0m0 3h0m0 4h0m0 9h0m0 9h0m0 1h0m0 5h0m0 1h0m0 7h0m0 4h0m0 6h0m0 1h0m0 8h0m0 2h0m0 3h0m0 1h0m0 1h0m0 1h0m0 3h0m0 1h0m0 1h0m1-103h0m0 16h0m0 14h0m0 6h0m0 10h0m0 2h0m0 3h0m0 1h0m0 3h0m0 7h0m0 1h0m0 1h0m0 1h0m0 2h0m0 2h0m0 8h0m0 4h0m0 2h0m0 5h0m0 2h0m0 2h0m0 2h0m0 1h0m0 3h0m0 1h0m0 2h0m0 3h0m0 2h0m0 2h0m1-97h0m0 6h0m0 6h0m0 2h0m0 5h0m0 2h0m0 2h0m0 7h0m0 8h0m0 6h0m0 1h0m0 5h0m0 2h0m0 2h0m0 2h0m0 2h0m0 4h0m0 1h0m0 1h0m0 1h0m0 5h0m0 3h0m0 5h0m0 5h0m0 1h0m0 2h0m0 10h0m1-96h0m0 11h0m0 1h0m0 10h0m0 18h0m0 13h0m0 1h0m0 13h0m0 4h0m0 7h0m0 5h0m0 1h0m0 1h0m0 3h0m0 5h0m1-97h0m0 5h0m0 4h0m0 2h0m0 10h0m0 2h0m0 5h0m0 3h0m0 6h0m0 2h0m0 10h0m0 2h0m0 2h0m0 3h0m0 1h0m0 2h0m0 2h0m0 4h0m0 3h0m0 5h0m0 1h0m0 1h0m0 1h0m0 1h0m0 7h0m0 4h0m0 2h0m0 1h0m0 1h0m0 4h0m0 5h0m1-86h0m0 1h0m0 9h0m0 3h0m0 11h0m0 1h0m0 6h0m0 3h0m0 9h0m0 2h0m0 3h0m0 3h0m0 1h0m0 7h0m0 2h0m0 2h0m0 3h0m0 1h0m0 1h0m0 1h0m0 1h0m0 1h0m0 1h0m0 1h0m0 1h0m0 1h0m0 5h0m0 1h0m0 2h0m0 1h0m0 2h0m1-99h0m0 2h0m0 2h0m0 8h0m0 1h0m0 20h0m0 6h0m0 5h0m0 10h0m0 11h0m0 1h0m0 3h0m0 2h0m0 1h0m0 3h0m0 7h0m0 3h0m0 1h0m0 1h0m0 2h0m0 1h0m0 4h0m0 1h0m1-93h0m0 3h0m0 11h0m0 8h0m0 1h0m0 5h0m0 5h0m0 1h0m0 20h0m0 16h0m0 1h0m0 8h0m0 1h0m0 2h0m0 2h0m0 2h0m0 1h0m0 1h0m0 1h0m0 3h0m0 3h0m0 1h0m0 1h0m1-91h0m0 6h0m0 11h0m0 1h0m0 5h0m0 1h0m0 25h0m0 1h0m0 1h0m0 1h0m0 3h0m0 1h0m0 1h0m0 8h0m0 2h0m0 7h0m0 1h0m0 3h0m0 2h0m1-85h0m0 8h0m0 4h0m0 2h0m0 4h0m0 1h0m0 1h0m0 1h0m0 5h0m0 2h0m0 1h0m0 4h0m0 1h0m0 1h0m0 15h0m0 2h0m0 2h0m0 3h0m0 1h0m0 5h0m0 2h0m0 1h0m0 3h0m0 2h0m0 11h0m0 2h0m0 2h0m0 6h0m1-94h0m0 4h0m0 30h0m0 4h0m0 1h0m0 2h0m0 9h0m0 4h0m0 2h0m0 1h0m0 1h0m0 1h0m0 1h0m0 12h0m0 10h0m0 2h0m0 2h0m0 1h0m0 5h0m0 6h0m1-91h0m0 3h0m0 11h0m0 5h0m0 9h0m0 3h0m0 12h0m0 6h0m0 1h0m0 1h0m0 4h0m0 9h0m0 3h0m0 4h0m0 2h0m0 1h0m0 2h0m0 1h0m0 1h0m0 1h0m0 3h0m0 1h0m0 3h0m0 4h0m1-98h0m0 9h0m0 6h0m0 5h0m0 3h0m0 4h0m0 6h0m0 1h0m0 5h0m0 2h0m0 1h0m0 6h0m0 2h0m0 6h0m0 4h0m0 4h0m0 10h0m0 2h0m0 3h0m0 5h0m0 1h0m0 1h0m0 8h0m1-89h0m0 7h0m0 10h0m0 5h0m0 18h0m0 3h0m0 8h0m0 2h0m0 2h0m0 6h0m0 3h0m0 3h0m0 1h0m0 1h0m0 8h0m0 3h0m0 1h0m0 1h0m0 2h0m0 4h0m0 1h0m1-88h0m0 4h0m0 1h0m0 1h0m0 1h0m0 3h0m0 6h0m0 2h0m0 24h0m0 1h0m0 3h0m0 2h0m0 1h0m0 1h0m0 1h0m0 1h0m0 1h0m0 2h0m0 3h0m0 7h0m0 5h0m0 5h0m0 2h0m0 2h0m0 1h0m0 2h0m0 3h0m0 4h0m0 1h0m0 1h0m1-90h0m0 10h0m0 6h0m0 5h0m0 3h0m0 2h0m0 1h0m0 9h0m0 3h0m0 2h0m0 1h0m0 9h0m0 1h0m0 4h0m0 1h0m0 1h0m0 2h0m0 5h0m0 1h0m0 6h0m0 5h0m0 2h0m0 5h0m0 7h0m1-78h0m0 1h0m0 2h0m0 7h0m0 1h0m0 1h0m0 2h0m0 11h0m0 4h0m0 1h0m0 7h0m0 1h0m0 2h0m0 3h0m0 3h0m0 7h0m0 1h0m0 4h0m0 1h0m0 3h0m0 7h0m0 4h0m1-86h0m0 4h0m0 1h0m0 26h0m0 3h0m0 1h0m0 1h0m0 1h0m0 2h0m0 2h0m0 9h0m0 6h0m0 9h0m0 2h0m0 1h0m0 4h0m0 3h0m0 3h0m0 1h0m0 1h0m0 2h0m0 1h0m0 4h0m1-94h0m0 10h0m0 4h0m0 1h0m0 14h0m0 5h0m0 12h0m0 1h0m0 2h0m0 3h0m0 3h0m0 4h0m0 2h0m0 3h0m0 4h0m0 5h0m0 11h0m0 6h0m0 2h0m0 6h0m1-98h0m0 7h0m0 3h0m0 4h0m0 15h0m0 5h0m0 3h0m0 5h0m0 2h0m0 1h0m0 2h0m0 7h0m0 3h0m0 1h0m0 3h0m0 1h0m0 1h0m0 4h0m0 5h0m0 2h0m0 5h0m0 3h0m0 4h0m0 4h0m1-79h0m0 1h0m0 4h0m0 5h0m0 2h0m0 2h0m0 4h0m0 14h0m0 6h0m0 1h0m0 6h0m0 1h0m0 3h0m0 4h0m0 1h0m0 4h0m0 1h0m0 2h0m0 17h0m0 1h0m0 3h0m1-85h0m0 3h0m0 8h0m0 1h0m0 13h0m0 2h0m0 16h0m0 7h0m0 1h0m0 2h0m0 2h0m0 1h0m0 11h0m0 3h0m0 3h0m0 1h0m0 3h0m0 6h0m0 3h0m1-84h0m0 1h0m0 1h0m0 3h0m0 8h0m0 7h0m0 6h0m0 2h0m0 1h0m0 2h0m0 3h0m0 3h0m0 9h0m0 1h0m0 5h0m0 3h0m0 1h0m0 1h0m0 6h0m0 9h0m0 1h0m0 2h0m0 2h0m0 6h0m0 3h0m1-98h0m0 3h0m0 3h0m0 17h0m0 1h0m0 4h0m0 16h0m0 1h0m0 3h0m0 2h0m0 2h0m0 3h0m0 11h0m0 3h0m0 2h0m0 3h0m0 7h0m0 10h0m0 4h0m1-86h0m0 6h0m0 4h0m0 3h0m0 18h0m0 7h0m0 3h0m0 9h0m0 1h0m0 8h0m0 6h0m0 2h0m0 5h0m0 5h0m0 1h0m0 4h0m0 3h0m0 2h0m0 1h0m0 3h0m1-82h0m0 2h0m0 3h0m0 2h0m0 4h0m0 7h0m0 8h0m0 4h0m0 2h0m0 7h0m0 1h0m0 5h0m0 2h0m0 4h0m0 3h0m0 2h0m0 4h0m0 7h0m0 6h0m1-78h0m0 4h0m0 1h0m0 6h0m0 1h0m0 4h0m0 4h0m0 2h0m0 1h0m0 10h0m0 9h0m0 5h0m0 1h0m0 8h0m0 2h0m0 4h0m0 1h0m0 2h0m0 6h0m0 1h0m0 2h0m0 1h0m0 2h0m0 4h0m0 2h0m1-90h0m0 14h0m0 4h0m0 1h0m0 5h0m0 14h0m0 21h0m0 1h0m0 19h0m0 3h0m0 7h0m1-83h0m0 1h0m0 1h0m0 24h0m0 1h0m0 9h0m0 9h0m0 3h0m0 6h0m0 8h0m0 5h0m0 12h0m0 9h0m1-84h0m0 6h0m0 31h0m0 6h0m0 7h0m0 3h0m0 17h0m0 1h0m0 1h0m0 6h0m1-85h0m0 7h0m0 14h0m0 16h0m0 11h0m0 4h0m0 2h0m0 8h0m0 4h0m0 3h0m0 2h0m0 7h0m1-82h0m0 4h0m0 2h0m0 6h0m0 8h0m0 11h0m0 4h0m0 6h0m0 8h0m0 10h0m0 5h0m0 14h0m0 12h0m1-80h0m0 6h0m0 3h0m0 4h0m0 6h0m0 14h0m0 4h0m0 1h0m0 5h0m0 1h0m0 1h0m0 17h0m0 1h0m0 14h0m1-77h0m0 15h0m0 36h0m0 3h0m0 2h0m0 7h0m0 15h0m1-80h0m0 10h0m0 3h0m0 3h0m0 5h0m0 44h0m0 17h0m1-60h0m0 11h0m0 3h0m0 14h0m0 4h0m0 2h0m1-47h0m0 20h0m0 7h0m0 4h0m0 8h0m0 17h0m0 4h0m0 1h0m1-73h0m0 37h0m0 4h0m0 1h0m0 11h0m0 15h0m0 2h0m1-73h0m0 8h0m0 1h0m0 20h0m0 1h0m0 3h0m0 2h0m0 3h0m0 16h0m0 4h0m0 16h0m1-66h0m0 9h0m0 6h0m0 20h0m0 14h0m0 2h0m1-50h0m0 6h0m0 20h0m0 8h0m0 6h0m1-37h0m0 18h0m0 12h0m0 6h0m1-50h0m0 3h0m0 15h0m0 1h0m0 9h0m0 3h0m0 13h0m0 11h0m0 1h0m0 4h0m0 26h0m1-86h0m0 3h0m0 1h0m0 4h0m0 2h0m0 20h0m0 7h0m0 7h0m0 6h0m0 36h0m1-82h0m0 1h0m0 5h0m0 3h0m0 3h0m0 3h0m0 22h0m0 4h0m1-36h0m0 4h0m0 2h0m0 7h0m0 9h0m0 13h0m0 1h0m0 30h0m1-59h0m0 27h0m0 1h0m0 29h0m1-72h0m0 7h0m0 3h0m0 13h0m0 1h0m1-18h0m0 2h0m0 32h0m1-39h0m0 12h0m0 29h0m0 1h0m0 1h0m1-42h0m0 15h0m0 9h0m0 15h0m0 3h0m1-45h0m0 10h0m0 2h0m0 11h0m0 5h0m0 4h0m0 12h0m1-41h0m0 5h0m0 5h0m0 9h0m0 58h0m1-77h0m0 9h0m0 5h0m0 2h0m0 1h0m0 1h0m0 2h0m1-22h0m0 15h0m0 4h0m0 5h0m0 12h0m0 35h0m1-71h0m0 6h0m0 3h0m0 7h0m0 68h0m1-84h0m0 2h0m0 5h0m0 3h0m0 3h0m0 4h0m0 2h0m1-17h0m0 1h0m0 14h0m0 1h0m0 8h0m0 49h0m1-64h0m0 6h0m0 5h0m0 50h0m1-72h0m0 7h0m0 1h0m0 7h0m0 1h0m0 2h0m1-9h0m0 3h0m0 6h0m0 1h0m0 1h0m0 2h0m1-8h0m0 1h0m0 2h0m0 2h0m0 2h0m0 6h0m1-20h0m0 87h0m1-89h0m0 3h0m0 3h0m0 3h0m0 1h0m0 1h0m1 1h0m0 2h0m0 1h0m1-23h0m0 5h0m0 13h0m0 1h0m0 5h0m2-3h0m0 1h0m1-18h0m0 2h0m2-1h0m0 13h0m0 4h0m1-6h0m0 4h0m1-19h0m0 4h0m1 15h0m1-3h0m0 2h0m1-15h0m3 7h0m3 7h0m2-18h0m0 9h0m0 2h0m2-9h0m0 4h0m1-6h0m3-2h0m0 5h0m0 4h0m1 2h0m0 6h0m4-18h0m0 9h0m5-6h0" stroke="#ee9a00"/>
<path d="M1274 1327h0m1-5h0m3 15h0m1-17h0m1 9h0m1-2h0m5-5h0m0 6h0m1-14h0m2-1h0m3 1h0m0 5h0m0 6h0m0 6h0m2-9h0m1-11h0m0 1h0m0 29h0m1 2h0m1-6h0m0 3h0m1-15h0m1-11h0m0 3h0m1-18h0m0 27h0m0 2h0m1-34h0m0 38h0m0 18h0m0 14h0m2-52h0m0 21h0m3-5h0m0 26h0m1-66h0m0 42h0m0 1h0m0 18h0m1-46h0m2-1h0m0 20h0m0 46h0m1-63h0m2 17h0m1-14h0m0 31h0m1 5h0m0 21h0m1-62h0m0 47h0m1-75h0m0 45h0m0 9h0m1-10h0m0 11h0m0 21h0m0 7h0m2-35h0m1-40h0m0 30h0m1-17h0m0 35h0m0 17h0m1-17h0m0 24h0m1-39h0m0 4h0m0 1h0m0 7h0m0 3h0m0 17h0m0 4h0m0 8h0m1-33h0m0 2h0m0 4h0m0 17h0m1-48h0m0 17h0m0 23h0m0 3h0m0 21h0m1-37h0m0 1h0m0 21h0m1-47h0m0 31h0m1-42h0m0 26h0m1-6h0m0 19h0m0 32h0m1-54h0m0 4h0m0 23h0m0 4h0m1-23h0m0 5h0m1-14h0m1 3h0m0 7h0m0 10h0m0 7h0m0 23h0m1-69h0m0 31h0m0 17h0m1-34h0m0 2h0m0 11h0m0 2h0m1 0h0m0 14h0m0 31h0m1-43h0m0 2h0m0 16h0m0 14h0m1-60h0m0 14h0m1-89h0m0 68h0m0 27h0m1 31h0m0 22h0m1-66h0m0 38h0m1-69h0m0 38h0m0 30h0m1-31h0m0 59h0m1-65h0m0 16h0m0 6h0m0 30h0m1-72h0m0 52h0m0 9h0m1-40h0m0 41h0m0 1h0m0 15h0m1-49h0m0 10h0m0 9h0m0 41h0m1-77h0m0 17h0m0 32h0m0 2h0m0 21h0m1-51h0m0 33h0m0 26h0m1-74h0m0 26h0m0 3h0m0 11h0m0 12h0m0 10h0m1-38h0m0 4h0m0 7h0m0 36h0m0 5h0m1-44h0m0 5h0m0 13h0m1-30h0m0 17h0m0 4h0m0 21h0m0 8h0m1-67h0m0 45h0m0 2h0m1-32h0m1-21h0m0 29h0m0 18h0m0 7h0m0 3h0m0 10h0m0 1h0m1-44h0m0 12h0m0 3h0m0 1h0m0 3h0m0 9h0m1 26h0m1-63h0m0 27h0m0 47h0m1-33h0m1-13h0m1-40h0m0 40h0m0 3h0m0 11h0m0 14h0m1-46h0m0 6h0m0 13h0m1-28h0m0 3h0m0 11h0m1-48h0m0 50h0m0 3h0m0 1h0m1-4h0m0 2h0m0 5h0m0 8h0m0 8h0m1-53h0m0 30h0m0 2h0m0 6h0m0 17h0m1-23h0m0 50h0m1-81h0m0 36h0m0 1h0m0 9h0m0 7h0m1-37h0m0 15h0m0 7h0m0 1h0m1-13h0m0 19h0m0 14h0m1 0h0m0 8h0m1-82h0m0 15h0m0 1h0m0 29h0m0 1h0m1-20h0m0 9h0m0 19h0m0 15h0m1-71h0m0 26h0m0 26h0m0 7h0m1-30h0m0 6h0m0 2h0m1-10h0m0 14h0m0 7h0m0 9h0m0 1h0m0 1h0m0 27h0m1-52h0m0 10h0m0 15h0m1-7h0m0 1h0m1-7h0m0 9h0m0 5h0m0 8h0m0 24h0m0 3h0m1-74h0m0 19h0m1-33h0m0 8h0m0 4h0m0 15h0m0 16h0m0 4h0m0 16h0m0 23h0m1-53h0m0 11h0m0 13h0m0 2h0m0 1h0m0 21h0m1-64h0m0 31h0m0 1h0m1-34h0m0 1h0m0 18h0m0 5h0m1-22h0m0 16h0m0 26h0m0 3h0m0 18h0m1-72h0m0 45h0m1-38h0m0 33h0m0 18h0m0 5h0m0 4h0m0 23h0m1-61h0m0 12h0m0 10h0m0 4h0m0 25h0m1-88h0m0 49h0m0 9h0m0 14h0m0 28h0m1-74h0m0 14h0m0 10h0m1-2h0m0 5h0m0 6h0m0 7h0m0 19h0m1-96h0m0 32h0m0 5h0m0 23h0m0 7h0m0 4h0m1-6h0m0 8h0m1-44h0m0 21h0m0 7h0m0 15h0m0 37h0m1-65h0m0 13h0m0 8h0m0 40h0m0 17h0m1-61h0m0 4h0m1-20h0m0 16h0m0 4h0m0 13h0m0 7h0m0 9h0m1-63h0m0 11h0m0 8h0m0 44h0m1-50h0m0 6h0m0 3h0m0 4h0m0 27h0m1-28h0m0 13h0m0 14h0m0 1h0m0 1h0m0 2h0m0 12h0m1-75h0m0 21h0m0 9h0m0 2h0m0 2h0m0 36h0m0 3h0m1-82h0m0 14h0m0 36h0m0 1h0m0 4h0m0 15h0m0 4h0m1-55h0m0 11h0m0 1h0m0 19h0m0 11h0m1-34h0m0 18h0m0 21h0m1-58h0m0 7h0m0 40h0m0 2h0m1-3h0m0 3h0m0 1h0m0 2h0m0 3h0m0 4h0m1-60h0m0 1h0m0 19h0m0 12h0m0 29h0m0 33h0m1-73h0m0 14h0m0 2h0m0 12h0m0 16h0m0 14h0m1-58h0m0 33h0m0 2h0m0 14h0m1-44h0m0 13h0m0 12h0m0 33h0m1-68h0m0 1h0m0 27h0m0 3h0m0 28h0m1-32h0m0 4h0m0 1h0m0 1h0m0 3h0m0 8h0m0 36h0m1-74h0m0 14h0m0 9h0m0 1h0m0 6h0m0 3h0m0 1h0m0 13h0m1-47h0m0 16h0m0 2h0m0 9h0m0 7h0m0 22h0m0 6h0m1-67h0m0 6h0m0 12h0m0 6h0m0 8h0m0 3h0m0 41h0m1-82h0m0 8h0m0 16h0m0 41h0m0 3h0m1-61h0m0 2h0m0 12h0m0 15h0m0 2h0m0 3h0m1-30h0m0 18h0m0 4h0m0 2h0m0 2h0m0 3h0m0 32h0m1-58h0m0 13h0m0 4h0m0 2h0m0 5h0m0 46h0m1-87h0m0 19h0m0 11h0m0 2h0m0 9h0m0 3h0m0 11h0m0 3h0m0 21h0m1-72h0m0 5h0m0 21h0m0 7h0m0 5h0m0 2h0m0 2h0m1-20h0m0 4h0m0 6h0m0 3h0m0 3h0m0 5h0m0 2h0m0 32h0m1-87h0m0 14h0m0 8h0m0 18h0m0 1h0m0 1h0m0 3h0m0 5h0m0 14h0m1-55h0m0 27h0m0 1h0m0 4h0m0 5h0m0 18h0m0 1h0m0 14h0m0 7h0m1-87h0m0 32h0m0 1h0m0 4h0m0 10h0m1-55h0m0 2h0m0 45h0m0 4h0m0 3h0m0 3h0m0 12h0m0 6h0m0 13h0m1-78h0m0 28h0m0 9h0m0 3h0m0 4h0m0 10h0m0 16h0m1-122h0m0 74h0m0 4h0m0 4h0m0 8h0m0 4h0m0 3h0m0 4h0m0 14h0m0 14h0m1-43h0m0 16h0m0 6h0m0 22h0m0 4h0m0 2h0m0 39h0m1-119h0m0 25h0m0 5h0m0 1h0m0 2h0m0 4h0m0 1h0m0 7h0m0 4h0m0 3h0m1-15h0m0 2h0m0 4h0m0 1h0m0 3h0m0 2h0m1-22h0m0 5h0m0 3h0m0 4h0m0 1h0m0 2h0m0 3h0m0 5h0m0 45h0m0 5h0m0 11h0m1-86h0m0 15h0m0 1h0m0 6h0m0 4h0m0 1h0m0 3h0m0 3h0m0 12h0m0 13h0m1-100h0m0 21h0m0 7h0m0 1h0m0 23h0m0 3h0m0 1h0m0 8h0m0 4h0m0 1h0m1-37h0m0 8h0m0 8h0m0 1h0m0 3h0m0 3h0m0 4h0m0 2h0m0 2h0m0 2h0m0 9h0m0 4h0m0 1h0m0 3h0m1-50h0m0 5h0m0 6h0m0 11h0m0 2h0m0 2h0m0 1h0m0 2h0m0 2h0m0 2h0m0 2h0m0 5h0m0 9h0m1-57h0m0 11h0m0 5h0m0 2h0m0 2h0m0 1h0m0 4h0m0 2h0m0 5h0m0 1h0m0 4h0m0 4h0m0 4h0m0 9h0m1-51h0m0 6h0m0 15h0m0 5h0m0 2h0m0 1h0m0 2h0m0 4h0m0 2h0m0 3h0m0 1h0m0 6h0m0 19h0m0 1h0m0 7h0m1-76h0m0 23h0m0 4h0m0 2h0m0 2h0m0 1h0m0 5h0m0 4h0m0 1h0m0 30h0m1-63h0m0 15h0m0 5h0m0 1h0m0 2h0m0 1h0m0 2h0m0 2h0m0 1h0m0 2h0m0 2h0m0 1h0m0 3h0m0 1h0m0 2h0m0 1h0m0 6h0m0 35h0m0 20h0m1-102h0m0 12h0m0 4h0m0 3h0m0 1h0m0 7h0m0 8h0m0 11h0m0 22h0m1-62h0m0 6h0m0 3h0m0 1h0m0 5h0m0 8h0m0 2h0m0 30h0m1-51h0m0 5h0m0 3h0m0 1h0m0 4h0m0 2h0m0 1h0m0 2h0m0 2h0m0 1h0m0 5h0m0 3h0m0 2h0m0 50h0m1-117h0m0 5h0m0 5h0m0 22h0m0 7h0m0 9h0m0 2h0m0 1h0m0 3h0m0 1h0m0 5h0m0 2h0m0 11h0m0 2h0m0 14h0m0 4h0m0 2h0m1-91h0m0 20h0m0 10h0m0 3h0m0 2h0m0 7h0m0 5h0m0 2h0m0 4h0m0 1h0m0 1h0m0 6h0m0 2h0m0 6h0m0 4h0m1-64h0m0 8h0m0 24h0m0 3h0m0 3h0m0 1h0m0 2h0m0 1h0m0 2h0m0 2h0m0 3h0m0 6h0m0 20h0m0 41h0m1-145h0m0 11h0m0 48h0m0 2h0m0 1h0m0 5h0m0 1h0m0 6h0m0 1h0m0 1h0m0 9h0m1-65h0m0 3h0m0 16h0m0 10h0m0 2h0m0 2h0m0 4h0m0 3h0m0 1h0m0 2h0m0 1h0m0 1h0m0 3h0m0 3h0m0 1h0m0 2h0m0 2h0m0 1h0m0 3h0m0 2h0m0 4h0m0 2h0m0 30h0m1-101h0m0 35h0m0 5h0m0 1h0m0 6h0m0 2h0m0 1h0m0 1h0m0 6h0m0 1h0m0 7h0m0 6h0m0 1h0m0 26h0m1-62h0m0 7h0m0 2h0m0 2h0m0 2h0m0 2h0m0 1h0m0 1h0m0 1h0m0 1h0m0 2h0m0 2h0m0 5h0m0 2h0m0 5h0m0 4h0m0 12h0m0 12h0m0 17h0m1-78h0m0 5h0m0 1h0m0 1h0m0 1h0m0 1h0m0 2h0m0 5h0m0 2h0m0 1h0m0 2h0m0 1h0m0 8h0m0 2h0m1-35h0m0 6h0m0 2h0m0 9h0m0 2h0m0 1h0m0 1h0m0 1h0m0 1h0m0 1h0m0 38h0m0 10h0m0 43h0m1-130h0m0 16h0m0 2h0m0 6h0m0 1h0m0 3h0m0 3h0m0 2h0m0 1h0m0 1h0m0 2h0m0 1h0m0 1h0m0 4h0m0 1h0m0 2h0m0 1h0m0 32h0m0 7h0m1-92h0m0 17h0m0 3h0m0 2h0m0 5h0m0 2h0m0 1h0m0 1h0m0 1h0m0 3h0m0 1h0m0 1h0m0 1h0m0 1h0m0 1h0m0 1h0m0 3h0m0 2h0m0 4h0m0 2h0m0 1h0m0 2h0m0 1h0m0 4h0m1-58h0m0 19h0m0 4h0m0 6h0m0 2h0m0 2h0m0 1h0m0 2h0m0 1h0m0 1h0m0 3h0m0 1h0m0 2h0m0 5h0m0 11h0m0 37h0m0 17h0m1-97h0m0 5h0m0 3h0m0 3h0m0 3h0m0 1h0m0 1h0m0 2h0m0 1h0m0 1h0m0 2h0m0 4h0m0 3h0m0 54h0m1-77h0m0 7h0m0 1h0m0 1h0m0 1h0m0 3h0m0 4h0m0 4h0m0 1h0m0 2h0m0 1h0m0 1h0m0 17h0m1-99h0m0 45h0m0 2h0m0 2h0m0 2h0m0 1h0m0 6h0m0 1h0m0 1h0m0 1h0m0 1h0m0 1h0m0 3h0m0 3h0m0 1h0m0 2h0m0 3h0m0 8h0m0 2h0m1-45h0m0 11h0m0 6h0m0 1h0m0 3h0m0 2h0m0 4h0m0 4h0m0 3h0m0 3h0m0 4h0m0 2h0m0 1h0m0 1h0m0 2h0m0 20h0m0 34h0m0 9h0m1-96h0m0 1h0m0 1h0m0 2h0m0 6h0m0 3h0m0 1h0m0 5h0m0 1h0m0 3h0m0 6h0m0 1h0m0 2h0m0 3h0m0 11h0m0 8h0m0 11h0m0 41h0m1-102h0m0 4h0m0 2h0m0 7h0m0 1h0m0 2h0m0 1h0m0 1h0m0 1h0m0 1h0m0 1h0m0 1h0m0 1h0m0 4h0m1-82h0m0 23h0m0 27h0m0 4h0m0 5h0m0 1h0m0 1h0m0 3h0m0 1h0m0 1h0m0 1h0m0 1h0m0 3h0m0 1h0m0 1h0m0 5h0m0 1h0m0 10h0m0 1h0m0 22h0m1-65h0m0 4h0m0 2h0m0 1h0m0 5h0m0 2h0m0 1h0m0 1h0m0 1h0m0 1h0m0 3h0m0 1h0m0 4h0m0 2h0m0 10h0m0 1h0m1-55h0m0 25h0m0 2h0m0 1h0m0 4h0m0 1h0m0 1h0m0 1h0m0 2h0m0 1h0m0 2h0m0 1h0m0 1h0m0 1h0m0 2h0m0 1h0m0 3h0m0 20h0m0 6h0m0 17h0m0 26h0m1-97h0m0 3h0m0 5h0m0 4h0m0 4h0m0 1h0m0 2h0m0 1h0m0 1h0m0 4h0m0 1h0m0 2h0m0 6h0m0 16h0m1-88h0m0 38h0m0 4h0m0 2h0m0 1h0m0 2h0m0 2h0m0 1h0m0 2h0m0 4h0m0 1h0m0 2h0m0 1h0m0 1h0m0 1h0m0 1h0m0 6h0m0 10h0m0 25h0m1-111h0m0 21h0m0 20h0m0 5h0m0 7h0m0 3h0m0 1h0m0 2h0m0 3h0m0 1h0m0 1h0m0 1h0m0 1h0m0 1h0m0 15h0m0 18h0m1-52h0m0 3h0m0 1h0m0 1h0m0 2h0m0 1h0m0 3h0m0 1h0m0 1h0m0 1h0m0 1h0m0 3h0m0 2h0m0 4h0m0 1h0m0 1h0m0 4h0m0 1h0m0 1h0m0 5h0m0 10h0m0 17h0m0 23h0m1-90h0m0 1h0m0 2h0m0 9h0m0 1h0m0 1h0m0 1h0m0 1h0m0 1h0m0 1h0m0 2h0m0 1h0m0 1h0m0 1h0m0 2h0m0 2h0m0 3h0m0 1h0m1-40h0m0 14h0m0 6h0m0 1h0m0 2h0m0 4h0m0 1h0m0 2h0m0 1h0m0 6h0m0 1h0m0 3h0m0 3h0m0 48h0m1-149h0m0 59h0m0 7h0m0 9h0m0 5h0m0 1h0m0 1h0m0 1h0m0 1h0m0 2h0m0 2h0m0 1h0m0 3h0m0 1h0m0 2h0m0 2h0m0 1h0m0 4h0m0 45h0m1-83h0m0 4h0m0 2h0m0 3h0m0 4h0m0 3h0m0 1h0m0 3h0m0 3h0m0 1h0m0 1h0m0 2h0m0 2h0m0 2h0m0 28h0m0 11h0m1-76h0m0 7h0m0 3h0m0 1h0m0 1h0m0 1h0m0 4h0m0 1h0m0 1h0m0 2h0m0 1h0m0 3h0m0 1h0m0 2h0m0 1h0m0 1h0m0 1h0m0 2h0m0 5h0m0 1h0m0 3h0m0 2h0m0 59h0m0 22h0m1-117h0m0 12h0m0 2h0m0 3h0m0 2h0m0 1h0m0 2h0m0 4h0m0 5h0m0 2h0m0 2h0m0 4h0m0 11h0m1-53h0m0 2h0m0 1h0m0 3h0m0 1h0m0 2h0m0 1h0m0 3h0m0 1h0m0 1h0m0 1h0m0 1h0m0 3h0m0 1h0m0 1h0m0 1h0m0 1h0m0 2h0m0 1h0m0 1h0m0 4h0m0 2h0m0 2h0m0 3h0m0 43h0m1-82h0m0 6h0m0 2h0m0 3h0m0 2h0m0 4h0m0 1h0m0 1h0m0 1h0m0 1h0m0 1h0m0 1h0m0 1h0m0 5h0m0 2h0m0 2h0m0 2h0m0 1h0m0 10h0m0 28h0m1-69h0m0 1h0m0 6h0m0 1h0m0 3h0m0 1h0m0 4h0m0 3h0m0 1h0m0 2h0m0 1h0m0 5h0m0 1h0m0 2h0m0 1h0m0 2h0m0 2h0m0 14h0m1-42h0m0 1h0m0 7h0m0 2h0m0 1h0m0 1h0m0 1h0m0 2h0m0 1h0m0 2h0m0 8h0m0 3h0m0 45h0m1-79h0m0 1h0m0 1h0m0 1h0m0 2h0m0 1h0m0 2h0m0 2h0m0 6h0m0 2h0m0 5h0m0 5h0m0 25h0m1-55h0m0 1h0m0 2h0m0 1h0m0 1h0m0 1h0m0 2h0m0 3h0m0 3h0m0 1h0m0 1h0m0 2h0m0 2h0m0 2h0m0 3h0m0 1h0m0 8h0m0 14h0m0 21h0m1-69h0m0 6h0m0 1h0m0 5h0m0 1h0m0 2h0m0 2h0m0 1h0m0 1h0m0 4h0m0 1h0m0 3h0m0 4h0m0 7h0m0 15h0m1-87h0m0 10h0m0 28h0m0 1h0m0 5h0m0 4h0m0 1h0m0 1h0m0 1h0m0 1h0m0 2h0m0 6h0m0 2h0m0 1h0m0 7h0m0 13h0m0 7h0m0 25h0m0 1h0m1-131h0m0 40h0m0 13h0m0 3h0m0 1h0m0 1h0m0 2h0m0 1h0m0 2h0m0 1h0m0 1h0m0 3h0m0 2h0m0 1h0m0 1h0m0 2h0m0 1h0m0 1h0m0 3h0m1-31h0m0 2h0m0 4h0m0 4h0m0 1h0m0 4h0m0 1h0m0 2h0m0 1h0m0 2h0m0 1h0m0 1h0m0 2h0m0 2h0m0 3h0m0 2h0m0 3h0m0 3h0m0 24h0m0 34h0m1-95h0m0 5h0m0 4h0m0 1h0m0 1h0m0 3h0m0 1h0m0 1h0m0 2h0m0 2h0m0 2h0m0 1h0m0 1h0m0 4h0m0 1h0m0 6h0m0 4h0m1-37h0m0 2h0m0 2h0m0 1h0m0 3h0m0 3h0m0 3h0m0 2h0m0 3h0m0 2h0m0 2h0m0 1h0m0 3h0m0 2h0m1-30h0m0 8h0m0 1h0m0 2h0m0 1h0m0 2h0m0 2h0m0 1h0m0 1h0m0 5h0m0 1h0m0 1h0m0 2h0m0 8h0m0 2h0m0 4h0m0 2h0m1-54h0m0 8h0m0 1h0m0 5h0m0 4h0m0 4h0m0 2h0m0 3h0m0 1h0m0 2h0m0 1h0m0 2h0m0 1h0m0 3h0m0 1h0m0 1h0m0 12h0m0 5h0m0 5h0m0 39h0m1-99h0m0 8h0m0 1h0m0 2h0m0 1h0m0 3h0m0 2h0m0 1h0m0 1h0m0 1h0m0 1h0m0 3h0m0 1h0m0 2h0m0 1h0m0 1h0m0 1h0m0 2h0m0 2h0m0 1h0m0 3h0m0 7h0m0 15h0m0 11h0m0 19h0m1-99h0m0 13h0m0 12h0m0 2h0m0 3h0m0 1h0m0 1h0m0 1h0m0 2h0m0 1h0m0 1h0m0 6h0m0 7h0m0 30h0m0 17h0m1-79h0m0 1h0m0 3h0m0 7h0m0 2h0m0 1h0m0 3h0m0 3h0m0 1h0m0 2h0m0 3h0m0 1h0m0 2h0m0 1h0m0 4h0m0 1h0m0 2h0m1-35h0m0 1h0m0 6h0m0 4h0m0 3h0m0 1h0m0 3h0m0 1h0m0 2h0m0 1h0m0 2h0m0 2h0m0 3h0m0 4h0m0 2h0m0 1h0m0 2h0m0 42h0m1-90h0m0 15h0m0 3h0m0 2h0m0 8h0m0 1h0m0 1h0m0 2h0m0 1h0m0 2h0m0 1h0m0 3h0m0 18h0m1-48h0m0 5h0m0 3h0m0 1h0m0 2h0m0 1h0m0 1h0m0 1h0m0 1h0m0 2h0m0 3h0m0 2h0m0 1h0m0 1h0m0 1h0m0 1h0m0 2h0m0 1h0m0 1h0m0 4h0m0 12h0m0 9h0m0 37h0m1-143h0m0 53h0m0 2h0m0 1h0m0 2h0m0 3h0m0 2h0m0 2h0m0 1h0m0 1h0m0 1h0m0 1h0m0 1h0m0 4h0m0 1h0m0 1h0m0 1h0m0 1h0m0 2h0m0 5h0m0 3h0m1-41h0m0 13h0m0 1h0m0 1h0m0 1h0m0 3h0m0 2h0m0 1h0m0 3h0m0 1h0m0 2h0m0 1h0m0 1h0m0 4h0m0 2h0m0 1h0m0 1h0m0 37h0m0 3h0m1-87h0m0 10h0m0 5h0m0 8h0m0 3h0m0 5h0m0 1h0m0 6h0m0 3h0m0 24h0m1-59h0m0 11h0m0 4h0m0 3h0m0 1h0m0 2h0m0 9h0m0 1h0m0 1h0m0 1h0m0 1h0m0 2h0m0 3h0m1-76h0m0 56h0m0 2h0m0 4h0m0 2h0m0 1h0m0 1h0m0 2h0m0 1h0m0 1h0m0 1h0m0 2h0m0 56h0m1-96h0m0 10h0m0 3h0m0 1h0m0 9h0m0 3h0m0 2h0m0 2h0m0 2h0m0 1h0m0 1h0m0 3h0m0 1h0m0 1h0m0 1h0m0 3h0m0 4h0m0 11h0m0 36h0m1-95h0m0 5h0m0 4h0m0 3h0m0 1h0m0 9h0m0 1h0m0 1h0m0 2h0m0 1h0m0 1h0m0 1h0m0 2h0m0 4h0m0 3h0m0 1h0m0 2h0m0 2h0m0 4h0m1-28h0m0 3h0m0 1h0m0 1h0m0 1h0m0 2h0m0 3h0m0 2h0m0 1h0m0 4h0m0 2h0m0 2h0m0 1h0m0 4h0m0 2h0m0 1h0m0 4h0m0 28h0m0 34h0m1-117h0m0 16h0m0 6h0m0 3h0m0 1h0m0 1h0m0 2h0m0 1h0m0 4h0m0 2h0m0 2h0m0 2h0m0 2h0m0 2h0m0 14h0m0 4h0m1-32h0m0 1h0m0 2h0m0 1h0m0 1h0m0 1h0m0 1h0m0 1h0m0 1h0m0 2h0m0 5h0m0 1h0m0 1h0m1-59h0m0 32h0m0 5h0m0 3h0m0 3h0m0 8h0m0 1h0m0 1h0m0 4h0m0 2h0m0 2h0m0 6h0m0 24h0m0 20h0m0 4h0m1-84h0m0 2h0m0 2h0m0 6h0m0 1h0m0 2h0m0 1h0m0 1h0m0 2h0m0 2h0m0 2h0m0 1h0m0 6h0m0 3h0m0 3h0m0 1h0m1-40h0m0 10h0m0 2h0m0 2h0m0 2h0m0 1h0m0 2h0m0 11h0m0 10h0m0 1h0m0 4h0m0 1h0m1-35h0m0 3h0m0 4h0m0 1h0m0 2h0m0 8h0m0 4h0m0 3h0m0 3h0m1-69h0m0 21h0m0 15h0m0 1h0m0 2h0m0 2h0m0 3h0m0 3h0m0 1h0m0 1h0m0 2h0m0 1h0m0 17h0m0 40h0m1-77h0m0 9h0m0 3h0m0 1h0m0 2h0m0 1h0m0 4h0m0 3h0m0 1h0m0 4h0m0 1h0m0 6h0m0 5h0m1-43h0m0 2h0m0 2h0m0 4h0m0 5h0m0 1h0m0 1h0m0 1h0m0 4h0m0 1h0m0 1h0m0 1h0m0 2h0m0 2h0m0 3h0m0 2h0m0 2h0m0 4h0m0 6h0m0 5h0m0 3h0m1-76h0m0 30h0m0 2h0m0 4h0m0 1h0m0 2h0m0 2h0m0 1h0m0 1h0m0 1h0m0 2h0m0 7h0m0 3h0m0 1h0m0 3h0m0 12h0m0 6h0m0 12h0m1-66h0m0 2h0m0 4h0m0 16h0m0 2h0m0 1h0m0 1h0m0 1h0m0 1h0m0 1h0m0 3h0m0 3h0m0 21h0m1-51h0m0 6h0m0 1h0m0 2h0m0 1h0m0 3h0m0 1h0m0 1h0m0 4h0m0 8h0m0 2h0m0 1h0m0 17h0m1-51h0m0 13h0m0 2h0m0 5h0m0 1h0m0 1h0m0 2h0m0 2h0m0 1h0m0 2h0m0 2h0m0 2h0m0 4h0m0 44h0m1-83h0m0 11h0m0 2h0m0 3h0m0 2h0m0 2h0m0 1h0m0 1h0m0 1h0m0 1h0m0 1h0m0 1h0m0 12h0m0 1h0m1-53h0m0 23h0m0 1h0m0 2h0m0 3h0m0 5h0m0 2h0m0 8h0m0 3h0m0 10h0m0 5h0m0 2h0m0 2h0m1-42h0m0 5h0m0 2h0m0 2h0m0 1h0m0 6h0m0 1h0m0 2h0m0 1h0m0 3h0m0 4h0m0 1h0m0 6h0m0 5h0m1-37h0m0 4h0m0 2h0m0 1h0m0 5h0m0 2h0m0 1h0m0 2h0m0 4h0m0 3h0m0 12h0m0 1h0m0 20h0m1-73h0m0 16h0m0 1h0m0 2h0m0 3h0m0 1h0m0 3h0m0 4h0m0 4h0m0 1h0m0 1h0m0 1h0m0 3h0m0 2h0m0 2h0m0 1h0m0 4h0m0 2h0m1-70h0m0 38h0m0 2h0m0 8h0m0 1h0m0 7h0m0 6h0m0 1h0m0 2h0m0 3h0m0 2h0m1-79h0m0 44h0m0 1h0m0 7h0m0 3h0m0 4h0m0 1h0m0 4h0m0 1h0m0 1h0m0 1h0m0 10h0m0 3h0m1-37h0m0 5h0m0 2h0m0 4h0m0 2h0m0 1h0m0 2h0m0 3h0m0 1h0m0 1h0m0 3h0m0 1h0m0 1h0m0 5h0m0 6h0m0 3h0m1-56h0m0 17h0m0 6h0m0 2h0m0 1h0m0 1h0m0 1h0m0 2h0m0 1h0m0 7h0m0 2h0m0 4h0m0 4h0m0 5h0m0 17h0m1-56h0m0 6h0m0 5h0m0 1h0m0 1h0m0 4h0m0 3h0m0 2h0m0 2h0m0 1h0m0 1h0m0 6h0m0 26h0m1-57h0m0 2h0m0 7h0m0 5h0m0 4h0m0 4h0m0 6h0m1-85h0m0 51h0m0 9h0m0 3h0m0 4h0m0 3h0m0 1h0m0 2h0m0 2h0m0 8h0m0 11h0m0 2h0m0 4h0m0 12h0m1-61h0m0 11h0m0 2h0m0 3h0m0 4h0m0 5h0m0 1h0m0 1h0m0 2h0m0 3h0m0 1h0m0 11h0m1-37h0m0 9h0m0 1h0m0 1h0m0 3h0m0 2h0m0 2h0m0 2h0m0 30h0m1-62h0m0 15h0m0 1h0m0 6h0m0 5h0m0 5h0m0 6h0m0 1h0m0 7h0m0 2h0m0 1h0m0 8h0m0 4h0m1-77h0m0 28h0m0 1h0m0 3h0m0 5h0m0 4h0m0 4h0m0 2h0m0 1h0m0 3h0m1-15h0m0 1h0m0 2h0m0 2h0m0 4h0m0 1h0m0 1h0m0 3h0m0 1h0m0 1h0m0 1h0m0 1h0m0 25h0m1-41h0m0 7h0m0 9h0m0 1h0m0 8h0m0 6h0m0 3h0m1-51h0m0 11h0m0 5h0m0 2h0m0 1h0m0 2h0m0 2h0m0 4h0m0 2h0m0 3h0m0 3h0m0 2h0m0 11h0m0 3h0m1-75h0m0 12h0m0 13h0m0 5h0m0 2h0m0 5h0m0 7h0m0 3h0m0 2h0m0 1h0m0 8h0m0 12h0m1-31h0m0 7h0m0 6h0m0 3h0m0 9h0m1-21h0m0 2h0m0 1h0m0 7h0m0 10h0m0 3h0m0 12h0m1-82h0m0 60h0m0 5h0m0 2h0m1-57h0m0 20h0m0 13h0m0 6h0m0 3h0m0 3h0m0 1h0m0 1h0m0 2h0m0 1h0m0 15h0m1-36h0m0 10h0m0 7h0m0 1h0m0 10h0m1-50h0m0 21h0m0 4h0m0 3h0m0 2h0m0 5h0m0 3h0m0 1h0m0 9h0m0 9h0m1-33h0m0 2h0m0 8h0m0 6h0m0 2h0m0 4h0m0 6h0m0 12h0m1-33h0m0 3h0m0 7h0m0 5h0m0 25h0m1-55h0m0 14h0m0 2h0m0 1h0m0 3h0m0 5h0m0 3h0m0 1h0m0 15h0m1-49h0m0 11h0m0 3h0m0 9h0m0 2h0m0 3h0m0 3h0m0 4h0m0 3h0m0 11h0m1-84h0m0 40h0m0 7h0m0 4h0m0 12h0m0 4h0m0 10h0m0 5h0m0 12h0m1-48h0m0 9h0m0 4h0m0 1h0m0 6h0m0 18h0m1-41h0m0 12h0m0 1h0m0 3h0m0 9h0m0 1h0m0 16h0m1-42h0m0 14h0m0 2h0m0 3h0m0 10h0m0 14h0m1-32h0m0 12h0m0 25h0m1-42h0m0 5h0m0 6h0m0 2h0m0 4h0m0 34h0m1-54h0m0 5h0m0 2h0m0 6h0m0 2h0m0 5h0m0 1h0m0 52h0m1-60h0m0 7h0m0 14h0m1-73h0m0 41h0m0 33h0m1-25h0m0 10h0m0 10h0m0 5h0m1-30h0m0 5h0m0 4h0m0 1h0m0 1h0m0 1h0m0 6h0m0 15h0m0 2h0m1-15h0m0 2h0m0 5h0m0 7h0m0 1h0m0 2h0m1-89h0m0 58h0m0 2h0m1-7h0m0 5h0m0 6h0m0 2h0m0 22h0m0 1h0m0 3h0m1-39h0m0 13h0m0 7h0m0 2h0m1-45h0m1 11h0m0 13h0m0 8h0m0 13h0m0 14h0m0 6h0m0 2h0m1-46h0m0 10h0m0 21h0m0 12h0m0 23h0m1-83h0m0 16h0m0 12h0m0 11h0m0 22h0m1-40h0m0 5h0m0 9h0m0 13h0m0 9h0m0 4h0m1-49h0m0 11h0m0 4h0m0 9h0m0 12h0m1-19h0m0 1h0m0 2h0m0 8h0m0 1h0m0 4h0m1-18h0m0 1h0m0 2h0m0 3h0m0 15h0m0 5h0m1-28h0m0 17h0m1-12h0m0 9h0m0 8h0m1-27h0m1 2h0m0 15h0m0 22h0m1-42h0m0 18h0m1-18h0m0 23h0m0 3h0m0 4h0m0 3h0m0 1h0m1-37h0m0 13h0m0 4h0m0 1h0m0 32h0m1-29h0m0 12h0m1-37h0m0 13h0m1 8h0m0 7h0m1 4h0m2-33h0m0 35h0m0 9h0m1-18h0m0 4h0m0 1h0m0 19h0m0 9h0m1-55h0m0 14h0m0 6h0m0 5h0m0 13h0m0 7h0m0 7h0m0 8h0m1-50h0m0 7h0m0 9h0m0 11h0m1-70h0m0 48h0m0 1h0m0 5h0m0 1h0m0 21h0m1-31h0m0 2h0m0 6h0m0 5h0m2-3h0m0 1h0m0 8h0m1-24h0m0 28h0m0 8h0m1-35h0m1 28h0m1-15h0m1 23h0m1-24h0m2-22h0m0 28h0" stroke="#1c86ee"/>
<path d="M1003 1353h0m25-18h0m56 7h0m0 22h0m3-16h0m4 5h0m1-1h0m1-19h0m23 32h0m5-7h0m3-9h0m3-4h0m6 14h0m6-7h0m2 12h0m3-13h0m24-5h0m3 8h0m2-10h0m5 14h0m8 7h0m1-5h0m4 2h0m2 6h0m5-15h0m3-13h0m0 12h0m3 15h0m5-24h0m7 14h0m1-2h0m2-8h0m4 3h0m0 4h0m3 8h0m24-3h0m23 17h0m1-32h0m4-13h0m2 10h0m6-8h0m8 32h0m8-17h0m0 20h0m3-1h0m0 20h0m7-56h0m0 57h0m2-50h0m1 48h0m1-17h0m1-16h0m2 25h0m2-8h0m1-26h0m3-2h0m0 17h0m7-15h0m0 45h0m0 3h0m2-39h0m0 16h0m1-2h0m1 6h0m1 5h0m3-20h0m0 1h0m3 4h0m1 26h0m1-20h0m3 7h0m3-9h0m3 39h0m2-47h0m1 9h0m0 47h0m1-34h0m0 18h0m3-34h0m1 17h0m2-16h0m0 8h0m2-2h0m0 66h0m3-61h0m2-4h0m1 18h0m2-19h0m0 14h0m7-20h0m0 32h0m0 16h0m1-42h0m0 10h0m0 24h0m3 1h0m0 27h0m2-65h0m3-11h0m1 13h0m0 32h0m0 27h0m4-54h0m0 17h0m0 15h0m1-24h0m2-8h0m2 67h0m3-70h0m0 3h0m0 8h0m0 31h0m1-38h0m4 34h0m1 56h0m1-13h0m1-70h0m1 14h0m1-4h0m2 30h0m0 20h0m1 6h0m1-64h0m3 144h0m2-151h0m0 4h0m2 3h0m0 22h0m0 25h0m2-19h0m0 24h0m0 8h0m1-13h0m0 13h0m1-42h0m0 6h0m1-17h0m1 11h0m1 66h0m3-12h0m3-29h0m0 4h0m2 38h0m1-79h0m1 57h0m2-34h0m2 8h0m1-35h0m3-19h0m1 57h0m2-51h0m0 51h0m0 11h0m0 7h0m1-9h0m0 15h0m2-67h0m4 26h0m2 19h0m0 27h0m1-37h0m0 16h0m1-18h0m2-37h0m0 84h0m3-13h0m1-52h0m1 59h0m1 1h0m2-6h0m1-9h0m1-65h0m2 69h0m0 9h0m2-26h0m1 35h0m4-44h0m1-29h0m0 64h0m1-27h0m0 13h0m5-28h0m0 33h0m3-7h0m0 25h0m3-2h0m1-16h0m1 18h0m1 3h0m1-3h0m2 1h0m2-35h0m3-1h0m2-26h0m5 6h0m1 53h0m3-53h0m1-15h0m1 15h0m2 28h0m4-12h0m7-32h0m1 16h0m2 1h0m3-35h0" stroke="#ee9a00"/></g>
<g fill="none" stroke-width="5" stroke-linecap="round"><path d="M144.2 332.7Q487.8 383.8 831.3 322.3" stroke="#8b5a00"/><path d="M166 390.3L656.3 329.7" stroke="#104e8b"/><path d="M934.9 266.2L1425.4 198.7" stroke="#104e8b"/><path d="M913 321.5L1600.4 213.9" stroke="#8b5a00"/><path d="M167.2 913.2L833.6 905.4" stroke="#8b5a00"/><path d="M455.1 968L742.2 890.2" stroke="#104e8b"/><path d="M936.1 905.3L1602.7 775.6" stroke="#8b5a00"/><path d="M1224 843.1L1511.5 760.9" stroke="#104e8b"/><path d="M147.6 1453.3L815.2 1476.6" stroke="#8b5a00"/><path d="M500.4 1438.9L828.6 1511.9" stroke="#104e8b"/><path d="M916.6 1290L1584.7 1441.6" stroke="#8b5a00"/><path d="M1269.2 1312.8L1598.1 1384.2" stroke="#104e8b"/></g>
<g><path d="M116.5 63.6V491.4H864.6" fill="none" stroke="#000" stroke-width="2.5" stroke-linejoin="miter"/>
<path d="M115.2 420.6h-4.4M115.2 339.7h-4.4M115.2 258.8h-4.4M115.2 177.8h-4.4M115.2 96.9h-4.4M265.6 492.6v4.4M455.6 492.6v4.4M645.6 492.6v4.4M835.6 492.6v4.4" fill="none" stroke="#000" stroke-width="1.7"/>
<path d="M885.4 63.6V491.4H1633.5" fill="none" stroke="#000" stroke-width="2.5" stroke-linejoin="miter"/>
<path d="M884.1 420.6h-4.4M884.1 339.7h-4.4M884.1 258.8h-4.4M884.1 177.8h-4.4M884.1 96.9h-4.4M1034.5 492.6v4.4M1224.5 492.6v4.4M1414.5 492.6v4.4M1604.5 492.6v4.4" fill="none" stroke="#000" stroke-width="1.7"/>
<path d="M116.5 623.8V1051.6H864.6" fill="none" stroke="#000" stroke-width="2.5" stroke-linejoin="miter"/>
<path d="M115.2 980.8h-4.4M115.2 899.9h-4.4M115.2 819h-4.4M115.2 738h-4.4M115.2 657.1h-4.4M184.9 1052.8v4.4M320.4 1052.8v4.4M455.9 1052.8v4.4M591.4 1052.8v4.4M726.9 1052.8v4.4M862.4 1052.8v4.4" fill="none" stroke="#000" stroke-width="1.7"/>
<path d="M885.4 623.8V1051.6H1633.5" fill="none" stroke="#000" stroke-width="2.5" stroke-linejoin="miter"/>
<path d="M884.1 980.8h-4.4M884.1 899.9h-4.4M884.1 819h-4.4M884.1 738h-4.4M884.1 657.1h-4.4M953.8 1052.8v4.4M1089.3 1052.8v4.4M1224.8 1052.8v4.4M1360.3 1052.8v4.4M1495.8 1052.8v4.4M1631.3 1052.8v4.4" fill="none" stroke="#000" stroke-width="1.7"/>
<path d="M116.5 1184.4V1612.2H864.6" fill="none" stroke="#000" stroke-width="2.5" stroke-linejoin="miter"/>
<path d="M115.2 1541.4h-4.4M115.2 1460.5h-4.4M115.2 1379.5h-4.4M115.2 1298.6h-4.4M115.2 1217.7h-4.4M200.4 1613.4v4.4M341.5 1613.4v4.4M482.6 1613.4v4.4M623.7 1613.4v4.4M764.8 1613.4v4.4" fill="none" stroke="#000" stroke-width="1.7"/>
<path d="M885.4 1184.4V1612.2H1633.5" fill="none" stroke="#000" stroke-width="2.5" stroke-linejoin="miter"/>
<path d="M884.1 1541.4h-4.4M884.1 1460.5h-4.4M884.1 1379.5h-4.4M884.1 1298.6h-4.4M884.1 1217.7h-4.4M969.3 1613.4v4.4M1110.4 1613.4v4.4M1251.5 1613.4v4.4M1392.6 1613.4v4.4M1533.7 1613.4v4.4" fill="none" stroke="#000" stroke-width="1.7"/></g>
<g><text transform="translate(108.1 429.6) scale(1 1.04)" font-size="27.2" text-anchor="end">75</text>
<text transform="translate(108.1 348.68) scale(1 1.04)" font-size="27.2" text-anchor="end">100</text>
<text transform="translate(108.1 267.75) scale(1 1.04)" font-size="27.2" text-anchor="end">125</text>
<text transform="translate(108.1 186.83) scale(1 1.04)" font-size="27.2" text-anchor="end">150</text>
<text transform="translate(108.1 105.9) scale(1 1.04)" font-size="27.2" text-anchor="end">175</text>
<text transform="translate(265.6 526) scale(1 1.04)" font-size="27.2" text-anchor="middle">100</text>
<text transform="translate(455.6 526) scale(1 1.04)" font-size="27.2" text-anchor="middle">150</text>
<text transform="translate(645.6 526) scale(1 1.04)" font-size="27.2" text-anchor="middle">200</text>
<text transform="translate(835.6 526) scale(1 1.04)" font-size="27.2" text-anchor="middle">250</text>
<text transform="translate(1034.5 526) scale(1 1.04)" font-size="27.2" text-anchor="middle">100</text>
<text transform="translate(1224.5 526) scale(1 1.04)" font-size="27.2" text-anchor="middle">150</text>
<text transform="translate(1414.5 526) scale(1 1.04)" font-size="27.2" text-anchor="middle">200</text>
<text transform="translate(1604.5 526) scale(1 1.04)" font-size="27.2" text-anchor="middle">250</text>
<text transform="translate(108.1 989.8) scale(1 1.04)" font-size="27.2" text-anchor="end">75</text>
<text transform="translate(108.1 908.88) scale(1 1.04)" font-size="27.2" text-anchor="end">100</text>
<text transform="translate(108.1 827.95) scale(1 1.04)" font-size="27.2" text-anchor="end">125</text>
<text transform="translate(108.1 747.03) scale(1 1.04)" font-size="27.2" text-anchor="end">150</text>
<text transform="translate(108.1 666.1) scale(1 1.04)" font-size="27.2" text-anchor="end">175</text>
<text transform="translate(184.9 1086.2) scale(1 1.04)" font-size="27.2" text-anchor="middle">−25</text>
<text transform="translate(320.4 1086.2) scale(1 1.04)" font-size="27.2" text-anchor="middle">−15</text>
<text transform="translate(455.9 1086.2) scale(1 1.04)" font-size="27.2" text-anchor="middle">−5</text>
<text transform="translate(591.4 1086.2) scale(1 1.04)" font-size="27.2" text-anchor="middle">5</text>
<text transform="translate(726.9 1086.2) scale(1 1.04)" font-size="27.2" text-anchor="middle">15</text>
<text transform="translate(862.4 1086.2) scale(1 1.04)" font-size="27.2" text-anchor="middle">25</text>
<text transform="translate(953.8 1086.2) scale(1 1.04)" font-size="27.2" text-anchor="middle">−25</text>
<text transform="translate(1089.3 1086.2) scale(1 1.04)" font-size="27.2" text-anchor="middle">−15</text>
<text transform="translate(1224.8 1086.2) scale(1 1.04)" font-size="27.2" text-anchor="middle">−5</text>
<text transform="translate(1360.3 1086.2) scale(1 1.04)" font-size="27.2" text-anchor="middle">5</text>
<text transform="translate(1495.8 1086.2) scale(1 1.04)" font-size="27.2" text-anchor="middle">15</text>
<text transform="translate(1631.3 1086.2) scale(1 1.04)" font-size="27.2" text-anchor="middle">25</text>
<text transform="translate(108.1 1550.4) scale(1 1.04)" font-size="27.2" text-anchor="end">75</text>
<text transform="translate(108.1 1469.47) scale(1 1.04)" font-size="27.2" text-anchor="end">100</text>
<text transform="translate(108.1 1388.55) scale(1 1.04)" font-size="27.2" text-anchor="end">125</text>
<text transform="translate(108.1 1307.62) scale(1 1.04)" font-size="27.2" text-anchor="end">150</text>
<text transform="translate(108.1 1226.7) scale(1 1.04)" font-size="27.2" text-anchor="end">175</text>
<text transform="translate(200.4 1646.8) scale(1 1.04)" font-size="27.2" text-anchor="middle">40</text>
<text transform="translate(341.5 1646.8) scale(1 1.04)" font-size="27.2" text-anchor="middle">50</text>
<text transform="translate(482.6 1646.8) scale(1 1.04)" font-size="27.2" text-anchor="middle">60</text>
<text transform="translate(623.7 1646.8) scale(1 1.04)" font-size="27.2" text-anchor="middle">70</text>
<text transform="translate(764.8 1646.8) scale(1 1.04)" font-size="27.2" text-anchor="middle">80</text>
<text transform="translate(969.3 1646.8) scale(1 1.04)" font-size="27.2" text-anchor="middle">40</text>
<text transform="translate(1110.4 1646.8) scale(1 1.04)" font-size="27.2" text-anchor="middle">50</text>
<text transform="translate(1251.5 1646.8) scale(1 1.04)" font-size="27.2" text-anchor="middle">60</text>
<text transform="translate(1392.6 1646.8) scale(1 1.04)" font-size="27.2" text-anchor="middle">70</text>
<text transform="translate(1533.7 1646.8) scale(1 1.04)" font-size="27.2" text-anchor="middle">80</text></g>
<text transform="translate(880.2 567.6) scale(1 0.99)" text-anchor="middle" font-size="34.8">Insolation (Wm<tspan dy="-13.4" font-size="17.2">-2</tspan><tspan dy="13.4" font-size="34.8">)</tspan></text>
<text transform="translate(884.8 1127.4) scale(1 0.99)" font-size="34.8" text-anchor="middle">Temperature (°C)</text>
<text transform="translate(884.8 1690.2) scale(1 0.99)" font-size="34.8" text-anchor="middle">Humidity (%)</text>
<text transform="translate(34.8 835) rotate(-90) scale(1 1.01)" font-size="41.7" text-anchor="middle">Colour lightness</text>
<text transform="translate(107.3 625.3) scale(1 1.0)" font-size="31.2" text-anchor="end">Light</text>
<text transform="translate(105.8 1045.2) scale(1 1.0)" font-size="30.8" text-anchor="end">Dark</text>
<text transform="translate(517.7 119.8) scale(1 1.0)" font-size="27.6" text-anchor="middle">Dorsal</text>
<text transform="translate(1260.2 119.8) scale(1 1.0)" font-size="27.6" text-anchor="middle">Ventral</text>
<rect x="181.5" y="105.1" width="16.4" height="16.4" fill="#ee9a00"/><rect x="181.5" y="144" width="16.4" height="16.4" fill="#1c86ee"/>
<text transform="translate(219.8 119.7) scale(1 1.02)" font-size="28">North America</text>
<text transform="translate(219.8 158.8) scale(1 1.02)" font-size="28">Europe</text>
<g transform="translate(440 0) scale(0.09697)" stroke="#5a5a5a" stroke-width="6" stroke-linejoin="round" stroke-linecap="round">
<path d="M775 532C740 480 660 400 560 335C470 278 390 232 345 228C310 226 296 258 299 300C303 350 335 430 365 510C380 555 400 598 450 604C540 600 700 588 772 578Z" fill="#e6e6e6"/><path d="M775 532C740 480 660 400 560 335C470 278 390 232 345 228C310 226 296 258 299 300C303 350 335 430 365 510C380 555 400 598 450 604C540 600 700 588 772 578Z" fill="#e6e6e6" transform="translate(1600 0) scale(-1 1)"/>
<path d="M772 580C690 588 560 592 500 604C440 622 410 680 414 740C420 810 470 890 540 915C600 935 670 915 710 860C745 810 770 740 786 690Z" fill="#e6e6e6"/><path d="M772 580C690 588 560 592 500 604C440 622 410 680 414 740C420 810 470 890 540 915C600 935 670 915 710 860C745 810 770 740 786 690Z" fill="#e6e6e6" transform="translate(1600 0) scale(-1 1)"/>
<path d="M800 508C775 520 766 570 768 610C770 650 780 680 783 720C785 780 788 830 800 862C812 830 815 780 817 720C820 680 830 650 832 610C834 570 825 520 800 508Z" fill="#b9b9b9"/>
<path d="M790 512C765 455 735 395 705 352M810 512C835 455 865 395 895 352" fill="none" stroke="#333" stroke-width="5"/>
<path d="M716 368L698 345M884 368L902 345" fill="none" stroke="#222" stroke-width="11"/>
<path d="M782 540C780 520 790 510 800 508C810 510 820 520 818 540" fill="#333" stroke="#222" stroke-width="8"/>
</g>
<g transform="translate(1180 0) scale(0.09697)" stroke="#5a5a5a" stroke-width="6" stroke-linejoin="round" stroke-linecap="round">
<path d="M572 702C530 650 460 610 395 588" fill="none" stroke="#4a4a4a" stroke-width="8"/>
<path d="M402 590L378 590" fill="none" stroke="#666" stroke-width="13"/>
<path d="M588 785C575 830 560 865 535 890M695 828C715 860 740 880 755 893" fill="none" stroke="#4a4a4a" stroke-width="9"/>
<path d="M540 888L532 896M750 888L758 897" fill="none" stroke="#666" stroke-width="12"/>
<path d="M600 706C620 700 635 700 642 706C645 750 665 800 700 832C680 845 650 842 630 828C600 805 585 780 572 755C585 740 590 720 600 706Z" fill="#b4b4b4" stroke="#888"/>
<path d="M545 728C545 708 565 698 585 704C600 712 600 740 590 758C570 770 548 750 545 728Z" fill="#c4c4c4" stroke="#888"/>
<ellipse cx="566" cy="722" rx="12" ry="13" fill="#111" stroke="none"/>
<path d="M622 700C590 620 568 500 572 400C576 290 600 180 650 90C680 40 730 30 762 65C790 100 792 150 808 200C830 260 880 300 910 350C935 400 925 450 895 492C800 540 700 610 640 690Z" fill="#e6e6e6"/>
<path d="M640 692C700 615 800 540 895 495C950 480 1020 485 1065 515C1110 560 1150 620 1152 690C1150 770 1110 850 1065 900C1030 930 990 925 940 912C860 892 780 865 720 835C680 810 650 760 640 692Z" fill="#e6e6e6"/>
</g>
</svg>
</body></html>
